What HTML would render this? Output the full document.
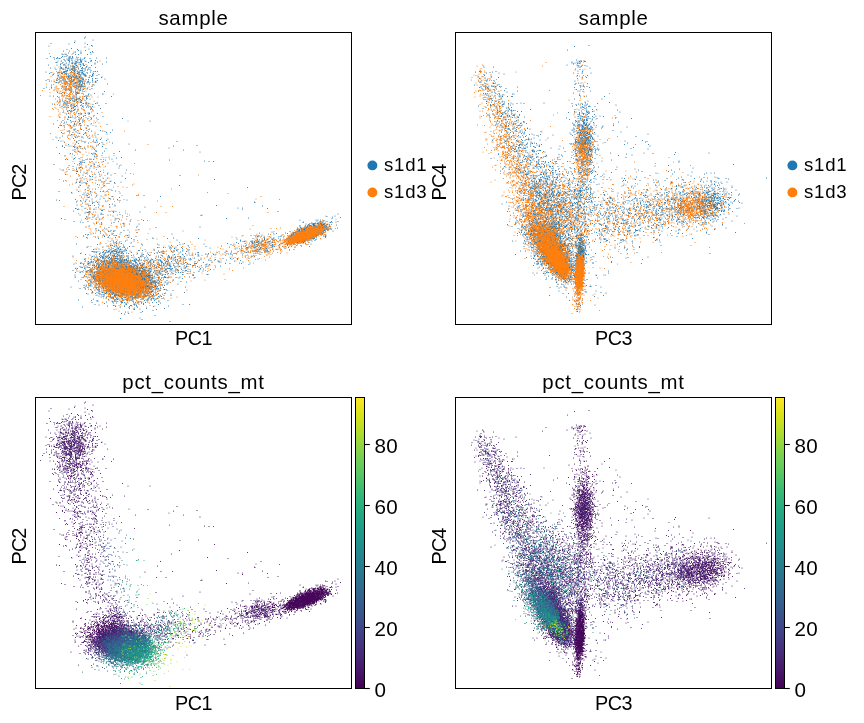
<!DOCTYPE html><html><head><meta charset="utf-8"><title>pca</title><style>
html,body{margin:0;padding:0;background:#fff}
body{width:864px;height:723px;position:relative;overflow:hidden;font-family:"Liberation Sans",sans-serif;color:#000}
svg{position:absolute;left:0;top:0}
#tx{position:absolute;left:0;top:0;width:864px;height:723px;will-change:transform}
.t{position:absolute;white-space:nowrap;line-height:1;font-size:20.4px}
.ttl{text-align:center;width:317px;letter-spacing:.75px}
.xl{text-align:center;width:317px;font-size:19.8px;letter-spacing:-.5px}
.yl{font-size:19.8px;letter-spacing:-.9px;transform-origin:0 0;transform:rotate(-90deg);text-align:center;width:293px}
.lg{font-size:18.6px;letter-spacing:.75px}
.tk{font-size:20.6px;letter-spacing:.35px}
</style></head><body>
<svg width="864" height="723" viewBox="0 0 864 723">
<defs><linearGradient id="vg" x1="0" y1="0" x2="0" y2="1"><stop offset="0.000" stop-color="#fde725"/><stop offset="0.062" stop-color="#d8e219"/><stop offset="0.125" stop-color="#addc30"/><stop offset="0.188" stop-color="#81d34d"/><stop offset="0.250" stop-color="#5ec962"/><stop offset="0.312" stop-color="#3fbc73"/><stop offset="0.375" stop-color="#28ae80"/><stop offset="0.438" stop-color="#1fa088"/><stop offset="0.500" stop-color="#21918c"/><stop offset="0.562" stop-color="#26828e"/><stop offset="0.625" stop-color="#2c728e"/><stop offset="0.688" stop-color="#33638d"/><stop offset="0.750" stop-color="#3b528b"/><stop offset="0.812" stop-color="#424086"/><stop offset="0.875" stop-color="#472d7b"/><stop offset="0.938" stop-color="#48186a"/><stop offset="1.000" stop-color="#440154"/></linearGradient></defs>
<g transform="scale(.5)" fill="none" stroke-width="2.3" stroke-linecap="round">
<path stroke="#1f77b4" d="M171 74zm-2 2zm-67 11zm47-2zm1-3zm20 4zm16-6zm-1 12zm-2-1zm0 0zm-8-2zm-5 5zm-32-6zm-40 4zm29 10zm7-3zm5 3zm4-5zm12 2zm2 2zm5 1zm9-1zm7-3zm7 5zm1 2zm-4 3zm-1-3zm-6 4zm-13-2zm0-2zm-5 4zm-6-5zm0 5zm-3-5zm-2 3zm-9-1zm-5 3zm-2-1zm-4 1zm-2-1zm-30 9zm7-4zm7 2zm1 3zm4-1zm2-2zm1 2zm3 0zm1 0zm3-2zm2-2zm3 6zm2-6zm3-1zm1 6zm4-1zm0-3zm0 5zm0-3zm1 0zm1-3zm1 1zm1 3zm2 1zm1-5zm0 2zm1 1zm6 2zm1-4zm2 4zm1-3zm2 4zm3-3zm0 3zm5-1zm3-1zm1-2zm10 2zm13-1zm20 0zm0 8zm-18 0zm-4-3zm-1 5zm-7-5zm0 1zm-2 0zm-4 3zm-5-2zm-2-1zm-4 5zm-2-7zm-1 2zm0 2zm0-2zm-1 3zm0-2zm-1-2zm0 1zm-1 4zm-2-1zm0 0zm-2-3zm-3 1zm0 3zm-1-2zm-1 3zm0-3zm-1-2zm0 4zm-4 0zm-1 1zm0-3zm-1-3zm-1 5zm-4-2zm0-1zm0-3zm-1 1zm-1 0zm-1-1zm-3 6zm-2-4zm-2-2zm-3 5zm-1 1zm-2-4zm-1 5zm-6-5zm-2 3zm-2 0zm-15 5zm17 0zm7-1zm0 3zm2 3zm4-5zm1-1zm2 2zm0-3zm1 7zm1-2zm1 2zm4-5zm1-2zm3 4zm1 0zm3 1zm1 1zm1-2zm1 3zm0-1zm0 1zm1 0zm0-2zm0-5zm2 2zm1 4zm0-6zm1 7zm0-4zm1 0zm2 3zm4-5zm1 0zm0 4zm1-3zm3 5zm1-6zm1 2zm0-3zm2 3zm4 3zm0-1zm1-1zm6 3zm3-4zm7-3zm1 7zm14-7zm-10 15zm-4 0zm-3 0zm-6-2zm-2-3zm-3-2zm-1 3zm-1 1zm-4 0zm0-4zm-1 4zm-2-3zm0 6zm-3-5zm0 3zm-1-5zm0 5zm-1 0zm0-4zm-2 4zm-2 1zm-2-5zm0 1zm-2 5zm0-1zm-3-3zm0 3zm-2-4zm0 3zm0-4zm0 1zm-1 5zm0-1zm0-4zm-1-1zm0 4zm-1 0zm0-1zm-1-3zm-1 3zm0-1zm-1-2zm-1 6zm0-4zm0 4zm-2-3zm-1-4zm-1 4zm-2-4zm-1 1zm-1 3zm0 1zm0 0zm-1 2zm0-7zm-1 6zm-1-1zm-1 2zm0-5zm-2 5zm-1-5zm0 5zm-2-4zm-2-2zm-2 0zm-2 1zm-8 1zm-2-3zm-9 0zm-9 8zm7 3zm3-2zm3 5zm2-1zm8-3zm0 0zm1 5zm0-1zm0-5zm1 6zm1-5zm0-2zm2 0zm3 3zm0-3zm0 3zm1 0zm1 0zm1-2zm2 0zm1 1zm1-2zm1 3zm2 2zm0-3zm1 1zm3 1zm3-2zm1-1zm1 5zm0-1zm3 2zm0 0zm0-6zm2 1zm2 4zm0-3zm1 3zm0-4zm0-1zm3 6zm1-4zm1 0zm0-1zm2-2zm0 4zm1 1zm0-2zm0 1zm0-3zm1 3zm0 0zm0-3zm2 5zm1-1zm0-5zm1 2zm2-2zm0 2zm1 0zm0 2zm1-1zm1 2zm0 1zm0 0zm2-1zm0 2zm0-3zm1 3zm1 0zm2-6zm1 1zm5 5zm1-7zm4 7zm0-2zm1-3zm1 4zm0-3zm7 4zm4-2zm12 9zm-6-4zm-1 1zm-9 2zm0 0zm-3 0zm-6 1zm0-1zm-1-4zm-1 0zm-4 1zm-1 1zm-1 4zm-5-6zm0 6zm-1-7zm-4 7zm0-1zm-1-2zm-1 2zm-1 1zm0-4zm-1 1zm-1-4zm-1 4zm-1-3zm-1 1zm0 1zm-1-3zm-1 4zm-1 1zm-1 0zm-1 1zm0-5zm0 4zm0-3zm-1-1zm-1 2zm0 3zm0-6zm-2 4zm0-2zm-1 0zm0 2zm0 3zm-1-4zm-1-2zm0 6zm-1-5zm-1-2zm0 0zm-2 7zm0-5zm0 1zm0 2zm-1-4zm-1 4zm-1-3zm0 2zm-2-3zm-1 2zm0-2zm-1 5zm-1-1zm-2-3zm0-2zm0 1zm-4 1zm-1-2zm-1 6zm-1-2zm-3-2zm-1-2zm-1 4zm-2 0zm-1-4zm-2 2zm-1 3zm-19 2zm-4 2zm20 4zm1-4zm1 4zm0-4zm3 5zm1-1zm1-3zm3-1zm0 3zm1 0zm2-4zm3 3zm1-3zm1 5zm1-5zm2 3zm1 2zm4-3zm1 0zm1 0zm0 4zm0-3zm1-2zm2 4zm0-2zm1-3zm0 2zm0 1zm1 0zm2-1zm0-1zm1 1zm1 4zm1 0zm0 1zm1-2zm1 1zm0-1zm1 0zm1 1zm1-2zm1-4zm1 0zm0 4zm1-1zm0-1zm0-2zm0 4zm1-4zm0 7zm0-3zm1-2zm1 4zm0-5zm0 3zm0-1zm2-1zm1-2zm1 5zm0 1zm0-3zm1-1zm3 4zm1-3zm4 3zm1-2zm2-2zm0 2zm3 1zm5-4zm0 3zm6-1zm0 1zm1 1zm0-3zm3-1zm20 7zm-27 2zm-2-1zm-2 4zm-5-5zm-9 5zm0-1zm-1-4zm-1 4zm-2 1zm-1-3zm-1 3zm0-4zm-1 2zm0-2zm-1 6zm0-2zm-2 0zm0-4zm0 4zm-1-5zm0 2zm-1 5zm0-2zm-1 2zm0-3zm0 1zm-1-4zm-1 3zm0 0zm-1 0zm-1-2zm-1 5zm0-3zm0 2zm-2 1zm-2-3zm0-3zm-1 4zm-3-4zm-3 4zm-5-5zm0 0zm-3 5zm-2-4zm-1 5zm0-6zm-6 5zm-21-3zm0 4zm-10 0zm-5 3zm15-1zm7 2zm6 0zm13 0zm2 2zm1-2zm0 3zm4-1zm1-2zm1-1zm1 4zm3-3zm0 3zm0-4zm1-1zm1 6zm7 1zm2-7zm1 2zm2-2zm2 3zm1 1zm2 1zm0-4zm4 5zm1-3zm1-1zm7 0zm1-2zm5 3zm4-2zm25 6zm-3 5zm-1 0zm-16-1zm-7 3zm-5 0zm0-1zm-3 2zm-7-3zm-3-1zm-7-1zm-1 1zm-1-3zm0 2zm0-2zm-1 3zm-1 2zm0-4zm-6-1zm-4 0zm-2 0zm-9 0zm-2 6zm-1-3zm-4-2zm-2 2zm-3 0zm-5-2zm-15 7zm7 0zm8 1zm4 5zm13-1zm5 1zm0 0zm1 0zm3-1zm2 1zm1-1zm2-1zm0-2zm0-2zm3 6zm1-6zm2 3zm0 4zm1-7zm0 6zm1 0zm0-1zm0-1zm0 3zm3-2zm1 2zm1-2zm1-2zm1 4zm4-1zm1-4zm3-1zm2-1zm2 3zm0 2zm1-5zm0 1zm6 5zm43-5zm-11 14zm-17-1zm-1 0zm-3 1zm-13 0zm-2-1zm-3 0zm0 0zm-1-2zm-2-3zm-3 6zm-1 0zm-3-2zm0-4zm-1-1zm0 3zm-1 2zm-3-1zm0-4zm-3 3zm-1 0zm-1-2zm0 0zm-3 5zm0-5zm-1 2zm-1-1zm0 0zm-1 0zm-2-2zm-4 1zm-2-1zm-1 7zm-3-1zm0-3zm-1 1zm-2 3zm-2-5zm0 3zm-2 2zm0-3zm-3-4zm-5 4zm-1-2zm-4 0zm-10 6zm15 0zm4 5zm3-3zm1 5zm2-2zm1-5zm1 0zm1 2zm1 5zm3 0zm4-5zm1 3zm1-4zm1 2zm2-3zm0 6zm1-6zm0 0zm1 6zm0 0zm1-1zm0-1zm2 1zm2-2zm2 1zm6-1zm4 2zm2 1zm6 0zm0-6zm3 3zm1 3zm3-1zm5 0zm1-4zm12 2zm3 6zm-15 5zm-3-5zm-1-1zm-1 3zm-13 2zm-5-5zm-7 3zm-1 3zm-4-4zm-2 2zm0-1zm-2-3zm0 5zm-3 1zm-1-5zm0-1zm-1 4zm-1 3zm-2-2zm-3 0zm-1 2zm-2-5zm-6 4zm-1 3zm7 3zm4-1zm13 2zm3-5zm4 3zm1 3zm0-3zm4 2zm1-2zm7-1zm1 5zm0-4zm5-1zm1 0zm1 3zm1-2zm0-1zm16 1zm50 10zm-39-4zm-10 6zm-3-3zm-6-4zm-4 5zm-1 2zm0-4zm0 4zm-6-2zm-9-4zm-4 2zm0 1zm-3 2zm-2 0zm0-3zm-3-2zm-5 3zm-5-4zm-3 3zm-2 0zm-3-2zm0 2zm-1 4zm-1-1zm-15-3zm3 9zm3-3zm2 6zm1-3zm4 0zm8-3zm1 3zm1 0zm3-1zm3 4zm2-4zm5 1zm3-3zm0 2zm0 4zm2 0zm4-7zm0 4zm2-2zm133 0zm-86 7zm-22 3zm-10-4zm-6 4zm-15-1zm0 3zm-2-6zm-6 2zm-4-1zm-1 3zm-4 3zm-3-4zm-3 0zm-9 3zm-1-3zm-5 0zm-3 0zm-3 4zm-10-7zm29 15zm2-2zm5-5zm5 2zm0 2zm1 0zm2-2zm4 3zm6-3zm2 1zm10-2zm1 4zm5-3zm4 4zm18-1zm9 2zm15-3zm-4 5zm-7 3zm-1-3zm-17 4zm-6 1zm-17 1zm-2-6zm0 1zm-4 3zm-8-2zm-3-1zm0 0zm-4-2zm-6 1zm-2 4zm-1 0zm-17-2zm-3-2zm-11 9zm13-2zm10 2zm5 4zm7-1zm3-4zm1 2zm3-1zm1 0zm3-1zm5 1zm2 0zm10 0zm3 3zm2-1zm14 2zm7 1zm2-3zm13 2zm138 5zm-129 3zm-12-5zm-9 4zm-5 2zm-4-3zm-2-3zm-1 3zm-2 1zm-3-5zm-1 3zm-9 3zm-6-2zm-2 0zm-3-1zm-8-2zm-1 6zm-4-4zm0 2zm-4-4zm-20 4zm-7-3zm-5-1zm8 12zm4 2zm8-6zm3 3zm7 1zm2 2zm0 0zm0-3zm2-4zm4 7zm4-3zm1 2zm1-1zm0 0zm23-1zm9 0zm4-3zm8 4zm1-5zm52 0zm89 4zm47-1zm-27 9zm-29-4zm-67 4zm-32 3zm-27-6zm-3 5zm-16 0zm-1 1zm-3-4zm-2-3zm-16 2zm-2-2zm-7 1zm0 0zm-4 6zm-1 0zm-3-6zm-4 2zm0 3zm-4-2zm-27 7zm22 0zm4 1zm15-3zm23 2zm2 1zm3 0zm0-2zm0 0zm3 1zm1 2zm13-3zm23 1zm172-3zm-157 11zm-10 1zm-9 2zm-6-4zm-16 5zm-7-7zm-2 0zm-3 2zm-1-2zm-2 7zm-5 0zm0-1zm-3 0zm-4 0zm-3 1zm-14-2zm-9 0zm-2 1zm-12 1zm-4 0zm-1-7zm29 15zm1-4zm1 1zm1 1zm3-5zm1 5zm2-4zm1 4zm10-1zm5-1zm8 1zm12 0zm3-1zm4-3zm5 6zm123-6zm70 2zm9 1zm9 0zm-185 7zm-3 2zm-5-4zm-35 5zm-3 1zm0-3zm-7-3zm-1 1zm0 3zm-6 1zm-10-1zm-10-3zm-1 6zm-2-5zm-13 3zm-8-2zm-2 4zm-28-6zm16 11zm3 0zm11-1zm8 2zm7-5zm0 3zm0 4zm2-1zm0 1zm4-7zm3 4zm3-4zm15 0zm8 0zm5 3zm8 4zm37-7zm15 4zm107 11zm-130-4zm-8 3zm-6-4zm-1 2zm-16 0zm-2-4zm-7 5zm-16-4zm-8 5zm-5-6zm-8 3zm-22 2zm0 0zm23 10zm4-7zm4 4zm6 2zm12 0zm0-5zm1 0zm4 0zm0 6zm15-6zm15 3zm29-4zm7 5zm178 2zm-187 5zm-12 3zm-1-2zm-7-3zm-2 1zm-2 4zm-4 0zm-2-7zm-5 6zm-6-6zm-1 0zm-8 1zm-17 2zm-1 4zm0 0zm-1-1zm-2 0zm-3-1zm-4 1zm-2-6zm-2 5zm0-2zm-1 2zm-6 0zm-26-3zm31 12zm2-4zm1 1zm15 3zm2-3zm17-2zm4 1zm5 5zm3-3zm2-1zm150 0zm136 4zm-264 7zm-7-1zm-6-2zm-3 3zm-8 0zm-1 1zm-5 0zm-10-5zm-10 5zm-5-7zm-5 3zm-14 4zm-3-3zm-36 3zm25 2zm1 1zm22 3zm2-3zm2 4zm3 0zm2 1zm3-2zm3-3zm2 4zm1-6zm0 0zm6 0zm2 3zm2 3zm16 0zm30-4zm36 5zm12 0zm33 2zm-82 2zm-4 4zm-8-1zm-2-5zm-1 0zm-3 5zm-2-1zm-11 0zm-6-5zm-2 6zm-7-6zm-9 6zm-5-4zm-2 1zm-14-1zm-12 5zm-38 1zm6 1zm34 3zm8-3zm4 5zm6-3zm1-3zm7 2zm6 5zm0-3zm3 1zm7 0zm0 0zm3-1zm13-2zm29-1zm14-1zm255 4zm1 1zm15 7zm-92-1zm-143 3zm-60-2zm0-2zm-5-2zm-5 6zm-1 0zm0-5zm-13 3zm0-1zm-9 3zm0-6zm-8 3zm-8 0zm-3 0zm-2-3zm-4 0zm0 0zm-8 5zm-10-3zm-7 12zm4-5zm1 0zm3 2zm2-1zm13-1zm8 6zm1-7zm1 7zm0-4zm0 4zm8-4zm0-1zm15 3zm2 0zm3-2zm12 4zm6 0zm2-1zm4 1zm244-7zm9 0zm50 1zm21 6zm120 5zm-272 2zm-2 1zm-122-7zm-40 5zm-13-4zm-11 5zm-10-1zm-4 0zm0-3zm-22-2zm-2 5zm-1-4zm-2 0zm-1 0zm-4 1zm-10 4zm-37 7zm7 2zm41-2zm2-4zm1 6zm2-5zm10 0zm3-2zm7 2zm3 4zm3 0zm4-3zm20-3zm6 5zm0 1zm4-1zm18-4zm199 4zm44-1zm157-3zm10 4zm0 0zm1-3zm5-2zm11 3zm-5 8zm-4 1zm-8 1zm-1-2zm-2 2zm-1 0zm-6-2zm-3 3zm-2 1zm-1-6zm-2 3zm0-2zm-2 3zm0 0zm-1 2zm-1 0zm0-4zm-1-3zm0 6zm-1-3zm0 4zm-2-2zm-1 2zm-1-7zm-1 6zm0 1zm-1-5zm-2 5zm0-7zm-1 6zm-2 1zm-2 0zm-3-1zm-1 0zm-3 1zm-13-3zm-1 1zm-6-5zm-313 1zm-26 1zm-13 5zm-2 0zm-9-4zm-7-3zm-2 5zm-5 1zm-20-1zm-7-1zm-3 3zm-17-4zm-10 2zm-5-1zm-13-1zm30 9zm25-3zm15 6zm25-1zm5-6zm0 4zm11-4zm14 6zm5-6zm34 7zm88-1zm200-3zm0 2zm1 2zm9-3zm0 3zm1-4zm1-3zm1 6zm0 1zm0 0zm1 0zm1-1zm0-2zm0 0zm1-2zm0 2zm0-2zm1-1zm0 3zm2 1zm0-2zm0 0zm0 3zm0 0zm0-6zm1 4zm0 3zm0 0zm0-4zm1 0zm2 1zm1 1zm0 2zm0-5zm1-2zm0 0zm0 7zm1-7zm0 6zm0 0zm1-2zm0-2zm0 1zm0-2zm1 6zm0-4zm0 1zm0-1zm0-3zm0 7zm0-5zm1-2zm0 6zm0 0zm0-3zm0 1zm0-1zm1-1zm1 3zm0-1zm0 3zm0 0zm1 0zm0 0zm0 0zm1-1zm0 0zm0-2zm1 1zm0 2zm1-5zm0 3zm0 0zm0 1zm0-4zm1 3zm0 0zm0 0zm1 2zm0-6zm0 3zm1 2zm0 0zm0-6zm0 2zm0-1zm0 0zm1 3zm0 3zm0 0zm0-2zm1 1zm0-2zm0 2zm1-5zm0-1zm0 5zm0 1zm0 0zm1 0zm0-4zm0-1zm0-1zm0 5zm0-4zm1 2zm0 3zm0-6zm0 0zm1 1zm0 2zm0-1zm0-2zm0 2zm1 5zm0-1zm0 1zm0-4zm0 3zm0-6zm1 2zm0 5zm0-6zm1 6zm0-7zm0 2zm0-1zm0 0zm0 1zm0-2zm0 5zm0-4zm1 4zm0 1zm0 0zm0-4zm1-1zm1 2zm0 4zm0-2zm0 2zm2-3zm0 2zm1-4zm0 3zm1-4zm1 0zm1-1zm0 7zm0-3zm0 3zm3-5zm0 3zm14-3zm2 6zm-9 6zm-3-4zm-2-2zm-1 1zm0 1zm-3 0zm-1 1zm0 2zm-1 0zm-1-5zm0 3zm-1-1zm-1 0zm0 0zm0-2zm-1 6zm-1-4zm-1 3zm0-1zm-1-3zm0 4zm0 0zm0-1zm-1 3zm0-7zm0 2zm-1 5zm0-3zm0 3zm-1-6zm0 6zm0-6zm-1 2zm0-1zm0 1zm-1 1zm0 0zm-1 1zm0-4zm0 4zm0-2zm0 4zm0-7zm0 6zm0-5zm0-1zm0 3zm0 0zm0-2zm-1 6zm0-2zm0-2zm0 2zm0 0zm0 0zm-1 0zm0 0zm0 1zm-1-4zm0 0zm0 1zm0 0zm0-3zm0 1zm-1 0zm0 4zm0-3zm0-1zm0-1zm0 1zm-1 5zm0-2zm0-3zm0 1zm0 3zm0-1zm0-1zm0 4zm0-3zm-1 1zm0-5zm0 0zm0 3zm0-3zm-1 3zm0 4zm0 0zm0-5zm0 1zm0 3zm0 1zm0-2zm0 0zm0-3zm-1 1zm0-3zm0 3zm0 3zm-1 0zm0-4zm0 1zm0-1zm0 5zm0-4zm-1 2zm0-1zm0 0zm0-3zm0 5zm0-3zm0 2zm0 0zm-1-5zm0 6zm0 1zm0 0zm0-1zm-1 1zm0-3zm0 2zm0-4zm0 5zm0 0zm0-6zm0 4zm0-4zm0 6zm0 0zm-1-6zm0 0zm0 2zm0 2zm0 0zm0-1zm0-4zm0 4zm0 0zm0-4zm0 7zm-1-5zm0 5zm0 0zm0-2zm0-3zm0-1zm0 0zm-1 1zm0-1zm0 4zm0 0zm0-1zm0-3zm0 2zm0 2zm0-5zm0 3zm0 3zm0-1zm-1-5zm0 5zm0 1zm0-2zm0 0zm0-1zm0 4zm0 0zm0-2zm-1-2zm0 0zm0-3zm0 4zm0-3zm0 3zm0-3zm0 5zm0-1zm0-2zm-1 2zm0 1zm0-2zm0 0zm0 0zm0 1zm0-2zm0 2zm0 2zm0-6zm0 1zm0 2zm0-4zm0 5zm0-2zm0 1zm0-2zm0 3zm-1 2zm0-4zm0-1zm0 3zm0-4zm0 5zm0 1zm0-5zm0 3zm0-1zm-1-3zm0 3zm0-2zm0-2zm0 6zm0 1zm0-2zm-1-1zm0 3zm0-5zm0-1zm0 3zm0 0zm0-4zm0 3zm0-3zm-1 6zm0-1zm0 1zm0 0zm0 0zm0-5zm0 4zm0-4zm0 5zm0 0zm0-4zm-1 4zm0-1zm0-4zm0 5zm0 1zm0-1zm0-2zm0 3zm0-6zm0 0zm-1 6zm0 0zm0-6zm0 1zm0-1zm0 1zm0-1zm0 1zm0 2zm0 2zm0 0zm-1-2zm0-3zm0 3zm0 1zm0-1zm0 3zm0-2zm0 1zm0 1zm-1-1zm0-3zm0 2zm0-2zm0 2zm0 1zm0-1zm0 2zm0-3zm0 2zm-1 1zm0-2zm0 1zm0-1zm0-1zm0 0zm-1-4zm0 7zm0-6zm0 4zm0-2zm0 2zm0 2zm0-2zm-1-3zm0 3zm0-3zm0 5zm0 0zm0-3zm-1-4zm0 3zm0-3zm0 7zm0-7zm0 3zm-1-3zm0 4zm0 0zm0-3zm0 6zm-1 0zm0-4zm0 0zm0-2zm0 4zm0-2zm-1 3zm0-1zm0-4zm0 4zm0 1zm0-3zm-1 2zm0 0zm0 0zm0-5zm0 0zm0 5zm-1 1zm0-1zm0 2zm0-4zm0 2zm-1-1zm0 2zm0-1zm0-5zm0 6zm0-4zm-1 3zm0 0zm0-2zm0 4zm0-2zm0-1zm-1 2zm-1 0zm0-1zm0-5zm0 6zm0-4zm0 5zm0-3zm0-2zm0 5zm-1 0zm0-1zm0-6zm0 6zm-2 1zm0-3zm0-2zm-1 1zm0 0zm0 4zm0-2zm0 0zm-1 2zm0-1zm0-1zm-1 1zm0 0zm-1-2zm0-2zm-1-2zm0 7zm-1 0zm0-4zm-14 4zm-302-4zm-6 1zm-16 0zm-8 1zm-18 0zm-2 2zm-1-1zm-5-1zm0 0zm-2 2zm-3 0zm-5-5zm-3-2zm-1 6zm0 0zm-7 1zm-3-2zm-1-1zm-5-3zm-21 12zm4 1zm2-1zm5-1zm19-2zm5 5zm8-1zm5 1zm5-3zm1 0zm3 3zm4 0zm1 0zm7-3zm2-3zm10 6zm3 0zm3-1zm86-2zm158 3zm12 0zm5-5zm5 4zm13-2zm7-4zm4 4zm5-1zm11 3zm7-4zm4 1zm5 4zm3-1zm0-2zm0 3zm1-2zm0 0zm1 2zm1-7zm0 5zm0-2zm0-1zm1 2zm0-1zm0 3zm1-1zm0-4zm0 5zm1 0zm0 1zm1-6zm0 6zm1-3zm0 1zm0 0zm0-4zm0-1zm0 5zm0 1zm0 1zm1-6zm0-1zm0 7zm0-3zm1 0zm0-1zm0 0zm0-1zm1 3zm0-2zm0 3zm0-4zm1 4zm0-1zm1 1zm0 1zm0-5zm0 0zm1 4zm0 1zm0-3zm1 2zm0-3zm0 3zm0-1zm0-2zm0-3zm1 1zm0 1zm0 1zm0-3zm0 5zm0 2zm0-6zm1-1zm0 5zm0 0zm0 0zm0-5zm0 6zm0-4zm0 4zm0-6zm0 1zm1 4zm0-2zm0-2zm0 6zm0-5zm0 3zm0 0zm0-2zm0 0zm1 3zm0-1zm0-1zm0 2zm0 1zm1-4zm0 0zm0 4zm0-3zm0 2zm0-2zm0-2zm0-2zm1 4zm0-2zm0-1zm0 3zm0-4zm0 4zm0 3zm0-7zm1 0zm0 2zm0 3zm0 1zm0 1zm0-5zm0 4zm0 1zm0-1zm0 1zm1-3zm0 0zm0 1zm0-3zm0 4zm0-2zm0-3zm0-1zm0 6zm0-3zm0-1zm0 2zm1-4zm0 4zm0 2zm0 1zm0-1zm0 0zm0-4zm1 3zm0-4zm0 1zm0 0zm0 0zm0-2zm1 3zm0 1zm0 2zm0-4zm0 5zm0-4zm0 4zm0-4zm0 4zm0 0zm1-7zm0 0zm0 6zm0 0zm0-4zm0-1zm0 2zm0-1zm0 4zm0-1zm0-3zm0 0zm0 2zm1 0zm0 2zm0-1zm0-1zm0-1zm0-1zm0 2zm0-4zm0 6zm0-5zm0 1zm0 5zm0-6zm1 0zm0-1zm0 6zm0-2zm0-2zm0 5zm0-2zm0 0zm0-4zm0 6zm0-7zm0 5zm0 2zm1-4zm0-1zm0-1zm0 2zm0 1zm0 1zm0-1zm0 2zm0-4zm0 0zm0 2zm1 1zm0-2zm0-2zm0 1zm0 3zm0 1zm0-1zm0-3zm0-1zm0 2zm1 1zm0-3zm0 2zm0 2zm0-4zm0 4zm0 0zm0-1zm0 3zm0-7zm0 5zm0-3zm0 3zm0-1zm0-2zm0 4zm1-1zm0 2zm0-5zm0 4zm0-4zm0 4zm0 0zm0 1zm0-3zm0 0zm0 1zm0-1zm0-3zm0 6zm0-2zm0 1zm0-5zm1 3zm0 1zm0-2zm0-3zm0 3zm0 1zm0-2zm0 4zm0 0zm0 0zm0 0zm1-2zm0 0zm0-4zm0 7zm0-5zm0-2zm0 5zm0-5zm0 7zm0-2zm0-4zm0 3zm0 2zm0-4zm1-2zm0 6zm0-4zm0 0zm0-1zm0-1zm1 1zm0 4zm0-5zm0 5zm0 1zm0-2zm0 2zm0-4zm0 2zm0 1zm0 1zm0 1zm0-2zm0-2zm0-2zm1 2zm0-3zm0 4zm0 0zm0-3zm0 5zm0-3zm0 3zm0-4zm0 1zm0-2zm0 2zm0 2zm1-4zm0 2zm0 3zm0-2zm0-3zm0 2zm0-2zm0 4zm0-5zm0 5zm1-2zm0 0zm0-2zm0 2zm0 1zm0-3zm0 2zm0 3zm0-5zm0 4zm0-2zm1 1zm0-3zm0-1zm0 3zm0 3zm0-6zm0 2zm0-2zm0 7zm0-6zm0-1zm0 2zm0-2zm0 2zm1-1zm0 2zm0 2zm0 2zm0-3zm0-1zm0-2zm0 3zm0-3zm0 4zm1-1zm0-1zm0-3zm0 0zm0 0zm0 1zm0 2zm1 1zm0-3zm0 6zm0-3zm0-4zm0 1zm0 0zm1 2zm0 0zm0 4zm0-6zm0-1zm0 3zm0 3zm0-2zm1-2zm1 2zm0-3zm0 3zm0-3zm0-1zm0 0zm1 7zm0-4zm0-2zm0 2zm0 2zm0-2zm0-2zm0 3zm1 3zm0-2zm0-1zm0-1zm0 3zm1 1zm0-7zm0 6zm0-6zm0 3zm1-3zm0 0zm0 4zm0-1zm0 0zm0-3zm0 2zm0 2zm1 3zm0-6zm0 4zm0 0zm1-4zm0 0zm0-1zm0 5zm0-3zm1 1zm0-2zm0 5zm0-2zm2-2zm0-2zm0 1zm1 2zm0 2zm0-5zm0 0zm1 4zm1-3zm0 2zm1-2zm0 5zm0-4zm0 0zm1 0zm0 3zm1-2zm1 0zm0-2zm0 3zm0-3zm1-1zm3 0zm1 6zm1 2zm-1 1zm0 2zm-3-3zm-1 0zm-14 1zm0 5zm-1-5zm-2-1zm0 0zm-1 5zm0-3zm-1-2zm-1 4zm0 2zm-1-5zm0 0zm0 0zm0 1zm0-2zm-1 0zm0 3zm0-2zm0 4zm0-4zm-1 2zm0 3zm0-1zm0 1zm-1-5zm0 4zm-1-5zm0 2zm0-2zm0 1zm0-1zm0 1zm0 1zm-1-2zm0 6zm0-3zm0 2zm-1-2zm0-3zm0 4zm0-2zm0 4zm0-6zm0 4zm0 1zm-1-1zm0-2zm-1 1zm0 0zm-1 1zm0-3zm0 4zm-1 2zm0-7zm0 5zm0 0zm0-2zm0 0zm-1-3zm0 2zm0 2zm0 1zm0-2zm0-2zm0 1zm-1 1zm0 2zm0-3zm0 2zm0-3zm-1 2zm0 0zm0-3zm0 5zm0-4zm-1 0zm0-1zm0 3zm0-1zm0 4zm0-4zm0 0zm0 3zm0-5zm0 7zm-1-6zm0 1zm0 0zm0-1zm0 1zm0-2zm-1 0zm0 7zm0-7zm0 1zm0 0zm0 0zm0 0zm0 5zm0-3zm-1 0zm0 3zm0-5zm0 3zm0-1zm0-1zm0 4zm0-3zm0 4zm0-7zm-1 2zm0-2zm0 4zm0 0zm0 1zm0 0zm0-4zm-1 6zm0-5zm0 5zm0-1zm0-6zm0 0zm0 2zm0 1zm0-2zm-1 3zm0-1zm0-1zm0-1zm0 2zm0 4zm0-3zm0-1zm0 3zm-1-5zm0 4zm0-5zm0 2zm0-2zm0 5zm0 0zm0 2zm-1-7zm0 1zm-1 0zm0 2zm0 1zm0-2zm0-2zm0 6zm0-4zm0-2zm0 6zm0-5zm-1 0zm0 5zm0-6zm0 4zm0 0zm0-3zm-1 2zm0 4zm0-2zm0-2zm0 0zm0-3zm0 1zm0 4zm0-2zm0 1zm0 3zm-1-1zm0-4zm0-1zm0 3zm0-3zm0-1zm0 3zm0-3zm0 2zm-1 2zm0 0zm0 0zm-1 0zm0 3zm0-5zm0 1zm0-1zm-1 0zm0 0zm0 3zm0 0zm0 2zm-1-7zm0 2zm0 2zm0-1zm0 1zm0-4zm0 4zm0-4zm0 2zm-1 3zm0-4zm0 2zm0 2zm0-3zm0 1zm0 4zm0 0zm-1 0zm0-6zm0-1zm0 6zm-1-1zm0 0zm0 1zm-1-1zm0-1zm0 3zm0-7zm0 3zm-1 1zm0-2zm0-1zm0 5zm0-1zm0 1zm-1 0zm0-4zm0 1zm0 4zm0-4zm0-3zm-1 2zm0 4zm0 1zm0-2zm0-5zm0 6zm0 0zm-1-1zm0-4zm0-1zm-1 3zm0 3zm0-2zm0 0zm-1 2zm0-3zm0-1zm-1 5zm0-2zm-1 2zm0 0zm0-5zm0 3zm-1-2zm0-1zm0-1zm-2 1zm0-1zm0 6zm-2-1zm-1-6zm-1 5zm-2 1zm-1-2zm-6 2zm-1-4zm-5-2zm0 1zm-1 5zm-3-5zm-1 3zm-9 0zm-2 1zm-1 2zm-2-1zm-7 1zm-1-1zm0 0zm-6 0zm0 1zm0-5zm0 3zm-1-2zm-11-3zm-2 1zm0 6zm-1-1zm-3-6zm-5 5zm-32 1zm-77-1zm-50-1zm-12 1zm-30-1zm-33-3zm-4 6zm-5-2zm-5-3zm-2 1zm-17-1zm-1 0zm-7 1zm-14-1zm-1 1zm-7-2zm0-1zm-12 5zm-6-3zm-16 2zm-2-1zm-6-3zm57 8zm3 2zm1 3zm5 1zm0 1zm0-4zm3 3zm3-2zm4 3zm8-5zm3-2zm8 6zm6-4zm86-2zm15 7zm86 0zm18-2zm4 2zm4-7zm0 2zm5 1zm3 0zm1-1zm9 4zm3-4zm1 1zm2-1zm0 3zm0 2zm2-1zm2-3zm0 2zm1 0zm3 0zm2 0zm0-5zm1 4zm1-2zm0 5zm1-3zm0-1zm2 3zm2-2zm2-2zm1-2zm1 3zm5-1zm0 3zm1 0zm3-1zm2 0zm2-1zm2-1zm1 4zm2-2zm1 1zm0-1zm2-4zm1 5zm1-1zm0-4zm1 5zm10-4zm5 6zm5-5zm2-2zm1 7zm0-7zm0 7zm3-4zm0 4zm1-3zm0-2zm0 3zm0-1zm0-3zm1 6zm0-7zm1 1zm0 1zm1 2zm0-4zm1 0zm0 2zm0 2zm1 3zm2-3zm0-1zm1 0zm1 0zm0-1zm2-2zm0 6zm2-4zm0-2zm2 2zm0 3zm0 0zm1-5zm1 6zm0-6zm0 6zm1-2zm0 1zm1-1zm0-1zm1 2zm0-3zm1 1zm0-2zm0 0zm1-1zm0 3zm0-1zm0 2zm1 3zm0-7zm1 0zm0 0zm1 1zm0 0zm1 2zm0-2zm0 4zm1-1zm0-2zm0 1zm0-1zm1-1zm1 0zm0 0zm0 2zm0 3zm1-4zm0 2zm0 2zm0-4zm1-1zm0 1zm1-1zm0 2zm0-2zm1 0zm1 6zm0-7zm2 0zm2 0zm1 2zm0-2zm2 5zm2-4zm4 1zm6-1zm-8 7zm-3 5zm-3-4zm-13 3zm-1-1zm-12-3zm0 1zm0 6zm-7-2zm0-5zm-6 7zm-2-4zm0 0zm0-2zm-1-1zm-9 5zm-3-5zm-3 7zm0-6zm-8-1zm-2 5zm-3-4zm0 4zm0-2zm-1 2zm0-4zm-1 6zm0-5zm-2 1zm-3-3zm0 0zm-3 4zm-5-2zm0 4zm-1 0zm-3-5zm0 3zm0-3zm-1 2zm-1-2zm-1 0zm-2 1zm-1 5zm-2-3zm-2-2zm-2 2zm-1-2zm0 3zm-1-4zm-1 4zm-1 1zm-1-4zm0 4zm-1-6zm0 7zm-1 0zm0-3zm-6 0zm0 3zm-4-3zm-3 3zm-2 0zm0-5zm-6 2zm-4 2zm-15-6zm-2 3zm-4-2zm-3 5zm-16-2zm-31 1zm-4-5zm-31 4zm-11-4zm-3 7zm-3-6zm-5 2zm-3 3zm-9-3zm-2 3zm-3-2zm-11 3zm-9-5zm0 5zm-3 0zm0-7zm-30 2zm-2-2zm-17 5zm-7 0zm-10 2zm-1-2zm-1-3zm-1 5zm-6-2zm-5 1zm-2-2zm0-1zm-1-1zm-3 2zm-1 1zm-3-2zm-3-3zm0 3zm-1 0zm-7 1zm-8 2zm-6-6zm-5 1zm-19 4zm-2 2zm-21-7zm31 15zm2 0zm1-4zm3-1zm4 5zm4-5zm9 5zm6-2zm1 2zm3-1zm1-5zm1 5zm1-2zm2-1zm1 3zm1-5zm1 6zm0-1zm2-1zm0 1zm1-1zm1 2zm0-3zm0 0zm2 2zm0-3zm1 4zm0-1zm0 1zm1-1zm0-4zm0 0zm1 5zm1-3zm2-4zm0 2zm1 5zm1-3zm1 0zm0 3zm0-4zm0 0zm1-1zm1 1zm2 3zm3 0zm2 0zm1-3zm0 3zm2-2zm1 1zm2-5zm5 6zm17-1zm2 0zm6 0zm23-1zm1 0zm8 2zm7 1zm3-1zm1 1zm11-7zm1 0zm3 7zm0-7zm5 7zm0-2zm1-5zm0 1zm4 3zm1 1zm2-2zm9 3zm0-5zm1 3zm7 3zm3-1zm2-3zm0 1zm42-4zm32 6zm2 1zm9-1zm7-4zm4-2zm9 5zm1-4zm4 6zm4-6zm4 5zm9 0zm4-6zm0 6zm1-6zm1 5zm1 2zm1-1zm2-4zm0 4zm1-3zm1 3zm1-2zm1-1zm0-1zm2-1zm1-1zm5 4zm2 2zm2-2zm2 0zm0-3zm0 3zm1-4zm1 4zm0 2zm2 1zm1-7zm9 6zm7-3zm16-2zm9 3zm9-1zm-50 7zm-4-2zm-3 0zm-7 1zm-4 4zm0-5zm-5 2zm-18-2zm-4 1zm-3-1zm-5 6zm-1-6zm-12 3zm-4 0zm-3 3zm-3-4zm0 3zm-5-1zm-7-3zm-18 3zm-2 2zm-3-1zm-10-2zm-1 2zm-4-1zm-15 2zm0-5zm-1 3zm-5 0zm-6 2zm-7-4zm-4 4zm-3-3zm-6 2zm-4-5zm-3 2zm-9 3zm-3 1zm-1-6zm-8 7zm0 0zm-9-4zm-2 0zm-2-3zm0 7zm-2-7zm-3 1zm-4 1zm-1-1zm-5 2zm-10 4zm-2-2zm-2-3zm-8 3zm-2 1zm-1-4zm-1 4zm-8-3zm-1 1zm-7 2zm-4 1zm0 0zm0-6zm-6 2zm-1 4zm-3-5zm-6 1zm-1 4zm0-3zm-1-4zm-1 1zm0 1zm-1 5zm0-7zm-1 3zm0 4zm-3-6zm0 5zm-1 0zm0 0zm0 1zm0-5zm-1 4zm0-5zm-2 4zm-1-5zm0 1zm-1 1zm0-1zm-1 3zm-2-1zm-1 3zm0 1zm-1-3zm-1 3zm0-5zm0 0zm-2 5zm-1-7zm0 2zm-2-2zm0 0zm-1 3zm0-1zm0 4zm-1-1zm-2-5zm-1 0zm0 7zm0-1zm-3-5zm0 0zm-3 0zm-1 2zm0-1zm-1 2zm-1 2zm-2-2zm-1-3zm-3 6zm-1-5zm0 0zm-2 3zm0-2zm-6-2zm-3-1zm-2 0zm-8 6zm-9-1zm-10-2zm-15 5zm23 6zm1 1zm12 0zm0-1zm1-4zm2-1zm2 6zm1-7zm2 2zm3-2zm0 0zm2 4zm0 3zm2-1zm0 1zm1 0zm1-6zm1 5zm1-3zm1-1zm2-1zm1 1zm0 2zm1 1zm0-4zm1 1zm0 1zm1 0zm2-3zm0 5zm0 0zm1-4zm0 3zm2-4zm0 3zm2-3zm1 1zm0 3zm0-1zm0-2zm0 2zm1 2zm2-3zm0 1zm1 4zm1-2zm2 1zm0-1zm0-2zm1 3zm0-6zm2 5zm0 2zm0-1zm1-5zm2 0zm0 3zm0 0zm1 1zm0 1zm1-4zm0 3zm0-4zm0 4zm0-3zm1 3zm0-3zm1-2zm0 5zm1-5zm1 0zm0 6zm0-5zm0-1zm0 0zm0 4zm1 2zm2-1zm0 0zm2-4zm0 6zm0-1zm0-3zm1 3zm0-1zm0-3zm1 0zm2 3zm0 2zm0-2zm0-2zm0 3zm0-5zm1 5zm1 1zm1-4zm2 4zm1 0zm0 0zm3-1zm0-6zm0 7zm3-3zm0-3zm0 1zm1 4zm7-3zm0 0zm4 3zm0-4zm4 3zm0 2zm1 0zm4-4zm2 4zm0-3zm2-3zm1 0zm0 1zm4-1zm3 3zm1-1zm3-3zm1 6zm3 0zm6 0zm2 1zm6-2zm1-3zm2 5zm3-7zm3 7zm1-4zm4-3zm6 6zm4 1zm1-5zm1 0zm1-2zm1 3zm0-1zm0 1zm3 3zm1-4zm0 2zm1 0zm4 0zm2-1zm1 4zm0-4zm4 4zm3-6zm3 2zm0-2zm3 3zm3 2zm0 1zm1-5zm1-1zm1 4zm2 2zm6-1zm3-1zm1 2zm7-3zm7-4zm6 4zm0 3zm13-7zm16 7zm15-2zm15 0zm3 1zm11 1zm0-2zm16-3zm7 3zm6-4zm5 0zm7 5zm-16 8zm-14-2zm-3 3zm-2-6zm-2 5zm-10-4zm-9 5zm-7-7zm-2 7zm-9-3zm0 0zm-4 0zm0-2zm-2 0zm-7-2zm-5 4zm-2-3zm-5-1zm-10 5zm-8-4zm-2-1zm-2 4zm-2 3zm-1 0zm-2-4zm0 4zm-1-1zm-9-6zm-5 7zm-4-2zm-3 2zm-1-3zm-5 3zm-1-6zm0 1zm-2 0zm-3 0zm0 5zm-2-1zm-1-2zm-3-3zm-4-1zm-3 3zm-3 3zm-3-5zm-1 5zm0-3zm-1 3zm-1-4zm-1 1zm-1 0zm-1 4zm0-2zm-2-4zm-2 6zm-2-3zm-1 1zm-1-3zm0 4zm0-2zm-2-3zm-4-1zm0 6zm-1-1zm0 1zm0-4zm0 0zm-6-1zm-3 4zm0-2zm-1-3zm-2 7zm-2-3zm0-4zm-1 1zm0 4zm-1-2zm-1-1zm-2 4zm0-1zm-1 1zm-1-4zm-2-1zm-3 1zm0 0zm-1 4zm-1 1zm-2 0zm-3-7zm-1 0zm-1 7zm-1-1zm-1 1zm-1-6zm0 0zm-2 0zm-2 6zm-1-2zm-1-4zm-1 1zm0 2zm0 2zm-1-4zm-1-2zm-1 1zm0 1zm0 1zm-2 4zm0 0zm0 0zm-1-6zm-1 0zm0 0zm-1 3zm-1 2zm0-2zm-1-4zm0 2zm-1 0zm0 4zm-1-1zm-1 2zm-1-6zm0 3zm-2 0zm0-2zm-1-2zm0 5zm-1 0zm0-1zm0 2zm0-5zm0 5zm0-2zm-1 0zm-1-4zm-1 4zm0 2zm0-6zm0 5zm0-5zm-1 0zm0 1zm-1 2zm0 0zm0 1zm-1 1zm0-1zm0 0zm-1-4zm0 2zm-1 0zm-1 5zm0-3zm0 1zm0-1zm-1-1zm0 3zm0-5zm-1 4zm0-4zm-1 1zm0 2zm0 0zm0 3zm-1-1zm0-6zm-1 5zm0 0zm0-4zm0 5zm-1 0zm0-4zm-1 2zm0 3zm-1-4zm0 4zm0-2zm-1-2zm0 0zm0 4zm0 0zm0 0zm-1 0zm0-2zm0 1zm0 0zm0-1zm0-5zm0 7zm-1-6zm0 6zm-1-6zm0 1zm-1-1zm0 4zm0-4zm0 1zm-1 0zm0 2zm0-1zm-1-2zm0 1zm0-2zm-1 3zm0 1zm-1 2zm-1-1zm0-4zm-1 5zm0-5zm0 2zm0 4zm-2-7zm0 2zm0 3zm0-2zm0-1zm0 1zm-1 3zm0-4zm-1 2zm-1 2zm0 1zm0-4zm0 1zm-1-2zm0-2zm0 1zm0 3zm-1 2zm-1 0zm0 0zm0 1zm-1-2zm0-2zm-1-2zm0 5zm-1-5zm0 6zm0-2zm0-3zm0 1zm-1-1zm0-2zm-2 7zm-1-5zm0-2zm0 4zm-1 0zm0-3zm-1 6zm0-2zm0-2zm-1 4zm0 0zm-1-4zm0 3zm0-6zm-1 3zm-1 1zm-1 1zm0-4zm0 0zm-2 1zm0 0zm0 5zm-3-6zm0 4zm-1-5zm0 1zm0 1zm-1 5zm-1-6zm-1 5zm-1-3zm-1-1zm-1 3zm0-3zm-2-2zm-2 4zm-3 1zm0 0zm-1-1zm0-2zm-2 2zm0 0zm-3 3zm-1-4zm0 3zm-1 1zm-6-4zm-2 4zm-4 0zm-2-2zm-1 2zm-9-1zm-4 2zm12 5zm2 2zm0 0zm3 0zm2-6zm1 3zm2 3zm4-1zm1 0zm1-5zm3 6zm1-5zm5 1zm0 4zm0-4zm1-3zm0 0zm0 3zm3 4zm0-4zm0-1zm1 4zm2-1zm1-5zm0 0zm0 3zm2 4zm1-7zm0 2zm0 0zm1 2zm0 3zm0 0zm0-1zm0 1zm0-2zm0-2zm1-3zm1 7zm0-4zm1-2zm0 6zm2-2zm0 0zm0 2zm1-5zm1-1zm0 5zm0-4zm0 3zm1-2zm1-2zm1 4zm0 0zm0 1zm0-2zm1 3zm0 0zm0-6zm2 3zm0 2zm0-2zm0 3zm1-6zm0-1zm0 6zm0-1zm1-2zm1-2zm0 6zm0-3zm2 3zm0-1zm1 1zm0-1zm1-2zm0-1zm0 2zm0 2zm0-3zm1 1zm0-5zm0 5zm0 2zm0-5zm1 4zm0 0zm0 1zm0 0zm0 0zm1-7zm0 4zm1-2zm1 0zm1 1zm1-1zm0 2zm0 3zm0-3zm1-4zm0 4zm0-4zm1 3zm0 1zm0 1zm0 2zm0-4zm2 2zm0-2zm0 4zm0-1zm0-2zm0 1zm0-2zm1 1zm0 0zm0 0zm0 1zm0 1zm1-5zm0 6zm0-7zm0 3zm1 3zm0-2zm0 2zm0-3zm0 2zm1-1zm0-1zm0 2zm0-5zm0 0zm1 7zm0-3zm1-1zm0-1zm1 2zm0 0zm0 1zm0-3zm0 3zm0-5zm1 5zm0 1zm1-3zm1-3zm0 4zm0 2zm0-4zm0 1zm0-3zm1 1zm0 0zm0 4zm0 2zm0-3zm1 0zm0-1zm0 3zm0-1zm0-2zm1 0zm0-1zm1 4zm0-1zm0-3zm0-1zm0 5zm1-4zm0 5zm0-2zm0-4zm0 0zm1 6zm0-5zm0 1zm0 0zm1 0zm0 1zm0 1zm0-1zm0-1zm0-2zm0 3zm0-3zm0 5zm0 1zm1 0zm0-2zm1-5zm0 3zm0 0zm0 4zm0-1zm1-4zm0 0zm0-1zm0 1zm0 3zm1-3zm0-2zm0 2zm0-1zm0 6zm1-1zm0 0zm0-6zm0 2zm1 0zm0 3zm0 1zm0-1zm0 1zm0-1zm1 2zm0-2zm0 2zm0 0zm0-1zm0-1zm0-2zm1 1zm0-2zm0 2zm1 0zm0 1zm0-1zm0 1zm0 1zm0-6zm0 4zm1 3zm0 0zm0-7zm0 5zm0 0zm0 0zm1 2zm0-7zm0 1zm1 5zm0 1zm0-5zm1-1zm0 6zm0-5zm0 3zm0-3zm1 5zm0-2zm1 0zm0 2zm0 0zm1-2zm0-2zm1 4zm0-2zm1-1zm0 0zm0 0zm0 0zm0-1zm0 4zm0 0zm1-7zm0 0zm0 0zm0 6zm2-5zm0 5zm0-2zm1 3zm0-2zm1 2zm0 0zm0-4zm1-1zm0 3zm0-3zm0 3zm2-3zm1 4zm0-4zm0 1zm1 3zm0-2zm1 2zm1-5zm0 4zm0-1zm1 3zm1-5zm2 5zm1-7zm1 3zm1 4zm0 0zm1-4zm0 4zm0-3zm1-2zm0-1zm1 2zm0 1zm1-1zm0 1zm0-3zm1-1zm0 7zm3-2zm0 2zm2 0zm1-2zm1 2zm2-7zm4 4zm0-2zm1 2zm1-3zm6 4zm1-1zm0-2zm4 2zm0 3zm2-6zm1 4zm0-4zm1 6zm0 0zm1-5zm1-2zm0 3zm0 4zm2-4zm2-1zm1 2zm0 2zm3-3zm0-3zm2 0zm0 0zm3 5zm2-4zm0 1zm1-2zm3 3zm0-3zm1 3zm0-1zm1 3zm1-3zm1 3zm5-5zm0 3zm2 1zm3 1zm4-3zm1-2zm2 5zm1-1zm6-3zm6 5zm1-2zm1 1zm0-4zm4 0zm3 0zm4 2zm2 0zm3 0zm1 3zm4-1zm16 1zm1-5zm2-1zm0 5zm4-3zm1-1zm12 5zm10-2zm57-3zm-77 10zm-14-1zm-1 4zm0 0zm-5-5zm-1 2zm-2 3zm-17 0zm-5-4zm0 5zm-3-2zm-2 0zm0-5zm-1 6zm0-6zm-2 0zm-2 5zm-3-2zm-1-3zm-5 5zm-2-2zm-2-1zm-2 4zm0-4zm-3 4zm-3-5zm-1 3zm-2 0zm0-1zm-1-3zm-1 6zm0-6zm-1 1zm-1 0zm-2 0zm-1-1zm0 7zm0-7zm-2 3zm-1-2zm0 3zm-1-1zm-1 1zm-1-4zm0 6zm-1-6zm-2 6zm-2 0zm0-3zm0-2zm0 6zm-2-7zm-1 2zm-1 3zm-1 1zm-1 1zm-2-3zm-2-4zm-1 5zm0-5zm-3 4zm0-4zm-1 5zm0-5zm-6 6zm-1-5zm0 5zm-1 0zm-1 1zm0-5zm0-2zm-1 4zm-1-3zm0 3zm-1 2zm0-1zm-1-1zm-1 2zm-3-1zm0-4zm-1 4zm0 1zm-1-2zm0-1zm-1 1zm0 2zm-1 0zm0-5zm0 5zm0-3zm-1 4zm-1-2zm0-2zm-1-3zm0 5zm0-4zm0 6zm-1-2zm0 2zm0-6zm-1 6zm0-1zm0 1zm0-7zm-1 0zm-1 5zm0-4zm0 4zm0-4zm-1 2zm0 2zm0 1zm0-6zm-1 3zm0 4zm0-3zm0 1zm-1-4zm0 0zm0 6zm0 0zm0-1zm-1-1zm0 0zm0-1zm-2 1zm0-4zm-1 3zm0-2zm0-2zm0 7zm0-4zm0 0zm0-2zm0 1zm-1 0zm0-1zm0 5zm0 0zm0-4zm-1-2zm0 6zm0-2zm-1 1zm0 2zm0-4zm-1 1zm0 1zm0-2zm0 4zm0-6zm0 5zm0-2zm-1-2zm0 0zm0 0zm0 0zm0 5zm0-3zm0 2zm-1-1zm0 1zm0-4zm0-1zm0 4zm0-2zm-1 0zm0 3zm0-4zm0 5zm-1-3zm0-4zm0 3zm-1 2zm0-1zm0 2zm0-6zm0 2zm0 2zm-1 0zm0 0zm0-1zm0 1zm0-1zm0 3zm0-2zm0 0zm0-2zm-1 2zm0-4zm0 1zm0 5zm0-1zm0 1zm-1-3zm0 1zm0-1zm0 4zm0-1zm0 0zm0-3zm0 3zm-1-2zm0-1zm0 2zm0 2zm0-3zm-1 2zm0-1zm0 2zm0-4zm-1-2zm0 4zm0-1zm0 0zm-1 2zm0-1zm0 0zm0 1zm0-3zm0-2zm0 2zm0 2zm0-1zm-1 1zm0 2zm0-6zm0 1zm-1 5zm0 0zm0-2zm0-2zm0-1zm0-2zm0 2zm0 0zm-1 5zm0 0zm0 0zm0-3zm0-4zm-1 2zm0-1zm-1-1zm0 3zm0 0zm0 3zm0-5zm-1 0zm0 5zm0 0zm0 1zm0-1zm0-2zm0-4zm0 5zm0 1zm-1-2zm0 1zm0 0zm0-2zm0-1zm-1-1zm0 0zm-1 2zm0 3zm0-1zm0-5zm0 2zm-1-2zm0 1zm0 2zm0 0zm0 3zm-1-4zm0-1zm0 0zm0 3zm-1 0zm0 3zm0-3zm0-4zm0 6zm-1-2zm0 2zm0-2zm0-3zm0 3zm0 3zm0-1zm0-2zm0 2zm-1 0zm0 0zm0 1zm0-7zm0 5zm0 0zm0-1zm-1-2zm0 3zm0-2zm0-2zm0-1zm0 6zm-1-4zm0 2zm0 0zm0-2zm0 2zm0-3zm0 5zm-1-2zm0-1zm0 2zm0-5zm-1 0zm0 6zm0-2zm0 2zm0-2zm0 0zm-1 3zm0-1zm0 1zm-1-6zm0 2zm0 2zm0-5zm0 1zm0 6zm0-7zm0 2zm-1 5zm0-6zm0 1zm-1-2zm0 7zm0 0zm-1-6zm0 5zm0 1zm0-2zm0-3zm0-1zm0 4zm0-5zm0 1zm0 3zm0-2zm-1 0zm0 3zm0 2zm0-3zm0 1zm0 0zm0-3zm0-2zm0 2zm-1 4zm0 0zm0 0zm0-5zm0 5zm-1 1zm0-3zm0-1zm-1 3zm0-1zm0-2zm0-1zm0 4zm0-1zm0-5zm0 5zm-1-5zm0 3zm-1 4zm0-5zm0 5zm0-4zm0-2zm0 4zm0-5zm-1 3zm0-3zm0 4zm0 0zm0 0zm0 3zm-1-6zm0 5zm0 1zm0-5zm0-1zm-1 3zm0 2zm0 1zm0-2zm0-4zm0 5zm0-1zm0-4zm-1-1zm0 7zm-1-7zm0 4zm0 2zm0-3zm0 3zm-1-2zm0-2zm0 2zm0 2zm0-2zm-1 3zm0-5zm0 2zm0 1zm0-2zm0 2zm0-2zm-1 3zm0-5zm0 2zm0-3zm0 5zm0-3zm-1 1zm0 2zm0 0zm0 2zm-1-5zm0 0zm0 5zm0 0zm0-5zm0-1zm0 0zm0 5zm-1-4zm-1 4zm0-2zm-1-1zm0-3zm-1 5zm0-5zm0 5zm0-3zm-1 2zm0 1zm0 2zm0-1zm0 1zm0-2zm-1-5zm0 0zm0 7zm-1-5zm0 3zm0 1zm-1-5zm0 0zm0 4zm0-3zm0-2zm-1 5zm0-5zm0 0zm0 7zm-1-5zm-1 5zm0-3zm-1 2zm0 1zm-1-5zm0-1zm0 3zm0-4zm0 6zm0-1zm-1 2zm-1 0zm0 0zm0-1zm0 0zm0 1zm-1-7zm0 0zm-1 3zm0-2zm-1 1zm0 4zm-1-3zm0 4zm-1 0zm0-1zm-1-2zm-1 2zm-2-2zm0-2zm-1-2zm0 7zm-1 0zm-1-6zm-2 6zm-1-5zm-2 1zm-3-2zm0 0zm0 6zm0-4zm0 2zm-2 1zm0-2zm-1 2zm0-4zm-1 1zm-1 1zm-2 1zm-1 0zm-2 2zm-2-1zm-1-4zm-2-1zm-5 6zm-9-6zm-1 5zm-3-5zm-5 4zm4 9zm1-5zm9 0zm1-1zm5 0zm3 7zm2-3zm1-4zm3 0zm3 6zm0-2zm2-4zm1 4zm0 2zm1 0zm0-6zm1 6zm1-4zm1-2zm1 0zm2 7zm0-1zm0 1zm0-1zm0-4zm1 0zm0-1zm1 5zm0 0zm0-5zm3 1zm1 4zm0-2zm0-4zm1 3zm1-3zm0 2zm0-2zm1 3zm0-1zm0 1zm0-1zm0-2zm0 6zm1 1zm0-4zm0-3zm1 3zm0 4zm0-7zm1 1zm0 3zm1-3zm0 2zm1 0zm0 1zm0 1zm1-5zm0 4zm1-3zm0 6zm0-6zm0-1zm1 6zm0-2zm0 2zm0 0zm1-2zm0 1zm0-2zm0-3zm0 1zm1 0zm1 5zm1 1zm0-2zm0-1zm1-2zm0 3zm0-5zm0 4zm1-1zm0 2zm0-4zm1 6zm0-2zm0 1zm0-3zm0-1zm1 5zm0-4zm1 3zm0-2zm0 0zm0-3zm0-1zm0 6zm1-6zm0 3zm0 1zm0 0zm0-3zm1 1zm0 2zm0-1zm0 2zm0 0zm0 1zm0 1zm1-4zm0-3zm0 0zm0 7zm0 0zm0-6zm0 5zm0-4zm0 4zm0-1zm0 0zm1-2zm0 1zm0 0zm0 0zm0 2zm0-5zm1 3zm0 1zm0-5zm0 1zm0 1zm1 0zm0 1zm0 1zm0 3zm0-3zm0-2zm0 0zm0 1zm0 1zm0-3zm0 6zm0-3zm0-4zm1 7zm0-2zm0-1zm0 3zm0-5zm0 2zm1 3zm0 0zm0 0zm0-6zm1-1zm0 4zm0-2zm1 2zm0 3zm0 0zm0 0zm0-2zm0 2zm1 0zm0-7zm0 2zm0-2zm0 2zm1 0zm0 1zm0 1zm0 1zm0-2zm0-1zm0 3zm0 2zm1-2zm0-4zm0 5zm0 0zm0 0zm0 0zm1-6zm0 4zm0-4zm0 1zm0-1zm0 3zm0 0zm0-2zm1-1zm0 6zm0-4zm0 0zm1 5zm0-3zm0-2zm0-1zm0 1zm0 1zm1-1zm0 3zm0-5zm0 3zm0-2zm1 1zm0 5zm0-6zm0-1zm0 4zm1-2zm0 4zm0-3zm0 1zm0 2zm0-6zm0 5zm0-1zm0 3zm0-1zm1-6zm0 6zm0-4zm0 1zm0-1zm1 4zm0-4zm0 5zm0-6zm0 1zm0 4zm0-6zm0 3zm0 4zm0-5zm0 0zm1-2zm0 6zm0 1zm0-5zm0 2zm0 3zm0-4zm1 0zm0-1zm0 1zm0 4zm0-2zm0-2zm0 4zm1-5zm0 4zm0-1zm0-4zm0 5zm0-1zm0 1zm0 0zm1-6zm0 5zm0 2zm0-6zm0 5zm0-3zm0 0zm0 1zm0-2zm0 0zm0 5zm1-3zm0 3zm0-5zm0 2zm0-3zm1 6zm0-4zm0 2zm0-2zm0-3zm0 0zm0 2zm0 0zm0 5zm1 0zm0-1zm0-4zm0 2zm0 3zm0-4zm0-2zm0-1zm0 6zm0 0zm1-4zm0 2zm0-2zm0 2zm0-2zm0 3zm0 1zm0-6zm0 0zm0 1zm0 1zm1 1zm0 2zm0 1zm0-2zm0-3zm0 5zm0-3zm0 4zm0-3zm1-1zm0-1zm0 2zm0 2zm0 0zm0 1zm0-7zm0 1zm0 1zm0 5zm0-7zm0 4zm1 3zm0-6zm1-1zm0 7zm0-7zm0 6zm0-5zm0 6zm0-1zm0-4zm0 4zm1-4zm0 0zm0-1zm0 1zm0-1zm0 3zm0-2zm0-2zm1 4zm0-3zm0 6zm1-5zm0 4zm0-2zm0-4zm0 3zm0-1zm0 2zm0-4zm1 3zm0 3zm0-3zm0 0zm0 4zm0-3zm0-4zm0 3zm0 0zm1 3zm0-4zm0 2zm0 2zm0-4zm0-2zm0 6zm1-4zm0-1zm0 5zm0-4zm0 1zm0 1zm0-2zm0 2zm0-2zm1 0zm0 0zm0 4zm0 1zm0-5zm0 3zm0-4zm0 3zm0 0zm0 1zm0-4zm0-1zm1 6zm0-3zm0 4zm0-4zm0 3zm1-5zm0 3zm0-2zm0 1zm0-3zm0 3zm0 0zm0 2zm0 0zm0-2zm1 0zm0 4zm0-7zm0 5zm1-5zm0 3zm0 4zm0-4zm0 1zm1-3zm0 0zm0 1zm0 0zm0 4zm0-6zm0 2zm0 5zm0-5zm0 3zm0-2zm1 2zm0 2zm0 0zm0-6zm0 6zm0-3zm0-3zm0 4zm0 0zm1-1zm0 2zm0-1zm0 1zm0-5zm0 0zm0 2zm0-1zm1 4zm0-1zm0-2zm0 4zm0-2zm0 0zm0-3zm0-1zm1 1zm0-2zm1 0zm0 1zm0 0zm0 0zm0 5zm1-2zm0-3zm0 5zm0 0zm0-2zm0 3zm0-3zm0-4zm1 4zm0 2zm0 1zm0-1zm0-4zm0 5zm0-5zm0 5zm0-3zm0 2zm0-4zm0 4zm1-2zm0-4zm1 4zm0 1zm1-3zm0-2zm0 3zm0 1zm0 1zm0-2zm0-3zm0 6zm1-6zm0 2zm0 1zm1 2zm0-5zm0 4zm0 3zm1-7zm0 3zm0-1zm0 3zm0-1zm0-4zm1 4zm0-2zm0 0zm0 0zm0 1zm1 0zm0 3zm0-6zm0 6zm0-3zm0-1zm0 2zm0 1zm0-3zm1 1zm0 4zm1-2zm0-3zm0-2zm0 5zm0-1zm0-2zm0 0zm0 2zm0 0zm0 2zm1-3zm0 3zm0-5zm0 1zm1 5zm0-2zm0 2zm0 0zm0-2zm1-2zm0 4zm0-2zm0 0zm1-2zm0-1zm0 2zm0-1zm0-1zm1 3zm0 1zm0-2zm1 2zm0-3zm0-1zm0 0zm0 4zm0-4zm0 2zm1 1zm0-3zm0-2zm0 5zm0-2zm1-2zm0 5zm0 1zm0-2zm0-4zm0 0zm0 4zm1-3zm0-2zm0 3zm1-3zm0 0zm0 3zm1 0zm0-3zm1 7zm0-4zm0 3zm0-6zm1 7zm0-5zm1 3zm0 2zm1 0zm0 0zm0-7zm1 1zm0 6zm0-4zm1 3zm0-5zm1 4zm0 2zm0-1zm0-2zm0 3zm1-2zm1 0zm1-1zm0 0zm0 2zm1-2zm0-3zm0 6zm0-4zm0 3zm1-4zm0-1zm1 6zm0-1zm1-6zm1 7zm0-3zm2 3zm1-1zm2-5zm3 1zm2 1zm0-3zm1 4zm1 2zm1 0zm0-6zm1 4zm0 3zm2-5zm0-1zm1 1zm1-2zm1 4zm1-2zm2 5zm0-3zm1 2zm3-1zm3-4zm0 4zm1-5zm2 0zm2 3zm1 0zm5 1zm2-4zm7 5zm1-4zm5 0zm4 0zm3-1zm1 5zm1 0zm0-4zm20 4zm1 2zm1-6zm26 4zm2 0zm-26 6zm-2 1zm-9-2zm-14 3zm-5-3zm-2 2zm-6-1zm-14 0zm0-3zm-2 4zm-2-1zm-3 0zm0-1zm-2 1zm0-2zm-1 2zm-1 3zm0 0zm-3-3zm0 0zm-1 1zm-2 3zm-2-3zm-1-2zm-1 4zm0-3zm-3 0zm-4 1zm-1-4zm-1 2zm-2 3zm-1-3zm0 3zm0-2zm-1 1zm-1 3zm0 0zm0-3zm-1-2zm0 1zm-1 0zm0 0zm-1 2zm0 2zm0-1zm0-5zm0 1zm0-2zm0 0zm-1 4zm0-1zm-1-2zm0 3zm0 2zm-1-4zm0 2zm0 0zm-1-4zm-1 1zm0 0zm0 0zm-1-1zm0 3zm0 2zm-1-2zm0-3zm0 0zm0 0zm-1 1zm-1 5zm0 1zm0-7zm0 2zm0-2zm0 2zm-1 3zm0 1zm0-4zm0 5zm-1 0zm0-3zm0 0zm0 1zm0-2zm0-3zm0 6zm0 0zm0-3zm-1 0zm0 2zm0-3zm0 4zm-1 1zm0-3zm0-2zm0 3zm-1 0zm0 2zm0-7zm-1 7zm0-3zm0 0zm0-1zm0-3zm-1 1zm0 5zm0-1zm0-5zm-1 6zm0-2zm0 2zm0-6zm0 1zm0 6zm0-4zm-1-3zm0 4zm0-4zm0 7zm0-1zm-1-2zm0-4zm0 0zm0 4zm0 0zm0-3zm0 4zm0-4zm-1 1zm0-1zm0 5zm-1-2zm0 2zm0-4zm0 0zm0 5zm0-1zm0-2zm0 3zm0-3zm-1-1zm0 0zm0-2zm0 6zm0-2zm0-1zm-1-3zm0 6zm0-2zm0 2zm-1-3zm0-2zm0 4zm0-6zm0 3zm0-3zm-1 3zm0-2zm0 1zm0 2zm0 3zm0-3zm-1-4zm0 3zm0-2zm0 5zm0-4zm0-2zm0 2zm-1 3zm0 2zm0-5zm0 5zm-1-3zm0 3zm0-3zm-1 2zm0 1zm0-4zm0 1zm0-1zm0 1zm0 3zm0-2zm-1-3zm0 3zm0-1zm0 2zm0 1zm0-1zm0 1zm0-6zm0 0zm0 5zm-1-3zm0 4zm0-4zm0-1zm0 4zm0 0zm0-4zm0 5zm0-7zm-1 2zm0 4zm0-3zm0-3zm0 0zm0 4zm-1-3zm0 5zm0 0zm0-1zm0-4zm0 5zm0-4zm0 2zm-1 3zm0-7zm0 6zm0 1zm0-4zm0 2zm0-4zm-1 2zm0 1zm0-2zm0 2zm0 0zm0-1zm-1 3zm0-3zm0 0zm0 2zm0 1zm0-2zm0-3zm0-1zm0 3zm0 0zm0 3zm0-3zm0-3zm-1 7zm0-2zm0-1zm0-1zm0-3zm0 4zm0-1zm0 4zm0-3zm0 1zm0-5zm-1 2zm0-1zm0 3zm-1 2zm0 0zm0-3zm0 1zm0 0zm0-2zm0 3zm0-5zm0 2zm-1 0zm0-1zm0-1zm0 3zm0-2zm0 2zm0 3zm0 1zm0-2zm-1 2zm0-3zm0-1zm0-3zm0 6zm-1-6zm0 6zm0-3zm0 1zm0-2zm0 0zm0 3zm0 0zm0 2zm0-5zm0 1zm0-3zm0 4zm-1 1zm0-1zm0-4zm0 5zm0 1zm0 1zm0-6zm0 2zm0-2zm0 5zm-1-4zm0 5zm0-6zm0 6zm0 0zm0-2zm0-2zm0 3zm0-6zm0 4zm0 1zm0-3zm0 0zm-1 0zm0 2zm0 2zm0-3zm0 4zm0-4zm0 3zm0-5zm0-1zm0 6zm0 0zm0-2zm0-4zm-1 0zm0 4zm0 2zm0 0zm0-1zm-1-5zm0 7zm0-3zm0-4zm0 2zm0-1zm0 4zm0-5zm0 4zm0 0zm0-3zm0 3zm-1 1zm0 2zm0-2zm0 1zm0-3zm0-1zm0-1zm-1 4zm0 2zm0-7zm0 3zm0 4zm0-6zm0 5zm0 0zm0 1zm0-6zm0-1zm0 6zm-1-5zm0 1zm0-2zm0 7zm0-5zm0 1zm0 2zm0-5zm0 1zm-1 4zm0-5zm0 2zm0 3zm0-5zm0 0zm0 3zm0 0zm-1 2zm0 0zm0-3zm0-1zm0 0zm0 3zm0 3zm-1-2zm0-5zm0 0zm0 0zm0 3zm0 3zm0-3zm0-1zm0 0zm0 3zm-1 2zm0-7zm0 4zm0-2zm0 2zm0-4zm0 0zm0 0zm0 3zm-1-1zm0 1zm0 3zm0-4zm0 5zm0-3zm0 2zm0-4zm0 4zm0-2zm0 1zm0 2zm-1-4zm0 1zm0 3zm0-7zm0 4zm0 1zm0-5zm0 3zm0 4zm0-7zm0 2zm-1 2zm0 3zm0-7zm0 7zm0-5zm0 3zm0-2zm0 2zm0-1zm-1 3zm0-4zm0 2zm0-5zm0 4zm0-3zm0 5zm0 1zm-1-7zm0 2zm0 3zm0-1zm0-2zm0 5zm0-2zm0-2zm0 4zm-1-3zm0-3zm0 5zm0-3zm0-1zm-1 1zm0 2zm0-5zm0 0zm0 3zm0-1zm-1 4zm0 0zm0-3zm0-2zm0 1zm0 3zm0 1zm0-5zm0 4zm0-4zm0 5zm-1 0zm0-3zm0 0zm0 2zm0-1zm0 3zm0-4zm0 0zm0 1zm-1-4zm0 5zm0 2zm0-7zm0 2zm0 1zm0-1zm-1 5zm0 0zm0-5zm0-1zm0 6zm0-3zm0 3zm0-2zm0 2zm0-3zm-1 1zm0-4zm0 3zm0-3zm0 6zm0-1zm0-1zm0 1zm0-2zm0-2zm0-2zm0 3zm0-1zm-1 0zm0 0zm0 2zm0-3zm0 2zm0 1zm0-3zm0 4zm0-1zm0-3zm0 2zm0-1zm0 4zm0-3zm0 1zm-1 2zm0-5zm0 5zm0 1zm0-6zm0-1zm0 1zm0 0zm0 0zm0 3zm0-4zm0 7zm-1-6zm0 5zm0 0zm0-5zm0 5zm0 1zm0-1zm0-1zm0-2zm0 2zm-1-5zm0 6zm0-2zm0 3zm0-1zm0 0zm0-2zm0-4zm0 0zm0 4zm0-3zm0 1zm-1 1zm0-2zm0 5zm0-4zm0 1zm0 3zm0 0zm0-1zm-1 0zm0-3zm0 5zm0-7zm0 2zm0-2zm-1 7zm0-4zm0 3zm-1-5zm0 1zm0-2zm0 7zm0-6zm0 2zm0 0zm-1-2zm0 4zm0-4zm0 3zm0 0zm0-3zm0 4zm0 2zm0-5zm0 5zm-1-6zm0 6zm0-6zm0 5zm0-6zm0 5zm0 1zm0-4zm0 5zm-1 0zm0-7zm0 1zm0 1zm0 3zm0-1zm0-2zm0 1zm-1 4zm0 0zm0-5zm0 5zm0-5zm0 5zm0-7zm0 7zm-1-7zm0 0zm0 0zm0 0zm0 3zm0 1zm0 3zm-1-4zm0-3zm0 7zm0-5zm0 1zm0 3zm0-3zm-1 2zm0 2zm0-2zm0-3zm0-1zm0 0zm0 2zm0-3zm0 5zm-1 2zm0-3zm0-4zm0 5zm-1 1zm0-4zm0 1zm0-2zm0 6zm0-7zm0 7zm0-2zm-1-3zm0 2zm0-4zm0 3zm-1-1zm0-1zm0 5zm0-5zm0 4zm0-3zm0-1zm-1 0zm0 5zm0 0zm0-4zm0-2zm0 7zm-1-3zm0-1zm0 0zm-1 3zm0 1zm0-7zm0 6zm-1 1zm0-5zm0 3zm0-3zm0 0zm0 2zm0 0zm0 0zm0-1zm0 2zm-1-2zm0-2zm0 4zm0 0zm0 2zm0-3zm-1-3zm0 0zm0-1zm0 6zm-1-6zm0 6zm0-2zm0 1zm-1-4zm0 1zm0-2zm-1 3zm0 3zm0-4zm0 3zm0-2zm-1 2zm0 0zm0-4zm0 4zm0-1zm0 2zm0-2zm-1-1zm0-2zm0 5zm0-1zm0-4zm-1 5zm0-1zm-1-5zm0 5zm-1-3zm-1 5zm0-2zm-1-1zm0-4zm-1 1zm0 2zm0 3zm0-4zm0-2zm-1 3zm0 1zm0 1zm-1 2zm0-3zm0-4zm0 1zm0 5zm0-2zm0-1zm-1-2zm0-1zm0 1zm-1 1zm0 0zm0 0zm-1 4zm-1 1zm0-7zm0 1zm-1 1zm0 1zm0 3zm0-2zm0-1zm-1 3zm0-4zm-1-1zm0 5zm-1-6zm0 4zm0-4zm-1 5zm0-3zm-1 0zm0 1zm0-3zm-1 0zm-11 2zm-2-1zm-8 2zm-13-1zm-1 0zm7 8zm14-1zm4 3zm3 3zm2-6zm1 1zm1 3zm0-2zm2 1zm4 1zm0-2zm1-3zm1 1zm1-1zm0 2zm1-2zm1 7zm0-5zm2-1zm0-1zm1 0zm0 3zm1 4zm0-4zm1 0zm0-2zm1-1zm0 3zm0 3zm1-5zm0 2zm0-3zm0 6zm1-3zm0-3zm0 5zm0-2zm1-2zm0 6zm1 0zm1-2zm1-5zm0 2zm1 0zm0 1zm0 2zm1-2zm0 4zm0 0zm0-1zm0-5zm2 0zm0 1zm0 1zm0 2zm0 0zm0-1zm1-1zm0 2zm0-5zm1 7zm0-3zm0-4zm0 2zm0 4zm0-3zm1 0zm0 0zm1 1zm0 2zm1-4zm0 2zm0 2zm0-6zm0 3zm0 4zm1 0zm0-3zm1 1zm0 2zm0-3zm0-4zm1 5zm0-1zm0 1zm0-5zm0 6zm0-3zm0-2zm0-1zm0 6zm0-6zm1 4zm0 1zm0-3zm0-2zm0 6zm0-2zm0-4zm0 4zm1-1zm0 0zm0 2zm0-3zm0 1zm0 4zm0-7zm1 0zm0 2zm0-1zm0 3zm0-3zm1 2zm0 4zm0-5zm0 1zm0-2zm0 1zm1-2zm0 7zm0-5zm0 2zm0 0zm0-1zm1 0zm0 2zm0 1zm1-2zm0 1zm0-2zm0 0zm0 3zm0-6zm0 2zm0 2zm0 2zm1-1zm0-4zm0 2zm0 0zm0 4zm0-7zm1 6zm0-5zm0 4zm0-2zm0 2zm0-3zm0 4zm0-5zm1 1zm0 2zm0 2zm0-2zm0-2zm0 0zm0 1zm1 3zm0-3zm0-2zm1 2zm0-1zm0 4zm0-4zm1 0zm0-1zm0 0zm0 3zm0-4zm1 2zm0-1zm0 2zm0 3zm0-5zm0 4zm0 2zm1-1zm0-1zm0-3zm0 1zm0 3zm0-6zm1 6zm1-3zm0-2zm0 5zm0-5zm0 2zm0 1zm0-1zm0 0zm1 1zm0 2zm0-5zm1 5zm0-6zm0 4zm0 1zm0 2zm0 0zm0-4zm0 1zm1-1zm0 0zm0-2zm0 6zm0-5zm1-2zm0 0zm0 5zm0-4zm0 3zm1-4zm0 0zm0 0zm0 7zm0-3zm0-3zm0 4zm0 2zm0-3zm1 3zm0-7zm0 4zm0-4zm0 3zm0-1zm0 1zm0-3zm0 5zm1-4zm0 0zm0-1zm0 4zm0-4zm0 1zm0 1zm0 2zm0-4zm0 1zm0 4zm0-3zm0 1zm0 4zm0 0zm0-5zm1 4zm0-5zm0 4zm0 1zm0 0zm0-6zm0 7zm0-6zm0-1zm1 3zm0 4zm0 0zm0-6zm0 6zm0-5zm0 3zm0-2zm0 4zm0-1zm0-3zm0 3zm1-3zm0 3zm0-2zm0-4zm0 5zm0-2zm0-1zm0 4zm0-5zm0 6zm1 0zm0-5zm0 4zm0 1zm0-7zm0 6zm1-1zm0 1zm0-4zm0 2zm0-4zm0 0zm0 2zm0 4zm0 0zm0-6zm0 7zm1-6zm0 1zm0-1zm0 3zm0-2zm0 2zm0 0zm0-2zm0 5zm0-7zm0 4zm0 3zm0-3zm1 0zm0 0zm0-4zm0 2zm0 1zm0-1zm0-1zm0-1zm0 5zm0-2zm1-2zm0 2zm0 3zm0-5zm0 2zm0 3zm0-3zm0-1zm1-1zm0 5zm0-3zm0 1zm0 2zm0-1zm0 1zm0 1zm0-6zm0 5zm0-3zm0 0zm0 2zm0-4zm0 3zm0 2zm1-4zm0 1zm0-2zm0 2zm0-3zm0 3zm0-2zm0-1zm0 3zm0-2zm1 5zm0 0zm0-3zm0 1zm0-4zm0 5zm0-4zm1 1zm0 0zm0 2zm0-4zm0 2zm1 1zm0-3zm0 3zm0-3zm0 1zm0 0zm1 5zm0 1zm0-6zm0 5zm0 1zm0-4zm0-2zm0 6zm0-1zm1-1zm0 0zm0-3zm0-1zm0 6zm0 0zm0-1zm1-6zm0 5zm0-3zm0-2zm0 6zm0 1zm0-1zm0-2zm0 2zm0 1zm1-6zm0 4zm0-2zm0-2zm0 0zm0 6zm0-2zm1-3zm0-2zm0 0zm0 7zm1-6zm0 1zm0 2zm0-2zm0-1zm0 1zm0 1zm1-2zm0 5zm0-3zm0 3zm0 0zm0 1zm0-4zm0-1zm1 0zm0-2zm0 5zm0-3zm0-2zm0 2zm0-1zm0-1zm0 6zm0-4zm0 3zm0 2zm0-1zm1 1zm0-5zm0 0zm0 2zm0 3zm0-1zm0-6zm0 6zm1-1zm0-1zm0-2zm0 3zm0-2zm0 2zm1-5zm0 2zm0 0zm0-1zm0 2zm0-1zm0 1zm0 0zm0 1zm1 1zm0-3zm0 2zm0 1zm0-5zm0 3zm0-3zm1 6zm0-6zm0 2zm0-2zm0 3zm0-2zm0 0zm0 5zm0-1zm0 0zm0-3zm0-1zm0 3zm0-4zm0 4zm0 0zm0 1zm1-1zm0 1zm0-5zm0 0zm0 4zm0 0zm0 3zm0-6zm1 0zm0 5zm1 0zm0-5zm0 6zm0-4zm0-3zm1 0zm0 1zm0 4zm0 1zm0-5zm0 5zm0-6zm0 0zm0 1zm1 2zm0-2zm0 5zm0-6zm0 5zm0 2zm1-6zm0 5zm0-4zm0 5zm0-1zm0-5zm0 0zm1 0zm0 1zm0 1zm0-3zm0 2zm0 1zm0 3zm0-6zm0 6zm1-5zm0 4zm0 2zm0-7zm0 2zm0-1zm0 6zm0-1zm0-2zm0-2zm1 4zm0-5zm0 3zm0 3zm1-1zm0-5zm0 5zm0 0zm0-4zm0 1zm1 1zm0 3zm0-3zm0 2zm0-2zm0 3zm1-6zm0 2zm0-2zm0 1zm0 0zm0-2zm0 7zm0 0zm1 0zm0-1zm0-3zm0 1zm1 0zm0 0zm0 3zm0-6zm0 3zm0 3zm0-3zm0 3zm0-6zm1 3zm0-3zm0 2zm0 0zm0-1zm0 4zm0-1zm0 1zm1-1zm0-3zm0 1zm0 4zm0 0zm0-2zm0-5zm1 1zm0 3zm0 1zm1 1zm0-1zm0-4zm0 6zm0-3zm0-3zm1 3zm0 2zm0-1zm0-5zm1 1zm0 5zm0-6zm1 1zm0 2zm0 3zm0-4zm1 2zm0 3zm0-7zm0 7zm0-3zm1-3zm0 0zm0 5zm0-5zm1 4zm0 1zm0-5zm0 2zm0 3zm0-1zm0 1zm0-3zm0-2zm1 5zm0-1zm0-1zm1 0zm0-4zm0 4zm0-1zm1-1zm0-1zm0 4zm0 1zm0-5zm1 4zm0 1zm0-1zm1-2zm0-3zm0 4zm0 2zm0-3zm1-3zm0 0zm0 3zm0 1zm2-3zm0 0zm1 5zm0-2zm0-4zm0 6zm1-5zm0 6zm1-4zm0 2zm0-2zm1 3zm0 1zm0 0zm0-7zm1 4zm0 1zm1-5zm0 4zm0-1zm1 0zm1 2zm0-2zm1-2zm1 3zm0-2zm1 2zm0 1zm0-1zm0-2zm1 5zm0-3zm1 0zm1 1zm1-3zm2 3zm0-4zm0 6zm0-1zm1 0zm1-6zm1 3zm4 2zm7-1zm1 0zm3-3zm0 5zm2 0zm2-2zm8-4zm1 0zm15 3zm11 1zm-2 10zm-15-6zm-22 1zm-5 2zm-2 4zm-2-5zm-1 0zm0-1zm-3 5zm-3-4zm0 0zm-3 3zm-1 2zm-1-5zm-1 3zm-1-3zm0 2zm0-3zm-1 4zm0-3zm-2 5zm0-4zm-1 4zm-1 0zm-1-2zm0 1zm-1-4zm0-1zm-1 4zm-1 0zm0 1zm0-5zm-1 0zm-1 5zm0 0zm0-1zm0 1zm-1-6zm-1 6zm0-6zm0 0zm0 5zm-1-1zm0-1zm-1 0zm0 2zm0-1zm0 2zm0-3zm-1 1zm0-1zm-1-1zm0 2zm0 1zm0 0zm0-5zm0 2zm-1 1zm0 2zm0 1zm0-4zm-1 4zm0-4zm0 5zm-1-1zm0 0zm0-5zm0 4zm0-2zm0-2zm-1 0zm-1 5zm0-2zm-1-4zm-1 4zm0 0zm0-4zm0 6zm0 1zm0-7zm-1 2zm0 2zm0 3zm-1 0zm0-2zm0 1zm0-1zm-1 1zm0 0zm0-4zm0 5zm-1-7zm0 1zm-1 6zm0-5zm-1 1zm0 1zm0 0zm0-3zm0 1zm0-2zm-1 1zm0 3zm0 3zm0 0zm0-1zm0-5zm0 4zm0-3zm-1 1zm0-2zm0-1zm0 3zm0-2zm-1 3zm0-3zm0 2zm-1 2zm0-1zm0-3zm0 2zm-1 0zm0 0zm0 4zm0-6zm0 2zm-1 1zm0-2zm0-2zm0 6zm0-4zm0 0zm0 3zm0-1zm-1-1zm0-3zm0 2zm0 2zm0 3zm0-4zm0 3zm-1 1zm0-1zm0-6zm0 1zm0 3zm0 1zm0-4zm-1 1zm0 5zm0-6zm0 5zm0 1zm-1-3zm0-3zm0 0zm0 4zm0-1zm0-1zm-1 4zm0-2zm0-5zm0 3zm0 0zm0 0zm0 2zm0-4zm0 1zm0 4zm0-2zm0 3zm-1-4zm0 3zm0 0zm0-1zm0 0zm-1 0zm0-2zm-1-2zm0 6zm0-6zm-1 5zm0-5zm0 2zm0-1zm0 4zm0-1zm0-5zm0 1zm0 5zm-1 1zm0-7zm0 5zm0 0zm0-4zm-1 1zm0 1zm0 0zm0 3zm0-5zm-1-1zm0 4zm0 2zm0-4zm0 1zm0-1zm-1 3zm0-4zm0 1zm0-2zm0 6zm0 0zm0-4zm0-2zm-1 4zm0-2zm0 0zm0 1zm0-2zm0 5zm0-2zm0 0zm0 1zm-1 0zm0-2zm0 1zm0-1zm-1 2zm0 0zm0 2zm0-7zm0 0zm-1 2zm0 3zm0-2zm0 4zm0-7zm0 3zm0 0zm0-2zm0 6zm0-4zm0 3zm-1-3zm0 0zm0-3zm0 1zm0-1zm0 0zm-1 4zm0 1zm0-2zm0 4zm0-7zm0 7zm0-1zm0-1zm0-2zm-1-3zm0 2zm0-2zm0 4zm0-3zm0 0zm0-1zm-1 4zm0-1zm0 0zm0-2zm0 6zm-1-2zm0-5zm0 0zm0 5zm0-2zm0 0zm0-2zm0 3zm0 0zm-1 3zm0-5zm0 1zm0-3zm0 2zm0 3zm0-5zm0 7zm0-6zm0 1zm0-1zm0 5zm-1-6zm0 4zm0 0zm0 2zm0-6zm0 6zm-1-3zm0-3zm0 7zm0-5zm0 2zm0-3zm0 2zm-1-3zm0 1zm0 4zm0-3zm-1 1zm0-2zm0 2zm0 2zm0 0zm0-5zm0 2zm0 3zm0-5zm0 3zm0-2zm0 2zm-1 2zm0-5zm0 4zm0-3zm0-1zm0 5zm0-4zm0 5zm0-4zm-1-1zm0 6zm0-1zm0-5zm0-1zm0 4zm0 2zm0-6zm-1 0zm0 1zm0 5zm0-4zm0 3zm0 2zm0 0zm0 0zm0-6zm-1 5zm0-6zm0 1zm0 6zm0 0zm0-3zm0-1zm-1 2zm0 1zm0-3zm0-3zm0 5zm0-4zm0 4zm0-3zm-1 1zm0-1zm-1 3zm0 0zm0-1zm0-3zm0 5zm0-4zm0 4zm-1-2zm0-1zm0 4zm0-2zm0-5zm0 4zm0-3zm0 1zm-1-2zm0 5zm0-2zm0 0zm0 4zm0-7zm0 7zm0-5zm0 3zm-1-5zm0 0zm0 2zm0-2zm0 2zm0 1zm-1 1zm-1 3zm0-1zm0-3zm0 0zm0-3zm-1 7zm0-6zm0 1zm0 3zm0-4zm0 1zm0 3zm0 1zm-1-4zm0 2zm0 0zm0 3zm0-1zm0-5zm0 0zm0-1zm0 0zm0 1zm-1-1zm0 2zm0 2zm0 1zm0 0zm-1-3zm0 0zm0 1zm0 0zm0-3zm0 5zm0 2zm-1-3zm0-4zm0 1zm0 4zm0-5zm0 1zm0 0zm0 0zm0 2zm-1 4zm0-2zm0 1zm-1-6zm0 6zm0-4zm0 0zm-1-2zm0 7zm-1-2zm0-3zm0 1zm0 2zm0-1zm0-4zm-1 1zm0 1zm0 1zm0 0zm0 0zm0 1zm-1 0zm0-3zm0 6zm0-5zm-1 1zm0-2zm0-1zm-1 0zm0 0zm0 4zm0-3zm0 0zm0 3zm0 0zm-1-3zm0 5zm0-1zm-1-3zm0-1zm0 1zm0 2zm0 3zm0-5zm0-2zm-1 6zm0 0zm0-1zm0-3zm0 0zm-1 3zm0-5zm0 6zm-1-1zm0-2zm0 1zm0-4zm0 5zm-1-5zm0 0zm0 4zm0-4zm0 1zm-2 0zm0 1zm-1 2zm-1-1zm0 3zm0-2zm0 1zm0-1zm-1-3zm0 5zm0-2zm0-2zm-1 2zm0 2zm0-2zm-1 0zm0-3zm0 5zm-1-3zm0-2zm0-1zm-1 5zm0-5zm0 2zm0-2zm-1 7zm0-5zm-1-1zm-1 3zm0-2zm-1 4zm-2-5zm0 0zm-2 5zm-1-3zm0-1zm0-2zm-1 0zm0 5zm0-1zm-1 2zm-3-5zm0 1zm-1 5zm-1-7zm0 6zm-2-2zm0 3zm0 0zm-6-3zm-2-3zm-1 3zm-1-2zm-2 2zm0-1zm-2 4zm-3-5zm-1 3zm-4 2zm0-4zm-26 3zm18 3zm10-1zm1 2zm10 1zm2 1zm2 3zm2-7zm6 1zm0 0zm2 2zm1 1zm2-1zm0 2zm0 2zm1-1zm0-4zm7-2zm1 2zm0-1zm0-1zm3 2zm0 3zm2-5zm0 1zm1 4zm2-3zm1 1zm0 3zm1-6zm0 4zm0-2zm1 4zm0-5zm1 2zm0 1zm0 0zm1 3zm0-3zm0-1zm0 3zm0 0zm0-3zm2-1zm0 3zm2-2zm0 3zm0-6zm1 6zm0-3zm1 1zm0 0zm0-3zm0 1zm0 3zm0 0zm0-3zm0 2zm0-2zm1 2zm0 0zm1-3zm0 0zm0-1zm1 2zm1 5zm0-4zm1-2zm0 2zm0 3zm0 0zm0 0zm0-2zm1-4zm0 0zm0 5zm1-2zm0 2zm1-2zm0-2zm0-1zm1 2zm0-1zm0 3zm0-3zm0 2zm1-3zm0 6zm0-2zm0-1zm1-2zm0 2zm0-1zm1 4zm0-1zm0 1zm1-1zm0-2zm0-3zm0 7zm0-5zm0 2zm1-1zm0-2zm0-1zm0 3zm1 0zm0-2zm0 2zm1 0zm0 1zm0 2zm0-6zm0 1zm0-1zm0 5zm1-5zm0 4zm1 0zm0 0zm0-4zm1 4zm0-4zm0 3zm1 1zm0-2zm0 2zm0-1zm1-3zm0 5zm0-3zm0 2zm1-4zm0 1zm0-1zm1 4zm0 2zm0-4zm0 5zm0-3zm1 0zm0-4zm0 4zm0 3zm0 0zm1-1zm0-1zm0-3zm1 5zm0-6zm1 6zm0-5zm0 2zm0 0zm0-1zm0 0zm1 2zm0-4zm0-1zm0 5zm1 0zm0-3zm0 0zm0-2zm0 6zm1 1zm0-6zm0-1zm0 0zm0 0zm1 6zm0-5zm0 0zm0 0zm0 1zm0 2zm1 0zm0-1zm0 2zm1-3zm0 0zm0 0zm0-2zm1 1zm0 0zm1 6zm0-7zm1 2zm0-2zm0 7zm0-5zm0 2zm0 2zm0-3zm0 1zm0 0zm1 3zm0-7zm0 0zm1 6zm0-1zm0-2zm0 0zm0 2zm0 0zm0-5zm1 5zm0-1zm1 2zm0 0zm0-5zm1 3zm0 0zm0 0zm1-3zm0 6zm1-1zm0-3zm0-1zm0-2zm0 2zm0-2zm0 4zm1 1zm0 1zm0 0zm1 0zm0-3zm0 1zm0-4zm0 2zm1-2zm0 7zm0-6zm0 2zm0 3zm1 1zm0-5zm0 3zm0 2zm1-1zm0-6zm0 3zm1-2zm0 4zm1 0zm0-2zm1-2zm0 4zm0 1zm1 0zm0-3zm0 2zm0 1zm1-4zm0-2zm1 0zm0 2zm0-2zm0 2zm0 4zm1 1zm0-7zm0 4zm1-1zm0-2zm0-1zm0 6zm0-3zm0-3zm0 4zm1-4zm0 1zm1 6zm0-7zm0 5zm0-3zm0-2zm0 1zm1 4zm0-5zm0 5zm0-5zm0 6zm0-3zm1-3zm0 2zm0 2zm0-2zm1 4zm1-6zm0 7zm0-5zm2 4zm1-2zm0 0zm0-4zm0 5zm0-3zm1-2zm0 3zm0-3zm0 3zm0 3zm1-2zm0-3zm1 3zm1-3zm1-1zm0 2zm0 0zm1-2zm0 2zm0 0zm0 5zm0-2zm2-3zm0-2zm1 0zm0 2zm1 1zm1-1zm0 5zm1 0zm0-5zm1-1zm0 6zm0-1zm0 1zm2-2zm0-1zm0 3zm2-4zm3-3zm0 6zm0-3zm2-2zm2 6zm1-4zm1-2zm4 4zm0-4zm7 2zm1 0zm1 0zm4 2zm12 0zm23 4zm-27 6zm0-3zm-11-2zm-2 1zm-1 4zm-3-3zm-8-1zm-1 1zm-4 3zm0-1zm-2-5zm-3 4zm0-1zm0 0zm-1 3zm-2 0zm-1-6zm-2 4zm0-5zm-2 1zm-1 2zm0 0zm-1-1zm-1 5zm0-4zm0 1zm-1 0zm0-3zm-1 2zm0 4zm0-7zm-1 2zm-1 4zm0-6zm-2 6zm-1-2zm-1-4zm0 1zm0 4zm-1-5zm0 0zm0 0zm0 0zm-2 1zm-2 3zm-1-3zm0 6zm0-4zm0-3zm0 0zm-1 0zm0 3zm0 2zm-1-1zm0-4zm-1 1zm-1-1zm0 6zm0-5zm0 1zm-1 4zm0-2zm-1-2zm0-1zm-1 5zm0 1zm0-2zm-1-1zm0-2zm0 0zm-1 4zm0 0zm-1-3zm0 4zm0-4zm0 2zm-2-4zm0 5zm0-2zm-1-2zm0 4zm0-1zm0 0zm-2-1zm0 2zm0-6zm-1 2zm0 0zm0 1zm0 1zm-1-3zm0 1zm0 5zm0-6zm0-1zm-1 7zm0-6zm-1 2zm0 0zm-1-2zm0 4zm-1-4zm0 0zm-1 1zm0-2zm-1 5zm0-5zm0 5zm0-3zm-1 4zm0-6zm-2 6zm0-4zm0-1zm0 2zm-1-2zm0 6zm-1-7zm0 2zm-1 3zm0 2zm-1-1zm0-1zm0 2zm0-7zm0 0zm-1 0zm-1 4zm-1-2zm0 2zm0 0zm-1 2zm0 1zm-1-5zm0 2zm0-4zm0 1zm-1 4zm0-2zm0-1zm-1-2zm0 6zm0-6zm0 4zm0-2zm-1 3zm0-5zm0 0zm-1 6zm0-4zm0 1zm-1 0zm0 0zm-1-1zm-1 0zm-1-1zm-1 3zm0 3zm0-3zm0-3zm-1 6zm0-1zm0-6zm-1 0zm-1 1zm0 5zm0 0zm-1-5zm0-1zm-1 1zm0 4zm0 2zm0-4zm-1 3zm0-2zm-1 3zm0-3zm0 0zm0 1zm-1 0zm0 0zm-1 1zm0 1zm-1-6zm0 3zm-1-1zm0-2zm0-1zm-2 3zm0 2zm0-4zm-2 3zm-1 0zm0-4zm0 1zm0 3zm-1-4zm0 6zm-2-3zm-1 1zm-1 0zm-1-4zm-2 3zm0 0zm-1-2zm0-1zm-2 3zm0 0zm-1 0zm-1 1zm-1-4zm0 7zm0-7zm-1 0zm-2 1zm-1 4zm0-4zm-4 4zm-3-3zm-3-1zm0 5zm-3-3zm-6-2zm-1 0zm-8 3zm-3-1zm14 11zm11-6zm8 1zm2-1zm4 4zm1-1zm1-2zm3 6zm3-5zm1 0zm0-2zm1 4zm1-1zm2-1zm1 1zm1 0zm0 2zm1-5zm2 7zm0-7zm1 1zm0 0zm2 4zm1-2zm0 3zm1 1zm1-1zm2-2zm1-4zm0 1zm3 5zm0-3zm1-3zm1 5zm1 0zm1 1zm2-3zm1 0zm1 0zm0 3zm1-3zm1 4zm1-7zm0 1zm1 3zm0 3zm1-1zm1 0zm0 0zm1-4zm0 4zm1-2zm2-2zm1 0zm0-1zm0 1zm1 0zm1-2zm0 2zm1 4zm1-6zm0 2zm0 3zm1 2zm1-4zm1 1zm1-2zm1 1zm1-2zm0 2zm0-2zm0 5zm1-4zm0 3zm1-3zm1-2zm0 3zm0-3zm1 0zm0 4zm1 0zm0-4zm1 0zm0 2zm1-1zm0-1zm1 0zm0 0zm1 3zm2-1zm0 5zm2-2zm1 0zm1 1zm0-6zm0 1zm0 5zm1-4zm0 0zm1 1zm0-2zm2 0zm1 0zm0-1zm2 0zm3 7zm0-2zm2-3zm0 2zm1-2zm1-1zm1 1zm1 4zm1-1zm3-2zm0 2zm0-5zm2 5zm1-5zm3 7zm2-2zm1-1zm2-3zm2 1zm4-1zm0 0zm1 4zm3-1zm9 5zm-15 5zm-3-4zm-1 0zm-4 3zm-4-4zm-4 4zm-2-5zm-1 0zm-7 2zm-1-2zm0 1zm-3 4zm0 0zm-2-4zm-2 6zm0 0zm-4-3zm0 2zm0-2zm-5 0zm0-1zm-2 1zm0 2zm-2-4zm-3 3zm-4-1zm-1-2zm0 1zm-2-3zm-2 1zm-7 0zm0 3zm-3 3zm-3-2zm-1-5zm-2 1zm-1 4zm0-5zm0 1zm-1 2zm-1 3zm0-2zm-1-1zm0 1zm-9 2zm-1-3zm0-3zm-3 2zm0-2zm-2 6zm-1-3zm-1 1zm-1-2zm-11 2zm-4 3zm-13-5zm-2 0zm0-1zm-10 4zm-1-4zm-26-1zm8 14zm25-5zm8 1zm17 2zm12-1zm3 0zm1 2zm10 1zm8-1zm3-4zm1 0zm5 6zm1-2zm2-2zm2 0zm4-3zm2 2zm0-2zm1 1zm3 3zm0-2zm2 4zm12-5zm0 0zm20 4zm10-4zm20 3zm29-3zm13 0zm-50 8zm-16 2zm-7 2zm-13-4zm-8 6zm-5-5zm-11-2zm0 3zm-2-1zm-8-1zm-16 10zm6 1zm2-4zm5 0zm1 3zm25-2zm28 6zm-26 8zm-4-3zm-39 1zm99 6z"/>
<path stroke="#ff7f0e" d="M151 104zm-7 5zm-9 2zm-3-3zm-33-1zm29 7zm72 8zm-45 3zm0-4zm-12-1zm-21 2zm-4 12zm3 1zm0 0zm13-5zm3 4zm8 0zm0-4zm1 1zm2 4zm4 0zm2 0zm1-2zm2-5zm15 1zm-8 13zm-7-6zm-2 7zm-6-5zm-2-2zm-1 1zm0 4zm-3-4zm-16 1zm0 5zm-1-7zm-6 5zm-7 2zm-9 2zm4 2zm10-2zm2 0zm0 4zm6 0zm0 0zm3 0zm2-1zm5 3zm2 0zm1 0zm1 0zm1-6zm1 0zm0 2zm1-2zm2 6zm0-6zm0 5zm2-1zm0-5zm1 7zm0-2zm0-5zm2 7zm0-2zm0-1zm4 2zm1-6zm2 4zm1-1zm0-3zm1 0zm1 7zm3-6zm7 7zm-7 5zm-1-1zm-1 2zm0 0zm-1-2zm-2 2zm-1-4zm-1-2zm-2 2zm-2 3zm-1-4zm-1 1zm-1 3zm0 1zm-1-3zm0 3zm-4 0zm-2-1zm-1-5zm-1 4zm-1 2zm0-2zm-1 3zm-1-3zm-1 2zm-1-5zm-1 2zm-1-2zm-1 0zm-2 4zm0 1zm-1 0zm0-2zm0-3zm-1 5zm-1-3zm0-1zm-2 5zm0-6zm0 2zm-2 2zm0-3zm-1-2zm-2 4zm-1 3zm-2 0zm-4-1zm-11-5zm-3 10zm0-3zm4 2zm5-2zm0 3zm1 0zm1 1zm3-4zm2 0zm3 4zm3-2zm3 5zm2 0zm1-6zm1 4zm1 2zm1-4zm0 2zm0-1zm1-2zm0 2zm0-4zm0 7zm2-2zm0 2zm1-3zm0 3zm1-1zm0-2zm2 3zm1-5zm1 0zm1-2zm0 3zm1 3zm0-2zm0 1zm0-2zm0 3zm1-2zm0-2zm0 3zm0-4zm1 0zm0 5zm0-3zm3 4zm0-1zm0-2zm2 3zm1-6zm4 3zm0 0zm1 1zm0-2zm0-2zm2 5zm0 1zm1-7zm5 3zm3 4zm2 0zm0-7zm1 4zm2-3zm5 2zm13 1zm-3 6zm-1 2zm-6 2zm-9-5zm-2 5zm-1 0zm-5-3zm0 4zm-1-7zm0 5zm-1-1zm0-1zm-1-2zm-1 1zm0 4zm-3-2zm-2-1zm0 4zm0-5zm-1 1zm-1 0zm-1 2zm-1-3zm0 3zm-3-2zm-1 2zm-1-4zm0 6zm-1-7zm-1 6zm0-5zm0 4zm0 2zm0-6zm-1 5zm0-6zm0 3zm0 3zm0 1zm-1-6zm0-1zm0 5zm-1 0zm0-2zm-3 0zm-1-2zm-1 6zm-1-1zm-1 0zm-1-2zm0 0zm0-3zm-1 4zm-1-5zm0 4zm-2 0zm0 2zm0 1zm-1-4zm-1 3zm-3-5zm-8 5zm-1-2zm-2 3zm-3-6zm-14-1zm-8 13zm14-2zm9 2zm0-1zm5 0zm1-3zm0 6zm2-1zm2-5zm2 5zm2 1zm1-6zm2 3zm2-2zm1-2zm0 6zm0-6zm3 1zm1 3zm0-4zm1 4zm0 0zm0-2zm1 1zm0 0zm0-2zm2 1zm1-2zm0 3zm1-2zm0 2zm0-2zm1 2zm1 1zm0-2zm1 0zm0 4zm0 0zm0-4zm2 1zm0 3zm0-5zm1 2zm6-3zm1 5zm0 2zm0-1zm0-3zm1-1zm0 4zm3-5zm1 3zm0-4zm0 1zm1 3zm1 0zm1 2zm2-3zm1-1zm3 0zm3 5zm1-6zm0 6zm1-7zm1 0zm1 6zm55 6zm-49-1zm-14-1zm-5 1zm-1-2zm0-1zm-2 3zm-3 3zm0-4zm-1 1zm0 3zm-1-2zm0-3zm0 0zm0 2zm-4 3zm-2-3zm0 1zm-3-3zm0 4zm0 0zm-1-3zm0-2zm-1 2zm0 3zm-1-2zm0 3zm-2-1zm-2 2zm-1 0zm0-4zm-1 4zm-3-6zm0 0zm-1 0zm0 5zm0 0zm-1-5zm-2 0zm-1 5zm-1-2zm0 3zm-5-5zm-1 0zm-18-1zm-19 6zm30 7zm6-3zm2-1zm4-2zm2 6zm1-4zm0-2zm2 0zm4 3zm0 3zm2-5zm1 4zm2-4zm1 0zm1-1zm0 4zm1 3zm0-6zm1 4zm0-3zm1 2zm0 1zm5 0zm1-5zm0 0zm1 2zm1 5zm0-1zm4-1zm3 1zm3-5zm5 0zm0 3zm1 1zm2-5zm0 6zm5 1zm2-2zm3-4zm6 1zm12 0zm-8 8zm-16 5zm0-2zm-1 2zm-6-7zm-4 2zm0 1zm-5 1zm0 1zm-1 2zm0-3zm-2 1zm-1-4zm-2 1zm-4 0zm-1 0zm-1 4zm-3-1zm-1 1zm-1-3zm0 1zm0-1zm-2 3zm-1-3zm-2 1zm0-1zm-1-1zm-1 5zm-1-6zm-1 0zm-2 6zm-2-4zm-5 0zm0-3zm-3 5zm-1 1zm-3-2zm-5 4zm0 1zm1 6zm5-6zm4 2zm1 4zm2-3zm4-2zm2-1zm2 6zm0-5zm4 2zm1-4zm1 6zm0-3zm1 0zm4 1zm2-2zm4 1zm2-2zm6-1zm7 3zm1-1zm0-1zm3 2zm5-1zm4 2zm1-3zm5 5zm1-6zm1 7zm5-1zm-2 7zm-1-2zm-3 0zm-13 2zm-1-2zm-2-1zm-2 0zm-7 2zm-1-4zm0 4zm-10-4zm-2 6zm0-6zm-1 7zm0-2zm-9-5zm-8 2zm-2-2zm-7 6zm-1-3zm-4-2zm-5 2zm-2-2zm12 13zm3-4zm0 3zm10-3zm7-2zm3 4zm1-1zm1-2zm5 1zm1 0zm1 3zm0-4zm3 2zm9-1zm1 2zm6 3zm2-7zm13 0zm6 7zm15-6zm-26 8zm-3 5zm-3-3zm-5 3zm-5-1zm-1 1zm-4 1zm0 0zm-5-4zm-1-3zm-5 3zm-5-3zm-10 2zm-2 4zm0-4zm-10 0zm-1-1zm-18 0zm15 8zm34 3zm3-4zm2 7zm2-3zm3-1zm10-2zm0 3zm9-3zm5 6zm5-5zm0 4zm3-1zm3-3zm4 4zm58-4zm-55 11zm-15-2zm-10 0zm-2 0zm-2 4zm-3-5zm-6 1zm-3-1zm-3 0zm-5-1zm-2 3zm-3-2zm-1 2zm-4 1zm-2 0zm-2-4zm-3 0zm-3-1zm-4 4zm-7-4zm0 3zm1 10zm4-1zm3-1zm5 3zm4 0zm2-6zm0 6zm2-6zm10 7zm4-2zm1 1zm4-5zm6 4zm5-4zm1-1zm4 7zm0-4zm28 3zm1 0zm43 0zm-59 2zm0 3zm-5 3zm-6 1zm-6-5zm0 4zm-4-3zm-9-1zm-7 5zm-4-3zm0 1zm-1 0zm0 1zm0 0zm-4 0zm-3 1zm-2-7zm0 0zm0 2zm-1 4zm0-1zm-2 2zm-7-5zm-3 1zm-25 0zm5 12zm8-3zm6-1zm0 1zm17 1zm7-3zm13-2zm10 4zm9-3zm8-1zm2 2zm5 0zm1 0zm27 10zm-5 2zm-26-2zm-6 1zm-19-3zm-1-2zm-8 4zm-5-3zm-3 5zm-17-2zm-3-2zm-13 13zm12-4zm7 0zm0-3zm4 4zm8 0zm5-2zm2 4zm3 0zm4-1zm4 0zm7 1zm6-2zm1 3zm1-3zm4 0zm0 1zm4 2zm1-1zm8-4zm3 0zm11-1zm88 0zm-105 12zm-1-5zm-6 2zm-18 0zm-1-1zm-9 4zm0-4zm0 6zm-1-5zm-6 5zm-19 8zm10-3zm9 3zm3-6zm0-1zm3 4zm6-4zm5 5zm6-5zm2 7zm4-5zm15 3zm11 2zm24 0zm-9 7zm-7-3zm-5 4zm-1-4zm-12 2zm-1-1zm0 0zm-5 2zm-23-4zm-3 1zm-2 3zm-9-3zm-7-1zm-11 3zm13 6zm3 4zm13 0zm1-1zm0-2zm1 0zm0-2zm17 3zm5 1zm1 0zm10-1zm29-2zm43 4zm-58 6zm-3 1zm-3-5zm-4 5zm-2-4zm-7 5zm-3-2zm-6-2zm-1 0zm-5-2zm-5 6zm-8-5zm-1 5zm-1-2zm-3 2zm-1 0zm-2-5zm-1-1zm-35 9zm13 0zm1 5zm12-6zm3 3zm3 1zm6-4zm3 3zm4-3zm9 3zm0 1zm1 1zm3-3zm0 2zm5 2zm10-4zm14 1zm190 10zm-130-2zm-6-1zm-10-1zm-41 5zm-3-6zm-4 5zm-3 0zm-11-4zm-4 3zm-1-5zm-5 7zm-4-3zm-2-1zm-2 0zm-3-3zm0 2zm-9 5zm-2-2zm-23 0zm-2-5zm-2 2zm-11 13zm22-7zm14 6zm5-1zm5-2zm6-2zm1 4zm10 2zm8-3zm2-2zm14 2zm1 1zm11-1zm-8 7zm-1 3zm0-3zm-3 0zm-2 2zm-1-2zm-6-3zm-6 6zm-6-1zm-5-4zm-6-1zm-10 2zm-3 0zm-8 0zm-2 4zm-18-4zm-2-1zm8 9zm6-2zm12 6zm16-5zm5 3zm19 3zm9-6zm4 3zm17 2zm9-1zm10 1zm8 1zm11-5zm3-2zm75 10zm-105 5zm-16-4zm-9 4zm-11-5zm-17 0zm-6 0zm-2 3zm-2 0zm-4-2zm-1 1zm-10 2zm0 9zm11-7zm3 3zm2-1zm1 2zm12-3zm21-1zm2 7zm0-2zm5 0zm0-5zm27 7zm29 0zm4-2zm138-4zm41 2zm103 12zm-37-6zm-10 5zm-264 1zm-22-6zm-9 3zm-11-2zm-15 0zm-16 0zm-1 5zm0-4zm-5-1zm-3 3zm-12 5zm1 0zm6 0zm2 0zm4-2zm3 4zm14-2zm8 1zm1-1zm21 1zm2-2zm13 2zm7-2zm3 3zm76-2zm30 11zm-23 0zm-117 0zm-6-3zm-7 5zm-14-5zm-1 2zm-3-4zm-12 1zm0 1zm-34 3zm30 6zm6 1zm8-4zm3 3zm6-3zm11 2zm6 0zm3 0zm3 1zm13 3zm7 0zm27 0zm234-3zm51 6zm-204 0zm-19 0zm-54 5zm-4-2zm-4-2zm-6 5zm-6-6zm-4 5zm-14 0zm-17-2zm-1-1zm-7 3zm-5-6zm0 6zm-2 0zm-2-6zm-1 5zm-1 0zm-1-2zm-4-2zm-1 2zm-1-1zm-1 4zm-5-6zm-15 3zm16 7zm1 2zm2 1zm3-1zm1-1zm4 4zm2-5zm5 4zm2 1zm0-3zm12 1zm2-3zm23 2zm8 1zm1 2zm6-5zm8 4zm9 1zm21 0zm368-7zm21 6zm-22 4zm-3 4zm-2-6zm-3 4zm-1 1zm-2-1zm-344-3zm-19 0zm-16 1zm-13 4zm-4-6zm-21 0zm-19 6zm-5-6zm-5 5zm0-1zm-6 2zm-24-6zm9 15zm0-2zm7-1zm10-4zm10 0zm1 6zm1-1zm1-5zm2 0zm18 3zm10 2zm2-1zm0 2zm7-6zm7 0zm1 4zm26 0zm231-1zm104 2zm1 0zm0-2zm5 1zm1-2zm0 5zm1-1zm0 0zm0 0zm1-5zm0 3zm1 2zm1-1zm1 2zm3-1zm0 1zm1-1zm1 1zm1-1zm2-6zm0 4zm0 1zm1-1zm0-1zm0 0zm1 3zm0 1zm0-1zm1-4zm0 5zm0 0zm1 0zm0-1zm0 0zm1-1zm0 1zm0-1zm0 2zm0-1zm0-2zm1 0zm0 3zm0-2zm0-5zm1 4zm0 3zm0-2zm1 1zm0-4zm1 5zm0-6zm1 2zm0 2zm1-4zm0-1zm0 2zm1 5zm0 0zm0-1zm0-6zm0 5zm0 2zm1 0zm0-2zm0-1zm1-2zm1-2zm0 5zm1-1zm0 1zm1 0zm1 1zm1 1zm1-6zm1 2zm0 1zm0 2zm0-2zm1 3zm1-4zm0-1zm1 4zm0-5zm0-1zm4 6zm1-5zm0 1zm1 2zm1 1zm2-4zm8 8zm-8 2zm-3-1zm-2-2zm-1 4zm-1-4zm0 2zm-1-1zm0 4zm0-4zm-2-1zm-2 4zm-1-2zm-1 1zm0-2zm-1 2zm0-2zm-1 0zm0-1zm0 7zm0-4zm0-3zm0 4zm-1-4zm0 1zm0-1zm-1 2zm0 3zm0 2zm0-7zm-1 6zm0-6zm-1 1zm0 2zm0-3zm0 2zm-1-1zm0 6zm0-5zm0 3zm0-2zm0 3zm0-1zm0 0zm0-2zm0 2zm-1 2zm0-1zm0-6zm0 5zm0-3zm-1 2zm0 1zm0-2zm0 4zm0-4zm0 1zm0-4zm-1 5zm0-3zm0 3zm0-2zm0 0zm-1-1zm0 3zm0 1zm0-1zm0-2zm-1 3zm0 0zm0-6zm0 2zm0 1zm0 4zm0-2zm0 0zm0-5zm0 3zm-1-3zm0 7zm0-2zm0-5zm0 2zm0 1zm-1-2zm0 6zm0-3zm0-2zm0 5zm0-2zm0-5zm0 6zm0 1zm0-4zm0 0zm-1 3zm0-3zm0-3zm0 0zm0 4zm0 3zm0-7zm-1 3zm0 3zm0-5zm0 6zm0-6zm0 3zm0-3zm0 5zm0 1zm0 0zm0-6zm-1 0zm0 2zm0 3zm0-1zm0-5zm0 3zm0 1zm0 0zm0 2zm-1-5zm0 4zm0 1zm0 1zm0 0zm0-7zm0 1zm0 6zm0-1zm-1 1zm0 0zm0-7zm0 1zm0 1zm0 1zm0 2zm0 2zm0-3zm0 0zm0 1zm-1-3zm0-2zm0 3zm0 3zm0-1zm0-3zm0 1zm0 4zm0-5zm0 1zm0 4zm-1 0zm0-7zm0 3zm0 2zm0-5zm0 1zm0 5zm0-5zm0 5zm0 1zm-1-1zm0 1zm0-7zm0 5zm0-2zm0-1zm0 4zm0-1zm0 2zm0-2zm0 0zm0 2zm-1-2zm0-1zm0 1zm0 2zm0-1zm0-3zm0-2zm0 2zm-1 1zm0-2zm0 1zm0-2zm0 3zm0 0zm0 0zm0-1zm0 4zm0-1zm0-4zm0 0zm0 4zm0-5zm-1 5zm0 1zm0-6zm0 5zm0 1zm0-7zm0 5zm0 0zm0-2zm0-3zm-1 7zm0-4zm0-3zm0 6zm0 1zm0 0zm0 0zm0-4zm0 1zm0 2zm0-5zm0 1zm0 2zm0 1zm-1-1zm0 3zm0-4zm0 3zm0 1zm0-1zm0 0zm0 0zm0-1zm0 1zm0-2zm0-1zm-1 4zm0 0zm0-2zm0 0zm0 1zm0-5zm0 5zm0-1zm0-1zm0-3zm0 6zm0-3zm0 2zm0-5zm-1 4zm0 1zm0 0zm0-2zm0-1zm0 3zm0-5zm0 6zm-1-6zm0 6zm0-1zm0-1zm0 1zm0-2zm0 3zm0-7zm0 6zm0 0zm0-6zm0 3zm0 4zm0 0zm-1 0zm0-1zm0-2zm0 0zm0 2zm0-2zm0 1zm-1-1zm0 1zm0 2zm0-5zm0 5zm0-2zm0 2zm0-1zm0-3zm0 1zm0-4zm-1 2zm0 5zm0 0zm0-1zm0-6zm0 1zm-1 5zm0-4zm0 5zm0 0zm0-2zm0 2zm0 0zm0-3zm0-2zm-1 4zm0-2zm0 1zm0-2zm0 4zm0-3zm0-1zm0 3zm0 1zm0-2zm0-3zm0 5zm-1 0zm0-3zm0-1zm0 0zm0 3zm0-1zm0-2zm0 1zm0 0zm0-3zm-1 1zm0 4zm0 0zm0 1zm0-3zm0-3zm0 3zm0 2zm0 1zm0-3zm-1 3zm0-1zm0-3zm0 4zm0-1zm0-4zm-2 5zm-1-3zm0 1zm0 1zm0 0zm0 1zm-1 0zm0-2zm0 2zm-1-2zm0-1zm0 2zm0 0zm-1-2zm0-3zm-1 3zm-1 3zm0-2zm-1 1zm0-4zm0 0zm-1 5zm0 0zm-1-7zm0 7zm-3-5zm-3 5zm0-2zm-2 1zm0 0zm-3-1zm-28-5zm-8 1zm-5 6zm-6-6zm-42 1zm-134 4zm-66-4zm-24 2zm-42-4zm-18 5zm-2-3zm-8 1zm-1 2zm-12-1zm-1 2zm-1-4zm-9 4zm-1-4zm-3-2zm-11 15zm13-6zm6 1zm1 1zm4-1zm16 3zm3-4zm2 2zm0 2zm12-3zm3 1zm32-3zm14 1zm2 0zm21 2zm190 4zm22 0zm6-3zm4 3zm23-2zm6-3zm19 3zm9 2zm4 0zm2 0zm1-1zm0-4zm0 3zm3 2zm0 0zm0 0zm1 0zm0-2zm0-4zm0 6zm1 0zm0 0zm1 0zm0-1zm0 0zm0 0zm1-4zm1 5zm0 0zm0-4zm1 0zm0 4zm0-1zm0-2zm0 1zm0-3zm0 2zm1-4zm0 6zm0 0zm0-2zm0 2zm0 1zm0-1zm1 1zm0-4zm0 2zm0 1zm0 0zm0 1zm0-1zm1-5zm0 6zm0-1zm1-2zm0 0zm0 3zm0-2zm0-3zm0 5zm0-4zm0-1zm1 2zm0 1zm0 1zm0 0zm0 1zm0-4zm0 4zm0-1zm0 0zm1-1zm0 0zm0 2zm0-2zm0-4zm0 3zm0-1zm0 3zm0-3zm1 4zm0-2zm0 2zm0-2zm0 1zm0 1zm0-3zm0 0zm0 2zm0-4zm0 4zm0 1zm0-2zm0 1zm0-1zm1 1zm0 0zm0 0zm0-6zm0 6zm0 0zm0-5zm0 2zm0 0zm0 3zm0 0zm1-4zm0 1zm0-1zm0 5zm0-4zm0 3zm0-1zm0-4zm0-1zm0 3zm1 3zm0-2zm0 2zm0-3zm0 3zm0-3zm0 4zm0-2zm0-1zm0 3zm0-1zm0-5zm1 6zm0-4zm0 0zm0 2zm0 2zm0-2zm0-5zm0 3zm0 4zm0 0zm0 0zm0-2zm0-4zm0 5zm0 1zm1-4zm0 4zm0-2zm0-1zm0 3zm0 0zm0-2zm0-1zm0 2zm0-2zm0-3zm0 4zm0-1zm0 3zm0-3zm1 2zm0-3zm0 1zm0 2zm0 0zm0 0zm0-5zm0 5zm0-3zm0 3zm0 1zm0-7zm1 7zm0 0zm0-1zm0 1zm0-7zm0 6zm0-6zm0 6zm0 0zm0 0zm0-4zm0 0zm0 2zm0 1zm0-1zm0-1zm0-3zm0 5zm1 1zm0 1zm0 0zm0-4zm0 3zm0 1zm0-2zm0-2zm0 3zm0-6zm0 4zm0 3zm0 0zm0-5zm0 1zm0 3zm0-2zm0-3zm0 4zm0 0zm0 2zm1-5zm0 5zm0-7zm0 7zm0-6zm0 5zm0-6zm0 3zm0 3zm0-2zm0 1zm0-4zm0 4zm0 1zm0-3zm0 3zm0 0zm1 1zm0-1zm0-1zm0-5zm0 6zm0 0zm0-2zm0 1zm0 2zm0-5zm0 5zm0-7zm0 3zm0-1zm0 3zm0-2zm0 3zm0 1zm0-7zm0 0zm0 1zm1 4zm0-1zm0 0zm0-1zm0 2zm0-3zm0 3zm0 1zm0-5zm0 0zm0 5zm0 1zm0-4zm0 0zm0 3zm0 1zm0-6zm1 6zm0-4zm0 0zm0 3zm0 0zm0 0zm0-6zm0 1zm0-1zm0 4zm0-4zm0 4zm0 2zm0-3zm0 3zm0 1zm0-4zm0 2zm0 0zm0 0zm0 1zm0-3zm0-2zm0 0zm1 4zm0-2zm0 4zm0 0zm0-7zm0 7zm0-4zm0 4zm0-7zm0 4zm0-4zm0 4zm0 2zm0-1zm0-1zm0-1zm0 1zm0-3zm0 5zm0-3zm0 4zm0-3zm0 2zm0-5zm0 0zm1 3zm0 3zm0 0zm0-7zm0 6zm0-2zm0-2zm0 0zm0 1zm0 2zm0-2zm0 2zm0-4zm0 4zm0-4zm0 3zm0-1zm0 2zm0-3zm0-2zm0 7zm0-1zm0-3zm0 2zm0 1zm0-2zm0-2zm0 3zm0-1zm1-1zm0-2zm0 4zm0-4zm0 4zm0 2zm0 0zm0-4zm0 0zm0-1zm0 4zm0-1zm0-5zm0 6zm0 1zm0-1zm0-5zm0 6zm0-2zm0-1zm0 0zm0-3zm0-1zm0 1zm1 4zm0-4zm0 1zm0 0zm0 0zm0 1zm0 4zm0-3zm0 1zm0-1zm0 0zm0-4zm0 6zm0 1zm0-5zm0-2zm0 4zm0 3zm0-3zm0 3zm0 0zm0-2zm0-5zm0 6zm0-2zm0 0zm1 1zm0 2zm0-3zm0 3zm0-2zm0-2zm0 3zm0-4zm0 4zm0-5zm0 1zm0-1zm0 2zm0-1zm0 1zm0 0zm0-1zm0 1zm0 2zm0 0zm0 0zm0-5zm0 7zm0-2zm0 2zm0-1zm0-1zm0-5zm1 5zm0-5zm0 2zm0 3zm0-2zm0 4zm0-2zm0 2zm0-4zm0-3zm0 7zm0 0zm0-5zm0 4zm0-6zm0 4zm0 3zm0-4zm0 1zm0-4zm1 2zm0-2zm0 0zm0 4zm0 2zm0-1zm0-2zm0 0zm0-1zm0 1zm0-3zm0 0zm0 3zm0 0zm0 4zm0 0zm0 0zm0-1zm0-6zm0 7zm0-4zm1 0zm0-1zm0 1zm0 0zm0 4zm0-1zm0-3zm0-2zm0 6zm0 0zm0-3zm0 0zm0 1zm0-4zm0 2zm0-3zm0 0zm1 2zm0-1zm0 3zm0 3zm0 0zm0-5zm0-1zm0 1zm0-1zm0 4zm0-1zm0-2zm0 3zm0-5zm0 5zm0-2zm1 2zm0-3zm0 2zm0 1zm0 1zm0-4zm0 1zm0-3zm0 4zm0 3zm0-6zm0 6zm0-5zm0-1zm0 4zm0-4zm0-1zm0 6zm0-6zm1 2zm0 4zm0 0zm0-5zm0 6zm0-3zm0 1zm0-2zm0 3zm0-3zm0 2zm0-5zm1 3zm0-2zm0 6zm0-5zm0 3zm0-2zm0-2zm0 2zm0 0zm0 3zm0-2zm0-4zm0 1zm0 6zm0-3zm0 1zm0 0zm0-5zm0 7zm0-3zm0 2zm0-6zm0 0zm0 3zm1 1zm0 0zm0 0zm0-3zm0 2zm0 1zm0 0zm0 3zm0-2zm0 0zm0 0zm0-5zm0 0zm1 6zm0 1zm0-3zm0 1zm0-2zm0 4zm0-4zm0 3zm0-6zm0 3zm0 4zm0-7zm1 6zm0-2zm0 2zm0-4zm0 1zm0-3zm0 1zm0 2zm0-2zm0 2zm1 4zm0-6zm0-1zm0 0zm0 4zm0 1zm0 0zm0-4zm0 1zm0 3zm1-4zm0 3zm0-2zm0 1zm0 2zm0-4zm0 4zm1-4zm0 4zm0-2zm0 2zm0-5zm0 5zm0-1zm0-2zm0-1zm0 2zm0 2zm0 1zm0-1zm1-5zm0 0zm0 0zm0 1zm0 3zm0 1zm0-5zm0 1zm0 5zm0-2zm0 0zm1-1zm0 0zm0 4zm0-7zm0 2zm0 5zm0-4zm0-1zm0 1zm0-1zm1 0zm0 2zm0-2zm0 4zm0-3zm0-2zm0 3zm0-4zm1 3zm0 2zm0-2zm0-1zm0-2zm0 4zm0 1zm0-3zm0 1zm0-2zm0 0zm1-1zm0 4zm0-4zm0 0zm0 5zm1 0zm0-2zm0-1zm0 5zm0-3zm0-2zm0-2zm1 1zm0 6zm0-6zm0-1zm0 0zm1 2zm0 2zm0-4zm0 4zm0-1zm0 0zm1-3zm1 3zm0-3zm0 3zm0-1zm0-2zm0 5zm1-3zm0-1zm0 1zm0-1zm2 1zm0-2zm0 5zm0-5zm0 4zm1-4zm0 6zm0-2zm1-2zm1-2zm1 4zm4-3zm0 4zm2-5zm0 5zm1 1zm-10 8zm-1-1zm-3-5zm-4 0zm0 0zm-1 0zm0 3zm-1-2zm-1 6zm-1-7zm0 3zm-1-3zm0 1zm-1 0zm0 2zm0-3zm-1 2zm0 1zm-2-1zm0-2zm0 4zm0-1zm-1-3zm0 3zm0-1zm0 0zm0-2zm0 4zm-1-2zm0-1zm0 0zm0 1zm0-2zm-1 0zm0 5zm-1-2zm0 0zm0 0zm0-2zm0 0zm0 2zm0-3zm-1 3zm0 3zm0-5zm0-1zm0 7zm0-7zm0 1zm0 4zm-1-3zm0 2zm0-1zm0-2zm0 1zm0 4zm0-6zm0 4zm-1 2zm0 0zm0-4zm0 2zm0 0zm0-4zm0 2zm0-1zm0 0zm0 3zm-1 1zm0-1zm0 0zm0-1zm0 0zm0 1zm0-2zm0 1zm0 1zm0-1zm0 2zm0-4zm-1-1zm0 3zm0-1zm0-1zm0-1zm0 0zm0 0zm0 0zm0 1zm0 3zm0 3zm0-7zm-1 1zm0 0zm0 2zm0 3zm0-5zm0 4zm0 2zm0-7zm0 0zm0 0zm0 3zm0-2zm0-1zm-1 2zm0 1zm0-2zm0-1zm0 3zm0 2zm0 1zm0-5zm0 0zm0-1zm-1 2zm0-1zm0 0zm0 2zm0 3zm0-3zm0-3zm0 2zm0-2zm-1 4zm0-2zm0 3zm0 1zm0-6zm0 7zm0-6zm0-1zm0 1zm-1-1zm0 0zm0 0zm0 3zm0-1zm0 0zm0-1zm0 0zm0 3zm0 1zm0-3zm0 5zm0-7zm0 2zm0 5zm0 0zm-1 0zm0-5zm0 0zm0 3zm0-2zm0-3zm0 0zm0 0zm0 7zm0-6zm0 1zm0 0zm0-2zm0 0zm0 2zm-1-2zm0 7zm0-5zm0 1zm0-1zm0-2zm0 6zm0-6zm0 0zm0 7zm0-3zm0 0zm0-4zm0 0zm0 1zm0 6zm0 0zm0-4zm0-3zm-1 2zm0 4zm0-2zm0-4zm0 7zm0-6zm0 4zm0-5zm0 0zm0 5zm0-4zm0 0zm0 2zm0-3zm0 2zm0 3zm0-5zm0 4zm0 2zm0-2zm0 1zm0-5zm-1 5zm0-5zm0 1zm0-1zm0 2zm0 2zm0 0zm0 1zm0 0zm0 0zm0-1zm0-1zm0 4zm0-5zm0 1zm0 0zm0-1zm0 1zm0-1zm0 1zm0-2zm0 4zm-1-1zm0-1zm0 3zm0-2zm0-1zm0-1zm0 0zm0 2zm0-2zm0 2zm0-2zm0 1zm0-1zm0-1zm0 0zm0 0zm0 0zm0 5zm0-6zm0 3zm0-2zm0 1zm0 4zm0-1zm0-1zm0 0zm-1 2zm0-2zm0 2zm0-6zm0 1zm0 1zm0-2zm0 5zm0-4zm0 5zm0 0zm0-4zm0 1zm0 0zm0 0zm0-1zm0 3zm0-1zm0 3zm0-5zm0 4zm0-5zm0 4zm0-1zm0-4zm0 2zm-1 4zm0-1zm0-4zm0 1zm0 1zm0-2zm0 2zm0-1zm0 1zm0 4zm0-1zm0-4zm0-1zm0-1zm0 1zm0 3zm0 1zm0-3zm0-2zm0 1zm0 3zm0-2zm0 4zm0-2zm-1-1zm0-2zm0 6zm0-3zm0-4zm0 2zm0 1zm0 1zm0-2zm0-2zm0 2zm0 1zm0 3zm0-6zm0 6zm0-5zm-1 6zm0 0zm0-6zm0 3zm0-3zm0-1zm0 6zm0-6zm0 0zm0 3zm0-1zm0 1zm0-3zm-1 1zm0 1zm0-1zm0 1zm0 0zm0 2zm0-1zm0 0zm0-1zm0 2zm0-1zm0-1zm0-1zm0-1zm0 4zm0 3zm0-5zm0 2zm0 3zm0-6zm0 1zm0 3zm0-3zm0 2zm0-3zm0 6zm0-7zm-1 5zm0 1zm0 1zm0-3zm0 1zm0 2zm0-6zm0 5zm0-2zm0 2zm0-3zm0 3zm0-5zm-1 6zm0-7zm0 3zm0-1zm0-2zm0 4zm0-2zm0 1zm0-3zm0 1zm0 6zm0-5zm0 0zm0 5zm0-2zm0-3zm0 0zm0-2zm-1 5zm0-2zm0-3zm0 3zm0 2zm0-3zm0 1zm0-3zm0 6zm0-3zm0 4zm0-4zm0 2zm0-2zm0 3zm0-3zm0-1zm0 0zm0 3zm-1 1zm0 0zm0 0zm0-4zm0-1zm0-1zm0 3zm0 1zm0 3zm0-2zm0 0zm-1-4zm0 5zm0-5zm0 3zm0 2zm0 0zm0-2zm0 3zm0-5zm0 4zm0-4zm0 2zm0-4zm0 1zm0 4zm-1 0zm0 0zm0-1zm0 3zm0-7zm0 4zm0 1zm0 2zm0-7zm0 2zm0 5zm0-6zm0 0zm0 4zm0-5zm0 4zm0 3zm0-7zm-1 3zm0 1zm0 0zm0 0zm0 0zm0 0zm0-3zm0 2zm0 2zm0-5zm0 1zm0-1zm0 3zm0 1zm0 2zm0-4zm0 2zm0 0zm-1-1zm0-1zm0 5zm0 0zm0-6zm0 3zm0 2zm0 0zm0 1zm0-7zm0 3zm0-1zm0 4zm0-1zm-1-1zm0-3zm0 6zm0-2zm0 2zm0-3zm0-1zm0-2zm0 5zm-1 1zm0-1zm0-2zm0 1zm0-4zm0 6zm0-2zm0-2zm0 1zm0-1zm0-3zm0 7zm0-2zm0-3zm-1 0zm0 4zm0 1zm0-6zm0 3zm0 2zm0-3zm0-1zm-1 0zm0 5zm0 0zm0 0zm0-3zm0-1zm0 2zm0-3zm0 2zm0 2zm0-6zm0 3zm-1 3zm0 1zm0-1zm0-1zm0-1zm0 2zm0-5zm0 0zm0 3zm0-1zm0-2zm-1 6zm0-5zm0 1zm0-1zm0 2zm0 2zm0-1zm0-2zm0 0zm-1 2zm0 0zm0 1zm0-3zm0 3zm0-3zm-1-1zm0 2zm0-4zm0 7zm0 0zm0 0zm0-4zm0-1zm0 1zm0-3zm0 2zm0 5zm0 0zm-1-3zm0 0zm0 2zm0 1zm0-3zm0 2zm0-2zm0 3zm0-6zm0 2zm-1 0zm0 1zm0 0zm0-1zm0 0zm0 4zm-1-4zm0 4zm0 0zm0-6zm0 3zm0 2zm0-3zm0 2zm-1-1zm0 0zm0 1zm0-2zm0 0zm0 4zm0-4zm0 2zm0 2zm0-4zm-1 3zm0 1zm-1-2zm0-1zm0 2zm0-3zm0-2zm0 1zm0 0zm-1 3zm0-5zm0 2zm0 5zm0-4zm-1-3zm-1 3zm0 4zm0-3zm0 0zm0 0zm0-2zm-2 4zm0 1zm-1-1zm0-1zm0 1zm-1 1zm-2 0zm0 0zm-1-7zm-1 0zm-17 7zm-4-3zm-5-2zm-1 1zm-1-1zm-1-1zm-1 4zm-2-4zm-3 5zm-5-6zm-4 5zm-1-4zm-2 1zm-2-2zm0 7zm-3-5zm-2 2zm-2-2zm0 0zm-2 4zm-26-6zm-12 3zm-8-1zm-136-1zm-14 5zm-7-1zm-13 2zm-45-6zm-11 0zm-6 5zm-8-1zm-4-1zm-15-2zm-8 0zm-1 0zm-8-1zm-33 2zm-3-2zm49 12zm1 2zm10 0zm4-5zm5 1zm6 3zm4-1zm1 1zm3-6zm5 7zm2-4zm21 2zm12-4zm1 4zm64-1zm19 1zm22-1zm29-4zm80 7zm2-5zm0 5zm2-3zm8-1zm1 2zm1-3zm1 1zm3-1zm1 2zm2-3zm1 2zm0 0zm1-2zm1 3zm0-1zm1 0zm3 4zm0 0zm1-7zm2 6zm1 1zm1-4zm0 2zm1 2zm0-1zm0-6zm3 1zm1 5zm1-1zm0-4zm0 4zm3 2zm0-6zm2 1zm1 4zm0-1zm0 1zm2-3zm0 0zm1 2zm0 2zm2 0zm5-5zm1-2zm0 4zm0 1zm3 0zm0-4zm0 4zm4-5zm0 1zm0 0zm2 2zm2 0zm0 1zm2-4zm1 2zm1-2zm1 5zm0 2zm2-5zm0 5zm1-7zm1 6zm0-1zm1-1zm0-4zm1 5zm0 0zm1-4zm0 2zm0 2zm1-4zm1 2zm0-1zm1 2zm0 1zm1-3zm0 3zm0 1zm1-4zm0-2zm0 2zm0 0zm0 0zm1 3zm0 2zm0-5zm0 0zm1-1zm0 2zm0 0zm0 0zm1 2zm0 0zm0-4zm0 3zm0 3zm0-4zm0 0zm1 2zm0-2zm0 4zm0-3zm0-1zm0-1zm1 1zm0 0zm0 2zm0-4zm0 6zm0-1zm0 0zm0-6zm1 5zm0-3zm0 2zm0-3zm0 0zm1 1zm0 2zm0-1zm0-1zm0-1zm0 2zm1 3zm0-1zm0-2zm0-1zm0 4zm1-2zm0-1zm0-2zm0 3zm0-3zm0 5zm1-5zm0-1zm0 0zm0 1zm0 6zm0-1zm0-2zm0-4zm0 5zm1-5zm0 0zm0 0zm0 1zm0 5zm0-3zm0 2zm0-5zm0 6zm1 0zm0-5zm0 0zm0 3zm0-3zm0 4zm0-5zm0 0zm0 0zm1 3zm0 3zm0-5zm0 1zm0-1zm0-1zm1 2zm0 1zm0 4zm0-7zm0 0zm0 4zm0-4zm0 5zm1-4zm0 3zm0 0zm0 0zm0 2zm0-4zm0-1zm0 5zm1-5zm0 4zm0-4zm0 0zm1 2zm0 2zm0-5zm0 5zm0-4zm0-1zm0 1zm0 1zm0 0zm0 0zm0-2zm0 4zm1-4zm0 0zm0 2zm0-1zm0 2zm0-2zm0 3zm0 1zm0-5zm0 0zm0 2zm1-2zm0 2zm0 4zm0-6zm0 3zm0-3zm0 1zm0 4zm0-1zm0 0zm1-2zm0-2zm0 1zm0 1zm1-2zm0 1zm0-1zm0 3zm0-3zm0 1zm0 6zm0-6zm1 0zm0 0zm0 6zm0-7zm0 3zm0 0zm0 3zm0-1zm0-4zm0-1zm0 2zm0 3zm0-4zm0 1zm0 5zm1-2zm0-4zm0 5zm0-3zm0-3zm1 1zm0 0zm0 1zm1-2zm0 2zm0-2zm0 1zm0 0zm0 1zm0-1zm0 5zm0-6zm1 2zm0-1zm0 0zm0 5zm1-5zm0 5zm0-2zm0-4zm1 0zm0 2zm1-2zm0 5zm0-4zm0-1zm0 3zm0-1zm1 2zm0 1zm0 1zm0-6zm0 1zm1 0zm0 3zm0-3zm0-1zm0 0zm1 0zm0 0zm1 2zm0 1zm0-3zm0 0zm0 0zm2 0zm1 0zm0 1zm0 4zm1-2zm1-3zm1 0zm3 4zm0-4zm1 5zm1-5zm0 0zm5 0zm-10 9zm-2-1zm-16 1zm-1 2zm-1 0zm-3 2zm-1-5zm-1 0zm-1 1zm-1-1zm-2 2zm-1-1zm0 3zm-1-4zm0 1zm-1 0zm0 1zm-1 0zm-1-1zm0 1zm-1-1zm0 4zm-1-5zm-1 0zm-1 0zm-1 0zm-1 0zm-1 6zm0-6zm0 5zm-1-4zm0-1zm0 5zm-1-4zm0 3zm-1 2zm-1-6zm-1 6zm-1-1zm0-1zm-6-2zm-1 2zm-1 0zm0 2zm-1-3zm-3-3zm-2 4zm-3-3zm-1 1zm-5 4zm-1 1zm-1-4zm-1-3zm0 6zm-2-4zm-1 0zm-2 4zm-1 0zm0-5zm-1 4zm0 0zm-1-4zm0 0zm0 3zm-2 3zm0-5zm0-2zm0 3zm-1 1zm-1-1zm0-2zm0 1zm-1-2zm0 4zm0 0zm-1 0zm0-3zm-1 3zm-1-4zm0 2zm-1 2zm0-3zm0 6zm0-5zm-3-2zm0 6zm-1-2zm0 0zm-1-2zm0 0zm-1-1zm0 6zm-1-7zm-1 1zm-1 0zm0 4zm-3-5zm0 7zm-2-4zm-1 3zm0 1zm-1-3zm-1-1zm0-2zm-1 1zm0 3zm-2 0zm0-5zm-1 3zm-2 3zm-1 0zm-1-5zm-1 5zm-6-1zm0-2zm-1 1zm0 0zm-7 1zm0-3zm-5 3zm-8-3zm-1 3zm-33 1zm-46-1zm-6-4zm-5 6zm-3-4zm-11 2zm-20 0zm-14 2zm-3-3zm-60 1zm-29 2zm-2-5zm-4 0zm-1 4zm-3-6zm-6 7zm-2-3zm-1-4zm0 0zm-2 6zm-1-2zm-1 0zm-11 2zm-23-1zm8 10zm3-4zm1-3zm4 7zm8-4zm3 2zm2-1zm16-3zm3 3zm0 2zm5-5zm5 6zm0 0zm4-4zm0 4zm7-6zm30-1zm9 3zm2 3zm16-4zm9 4zm8 0zm1 0zm6 1zm1-1zm8-3zm1 2zm6 0zm4-3zm3 4zm18-5zm2 2zm15-1zm48 5zm3-6zm5 1zm7 4zm18-6zm5 7zm1 0zm2-6zm1 3zm0 0zm1 0zm1 3zm1-5zm1-1zm1 4zm0 0zm2-1zm5-4zm0 4zm0 0zm1 0zm0-1zm1-2zm1 2zm0-2zm2-1zm4 6zm1 0zm0-5zm1 0zm1 3zm2 3zm0-7zm0 4zm0 3zm2 0zm0-2zm2-1zm2-1zm1 2zm0-5zm1 7zm0-4zm1 4zm3-7zm0 7zm0 0zm2-4zm2 1zm0-4zm1 3zm2-2zm0-1zm0 0zm0 0zm2 1zm1 0zm1 6zm0-3zm0 0zm0-1zm1-3zm1 2zm0 5zm0-7zm0 5zm2 2zm1-1zm0 1zm0-5zm4-2zm0 7zm2-3zm1 0zm0 1zm4-2zm0-1zm1-2zm0 3zm6 0zm0-1zm1 1zm3-1zm2 0zm2-2zm1 5zm0-3zm1 1zm1 0zm1 3zm8-6zm7 3zm-5 7zm-12-2zm-1 3zm-6-2zm-10 1zm-3 3zm-2-5zm-2 4zm-2-2zm-2 5zm0-2zm-5-4zm-7 3zm-2-4zm-2 3zm-4-3zm-2 3zm0 4zm-1-7zm-1 3zm-2 4zm-1-1zm0-4zm-6-2zm0 1zm-3 0zm-3 5zm0-6zm-3 7zm-2-6zm-4 2zm-4-1zm-7-2zm-2 4zm-1-2zm-2 1zm-7-3zm0 0zm-2 3zm-7 0zm-2 1zm-1 3zm-3-3zm-3 0zm-3 2zm-3-4zm-4-1zm-2-1zm-7 3zm-5-3zm-10 4zm-7 3zm-9-6zm-4 4zm-5 1zm-1-4zm-1 2zm-2 3zm-3-1zm-12 0zm-11-1zm-10-4zm-13 3zm-5-3zm-3 1zm-2 5zm-1-1zm-19-5zm-2 5zm-1-5zm-26-1zm-12 0zm-19 0zm-1 0zm-3 0zm-3 3zm-1-2zm-2 1zm-6 5zm-2-1zm-3 0zm-5 0zm-2-5zm-8 5zm0-5zm0 6zm0-1zm-5 1zm-10-2zm-29-3zm-17 8zm25 3zm6-1zm12 1zm2-2zm2 1zm2-2zm2 5zm10-3zm1 1zm1 2zm2-2zm3-4zm4 6zm3 0zm1-1zm1 1zm2-2zm1-3zm1 3zm0 1zm0-3zm2 3zm0-5zm7-1zm1 7zm3-6zm0 1zm1 4zm5 0zm2-4zm1-2zm5 0zm3 3zm24-3zm9 7zm5-4zm16 2zm2-5zm4 3zm7 1zm3 3zm1-5zm1 3zm6-3zm0 3zm3 1zm2-2zm2 0zm4-4zm1 6zm4-5zm1 5zm3-5zm3 0zm0 4zm1-1zm2-1zm1-1zm0 3zm0 2zm5 0zm1-2zm18-1zm12-4zm11 4zm5-2zm6 3zm1-1zm2-4zm7 3zm10 2zm20-3zm4 0zm3 3zm3-2zm4 2zm3-1zm8-2zm5-2zm4 6zm2-3zm1-3zm5 0zm0 3zm1-2zm1-1zm4 2zm1-2zm2 7zm8-2zm10-4zm10 1zm-8 6zm-24 6zm-9-4zm-1-1zm-25 1zm-21 4zm-9-6zm-3 4zm-15 1zm-5-5zm-21 1zm-25 4zm-2-4zm-3 0zm0 6zm-1-3zm-1-4zm-2 4zm-3-4zm-4 5zm-1 1zm-1-5zm-3 5zm-1-3zm-1-3zm-1 7zm-5-1zm-5 0zm-2-2zm-1-2zm-1 1zm-3 3zm-1 1zm-1-6zm-9 2zm-2-3zm-3 6zm-3 0zm-1-5zm-3 3zm-8 3zm-1-2zm0-1zm-1 0zm-2 0zm-3-3zm0 4zm-4-4zm-1 2zm-2-2zm-3 4zm-5-1zm-2-1zm-1-3zm-9 7zm-2 0zm0 0zm-4-6zm-3 2zm-1-1zm-1-1zm-3 6zm0 0zm-1-1zm0-1zm-1 1zm-1-1zm-2 1zm-1 0zm0-4zm-1 0zm-1 5zm-1-1zm0-6zm-1 7zm-2 0zm-3 0zm0-4zm-1 1zm-1-1zm0 4zm-2 0zm0-4zm-1 1zm0 2zm-1-3zm0 3zm-1-2zm-1-2zm0 1zm-1 3zm0-6zm-1 4zm-1 1zm-1 1zm0-6zm-1 5zm-1 2zm0-4zm0 0zm0-1zm-1 1zm-1 4zm-2-4zm-1-2zm-1 1zm0-2zm0 6zm0-2zm0-4zm-2 4zm-1 1zm0-3zm0-1zm-1 3zm0 3zm-1-5zm0 1zm-1 2zm0-4zm-4-1zm-3 5zm0-2zm-1 2zm-1-2zm-1 0zm-1-1zm-3 5zm0-7zm-1 4zm-1-3zm-1 3zm-2-3zm-6 2zm-1 0zm-6 4zm-1-2zm-4-1zm-4-3zm-18 0zm10 13zm7-2zm2-1zm3-3zm1 7zm1-5zm1 5zm3-7zm5 2zm0 1zm2 2zm0-5zm5 5zm1 1zm1-5zm3 0zm0 2zm1 3zm0-1zm0-3zm2 4zm0-2zm0 2zm2-6zm0 5zm1-1zm0-1zm1-2zm0-1zm0 4zm1-4zm0 3zm1 2zm0 2zm0-7zm1 2zm0 5zm1 0zm1-2zm0-1zm0-1zm1 3zm1-5zm0 0zm1 3zm0-1zm0 3zm0 0zm1-4zm0 2zm0 1zm1 1zm1-5zm0 2zm2 4zm1 0zm0-1zm0-1zm0-1zm1-2zm1-2zm1 5zm0-2zm0 0zm1 3zm0 1zm1 0zm0-7zm0 3zm0 3zm1 0zm0 1zm0-5zm1 1zm0 4zm1 0zm0-2zm0-1zm0-3zm0-1zm0 7zm0-1zm0-3zm0 3zm0-2zm1 3zm0-4zm0 1zm1-3zm0 1zm0 1zm0-3zm0 0zm0 3zm0-2zm0 6zm1-5zm0 3zm0-4zm1 4zm1-5zm0 1zm0 5zm0-3zm0 4zm1-4zm0 4zm0 0zm0 0zm0-4zm0 1zm0-1zm0 1zm0-3zm0 6zm1-2zm0 1zm0-4zm0 0zm1 2zm0 0zm1 2zm0 0zm0-3zm1 3zm0-3zm1 3zm0 1zm0-4zm0 1zm0-2zm0-1zm0 4zm1-3zm0 1zm0-1zm0 5zm0-3zm0-3zm0 4zm1 2zm0-6zm0 1zm0 5zm0-3zm1-1zm0-1zm1 5zm1-4zm0 2zm0-5zm1 4zm1-1zm0-1zm0-1zm0 2zm0-1zm1 5zm0-6zm0 2zm0 2zm0-2zm0-1zm1 3zm0-3zm0 1zm1 3zm0-2zm1-4zm0 7zm0-1zm2 0zm1-6zm0 0zm1 0zm0 0zm0 3zm0 0zm1 4zm1-2zm0-4zm0 1zm1 3zm0-5zm0 5zm0 1zm1-5zm0 6zm0-2zm1-2zm1 4zm0-5zm1 1zm0 2zm4 1zm0-1zm1 2zm0 0zm2-3zm0-3zm5 3zm0 3zm1 0zm0-1zm0-3zm2 0zm1 2zm4 0zm1-5zm2 5zm0-2zm2 1zm0 1zm0 0zm4-3zm1 5zm3-2zm0-5zm3 3zm1 2zm4-3zm1 4zm1 1zm1-5zm1 1zm0 2zm2-4zm2 3zm2 3zm0-5zm5-1zm1-1zm0 5zm0-4zm0-1zm0 6zm2 1zm3-4zm1-2zm5 3zm2-1zm2 2zm2-2zm2-2zm11 2zm2 4zm2-1zm5-1zm1 1zm6-6zm5 5zm1-2zm7 2zm2-5zm7 3zm0 3zm0-1zm4-5zm1 2zm8 5zm1-1zm3-2zm1-1zm1 4zm8-4zm5 1zm3-2zm10 1zm57 5zm-22 5zm-6-3zm-31 1zm-10 2zm-2-4zm-1 6zm0 0zm-4-2zm-13 2zm-18-4zm-2 4zm-21-3zm-1 3zm-1-2zm-3 0zm-9-4zm-2 2zm-7 3zm-5 0zm-1 0zm-3-6zm0 1zm-3 0zm-2 3zm-1 2zm-3-1zm-2 0zm-1-5zm-1 6zm-2 0zm-2-5zm0 6zm-2-5zm-3 1zm-3-1zm-1 5zm-1-3zm-2-3zm-2 3zm0 3zm-1-3zm-1 1zm0-1zm-2 3zm-1 0zm-1-2zm-1-1zm0 0zm-1-1zm-1 2zm-3 1zm0-5zm-2 1zm-1-2zm0 7zm-1-7zm-2 7zm0 0zm0 0zm0-2zm-1-1zm-1-1zm-1 3zm0 0zm0-3zm-1-1zm0 5zm0-6zm-1 3zm0 3zm0-4zm-1 0zm0-3zm0 4zm0-3zm-1 4zm0 2zm0 0zm-1 0zm0 0zm0-3zm0-4zm-1 5zm0 2zm0-2zm0 0zm0-1zm0-2zm0 3zm-1-3zm0 3zm0-1zm0 1zm-1 0zm0-3zm-1-2zm0 2zm-1 5zm0 0zm0 0zm0-3zm0-3zm0 5zm0-4zm0 5zm0-1zm-1-2zm0 2zm0-6zm0 4zm0 2zm0 1zm-1-1zm0-5zm0 6zm0-2zm0 1zm0-3zm0 4zm-1-6zm0-1zm0 0zm0 1zm0 4zm-1-5zm0 3zm0-3zm0 5zm-1-2zm-1 3zm0-1zm0-4zm0-1zm0 4zm-1-3zm0-1zm0 2zm0-1zm0 1zm0 3zm-1 0zm0 2zm0-2zm0 0zm-1 2zm0 0zm0-4zm0 2zm0-2zm0 0zm0-2zm0 1zm-1 1zm0 4zm0-2zm0 1zm0 1zm0-1zm0 1zm0-1zm-1-2zm0 1zm0 2zm-1 0zm0 0zm0 0zm0-7zm0 1zm-1 4zm0 2zm0-4zm0 3zm0-1zm0 2zm0-7zm0 7zm0 0zm-1 0zm0-5zm0 5zm0-3zm0 3zm-1 0zm0-7zm0 1zm0 4zm-1 0zm0 0zm0-4zm0 2zm0-1zm-1 4zm0 0zm0-4zm0-1zm0 4zm-1-2zm0 1zm0 0zm0-4zm0 7zm0-2zm0 1zm0-4zm-1 4zm0-5zm0 4zm0 1zm0-6zm-1 7zm0-1zm0-1zm0 0zm0-2zm0-1zm0 0zm0 0zm0 2zm0-4zm-1 7zm0-1zm0-5zm0 4zm0 1zm0 1zm0-3zm-1-3zm0 3zm0 1zm0-1zm0-1zm0 2zm0 2zm0-3zm0 3zm-1 0zm0-2zm0-1zm0-1zm0 2zm0-4zm0 5zm0-1zm0 1zm-1-3zm0 1zm0-2zm0 4zm-1 1zm0 0zm0-2zm0-1zm0 0zm0-2zm-1 2zm0 0zm0 2zm0-2zm0-1zm0 3zm0-3zm0 4zm-1-2zm0-1zm0 1zm0-2zm0 1zm0-2zm0 4zm0-1zm0-3zm-1 2zm0 0zm-1-1zm0 3zm0-1zm0-1zm0 3zm0 0zm-1-2zm0-1zm0 0zm0 2zm0-3zm0 1zm-1 2zm0-4zm0 5zm0 0zm-1-4zm0 2zm0-3zm0 2zm0-1zm0 4zm-1 0zm0-3zm0 0zm0-4zm0 6zm0-4zm0-1zm-1 2zm0 4zm0-3zm0-4zm0 0zm0 4zm0-2zm0 3zm-1-2zm0 2zm0-2zm0 2zm-1 1zm0-4zm0 1zm0-2zm0 2zm0 2zm0-3zm-1 0zm0-2zm0 6zm-1-5zm0 1zm0 2zm0-2zm0 3zm0 1zm-1-2zm0 2zm0-5zm-1 3zm0-3zm0 4zm0-4zm0 2zm-1 3zm0-6zm0 4zm0 1zm0 2zm0-7zm0 4zm0 0zm0 1zm0-4zm-1 2zm0-3zm0 0zm0 0zm0 2zm0 0zm0 2zm0-4zm-1 1zm0-1zm0 4zm0 3zm0-6zm0-1zm-1 7zm0-6zm0 2zm0 4zm0-2zm0-2zm0 2zm0 2zm-1-3zm0 1zm0-1zm0 0zm0 0zm0 2zm-1-2zm0-3zm0 4zm0 1zm0 0zm0-2zm0-1zm0 0zm0-3zm-1 0zm0 7zm0 0zm0-7zm0 5zm0-1zm0-1zm0 4zm-1-6zm0 0zm0 1zm0 1zm0 1zm0 0zm0 2zm-1-4zm0 3zm0-2zm0 3zm0 1zm0-5zm0 0zm-1 4zm0-2zm0 3zm0-3zm-1-4zm0 1zm0 6zm0-7zm0 6zm-1-3zm0 3zm-1-1zm0-5zm0 2zm0 5zm0-6zm0 6zm0-2zm-1-5zm0 3zm0 1zm0 1zm-1 1zm0-1zm0 0zm0 2zm-1-1zm0-1zm0 1zm0-3zm0-2zm0 1zm-1 0zm0-1zm0-1zm0 4zm-1 0zm0 2zm0-2zm0-1zm-1-3zm0 2zm0 2zm0 1zm0 1zm0-2zm0 3zm-1 0zm0-4zm-1-3zm0 1zm0 6zm0-1zm-1-6zm-1 1zm0 5zm0-3zm-1 3zm0-1zm0 2zm0-1zm0-6zm-1 2zm-1 5zm-1-6zm0 2zm0 3zm0-5zm-1 5zm-1-4zm0 0zm0 4zm0-3zm0 4zm-1-4zm0-3zm-1 7zm0 0zm-4-7zm-1 3zm-2 2zm0-5zm-2 4zm-2-1zm0 3zm0-6zm-1 7zm-1 0zm-3-1zm0-1zm-1 1zm-8-1zm-9 1zm-5-3zm-1-3zm21 9zm0 4zm3-1zm2-3zm1 4zm2-5zm2 0zm2 4zm1-3zm0 3zm0 2zm1-1zm0 1zm1 1zm1-4zm1 2zm0-3zm1 4zm1-1zm0-1zm0 0zm0 2zm1-5zm1 3zm1-2zm0 3zm0-3zm2 0zm0-2zm1 2zm0 3zm0-4zm0 4zm1 2zm0-2zm0-3zm0 4zm0-1zm1-5zm0 4zm0-4zm0 5zm1-5zm0 1zm0 3zm0 3zm0 0zm0-4zm0 1zm1 2zm1-2zm0 2zm0-1zm0-1zm0-3zm1 4zm0-1zm0-4zm0 3zm0 2zm0-1zm0 1zm0-1zm1-1zm0 2zm0-5zm0 0zm0 2zm0 3zm0-2zm0 3zm0-3zm1 1zm0 2zm0-1zm0-3zm1 2zm0-2zm0 4zm0 1zm0-2zm0-2zm0 0zm1-1zm0 1zm0 3zm1-2zm0-1zm0-2zm0 0zm0 3zm1-1zm0 0zm0-1zm0 5zm0-5zm1 5zm0-7zm0 5zm0 0zm0 1zm0 0zm1-1zm0-3zm0 1zm0 3zm0 0zm0-2zm0 1zm0-1zm0 2zm0-4zm1 2zm0 2zm0-5zm0 5zm0 1zm1 0zm0-3zm0 0zm0 1zm1 0zm0-5zm0 1zm0 5zm0-6zm0 6zm0-5zm0 1zm0 0zm1 4zm0-1zm0-1zm0 1zm0 2zm0-4zm0 3zm1-1zm0-3zm0 2zm0 3zm0-3zm0 3zm0-3zm1 1zm0-5zm0 5zm0 0zm0-5zm0 3zm0 2zm1-2zm0-3zm0 5zm0-2zm0 2zm0-4zm0 3zm0 3zm1-5zm0 3zm0-4zm0-1zm0 6zm0-5zm0-1zm0 2zm0-2zm0 2zm1-2zm0 0zm0 7zm0-6zm0 2zm0 0zm0-3zm0 5zm0 2zm0-6zm0 0zm0 6zm0-7zm1 7zm0-4zm0 2zm0 0zm0-4zm0 0zm0 4zm0-2zm0 1zm0-3zm0 6zm0-6zm1 1zm0 5zm0-3zm0 3zm0 0zm0-5zm0-1zm0 3zm0-3zm0 3zm0-4zm0 4zm0 0zm0-2zm0 2zm0-4zm0 0zm1 7zm0-1zm0-4zm0 3zm0 0zm0-5zm0 7zm0-5zm0 4zm0-4zm0 0zm0 5zm0-1zm0 1zm0-2zm0-5zm0 6zm0-6zm1 2zm0 4zm0 0zm0-1zm0 1zm0-1zm0-2zm1 3zm0 0zm0-6zm0 2zm0 5zm0 0zm0-3zm0 2zm0-1zm0-3zm0 4zm1-5zm0 2zm0 1zm0 2zm0 0zm0 1zm0-7zm0 7zm0-3zm1-4zm0 3zm0 3zm0-3zm0 2zm0-1zm0-4zm0 6zm0-5zm0 2zm0 3zm0 1zm0-1zm1-3zm0 1zm0 0zm0-2zm0 0zm0 1zm0 2zm0 0zm1-2zm0-3zm0 1zm0 0zm0-1zm0 2zm0 3zm0 2zm0 0zm0-6zm0 6zm0-5zm0 2zm0-1zm0 4zm1 0zm0-3zm0-2zm0 1zm0-2zm0 3zm0-2zm0 1zm0 2zm0-4zm0 5zm0-1zm0 1zm0-1zm0 1zm1 0zm0-6zm0 0zm0 6zm0 0zm0-5zm0 3zm0 3zm0-3zm0 1zm0-4zm1 6zm0-3zm0 0zm0-3zm0 0zm0 2zm0-1zm0-1zm0 1zm0-1zm1 4zm0-1zm0 2zm0-2zm0 2zm0-5zm0 5zm0-4zm0-2zm0 6zm0 1zm0-6zm1 2zm0 1zm0 2zm0 1zm0 0zm0-7zm0 0zm0 2zm0 1zm0 3zm0-4zm0 0zm1 4zm0-2zm0-2zm0-1zm0 5zm0 0zm0 0zm0-1zm0 1zm0-1zm1-1zm0-4zm0 2zm0 3zm0 1zm0-4zm0 0zm0 2zm0-1zm1 4zm0-7zm0 5zm0 2zm0-3zm0-1zm0-2zm0 4zm0-1zm1 3zm0-7zm0 7zm0-4zm0 4zm0-2zm0-5zm0 6zm0-1zm0-1zm0 3zm0-4zm0-2zm0 3zm0-2zm1 5zm0-3zm0 0zm0-2zm0 2zm0-1zm0 4zm0-4zm1-1zm0 2zm0-2zm0 5zm0-4zm0 0zm0 2zm0-5zm1 5zm0-1zm0 3zm0-4zm0 0zm0 1zm0 3zm0-7zm0 7zm0 0zm0-3zm0-3zm0 4zm0-5zm0 6zm0 0zm1-6zm0 4zm0-1zm0 4zm0-6zm0 4zm0-5zm0 1zm0 6zm0-4zm0-1zm0 0zm1-1zm0 2zm0 0zm0 0zm0 4zm0-6zm0 4zm0 2zm0-6zm0 5zm0-3zm0 0zm0 3zm0 0zm0-5zm0 0zm0 1zm0 5zm0-6zm0 0zm0 5zm1 0zm0-1zm0 2zm0-4zm0 0zm0-1zm0-1zm0 0zm0 1zm0-1zm0 2zm0-3zm0 2zm1 1zm0 3zm0-1zm0 1zm0-3zm0-2zm0 1zm0-2zm0 6zm0-4zm0 5zm0-5zm0 1zm1 1zm0 3zm0-5zm0-1zm0 2zm0 4zm0-6zm1 0zm0 6zm0-2zm0-3zm0 5zm0-2zm0 0zm0-2zm0 4zm0-3zm0-3zm0 2zm0 3zm1-2zm0-2zm0 4zm0-5zm0 5zm0-4zm0 0zm0 5zm1-2zm0 2zm0 0zm1-3zm0-4zm0 5zm0 2zm0-3zm0 0zm0-1zm1 3zm0-1zm0-2zm0 1zm0 0zm0 3zm0-1zm0-1zm0-1zm0 3zm1 0zm0-1zm0 1zm0-3zm0-2zm0 4zm0-5zm0 5zm0-1zm1 2zm0-4zm0-1zm0 4zm0-2zm0 2zm0-3zm0-2zm0 6zm0-4zm0 4zm1 0zm0-5zm0-1zm0 6zm0-3zm0-3zm0 4zm0 0zm0-3zm0 4zm0-1zm1-3zm0 1zm0-1zm0 0zm0 5zm0-4zm0 2zm1 0zm0-5zm0 6zm0-1zm0 0zm0-1zm0-1zm1 0zm0 0zm0 2zm0-4zm1 4zm0 1zm0-3zm0-2zm0 4zm0-5zm0 2zm0 3zm1-4zm0-1zm0 0zm0 4zm0 1zm0 1zm0-6zm0 7zm0-7zm0 2zm1 5zm0 0zm0 0zm0-4zm0 1zm0 1zm0-3zm0 3zm0-2zm0 1zm0-4zm0 4zm0-4zm0 3zm1 0zm0 4zm0-6zm1 3zm0 0zm0 1zm0 1zm0-2zm0 1zm0-1zm0-1zm0 3zm1-6zm0 6zm0-3zm0 1zm0-1zm0 4zm0-7zm1 7zm0 0zm0-2zm0-1zm0 3zm1-3zm0 3zm0-5zm0 4zm0-4zm0 5zm0-5zm1 1zm0 0zm0-2zm0 4zm0 0zm0-3zm0 4zm1 1zm0-7zm0 3zm0-2zm0 6zm0-5zm1 2zm0 3zm0 0zm0-7zm1 2zm0-2zm0 3zm0-2zm0 5zm0-2zm1-1zm0-1zm0 4zm0-1zm1 2zm0-6zm1 5zm0 1zm0 0zm1-7zm0 7zm1-5zm0-1zm0 1zm1 1zm0-3zm0 1zm0 6zm0-3zm1 0zm0 0zm0-2zm0 3zm0 2zm1-4zm0 3zm0-1zm1-3zm0 1zm0 2zm1 2zm0 0zm0 0zm0-3zm2 3zm0-1zm1-4zm1 2zm0-3zm1 0zm0 1zm0 4zm1-1zm0-5zm1 0zm0 2zm0 2zm0 3zm0 0zm1-6zm0 4zm0-2zm0-2zm1-1zm1 0zm0 6zm0-3zm0 2zm1 2zm0-6zm0 1zm1 3zm1-1zm2 0zm0-1zm0 3zm0 0zm2-5zm0 2zm0 2zm1-3zm2 0zm1 5zm4-3zm5 0zm2 0zm2-4zm4 2zm2 3zm12-4zm3 4zm8-4zm2 2zm1 1zm1-1zm19-2zm8 2zm1 0zm3 0zm3-1zm0 0zm4 5zm1-2zm18-3zm44 2zm2 11zm-81-6zm-15 2zm-11-1zm-2 0zm-4 0zm-8 1zm-11-2zm-1 4zm-3 2zm-8-5zm-2 2zm-2 3zm-1-4zm-1-2zm-1 5zm0 1zm-2-2zm-1 0zm0-1zm-1 1zm-1 0zm0 1zm0 1zm-1-1zm0 1zm0-5zm0 2zm-1-1zm0 2zm-2-4zm0 2zm0-3zm0 0zm-1 0zm0 3zm0 0zm-1 0zm0 0zm-1-3zm0 7zm0-5zm0 5zm0-5zm0 2zm0-1zm-1-2zm0 0zm-2 3zm0-1zm0 1zm0-2zm-1 3zm0-2zm0 3zm-1-3zm0 1zm-1-1zm0-3zm0 0zm0 6zm0-4zm0 4zm-1-2zm0 2zm0 0zm-1-6zm0 0zm0 1zm0 2zm0-2zm0 6zm0-5zm-1 2zm0 1zm0 1zm0 0zm0 1zm0-3zm0 1zm-1-3zm0 1zm0 4zm0-1zm0-6zm0 7zm0-3zm0-1zm0-1zm0 5zm0-4zm-1-1zm0 2zm0-3zm0 6zm0-7zm0 5zm0 1zm0-6zm-1 4zm0 0zm0 0zm0 3zm0-2zm0-3zm0 0zm0 1zm-1-3zm0 3zm0-3zm0 3zm0-1zm0-1zm-1 0zm0 2zm0-3zm0 0zm0 0zm0 3zm0 3zm-1 0zm0 0zm0-2zm0 2zm0 0zm0-2zm0 1zm0-3zm0 0zm0-2zm0 5zm-1-2zm0 2zm0-2zm0 0zm0-2zm0 6zm0-7zm0 4zm0-4zm0 4zm-1 1zm0 0zm0-2zm0 0zm0 4zm-1-7zm0 4zm0-3zm0 1zm0 0zm0 5zm0 0zm-1-3zm0 1zm0 0zm0-1zm0-4zm0 4zm0 1zm0 1zm0-4zm0-2zm-1 3zm0 4zm0-1zm0-3zm0-2zm0-1zm0 2zm0 4zm0-3zm-1-2zm0 2zm0-3zm0 1zm0 6zm0-5zm0 4zm0 0zm0-4zm0 5zm0-6zm0 4zm-1 1zm0 0zm0-2zm0-3zm0 1zm0 2zm0 2zm0-1zm0-3zm-1-1zm0 5zm0 0zm0-2zm0-3zm0-1zm0 4zm0 1zm0-4zm-1 5zm0-3zm0-3zm0 1zm0 6zm0-5zm0-2zm0 2zm0 0zm0 5zm0-4zm0 2zm-1-4zm0 1zm0-2zm0 2zm0 2zm0-2zm0 1zm0-2zm0 6zm0-6zm0 3zm0 2zm-1-2zm0 3zm0-6zm0 6zm0-2zm0-1zm0-2zm0-1zm0 3zm0-3zm0 1zm-1-1zm0 6zm0-2zm0-3zm0-1zm0 6zm0-3zm0-2zm0 2zm0-4zm0 3zm-1-2zm0 4zm0 2zm0-4zm0 4zm0-4zm0-3zm0 1zm0 5zm0-1zm-1-1zm0-4zm0 7zm0-1zm0-2zm0 1zm-1-2zm0 2zm0-1zm0 0zm0-1zm0 2zm0 0zm0-2zm0 4zm0-5zm-1 1zm0 2zm0 2zm0-6zm0 5zm0-5zm0-1zm0 3zm0-2zm0-1zm0 2zm0 2zm0-2zm0-1zm0-1zm0 7zm0-5zm-1 2zm0-3zm0 3zm0 0zm0-1zm0 3zm0 1zm0-7zm0 3zm0 3zm0 0zm0-3zm0 0zm0-2zm0 6zm0 0zm0-6zm-1 4zm0-1zm0-4zm0 3zm0 0zm0-2zm0 5zm0 1zm0-5zm0-2zm0 4zm0 2zm-1-4zm0-1zm0 3zm0 1zm0-5zm0 4zm0 1zm0 0zm0 0zm0-2zm0-1zm0 5zm0 0zm0-7zm0 4zm0 1zm0 2zm0-2zm0 0zm0-4zm-1 6zm0-2zm0-2zm0 4zm0-7zm0 6zm0-6zm0 2zm0 1zm0 0zm0 4zm0-1zm0-2zm-1-3zm0 3zm0 0zm0 1zm0-5zm0 3zm0 1zm0-3zm0 2zm0 4zm0 0zm0-1zm0-4zm-1 5zm0-4zm0-1zm0-1zm0 1zm0-2zm0 7zm0-1zm0-5zm0 2zm0-1zm0-1zm0 5zm0-5zm0 3zm-1-1zm0-2zm0 4zm0 0zm0 2zm0-4zm0 0zm0 2zm0 2zm0-4zm0 4zm0-5zm0 5zm0-1zm0-5zm0 6zm-1-5zm0 3zm0-4zm0 5zm0-3zm0 2zm0 1zm0-2zm0-4zm0 5zm0 1zm0-6zm0 4zm-1 1zm0 1zm0-6zm0 3zm0-1zm0 4zm0 0zm0-1zm0-2zm0-1zm0 5zm0-1zm0-4zm0 3zm0-5zm0 7zm0-5zm0 1zm-1 2zm0 1zm0 1zm0-3zm0 1zm0 2zm0-3zm0-3zm0 0zm0 2zm0-1zm0 0zm0-1zm0 6zm0-1zm-1-1zm0 0zm0-3zm0 2zm0 0zm0 2zm0 1zm0-2zm0-2zm0-1zm0 5zm0-2zm0 0zm0 2zm0-2zm0 0zm-1-1zm0-2zm0-2zm0 2zm0 3zm0 0zm0-5zm0 0zm0 4zm0 2zm0-3zm0 1zm0 1zm0-2zm0-1zm0-1zm0-1zm0 7zm-1-5zm0-2zm0 3zm0 3zm0 1zm0-4zm0 2zm0-5zm0 0zm0 2zm0 3zm0-2zm0 2zm0-1zm0 0zm0-1zm0 0zm-1-3zm0 7zm0-4zm0 1zm0-2zm0-1zm0 3zm0-2zm0 3zm0-2zm0-3zm0 5zm0 1zm0 1zm0-4zm0-2zm0 2zm0-3zm0 6zm0-3zm-1-2zm0 6zm0-1zm0 0zm0-6zm-1 4zm0 3zm0-5zm0 5zm0 0zm0-1zm0-5zm0-1zm0 1zm0 4zm0-1zm0-4zm0 4zm0 3zm0 0zm0 0zm0-6zm0 1zm0 1zm0 4zm0-2zm0 0zm-1 1zm0 0zm0 0zm0-6zm0 4zm0 1zm0 0zm0 1zm0-5zm0 4zm0-3zm0 0zm0 4zm-1-1zm0-5zm0 0zm0 2zm0 2zm0 0zm0 3zm0-5zm0 3zm0-1zm0-3zm0 4zm-1-1zm0 1zm0 1zm0-6zm0 7zm0-2zm0-4zm0 1zm0 3zm0-1zm0 0zm0 3zm0-1zm0-5zm0 4zm0-2zm-1-2zm0 4zm0-4zm0 5zm0-6zm0 0zm0 4zm0-1zm0 1zm0 3zm0-4zm0-3zm0 6zm0 1zm0-7zm0 6zm-1 0zm0-1zm0-2zm0 2zm0-3zm0-1zm0-1zm0 6zm0 0zm0-1zm0 1zm0-1zm0-1zm0-1zm0-1zm0 5zm-1-3zm0 0zm0 3zm0-4zm0 2zm0 0zm0-2zm0 0zm0 3zm0 1zm0-3zm0-4zm0 2zm0 5zm0-7zm0 1zm0 4zm-1 0zm0 2zm0-4zm0 4zm0-5zm0 0zm0-2zm0 5zm0 0zm0 0zm0-1zm0 2zm0-1zm0 1zm0-1zm0 1zm-1 1zm0-2zm0 2zm0-2zm0-3zm0 3zm0 0zm0-1zm0-1zm0 3zm0 1zm0-6zm-1 3zm0-3zm0 5zm0 1zm0-4zm0-2zm0 5zm0-4zm0 3zm0-2zm0-1zm0 0zm0 5zm0-3zm0-3zm0 1zm0 5zm0-6zm-1 3zm0 0zm0 1zm0-4zm0 0zm0 2zm0 0zm0 1zm0-3zm0 1zm0 4zm0-4zm-1 2zm0 0zm0-4zm0 4zm0-2zm0 4zm0-5zm0 5zm0-3zm0-2zm0-1zm0 3zm0-3zm0 0zm0 6zm0 0zm0-6zm0 4zm0 3zm-1-6zm0 0zm0-1zm0 2zm0 1zm0 0zm0-3zm0 6zm0 1zm0-3zm0-4zm0 0zm0 3zm0 0zm0-1zm0 3zm-1-4zm0 2zm0 2zm0-4zm0-1zm0 6zm0-4zm0 2zm0 0zm0-2zm0 4zm-1-1zm0 1zm0-3zm0-3zm0 6zm0-1zm0-2zm0 3zm0-3zm0 2zm0-5zm-1 0zm0 6zm0-2zm0-1zm0-1zm0 3zm0 0zm0-2zm0-3zm0 5zm0 2zm0-5zm0 4zm-1-1zm0-3zm0 3zm0 0zm0 2zm0-6zm0 5zm0-3zm0-2zm0 5zm0 0zm0 1zm-1-4zm0-3zm0 5zm0-2zm0 0zm0 4zm0-1zm0 0zm0-2zm0-1zm0 2zm0 0zm0-5zm-1 1zm0 4zm0 0zm0-3zm0 1zm0 0zm0-1zm0 1zm0-3zm0 5zm0-2zm0-1zm0 5zm0-5zm0 4zm-1 1zm0-3zm0 2zm0-6zm0 1zm0 6zm0-5zm0 0zm0 2zm0-4zm0 2zm-1 3zm0 0zm0-5zm0 5zm0 0zm0 0zm0-1zm0 2zm0 0zm0 1zm0-3zm0 0zm0-3zm0 3zm-1-2zm0 5zm0-6zm0 1zm0 2zm0-4zm0 5zm0 0zm0 2zm-1-3zm0-4zm0 7zm0-4zm0 2zm0-2zm0 0zm0 1zm0-1zm-1 0zm0-3zm0 4zm0-1zm0 4zm0-2zm0-3zm0 4zm0 1zm-1-7zm0 6zm0 0zm0-2zm0 1zm0 0zm0-4zm0 2zm-1-3zm0 1zm0 1zm0 3zm-1-2zm0-3zm0 3zm0-3zm0 0zm0 4zm0-4zm0 7zm0-7zm0 5zm0 0zm0 0zm-1-1zm0 3zm0-7zm0 3zm0-1zm0 5zm0-4zm0-1zm-1 1zm0 3zm0-2zm0 3zm0-1zm0-6zm0 4zm0 2zm0 1zm0-2zm-1 2zm0-4zm0-2zm0 6zm0-5zm0 3zm0-5zm0 1zm0 3zm0 2zm0-3zm0-1zm-1 0zm0 3zm0 0zm0-5zm0 2zm0 0zm0 5zm0-3zm0-4zm0 0zm-1 0zm0 1zm0 1zm0 4zm0 0zm0 1zm0-4zm-1-3zm0 3zm0 3zm0 1zm-1-4zm0 1zm0-2zm0 1zm0 4zm0 0zm0-4zm-1 4zm0-3zm0-2zm0 5zm0-4zm0 0zm0-2zm-1-1zm0 6zm0 1zm-1-2zm0-3zm0-1zm0 3zm0-2zm0 5zm-1-1zm0 0zm0-3zm0 1zm0-3zm0 4zm0-2zm-1 4zm0-7zm0 0zm0 1zm0 1zm0-1zm0 3zm0-4zm-1 2zm0 0zm0 1zm0-3zm-1 5zm-1-5zm0 3zm-1 4zm0-7zm0 1zm0 2zm-1-2zm0 3zm0 1zm0 1zm-1-6zm0 0zm-1 2zm0-2zm-1 6zm0-6zm0 1zm-1-1zm0 4zm0-2zm-1-1zm0 4zm0 0zm-1-3zm0 1zm0 4zm0-5zm-1 5zm-1-4zm0 0zm-1-3zm-2 2zm0 5zm-2-5zm0 2zm0 2zm-1-5zm0 2zm-1 3zm0-5zm-2 6zm-1-4zm-1 4zm-1-5zm-2 2zm0 0zm0 0zm-5-3zm-2 0zm-1 2zm-1 0zm-4 4zm11 3zm1 0zm3 5zm0-6zm1 5zm1-5zm2 5zm1-3zm0 4zm2-6zm1 5zm1 1zm1-4zm2-3zm1 2zm0 4zm0-5zm1-1zm0 2zm0 4zm1 1zm0-1zm0-2zm1-4zm1 2zm0 1zm2-1zm0-1zm1 4zm1 0zm0-3zm0 1zm1 1zm0 2zm0 1zm1-2zm0-2zm0-2zm0 1zm2 2zm0 1zm0-5zm1 7zm0-5zm0-1zm0 1zm1-2zm1 4zm0-4zm0 0zm0 7zm1-2zm0-2zm0 3zm0 0zm0 0zm1-6zm0 3zm0-1zm0-2zm0 0zm0 0zm0 3zm1 4zm0-5zm0 2zm0 2zm1-4zm0 5zm0-1zm0-5zm0 3zm0-2zm0 5zm0-5zm1 1zm0 1zm0-1zm0-3zm1 0zm0 4zm0-3zm0 3zm0-4zm0 2zm0 4zm0-3zm0-3zm1 1zm0 4zm0 1zm0-2zm0-2zm0 5zm0-1zm0 1zm0-3zm0 2zm1-1zm0-3zm0 1zm0-2zm0 5zm0-2zm0 1zm0 0zm0-5zm1 3zm0-3zm0 0zm0 6zm0-6zm1 0zm0 7zm0-4zm0-2zm0-1zm0 7zm0-2zm0-5zm1 1zm0 2zm0 2zm0-2zm0 2zm0 0zm0-5zm1 6zm0-5zm0 4zm0 1zm0-1zm0-3zm0 3zm0 1zm0-3zm0-1zm1 2zm0-3zm0 5zm0 1zm0-4zm0 1zm1-1zm0-2zm0 6zm0-7zm0 4zm0-3zm0 4zm0 2zm0-7zm0 5zm1-4zm0-1zm0 7zm0-2zm0 2zm0-2zm0 2zm0-2zm0-1zm0-3zm0 1zm0 4zm0-3zm1 4zm0 0zm0-2zm0 2zm0-3zm0 2zm0 0zm0 0zm0-5zm0 1zm0 4zm0-1zm0 0zm0-3zm0-1zm0 3zm0 1zm0-3zm0 3zm0 2zm0-5zm0-2zm0 1zm0 0zm1 2zm0 4zm0-7zm0 7zm0-2zm0-2zm1-2zm0-1zm0 5zm0-3zm0 5zm0-7zm0 7zm0-3zm0 0zm0-2zm0 0zm0 2zm1-4zm0 6zm0-5zm0 2zm0-1zm0-1zm0 0zm0 0zm0 1zm1 3zm0-4zm0 5zm0 0zm0-5zm0 3zm0 2zm0-2zm0 0zm0 2zm0-5zm0-1zm0 1zm0-1zm0 3zm0 1zm0 1zm0-1zm0-1zm0-3zm0 6zm1-3zm0 3zm0-5zm0 2zm0 0zm0 2zm0 2zm0-6zm0 1zm1 2zm0 1zm0 1zm0-2zm0-1zm0-2zm0-1zm0 5zm0-3zm0-1zm0-1zm0 4zm0 2zm0 1zm1-7zm0 0zm0 7zm0-3zm0 1zm0-3zm0 5zm0-3zm1-1zm0 3zm0-5zm0 2zm0 0zm0-3zm0 6zm0-2zm0 3zm0-6zm0 4zm0 0zm1 2zm0-7zm0 2zm0-1zm0 0zm0 6zm0-5zm0-2zm0 6zm0 0zm0 0zm1-3zm0-1zm0 5zm0-3zm0-4zm0 6zm0-5zm0-1zm0 6zm0-1zm0 2zm0-3zm0 1zm0-4zm0 2zm0 1zm0-4zm0 7zm0-5zm0-2zm0 2zm0 0zm1 1zm0 3zm0 0zm0 0zm0-1zm0-1zm0-1zm0 1zm0-4zm0 5zm0-1zm1-3zm0-1zm0 2zm0 1zm0 0zm0-2zm0 5zm0-2zm0 3zm0-7zm0 6zm0-1zm0-2zm1-1zm0 5zm0-3zm0-2zm0 4zm0-1zm0 0zm0-5zm0 2zm0-1zm0 2zm0 0zm1-2zm0 1zm0 0zm0 4zm0-4zm0 4zm0 0zm0-2zm0 1zm0-3zm0-1zm1 0zm0 6zm0-6zm0 3zm0-3zm0 1zm0-2zm0 3zm0 2zm0 0zm0-2zm0-2zm0 2zm1 0zm0 0zm0-2zm0 2zm0 2zm0-1zm0-1zm0 3zm0-6zm0 6zm0 0zm0-6zm0 1zm0 0zm0 0zm1 6zm0-3zm0 2zm0-5zm0 6zm0-2zm0 1zm0-5zm0 0zm0 1zm0 2zm0 0zm0 3zm0-2zm0-1zm0-1zm0-1zm1 2zm0 0zm0-3zm0-1zm0 7zm0-5zm0 5zm0-3zm0-2zm0 1zm0 1zm0 1zm0 0zm0 1zm0-5zm1 3zm0-2zm0 1zm0 1zm0-2zm0 2zm0 3zm0-7zm0 7zm0-4zm0-3zm0 7zm0-1zm0-3zm0 1zm0 3zm0-4zm0 1zm1 3zm0-5zm0 2zm0 3zm0-7zm0 3zm0-3zm0 2zm0 5zm1-7zm0 4zm0 3zm0-1zm0-2zm0-2zm0-2zm0 5zm0 2zm0-3zm1-1zm0 3zm0-2zm0-2zm0 2zm0-2zm0 3zm0-5zm0 3zm0 1zm0-2zm0 2zm0 0zm0 3zm0-1zm1-6zm0 7zm0-4zm0-3zm0 5zm0 1zm0-1zm0-2zm0-2zm0 0zm0 4zm0-2zm0 0zm0-3zm1 7zm0-5zm0 5zm0 0zm0-5zm0-1zm0-1zm0 2zm0-1zm0 5zm0-1zm0 1zm0 0zm0-3zm0 2zm0-3zm0 2zm0 3zm0-6zm0-1zm0 5zm1-2zm0-1zm0 1zm0 4zm0-2zm0-3zm0 2zm0 3zm0-4zm0 3zm0-6zm0 6zm0-6zm0 2zm0-1zm0 3zm1-3zm0 0zm0 2zm0 0zm0 1zm0-1zm0 3zm0-6zm0 0zm0 3zm0-1zm0 2zm0-2zm0 5zm1-3zm0 0zm0-2zm0 2zm0-3zm0 4zm0-3zm0 4zm0-3zm0 0zm0 3zm0-6zm0 3zm0 0zm0-2zm0 3zm0-3zm1 0zm0 3zm0 3zm0 0zm0-4zm0-2zm0 6zm0-2zm0-4zm0 0zm0 4zm0-3zm0 1zm1 4zm0-4zm0 4zm0-1zm0-1zm0-4zm0 0zm0 5zm0-3zm0 2zm0-4zm0 2zm0-2zm0 6zm1-6zm0 3zm0 1zm0 1zm0-1zm0-3zm0-2zm0 6zm0-5zm0 3zm0-3zm0 2zm0-2zm1 0zm0 0zm0 0zm0 1zm0-2zm0 0zm0 2zm0-1zm0 3zm0-4zm0 7zm0-3zm0-4zm0 0zm0 1zm0 5zm0-2zm0-2zm0 4zm0 0zm1-5zm0 6zm0-7zm0 5zm0-5zm0 5zm0 2zm0-2zm0 0zm0-4zm0 2zm0 1zm0-4zm0 3zm1 3zm0-3zm0-1zm0 3zm0 2zm0-5zm0 2zm0 2zm0 1zm0-7zm1 3zm0 3zm0-5zm0 2zm0 3zm0-1zm0-2zm0-1zm0-2zm0 5zm0-3zm0-1zm0 4zm0-5zm1 3zm0-3zm0 6zm0-4zm0 0zm0 5zm0-4zm0 1zm0-2zm1-1zm0 0zm0 0zm0 3zm0 3zm0-4zm0-1zm0 3zm0-5zm0 4zm0 3zm0-1zm0 1zm0-6zm0 1zm0 4zm0-5zm1 5zm0-3zm0 0zm0 2zm0-5zm0 0zm0 2zm0 2zm0-3zm0-1zm0 1zm0 1zm0 1zm0-2zm0 0zm0 2zm0-3zm1 2zm0 1zm0-3zm0 1zm0 1zm0-1zm0 2zm0-2zm0 2zm0-3zm0 7zm0-5zm1 0zm0-1zm0 5zm0 0zm0-6zm0 5zm0-4zm0 5zm0-6zm0 3zm0 4zm0-4zm0 0zm0 1zm0 0zm0-2zm0 3zm0-2zm0-1zm1 2zm0 0zm0-4zm0 4zm0-4zm0 7zm0-1zm0 0zm0-1zm0-2zm0 0zm0 3zm0-1zm0 1zm0-5zm1 1zm0 1zm0 0zm0 4zm0-2zm0-5zm0 7zm0-1zm0-2zm0 2zm1-4zm0 2zm0-2zm0 1zm0 0zm0 2zm0-4zm0 2zm0 2zm0-2zm0 1zm0 1zm0-5zm0 6zm1-5zm0 2zm0-1zm0 0zm0 1zm0-3zm0 5zm0-3zm0 5zm0-7zm0 1zm0 0zm1 0zm0-1zm0 7zm0-7zm0 5zm0-5zm0 5zm0-5zm0 3zm0 0zm0 4zm0-3zm0 1zm0-1zm0 2zm1 0zm0-6zm0 4zm0-3zm0 4zm0 1zm1-5zm0 6zm0-5zm0 0zm0 0zm0 3zm0 1zm0-6zm0 1zm1 4zm0 2zm0-5zm0 3zm0-4zm0 1zm0 1zm0 3zm0-4zm0 0zm0 1zm0-1zm0 0zm1 0zm0-2zm0 7zm0-2zm0-1zm0-2zm0 3zm0-2zm0 3zm0-1zm0-5zm1 6zm0-6zm0 6zm0 1zm0-4zm0 1zm0 2zm0 1zm1-3zm0-4zm0 4zm0 2zm0-5zm0 5zm0-2zm0 2zm0-1zm0-2zm0-3zm0 4zm1 1zm0-3zm0 4zm0-4zm0-1zm0 1zm0-2zm0 5zm0 0zm0 1zm0-3zm1 0zm0 4zm0-6zm0 5zm0-2zm0-3zm0 0zm0 5zm0-1zm1-2zm0 4zm0 0zm0-5zm0 1zm0-2zm0 0zm0 4zm0 0zm0-3zm0 5zm1-5zm0 3zm0 2zm0 0zm0-5zm0 4zm1 0zm0-3zm0 1zm0 0zm0-3zm0-1zm0 0zm1 5zm0-4zm0 5zm0-5zm0 4zm0 1zm0 1zm0-4zm0-1zm1 2zm0 2zm0-4zm0 1zm0 3zm0-1zm1-5zm0 6zm0-5zm0 0zm0 1zm0 0zm0 0zm1 5zm0-1zm0-5zm0 2zm0 3zm0-3zm0 0zm0 3zm1-4zm0 3zm0-1zm0 3zm1-1zm0-1zm0-5zm0 6zm0-3zm0 0zm0-3zm0 4zm1-2zm0 3zm0-3zm0 1zm0 3zm0-5zm0 1zm0 0zm1-1zm0 2zm0 0zm0 2zm0-3zm0 5zm0-3zm1 1zm0-2zm0-1zm0 3zm0-4zm0 3zm0-3zm1 1zm0 0zm0-1zm0 6zm0-7zm0 6zm0-2zm0 0zm0 2zm1-5zm0 3zm0 2zm0-1zm0-1zm0 1zm0-4zm1 6zm0-4zm0-1zm0 3zm0-2zm1 0zm0 4zm0-1zm0-3zm1-3zm0 5zm0-2zm0 3zm0-4zm1 4zm1-4zm0 5zm0-7zm1 3zm0 3zm0-4zm1 3zm1-3zm0 0zm0 5zm1-6zm0 2zm0 2zm0 0zm1-5zm1 1zm0 5zm0 0zm0 1zm1 0zm1-2zm4 2zm0-1zm0 1zm0-7zm2 3zm1 4zm0-3zm1-4zm0 1zm0-1zm1 7zm2-6zm3 3zm4 2zm1 1zm1-2zm2-1zm0-3zm2 0zm17 4zm4-3zm37 0zm28-2zm-82 8zm-6 2zm-1-1zm-1 1zm-2 1zm-1-1zm-3 3zm-4-2zm0 4zm-1-2zm-1 0zm0 0zm-2-4zm0 0zm-1 6zm0-6zm0 3zm-1 3zm-1-3zm-1 2zm0-3zm0 4zm-1-7zm-1 1zm0 3zm0 1zm-1-4zm0 4zm0-2zm-1-1zm0 5zm-1 0zm0-3zm0-4zm0 0zm-1 7zm0-7zm-2 3zm-1-1zm0 4zm0-5zm-1 0zm0 5zm0 0zm-1-3zm-1 4zm0-6zm0 0zm0 2zm0 4zm-1-2zm0 0zm0 2zm0-3zm0-2zm0 1zm0 2zm-1-2zm-1-3zm0 7zm0-6zm0-1zm0 2zm-1 2zm0-2zm0 2zm0 0zm-1-3zm0 4zm0-3zm0 2zm0 0zm0-2zm0 3zm0-5zm-1 0zm0 4zm0-2zm0 2zm0 3zm-1-5zm0 1zm0 4zm0-6zm0 5zm0 0zm0-1zm0-2zm0 1zm0-4zm0 1zm0-1zm0 0zm0 2zm-1 4zm0-4zm0-2zm0 5zm0 0zm0-4zm-1-1zm0 4zm0-4zm0 0zm0 1zm0 1zm0 2zm-1 1zm0-5zm0 1zm0-1zm0 2zm0 0zm0-1zm-1 6zm0-2zm0 0zm0-5zm0 1zm0 0zm-1 2zm0 1zm0 1zm0-5zm-1 4zm0 0zm0-4zm0 6zm0-6zm0 7zm-1-4zm0-2zm0 3zm0 1zm0 0zm0-4zm0 3zm0-3zm0 2zm0-3zm-1 5zm0-2zm0 4zm0-6zm0-1zm0 1zm0 6zm0-1zm-1 1zm0-5zm0 0zm0-2zm-1 2zm0 4zm0-4zm0 3zm-1-5zm0 1zm0 0zm0 4zm0-2zm0 1zm0-2zm0-1zm0 5zm0 1zm0-2zm0-3zm0 0zm-1 2zm0-1zm0-3zm0 4zm0-2zm0 3zm0-5zm-1 2zm0 1zm0 3zm0-1zm0-1zm-1-4zm0 0zm0 3zm0 3zm0 0zm0 0zm0-6zm0 0zm0 1zm0 1zm0 1zm0-3zm-1 7zm0-5zm0 1zm0-1zm0 1zm0 3zm0 1zm0-1zm0 0zm0-1zm0 0zm0-1zm0-2zm0 2zm0-1zm0-1zm0 3zm0-4zm0 0zm0 6zm-1-1zm0-6zm0 1zm0 6zm0-6zm0 1zm0 3zm0-4zm0 4zm-1-4zm0 4zm0 0zm0-3zm0 0zm0 1zm0 3zm0 0zm0 0zm0-2zm0 2zm-1 1zm0-7zm0 3zm0 3zm0-2zm0 3zm0-2zm0 0zm-1-4zm0-1zm0 4zm0 3zm0-1zm0-5zm0 1zm0-1zm-1 1zm0 3zm0 0zm0 2zm0-4zm0-3zm0 6zm0-2zm0-2zm0 2zm0-3zm0 5zm0-6zm-1 3zm0-2zm0-1zm0 5zm0-1zm0 2zm0-4zm-1 3zm0-2zm0-2zm0 5zm0 1zm0-4zm0-3zm0 2zm0-2zm-1 6zm0 0zm0 1zm0-7zm0 5zm0-4zm0 2zm0-1zm0 4zm0-3zm0 1zm0 0zm0 1zm-1 2zm0-7zm0 0zm0 1zm0-1zm0 0zm0 2zm0 0zm0 3zm0-1zm0 0zm0-3zm0-1zm-1 5zm0-2zm0-3zm0 6zm0-1zm0-4zm0 3zm0-3zm0 3zm0 1zm0-1zm0 0zm-1-2zm0 1zm0 2zm0 2zm0-2zm0-5zm0 7zm0-6zm0 4zm0 1zm0-1zm0-3zm0 5zm0-3zm0 1zm0-5zm-1 5zm0-3zm0-1zm0-1zm0 0zm0 1zm0 1zm0 4zm0-2zm0 0zm0-2zm0 4zm0 1zm-1-1zm0-5zm0 5zm0-1zm0-3zm0-1zm0 1zm0 0zm0 2zm0-1zm0 0zm0 3zm0-6zm0 3zm0 2zm0-4zm0 2zm0-2zm0 0zm0 4zm-1-5zm0 7zm0-7zm0 0zm0 6zm0-4zm0 4zm0-3zm0-3zm0 3zm0-3zm0 4zm0-2zm0 2zm0-3zm-1 5zm0 1zm0-4zm0 1zm0 3zm0-5zm0-1zm0 6zm0-6zm0-1zm0 4zm0 2zm0-2zm0-4zm0 1zm0 6zm0-7zm0 5zm0 2zm-1-6zm0 0zm0 2zm0 2zm0-4zm0 0zm0 2zm0-1zm0-1zm0 3zm0-1zm0 4zm0-7zm0 6zm0-6zm0 2zm0 2zm0-1zm-1 0zm0 0zm0 1zm0 0zm0 0zm0-4zm0 1zm0 0zm0 1zm0 5zm0-2zm0-4zm0-1zm-1 3zm0-3zm0 1zm0 2zm0 1zm0-4zm0 3zm0-3zm0 4zm-1-3zm0 4zm0-4zm0 0zm0 3zm0-2zm0 5zm0-7zm0 5zm0-1zm0 0zm0 1zm0-3zm0 1zm0 4zm0-6zm0 3zm-1 0zm0-2zm0 0zm0-1zm0 2zm0 0zm0 1zm0 0zm0-4zm0 6zm0 0zm0-2zm0 3zm0-5zm-1 4zm0-5zm0 4zm0 1zm0-3zm0-3zm0 4zm0-3zm0 3zm0 3zm-1-7zm0 4zm0-3zm0 4zm0-4zm0 3zm0-4zm0 6zm0 0zm0-2zm0-1zm0-2zm0 1zm0 2zm-1-3zm0 1zm0-2zm0 1zm0-1zm0 1zm0 3zm0-1zm0 2zm0 0zm0-3zm0-1zm0-1zm0 5zm0-2zm0 3zm0-5zm0-1zm-1 4zm0-1zm0-2zm0 0zm0 5zm0-3zm0-2zm0 3zm0-2zm-1 4zm0 0zm0-4zm0-1zm0 0zm0 1zm0 0zm0 0zm0 1zm0-2zm0 0zm0 5zm0-1zm0-2zm0 3zm0-3zm0 3zm0 1zm0-2zm0 2zm0-6zm0 2zm-1 1zm0 0zm0-2zm0 1zm0 0zm0-2zm0 6zm0 0zm0-5zm0 4zm0-4zm0 4zm0-5zm0 0zm-1 1zm0 1zm0 1zm0-2zm0-2zm0 7zm0-7zm0 1zm0 0zm0 3zm0 1zm0 1zm0-1zm-1-2zm0 4zm0-5zm0 5zm0-1zm0-3zm0 1zm-1-3zm0 3zm0-2zm0-2zm0 7zm0-2zm0-3zm0 4zm0-1zm0-5zm0 3zm0-2zm0 0zm-1 5zm0-4zm0 4zm0-1zm0-4zm0 4zm0-2zm0 4zm0-4zm0-2zm-1-1zm0 7zm0-5zm0 1zm0-1zm0 1zm-1-3zm0 6zm0-5zm0-1zm0 5zm0-2zm0 2zm0 1zm0-5zm0 4zm0-3zm0 1zm0-2zm0 4zm-1-1zm0-3zm0 6zm0-1zm0-3zm0-2zm0 6zm0-7zm0 6zm0-5zm0-1zm-1 0zm0 3zm0-1zm0 3zm0-4zm0-1zm0 0zm0 0zm0 3zm0-1zm-1 3zm0-4zm0 1zm0 1zm0 4zm-1-4zm0 2zm0-4zm0 0zm0 2zm0 3zm0-5zm-1 5zm0-4zm0 1zm0-3zm-1 2zm0 1zm0-2zm0 3zm0 0zm0 3zm0-7zm0 3zm0 0zm0 1zm0 2zm-1-6zm0 5zm0-4zm0 0zm0 0zm0 2zm0 4zm0 0zm-1-6zm0-1zm0 6zm0-3zm0 0zm0-1zm-1 3zm0-3zm0-1zm0 6zm0-4zm0-2zm-1 1zm0 1zm0 4zm0-3zm0 3zm0 0zm0-7zm0 0zm0 2zm-1 4zm0-2zm0 1zm0 0zm0-4zm0 4zm0-5zm0 2zm0 0zm-1 0zm0-2zm0 4zm0 2zm0-2zm-1 3zm0-3zm0-1zm0 3zm0-1zm0 2zm0-7zm0 2zm0 4zm0-5zm0 2zm0 1zm0 0zm-1-4zm0 2zm0 3zm0 2zm0-3zm0 1zm0 1zm-1-4zm0-2zm0 6zm0 1zm0-2zm0-1zm0 3zm0-7zm0 6zm-1-1zm0-4zm0 6zm0-7zm0 0zm0 6zm0-4zm-1 2zm0-2zm-1 2zm0 0zm0 3zm0-3zm-1 0zm0 2zm0-5zm0 1zm-1 2zm0 2zm0-3zm0 4zm0-6zm0 2zm0 2zm0-1zm0-3zm-1 0zm0 5zm-1 0zm0-4zm0 4zm0 0zm0-3zm0 3zm0-1zm0-1zm-1-4zm0 4zm-1-4zm0 2zm0-1zm-1 5zm0-4zm0 5zm0-4zm0 2zm-1-2zm0-2zm0 3zm-1 0zm0-1zm0-1zm0-1zm0 0zm0 0zm-1 4zm0-1zm-1-4zm0 1zm0 0zm-1 3zm0-3zm0 0zm0 2zm0-3zm-1 6zm0-6zm0 7zm0-7zm0 5zm0-1zm-2-1zm0 0zm0 2zm0 0zm0-2zm-1 1zm0-3zm0-1zm0 6zm-1-5zm-1 6zm-1-3zm0-2zm-1 2zm-1 3zm-1-3zm0-3zm0 3zm-1 3zm0-7zm-3 6zm0-5zm0 2zm-1 0zm-2 1zm-1-3zm-11 0zm0 1zm-1 5zm-6-5zm7 9zm0-3zm12 4zm2 0zm1-4zm2 3zm3-1zm0-1zm5 6zm1-6zm0 3zm1-4zm0 3zm1 3zm2-1zm0-5zm2 5zm0-5zm2 5zm1-1zm0 2zm0-6zm1 2zm0 1zm0 0zm0 4zm1-7zm0 1zm0 4zm1 2zm0 0zm1-1zm0 0zm0-1zm0-1zm1-4zm0 0zm0 6zm0-4zm1-1zm0 4zm0-2zm0 2zm0-3zm0-1zm2 0zm0 1zm1 1zm0-3zm0 7zm1-1zm0-6zm0 7zm0-5zm1-1zm0 0zm0 4zm0-5zm1 4zm0-1zm0-3zm1 3zm0 2zm0-3zm0-1zm0 2zm1 4zm0 0zm0-6zm0 3zm0-3zm0 5zm1-5zm0 0zm0 3zm0-1zm1-1zm0 1zm0 2zm0 2zm1-3zm0-3zm0 4zm0-2zm0-2zm0 2zm1 2zm0 1zm0-4zm0 4zm0 0zm0-3zm0-1zm1-1zm0-1zm0 6zm0-6zm0 5zm1-3zm0 2zm0-3zm0 5zm0-4zm0-2zm0 4zm0-2zm1 2zm0-4zm0 0zm0 2zm0 5zm0-5zm1-1zm0 1zm0 1zm0-3zm0 6zm1-6zm0 4zm0-1zm0 4zm0-4zm0-1zm0-2zm1 5zm0-4zm0 5zm0-4zm0 1zm0 2zm1-2zm0-2zm0 2zm1-3zm0 6zm0-4zm0-1zm0 0zm0 4zm0 2zm0-7zm1 2zm0 0zm0 1zm0-2zm0 3zm0 0zm0-2zm0 0zm0 0zm0-1zm0 5zm1-5zm0 3zm0-1zm0 2zm0-4zm0 0zm1-1zm0 2zm0 0zm0-2zm0 4zm0 0zm0 2zm0-2zm0-4zm0 2zm0 2zm0 2zm0-4zm0 3zm0-4zm1 0zm0 2zm0 4zm0-5zm1 3zm0 2zm0-6zm0 1zm0 1zm0 1zm0 1zm0 2zm1-7zm0 4zm0 0zm0-1zm0-2zm0 5zm0-3zm1 2zm0 2zm0-3zm0 0zm0 1zm0-5zm0 2zm0 1zm0-3zm1 4zm0 3zm0-1zm0 1zm0-5zm0-2zm0 7zm1-4zm0-2zm0 0zm0-1zm0 2zm0-1zm0 2zm0 3zm1-1zm0-2zm0 1zm0-1zm0 2zm0 1zm0-1zm1-1zm0 1zm0-2zm0 2zm0-5zm0 4zm0 2zm1-2zm0-3zm0-1zm0 1zm0 0zm0-1zm1 0zm0 6zm0-1zm0-2zm0 0zm0 4zm0-3zm0-1zm0 1zm0 0zm0-4zm0 6zm0-3zm1 1zm0 1zm0 0zm0 0zm0 0zm0-5zm0 0zm1 0zm0 4zm0-4zm0 3zm0-3zm0 2zm0 3zm1-5zm0 3zm0-3zm0 2zm0 5zm0-3zm0 0zm0-1zm0-2zm0 3zm0 1zm0-4zm1-1zm0 4zm0-3zm0 4zm0-5zm0 2zm1-1zm0 4zm0-2zm0-2zm0 2zm0 0zm0 3zm0-2zm0-3zm0 6zm0-1zm0-4zm0 5zm0-3zm1-2zm0 5zm0-3zm0 1zm0-2zm0 0zm0-3zm0 7zm0-5zm0 4zm0-5zm0 6zm1-5zm0-1zm0 3zm0-1zm0-3zm0 5zm0 1zm1-2zm0 0zm0 2zm0-3zm0 2zm0-3zm0-1zm0 6zm1-7zm0 2zm0 0zm0-2zm0 2zm0-2zm0 3zm0 4zm0-5zm0-2zm1 7zm0-3zm0-3zm0 2zm0 4zm0-3zm0-4zm0 4zm0-1zm0 2zm0-1zm0 2zm1-4zm0 0zm0 0zm0 1zm0 1zm0-3zm0 6zm0-7zm0 2zm1-1zm0 1zm0-1zm0 6zm0-7zm0 1zm0 2zm0 1zm0-2zm0 3zm0-5zm0 4zm0-1zm0 0zm1 4zm0-4zm0 4zm0-5zm0 0zm0 1zm0 3zm0 0zm0-5zm1-1zm0 2zm0 0zm0 4zm0 1zm0-5zm0-2zm0 4zm1-1zm0-1zm0 2zm0-4zm0 3zm0 1zm0-4zm1 1zm0-1zm0 0zm0 1zm0-1zm0 7zm0-1zm1 1zm0 0zm0-1zm0-3zm0-1zm1 0zm0 5zm0-1zm0-4zm0-1zm0 2zm0-1zm0 2zm1-2zm0 0zm0 4zm0 0zm0 0zm0-6zm0 0zm1 6zm0 1zm0-5zm0 1zm0-3zm0 4zm0 3zm0-3zm0-1zm0 4zm1-7zm0 1zm0 1zm1 5zm0-4zm0-1zm0 3zm0-3zm0-2zm0 7zm0-1zm0-2zm0-2zm0 5zm1-6zm0 4zm0-4zm0 1zm0 2zm0 0zm1 0zm0 3zm0-4zm0 3zm0 1zm0 0zm1-7zm0 6zm0-4zm0 4zm0-1zm0-2zm0 3zm0 0zm0-6zm0 5zm0-5zm0 2zm1-2zm0 1zm0-1zm0 0zm0 2zm1 2zm0-4zm0 1zm0 6zm1-3zm0 0zm0 1zm0-2zm0 3zm1-4zm0-1zm0 0zm0 4zm0 2zm0-6zm0 0zm1 1zm0 3zm0-1zm0-1zm0-2zm0 2zm1 1zm0-3zm0 0zm1 4zm0 2zm0-1zm1-5zm0 5zm0-2zm0 0zm0-3zm0 2zm0 1zm0 0zm0-1zm1 4zm0 0zm1-1zm0-4zm0-1zm0 3zm0-3zm1 1zm0 3zm1 1zm0-3zm0 4zm1-7zm0 0zm1 5zm0 1zm1-3zm0 0zm0-1zm0 0zm1 4zm0 1zm1-7zm0 2zm0-1zm1 4zm0-5zm0 2zm0 1zm0 0zm1-1zm0 4zm0 1zm0-1zm0-5zm1 5zm0-5zm1 3zm0-1zm0-2zm0 0zm1 1zm0 4zm1 1zm1 0zm0-1zm1-4zm1 4zm0-3zm1-2zm0 2zm1 1zm5-4zm0 0zm3 3zm2 1zm1-3zm1 6zm2-1zm0-1zm2 0zm0-2zm2-2zm11 2zm41 1zm-53 11zm-1-1zm-5-2zm-2 1zm-1-3zm0-1zm-1 2zm-4 4zm-1-5zm-3 3zm-1 0zm-1-3zm0 2zm0-3zm-1 3zm-1-3zm0 6zm-1-3zm-1 0zm-1 3zm0-5zm-1-1zm-2 1zm0-2zm0 1zm-1 2zm-1-1zm0 3zm0-4zm-1 5zm0-4zm0-2zm-1 2zm0 5zm0-5zm-1 4zm0-2zm0-3zm-1 1zm0-2zm0 7zm0 0zm-1-4zm0-1zm-2 4zm0-4zm-2 2zm-1-3zm0 1zm0 2zm0-4zm0 1zm0 5zm-1-3zm-1 0zm0-2zm0 5zm0-5zm0 0zm0 0zm-1 3zm0 1zm0-4zm0 3zm-1 3zm0-1zm-1 1zm0-7zm0 6zm0 0zm0-4zm-1 1zm0 1zm-1-2zm0-2zm-1 0zm0 0zm0 0zm-1 6zm0-1zm0 2zm0-7zm0 0zm-1 2zm0-1zm0 1zm0 3zm0-3zm0 1zm0-3zm-1 0zm0 1zm0-1zm0 1zm0 0zm0 6zm0-5zm-1-2zm0 5zm-1-5zm0 3zm0-1zm0-1zm0 4zm-1-4zm0 2zm0-2zm0 1zm0-2zm0 1zm-1-1zm0 2zm0 5zm0-2zm0-5zm0 2zm-1 3zm0-2zm0 3zm0-2zm-1-2zm-1 2zm0 2zm0-2zm0-1zm0-2zm0 5zm0-1zm-1-1zm0 0zm0 2zm0-4zm0-1zm-1 1zm0 1zm0-2zm0 5zm0-6zm0 1zm0 0zm0 6zm0-7zm-1 4zm0-3zm0 4zm-1-1zm0-2zm0-2zm-1 1zm0 3zm0 0zm0 3zm0-6zm0-1zm-1 0zm0 5zm0-1zm-1 2zm0 0zm0-5zm0 0zm-1 1zm0 3zm0-1zm0-3zm0 4zm0 0zm0-1zm-1 0zm0-1zm0-3zm0 6zm-1 1zm0-6zm0 2zm-1-2zm0 3zm-1-4zm0 4zm0-1zm-1-3zm0 7zm0-3zm0 3zm0-3zm0 1zm0 0zm-1 2zm0-4zm0 0zm0-2zm0 0zm-1 6zm0-6zm0 5zm0-4zm-1 3zm0 0zm0-4zm0 0zm-1 3zm0-1zm-1-2zm0 1zm0-1zm0 5zm0-4zm-1 4zm0-4zm0-1zm0-1zm-1 0zm0 7zm0-6zm0 4zm0-3zm0 0zm-1 3zm-1 2zm0-1zm0-5zm-1-1zm0 1zm0 3zm-1 2zm-1-6zm-1 4zm0-2zm-1 0zm0-1zm-1 4zm0 0zm0 2zm-1-5zm0-2zm-1 2zm0 2zm0-1zm-1-3zm0 7zm-1-3zm0 0zm0-3zm0 2zm-1 2zm0 0zm-1-2zm-1 0zm0-2zm-3 2zm-1-2zm0-1zm-1 3zm0-2zm0 2zm-1 1zm0-3zm-1 4zm-1-1zm0 2zm-2-1zm0-4zm-1 4zm0 1zm-4-2zm-2-4zm-2 0zm-2 5zm-4 1zm-3-3zm-1-1zm-1 1zm-6 4zm0 0zm-6-6zm-2 2zm18 7zm1 0zm4 2zm6 0zm4-3zm1 5zm1-5zm2-1zm2 2zm0 3zm2 0zm3 2zm0-6zm2 0zm0 0zm1 2zm0 4zm3-3zm2-3zm2 6zm0-7zm1 0zm1 0zm1 0zm0 1zm1 0zm0 1zm1 1zm1-2zm0 1zm1-1zm0-1zm3 0zm1 3zm1-2zm2 5zm0-4zm1 4zm0-5zm0 1zm1-1zm0-1zm0 1zm1-1zm0 6zm1-3zm0-3zm1 4zm0 1zm0-5zm1 0zm0 2zm1 4zm0-4zm2 4zm0-3zm1 1zm0 0zm0-4zm2 1zm0 3zm0-3zm1 2zm0-1zm0 1zm2 1zm2-4zm0 5zm1-1zm2-1zm0-3zm2 0zm1 2zm1 3zm0-1zm1-3zm0 0zm1 2zm0-1zm1-2zm1 0zm1 1zm2-1zm1 7zm0-5zm1-1zm0 3zm1-3zm1 5zm0-2zm0 0zm1-3zm0 3zm1-2zm1-1zm0 1zm1-2zm1 7zm0 0zm1-7zm0 0zm0 1zm2 6zm1-7zm6 1zm2-1zm0 1zm2 0zm2 6zm4-2zm5-1zm3-3zm9 5zm13-2zm12-2zm-36 10zm-19 2zm-2-6zm-1 0zm0 5zm-10-1zm-3 2zm-2-3zm-4 1zm0 0zm-1 2zm-2 0zm-1-5zm0 0zm-2 5zm-11-6zm-1 2zm-1-1zm-2 5zm-3-5zm-1 5zm-5-6zm-2 1zm-3 0zm-3-1zm-3 3zm-2 0zm-4-2zm-12 0zm-13 4zm33 6zm2 3zm1-5zm8 2zm15 1zm11 3zm3-6zm15 5zm7-3zm10 1zm-72 10zm-6-4zm-4 1zm36 5z"/>
<path stroke="#1f77b4" d="M1178 91zm-29 2zm-14 7zm36 23zm-2 0zm-6 0zm-1-2zm-1 3zm-1 3zm-1-1zm0-3zm-1-1zm-2 4zm-1 1zm-1-3zm-1-4zm-3 6zm-6-2zm0 2zm-176 8zm19 0zm147-4zm13-2zm7 2zm2 4zm0-3zm2 1zm2 3zm2-2zm1-1zm7-1zm4 1zm6 4zm-14 4zm-1 3zm-5-4zm-4 3zm-5-4zm-159 5zm-31-1zm-2 1zm-8 1zm17 5zm1 2zm4-5zm7-1zm5-1zm13 2zm10 2zm139-2zm8 5zm1-4zm8-1zm1 0zm10 5zm7-5zm-9 9zm-8-1zm-10 3zm-1-5zm-157 3zm-14-1zm-1-2zm-2 6zm-10-2zm-4-3zm-7 4zm-3-5zm1 10zm4 2zm8 2zm3 1zm0-7zm1 2zm1 0zm13 4zm0 1zm2-5zm2 4zm159-4zm2 5zm5-1zm5 0zm13 1zm4 8zm-5-2zm-6 0zm-1-3zm-1 2zm-4 0zm-1 2zm-1-3zm-10-2zm-1 6zm-114-1zm-34 0zm-2-1zm-1-4zm-3 1zm-3 3zm-1 1zm-1-2zm-3 1zm-1-1zm-2 0zm-1 0zm-5 0zm-2 2zm-1 1zm-3-1zm0-1zm0-1zm-1 3zm-3-2zm-2-4zm-4 4zm-3 2zm-10-5zm15 7zm4 3zm3-2zm5 5zm1-6zm3 4zm8-2zm1 1zm4-2zm16 3zm3-4zm23 5zm118-3zm3 3zm4 0zm2-3zm4 4zm1-4zm14 3zm-22 9zm0-3zm-12-2zm-119 2zm-3 0zm-11-4zm-8 5zm-6 1zm-1-2zm-1-1zm-7-1zm-1 5zm-1-7zm-5 1zm0 5zm-11 0zm-2-2zm0-1zm-3 3zm-1-3zm1 8zm2 4zm7-7zm3 5zm0 1zm1-5zm1 4zm1 1zm1-1zm14 2zm0 0zm0-7zm2 2zm0-1zm2 5zm0 0zm1-2zm1-4zm1 1zm0-1zm10 1zm8 0zm2 0zm124 5zm12-6zm8 1zm4-1zm31 6zm5-5zm10 12zm-24 2zm-19-5zm0 0zm-5 4zm-1-2zm-6 3zm-20 0zm-56-1zm-40 1zm-6-1zm-8 1zm-12-1zm-5 1zm-8-3zm-1 3zm-3-5zm-1 2zm-4 3zm0-1zm-7-4zm-3 0zm-1 4zm-4-5zm-6-1zm-5 2zm-1 1zm0 4zm-16 5zm15 3zm9-4zm0-2zm0 5zm6-5zm1 1zm1 2zm3 1zm7 1zm0-2zm5-2zm1-1zm0 1zm1 3zm0 0zm1-5zm1 1zm9-1zm0 7zm4-5zm2 5zm3-7zm119 4zm7-3zm1 2zm4-3zm5 6zm3-5zm0 5zm0-1zm2 2zm3-5zm0 2zm3-2zm2-2zm2 5zm2-1zm1 1zm10 0zm42-3zm3 10zm-42-1zm-5 3zm-3 1zm0-4zm-9 3zm0 0zm-3 1zm0-3zm-1-3zm-3-1zm-3 3zm-3 3zm-1-6zm-4 4zm-8-1zm-1 4zm-88-4zm-18 4zm-8 0zm-5-2zm-3 0zm-3 1zm-1-2zm-1 1zm-3-2zm-1-2zm-1 5zm-1-2zm-2-4zm-1 0zm-1 5zm-11 1zm-1-5zm-1 6zm-4-5zm0 3zm0 0zm-3-5zm-26 1zm10 14zm0-2zm10-1zm2 2zm6-2zm0 1zm1-4zm0 1zm7 0zm1 5zm0-4zm2 2zm1-4zm3-1zm1 2zm2 1zm3 4zm1-3zm3 3zm4-7zm0 4zm1-1zm2 4zm1-1zm1 1zm1-1zm1-2zm9 1zm98-4zm12-1zm3 0zm4 5zm3 0zm0-2zm0-2zm1 6zm5-5zm2 3zm0-2zm1 0zm4 1zm0 2zm2-5zm1 0zm0 4zm1-5zm1 3zm1-3zm1 2zm10 3zm51-5zm23 13zm-31-2zm-1 1zm-24-3zm-7-1zm-6 5zm-2-5zm-4 3zm-3 3zm0-5zm-5 4zm-3-4zm-1 0zm0 4zm-1 1zm-2 0zm0 1zm-1-7zm-2 2zm-1 5zm-1-5zm-1 0zm-1 5zm-1-1zm0-5zm-3 3zm0-3zm-1 5zm-1-2zm-3-3zm-1 0zm0 4zm-6-3zm-11 5zm-6-3zm-84-2zm-12 1zm-1-2zm-4 3zm-3-2zm-4 1zm-3-1zm-3-1zm-2 6zm-1-5zm-4 4zm-2-4zm0 5zm-2-4zm-1-1zm-1 4zm-3-5zm-1 0zm-2 4zm0-5zm-2 5zm-1-5zm-7 3zm0-1zm3 12zm2-5zm4 3zm4-3zm9 4zm0-5zm3 3zm4 1zm4 2zm1-3zm3 3zm5-3zm0 4zm1-6zm3 3zm0-4zm5 7zm1-1zm0 1zm0 0zm5-4zm2 1zm4 3zm92-1zm6-2zm0-3zm2 2zm1-1zm1 4zm2-4zm1 3zm1-3zm3-1zm3 2zm1-3zm0 1zm0 1zm1 0zm0 4zm0-2zm1 0zm1 2zm0-5zm0 4zm3-1zm1 3zm0-6zm2 0zm5 5zm2-3zm2-3zm3 5zm1 1zm49-2zm17 10zm-27-6zm0 3zm-21 1zm-1 2zm-13 0zm-4-4zm-3 5zm-2-1zm-1-2zm-1 2zm-2-5zm-1-1zm-1 3zm-1 1zm0-2zm-1 5zm-1-3zm0 2zm-1-5zm-1 2zm0-2zm-1 1zm0 5zm-1-7zm0 3zm0 4zm-2-7zm0 0zm-1 0zm0 5zm0 2zm0-7zm0 5zm-1-2zm0 2zm0 1zm-2-1zm0 2zm0-3zm0 1zm0-3zm-1 0zm-1 0zm-2-2zm0 4zm-1-2zm0-1zm0 0zm-1 1zm-1 4zm0-5zm-1 3zm0 0zm0-1zm-1-1zm-4 2zm-2-2zm-1-2zm-1 2zm-103 0zm-2 1zm0 1zm-3-2zm-2 1zm-2 3zm-1-3zm-1 4zm-2-7zm-2 6zm-2-5zm-1-1zm0 2zm-7-2zm-2 3zm0 1zm-4-4zm0 4zm-1 2zm-1-3zm0 2zm-5 1zm0 1zm0-1zm-2-2zm-2-2zm-1 0zm-9-1zm12 11zm5-2zm2 3zm0-5zm1 1zm4 0zm2 0zm1 2zm2 2zm5-2zm0-2zm4 5zm0-5zm3 2zm0 3zm1 1zm6-1zm1 0zm3-2zm6-1zm1 2zm4-4zm0-1zm5 2zm22 5zm62-3zm2 0zm1-4zm2 2zm1 4zm3-1zm1 1zm0-6zm0 1zm1-1zm3 6zm0-2zm1 0zm0-2zm2 3zm1 1zm0-1zm0 0zm0 2zm1-4zm0 0zm0 4zm1-4zm0-3zm1 1zm0 1zm1 1zm1 0zm0 4zm0-3zm1-2zm0-1zm0 0zm0 3zm0-3zm0 2zm1-2zm0 3zm1 3zm0-4zm1-2zm0 5zm0-6zm1 0zm1 7zm2-3zm0-4zm1 1zm1 2zm1-3zm1 1zm1 0zm0 2zm0 4zm1-2zm0-2zm0 3zm1 1zm1-5zm1-2zm1 4zm18-4zm23 5zm70 7zm-54-4zm-52 4zm-1-3zm-4 2zm-2 3zm-2 0zm-1-2zm-1-3zm0 2zm0 2zm-2 0zm-1-5zm0 4zm0-1zm-1 0zm0-1zm0-1zm0-1zm0 2zm-1 5zm0-4zm-1 0zm0 3zm-1 1zm0-1zm0 0zm0-5zm0 0zm-1 4zm-1-5zm0 3zm-1 0zm0 3zm0-5zm0 5zm-1 0zm-1-1zm0-2zm0 4zm-1-5zm0-2zm0 2zm-1-1zm0 5zm0-6zm-2 7zm0-4zm0 4zm0-4zm-1 3zm0 1zm0-2zm0 2zm-1-6zm0 3zm0-2zm0-2zm-1 6zm-1 1zm0 0zm-1-6zm-2 0zm0 5zm-1-3zm0-2zm-1 1zm-4 3zm-2-5zm-3 7zm-3-2zm-2-3zm-34 4zm-25-1zm-7 2zm-6-1zm-4-2zm-5 1zm-10-5zm-1 4zm0-2zm-3-2zm-2 3zm-3-2zm-3 6zm-10-4zm-1 4zm-5-6zm-2 3zm-3-4zm-1 2zm-2-2zm-30 8zm14 0zm4 2zm0-1zm11 1zm0 0zm2-2zm1 6zm3-6zm0 5zm0-1zm4-1zm1-2zm5 2zm3 2zm7-3zm3 0zm2 5zm4-5zm4-1zm2 6zm3 0zm1-3zm1 2zm5 0zm5-2zm9-4zm19 4zm54 2zm3-3zm3 1zm0-2zm2 5zm1-4zm0-2zm1 2zm0 1zm0-2zm1 4zm1-1zm1-5zm1 6zm0-1zm0-1zm0 3zm0-4zm1 1zm0-1zm0 1zm1-4zm0 0zm1 1zm0 0zm1 4zm1-4zm0 1zm1 1zm0-3zm1 5zm0-5zm0 0zm0 2zm1 5zm0-7zm0 3zm1 1zm0 1zm1-1zm0-1zm0 1zm0 2zm1-1zm0 0zm0 0zm1-1zm0-4zm0 6zm0-3zm0 1zm0 3zm1-4zm0 2zm0-2zm0 2zm1 1zm1-5zm0 0zm1 1zm0 1zm1 2zm0-3zm1-2zm1 1zm1 1zm1 3zm0-2zm1 4zm0-1zm2 0zm8-6zm76 1zm22 10zm-3 1zm-6-3zm-30 5zm-5-4zm-35-2zm-5 5zm-16-2zm-5-1zm-6 2zm0 0zm-1 3zm-1 0zm0-6zm-1 4zm0-4zm0 2zm-1 2zm0-4zm-1 6zm0-3zm0 0zm-1-3zm-1 1zm0 4zm0-2zm-1 1zm-1-4zm0 5zm0-6zm-1 2zm0 4zm0 1zm0-6zm-1 0zm0 0zm0 6zm0-1zm0 1zm-1-2zm0-1zm0-2zm0 4zm-1-5zm0 6zm0-1zm0-6zm-1 4zm0 3zm0-3zm0-4zm0 2zm-1 2zm0 1zm0-5zm-1 7zm0 0zm0-2zm-1-4zm0-1zm0 5zm0 2zm0-7zm0 3zm-1-2zm-1 6zm0-4zm0 2zm0-1zm-1-3zm0 3zm0 3zm-1 0zm0-2zm0 0zm0-5zm0 0zm0 7zm0-6zm0 0zm0 3zm-1 3zm0-5zm-2 3zm0-3zm0 0zm-1 4zm0 1zm-1-6zm0 3zm-1 1zm-1-5zm-1 5zm-1-2zm0 1zm-2-4zm0 7zm0-5zm0 2zm-1 1zm-10 2zm-60-7zm-7 7zm-4-1zm-4 1zm-1-1zm-2-2zm-4-4zm-3 6zm-5-5zm-4 4zm-1-4zm-1 5zm-2-3zm-4 1zm-2-1zm0-1zm-2 0zm-1-1zm-10 4zm-9-2zm-2-2zm-1 2zm-2 1zm0-4zm-24 1zm11 8zm4-1zm7 6zm1-2zm5-4zm4 4zm2-1zm3 3zm2-1zm4-5zm4 5zm1 0zm1-4zm3 6zm1-4zm1-2zm0 2zm0-1zm0 4zm2-6zm0 7zm1-6zm2 1zm2-2zm4 3zm0-1zm2 4zm1-5zm1-1zm1 6zm6-6zm0 4zm6 1zm2 1zm2 1zm3-5zm4 2zm1 1zm0-3zm4-1zm37 3zm22-3zm4-1zm6 2zm1 4zm2-6zm2 0zm0 5zm1-5zm1 0zm1 7zm0-3zm1 2zm2-4zm0-2zm0 2zm0 3zm1-4zm0 1zm0-2zm1 7zm0 0zm0-6zm0 5zm0-6zm1 3zm0-2zm0 4zm0-1zm0 3zm1-4zm1-2zm0-1zm0 6zm2-6zm0 1zm1 5zm1 1zm0-6zm0 4zm0 2zm1 0zm1-2zm1-2zm0-3zm1 1zm0-1zm0 7zm3-4zm0 0zm0 3zm1-6zm0 0zm1 2zm1 3zm3-4zm2 5zm2-1zm7-3zm53-1zm18 6zm30-6zm3 3zm-4 6zm-34-1zm-64 1zm-1 2zm-2-4zm-1 3zm-3 1zm0 2zm-1-5zm-6 4zm0-2zm0-2zm0 6zm-1-2zm-1-2zm-1 0zm0 4zm0-3zm0-2zm-2 0zm0 1zm0-2zm0 3zm-1 2zm0-6zm0 0zm-1 5zm0 2zm0-1zm-1 0zm0-4zm-1-1zm0 3zm-1-1zm-2-3zm0 2zm0 2zm-1-4zm0 1zm-1 3zm0 1zm-1-4zm0 4zm0-2zm-1-2zm0 1zm0-1zm-1 0zm0-1zm0 2zm0 5zm0-6zm-1 3zm0-4zm0 4zm0-1zm-1-2zm0 6zm0-5zm0 0zm0 5zm-1-5zm0 1zm0-3zm0 4zm-1 1zm0-4zm-1 3zm0-2zm0 1zm-1 4zm0-5zm-1 1zm0-2zm0 6zm0-1zm-1-5zm0 0zm-1 3zm0 2zm0-3zm0 0zm-1-3zm-1 1zm0 5zm-2-1zm-1-3zm-2 1zm0 3zm-4-1zm-17 2zm-3-7zm-9 2zm-16-2zm-15 7zm-6-2zm-2 0zm-3 0zm-7 2zm-1-1zm0-1zm-1 1zm-1-3zm-1 2zm0 2zm-1-2zm-12 0zm0 0zm-1-4zm0 0zm-2 0zm-3 0zm-3 6zm-1-2zm-3 1zm-2-5zm-1 5zm-2-2zm-1 2zm0 1zm-2-5zm0-2zm-2 7zm0-4zm-2-2zm-1 4zm-2-4zm-1 2zm-3 3zm-3-2zm-27-2zm7 11zm10-2zm4-3zm4 0zm2 3zm19-1zm0 4zm2-2zm8-4zm2 6zm1 1zm3-7zm6 4zm2 3zm5-2zm3-5zm4 4zm1 0zm4-1zm13-3zm3 7zm25-2zm5 1zm21-6zm6 0zm1 3zm1 3zm0 1zm1-4zm1 4zm2-5zm3-1zm1-1zm0 3zm0-2zm2 0zm1 5zm0-5zm0-1zm1 2zm4 3zm0-1zm0-2zm2 5zm0-6zm0-1zm1 1zm1 5zm0 1zm0-1zm1-4zm0 3zm0-2zm0 0zm1 1zm1-2zm1 1zm0-3zm0 7zm1-6zm0 3zm0-4zm0 0zm0 6zm2 0zm0-1zm2 1zm1-1zm0 0zm1-1zm0 0zm0 2zm1-6zm6 1zm4 4zm27-3zm16 5zm16-3zm11 2zm24-4zm18 1zm43 2zm2-4zm67 1zm-166 9zm-62 2zm-5-2zm-3 4zm0-6zm-1 5zm-1-5zm-2 3zm-3 3zm0-5zm0 2zm-1-4zm-1 7zm-1-7zm0 6zm-1-3zm-1-1zm0 3zm-1-4zm-2 1zm0 5zm0-4zm-3 3zm-1 1zm0-7zm-1 7zm-1-5zm-1-2zm-5 7zm0-6zm-1 0zm-1 5zm-3-5zm-25-1zm-5 7zm-2-5zm-2 5zm-1-3zm-23-3zm-2 0zm-3 1zm-3 2zm-1-1zm-1 0zm-4 4zm-2-5zm-2-1zm-1 2zm-5 2zm-2 2zm-1-6zm-1 2zm-1 1zm-1-3zm-1 2zm-2-1zm-1 5zm-1-7zm-1 0zm0 4zm-1 0zm-1 3zm-1-6zm-2 4zm-1-4zm0 6zm-3-4zm-7-2zm-2 1zm-1 4zm-3-2zm-3-3zm-3 3zm-1 1zm0-5zm-3 5zm-9-2zm-1 1zm-3 0zm0-4zm-29 5zm21 3zm31 7zm1-6zm1 0zm4-1zm1 5zm4-4zm0 3zm3-1zm5 0zm1-2zm0 0zm2 5zm4-5zm0 6zm1-6zm1 1zm0 3zm4-5zm7 3zm0 1zm3 0zm1 2zm0-6zm1 2zm6 5zm0-4zm3 0zm3 3zm1-3zm0 1zm0-1zm6 2zm4-2zm4-3zm2 7zm3-4zm1 1zm2-1zm13 4zm9-4zm5 0zm7 4zm6-7zm2 1zm2-1zm3 2zm3 3zm0-1zm0-1zm0-3zm1 5zm1-5zm0 5zm1-2zm0 3zm0-2zm1 2zm1-4zm1 2zm0-1zm1 0zm0 0zm2-1zm0-1zm0 2zm1 3zm1 0zm1-2zm0 1zm1-5zm2 2zm0-2zm1 2zm1 3zm1-1zm0-1zm0-3zm2 1zm2 3zm19-2zm19-2zm135 4zm0-2zm109 7zm-130 2zm-27 1zm-76 2zm-37 0zm-8 0zm-2-3zm-5-2zm-3 0zm-3 2zm0-1zm0 2zm-2-4zm-3 5zm-1-5zm-2 1zm0 0zm-3 3zm-1-1zm-1 1zm0-4zm-2 6zm-1 0zm-5-4zm-15 5zm-24-2zm-10-1zm-1 1zm-4 0zm-2 0zm-1-3zm-4 0zm-1 0zm-4 3zm0-2zm-1 4zm-1-6zm-5 5zm-1 1zm-1-3zm-1-3zm-1 4zm-1-5zm0 0zm-2 0zm-1 6zm0-1zm-1-2zm0-3zm-2 5zm-3 1zm-7-6zm-1 1zm-2 4zm-2 0zm-4-2zm-1 3zm-3 0zm-5-3zm-5 1zm-2 0zm-2-3zm-4-1zm0 7zm-6-5zm-15 3zm-8 9zm4-4zm28-1zm1 3zm0 0zm3-3zm2 2zm0 0zm0 2zm1-5zm4 0zm2 7zm3-2zm0-5zm2 6zm0 1zm4-7zm2 6zm3 1zm3 0zm5-6zm6-1zm3 2zm5-2zm3 4zm5 3zm2-4zm0 2zm5-2zm2 2zm5-4zm1 4zm1-1zm1-4zm0 0zm4 5zm1 0zm6-4zm1 6zm10-5zm13-1zm7 0zm1 2zm0 4zm7-4zm0 3zm1-1zm2-4zm1-1zm3 6zm0 0zm1-3zm1 3zm0-4zm2 3zm1-1zm1-4zm2 2zm0 3zm0 2zm1-1zm1-3zm2 0zm0-2zm3 0zm1 1zm0 0zm0 4zm0 1zm3 0zm1-2zm1-1zm2-4zm1 6zm3 1zm41-4zm38-1zm7 2zm7 3zm53 0zm6-3zm16-2zm27-2zm43 10zm-7 0zm-9 0zm-4 2zm-25-4zm-8 6zm-27-6zm-4 4zm-33-2zm-12 5zm-77-6zm-15 3zm-13 1zm-10-4zm-2 2zm-2-3zm-2 0zm-2 1zm-1 5zm0-2zm-1 3zm-2-3zm0 2zm-1-1zm0-5zm-1 4zm0-1zm-2-2zm-1 6zm-1-5zm0 4zm-4-5zm0 0zm-1 3zm-1-3zm0 0zm-2 1zm-1 2zm0-4zm-2 0zm-11 3zm-1 1zm-7-4zm-1 3zm-1 4zm-2-7zm-5 7zm-2-2zm-1-2zm-5 1zm-2 0zm-5 1zm-2-5zm-5 5zm0-4zm-1 1zm0-1zm-4 0zm0 2zm-3 4zm-4-6zm-1 2zm-1 2zm0 1zm0-3zm-2-2zm-3 1zm0 1zm0-1zm0 3zm-3-5zm-1 5zm0-4zm-2 4zm-9-4zm0 6zm-4 0zm-2-7zm0 6zm-4 1zm-4-5zm-1 2zm-1-4zm-1 5zm-1-1zm0-2zm-1 5zm0-2zm-2 0zm-4-5zm0 6zm-1-4zm-2-1zm-3 0zm-3 2zm-2-2zm-4 0zm-11 5zm-3-5zm17 7zm2 2zm4 5zm2-7zm2 2zm3 0zm0 0zm3 3zm4-3zm1 2zm2 2zm2-1zm4-3zm0 4zm3-1zm0-5zm1 5zm2 0zm0-1zm2-4zm3 0zm2 6zm2 1zm2-4zm0 3zm0 0zm2 1zm1-4zm0 0zm1-2zm0 0zm4-1zm0 4zm2 2zm0-1zm2-4zm1-1zm0 5zm0 1zm1-1zm1 1zm0-4zm0 5zm2-6zm1 2zm1 3zm5-4zm1 0zm1 4zm2-3zm3 4zm0-4zm1 4zm0-1zm2-3zm0 1zm0-2zm4-2zm1 7zm3-4zm0 0zm5-1zm4 2zm7 2zm10-1zm5 1zm5-5zm0 5zm1-1zm4-4zm0 2zm2 3zm4 1zm0-2zm1 1zm17-1zm1-4zm3 5zm10-5zm4 6zm2-5zm6 5zm30-3zm5 1zm21 1zm1 1zm2-5zm17 1zm44 2zm23-1zm6-2zm2 5zm17-7zm7 5zm14 1zm5-3zm7 1zm15-2zm6 2zm2 1zm14 0zm5 1zm76-2zm-79 8zm-10 3zm-2-3zm-5 2zm-5-2zm-3-1zm-6 1zm-1-1zm0-2zm-8 1zm-7 2zm-5-4zm-1 3zm-20 0zm-10 2zm-3 0zm-1-5zm-24 6zm0-2zm-13-3zm-13 1zm-1 3zm-4-5zm-4 5zm-1-5zm-27 1zm-25 3zm-4-3zm-4 0zm-59 3zm-6-4zm0 5zm-1-4zm-2 2zm-5-3zm-2 4zm-2-1zm-1 3zm-2 0zm-1-3zm-1-3zm-1 4zm0 1zm-1-3zm-2 1zm-4-1zm0 2zm-13 1zm-5-5zm-1 5zm-1-4zm0 6zm-3 0zm-4-6zm-2 2zm-6 0zm0-1zm-3 3zm-3-4zm-3 4zm-1 1zm0-1zm0 0zm-1-1zm-5-1zm0 1zm-1 1zm-1-2zm0 0zm0-2zm-4 5zm-5 1zm-1-5zm0 3zm-1-2zm-1 1zm0-1zm0-2zm-1 2zm-1 4zm-2-3zm-1 0zm-1-2zm-3-2zm-2 2zm0 0zm-1-1zm0 3zm-1-3zm0-1zm0 3zm-2 3zm-3 1zm-1-5zm0 2zm0-1zm-1 4zm-3-7zm0 6zm-1-2zm-2-1zm-1 3zm-1-4zm-1-1zm-11 0zm-1 2zm-1 0zm-1 4zm-1 0zm-4-6zm-1 4zm-3 0zm0 7zm2-4zm5 6zm2-6zm1 4zm6-2zm1 0zm1 1zm0 3zm1-5zm1-1zm2 6zm2 1zm1-5zm1 0zm0 3zm2 0zm1-1zm0-3zm1 6zm0-5zm0 0zm1 2zm1 2zm1 1zm1-3zm0-3zm2-1zm0 7zm0-3zm1-1zm1 2zm2-3zm1-2zm0 0zm1 0zm0 4zm3-2zm0 5zm1-6zm0 3zm2-4zm4 0zm0 3zm2 2zm0-3zm1-1zm1 5zm2 1zm0-6zm1 5zm3-6zm0 4zm1-4zm1 1zm0 0zm0 2zm1-3zm3 5zm0-5zm1 1zm0 5zm2-4zm0 4zm1-3zm0 1zm0-2zm7 1zm1-1zm0 5zm1-4zm5-2zm1 1zm1 3zm1-1zm1 0zm5 3zm2-4zm1-2zm2 3zm0-4zm6 7zm4-1zm1-3zm4 0zm0-2zm0-1zm2 2zm1 5zm6 0zm0-3zm1-3zm2 3zm1-3zm0 1zm0-1zm0 0zm3 0zm2 6zm0-1zm2 0zm2-4zm3 4zm14-5zm4-1zm6 7zm40-3zm4-4zm8 7zm7-1zm1-2zm6 0zm41-2zm1 1zm2 3zm39-1zm0-2zm4-1zm1 2zm5-4zm1 5zm0 2zm2-1zm4-4zm9-1zm10 3zm4 3zm3-7zm6 2zm3 5zm4-3zm0 0zm3-2zm2 5zm3-4zm3 2zm2-3zm2-2zm5 1zm0-1zm2 4zm4-1zm2 4zm2-5zm25 2zm0 3zm8 5zm-20-2zm-3 0zm-2-2zm0 4zm-1 3zm-3-6zm-3 0zm0 6zm-2-4zm-8 3zm-1 1zm-1-7zm0 3zm-2 1zm-1 0zm-1-3zm-2 5zm-2 1zm-1 0zm0 0zm-1-1zm-1 0zm0-3zm-4-3zm-4 5zm-14-4zm-3 2zm0 4zm-2-3zm0-4zm-2 6zm-2-4zm-1 5zm0-1zm-2 1zm-3-7zm0 6zm-6-6zm-6 6zm-1-3zm-1 3zm-13-5zm-2 3zm-7-4zm-1 1zm-1 1zm-4 5zm-6-5zm-2 2zm-7-1zm-11 1zm-17-1zm-7 0zm-16 4zm-5-7zm-9 5zm-32 2zm-14 0zm-30-6zm0 2zm-1-3zm0 4zm-4-3zm-4 1zm0 4zm-1-3zm-3 2zm-3 0zm-1-4zm-1 5zm-2 1zm0-2zm-1 0zm0-3zm0-2zm-1 7zm0-2zm-1 0zm-1 1zm-2-2zm0 2zm-1-2zm-3 2zm0-4zm-2 3zm0-2zm-1 4zm0-4zm0 2zm-5 1zm-2 0zm-1-2zm-2-2zm0 5zm-1-3zm-2 3zm-6-4zm0 0zm-1 4zm-2-7zm-1 0zm-5 4zm-3-4zm-1 1zm0 0zm-1 4zm0 2zm-2-5zm-5 5zm-2-6zm-1 1zm-1 0zm0-2zm0 7zm0 0zm0-1zm-2-1zm0-3zm-1 1zm-2 3zm-1-2zm0-3zm-1 5zm-2-2zm-1 0zm-3 3zm-1-2zm0-3zm0-2zm-2 0zm-2 5zm-1-3zm-3-1zm-1 5zm0-5zm-1-1zm0 1zm-3-1zm0 4zm-1 0zm-2 3zm-1-1zm-1-6zm0 6zm-2 1zm0 0zm0-6zm0 6zm-1-3zm0 2zm0-4zm-2 1zm0 4zm-1-6zm-2 0zm-1 0zm0 3zm-2 3zm0-7zm0 7zm-1-5zm0-2zm0 2zm-3 3zm-1 2zm-4-3zm0-1zm-2 3zm-3-1zm0 0zm-3-5zm-1 6zm-1-1zm-2 2zm-2 0zm-1-7zm2 9zm2 2zm7 1zm1-2zm7 3zm1-3zm3-2zm2 6zm1-3zm2-2zm1 5zm0-2zm1 3zm0 0zm3-5zm0 1zm1 4zm1-7zm1 1zm0 4zm0 2zm1-7zm0 2zm0 0zm2 5zm0-4zm1-2zm1 6zm0-1zm0-2zm1-2zm0-1zm0-1zm1 6zm0 0zm1-5zm1 2zm2 2zm0 0zm3-3zm0 2zm1 1zm1 2zm0-2zm1-1zm1 2zm0 1zm1-7zm0 4zm1-3zm0-1zm0 2zm2 2zm0-2zm1-2zm2 5zm1 1zm2-2zm1-1zm0 2zm1-5zm0 2zm1-1zm1 4zm0-1zm0 2zm1-2zm0 3zm1-2zm1-5zm1 7zm3 0zm0-2zm0 0zm1-2zm1 0zm1 3zm0-5zm1 6zm0-6zm1-1zm1 4zm0 3zm0-5zm1 4zm1-4zm1-2zm1 7zm2-1zm1 1zm1-5zm1 2zm0-1zm2-3zm0 4zm1-3zm1 1zm0-2zm0 1zm2 2zm1 1zm1 3zm1-2zm2 1zm2-2zm3 1zm3 1zm0-6zm2 3zm1 3zm3-1zm1-2zm1 3zm2-2zm0-2zm1 2zm1-2zm2-1zm0 6zm0 0zm0-2zm2-1zm0 3zm5-1zm1-2zm3-2zm1 0zm2-1zm4 6zm2-2zm0-4zm0 0zm1 2zm0 1zm3 2zm1-3zm2-3zm19 1zm1 4zm1 0zm0 2zm27-5zm14 1zm0-3zm7 2zm1 0zm4 1zm9-1zm1 5zm11-3zm0-3zm3 1zm1 5zm4-1zm0 1zm1 0zm1-7zm19 5zm3-2zm2 2zm3-4zm4 5zm0-1zm1 1zm4-4zm4-1zm1 5zm0-1zm10-5zm5 6zm1 1zm0-4zm4 3zm4-6zm1 3zm0 0zm1 2zm1-4zm5 4zm0-4zm3 4zm1-2zm3 4zm1-6zm0 2zm1 2zm2-2zm2 0zm1 3zm3-2zm2-2zm1-1zm1 5zm3-3zm2 4zm2-5zm0 1zm3 1zm0 2zm2-3zm0-1zm0 4zm0-2zm0-2zm1 3zm4-2zm1-1zm2-1zm1 0zm0 0zm1 5zm0 0zm1-2zm0 1zm2-3zm1 0zm0 0zm0-2zm2 6zm0-3zm0-3zm0 2zm1 4zm0-1zm1-4zm1 4zm4-1zm2 3zm1 0zm2-3zm0 3zm0-5zm2 3zm0-2zm1-3zm0 6zm0-3zm1 2zm1-1zm2-1zm1-1zm0 4zm2-3zm3 1zm0 0zm5 1zm3-3zm1 4zm3 0zm0-3zm2-3zm4 3zm0 1zm5-3zm0 5zm14 0zm2-2zm-8 11zm-9-4zm-1 0zm-2 2zm-1-2zm-1 0zm-1 0zm-1 4zm-3-5zm-3 5zm-2-2zm0-3zm-1 3zm-4-4zm-1 5zm0-2zm-1 2zm-1-3zm-1 3zm-1-6zm-1 4zm0-1zm-1 2zm-1-2zm-1 2zm-2-4zm-1 2zm0-1zm-1 0zm0 5zm0-2zm-1-2zm-1-2zm-1 4zm-2 0zm-1 2zm0-4zm-1 1zm0-4zm-1 2zm-1 0zm0 1zm0 0zm-2-1zm0 2zm-1-2zm0 1zm-1 3zm-1 1zm-2-6zm-1 2zm0 0zm-1 3zm0 0zm-1-5zm0 6zm-1-1zm-1 0zm-2-6zm-1 3zm0 3zm0-4zm0 4zm-1 1zm-1-1zm-4 1zm-1 0zm0-5zm-1 4zm-1 0zm0-3zm-3-1zm0-1zm-1 1zm-1 4zm-1-4zm-1 1zm-1 1zm-3 2zm-2-3zm0-2zm-4 1zm-3 1zm0-1zm-1 2zm-1 3zm-1-5zm-7 5zm-3-1zm-1 0zm-1-1zm-1-1zm-4 3zm-2-5zm-1 0zm-1 2zm-2 0zm-1 3zm-2-5zm-1 5zm-2-1zm0-2zm-1 3zm-1-1zm-6 0zm0-6zm-1 7zm-2-7zm-3 2zm-1 4zm-3 0zm-6-6zm-2 6zm-1 0zm-6-5zm-1 4zm-2 2zm0-6zm-12-1zm-1 2zm-3 1zm-3-3zm-3 6zm-4-2zm-3 1zm-5 0zm-3-2zm-1 2zm-2 1zm-9-5zm-2 2zm-6-1zm-8 1zm-8-3zm-7 6zm-3 0zm-2-2zm-2-1zm0 2zm-1-1zm0-1zm-5 2zm-9-1zm-9-1zm-6 0zm-3 0zm-6 2zm0-1zm-1-3zm-2 6zm-1-4zm-1 3zm-2-5zm0 0zm-1 6zm-1-5zm-1 4zm0-1zm0 0zm-1 2zm-3-3zm-1-3zm-2 2zm-2 0zm-1 3zm-1-2zm-1-4zm0 4zm-1-2zm0 2zm-1-4zm-2 4zm-2 3zm0-6zm0-1zm-1 4zm0 2zm-2-3zm-1 2zm-1-1zm-1-1zm-4-2zm0 3zm-1-2zm-3 5zm-1-3zm-3-1zm-1 0zm-2 1zm-1-4zm-3 6zm-1-3zm-1 1zm-1 2zm0-2zm-3-1zm-1 1zm-2 3zm-1-7zm0 7zm-3-6zm0 4zm-1 1zm0 0zm-1-1zm0-3zm-3 3zm0 1zm-3-3zm-1-1zm0 0zm-2-1zm0-1zm-2 3zm0 0zm-1 1zm0 2zm-1-5zm0 0zm-2 1zm0-1zm0 0zm-1 6zm-1 0zm-1-7zm0 4zm-1-1zm-3-3zm0 5zm0-1zm0-2zm0 4zm-2-4zm0 3zm0-5zm-1 0zm0 3zm-4 3zm-1-3zm0 3zm-1-3zm0 1zm0-4zm0 4zm-1 1zm0-5zm-1 7zm-1-6zm0 1zm-1-2zm-1 6zm0 0zm-1-2zm0 2zm-3-4zm-1-1zm-1 5zm-1 1zm-1 0zm-3-3zm-1-3zm0 5zm-2-1zm-2-2zm-3 3zm-1-5zm0 1zm-1 2zm0 3zm-6-2zm-5-1zm-7 1zm-5-2zm-8 2zm-8-2zm-5 9zm13 0zm8-1zm2-1zm2 5zm6-7zm3 1zm9 4zm1-5zm1 2zm4 3zm0-4zm2 6zm1-2zm2-3zm1 4zm0 1zm2-5zm0 0zm2-1zm1 1zm0-1zm2 6zm1-1zm1 1zm1 0zm0 0zm1-2zm0 1zm0 1zm0-3zm4-1zm0-1zm1 0zm0 2zm0 3zm1-5zm1 5zm1-6zm1 2zm0 0zm0 3zm0-2zm1 3zm0-1zm0 0zm1-5zm0 6zm0-1zm1-1zm1 1zm1-3zm1-1zm1 5zm0-7zm0 5zm1-2zm1-2zm0 2zm1 1zm0-4zm2 7zm1-6zm0 0zm2 0zm2 1zm2 0zm1-2zm0 5zm1-3zm3 3zm1-5zm1 5zm1 1zm0 0zm2-1zm0-2zm1 3zm2-2zm0-1zm0 0zm1 0zm0 0zm1-2zm0 0zm1-1zm1 5zm0 0zm0-2zm2-3zm1 4zm0-2zm1 2zm2-2zm0 3zm0 1zm1-6zm0 2zm0-1zm1 6zm0 0zm0-7zm1 2zm4 3zm2-1zm1 0zm0 1zm1-4zm2 3zm1 2zm2 1zm3-2zm1 2zm1 0zm2-2zm1 0zm1 2zm1-5zm1 1zm0-3zm1 4zm1-1zm2-3zm4 6zm3 1zm1-1zm0-4zm4 1zm2 2zm2-1zm5 1zm0 0zm1-4zm0 2zm2 1zm22-4zm2 1zm3 3zm3 1zm3-4zm1 2zm1 3zm2-1zm3-4zm1 6zm12-2zm8-1zm1 2zm3-3zm4-2zm2 5zm2-5zm6 0zm4 5zm1 1zm4-7zm2 0zm0 7zm5-5zm1 3zm0 1zm4-5zm6 3zm4-1zm1 2zm3-1zm2-4zm6 4zm7-2zm1 2zm4 3zm1-7zm3 5zm6 0zm1 1zm1-5zm0 4zm3-3zm1-1zm4 2zm1 0zm0 3zm0-4zm5 4zm2-6zm2 7zm1-6zm1-1zm0 5zm4 1zm1 0zm1-4zm4 4zm0-5zm2 2zm0 1zm1 3zm1-4zm1-2zm1 5zm0 0zm2 0zm0-4zm0 1zm2-2zm1 5zm3-6zm1 3zm4 3zm1-1zm4 1zm2-5zm1 4zm3-5zm0 0zm0 1zm1-1zm1 4zm1-4zm1 5zm0-3zm2 2zm0-1zm1-1zm2 4zm0-4zm0 3zm2-2zm1 3zm0-4zm1 3zm0-2zm0-3zm0 6zm0-6zm0 1zm1-1zm1 5zm0 2zm0-4zm1 0zm0 1zm0 1zm2-5zm1 7zm0-6zm1 2zm0 3zm2-5zm0-1zm0 3zm1-1zm1 4zm1-5zm0 6zm1-2zm1-4zm0 5zm0-5zm0 2zm1-3zm0 7zm1-4zm1 4zm0-1zm1-3zm0-1zm0-1zm1 0zm0 1zm1-2zm0 4zm1-4zm1 4zm0-3zm0 0zm1 3zm0-2zm1-1zm0 0zm0 1zm2-1zm1 4zm1 1zm0-1zm2-5zm0 7zm1-1zm1-1zm0-4zm1 6zm0 0zm0-6zm1 5zm1 1zm1-4zm0 4zm0 0zm1-5zm1 2zm1 2zm1-5zm0 0zm3 6zm0-5zm1 3zm3-2zm1 1zm0 2zm5-6zm5 4zm3 2zm3-3zm1-2zm8 1zm2 3zm5 1zm-25 5zm-1-3zm-1 6zm0-5zm-5 5zm-3 0zm-1-4zm-1-2zm-1 0zm-2 4zm-1 3zm0-5zm-1 2zm-1-1zm-1-3zm-5 1zm0 6zm-1-6zm0 1zm0 4zm-1 1zm-1-1zm-1-1zm0-4zm-1 4zm0-2zm0-1zm-1-1zm0-1zm0 7zm0-3zm-1 3zm0-7zm0 2zm0 3zm0-1zm-1-2zm0 2zm-1-4zm-2 1zm0 3zm0-1zm0-1zm-1 4zm0-4zm0 0zm0 1zm-1-1zm-2 0zm0 2zm0 2zm-1 0zm0-3zm-2 0zm-1 0zm0 4zm-1-3zm0 1zm-1 0zm0-2zm0 0zm0 0zm-1-2zm-1 0zm-1 2zm0-3zm-1 4zm0 3zm0-4zm-1 2zm-1-5zm0 4zm-1 0zm0 3zm0-4zm0 2zm0 2zm-2-5zm0 4zm-1 1zm0-7zm0 3zm-1 1zm-1 1zm-1 2zm-1-5zm0-2zm-1 1zm0 3zm0-3zm0 4zm0 2zm-1-3zm-1 0zm-2 1zm0 1zm-1-6zm-1 1zm0 0zm-3 6zm-1 0zm-1-1zm0-2zm-2 0zm-3 3zm0-3zm-1 3zm0-1zm-3-5zm-2 0zm-2 4zm-4-5zm-1 1zm-1 1zm-1 5zm-1-2zm-2 2zm-1 0zm0-7zm-1 0zm0 7zm-1-2zm0 1zm-1-3zm0-3zm0 7zm-1-4zm-1 0zm-1-3zm-1 0zm0 6zm-2-2zm-2 3zm-3-3zm-1-4zm-5 4zm0 2zm-1 0zm-1-3zm-4-1zm0-1zm-5 4zm-5-5zm-3 2zm-1 3zm-2 0zm-3-1zm-1 1zm-5-4zm0 0zm0 1zm-3 3zm-1 1zm-3-6zm-3 2zm-2-2zm0 3zm-2-2zm-1 2zm-1 3zm-1 1zm-1-3zm-1 0zm0 1zm-1-4zm0 5zm-1-5zm-3 3zm-1-3zm-5 2zm0 0zm-1 4zm0 0zm-1-7zm-4 6zm-3-1zm-1 2zm-6-5zm-5-2zm-14 0zm-4 6zm-3-1zm-5-1zm-3-2zm-2 3zm-6 1zm0-5zm-4 5zm-2 0zm-2-4zm-4-2zm-9 5zm0-5zm-3 1zm0 2zm-5-2zm-2 2zm-4 0zm0 3zm-1-5zm-3 4zm-13 0zm-1 1zm-3-1zm0 0zm-1-4zm-1-1zm-4 7zm-1-1zm0-1zm-1-2zm0 0zm0-1zm-1-1zm-1 2zm-1 2zm-1 2zm-1-5zm0-2zm-1 1zm-1 5zm-2-6zm-1 6zm-4-3zm-1 0zm-1-1zm0 2zm0-3zm-1 3zm-1 0zm-1 0zm-1-1zm-1-3zm-1 6zm-4 0zm0 0zm-2 0zm0 0zm-2-3zm-1-3zm-1 1zm0 5zm-1-3zm-1 4zm0-1zm-1-1zm0-5zm-3 2zm-1 3zm0 0zm-1-5zm0 3zm0 0zm0-3zm-2 0zm0 6zm0-5zm0 4zm-1-3zm-1 1zm0 3zm0-1zm-2-2zm-1 3zm-1-3zm0 2zm-1-4zm0-1zm-1 1zm-1 5zm0 1zm0-2zm0-5zm-1 1zm-1 2zm-2-1zm0 1zm-1-2zm-2 4zm0-2zm-1-1zm0 2zm0-1zm-1 4zm-3-7zm0 7zm-2-7zm0 2zm-1-1zm0 5zm-2 1zm-4 0zm0-5zm-2 0zm0 2zm0-4zm-2 0zm-1 6zm-1 1zm-1-4zm0 3zm-1-1zm-2-4zm0 1zm-2 2zm0-3zm0 0zm-1 4zm0-5zm0 2zm0-1zm-3 4zm0 1zm-2 0zm-2-2zm-1-2zm0 0zm0-2zm-2 2zm-1 1zm-2 1zm0-3zm-1 3zm-3-3zm-6 5zm0-2zm0 0zm-2 2zm0-3zm-11 0zm-2 2zm-2-1zm0 3zm-18-3zm-14-4zm11 15zm2-5zm15 3zm2-1zm8 1zm6-3zm2 0zm3 2zm9 1zm0-3zm1 5zm1-7zm2 1zm1 5zm0-6zm1 4zm1 1zm0 0zm1 2zm2-6zm0 4zm0-1zm1-4zm1 4zm1-4zm2 2zm1-2zm1 1zm0 1zm0-1zm0 1zm1 2zm1-4zm1 5zm1 2zm0-3zm0 2zm1 1zm0 0zm0-5zm0 2zm1 0zm2-1zm3 2zm0-2zm1 2zm0-3zm0-1zm2 0zm0 4zm1-2zm1 2zm0-5zm0 4zm1 2zm1-6zm0 4zm2 0zm0-1zm0 1zm0 1zm0-4zm2 0zm0 6zm0-4zm0 3zm1-6zm1 3zm0 1zm1 3zm0-1zm1-5zm0 4zm1-5zm0 7zm0-4zm2 4zm0-7zm2 6zm1 0zm0-3zm1-3zm3 2zm0 0zm0 5zm0-2zm1 2zm0-4zm0 2zm2 0zm2-5zm1 6zm0 1zm0-2zm1-3zm1 0zm0 2zm0-4zm0 7zm1-7zm2 0zm0 2zm0 1zm4-1zm0 4zm0-1zm0-2zm1 4zm2-3zm0 2zm1 1zm0-4zm2 3zm1 1zm0-6zm1 5zm1-3zm0 0zm5 4zm1-5zm0-1zm1 0zm3 3zm1 1zm2-5zm3 5zm0-5zm2 4zm0 1zm0-2zm0-3zm3 2zm4-2zm3 5zm0-3zm1 0zm0 2zm0 0zm0 0zm5 0zm8-1zm0 3zm1-1zm3 0zm1-4zm4 1zm0 3zm3-3zm17 5zm4-3zm0-3zm1 3zm3 0zm2-3zm2 4zm5-5zm3 5zm1 0zm0 2zm0-2zm2-5zm3 7zm4-6zm0-1zm6 6zm2-3zm1-3zm4 2zm2 4zm2-4zm2-2zm0 0zm0 2zm7 0zm1-1zm2 1zm2 5zm1-4zm6 2zm0 0zm2 1zm0-4zm1 4zm6-1zm4 0zm2-5zm0 6zm1-1zm4-2zm2 0zm4 3zm2-4zm2-1zm4 4zm0 2zm1-1zm0-4zm4 3zm2-4zm0-1zm1 1zm3 3zm1-1zm1-3zm1 5zm4-5zm2 2zm1 0zm1-2zm1 2zm2-1zm2 1zm3 0zm1-1zm0 3zm2-4zm1 2zm2-2zm2 0zm0 5zm1-5zm1 3zm1 0zm2-3zm1 5zm0 0zm1-1zm2-4zm0 1zm0 3zm2-2zm1-1zm1 5zm0-6zm1 4zm0-4zm2 2zm1 2zm1 2zm3-4zm2 3zm1 0zm1 0zm1-2zm0 3zm0-2zm0 2zm1-2zm1-4zm1 0zm0 5zm0-4zm1-1zm1 0zm3 7zm2-3zm0 1zm1-1zm1-4zm1 2zm3 4zm1-2zm0 0zm0-2zm1 0zm1-1zm1 0zm0 0zm2-1zm0 2zm2 2zm0-3zm1 5zm1 0zm0-1zm0-4zm1 3zm0 3zm1 0zm1-1zm0-5zm1 3zm0-4zm1 6zm1-6zm1 5zm0-5zm0 7zm0-1zm0-2zm1 1zm0-5zm0 5zm1 1zm0-3zm1 0zm4-1zm1 1zm1 1zm1 1zm0-1zm1 1zm1 0zm0-5zm0 0zm1 5zm1-4zm2 0zm1 6zm1-7zm1 0zm1 5zm2-4zm0 1zm0 1zm1 1zm0-3zm1-1zm1 0zm0 2zm1 4zm1-5zm0 1zm0-2zm0 2zm3-1zm0 4zm3-1zm1 2zm0-6zm0 7zm1-2zm2-3zm1 5zm1-2zm1 1zm0-2zm0 0zm8 0zm1-2zm2-1zm5 6zm9-6zm4-1zm-20 12zm-10 0zm-7 1zm-1 1zm-3-6zm-3 7zm-2 0zm-1-1zm-1-2zm0-2zm-2 4zm0-5zm-2 6zm0-5zm-1 2zm0-4zm-1 7zm-1-5zm0 2zm-1-1zm-1 0zm0 3zm-1-5zm-3 6zm-1-5zm-1 0zm-2 4zm0-3zm-2-3zm0 3zm0-1zm-1 3zm-1-3zm0-1zm-1 2zm0 1zm-4 1zm-3 2zm0-4zm-1-3zm-2 7zm-1-1zm-1-1zm-2-1zm-1-1zm-1 4zm-1-3zm-7 3zm0-1zm-2 0zm0-1zm0-2zm-1 2zm0-5zm-1 0zm-2 2zm-2-1zm0-1zm0 0zm-1 4zm-2-3zm-1-1zm0 7zm-4-2zm0-1zm-1-4zm0 6zm-1-2zm0 1zm-4-2zm-1 2zm-1-3zm0-1zm-1 1zm-2-1zm-3 0zm-2 4zm-2 0zm0-4zm-5 6zm-1-5zm-2 4zm-3-2zm-1-4zm-3 7zm-1-2zm0 2zm-4-5zm-4 3zm0-4zm-2 4zm-2 1zm0-5zm-2 5zm-3-3zm-3-1zm-1 2zm0 0zm-1-4zm0 6zm-1-4zm-2 4zm-2 0zm-3-4zm-8 0zm-1-2zm-2 7zm-1-6zm-3 3zm-3 3zm0-3zm-2-1zm-2 0zm-4 0zm-5 3zm-2-1zm0-1zm-2 2zm-6-3zm-3-2zm-1 2zm-2 4zm0-6zm-4 5zm-5-4zm-1 1zm-2 3zm0-5zm-13 5zm-3-4zm-1-1zm-4 3zm-1-1zm-3 1zm-2-2zm-5-1zm-1 1zm-1 2zm-4 0zm-2 3zm-4-4zm0 1zm-1-4zm-3 0zm-2 3zm-11 1zm-1-3zm-1 0zm-2 3zm-2-4zm0 0zm-1 6zm-1-1zm0-2zm-4 0zm0 1zm-2 0zm0-3zm-1 1zm-3 1zm-1 0zm-1-2zm-1 2zm-2-1zm-3 2zm0 3zm-1-7zm0 6zm0-6zm-1 7zm-1-6zm0-1zm-2 1zm-1 1zm0 3zm0 1zm-3-3zm-3 4zm-1-6zm-1 5zm-1-4zm-2 2zm-2 1zm0 0zm-1-2zm0-3zm0 7zm-3-6zm-1 1zm0-2zm-1 5zm-1-1zm-3 2zm0-5zm-1 0zm-2 3zm0 0zm-2-1zm0 0zm-1 3zm0-6zm-2 2zm0 4zm0 0zm-3-6zm0 5zm-1-2zm-1 2zm0-3zm0-2zm0 0zm-2 0zm-1 6zm-1-4zm0 2zm-2 0zm0 1zm0-1zm-4 0zm0-4zm0 6zm0-3zm-1 3zm-1-1zm-1 1zm-1-4zm0-1zm0 6zm0-4zm-4 3zm0-6zm-1 0zm0 3zm0 1zm-3-4zm-1 1zm-1 4zm0 2zm-1-1zm-1 0zm0-3zm-1-3zm0 0zm-1 2zm-2 5zm-1-6zm0 0zm0 6zm-1-5zm0 5zm0-5zm0 4zm0-6zm-2 6zm-1-6zm0 4zm-1 0zm-1-1zm-1-1zm0 4zm-1-5zm0 4zm-1-1zm0 1zm0-1zm0 0zm-1-3zm0 4zm0-4zm-2 5zm-1-3zm0 4zm-1-2zm-1-5zm0 5zm-1 0zm0-5zm-1 3zm-1-3zm0 5zm0-2zm-1 3zm-2-2zm0 0zm0-2zm-1 1zm-1-3zm-1 0zm-4 7zm0-6zm0 2zm-2 3zm-1 1zm0-7zm0 5zm0 2zm0-5zm0 0zm-3 5zm0-5zm-3-1zm-2 4zm-2 2zm-17-5zm4 10zm8 2zm2 1zm2 0zm3-6zm2 0zm4 4zm1 0zm1-2zm1-3zm2 7zm0-2zm2-5zm1 3zm1-2zm1 3zm0 0zm2 3zm4-2zm0-4zm0 0zm1 4zm0-1zm2-2zm0 5zm1-7zm0 4zm0 0zm0 3zm3-6zm1 5zm1-2zm0 1zm1-5zm0 4zm0 2zm0-6zm2 6zm1 0zm0-3zm0 2zm1-4zm0-1zm2 7zm0-4zm1 0zm0 3zm2-4zm0 4zm1-5zm2 2zm1 0zm2 2zm0 2zm1 0zm0 0zm1-4zm0-2zm1 6zm0-3zm0-4zm1 4zm0 0zm1 0zm1 2zm0 0zm2-5zm1 4zm0-1zm1-3zm2 2zm1-3zm1 5zm1 1zm0-1zm1-3zm2 1zm0-2zm1-1zm1 4zm0 2zm6-3zm0 3zm1-4zm0 5zm0-7zm4 6zm0-2zm0-3zm0 6zm0 0zm0-1zm1-4zm1-1zm3 6zm1-6zm0 3zm1-3zm1-1zm1 5zm0-3zm1 4zm1-1zm0-4zm1-1zm2 3zm1-3zm1 0zm0 3zm1-3zm3 3zm2-2zm4 1zm0 2zm1 0zm0 2zm1-4zm1 4zm0-6zm1 5zm0-1zm2 3zm0-3zm1 2zm3-4zm0-1zm2 5zm1-6zm0 3zm4-1zm1 4zm2-2zm0-4zm0 6zm1-4zm5 4zm2 1zm18-7zm0 0zm2 2zm1 0zm3 4zm7-6zm4 2zm1 4zm2-6zm0 4zm1 1zm1-4zm0-1zm1 6zm6-6zm6 2zm1-2zm2 2zm1 5zm7-6zm2 5zm2 0zm10 1zm1-6zm3 0zm4 4zm0-1zm13 1zm2-4zm0 1zm0 4zm1-3zm0-3zm2 0zm6 0zm0 4zm0-1zm3-2zm6 6zm1-6zm0-1zm1 0zm1 6zm5-2zm1 3zm5-4zm2 2zm1 0zm2-1zm2 2zm0 1zm0 0zm1-2zm1-2zm1 4zm1 0zm2-3zm4-4zm6 7zm2-2zm3-4zm0 1zm4 5zm1-7zm1 4zm0-3zm4 0zm6 1zm1 2zm1 2zm0 1zm2-5zm3-2zm6 6zm0-6zm10 1zm4 5zm5-6zm0 1zm2 2zm5 1zm0-1zm1 0zm3-1zm1 3zm4 1zm1-5zm1 2zm1 0zm1 2zm0-5zm1 3zm1 3zm0-6zm4 4zm1-2zm1-2zm1 1zm2 4zm1-5zm3 2zm3 4zm0 0zm1 0zm1-5zm3 4zm0-1zm4-4zm1 0zm1 7zm1-5zm9 4zm6-3zm22-3zm-10 10zm-31 0zm-5 0zm-2 2zm-5-3zm-8 5zm-1-1zm-1-3zm-1 0zm0 4zm-4-1zm-1 1zm-8 1zm-3-6zm-3 3zm-4-4zm-8 0zm-6 6zm-5-6zm0 5zm-1-2zm-1 1zm-2-2zm0 5zm-2-3zm-6 0zm-2-3zm0-1zm-1 3zm-9-2zm-6 3zm-1 3zm-2-4zm-5 1zm-9-4zm-1 1zm-2 4zm-3-4zm0 0zm-6 5zm-9-5zm-3 5zm-1-3zm-7-2zm-2 5zm-7-2zm-11-2zm0-2zm-1 6zm-6 0zm-6-3zm-2 2zm0-5zm-2 4zm0 2zm-1-6zm-2 1zm-1 5zm-1 1zm-1-6zm0-1zm-2 7zm0 0zm-1-1zm-1 1zm-5-3zm-1 1zm-2-3zm-1 0zm0 0zm-2-1zm-2 5zm-1 1zm-1-7zm-1 7zm0 0zm-6-5zm-2 1zm-3 2zm-6 1zm0-6zm-1 7zm-10 0zm-3-4zm-3 4zm-1-6zm-6 6zm-3-6zm-1 6zm-1-5zm-8 1zm0 3zm-2-3zm-2 3zm-2 0zm0-2zm-1 2zm-5-3zm0 1zm-1-2zm0 5zm-3-5zm-1-1zm-3 6zm0-6zm-2 3zm-1-3zm-2 6zm0-2zm-1-3zm-3 4zm-1-3zm0 3zm0-2zm-1-1zm-1 4zm-2-2zm0-4zm-3-1zm-3 2zm-1 3zm-1-3zm-1-1zm-1 0zm0 5zm-1 0zm-1-3zm0 0zm-2 2zm-2 2zm0-7zm-1 1zm-2-1zm-1 3zm0 2zm-1-1zm0 3zm0-2zm-1-2zm0 3zm-2 1zm0-3zm-1-3zm0 5zm-3 0zm0-2zm0 1zm-1 0zm-1-4zm-1 2zm0 1zm0-2zm0 0zm-1 4zm0 1zm0-3zm-1 0zm-1 2zm0-2zm0-4zm0 1zm-1 5zm-2-4zm0-1zm0 0zm-1 5zm-1 0zm-1-2zm-1-2zm-1 2zm0 0zm-1 1zm0 1zm-1 0zm-1 1zm0-4zm-1-2zm-1 3zm0-1zm-1 1zm0-2zm-1 5zm0-2zm0-3zm0 0zm0 1zm-1-2zm0 5zm-1-3zm-3 0zm-2 2zm-1-1zm0-1zm-1 2zm0 1zm0-3zm0 1zm-1 1zm-1 0zm-1 2zm0-1zm-1-4zm-1 4zm0 1zm0-5zm-1 2zm0-2zm0 4zm0-1zm0-3zm-1-2zm0 7zm0-2zm0-2zm-1 0zm-1 3zm-1-6zm-1 6zm0-2zm-1-4zm-1 0zm0 2zm-1-2zm0 0zm0 5zm-1-1zm-1 2zm0 0zm0 1zm-1-4zm-3 1zm0 3zm-1-1zm0-5zm-1 2zm0 4zm0-5zm-4 2zm-4-3zm0 2zm-1-3zm-1 3zm-14-2zm-2 3zm0 3zm-1-1zm-16 3zm9 4zm19 1zm1-1zm0-1zm2 2zm1 1zm2-2zm1-1zm1 2zm2-4zm1 5zm0-6zm4 4zm0-3zm2-1zm1 2zm1-2zm0 6zm1-7zm0 7zm0 0zm1 0zm1 0zm0-7zm1 2zm0 2zm1-1zm0 1zm0 0zm0-1zm0 4zm1-5zm0 1zm1 3zm0-1zm1 1zm0-1zm1-2zm1-3zm1 6zm0-6zm1 1zm0-1zm0 5zm0-5zm0 2zm2 2zm0 1zm0 1zm1-6zm0 5zm0-5zm1 4zm0 1zm0 0zm0-3zm1 4zm1-2zm0-3zm1 6zm0-2zm1 1zm0-1zm1-2zm0 2zm0-5zm1 5zm0-1zm0-3zm1 5zm0-2zm0 1zm0-3zm1 1zm0-3zm1 5zm1-1zm0-2zm1 2zm0-1zm0 0zm0 3zm0-2zm0 3zm1-2zm1-4zm0 4zm0-2zm1-1zm0 4zm1-6zm1 7zm0-5zm0-2zm0 1zm1 3zm1 0zm1-4zm0 6zm1 1zm0-5zm1 3zm0 0zm0-5zm1 5zm0 2zm0-3zm0 1zm0 1zm1 0zm1-5zm0 3zm0-2zm0 3zm1 2zm0 0zm0-7zm0 5zm0 0zm1-5zm1 7zm0-1zm1 1zm0-4zm0-2zm0 0zm0 3zm0-4zm0 6zm1 1zm1-3zm0 1zm1-5zm0 4zm1 2zm0 1zm0-6zm0 4zm0-2zm1 4zm1 0zm0-2zm0-5zm0 1zm1 3zm0 1zm1-4zm0-1zm3 0zm1 3zm0 2zm1 2zm0-5zm0-1zm1 3zm2-3zm0 4zm0-5zm1 3zm0-3zm1 5zm0-4zm3 2zm1 4zm0-5zm1 3zm0 1zm0 0zm0 0zm2 1zm0 0zm0-2zm2-3zm0 3zm0-2zm2-1zm1-2zm0 6zm0-5zm5-1zm0 7zm1 0zm1-6zm0 5zm1 1zm1-3zm0 0zm3-1zm0 3zm2-2zm0-2zm0 3zm3 1zm3-1zm0 0zm4 1zm1-1zm0 1zm2-4zm1 0zm1-1zm4 2zm1 1zm1-3zm0-1zm3 4zm1-1zm2 2zm11-1zm1-3zm0 0zm11 0zm2 0zm1 2zm8 0zm0 2zm1 1zm1-2zm1 3zm13-5zm4 2zm0 2zm2-6zm1 0zm1 1zm4 4zm9-2zm4-3zm2 0zm1 0zm3 6zm1 0zm0-3zm3 1zm1 0zm5 0zm3-1zm6 0zm3-1zm0-2zm17 4zm1 1zm5 2zm1-4zm3-1zm0-1zm6 1zm0 4zm0-1zm1-4zm2 1zm1 1zm1 0zm4-3zm2 5zm1-4zm12 6zm6-4zm21-1zm4 3zm11-1zm14 2zm9-4zm1 0zm5-2zm4 1zm12 3zm21-4zm0 2zm7 6zm-22 2zm-1 1zm-24-1zm-11 4zm-17-6zm-20 4zm-5 2zm-9-1zm-18-5zm-1 6zm-6-1zm-5-5zm-5 5zm-4-4zm-8 2zm-4-1zm-5 5zm-6-6zm-1 3zm-2 0zm-3 1zm-1 0zm-1 0zm-2 0zm0-2zm-11 2zm-1 0zm-1 1zm0-5zm-1 5zm-1-6zm0 5zm-1 2zm-8-5zm-9 0zm-1-2zm-1 5zm-5-2zm-2 0zm-1-3zm-3 7zm-7-3zm-2-2zm-1 4zm-4-5zm-1 4zm-1 0zm-1 2zm-2-6zm-2 2zm-5 1zm0 1zm0 1zm-1 0zm-15-1zm-8 0zm-2-3zm-3 4zm-1-2zm0 3zm-4-5zm-3 5zm0 0zm0-3zm0 1zm-2-5zm-3 2zm0 2zm-1-1zm-1 4zm0-7zm0 5zm-5-2zm0 1zm-1 0zm0-3zm-1 1zm-4 4zm0-3zm-1 4zm0-2zm-5-4zm0 3zm-2 0zm0 0zm0 0zm-1 0zm-2 2zm-3-1zm-2 2zm-1-6zm-4 3zm-1 0zm0 3zm-2-6zm0-1zm-2 5zm0-4zm0 1zm0 2zm-1 1zm-1-1zm0-3zm-1 6zm0-6zm-1 0zm0 4zm0 1zm-1-4zm-1-2zm0 2zm-2-1zm-1 0zm0 0zm0 1zm-1 1zm0 3zm-1-5zm0 3zm0-2zm-1-1zm0 6zm0-3zm0 3zm0-7zm0 7zm-1-2zm-1-5zm-1 1zm-1-1zm0 4zm0 1zm-1 2zm0-4zm0 2zm0-3zm-2 5zm0-5zm-1 0zm0 5zm0-6zm0 2zm-1 3zm-1-3zm0 0zm0-3zm0 0zm-1 1zm0 2zm0-3zm-1 5zm0-3zm0 5zm0-1zm-1 1zm0-3zm0 3zm0-1zm-1-5zm0 0zm-1 5zm0-3zm0 3zm-1 1zm-1-4zm0 3zm0-6zm-1 7zm0-1zm0-3zm0 3zm-1 1zm0-5zm0-1zm0 4zm0-3zm-1-2zm0 6zm0-1zm-1 0zm0 0zm0-2zm-1 1zm0-2zm0 1zm-1-1zm0 3zm0-2zm0-2zm-1 0zm0 2zm0-1zm0 4zm0-1zm0-4zm0 1zm0 0zm-1 3zm0-3zm-1-2zm0 1zm0 0zm0 4zm0-5zm0 5zm0 0zm-1-3zm-1 3zm0-2zm-1 0zm0 4zm-1-1zm-1 0zm-1 1zm0-6zm0 1zm0 4zm0-2zm-1 1zm0 1zm-1-2zm0-1zm0 4zm0-1zm-1-2zm-1 2zm0 1zm0-4zm0-3zm0 4zm0 2zm-1-1zm0-2zm-1 0zm0 2zm-1-4zm0 5zm0-4zm-1-2zm0 5zm-1 2zm0-6zm-1 3zm-1 2zm0 1zm-1-3zm0-2zm-1-2zm0 4zm-1-4zm0 7zm-2-7zm0 6zm-1-2zm0 1zm0 2zm-4-2zm-1-1zm-2-4zm0 2zm-3-2zm-3 5zm-1 1zm-1-2zm-6-3zm-1 10zm4-2zm4 0zm2 5zm2-2zm2 1zm0-4zm2 6zm0-3zm1 1zm1-3zm1 3zm2-3zm0 1zm4 2zm0-1zm1 1zm1-4zm0 0zm0 2zm0 2zm1 2zm0-5zm1 2zm1 3zm2 0zm0-2zm0-4zm0 2zm0-3zm0 2zm1-1zm0-1zm1 3zm1 3zm0-1zm2 0zm1 1zm1-1zm0 2zm0-3zm1 1zm0 2zm0-2zm0 1zm1-5zm1 0zm0-1zm0 7zm0-6zm0 4zm0 0zm0 1zm1-3zm0 1zm0-1zm0-2zm0 5zm1-3zm0 1zm1 3zm0-1zm0-6zm0 6zm0-4zm1-2zm0 0zm0 4zm0-2zm1 3zm1-5zm1 1zm0 1zm0 2zm0-4zm1 2zm0 2zm0-3zm1 6zm0-5zm0 5zm1-2zm0 1zm0 0zm1-4zm1 0zm0-2zm0 7zm0-3zm0-3zm0 1zm0-1zm1 0zm0-1zm0 7zm0-2zm0-4zm1 5zm0-5zm0 4zm0-4zm0 3zm0 1zm0 1zm1-5zm0 5zm1-4zm0 1zm0 1zm1-3zm0 1zm0 4zm0-5zm1 1zm0-1zm1 5zm0-1zm0 0zm0-3zm0 5zm0-1zm1 0zm0-2zm0 2zm0 1zm1-3zm0-4zm0 5zm1-4zm0 0zm0 5zm0 0zm0-5zm1 5zm0-2zm0-3zm1 5zm0-6zm0 3zm1 1zm0 0zm1 1zm0-1zm0-4zm0 3zm1 0zm0 0zm0-1zm0 1zm0-1zm0 1zm1 3zm0-5zm1 6zm0 0zm1-6zm0 1zm0 0zm0 1zm1 3zm1-1zm0-2zm0-3zm0 6zm0-6zm0 2zm1 0zm0 5zm0-7zm0 7zm0-5zm0 5zm1 0zm0-1zm0-2zm0-4zm1 6zm1-6zm0 5zm0-2zm1 3zm0-4zm0 5zm0-1zm1-1zm1-2zm0 2zm0 2zm2-5zm1 4zm1 0zm0 1zm1-6zm0 3zm0-3zm3-1zm1 4zm1 2zm0-6zm1 2zm1 2zm0-1zm3 4zm0-1zm2-6zm3 2zm1 3zm0-1zm0 3zm3-2zm5-2zm5-3zm0 2zm3 4zm0-6zm0 6zm2 0zm2 1zm1-6zm1 3zm1 2zm0 1zm1-3zm1-1zm0 4zm1-3zm0 1zm0 2zm1-1zm0 1zm2-1zm1-1zm6-1zm3-4zm2 3zm6 0zm5-3zm4 1zm2 6zm5-3zm2-4zm1 6zm2 0zm9-5zm9 4zm14-5zm2 1zm1 4zm8-4zm1 6zm6-3zm0 1zm4-1zm3-2zm7-1zm1 5zm4 0zm2-1zm12 2zm20-7zm11 7zm1-2zm24 2zm12-4zm1-1zm8 1zm48-3zm0 2zm5 3zm53-4zm-86 12zm-31-4zm-41 6zm-6-4zm-37-3zm-17 4zm-8 3zm-33-1zm-1 0zm-1 0zm-1 1zm-1-2zm-6 1zm-3-2zm-8 2zm-14 1zm-3-6zm-2 1zm-3-1zm-1-1zm-1 4zm-2-1zm-1 3zm0 1zm-1-3zm0 2zm-1-2zm0 1zm0-2zm-1-1zm0 4zm-1-3zm0 1zm0 0zm-1 0zm0 3zm0 0zm-1-3zm0 2zm-1-2zm0 1zm-2-1zm-1-4zm0 3zm-1-2zm0 3zm-1-4zm-1 1zm-6 4zm-1 2zm-1 0zm-1-6zm0 3zm-1 1zm0 0zm-3 0zm-1-2zm-1 3zm-1 1zm-1-2zm0-1zm0 1zm-2-4zm-1 1zm0 0zm-2 0zm-1 2zm-1 1zm-1 0zm-1-4zm-1 0zm-2 0zm0 4zm-1 0zm0-2zm0 1zm0 3zm0-7zm0 5zm-1-2zm0-3zm-2 0zm0 1zm-1 5zm0-2zm0-3zm0 6zm0-4zm-1 0zm0-3zm-1 6zm-1-1zm0 1zm0-1zm-1-4zm0-1zm0 2zm-1-1zm0-1zm0 7zm-1-2zm-1 1zm0 0zm0-1zm0-1zm0 2zm0-3zm-1 3zm0 0zm0-5zm-1 3zm0-4zm0 4zm0 3zm0-6zm-1 0zm0 6zm0-1zm0 0zm-1 0zm-1-3zm0 3zm0-6zm0 0zm0 6zm-1-1zm0 1zm0-4zm-1 0zm0 4zm0-5zm0 1zm-1 2zm0 0zm0 3zm0 0zm0-5zm0-2zm0 7zm0-7zm-1 4zm0-1zm0 1zm0 0zm0-1zm-1 0zm0 4zm0-5zm0 0zm0 1zm0 0zm0-3zm-1 1zm0 4zm0-1zm0 1zm0-2zm0-3zm0 1zm-1 1zm0 3zm0-4zm0 5zm0-1zm0 1zm0-2zm-1 1zm0 1zm-1-4zm0 2zm0 1zm0 2zm0-7zm0 4zm-1-2zm0 0zm0 0zm0 1zm0 2zm0 0zm-1-4zm0 5zm0-4zm-1 4zm0 1zm0-5zm0 2zm0 3zm0-7zm-1 2zm0 3zm0 2zm0-6zm-1 0zm0 1zm0-1zm0 1zm-1 1zm0-2zm0 3zm0 2zm-1-1zm0 1zm0-4zm0-2zm-1 3zm0 3zm0-5zm0 0zm0 4zm0-4zm0-1zm0 6zm-1-5zm0 0zm0 0zm0 5zm0-2zm0-2zm0 0zm-2-1zm0 6zm0-4zm0 4zm-1 0zm0-4zm0 2zm0-3zm0-2zm0 4zm0 3zm0-2zm-1-5zm0 7zm0-4zm0-2zm-1 0zm0 1zm0-2zm0 0zm0 7zm0 0zm0-2zm0-2zm0 1zm-1-1zm0 2zm0 1zm0-5zm-1 6zm0-7zm0 2zm0-2zm-1 5zm0-1zm-1-1zm0 2zm-1 1zm0-6zm-1 3zm0 0zm0 4zm0-7zm0 1zm0 1zm-1 4zm0-3zm-1 3zm0-2zm0 0zm-1-2zm-2-1zm0 4zm-1 2zm0-7zm-1 3zm0 4zm0 0zm0-6zm-1 6zm-1-1zm0-6zm0 0zm0 4zm-1 3zm-2-4zm-1 2zm0 1zm-1-1zm-1-5zm0 1zm-1 4zm-2 2zm0-7zm-3 2zm0 4zm-1-4zm-1 0zm-1 4zm-27 4zm22 4zm2-5zm1 2zm1 3zm3-6zm3 7zm1-2zm3 0zm1 1zm3-5zm1-1zm0 3zm2 1zm1-2zm0 5zm0-6zm1-1zm0 4zm0 2zm2-2zm0 3zm0-2zm1 1zm0-2zm1 2zm0-5zm0 0zm1-1zm0 3zm0-3zm1 5zm1-3zm0 2zm1-1zm0-2zm1 4zm0-2zm0 2zm0-1zm1-3zm0 2zm0 2zm0-3zm0-2zm1 1zm0 0zm0 1zm0-2zm0 1zm1 5zm0-2zm0 3zm1-3zm0 2zm0-2zm1-2zm0 2zm1 1zm0 0zm0 2zm0 0zm1 0zm0-4zm0-2zm1 4zm0-1zm0 1zm0-2zm0-1zm0 4zm0 0zm0-4zm1 5zm0-2zm0-4zm0-1zm0 3zm0-2zm1 2zm0 3zm0 1zm0-2zm0-1zm1-2zm0 1zm0 2zm0 2zm0-6zm0-1zm0 4zm0 2zm1 1zm0-2zm0-2zm0 0zm0-2zm1-1zm0 0zm0 4zm0-2zm0 1zm0 3zm0-3zm0-3zm1 4zm0 2zm0-6zm0 4zm0 2zm0-4zm0-2zm0 0zm0 7zm1-5zm1 5zm0 0zm0-3zm1 2zm0-1zm1-1zm0 0zm0-2zm0 2zm0 3zm1-2zm0-1zm0 2zm0-2zm1-1zm0-2zm0 2zm0 1zm0-3zm1-1zm0 2zm0 3zm0 0zm0 1zm1-2zm0-2zm0 4zm0-5zm0-1zm0 1zm1 0zm0 2zm0-2zm0 1zm0 3zm0-1zm0-3zm0 5zm1-3zm0-3zm0 3zm0-1zm0-2zm1 4zm0 0zm0 2zm1-4zm0 1zm0 3zm0 0zm0-3zm0 4zm0 0zm0-2zm0-2zm0 0zm1 3zm0-2zm0 0zm1 0zm0 2zm0-6zm0 4zm0 1zm0-2zm1 0zm0 4zm0-6zm1 5zm0-5zm0 4zm1-3zm0-2zm0 5zm0-4zm1 0zm0 1zm0-2zm0 1zm0 5zm1 0zm0-1zm0-1zm0 2zm0 0zm0-4zm0 0zm1 2zm0 1zm1-2zm0 2zm0 2zm0-5zm1-2zm0 5zm1 2zm1-1zm1 0zm1 0zm0 0zm0-5zm0 2zm1 4zm0-1zm0 1zm0-1zm0-2zm0-2zm1 4zm0-2zm1 1zm0-4zm0 3zm0-2zm0 4zm1 0zm0-1zm0 2zm1-5zm1 0zm3 5zm0-4zm1 0zm0 3zm1 1zm0-5zm1-2zm2 0zm5 7zm0-7zm2 3zm0 4zm3-1zm2-5zm5 2zm1 2zm1 0zm0-2zm2 4zm1-7zm2 5zm1 2zm0-2zm1-5zm0 1zm1 6zm0-5zm0 3zm0-5zm1 5zm0-4zm0 5zm0-1zm2-2zm0-3zm0 1zm0 4zm0 0zm1-3zm0 1zm1 0zm0 1zm0 2zm1-2zm0 1zm0-2zm0 4zm0-6zm2 6zm0-5zm4 4zm0-2zm1-4zm5 6zm1-1zm10-2zm12 2zm11-2zm1-2zm2 0zm4 3zm11-3zm11-1zm1 5zm1-5zm3 2zm2-1zm4 1zm13 4zm0-4zm46-1zm3-1zm5 0zm1 4zm2 7zm-43 4zm0-2zm-30 1zm-14-6zm-56 6zm-3-5zm-5 5zm-1-2zm-1-4zm0 4zm0 0zm-1-1zm-1 0zm0-1zm-1 1zm0 4zm0-7zm-1 2zm0 4zm-1-1zm0-4zm-1-1zm0 4zm0 0zm-1 1zm0-5zm0 7zm0-7zm0 6zm-1-2zm0-1zm0 4zm0-7zm0 2zm0 4zm0-2zm-1 2zm0-4zm0 4zm0 1zm0-2zm0-3zm0 1zm0 2zm0 2zm0-2zm0 1zm-1-1zm0-1zm0 2zm0-3zm-1-1zm0-2zm0 6zm-1-4zm0 5zm0-1zm-1-2zm-1-1zm-1-3zm0 5zm-1-3zm0 2zm0 2zm-2 0zm0-6zm0 0zm0 3zm-1-2zm-3 1zm-1 3zm-1-5zm0 0zm-2 0zm0 3zm-1 2zm-1-5zm-3 4zm0 2zm-1-3zm0-2zm-2 5zm0-4zm-1 2zm0-1zm-2 0zm0 1zm-1-4zm0 1zm-1 2zm0-3zm-1 1zm0 2zm-1-2zm0-1zm0 2zm0-1zm0 3zm-1 1zm0-5zm0 4zm0-3zm0-1zm-1 3zm0 0zm0 2zm0-5zm0 4zm-1-3zm0 4zm0-1zm0 1zm-1-2zm0 3zm0-6zm0 1zm-1 4zm0 0zm0 1zm-1 1zm0 0zm0-3zm0-3zm0 4zm-1 2zm0 0zm0-5zm-1 4zm0 0zm0 1zm0-5zm0 2zm0-1zm0 3zm-1 0zm0-3zm0-1zm0 1zm-1 1zm0 3zm0-2zm0 1zm-1-2zm0 2zm0 0zm0-1zm0-1zm-1 2zm0-5zm-1 0zm0 6zm0 0zm0-4zm0 2zm0-2zm0 4zm0-3zm0 0zm-1-1zm0-1zm-1 1zm0 3zm0-2zm0 3zm0-7zm0 7zm0 0zm-1-2zm0-4zm0 0zm0 5zm0-2zm-1-3zm0 6zm0-5zm0 4zm-1-3zm0-1zm-1 1zm0-3zm0 6zm0-6zm0 3zm0 0zm0 3zm0-3zm0-2zm0 0zm0 2zm-1 4zm0-5zm0 4zm0-3zm0-2zm0 6zm0 0zm-1-3zm0-1zm0 2zm0-1zm0 0zm-1 3zm0-3zm0 1zm0-4zm0-1zm0 3zm0 2zm0 1zm0-5zm-1 3zm0-2zm0 3zm0-2zm-1 2zm0-4zm0 1zm0 5zm-1-3zm0-1zm0-1zm0-2zm0 7zm0 0zm0-6zm-1-1zm0 1zm0 0zm0 2zm0 0zm0-1zm0 2zm0-2zm0 3zm-1-5zm0 6zm0-2zm0-3zm0 5zm-1-5zm0 5zm0 0zm0-3zm0 0zm0 0zm0 2zm0 2zm-1-1zm0-5zm0 4zm0-4zm0 1zm0-1zm0 0zm-1 1zm0 5zm0-1zm0-5zm0 5zm0 0zm0 0zm-1 1zm0-2zm0 2zm0-4zm0 2zm-1 2zm0 0zm0-5zm0 0zm0 1zm0 2zm0 1zm0 0zm0-3zm-1 3zm0-2zm0-3zm0 4zm0 1zm-1-5zm0 1zm0 4zm0 0zm0-6zm0 7zm-1-1zm0-1zm0-3zm-1 4zm0-6zm0 3zm0-3zm0 1zm0 4zm-1 2zm0-6zm-1 6zm0-3zm0-4zm0 3zm0 3zm0-3zm0 3zm0-6zm0 6zm-1-2zm0 3zm0-5zm0 2zm-1-1zm0 0zm0-2zm0 6zm0-7zm-1 7zm0-5zm0 3zm0 2zm0 0zm-1-4zm0 4zm0-1zm0-1zm-1 0zm0 2zm0-5zm0-1zm-1 2zm0 2zm0-4zm-1 0zm0 0zm0 4zm0 0zm-1-4zm0 0zm0-1zm-1 3zm0-3zm0 6zm0 1zm0-7zm0 3zm-1-2zm0-1zm0 4zm0-3zm0 3zm-1-3zm0 3zm0 3zm-1-5zm0 2zm-1-3zm0 3zm0 0zm0-4zm0 5zm0-3zm-1 5zm0-3zm0-1zm0 0zm-1 2zm-1-2zm0 0zm0-2zm-1 6zm-3-2zm-1-5zm-2 3zm0 3zm-1-6zm-1 7zm-1-7zm-1 7zm-1-7zm0 4zm0-4zm-1 4zm-3 2zm-8-6zm-2 5zm-7 9zm10 0zm12-2zm1-4zm3 2zm3 5zm3-1zm1-2zm0 1zm1-3zm1 4zm1-6zm0 2zm0 1zm1-3zm0 2zm0-1zm1 0zm0 4zm1-2zm1-1zm0 2zm1-3zm0 6zm1-2zm0-3zm1 2zm0-1zm0 1zm0-3zm0 3zm1 2zm0-3zm0 4zm0-4zm0-2zm0-1zm1 7zm0 0zm1-6zm0 5zm0-4zm0 3zm0-5zm1 0zm0 6zm0-5zm0 4zm0-5zm0 4zm1-1zm0-3zm1 5zm0-5zm0 5zm1 1zm0-2zm0 3zm0-6zm1 4zm0 0zm0 1zm0-6zm0 4zm1 0zm0-3zm0 0zm0 2zm0-1zm0-2zm0 2zm0 0zm0 0zm1 5zm0-3zm0 2zm0-1zm0-4zm0-1zm0 2zm1 3zm0-4zm0 4zm0 1zm0-5zm0 6zm0-6zm0 6zm0-4zm0-2zm0 2zm0 2zm0 0zm1-3zm0-2zm0 5zm0 2zm0 0zm0-1zm0-3zm0-1zm0 4zm0 0zm0 0zm1-3zm0 1zm0-2zm0 0zm0 2zm0 3zm0-6zm0 2zm0-2zm0 0zm0 1zm0 5zm1 0zm0-1zm0-4zm0 1zm0-2zm0 3zm1-2zm0 3zm0 2zm0-7zm0 4zm0 1zm1 1zm0-5zm0 4zm0 2zm0-6zm0-1zm0 5zm0-3zm1 4zm0-5zm0 5zm0 0zm0 1zm0-7zm0 6zm0-6zm1 6zm0-2zm0-4zm0 5zm0 0zm0-2zm0-2zm0-1zm0 3zm0-3zm0 0zm0 1zm1 4zm0 0zm0-3zm0 3zm0-4zm0 3zm0 0zm0-2zm0 1zm1-1zm0 1zm0 2zm0-3zm0 4zm0-4zm0 0zm0-2zm0 2zm0 1zm1 3zm0-1zm0-3zm0 3zm0 0zm0-4zm0 0zm0 1zm0-2zm1 6zm0-4zm0 4zm0 0zm0-3zm0 0zm0 3zm0 1zm1-7zm0 6zm0-4zm0 4zm0-6zm0 2zm0-2zm0 5zm0-3zm0 0zm0 5zm0-6zm0 5zm0-4zm0 4zm1-5zm0 6zm0 0zm0-2zm0-3zm0 3zm0-5zm1 6zm0-6zm0 7zm0-7zm0 0zm0 3zm0 3zm0-2zm0 3zm0-2zm1 0zm0 2zm0-2zm0-1zm0 1zm0-1zm0 2zm0 1zm0-7zm0 0zm0 7zm1-5zm0 1zm0 4zm0 0zm0-1zm0-3zm0 4zm0-7zm0 7zm0-5zm0-1zm1-1zm0 7zm0 0zm0-5zm0-2zm0 5zm1 0zm0-3zm0-2zm0 7zm0 0zm0-3zm0-2zm1 2zm0-3zm0 0zm0 5zm0-6zm0 5zm0-3zm1 4zm0-1zm0 0zm0-2zm0-2zm0-1zm0 2zm1-2zm0 7zm0-1zm0-1zm0 1zm0-6zm0 5zm0-3zm0 1zm0 3zm0 0zm1-4zm0 2zm0-1zm0-3zm0 2zm0 3zm1-1zm0-3zm0 5zm0-1zm0-5zm1 3zm0-3zm0 7zm0-5zm1 2zm0-2zm0 1zm0 3zm0-3zm0-1zm0-2zm0 3zm0-3zm1 1zm0 6zm0-2zm0 0zm0 0zm0-1zm1 1zm0 2zm0-6zm0 1zm0 3zm0 2zm0-1zm0-5zm1 6zm0-2zm1 0zm0-1zm0 3zm0-7zm1 4zm0-1zm0-1zm0 3zm0-3zm1 2zm1 0zm0-1zm0 0zm0-2zm1 4zm0-4zm1 4zm1-1zm0 1zm0-3zm1 2zm0 0zm0 2zm0-5zm3-1zm1 0zm0 0zm0 3zm0 0zm0 3zm1-5zm1 6zm0-5zm1 5zm1-2zm0 2zm0-4zm2 2zm0 1zm4-5zm1 6zm0-3zm8-3zm0 0zm1 5zm1 1zm0-4zm0-3zm1 0zm0 1zm0-1zm0 7zm0-4zm0-2zm0 4zm1-5zm0 5zm0-2zm0 0zm0-2zm0 4zm0-2zm1-1zm0 1zm0 2zm0-5zm0 6zm0 1zm0 0zm1-6zm0 6zm0-1zm0-2zm0 3zm0-7zm0 4zm0 3zm1-3zm0 3zm0-5zm0 0zm0 5zm0-2zm1-2zm0-1zm0 2zm0-3zm0 1zm0 4zm0 0zm0-4zm0 5zm0-1zm1-4zm0 5zm0-3zm0-1zm0-2zm0 4zm1 1zm0-3zm0-2zm0 5zm0-2zm0 1zm0-5zm0 2zm1-2zm0 2zm0-1zm0 3zm0-2zm0-2zm1 2zm0 1zm0-1zm0 3zm0 2zm0-1zm1 0zm0 1zm0-3zm0 0zm0-2zm1 0zm0-2zm0 2zm1 2zm0 2zm2-4zm0-2zm1 5zm58-5zm19 0zm4 4zm2-2zm13 1zm152 8zm-146-2zm-83 2zm-14 2zm-4 0zm-2 0zm0-2zm-2-2zm-1 5zm0-4zm0 5zm0-2zm0 2zm-1-5zm0 4zm0-2zm-1 2zm0-5zm0-1zm0 5zm-1-5zm0 6zm0-2zm0 3zm-1-2zm0-5zm0 5zm0-4zm0 1zm0 3zm-1-5zm0 5zm0-4zm0 4zm-1-2zm0 4zm0 0zm0-7zm0 7zm0-6zm0 6zm0-2zm0-2zm0 3zm0-1zm0-5zm0 6zm0-5zm0 2zm-1 0zm0 0zm0 0zm0 2zm0-1zm0 1zm0-2zm0 2zm0 0zm0 0zm0-4zm-1 5zm0-2zm0-1zm0-1zm0 1zm0-2zm0 2zm0-3zm0 5zm0 0zm0 2zm0-5zm0 2zm0-2zm0 4zm-1-6zm0 2zm0 4zm0-5zm0 3zm0-3zm0 6zm0 0zm-1-4zm0 4zm0-7zm0 7zm0-3zm0 2zm0 0zm0-2zm0-3zm0-1zm-1 1zm0 0zm0 2zm-1 3zm0-4zm0 3zm0-5zm0 7zm0-5zm0-2zm0 0zm0 5zm-1 2zm0 0zm-1-4zm0 2zm0-2zm-1 0zm0-1zm0 5zm0-2zm-1-3zm-1 5zm-1-6zm-3 3zm-3-3zm0 5zm-1-5zm0 5zm0-6zm0 0zm-1 4zm0 0zm0-3zm-2 2zm-1 0zm0 0zm-1 3zm-1-6zm-1 0zm0 4zm0 0zm-1 2zm0-4zm0 3zm0 2zm-1-1zm0 1zm-1-7zm0 3zm0-1zm-1 5zm0-2zm-1-1zm-1-3zm0 4zm0-1zm-1-2zm-1 5zm0 0zm0-3zm-1-2zm0 2zm0 2zm0-5zm0 3zm-1 0zm0 3zm0-5zm-1 0zm0-1zm0 1zm0 1zm0 2zm0-2zm0-3zm-1 6zm0 0zm0-2zm0 2zm0-3zm-1 2zm0 1zm0-2zm0-3zm0 3zm0 3zm0-7zm0 4zm-1 2zm0-2zm0 2zm0-6zm0 3zm0-3zm0 7zm0-4zm-1 4zm0 0zm0-2zm0 2zm0-4zm0-3zm0 1zm0-1zm-1 2zm0 5zm0-7zm0 5zm0 2zm-1-2zm0-4zm0 1zm0 0zm0 4zm0-6zm0 5zm-1-3zm0 3zm0 0zm0 0zm0-4zm0 0zm-1 6zm0-3zm0 2zm0-1zm0-4zm0 0zm0 2zm0 0zm0 1zm-1 0zm0-1zm0 0zm0 0zm0-3zm0 0zm0 7zm0-6zm0 1zm0-2zm0 2zm0 1zm0 2zm0 1zm-1-4zm0 4zm0 0zm0-1zm0 0zm0-4zm0-1zm0 1zm0 1zm0 2zm0-2zm0-2zm0 1zm-1 1zm0 4zm0-2zm0 3zm0-4zm0-3zm0 4zm0-2zm0 0zm0 0zm0-2zm0 3zm-1 4zm0-4zm0-2zm0-1zm-1 3zm0 2zm0-4zm0 2zm0 1zm0-2zm0 2zm0-2zm-1 2zm0-2zm0 0zm0 5zm0-7zm0 7zm0-4zm0-3zm0 2zm0-1zm-1 4zm0-2zm0 0zm0-1zm0 5zm0-5zm0 0zm-1 0zm0 5zm0-3zm0-2zm0 2zm0 2zm0-1zm0-4zm0 1zm0 0zm0 3zm0-5zm0 0zm0 6zm0-6zm-1 5zm0 1zm0 1zm0-3zm0 2zm0-6zm0 2zm0-1zm-1 5zm0 1zm0-2zm0-3zm0 4zm0-5zm0 0zm0 0zm0 2zm0 3zm0-5zm0 6zm0-3zm0-1zm-1 2zm0-1zm0-1zm0 1zm0 1zm0 0zm0 2zm0-2zm0 1zm0-5zm0 2zm0 3zm0-3zm0 3zm0-4zm-1-1zm0 5zm0-2zm0 0zm0 2zm0-1zm0-4zm0 2zm-1-3zm0 1zm0-1zm0 5zm0-4zm0 0zm-1 6zm0-5zm0 4zm0 0zm0-4zm0 3zm0-3zm-1 3zm0-4zm0 2zm0-1zm0 3zm0-5zm-1 6zm0-2zm0-2zm0-1zm0 2zm-1 1zm0 0zm0-2zm0 4zm0-5zm0 3zm-1-3zm0-1zm0 5zm0 1zm0 1zm0-4zm-1-2zm0 3zm0-3zm0 5zm-1-1zm0-3zm0-2zm0 4zm-1 2zm0-5zm0 6zm0-4zm0 4zm0-1zm0 0zm0 1zm-1-5zm0-2zm0 0zm0 5zm0-1zm0 2zm0-1zm-1 1zm0-3zm0 1zm0 2zm0-6zm0 3zm0 3zm0-5zm0 0zm0 5zm-1-4zm0 5zm0-6zm0 0zm0 3zm-1 1zm0-1zm0 0zm0-1zm0-3zm0 4zm-1-1zm0 4zm0-4zm0-3zm0 0zm0 1zm0 5zm-1-2zm0-2zm0 3zm0-2zm-1 0zm0-2zm-1 2zm0 1zm0-2zm0 2zm-1 3zm0-5zm0 2zm0 1zm0-5zm-1 0zm0 1zm0 0zm-1-1zm0 5zm0 0zm-1-5zm0 3zm0 1zm0-4zm-1 5zm0 2zm-1-6zm-3 3zm0-2zm-1 2zm-1-4zm-1 0zm0 6zm-1-3zm0 4zm-2-3zm-1-3zm0 2zm-1 3zm-2 1zm-1-7zm0 6zm-37-1zm22 6zm9-3zm5 5zm0-1zm2-3zm1 5zm5-5zm1 6zm1 0zm1-2zm0 2zm2-4zm0 2zm1-4zm1 6zm0-3zm2-3zm0 3zm0 1zm1-4zm1 3zm0-2zm0 1zm0-3zm1 5zm0-1zm0-4zm0 2zm1 5zm1-3zm0-3zm0 0zm0 2zm1 0zm0 2zm0-2zm0 3zm1 1zm2-4zm0-3zm0 6zm0-5zm0 4zm2-5zm0 3zm0 0zm0 3zm0-1zm1-1zm0-4zm0 2zm1-1zm0 6zm0 0zm0-5zm0-2zm0 1zm0 3zm0 3zm1-1zm0-4zm0-2zm0 2zm0 0zm0 3zm1-1zm0-1zm0-2zm0 1zm0 2zm0 2zm0 1zm0-3zm0 0zm1 2zm0 0zm0-5zm0 3zm0-3zm0 4zm0 0zm0-5zm0 1zm0 4zm0-4zm0 5zm1-3zm0-2zm0 3zm0 1zm1 0zm0 0zm0-1zm0-1zm0 3zm0-2zm0 3zm0-1zm0-4zm0 1zm1 0zm0-3zm0 5zm0-2zm0 0zm0 1zm0-2zm0 0zm0 2zm1 2zm0-3zm0 0zm0 2zm0 1zm1-3zm0-3zm0 5zm0 0zm0-2zm0 4zm0-5zm0 4zm0-1zm0-2zm0 2zm1-3zm0-1zm0 0zm0 1zm0-1zm0-1zm0 7zm0-6zm0 5zm0-2zm1 0zm0 0zm0 2zm0-5zm0 1zm0 4zm0-5zm0 1zm0 5zm0-4zm0 0zm0-1zm0-2zm0 1zm0 0zm1 0zm0 2zm0 4zm0-5zm0 3zm0-3zm0 3zm0 0zm0 1zm0-4zm1 0zm0 3zm0-1zm0 3zm0-2zm0 0zm0 1zm0-6zm0 4zm0 3zm0-5zm0 1zm0 3zm1-2zm0 3zm0-5zm0 1zm0 2zm0 2zm0-7zm0 3zm0-2zm0 5zm1-6zm0 3zm0 4zm0 0zm0 0zm0-7zm1 7zm0-4zm0 4zm0-2zm0 0zm0-4zm0 6zm0-2zm0-5zm1 1zm0 2zm0 2zm0 0zm0-2zm1 2zm0-1zm0 1zm0 1zm0 1zm0-3zm0 2zm0 0zm0-1zm0-3zm0 0zm0-1zm0 2zm1 0zm0 2zm0 1zm0-5zm0 0zm0 4zm1-5zm0 3zm0 2zm0 2zm0 0zm0-3zm0-2zm0 3zm0-1zm0 1zm1 2zm0-2zm0 0zm0-5zm0 5zm0 1zm0-3zm0-1zm1 3zm0-2zm0-3zm0 7zm0-3zm0 1zm0-4zm1 1zm0 3zm0-3zm0 0zm0 4zm0-1zm0-4zm0 5zm0 1zm0 0zm0-6zm0 1zm0-2zm0 7zm1-4zm0 3zm0-1zm0 2zm0-7zm0 1zm0 1zm0 2zm1 1zm0-1zm0-2zm0 0zm0 4zm0-6zm0 7zm0-4zm0 0zm0-3zm0 6zm0-1zm1 2zm0-1zm0-2zm0 0zm0 2zm0-6zm0 5zm0-3zm0-2zm0 1zm1 4zm0 0zm0-3zm0 5zm0-7zm0 7zm0-6zm1 4zm0 2zm1-4zm0 4zm0-4zm0-1zm0 4zm0-1zm0 1zm1-2zm0 1zm0 0zm0-2zm0 4zm1-1zm0 1zm1-5zm0 4zm0-4zm0-1zm0 4zm0 0zm0-2zm0-3zm1 7zm0-2zm0 1zm0-6zm1 3zm0 0zm0 1zm1 2zm0 1zm0 0zm0-6zm1 6zm1-7zm0 5zm0-5zm0 1zm0 5zm0-3zm1 3zm0-6zm0 7zm0-6zm0-1zm0 7zm1-2zm0-4zm0 2zm0 0zm1-1zm0 2zm1 3zm0-3zm1 3zm1 0zm0-2zm0 1zm0-4zm0 0zm1 2zm0 1zm4 1zm2 0zm1-3zm1 0zm1 1zm3 1zm1-3zm0-2zm0 7zm1-2zm0 2zm0-7zm0 3zm0 4zm1-1zm0-1zm0 0zm0-2zm0 3zm0-1zm0-3zm0-2zm1 6zm0 1zm0-5zm0-1zm0 0zm1 3zm0 1zm0-3zm0-2zm0 4zm0-3zm0 6zm0-7zm0 4zm0-3zm0 0zm1-1zm0 3zm0-3zm0 7zm0-7zm0 5zm0-5zm0 3zm1-2zm0 3zm0 3zm0-6zm0 5zm0 0zm0 0zm0-3zm0 3zm0 1zm1-5zm0 2zm1-3zm0 3zm0-4zm0 0zm0 4zm0 1zm0-3zm0 1zm0 2zm0 2zm0-6zm0 2zm0 0zm0 3zm1-4zm0 4zm0-6zm0 7zm0-4zm0-3zm1 3zm0 4zm0-2zm0 0zm0-1zm0-1zm0-1zm0 3zm0 0zm0-1zm0 2zm1-6zm0 3zm0 2zm0-1zm0 1zm0-2zm0 0zm0-2zm0 1zm0 1zm1 1zm0 3zm0-2zm0 0zm0-2zm0 1zm0-3zm0 0zm0 1zm1-2zm0 6zm0-1zm0 2zm0-4zm1-3zm0 1zm0 0zm0 1zm0 5zm0-4zm0-3zm1 0zm0 3zm0-2zm0 1zm1 4zm4-2zm9-1zm2 4zm2-6zm35 1zm31 2zm4-1zm29 4zm11-5zm-13 13zm-60-2zm0-2zm-37 4zm0-2zm-12-1zm-2-2zm0 1zm-4-3zm-1 2zm-1 4zm0-2zm0 1zm0-3zm0 5zm0-5zm0 1zm0 2zm0 0zm0-2zm-1-2zm0 3zm0 0zm0-2zm0 4zm0-4zm0 2zm0 1zm0 1zm-1-5zm0 5zm0 0zm0-4zm0 1zm0 0zm0 3zm0 1zm-1-5zm0 2zm0 1zm0-4zm0 2zm0-3zm0 5zm0-2zm0 0zm0 4zm0-7zm0 6zm0-2zm0-3zm0 1zm0 0zm-1 5zm0-2zm0-3zm0-2zm0 7zm0 0zm-1-1zm0-1zm0 0zm0-4zm0-1zm0 5zm0-5zm-1 2zm0 2zm0 0zm0-2zm0-2zm0 4zm0 1zm-1-2zm0 4zm0-3zm0 0zm0-4zm0 6zm0-1zm-1-1zm0-1zm0 3zm0-2zm0 3zm0-4zm0 0zm0-1zm0 2zm0 1zm0 2zm-1-2zm0 1zm0 1zm-1-4zm0-1zm0 4zm0 1zm0-2zm0-2zm0 4zm0-4zm0 3zm0-4zm-1-2zm0 2zm0-1zm0 2zm0 0zm-1 3zm0-2zm-1 3zm0-6zm0 0zm0 0zm0-1zm0 3zm-1-2zm-1 6zm0-6zm-1 0zm0 0zm0 3zm-2 0zm-1-1zm-1 4zm0 0zm-2-4zm-1 3zm0-4zm-1-2zm-1 4zm-1-2zm0-1zm0 3zm-1-4zm-1 3zm0-1zm0 1zm0-3zm-2 2zm-1 1zm0-1zm0 5zm0-3zm0 1zm-1 1zm0 1zm0-3zm-1 0zm0 3zm0-1zm0 0zm-1-3zm0-1zm0 0zm0-1zm0 0zm0 6zm0-2zm0 2zm0-4zm0 1zm0-3zm-1 2zm0 1zm0 1zm0-2zm-1-2zm0 5zm0-4zm0 4zm0-1zm0-5zm0 0zm0 1zm0 6zm0-3zm0-3zm-1 0zm0 5zm0-6zm0 4zm0 1zm0-1zm0 0zm-1-2zm0-2zm0 6zm0 1zm0-5zm0 1zm0 0zm0 3zm0-5zm-1-1zm0 0zm0 1zm0-1zm0 4zm-1 3zm0-5zm0 5zm0-1zm0 0zm0-3zm0 0zm0-1zm-1-2zm0 2zm0 0zm0-1zm0 4zm0-1zm0-1zm0 0zm0 3zm0-3zm0 1zm-1 3zm0-5zm0-2zm0 0zm0 1zm0 4zm-1-4zm0 5zm0-3zm0 0zm0 2zm0-4zm0 5zm0-5zm-1-1zm0 5zm0-4zm0 2zm0-1zm0 4zm-1-5zm0 1zm0 1zm0 2zm0-4zm0-1zm0 5zm0 1zm0-2zm0 1zm0-4zm0 6zm0-3zm0-2zm-1 0zm0 2zm0-1zm0 3zm0-5zm0 5zm0-3zm0-3zm0 1zm0 2zm0-3zm0 5zm0-1zm0 0zm0-4zm0 7zm-1-2zm0-4zm0 0zm0 3zm0 3zm0 0zm0-6zm0-1zm-1 2zm0 4zm0-3zm0 4zm0-1zm0-4zm0 3zm0 0zm0-3zm0 5zm-1-5zm0 2zm0-3zm0 3zm0 0zm0 3zm0-6zm0 1zm0-1zm0 6zm0-7zm-1 5zm0-4zm0 0zm0 6zm0-5zm0 5zm0-4zm0 3zm0-2zm0-2zm0 4zm-1-4zm0-2zm0 0zm0 7zm0-4zm0-3zm0 0zm0 5zm0-2zm-1 2zm0-4zm0 6zm0-4zm0 1zm0-1zm0 0zm0-1zm-1-2zm0 6zm0-3zm0-2zm0 5zm0 1zm0-3zm0 2zm0-2zm0 2zm0 1zm0-7zm-1 0zm0 5zm0 0zm0-5zm0 7zm0-6zm0 5zm-1-4zm0 1zm0 1zm0-4zm0 2zm0 1zm0 1zm-1 1zm0-5zm0 4zm0-1zm0 1zm0-2zm0 0zm0 3zm0-3zm0 4zm0-6zm0 0zm-1 4zm0 0zm0-1zm0 0zm0 4zm0-2zm0 2zm0-2zm0 1zm0-3zm-1 3zm0 1zm0-7zm0 3zm0 2zm0-4zm0 1zm0 0zm0 1zm-1-3zm0 7zm0-4zm0 2zm0-3zm-1 0zm0-2zm0 1zm0 6zm0-3zm0-1zm0-2zm0 4zm-1-4zm0 0zm0 1zm0-1zm0 4zm-1-5zm0 5zm0-4zm0 5zm0-5zm0 4zm-1-3zm0-2zm0 3zm0-2zm0 3zm-1-3zm0 0zm0 1zm0 4zm0-5zm0-1zm0 5zm0 1zm0-4zm-1 2zm0-4zm0 0zm0 7zm0 0zm-1-2zm0 1zm0-5zm0-1zm-1 1zm0 6zm-1 0zm0-1zm0 0zm0-4zm-1-2zm0 4zm0-2zm0-2zm0 3zm-1-2zm0 4zm0-5zm0 4zm0 3zm0-7zm-1 2zm0 0zm0 2zm-1-4zm0 7zm0-2zm0-3zm-1 0zm-1 1zm0 3zm-1-5zm-1 1zm0-1zm0 1zm0 1zm0-3zm0 1zm-1 0zm0 6zm-1-5zm0-2zm0 6zm-1-4zm-2 1zm0 3zm-1 0zm-2-4zm-1 0zm0 2zm-1-1zm-3 4zm-1-2zm-1-3zm-1 1zm0 4zm-1-4zm-4 3zm-2 5zm7-2zm2-1zm3 6zm3-6zm0 1zm2 3zm0-3zm0 1zm4-2zm5 0zm0 3zm3-3zm1 1zm0-1zm0 0zm0 6zm1-6zm3 0zm0 2zm1 5zm0-3zm1 1zm0-4zm0 3zm0 3zm0-7zm1 0zm0 5zm0-1zm0-4zm0 5zm0-3zm1-2zm0 0zm0 2zm0-1zm0-1zm1 3zm0-1zm1 1zm0-3zm0 5zm0-2zm1-3zm0 0zm0 2zm0-1zm0 0zm0 4zm0-3zm1-2zm0 2zm0-1zm0 1zm0 2zm1-3zm0 1zm0 0zm0 2zm0-3zm0 3zm0-3zm0 2zm0-1zm1 0zm0 2zm0 0zm0 0zm0-4zm0 0zm0 7zm0-3zm1-2zm0 0zm0 1zm0 4zm0-6zm1 1zm0-2zm0 3zm0 0zm0 2zm0 2zm1-1zm0-5zm0 0zm0 4zm0-5zm0 7zm0-7zm0 1zm1 4zm0-1zm0 3zm0-1zm0-4zm0-1zm0 2zm0 1zm0 0zm0-4zm1 0zm0 1zm0 6zm0-7zm0 2zm0 3zm0-4zm0 3zm1 2zm0-4zm0 3zm0 1zm0-2zm0-1zm0 4zm1 0zm0-3zm0-2zm0-2zm0 4zm0-1zm0-2zm0 5zm0-5zm0 1zm0 4zm0-4zm1 0zm0 4zm0 1zm0-5zm0 1zm0 2zm0-2zm1 3zm0-2zm0-1zm0 1zm0-4zm0 0zm0 3zm1-1zm0 2zm0 2zm0-3zm0-2zm0 3zm0 2zm0-6zm0 1zm1 1zm0-1zm0 2zm0 3zm0-4zm0 3zm0-4zm1 0zm0 3zm0-4zm0 3zm0 2zm0 1zm0-4zm0 5zm0-2zm0-2zm1 0zm0 0zm0 2zm0-2zm0 3zm0 1zm0-6zm0 0zm0 4zm0-3zm0 2zm0-4zm0 0zm1 5zm0-2zm0 3zm0-1zm0-4zm0 3zm0-3zm0 3zm0 0zm0 3zm1-4zm0 1zm0 0zm0-2zm0 0zm0-2zm0 1zm0 6zm1-2zm0 0zm0 2zm0-3zm0-1zm0 0zm0-1zm0 0zm0-2zm0 7zm0-4zm0 0zm0 4zm0 0zm1-3zm0-1zm0 1zm0-3zm0 3zm0-1zm0 3zm0-5zm0 4zm0-4zm1 2zm0 4zm0 0zm0 0zm0-1zm1-6zm0 2zm0 3zm0 1zm0-2zm1 2zm0-5zm0 6zm0-6zm0 6zm0-6zm0 0zm1-1zm0 5zm0-4zm1 3zm0 2zm0-1zm0-2zm0-1zm1-1zm0 5zm0 0zm0-2zm0 3zm1-4zm0-3zm0 7zm0-6zm1 0zm0 4zm0 2zm0 0zm0-1zm1-5zm0 5zm1 0zm0-6zm0 5zm0-1zm0 1zm1 2zm0-2zm0 2zm0-5zm0 5zm1-7zm0 6zm1-6zm1 5zm0 1zm0-2zm1-2zm0 4zm0-5zm1 0zm0 5zm0-2zm0 2zm1 1zm0-1zm2-3zm0 3zm1-3zm0-1zm1 1zm1-3zm0 7zm1-4zm0-3zm2 6zm0 0zm0-2zm1-4zm0 4zm0 0zm0 0zm0-2zm0-1zm0 4zm1-2zm0 1zm0 0zm1-3zm0 6zm0-7zm0 7zm0-1zm0-1zm1-1zm0 0zm0-1zm0 1zm1 0zm0 2zm0-5zm0 1zm0 4zm1 0zm0-6zm0 0zm0 6zm0-1zm0-5zm0 0zm0 5zm0 2zm0-1zm0-3zm0-1zm1-1zm0-1zm0 5zm0-1zm0-3zm0 3zm0 1zm0-2zm1 2zm0-2zm0 0zm0 4zm0-7zm0 2zm0 2zm1-3zm0 4zm0-5zm0 0zm0 5zm0-3zm0 0zm0 1zm0 0zm0-2zm0-1zm1 0zm0 4zm0 1zm0-1zm0-3zm0 1zm0-1zm1 3zm0 1zm0-3zm0 5zm0-4zm0 1zm0-3zm1 0zm0 5zm0-4zm0 2zm0 0zm0 1zm0-5zm0 2zm1 4zm0-1zm0 2zm0-5zm0-1zm0-1zm1 2zm0 1zm1 4zm0-4zm0 4zm1-4zm0-3zm48 14zm-49-5zm-1-1zm-1 2zm0 0zm0 2zm-1 1zm0-5zm0 2zm0 3zm-1-2zm0 3zm0-6zm-1 3zm0-2zm0 6zm0-1zm0-4zm0 1zm-1 0zm0-1zm0-1zm0-1zm0 0zm0 7zm0-6zm-1 6zm0-1zm0-1zm0 1zm0 1zm0-6zm0 1zm0-2zm0 5zm-1 1zm0-6zm0 0zm0 1zm0 0zm0-1zm0 4zm-1 1zm0-5zm0 0zm0 2zm0 5zm0-2zm0-2zm0-1zm-1 3zm0-4zm0 1zm0-1zm0 1zm0-1zm0 2zm0 2zm0-3zm0 1zm0 4zm0-2zm0-3zm0-2zm-1 7zm0-4zm0 2zm0-2zm-1 3zm0 1zm0-3zm0-2zm0-2zm-1 5zm0 2zm0-5zm0 1zm0-3zm0 2zm0-2zm-1 3zm0 2zm-1 2zm0-2zm0-3zm0 4zm0 0zm0-5zm0 1zm-1-1zm0 2zm-1 4zm-1-5zm-1 3zm-1-3zm0 3zm-1 2zm-1-4zm-1 2zm-1-2zm0 0zm0-1zm0-1zm0 0zm-1 2zm0 4zm0-2zm-2-2zm0-1zm-1 0zm-1 3zm0-5zm0 1zm0 3zm-3 1zm-1-2zm0 3zm0 0zm-1-6zm0 0zm0 5zm-1 2zm0-1zm0-3zm0 1zm0-2zm0 0zm0-1zm0 4zm-1 1zm0 0zm0-6zm-1 0zm0 0zm0 1zm0 4zm0-2zm0 1zm0-4zm0 1zm-1 4zm0-3zm0 0zm0-1zm0 4zm0 2zm0 0zm0-6zm-1 4zm0-4zm0 5zm0 1zm0-6zm-1 1zm0 5zm0-2zm0-4zm0-1zm-1 3zm0 4zm0-5zm0 0zm0 4zm0-1zm-1-3zm0 5zm0 0zm0-6zm0 5zm0-3zm0-1zm-1-2zm0 0zm0 3zm0 0zm-1 1zm0 2zm0-1zm0-2zm0 3zm0-2zm0 2zm0-2zm-1-3zm0 2zm0-2zm0 0zm0-1zm0 5zm0-5zm0 3zm-1-2zm0 2zm0-1zm0-1zm0 0zm0 1zm0-1zm0 0zm-1 1zm0 1zm0-3zm0 2zm0-2zm0 5zm0 0zm0-2zm-1-3zm0 2zm0 5zm0-6zm0 2zm-1 0zm0 0zm0 1zm-1 0zm0-2zm0 4zm0-2zm0-2zm0 1zm0-1zm0-1zm-1 6zm0-1zm0-5zm0 2zm0 4zm0-7zm-1 7zm-1-6zm0 0zm0 5zm0-3zm0-1zm0 1zm0 1zm-1 0zm0 1zm0 0zm0-2zm0 0zm0-3zm-1 7zm0-2zm0-1zm0-2zm0 1zm-1 1zm0-3zm0-1zm0 5zm0 1zm-1-2zm0-1zm0-3zm0 3zm-1 3zm0-4zm-1 5zm0-7zm0 2zm0 1zm0-2zm-1-1zm0 0zm0 1zm-2 6zm0-2zm0-2zm0 3zm-1-5zm0 0zm0 2zm-1-1zm0 1zm-1 3zm-1-2zm-1-1zm0 1zm-1-2zm0-2zm0 3zm-3-3zm-3 0zm-2 6zm-1-6zm-4 1zm-4 4zm-7-5zm-10 10zm8 0zm13 1zm1 0zm2 3zm3-5zm2-1zm2 1zm7 3zm1-1zm2-2zm1 1zm0 3zm2 1zm0 0zm1-3zm0-2zm0 1zm0-1zm1 0zm1-1zm0 5zm0-3zm1-2zm0 0zm0 1zm1 1zm0-2zm0 1zm1 2zm0-1zm0-2zm0 4zm1 1zm0 0zm1-5zm1 6zm0-6zm1 4zm0-2zm1-2zm0 0zm0 0zm0 5zm0-4zm0 2zm1 2zm0-4zm0 0zm0 3zm0-2zm1-1zm0 1zm0 1zm0 0zm1-2zm0 4zm0 1zm0-4zm0 2zm0-3zm1 6zm0-5zm0 5zm0-4zm0 1zm0-3zm1 1zm0-2zm0 1zm0 3zm1 1zm0 1zm0-4zm0 2zm1-4zm0 1zm0-1zm0 4zm0 1zm1 2zm0-4zm0 4zm0 0zm1-4zm0 3zm0-3zm1 4zm1-4zm0-2zm0 5zm0-6zm1 6zm0-1zm0-4zm0 1zm0 3zm0 2zm0-3zm1-3zm0-1zm0 2zm0 4zm0 0zm1-5zm0 6zm0-7zm0 2zm3 1zm2 2zm0-2zm3 1zm1-3zm2 6zm1 0zm0-4zm1 0zm1 3zm2-5zm1 2zm1 0zm1 2zm1-5zm0 1zm1 4zm0 2zm0-2zm1-2zm0 3zm0-6zm0 3zm0 4zm0-3zm1-1zm0-1zm0 1zm0 3zm0-3zm0 3zm0 0zm2-1zm0-4zm0 5zm1-5zm0-1zm0 6zm1-6zm0 1zm0 2zm0 0zm1 1zm0-1zm0 1zm0 3zm1-4zm0 0zm1 3zm0-6zm5 3zm8-1zm14 4zm1 1zm15-1zm9-4zm-22 10zm-21 3zm-6-3zm0-4zm-1 0zm-2 2zm-1 1zm0 3zm0 1zm0-4zm0 0zm-1-3zm0 5zm0-4zm0 1zm-1 1zm0-3zm-1 0zm0 1zm0 6zm0-7zm-1 1zm0 6zm0-7zm0 1zm0 5zm-1-1zm0-3zm0 0zm0 0zm0 2zm0 0zm-1 0zm0 0zm-1-3zm0 0zm0 1zm0 0zm0-1zm0 4zm-1-1zm-1-1zm0-3zm-1 2zm0-1zm0 5zm-1-3zm0-1zm-1 0zm0-1zm0 1zm0 2zm-1 0zm-2-4zm0 2zm0-1zm-1 6zm-4 0zm-1-1zm-1-5zm-1 2zm0 4zm-1-7zm0 2zm0 4zm-1 1zm-1 0zm-1-4zm0 2zm0-5zm0 5zm-1 0zm0-4zm-3 5zm-1-5zm0-1zm0 5zm-1 0zm0-4zm-1 3zm0-3zm-1 0zm0 6zm-1-4zm-1-2zm0 1zm0 4zm0-2zm-1-4zm-1 0zm0 5zm-2-5zm0 1zm-1 5zm0 0zm0-3zm-1-3zm0 1zm-2-1zm-1 5zm-1-3zm-1 1zm-3 3zm0-6zm-2 7zm0-4zm-7 2zm-7-5zm-4 4zm-1 3zm20 1zm1 5zm0-1zm4-4zm6 2zm4 2zm1-1zm1-3zm2 3zm0-2zm1 4zm2 0zm3-2zm1-1zm1-1zm2 3zm3-2zm3 1zm1 3zm2-2zm1 2zm0-1zm1-5zm2 7zm2-2zm2 1zm0 1zm0-1zm1 1zm0-7zm1 2zm1-1zm2 0zm1 3zm3 1zm3-4zm32 13zm-10-3zm-10 2zm-2 0zm-7-2zm-8-2zm-1 2zm-2-3zm0 1zm-3 1zm-2 2zm0-3zm0 1zm-1-1zm-1 3zm-4-4zm-1 6zm-7-6zm-7 0zm-4 7zm-3-3zm-3-3zm-3-1zm-1 6zm-6-5zm-2 4zm-14 2zm18 7zm0-6zm14 4zm23 0zm2-3zm2 0zm0 0zm5 3zm2 1zm4-2zm2 4zm20-1zm20 4zm-5 5zm-5-6zm-30 0zm-12 1zm0-1zm-1 3zm-1-4zm-1 6zm-2 0zm-1-6zm-1 3zm-2-3zm-1 3zm-13 0zm-11 0zm-27 4zm34 3zm16-2zm9 7zm2-1zm29-5zm-24 7zm-9 1zm-3 6zm0-6zm-4 1zm-10-1zm15 8zm1 5zm1-1zm4-5zm1 3zm4-3zm25 2zm-32 8zm-3 5zm0-5zm-1 5zm-1-4z"/>
<path stroke="#ff7f0e" d="M1168 121zm-1 3zm-9 2zm-11 1zm-55-2zm-138 7zm11-2zm2 2zm118 0zm80-2zm0 1zm5 7zm-20 2zm-181 2zm-6 1zm-1-6zm-1 5zm-1-2zm-12 10zm4 1zm6-3zm3-3zm0-1zm1 0zm8 1zm12 4zm50-5zm135 7zm4 2zm-6 4zm-1 1zm0-3zm-5-3zm-166 7zm-13-3zm-4 1zm-1 2zm-5-3zm-6-3zm-2 3zm-1 2zm-3-4zm-2 0zm-12 1zm-1 5zm9 6zm5-6zm2 5zm1-2zm3 1zm0-3zm3-1zm4 1zm5-1zm4 1zm4 0zm2 5zm2-5zm2 6zm162 0zm5-7zm10 6zm4-2zm-1 10zm-166-1zm-9-3zm-5 4zm-6-2zm-7-4zm-2 1zm-3 3zm0-2zm-1 2zm-2 0zm-2-1zm-1-1zm-3 5zm0-6zm-8 1zm-2 12zm5-1zm0 2zm2-3zm2 1zm3-1zm2-1zm0 1zm5-2zm0-2zm1 2zm2-1zm1 3zm0-3zm1 6zm1-7zm0 3zm1 1zm0-1zm2 2zm0 1zm0-4zm2 2zm2 3zm2-4zm2 0zm2 2zm1-5zm1 0zm4 6zm2 1zm4-2zm97 0zm51-2zm69 8zm-51-3zm-160 6zm-13-1zm-3-2zm-12 0zm-2 3zm-1 0zm-2 0zm0-3zm-1 0zm-10 3zm-3-2zm-12-3zm1 9zm10-2zm6 4zm1 3zm3-5zm2 1zm2 4zm1-3zm2 3zm0-3zm2-2zm1 3zm1-5zm1 4zm5-2zm2-2zm2 2zm0 3zm8 2zm2-1zm160-2zm7-4zm1 1zm-9 8zm-22-1zm-121 1zm-11 2zm-7 0zm-2 2zm0-2zm0 1zm-1-4zm-2 7zm-3-4zm-1-2zm-7 4zm0-3zm-5 3zm-2-1zm-12 2zm-4 3zm10 4zm5-2zm1-1zm6 3zm1-2zm2-2zm1 3zm2-3zm2-1zm3 6zm1-2zm0 3zm0-4zm1-3zm2 2zm4 3zm3 1zm13-2zm143-2zm1-2zm12 7zm21 5zm-17 3zm-7-3zm-16-2zm-143 5zm-8-2zm-2 1zm0-5zm-2 3zm-1 0zm-2 3zm-2 0zm0-5zm-2-2zm-2 5zm-2-2zm-1 1zm-2 3zm0-1zm-2-2zm-1-2zm-4 1zm-1-2zm0 1zm-1 3zm-11 1zm-5 0zm7 9zm6-4zm0-1zm6 2zm0 3zm7-4zm0 2zm3 1zm1 0zm2-4zm0-1zm5 0zm2 3zm2-3zm4 2zm1-2zm1 3zm4 0zm2 2zm2-6zm11 6zm13 1zm68-1zm8-4zm33 3zm1-3zm14 0zm67 5zm-5 5zm-33 2zm-16-4zm-3 1zm-3-1zm-1-1zm-4 3zm-2-4zm-5 0zm-123 3zm-1-3zm-13 6zm-3-6zm0 7zm-3-6zm-1 1zm-3 0zm-1-1zm-2 3zm-7 1zm-3 0zm-1-1zm-1-2zm0-1zm0 5zm0-4zm-2 3zm-2-3zm0-1zm-1 0zm-2 4zm-8-2zm-2 3zm0-4zm0-1zm-6-1zm-10 1zm-3-1zm0 4zm20 5zm1 3zm0-1zm8 0zm3 1zm0-1zm3 0zm0 0zm2 4zm1-4zm5 0zm0 4zm1-6zm0 5zm0 0zm0-5zm1 5zm0-4zm2 5zm0-7zm4 4zm1 3zm2-2zm1-2zm2 4zm4-7zm1 6zm7-3zm1 3zm7-6zm10 5zm14-4zm96 1zm6-2zm2 2zm10 3zm18 6zm-18 0zm-1 2zm-2 2zm-4-2zm0 1zm0 1zm-1-1zm-5-4zm-3 0zm0 3zm0 2zm-2-3zm-2 0zm-1 0zm-53 1zm-60 2zm-2-4zm-10-3zm-3 5zm-4-3zm-5 3zm-3 0zm-1-3zm-1 2zm-3 0zm0-3zm-1 3zm0-3zm-4 5zm-2-3zm0-3zm0 6zm-3 0zm-1-4zm-2 3zm0 0zm-1-5zm0 0zm0 4zm-1 0zm-1 3zm-2-4zm-3 0zm-4-1zm0-2zm-4 6zm-11-3zm-14-1zm27 13zm5-1zm3-2zm3-2zm3 2zm3 2zm0-1zm1 0zm0-1zm3 3zm1-5zm0 1zm4-3zm1 6zm4-1zm0 2zm3-4zm0 0zm2 0zm3 1zm3 3zm2-7zm1 0zm4 5zm1 2zm5-6zm2-1zm10 1zm99 2zm5 2zm4-4zm0 0zm3 4zm1-1zm1 3zm0-4zm1 3zm0 0zm0 0zm1-1zm1 2zm1-3zm2-1zm0 4zm0-4zm0 1zm0-2zm1 4zm0-1zm3-2zm0-2zm0 3zm1-1zm2 2zm1-1zm2 0zm1 0zm1 2zm1-1zm1 2zm0 0zm4-3zm2-2zm-1 10zm-2-4zm-5 2zm0 4zm-3-5zm-2 5zm-3 0zm-1-5zm-1 5zm-2-1zm0 1zm0-4zm-1 5zm-1-5zm0 0zm0 1zm-2 4zm0-2zm0 2zm0-7zm-1 0zm-2 4zm0 2zm0 0zm-2-3zm0 2zm0-4zm-3 1zm0 2zm-2-1zm-7-3zm-63 0zm-31 7zm-8 0zm-8-5zm-5 2zm-2 3zm-3-6zm-1-1zm-9 5zm-2-2zm-2 1zm-1 2zm-2-2zm-1 1zm-2 2zm-1 0zm-3-6zm0 0zm-4 3zm0 0zm-6-2zm-4 1zm-2-1zm-7 3zm-8-5zm-2 1zm2 13zm2 0zm12 1zm0-6zm2 4zm0-5zm5 6zm2 0zm1 1zm1-5zm1-2zm1 7zm1-5zm1 5zm0-2zm1-5zm1 5zm0-4zm0 0zm1 3zm2 2zm1-4zm0 4zm1-5zm0 1zm2-1zm1 2zm1-1zm0-1zm1 5zm2-1zm1 1zm2-6zm1 6zm0-3zm0-2zm2 3zm2 3zm0 0zm3-7zm2 7zm0-7zm4 0zm3 1zm17 6zm10 0zm86-5zm4 2zm0 3zm0-1zm2 1zm0-5zm3 4zm0-6zm0 0zm1 4zm0 0zm4 0zm1-1zm2 3zm0 0zm2-2zm0 0zm0 1zm0 1zm0-6zm1 6zm0 0zm1 1zm0-4zm1 3zm0 1zm0-2zm1-4zm1 2zm1 3zm2 0zm2-2zm0 0zm0-3zm0 0zm3 5zm4 1zm16 0zm18-2zm17-4zm-29 13zm-15-3zm-2-2zm-2 3zm-2 1zm-1-2zm-5 1zm0-4zm-1 6zm-3 0zm-1-3zm-1 4zm-3-7zm0 1zm-1 0zm0 1zm-1 1zm0-1zm0 3zm-1-1zm0-1zm-1 2zm0-3zm0-2zm-1 6zm-1-1zm0-1zm0 3zm0-3zm0 1zm-1-1zm0 2zm0-5zm-1-1zm-2 7zm0-4zm-1-1zm-1-1zm0 2zm-1-1zm0 0zm-1 1zm0 0zm0-2zm-1 3zm0-3zm-1 5zm-2 0zm-5 1zm-4 0zm-18-6zm-33-1zm-30 6zm-20-1zm-4 0zm0-4zm-3-1zm-3 4zm-6 1zm-1 1zm-3-6zm-4 6zm0-3zm-1 2zm0-2zm0-1zm-2-2zm-1 2zm-1 4zm-1 1zm-2-1zm-4-1zm-2 2zm-1-7zm-1 1zm0 6zm-1-7zm0 4zm-1 2zm-1-6zm0 0zm-5 4zm-1-3zm-1 0zm-6 3zm-2 0zm-12-4zm-3 15zm6-7zm13 7zm4-1zm1 1zm0-5zm1 0zm1-2zm0 4zm2 1zm2-2zm0 1zm2 2zm1-6zm1 7zm2 0zm0-3zm0 2zm1 1zm1 0zm1 0zm1 0zm0-3zm4 3zm1-4zm1 4zm2-6zm0 0zm4 6zm0-3zm1 1zm0 0zm1 0zm2 2zm1-4zm1-1zm1 1zm0-3zm0 5zm5-5zm4 3zm7 0zm0-2zm3 5zm1 1zm97-2zm2-3zm1 0zm0-2zm1 6zm0-5zm1 1zm2 2zm0-2zm0 4zm2 1zm0-5zm0 0zm1 5zm0-3zm2 0zm0 3zm2-5zm0-1zm0-1zm1 0zm0 2zm0 1zm0-3zm1 5zm0-4zm1 3zm0-1zm0 0zm0-1zm1 3zm0 1zm0 0zm0 0zm1 0zm0-3zm0 2zm0-3zm0-2zm0 6zm2 1zm0-2zm1-5zm1 7zm0-6zm0 1zm1-1zm0 4zm1 0zm0-2zm0 4zm0-5zm1 5zm0 0zm1-1zm0 0zm0-6zm0 0zm1 5zm1 1zm0-5zm1-1zm1 3zm0 3zm2-5zm0 6zm0-5zm2 5zm0-2zm2 1zm2-6zm0 4zm1-2zm2-2zm0 2zm84-1zm-80 11zm-4-1zm-2-1zm-3-1zm-1-1zm-5 6zm0-1zm0-2zm0-1zm-1 1zm-1 0zm-1 3zm-1-3zm0-2zm0 3zm0-3zm0 6zm0 0zm-1-2zm0-4zm0 4zm0-5zm-1 2zm0 5zm0-5zm-1 4zm-1-6zm0 7zm-1-4zm0-3zm0 0zm-1 7zm-1-4zm0 1zm0 1zm0-5zm-1 4zm0-1zm-1 1zm0-2zm0-1zm0 6zm-1 0zm0-5zm0 1zm0-3zm0 0zm-1 0zm0 3zm0 1zm-1-3zm-1-1zm0 4zm-1-4zm0 0zm0 1zm-2 5zm0-5zm0-1zm-4 5zm-1-4zm-1 0zm-1 2zm-3-1zm-73 5zm-25-2zm-2-2zm-1 2zm-2-5zm-3 5zm-2-1zm0-2zm-7 5zm-1-7zm0 2zm-2 4zm-4-6zm-1 7zm-3-6zm0-1zm0 6zm0-3zm-1 2zm-1-1zm-1-4zm0 6zm0-4zm-2-2zm-5 1zm-1 0zm-3 5zm-3-6zm-7 5zm-1-5zm-1 1zm0 1zm-1 1zm-4 1zm-6 1zm-10-1zm-7 4zm12 3zm4-2zm15 2zm8-1zm0 3zm0-5zm2 0zm0 0zm1 6zm1 1zm1-1zm0-6zm2 5zm0-4zm0-1zm0 4zm1 2zm2-5zm0 4zm1-1zm0 2zm1 1zm1-4zm1 3zm1 0zm1 1zm0-6zm2 4zm5 1zm2-6zm0 0zm6 2zm2 1zm1 4zm2-1zm1-3zm3 2zm6-5zm4 1zm1 1zm4-2zm2 6zm3-2zm20-3zm7 5zm52 1zm3-2zm5-1zm1 1zm2-4zm1 5zm0 0zm2 0zm0-3zm0-3zm1 0zm1 4zm0-2zm2 2zm0-1zm0-3zm0 2zm1 5zm0-1zm1 0zm0 1zm0-1zm0 1zm1-7zm0 0zm0 3zm0 4zm0-2zm1-5zm0 2zm1-1zm0 2zm0-2zm1 5zm1-1zm0-3zm0-2zm0 4zm1 2zm0-6zm1 6zm0-2zm0 3zm1-3zm0 0zm0 3zm2 0zm0-1zm1-3zm0-2zm1 6zm0-3zm0 0zm0 0zm0 0zm2-2zm0 0zm2 4zm2 0zm0-4zm1 1zm1-3zm1 6zm6-4zm9 5zm138 4zm-134 1zm-20-3zm-3 4zm0-3zm-1 0zm0-1zm-1-1zm-1 6zm-1-2zm-1-4zm-1 7zm-1-5zm0 4zm-1-2zm0-2zm-2 2zm0 0zm-1 1zm0-2zm0-1zm-1 4zm0-5zm-1 2zm0 1zm0 1zm-1 2zm-1-2zm0-4zm0 3zm-1 1zm0-4zm-1 6zm0-6zm0-1zm-1 6zm0 0zm-1-6zm0 7zm-1-4zm0 3zm-2-5zm0 5zm0 1zm0-4zm0 0zm-1 2zm0-1zm-1-1zm-2-2zm0 5zm-2-6zm-2 6zm-4-1zm-4-2zm-28 0zm-6 3zm-28-2zm-15-4zm-9 5zm-3-1zm-5 3zm0 0zm-2-5zm-1 4zm-6-4zm-3 2zm-1 3zm0 0zm-1-6zm-3 4zm-1-4zm-1-1zm-2 3zm0-1zm-1 2zm0-3zm0 6zm-1-3zm-1 0zm-1-3zm-4 2zm-5-2zm-1 0zm-1 1zm0 3zm-2 1zm-1 0zm-2-3zm-1-1zm-3-1zm0-1zm0 6zm-4-4zm0 0zm-12 2zm7 5zm6 6zm1-6zm2 0zm5 1zm0 4zm2 0zm2-3zm2-2zm2 0zm2 5zm0-2zm1-2zm1-2zm1 2zm0 4zm1-3zm1 3zm0-6zm3 3zm2 2zm1-4zm3 2zm1-1zm2 1zm0-3zm0 0zm1 5zm1 0zm1 2zm4-2zm2-3zm9 3zm0 1zm1-5zm1 3zm8 1zm5-3zm35 4zm1-1zm7 2zm2 0zm30 0zm5-2zm2-5zm1 4zm1 1zm2-2zm0-1zm1 2zm0-3zm0 5zm1-3zm0 0zm0 0zm1 4zm0-7zm1 1zm3 6zm0-4zm0-2zm1 2zm0 4zm0 0zm1-3zm0-2zm0 2zm1 0zm0 0zm0 3zm0-4zm1-1zm1 0zm1 0zm0 1zm2 0zm0 1zm1-3zm2 6zm0-1zm0-4zm1 3zm1-4zm1 3zm1 1zm1 2zm1-1zm3 1zm0-2zm1 0zm3-1zm8 2zm75-2zm42 3zm36-3zm34 7zm-201-1zm-4 0zm-2 5zm-1-6zm-1 1zm-1 0zm-2 2zm-1-2zm-1-2zm0 3zm0 4zm0-5zm-1 0zm-1-2zm0 2zm0 1zm0-3zm-2 0zm-1 7zm-2-6zm-1 6zm-1-2zm-1-1zm-1 0zm0 2zm0-6zm-2 0zm-1 6zm-27-1zm-3 0zm-13-5zm-10 7zm-7-2zm-9 0zm-1-5zm-10 1zm-3 2zm-4 4zm0-5zm-4 1zm-5-3zm-3 1zm-1 5zm-1-4zm0 3zm-1-4zm-1 5zm-2 0zm-2-5zm-3 5zm-1-6zm-1 1zm0 1zm-1-1zm-1 6zm0-5zm-3 3zm-1-4zm-1 0zm-1 4zm0-1zm-1 3zm-5-1zm-1-3zm-1 0zm-1-2zm-2 4zm0 2zm-2-1zm-1 0zm-1-5zm-1 1zm-3-2zm-2 7zm0-6zm-1 3zm-10 2zm-9-4zm-2 1zm-5 3zm6 6zm15-3zm1-1zm2 6zm9-6zm0 3zm1-3zm0 3zm5-1zm0 2zm1-2zm0 0zm3 5zm0 0zm2-7zm0 5zm1-2zm0-2zm1 0zm1 6zm1-1zm1-6zm0 6zm1-5zm0 2zm0 3zm0-5zm1 1zm0 2zm1 0zm2 1zm1 2zm0-5zm1 4zm0-3zm1 3zm3-1zm1-5zm2 4zm0-2zm6 0zm1 1zm2-2zm2 4zm0 1zm6-5zm7 5zm2 1zm5-1zm12 0zm10 0zm1 1zm14-4zm9 4zm6-3zm0-1zm10 4zm7-2zm5-3zm3-1zm0 3zm1 0zm2 0zm1-4zm1 6zm1-5zm0 4zm2-5zm2 6zm1-1zm0-3zm0 5zm1-1zm0-4zm0 4zm2-4zm0-1zm0 0zm0 1zm3 4zm1 1zm1-6zm0 4zm1 0zm3-2zm2-2zm30 5zm40 0zm81-1zm33 4zm-50 2zm-43-3zm-22 7zm-46 0zm-13-7zm-1 7zm-12-3zm-1 2zm-1-1zm-1-4zm0 4zm0-5zm-1 3zm-1 3zm-2 1zm-3-6zm0 6zm0-2zm-1-4zm-1 6zm-2 0zm-1-1zm-2 0zm-1-2zm0-1zm-3 1zm-4 0zm-4-3zm-3 6zm-4-7zm-10 0zm-8 5zm-9 1zm-1-2zm-8-2zm-3 5zm-3-6zm0 5zm0-4zm-12 2zm-3-4zm-5 2zm-2 4zm-2 1zm-5 0zm-3-6zm-2 5zm-2-5zm-2 6zm-2-7zm-1 2zm0 5zm-4-4zm-3 4zm-1-4zm-3-1zm0 4zm-1-1zm-6 1zm0-3zm-4-1zm-1-1zm-4 4zm0 1zm-1 0zm0-3zm-2-2zm-1-1zm-1 2zm-2-2zm0 2zm-1-2zm-2 4zm-2-3zm-1-1zm0 3zm-2 1zm-2 2zm0-2zm-2-1zm-4 2zm-2-3zm-1 0zm-6 1zm6 10zm6-5zm7 2zm0 2zm5-4zm2 0zm3 0zm3 4zm2-4zm2 2zm0-2zm1 5zm1-3zm1 5zm1-3zm3-4zm2 6zm0-5zm1 3zm0-1zm1 1zm4-1zm1-3zm1 7zm0-6zm1 6zm2-3zm1 2zm1 0zm2-4zm6 0zm1 2zm0-4zm3 6zm0-2zm2-2zm8 5zm6-4zm0 1zm5-2zm14-2zm9 1zm7 4zm3-2zm9 3zm5-1zm8 1zm0-3zm1 0zm4 2zm4-1zm1 2zm1-5zm4 3zm0-1zm1-2zm0 1zm0 4zm2-5zm1 2zm0 4zm1-3zm2 0zm5-4zm0 6zm0-6zm1 4zm1 2zm0-4zm6 5zm37-4zm3 4zm35-3zm4-4zm5 6zm30-1zm46-5zm11 7zm13 0zm33-5zm35 1zm-46 7zm-2 4zm-8-1zm-14-5zm-19 6zm0-2zm-3-1zm-1 3zm-25-3zm-3 2zm-17 2zm-25 0zm-26-4zm-23-3zm-16 6zm-23-1zm-8-3zm-7 4zm-2 0zm-2-2zm-3-3zm0 5zm0-3zm-2 1zm-3-1zm-4-1zm-2 5zm-3-5zm-2 5zm0-5zm-3 0zm-4 0zm-2 0zm-11 4zm-12 0zm-1-1zm-1-3zm-4-1zm-1 2zm0 3zm-1 1zm-3-3zm-3-4zm-6 6zm-2-3zm0 0zm-3-3zm-2 7zm-3-5zm-1 4zm-5-2zm-1 2zm-5 0zm-2-3zm0 3zm-3-4zm-3 5zm-1-4zm0 0zm-3 2zm-1 1zm0-1zm-1 0zm0-3zm-1 2zm-3 3zm0-2zm-1 1zm0-5zm0 6zm-1-3zm0 3zm-1-6zm-4 5zm-1-4zm-3-1zm-5 2zm-1 1zm-1 3zm-1-2zm-1 2zm-1-1zm-4-6zm0 3zm-1-2zm-2 3zm0-2zm-1-1zm-2 3zm-1 2zm-4-3zm0 3zm-2-1zm-1 2zm0-2zm-24-5zm-8 4zm38 11zm3-5zm2 2zm1-1zm1-1zm0 1zm0-2zm1 2zm1-2zm2 1zm2 2zm0 0zm3-4zm7 2zm1 1zm1-3zm0 3zm1 3zm0-4zm1 4zm0-3zm2-3zm1 4zm1-3zm0 1zm1 0zm0 0zm1-2zm0 6zm1-3zm3 2zm2 2zm0-7zm1 6zm3-2zm3 3zm2-4zm0-1zm1 4zm1 1zm1-5zm1 0zm0-1zm2 4zm2 1zm2 1zm1-1zm0-5zm1-1zm1 5zm1-1zm1 0zm2 3zm1-6zm1 4zm0 2zm1-7zm6 6zm3-1zm0 1zm2-2zm1-1zm1-3zm1 2zm0 4zm4-5zm5 5zm4-2zm1 0zm2 1zm0-3zm1 4zm6-3zm0-2zm1 4zm3-2zm0 2zm1-5zm0 0zm4 4zm1 2zm4 1zm1 0zm0-6zm20 1zm0 3zm2-2zm1 4zm4-7zm1 0zm0 4zm4 2zm8-5zm45 0zm2 0zm20 2zm5-1zm23-2zm18 3zm4-1zm14 0zm7 1zm1-3zm8 5zm6 2zm8-7zm4 4zm5 1zm7-5zm3 3zm1 3zm7-3zm2 1zm3-2zm10 5zm1-2zm8-1zm5-3zm5 6zm1-3zm2 3zm4 0zm9 0zm6 0zm26 7zm-15-2zm-5-4zm-12 6zm-3-6zm-1 5zm-3 1zm-6 0zm0-4zm-1 1zm-3 0zm-3 4zm-1-6zm-3 6zm-9-6zm-8 0zm-1 1zm-4-1zm-3 4zm-1-1zm-3 3zm-7 0zm-5-4zm-9 1zm-6 3zm0-6zm-4 3zm0 0zm-2-3zm-1 3zm-10-3zm-7 4zm-6 1zm-8-6zm-4 5zm-2 0zm-1-2zm-15 2zm-17 0zm-4-4zm-31 2zm-3 3zm0-5zm-5 0zm-10 4zm-12 1zm-14-5zm-1 6zm-4-4zm-2 0zm-4-2zm-3 2zm-5 3zm-4-4zm-3-1zm-1 5zm-2-5zm-5 2zm-4 2zm-4-2zm-3-2zm-3 2zm-6-3zm0 7zm-2-6zm-1 6zm0-1zm-1-5zm-6 0zm-4 1zm-4-1zm-1 4zm-2 1zm-1 1zm-6-6zm0 1zm-1 0zm-6 4zm0-1zm-7-1zm-4-4zm-1 7zm-1-6zm-1 4zm0 2zm-3-5zm-1-2zm-2 4zm0 3zm0 0zm-2 0zm0 0zm-1-2zm-1-4zm0 6zm-2-6zm-1 5zm-1 0zm-2-1zm-2-1zm0 3zm-1-5zm-1 2zm-4-1zm0 4zm-3-5zm-2 1zm0 2zm-1-5zm-1 5zm0-2zm-1 0zm-1-1zm-1 5zm0-5zm-3 3zm0-2zm0-2zm-1 6zm0-6zm-1 5zm-1-4zm0-2zm0 1zm-2 1zm-1 3zm0 1zm-1-1zm-3 0zm-1-5zm0 6zm-6 0zm-1-6zm-7 4zm-11 10zm2-6zm8 7zm3-7zm6 1zm3 5zm6-5zm1-1zm0 3zm0-1zm3 3zm1 1zm0 0zm4-4zm1-1zm0 0zm3 1zm0 1zm0 4zm1-6zm1-1zm1 1zm0 6zm2 0zm1-4zm1 4zm0-4zm0 0zm3-2zm1 4zm0-1zm0-3zm1 4zm1 2zm1-4zm0 4zm0-2zm1-5zm0 5zm1-2zm0 2zm0-4zm1 5zm0-4zm1 2zm0 3zm1 0zm0-5zm1 3zm0-3zm3 4zm1-3zm3 0zm1 1zm1 3zm0-1zm3-3zm7 1zm1 2zm1 1zm1-7zm0 7zm0-3zm3-1zm1 2zm1-3zm2 0zm2 4zm1-5zm0 3zm1 3zm2-1zm4-3zm1-2zm0 3zm2-4zm6 2zm0 0zm1 2zm1 1zm2 1zm2-3zm1 2zm0-2zm1 4zm2-2zm1 0zm1-3zm1 2zm1-4zm7 0zm0 0zm0 0zm2 5zm7-1zm5 2zm0-5zm3 2zm3 3zm4-4zm5 4zm0-5zm1 1zm7 4zm4-2zm3 2zm22-1zm7 2zm1-1zm5-2zm28 1zm3 1zm3-6zm11 6zm2-5zm2 5zm2-2zm4 2zm0-2zm7-2zm4 3zm10-5zm9 6zm2-3zm1 3zm11-6zm0 5zm1-1zm1 0zm6 2zm7-2zm6-3zm2 2zm2-3zm6 6zm0-4zm2 4zm1-3zm3-3zm1 0zm1 4zm2 0zm4-1zm2 0zm1 4zm1 0zm3 0zm5-3zm2-1zm2 2zm2-3zm3 1zm1-2zm2 1zm3 2zm1 1zm0-3zm1 2zm1 2zm1-5zm1 2zm3-2zm2 4zm0-5zm2 1zm0 6zm1-1zm0 1zm2-3zm0 3zm0-7zm1 7zm5-7zm1 3zm1 2zm1 1zm5-4zm0 2zm3-4zm6 3zm0 2zm28 0zm-1 10zm-3-6zm-3 0zm-13-1zm-4 7zm-2-2zm-1-2zm-1 0zm-1-2zm-3-1zm-2 3zm0 4zm0-1zm-1 1zm-2-4zm-2 2zm0-2zm-1 0zm0 0zm0 2zm0 2zm0-7zm-1 4zm0 1zm0 2zm-1-3zm-1-2zm0 1zm-1 3zm-1-3zm-2 1zm0 3zm0-6zm-3 5zm-1-2zm0-4zm-2 1zm0 3zm-2 3zm0-1zm0-3zm0 2zm-2 1zm-1 1zm0-4zm-2 4zm0-1zm-1 0zm-1-6zm-3 3zm0 3zm-2-1zm0 1zm-2-3zm0 0zm0 0zm-2 2zm-3-5zm0 3zm0 2zm-2-5zm-2 4zm-1 0zm0 2zm-1 0zm0 0zm0-2zm-4 1zm0-3zm0 2zm-2 1zm-1-3zm-1 0zm-1 4zm-2-3zm-1-3zm-1 7zm-1-1zm-3-2zm-3 2zm-1-3zm-3 2zm-2 0zm0 1zm-1-4zm-2 1zm-4-1zm-1 5zm-1 0zm0-7zm-1 1zm-1 5zm-6-2zm-6-4zm-1 4zm-6 3zm-1-4zm-6 0zm-4 4zm-1-2zm-6 2zm-1-1zm0 0zm-6-3zm-12 2zm-14 2zm-5-5zm-6-2zm-6 1zm0 6zm-1-3zm-11 2zm-8-2zm-3 2zm-5-5zm-2 3zm-31 2zm-2-4zm0 1zm-5-1zm-6-1zm-3 1zm-2 3zm-3-1zm-4-1zm-3-1zm-3 0zm-2 2zm-1-2zm-1 0zm-1 0zm0 3zm-1-4zm-1 6zm0 0zm-2-1zm0-6zm-3 2zm-1 1zm-1 3zm-7-3zm-2-3zm-2 5zm0-5zm-6 3zm-7-2zm-2 4zm-3 2zm0 0zm0 0zm-1-3zm-1 1zm-1-5zm-1 3zm0-1zm-2 4zm-1-6zm-3 7zm-1-5zm-2 4zm-3-4zm-2-2zm0 7zm-1-3zm-1 0zm-2 1zm-1 0zm0-1zm-1-2zm-1 4zm0-3zm-1-1zm-1 0zm0-2zm-1 5zm-2 2zm-3-7zm-5 3zm-1 0zm-1-1zm-2-1zm-6 0zm0 0zm-2-1zm0 5zm-1 2zm0-2zm0-4zm0 1zm-1-1zm-1 4zm0 1zm-1 0zm0 1zm-4 0zm-1-3zm-4 3zm-3 0zm0-4zm0 3zm0 1zm-3-1zm0 1zm-1 0zm-1 0zm0-7zm0 5zm-4-2zm0 1zm-2-2zm0 5zm-3-6zm-4 3zm-4 3zm-3-2zm0 0zm-9-4zm-2 0zm-7-1zm14 13zm3 0zm3 0zm3 2zm3-7zm2 6zm1-5zm1 0zm0 3zm3 2zm1-5zm2 3zm1-3zm2 0zm2 4zm1 1zm4-2zm2-3zm0 4zm0-1zm0-4zm1 4zm1-4zm1 3zm0-2zm0 4zm1-3zm1-1zm0 3zm0 1zm0-4zm2-1zm1 6zm0-1zm5-1zm1-4zm0 4zm0-2zm1-2zm0 1zm2 4zm1-2zm0 3zm1-3zm0-3zm1 6zm3 1zm0 0zm0-6zm1 5zm3 0zm2-4zm0 4zm0-1zm3 1zm1-4zm1 2zm1 0zm1 3zm0-2zm4-4zm0 5zm1 0zm1 0zm1-4zm1 1zm1 3zm0 1zm2-6zm4 3zm1 1zm4-1zm1-1zm0-3zm1 5zm0 0zm4 0zm0-5zm0 5zm1 2zm0-4zm0 3zm2 0zm2 1zm2-4zm2 2zm2 1zm3-1zm7 2zm0-7zm1 7zm1-2zm3 2zm0-4zm1 1zm0 3zm1-2zm13 0zm2 0zm2-2zm2 0zm0 1zm2-2zm0 2zm7 1zm9-2zm11 0zm8 0zm4 1zm2-2zm6-2zm2 5zm1 0zm2 1zm2-4zm2 3zm1-1zm8-1zm2-2zm5 4zm11 2zm0-1zm5-1zm9-2zm3-2zm5 2zm6 0zm2 3zm1 0zm5-4zm5 2zm0-1zm0 1zm6-4zm1 3zm3 0zm2 3zm2 1zm1-6zm3 1zm5 0zm2-2zm2 7zm1 0zm2-5zm1 3zm3-4zm0 1zm3-2zm1 4zm5 3zm1-1zm4 1zm0-3zm0 0zm1-1zm0 1zm1-3zm2 6zm0-4zm1 0zm8 4zm0-4zm0 2zm3-1zm1-1zm0 0zm1-3zm4 1zm2 1zm2 2zm3 3zm0-6zm1 3zm0-4zm0 4zm1 0zm1 0zm0-2zm1 2zm0-3zm1 0zm0 3zm1-4zm0 7zm0-2zm1-4zm0 6zm2-4zm0 3zm0-6zm1 3zm1 1zm2 2zm0 1zm1-3zm1-2zm0 0zm1 1zm1 0zm0-1zm0 2zm0 3zm0-5zm1-1zm1 0zm0 5zm0 1zm0-1zm1-1zm0-4zm1 3zm1 1zm0-5zm0 7zm0-3zm2-3zm0 2zm1-1zm0 0zm1-2zm0 7zm0-3zm1-2zm0 3zm1-5zm1 4zm1 3zm1-7zm1 5zm0-4zm0 3zm0 2zm0-5zm1 0zm0 5zm1 1zm1-6zm0 0zm2 4zm0-1zm1 2zm1 1zm0-5zm0 0zm1 2zm2-2zm0 3zm1-1zm0-4zm1 3zm0 4zm1 0zm0 0zm1-4zm0-1zm1 0zm1 3zm3 2zm3-2zm2 0zm1 0zm1-5zm1 1zm2 5zm0 0zm5-6zm13 1zm2 3zm4 9zm-3-5zm-1 7zm-3-6zm-8 2zm-1 1zm-1 3zm-2-6zm-4 4zm-1-5zm0 0zm-3 5zm0-2zm0 4zm0-7zm-1 2zm-6 5zm-1-6zm0 1zm-3-2zm-1 6zm0-1zm0-2zm0-3zm0 4zm-3 2zm0-3zm0 2zm0 2zm-1-6zm-1-1zm0 3zm0-2zm0-1zm-1 0zm-1 5zm-1-5zm-1 6zm-1-6zm0 7zm-3-3zm0 1zm-1-1zm-1-2zm-1-2zm0 2zm0-2zm0 3zm-1 4zm-1-2zm0 0zm-1 0zm0-1zm-1 3zm0-7zm0 4zm-1 3zm-1-7zm0 4zm0 2zm-3-6zm0 1zm-1 5zm-1-5zm0 3zm0-4zm0 5zm-1 1zm0 1zm-2-5zm0 1zm0-1zm0 0zm0-1zm0-1zm0 7zm-1-3zm-1-2zm0-1zm0 6zm-1-7zm0 6zm0-1zm0-3zm0 4zm-1-3zm0-3zm-1 4zm0-2zm0 5zm0-7zm0 6zm-1-6zm0 5zm0-1zm-1-2zm0 1zm0 3zm-1-2zm0 1zm0-4zm-1 2zm-1-3zm0 5zm0-5zm-1 7zm0 0zm-1-1zm0-4zm-2 4zm0-2zm-2 0zm0 2zm-1 1zm0-1zm0-4zm0 2zm0 3zm-1-6zm0 3zm0 1zm-4-3zm0 1zm-1 4zm0-6zm0 4zm0-2zm-1 0zm0-2zm0 3zm-1-3zm-5 6zm-1-3zm0 1zm-4 2zm-5 0zm-3-6zm-8 0zm-4 6zm-3-7zm-1 7zm-1-7zm-2 3zm-1-2zm-1 2zm-2-3zm-1 3zm-3-1zm-2 3zm-1 0zm-1 2zm0-6zm-6 5zm-3 0zm-5 1zm-5-2zm-5 0zm-6-4zm-1 3zm-1 2zm-5 1zm0-5zm-2 3zm-1 1zm-19 0zm-1-1zm-4-4zm-6 3zm-2-2zm-2 1zm0 0zm-3-2zm-1 6zm-2-6zm-2 6zm0-7zm-8 1zm0 2zm-2-3zm-2 0zm-9 5zm-9 1zm-1 1zm-4 0zm-1-1zm-1 0zm-3-6zm-4 5zm-2-3zm-2 5zm-7-1zm-2 0zm-1-6zm-10 0zm0 7zm-1-3zm-3 2zm-4-4zm-6 2zm0-1zm0 4zm0-3zm-4 0zm-1 0zm-3-4zm0 6zm-1 0zm-1-6zm-1 2zm0-2zm-2 1zm-1 2zm-1 1zm-1-2zm-1 5zm-2-7zm-1 2zm-1 3zm0-2zm0-2zm-1 3zm-1-1zm-1 2zm-2 0zm0-4zm-2 5zm-3-5zm-1 2zm-1 2zm0 0zm-1-2zm0 1zm0 1zm-1 2zm0 0zm-3 0zm0-7zm-2 6zm0-4zm0-1zm-1 5zm-2-5zm-1 2zm0 3zm0-3zm-1 0zm0 0zm-1-3zm0 7zm-1-7zm0 7zm0-7zm0 3zm-2 0zm0 2zm-1-1zm-4-3zm0 2zm-2 4zm-1 0zm-2-5zm0 2zm-1 0zm0 3zm-1 0zm0-3zm0-2zm-2 4zm0-1zm0-2zm-1 2zm-3 1zm-2 1zm-1-3zm-1-1zm-1 1zm-1-3zm-2 6zm-1-1zm0-6zm-1 7zm0-2zm0-5zm-1 6zm0-5zm-1 5zm0 0zm0 1zm0-3zm-1 1zm-2 2zm0 0zm0-3zm-1 0zm0-4zm-1 4zm-1 0zm0-1zm-1 0zm0 1zm-1 1zm0-2zm0 1zm-2-3zm0 2zm0 3zm-1-2zm-1 2zm0-5zm0 1zm-3 2zm-1-2zm-1 3zm0-1zm0 0zm-2-3zm-4 6zm-1-4zm-5 3zm-4-5zm-2 2zm-1 3zm-3 0zm-6 3zm1 6zm11-5zm1-1zm3 3zm1-4zm0 5zm1-4zm1 3zm0 1zm1 2zm1-7zm2 7zm0-4zm2 4zm0-4zm2 1zm0-1zm1-1zm1 0zm0 0zm0-2zm2 3zm0-1zm0-2zm2 0zm1 7zm0-3zm1-3zm1 3zm2 0zm0 1zm1-1zm0-3zm1 6zm1-5zm0 2zm4-1zm1 0zm0 3zm1-5zm0 4zm0-4zm1 5zm1-1zm0-5zm0 0zm3 2zm1 2zm1 1zm0-5zm0 2zm0-2zm1 1zm0 0zm1 4zm0-2zm0-3zm4 0zm0 6zm0-4zm0 3zm1 0zm0 2zm2-6zm0 4zm2-1zm1 1zm1-5zm0 0zm0 3zm1-2zm0-1zm1 2zm0-2zm1 5zm1-2zm3 3zm3-2zm0 2zm0-2zm1 0zm1 1zm2-3zm1 1zm0 4zm0-2zm1 2zm0 0zm0-3zm2-4zm0 7zm2-5zm1 0zm0 2zm1-4zm0 7zm0-4zm2 4zm3-1zm0-2zm4 1zm2 0zm3-2zm0-3zm3 0zm1 4zm1 3zm0 0zm2-5zm3 1zm1-3zm0 6zm5 0zm1 1zm2-5zm1 0zm0 2zm1 0zm1-2zm2 3zm2-2zm2-2zm7 5zm0-2zm1 2zm1 1zm0 0zm1-4zm0-1zm1-1zm0 3zm0-4zm0 1zm5 5zm4-3zm0 4zm4-5zm6-2zm1 2zm9-2zm10 5zm1-5zm2 1zm5 0zm1-1zm7 0zm1 3zm10 2zm5 1zm0-4zm4 1zm0 1zm2-3zm0 6zm6-2zm0 0zm12-1zm1-1zm3 2zm1 0zm1 0zm0-3zm1-2zm8 7zm1-2zm0-2zm1 2zm1-1zm8-3zm1 1zm5 1zm1 1zm1-4zm2 6zm7 1zm9-2zm9-3zm7 4zm1 1zm1-1zm0 0zm0-3zm1 0zm0 1zm1-3zm2 4zm4 2zm0-7zm1 6zm2-3zm0-2zm2 6zm1-4zm1 3zm0-6zm0 3zm0 1zm1-1zm2-2zm4 1zm1 1zm0-2zm2 3zm0 3zm2-1zm3 0zm1 1zm2-2zm0 2zm2-3zm0 0zm1 3zm0-6zm0 0zm1 2zm0 2zm1-3zm3 4zm0-3zm0-3zm0 7zm1-4zm1-2zm1 3zm2 2zm0-1zm1-3zm0 4zm1-5zm0 6zm0 0zm1-4zm0 2zm1-4zm1-1zm0 2zm0 0zm1 1zm0-1zm0-1zm0 3zm0-1zm1-1zm0 3zm0 2zm1-5zm0 1zm1-2zm0 0zm1-1zm1 3zm0 2zm1-4zm0 3zm0-1zm0 2zm0-2zm0 4zm1-2zm1-1zm0 3zm0-7zm0 2zm1 5zm1-7zm0 0zm0 7zm1-1zm0-1zm4-2zm0-2zm0 1zm1 0zm0 3zm1-3zm0 4zm1-3zm1-2zm2 1zm1 0zm1 5zm0-1zm1-6zm0 3zm0 2zm1-1zm2-2zm1 4zm0-6zm0 7zm0-7zm2 4zm0-2zm0 0zm0 3zm1 2zm2-4zm0 2zm0 0zm2-3zm0 3zm1 2zm1-7zm0 6zm0-3zm0 0zm1 4zm2-7zm1 2zm1 1zm2-2zm1-1zm0 2zm0 0zm2-2zm0 1zm1 3zm9-2zm3 3zm5-4zm23 6zm-8 2zm-24 0zm-1 4zm0-4zm0 0zm-6 3zm-1-3zm0 3zm-1 3zm-3-5zm-2 4zm-2-2zm-1-1zm0 4zm0-7zm-1 1zm-1 3zm-1-2zm-2 3zm0-4zm-1 2zm-2-2zm-2 1zm0 2zm0-4zm-2 5zm0-1zm-1-1zm0 2zm-1-3zm0 2zm-1 2zm0-5zm0 3zm0 3zm-3-6zm0-1zm-1 7zm-1-3zm0-3zm0 0zm-1 4zm0-1zm0-2zm-1 4zm-1-4zm0-2zm-1 7zm-2 0zm0-7zm-1 7zm0-5zm-1 4zm0 0zm0-1zm-1-2zm-1 0zm-1 3zm0-4zm0 3zm-1-5zm-2 0zm-1 1zm0 4zm0-1zm0-3zm-1-1zm-1 7zm0 0zm-1-2zm0-4zm-1 1zm0 5zm0-6zm0 0zm0 0zm-1 0zm0 0zm-1 5zm-1 0zm-1 1zm0-7zm-1 2zm-1-2zm-1 0zm-1 3zm0-1zm0 3zm-2-4zm0 5zm0-4zm-1-1zm0 0zm-3-1zm-1 1zm-1 0zm-3 3zm0-1zm-1 3zm-2-3zm-1 2zm0-5zm-2 6zm0-2zm-6-4zm-2 5zm-4-3zm-2 4zm-7-4zm-5 1zm-2 3zm0-1zm0 0zm-2 1zm-5 1zm-2-2zm-1-1zm-1 3zm-1-1zm-4 0zm-1 0zm-1-2zm-1-1zm0 3zm-1-5zm0 6zm0-7zm-2 1zm-4 1zm-2-2zm-1 2zm-2 0zm0 1zm-4-2zm-4 3zm-1 1zm-1-2zm0 3zm-3-4zm-1 1zm-2-3zm0 5zm-2-3zm-1 1zm0 4zm-13-3zm-4-1zm0 1zm-2 3zm-5-1zm-1-6zm-3 0zm-6 5zm-3-3zm-2 4zm-5 0zm0-5zm-1-1zm-4 2zm-4 5zm-1-4zm-1-1zm-1-2zm0 0zm-1 1zm-5 1zm-2 5zm0-6zm-7 5zm-6-1zm-2 2zm-2 0zm0 0zm-1-2zm-3-1zm-1-4zm-1 7zm-10-2zm-8-5zm-1 4zm-1 1zm-2 2zm-3-7zm0 4zm-5 0zm-1 3zm0-2zm-1-4zm0 1zm-1 5zm-1-7zm-6 5zm-1-1zm-2 1zm-3 0zm0-5zm-1 1zm-1 1zm-1-2zm-3 4zm-5 2zm-2-5zm-1 4zm0-4zm-1 3zm-1-3zm0 0zm-4-1zm-4 1zm-1 2zm-2 0zm-7 2zm-1-2zm0 0zm-1-3zm0 4zm-2 1zm-1 0zm-1-4zm0 3zm-2 0zm-2 0zm-1-2zm0 3zm0-2zm-2-2zm0 1zm-1 2zm0-2zm-1 4zm-2 1zm0-2zm-1-5zm-1 2zm-1-1zm-1 3zm0-1zm-1-2zm-1-1zm0 6zm-1-4zm-1-1zm-1 1zm0 5zm-1-6zm-1 3zm-1-1zm0 0zm0 3zm-1-5zm0-1zm-1 2zm0 4zm-1-3zm0-2zm-2 3zm-1 3zm0-3zm0-2zm-1 1zm-1 0zm0-1zm0-2zm-1 0zm0 7zm-2-1zm0-1zm0 0zm0-1zm-1 2zm-3-2zm-1-1zm-1-2zm0 1zm0 3zm-1 1zm0-5zm0 2zm-1-2zm0 2zm-2-3zm0 5zm-1-4zm0 4zm0-1zm0-3zm-1 4zm0-4zm0 6zm-1-6zm-2 4zm0-2zm0 2zm-1-4zm0 6zm-2-7zm-1 7zm0-4zm-1 4zm0 0zm0-1zm-3-3zm-1-3zm-2 4zm-5-4zm-1 7zm-7 0zm-7-1zm0 1zm-1 7zm8-4zm5 1zm0-1zm0 4zm7 0zm0-6zm2 7zm3-4zm0 0zm4 3zm2-5zm0 6zm0 0zm2-3zm0 1zm0-4zm1 3zm0 3zm1-6zm2 2zm0 1zm0-4zm0 6zm1-3zm0-1zm1-2zm0 1zm0 4zm1 0zm0-4zm0 0zm1 1zm1-2zm1 0zm0 1zm1 2zm0 1zm0 3zm0-1zm0-5zm1-1zm0 4zm0-4zm1 4zm0 2zm1-4zm1-2zm1 2zm1-2zm0 4zm0-3zm1-1zm1 5zm0-5zm0 3zm2 3zm1-6zm0 1zm1 6zm0-6zm1 6zm0-6zm1 5zm1 1zm1-7zm1 4zm0 2zm1-4zm1 3zm2-1zm0-4zm2 6zm1-4zm2-1zm0 3zm1-3zm0 4zm2-2zm1 3zm2-5zm0 1zm0 0zm0 0zm0-2zm1 6zm1-1zm1-3zm3 1zm1 4zm0-4zm1 0zm1 1zm0 3zm1 0zm0-7zm1 3zm0 4zm2-3zm1-4zm0 5zm2 1zm2-2zm2-1zm0 2zm2-5zm2 4zm9 3zm0-7zm2 2zm2 0zm1 2zm3 3zm0-2zm2-4zm1 1zm0-1zm0 6zm1-5zm2 2zm0 2zm1 0zm0-6zm2 3zm1-3zm1 6zm0-4zm3 2zm3 3zm2-5zm2 4zm0-5zm2-1zm1 1zm1 0zm4 5zm4-4zm10-2zm3 0zm8 6zm4 0zm0-4zm11 2zm1-1zm6 1zm1 3zm4-5zm9 2zm1 2zm3-2zm1-1zm0 4zm5-4zm1 3zm0-1zm3-1zm0 0zm1 0zm0 0zm2 0zm0-4zm3 6zm7 0zm3-6zm0 1zm1 2zm7-2zm1 2zm1-2zm0 3zm2 3zm0-1zm4-6zm2 7zm3-5zm2 5zm1-2zm6-5zm1 3zm1 2zm2-2zm2-3zm2 3zm1 1zm5-1zm0 0zm0 1zm1 2zm1-5zm9 4zm0-2zm1-3zm1 7zm0-2zm8-5zm8 3zm1 2zm5-4zm2 4zm5 1zm2-3zm0-1zm1-2zm1 7zm1-1zm3-3zm4 0zm0 3zm1 1zm2-2zm1 2zm1 0zm2-7zm2 1zm1-1zm1 4zm4 0zm1-1zm1 4zm0-1zm4-1zm0-4zm1 3zm0-2zm1 1zm0 0zm0-3zm1 7zm1-5zm0 2zm1-3zm0 2zm2 3zm1-1zm1-5zm1 4zm1-2zm0-2zm4 5zm0-5zm0 3zm6-1zm0 1zm1 0zm1-3zm10 1zm2 1zm3 1zm1 1zm0-4zm3 6zm4 1zm7-7zm2 6zm58 9zm-44-2zm-27 2zm-1-2zm-9 0zm-6-1zm0 0zm0-4zm0 1zm-4 0zm-4 2zm-2-3zm-1 2zm-3-1zm-1 4zm-3-4zm-2 3zm-1 0zm-1-1zm-1 1zm-3-2zm-1 5zm-4-4zm-5 0zm-1-1zm-2 0zm-4 1zm0 2zm-4 2zm-7-1zm-4-2zm-2 2zm0 0zm-5-4zm0-2zm0 5zm0 1zm-6 1zm0-3zm-3 0zm-1-2zm0 5zm-7-3zm0 1zm-1-5zm-6 1zm-2 6zm-2-6zm-6 4zm-1-1zm-4-1zm0-3zm-1 0zm0 4zm-6 0zm-5 1zm-1-4zm-1 5zm-9 1zm-2-5zm-1 3zm-9-3zm-2 4zm-4 1zm-2-4zm-1 2zm-4 2zm-3-3zm-10 1zm-1-1zm-11 0zm-5 2zm-4 0zm0-6zm0 5zm-1-2zm-15 4zm-1-6zm-2 1zm-1-1zm-1 1zm-1-1zm-5 3zm-4-3zm-3 5zm-1 0zm-9-4zm-3-2zm-6 3zm-6-3zm-1 4zm-2 0zm-4-4zm-1 2zm-1 2zm-2 2zm-1-2zm-3-3zm-2 0zm-4 5zm0-4zm-3-1zm-1 1zm-1-1zm-1 0zm-1 5zm-1-5zm-1 0zm-1 5zm0-6zm0 3zm-2 2zm-1-5zm-1 1zm0 1zm-2 5zm0-6zm-1 3zm0 2zm-5 0zm-1-6zm-1 7zm-1-4zm0-3zm-1 1zm-1 2zm-1 3zm-1-1zm-1 2zm0-4zm-1 4zm-1-2zm0-5zm-2 3zm-1-2zm-3 3zm-1-4zm-2 4zm0 2zm-1 1zm-1-5zm-2-2zm0 5zm-1-5zm-1 7zm0-1zm0-5zm0 4zm-1-2zm0 1zm-1 1zm0 2zm0-1zm-1-3zm0 4zm0-7zm-2 6zm0-2zm-1 3zm-1 0zm0 0zm-1-2zm0 1zm0 0zm0 1zm0-1zm-1-6zm-1 6zm0-2zm-1 0zm-1 1zm-1 0zm-1-3zm0 4zm0 0zm0-5zm-1 5zm0-4zm-1 1zm0 4zm-1-5zm-1 3zm0-3zm0 3zm0 1zm-3 0zm0-1zm0-1zm0 0zm0 1zm-2 0zm0 1zm-1-6zm0 2zm-1 5zm0-5zm0-2zm-1 7zm0 0zm0-7zm-1 0zm0 7zm-1-5zm-3 4zm0-4zm-2-2zm-2 1zm-4 1zm-1-1zm-1 4zm0-1zm-3-2zm-2 3zm0-1zm0-1zm-2-1zm-2-1zm-1 6zm-1-3zm-1-1zm-1 1zm-16-1zm-3 8zm4 1zm9-3zm2 0zm8-1zm4 6zm0-4zm1 5zm1-7zm0 2zm0-1zm0 2zm1-1zm1 5zm5-6zm1 2zm0 1zm1 0zm1 1zm1-3zm2 0zm4-1zm0 1zm0 2zm1 1zm0-2zm0 3zm1-6zm1 2zm0 3zm0 0zm1-2zm0 4zm1-1zm1-4zm1 3zm0-4zm1 4zm1 2zm1-3zm0-4zm1 6zm0-2zm0 1zm1 0zm1-3zm0 1zm1 1zm1 0zm0 1zm0 1zm0-6zm0 0zm0 4zm1 2zm0-2zm0-3zm0 3zm1-3zm1 3zm0 3zm0-6zm1 3zm0 0zm1 1zm0-4zm0 3zm1 1zm0-3zm0 4zm1-3zm0 1zm0 2zm0-1zm2 1zm1 1zm0-7zm0 5zm1-4zm0 3zm0 2zm0-1zm1 2zm0-7zm1 4zm0 2zm0 1zm1-4zm0 3zm0 1zm1-2zm0-4zm0 0zm1 5zm1-3zm1 4zm1-6zm1 5zm0 1zm1-5zm0 4zm1-2zm0-2zm1 4zm0-4zm1 4zm0-6zm1 7zm1-1zm1-3zm0 0zm1-3zm2 7zm0-4zm1 3zm1 1zm1 0zm0-4zm0 3zm2-2zm2-4zm1 1zm0 6zm0 0zm1 0zm1-5zm0 5zm0-7zm1 6zm5-5zm1 1zm0 3zm0-4zm2 5zm2-3zm3-1zm6-2zm2 3zm1 3zm0 1zm1-2zm1-1zm0-1zm4-2zm2 0zm1 6zm2-1zm3-5zm2 1zm2-1zm3 4zm1-1zm1 1zm0 1zm4 0zm3-4zm0-1zm3-1zm3 1zm5 0zm18-1zm5 1zm3 1zm8 2zm2 3zm1-7zm11 1zm2 4zm1 0zm2-5zm2 6zm9 0zm3-5zm3 4zm2-5zm11 0zm1 5zm3 2zm2-7zm0 3zm1 2zm8-2zm5 4zm7-1zm4-2zm3 2zm9-4zm3 2zm3 2zm0-5zm7 5zm3-4zm4-1zm2 0zm1 3zm0-4zm1 0zm7 0zm5 3zm1 1zm3 1zm5 1zm3-5zm0 0zm1-1zm0 0zm9 6zm2-5zm6-1zm2 2zm2 3zm7 0zm2-5zm13 0zm6 1zm2 3zm1-4zm0 0zm2 7zm11-5zm9 7zm-15 3zm-2-3zm-4 0zm-8 4zm-13-3zm-13 0zm-1 1zm-1 2zm-13-1zm-1-2zm-1 1zm-23-2zm-17 2zm0 0zm-2-3zm-5 0zm-5 1zm-16-1zm-10 7zm-9 0zm-10-3zm-1 3zm-7-3zm-2-4zm0 5zm-2-5zm-2 6zm-2-5zm-3 5zm-1 1zm-2-4zm-2 4zm-8-1zm-1 1zm-1-7zm-1 7zm-3-3zm-2-1zm-2 4zm-4-5zm-1-2zm-1 2zm-4-1zm-2 0zm-1 4zm-1 1zm-6-3zm-1-2zm-4 2zm-2-2zm-7 1zm-5 2zm-1 3zm-2-2zm-1-4zm-1 6zm-3-2zm-1-2zm0-2zm-1 3zm0-4zm0 0zm-1 5zm0-5zm0 5zm-6 2zm-1-1zm-2-4zm-5-2zm0 2zm-2-1zm-7 1zm-1-1zm0-1zm-1 2zm-1 0zm-1 0zm-2 0zm0-1zm-1 5zm0-3zm0 0zm-1-3zm-2 7zm-2-7zm0 7zm-1-6zm-4 6zm0-1zm-1-6zm0 6zm-2-4zm-2 1zm0-2zm0 4zm-3-1zm-1 0zm0-3zm-1 4zm-2-5zm0 4zm0-2zm-1 0zm-2 5zm-1 0zm0-1zm0-2zm0 2zm-1-3zm-1 2zm-1 1zm0-3zm-1-1zm0-2zm0 5zm-1 0zm-1-3zm0-2zm0 7zm-1-5zm0 5zm-1-6zm-1 5zm0 1zm-1-4zm-1 2zm0-5zm0 1zm0 1zm0 5zm0-5zm0 4zm-1 0zm0 1zm-1-4zm-1 2zm0-5zm-1 7zm0-3zm0 2zm-1 0zm0 0zm0-5zm0 4zm-2 1zm0-5zm0-1zm0 1zm-1 0zm0 3zm0-4zm0 2zm0 3zm-1-2zm0 0zm0 4zm0-7zm-1 1zm0 3zm0-4zm0 1zm0-1zm0 1zm0 5zm-1-3zm0 1zm-1-1zm0 0zm0 2zm-1 0zm-1 1zm0 0zm0-1zm-1 2zm0-2zm0-5zm-1 5zm0-3zm0 1zm0 3zm0-5zm-1 4zm0 2zm0 0zm0-3zm0-2zm-1 1zm0 4zm0-7zm0 2zm-1 5zm0-3zm0 1zm0-1zm-1 2zm0-6zm0 5zm0-3zm0-2zm0 0zm-1 3zm0-3zm0 0zm-1 7zm0-2zm0-2zm-1-1zm0 0zm0 4zm0 0zm-1-6zm-1 2zm0 2zm0-4zm-1 0zm0 6zm-1-1zm0-1zm-1 2zm-1-1zm0-4zm0 5zm0-3zm-1 3zm0-6zm0 3zm0 1zm0-3zm-1-1zm0 0zm0 6zm0 1zm-1-3zm0 3zm0-6zm0 0zm-1-1zm0 0zm-1 0zm-1 1zm0 5zm0 1zm-1-2zm0 2zm-1-4zm0 2zm0-3zm0 1zm0 1zm0 3zm0 0zm-1-5zm0 3zm-1-2zm0 0zm0-3zm-2 1zm0 2zm0 2zm0-1zm-1-2zm0 4zm-1 0zm0-1zm0 1zm0-5zm-1 3zm-1-2zm0 0zm-1 0zm-3 0zm-1 0zm0 3zm0 0zm-1-3zm-1 4zm-1-4zm-3 0zm-2 0zm-1 4zm-4-4zm-1 4zm-10 9zm2-7zm5 7zm6-3zm7 0zm5 0zm1-4zm1 5zm0-2zm1-1zm1 3zm0-1zm0-4zm1 1zm1 4zm1 2zm0-5zm1 5zm1 0zm2 0zm0-2zm2-3zm0 3zm0-2zm0-2zm0-1zm0 5zm1 0zm0 1zm0-5zm1 0zm0 5zm0-6zm1 0zm0 0zm0 5zm0-1zm1-1zm0 4zm1-4zm0 0zm0 0zm0 3zm0-4zm0 0zm0 4zm1-3zm0 3zm1 0zm0-1zm1 1zm0-1zm0-2zm0 0zm0 0zm0-3zm1 2zm0 1zm0-2zm1 5zm0-3zm0-2zm0 5zm1-4zm0-2zm0 3zm0 2zm0 2zm0-4zm0 0zm1-2zm0 0zm0 4zm0 1zm1 1zm0-1zm0 1zm1 0zm0-2zm1 2zm0-5zm0 2zm0 1zm0-1zm1 2zm0-3zm0-2zm1 4zm0 0zm1-3zm1 5zm0-4zm0-2zm0 4zm0-1zm0 3zm0 0zm0-2zm0-4zm0 1zm0 4zm1-6zm0 4zm0-3zm0-1zm0 7zm1-5zm0 2zm1 2zm0-5zm0 2zm1 4zm0 0zm1-3zm0-1zm0-3zm0 6zm0 0zm0 1zm0-1zm1 0zm0 0zm0-6zm1 5zm0 1zm0-2zm1 0zm1 3zm0-7zm0 7zm0-5zm0 3zm0 1zm2 0zm0-1zm0-4zm0 1zm0 1zm0 3zm1 0zm0 1zm0-5zm0 3zm1-5zm0 2zm1 2zm0-1zm0 4zm0-7zm0 2zm0-2zm0 6zm0 1zm0 0zm1-3zm0 1zm0 1zm0-5zm0 4zm1-1zm0-3zm0 2zm0 3zm0-1zm1 0zm0-3zm1 1zm0 4zm0 0zm0-2zm0-1zm0-4zm0 4zm1-3zm0 6zm0-2zm0 2zm0-7zm1 1zm0 4zm1-2zm1 0zm0 2zm0-3zm0 2zm0 3zm1-6zm1 3zm0 1zm1-2zm0 1zm0-4zm0 6zm0 0zm1-5zm0 4zm2-3zm0 5zm2-2zm0 0zm0-4zm3 5zm0-3zm1 3zm0-6zm1 1zm0 2zm2-2zm0 3zm1-4zm1 3zm1 0zm0-2zm1 4zm0 1zm2-2zm2-2zm0 0zm4 0zm6 4zm0 1zm0-6zm1 5zm13-4zm2 2zm4-4zm0 7zm2-3zm2-3zm1 1zm0 2zm0 0zm1-2zm1 4zm2-5zm4 4zm0-5zm5 5zm20-2zm1 3zm4-1zm0-2zm7-3zm0 6zm4-3zm3 0zm8 3zm1 1zm0-5zm10 3zm1 1zm1-3zm0-2zm0 4zm7-5zm2 4zm2 1zm3 2zm4-6zm3 1zm5 5zm3-5zm2 5zm6-1zm2 0zm15-5zm4 6zm6-6zm1 0zm4 3zm1-4zm1 0zm8 1zm18 5zm6-3zm32 4zm7-3zm3 0zm-17 4zm-51 6zm-1 0zm-5-3zm-29 1zm-10 1zm-8-3zm-1-2zm-7 5zm0-5zm-2 0zm0 6zm-5 1zm-11-2zm-8-5zm-6 0zm-4 6zm-11 0zm0-5zm-6 1zm-1 4zm-25-3zm0-3zm-4 0zm-2 7zm-7-6zm0 6zm-1-4zm-4-1zm0-2zm0 2zm-1 5zm-3-2zm0-3zm-3 3zm-2-3zm-1 3zm0-5zm-1 5zm-1-3zm-5 0zm-1 1zm-6 2zm0 2zm-1-1zm-1-4zm0 0zm-5 5zm-4-1zm-3 0zm0-3zm0 1zm-1-4zm0 3zm-1-3zm0 4zm0-4zm0 0zm0 0zm0 7zm-1 0zm0-5zm0 3zm-1-3zm-1 4zm-1 0zm0 1zm0-3zm0 0zm-1-4zm0 5zm0-1zm0 1zm-1-4zm0 1zm0 1zm-1-1zm0-2zm0 7zm0-5zm0 0zm-1 1zm0 4zm0-2zm0-1zm0-1zm0 0zm0-2zm0 5zm0-2zm-1 1zm0 0zm0 0zm0-2zm-1-2zm0-1zm0 6zm0-4zm-1 5zm0-4zm0 4zm0-6zm0 4zm-1 2zm0-5zm-1-2zm0 2zm0 2zm-1 2zm0-3zm0-2zm0 3zm0-4zm-1 6zm0-1zm-1 0zm0-1zm-1 3zm0-7zm0 5zm0-4zm-1 4zm0-3zm0 2zm0-3zm0 4zm-1-4zm0 0zm0 1zm0 5zm0-7zm0 5zm-1-2zm0 0zm0 1zm0 0zm0 1zm0-4zm0 5zm-1 0zm0-6zm0 4zm-1-2zm0 2zm0 2zm0-1zm0-3zm0 5zm0-1zm0-5zm-1 4zm0-3zm0 5zm0-2zm-1 2zm0-3zm0 1zm0-4zm-1 1zm0 3zm0-4zm0 3zm-1-2zm0 5zm0-1zm0 1zm0-6zm0 5zm0-3zm0-3zm-1 3zm0-1zm0 3zm0-3zm0 3zm0 2zm0 0zm-1-5zm0-2zm0 5zm0 2zm0-7zm0 7zm0 0zm0-1zm0 1zm-1-4zm0 2zm0 1zm0-1zm0-5zm0 4zm0 0zm0-2zm0-2zm0 5zm-1 0zm0-3zm0 4zm0-5zm0 3zm0 1zm0 2zm-1-4zm0-1zm0-1zm-1 3zm0 2zm0-3zm0 4zm-1-2zm0-1zm0 3zm0-3zm0-2zm0 4zm0 0zm0-4zm-1 5zm0-5zm0 3zm0 0zm0 2zm0-7zm0 1zm-1 2zm0 3zm0-2zm0 0zm0 0zm0-3zm-1 5zm0 0zm0 1zm0-4zm0 4zm0-7zm0 0zm0 1zm-1 2zm0 4zm0 0zm0-6zm0 4zm0 2zm-1-4zm0 4zm0-2zm0-2zm0-2zm0 5zm0-6zm-1 1zm0 6zm0 0zm-1-3zm0-3zm0 6zm0-1zm0-5zm-1 1zm0 2zm-1-4zm0 2zm0 4zm0-3zm-1 0zm0 2zm-1 1zm0 0zm-1 1zm0 0zm-1-1zm0-6zm0 3zm0-3zm0 5zm0 0zm-1-1zm-1-4zm0 7zm-1-3zm0-1zm0-3zm-1 3zm-1 0zm0 4zm-2-4zm0-2zm-2 4zm-1 1zm0-5zm-1 4zm0-2zm0-2zm-2 2zm-3 1zm-5 0zm-2-2zm-1-2zm-15 10zm22 1zm3 1zm1 3zm0-5zm5 0zm0-1zm1 3zm1-3zm1 3zm1-2zm1 2zm0-3zm0-1zm0 2zm1-1zm0 0zm0 0zm0 1zm2 4zm0-3zm1-2zm0 2zm0-2zm0-1zm2 7zm0-1zm1 0zm0-6zm0 0zm0 6zm0 0zm0-4zm0 0zm1 4zm0 0zm0-2zm1 0zm0 3zm0-1zm0-1zm0-5zm0 5zm1-5zm0 4zm0-4zm0 0zm0 4zm1 3zm0-2zm2 2zm0-2zm0-3zm1 2zm0 0zm0-1zm0-1zm0 5zm1-2zm0-3zm0 0zm0-2zm0 5zm0 0zm0 2zm0-3zm0-1zm0 4zm0-2zm0 2zm0-4zm1 4zm0-4zm0 4zm0-5zm0 2zm0 1zm1-4zm0 0zm0 6zm0-5zm0 2zm1-3zm0 3zm0-1zm0-2zm0 2zm0-2zm0 0zm0-1zm1 2zm0 3zm0 0zm0-3zm0-1zm0 5zm0-5zm0 5zm1-2zm0 1zm0 2zm0 0zm0-3zm0 3zm0-2zm0 1zm0-2zm0-4zm0 1zm0 1zm1-2zm0 0zm0 1zm0 1zm0 5zm0-4zm1-3zm0 5zm0-3zm0 3zm0 0zm1-5zm0 6zm0-5zm0 4zm0-5zm0 1zm0 5zm1 1zm0-6zm0 2zm0-3zm0 0zm0 0zm0 1zm0 0zm0 0zm0 0zm1-1zm0 1zm0 6zm0-1zm0 0zm0-1zm0-1zm0-3zm0-1zm0 1zm0 0zm0 4zm0 1zm0-5zm0-1zm0 2zm1 2zm0-1zm0 3zm0 1zm0-2zm0-3zm0 4zm0-1zm0-1zm0 2zm1 0zm0-6zm0 4zm0 0zm0 3zm0 0zm1-2zm0-1zm0-2zm0-2zm0 4zm0 3zm1-5zm0 4zm0 0zm0-4zm0 3zm1-5zm0 5zm0 0zm0 2zm0-6zm0 1zm0 1zm0-2zm1 6zm0 0zm0-1zm0-5zm0-1zm0 3zm0-3zm0 7zm0-4zm0-2zm1 6zm0-2zm0-1zm0-4zm0 2zm0 3zm1 0zm0 2zm0-5zm0 1zm0 3zm0-4zm1 1zm0 3zm0-4zm1 2zm0-1zm1 1zm0 0zm0 2zm0-4zm0-1zm0 2zm0 0zm1-2zm0 6zm0-2zm0 0zm0-3zm0 4zm0 1zm0-5zm1 5zm0-6zm0 6zm0-2zm0-1zm0-4zm0 4zm0-4zm0 2zm1 5zm0-2zm0 0zm0-3zm0 0zm0 4zm1-1zm0 1zm0 0zm0-1zm0 2zm0 0zm0-1zm0-6zm0 1zm0 0zm0 2zm1 3zm0 0zm0 0zm0-3zm0 1zm0 3zm0-2zm1 2zm0 0zm0-5zm0 2zm0 3zm0-5zm0 2zm1 0zm0 2zm0-3zm1 3zm0-5zm0 1zm0-1zm0 1zm0-1zm0 3zm0-3zm2 4zm0-2zm1-1zm0-1zm0 3zm0 2zm2-6zm0 6zm0 0zm1-1zm0-2zm0-2zm1 5zm0 1zm0-5zm1 1zm2 0zm0 0zm0-1zm1 4zm1-1zm2 2zm0-7zm1 6zm2-4zm1 3zm1 0zm5 2zm3-6zm2 1zm3 4zm2-5zm4 5zm1-3zm1-1zm0 5zm3-6zm1 1zm5 2zm1-2zm1 0zm0-1zm2-1zm1 4zm0 1zm3-4zm1 4zm1 0zm14-3zm1-2zm16 2zm6 2zm22-3zm9 5zm4-5zm11 5zm10-3zm17 1zm25 1zm84 0zm29 10zm-37-4zm-114 4zm-2-2zm-1-2zm-15 4zm-1 0zm0-3zm-10 1zm-9-3zm0 4zm-8-3zm-9-2zm-3 4zm-38-2zm-6-1zm-2 4zm-3-3zm-1-3zm-2 2zm-1 1zm0 1zm-2 0zm-2 2zm-3-1zm-2-3zm-2 0zm-1 5zm0-2zm-3 0zm-4-5zm-2 0zm-2 6zm-2-5zm0 4zm0 1zm-1-4zm0-2zm-1 6zm0-4zm-1 1zm0 2zm-1-3zm-1-1zm-1 3zm-1 1zm0-4zm-1 0zm-1-1zm-1 7zm0-5zm-1-1zm-1 2zm0 2zm0-5zm0 1zm-1 1zm0-2zm0 2zm0 1zm0 0zm0 0zm0 1zm-1 0zm0-2zm0 0zm0-2zm0 2zm0 5zm-1 0zm0-3zm0-3zm0 2zm0-1zm-1 0zm0 3zm0 2zm-1-1zm0-2zm0-3zm0 0zm0 5zm0-4zm0 0zm0 4zm0-1zm0-2zm0 4zm0-7zm-1 4zm0-2zm0 3zm0-2zm0-1zm-1-1zm0 6zm0-2zm0-4zm0 6zm0-4zm0-1zm0-1zm0 6zm-1-5zm0-2zm0 2zm0 1zm-1 4zm0-6zm0 6zm0-7zm0 5zm0 0zm0-2zm0 1zm0 1zm0 1zm-1-3zm0 4zm0-1zm0-1zm0 1zm0-6zm0 1zm0 3zm0-3zm0 5zm-1-6zm0 5zm0-5zm0 5zm-1-1zm0 2zm0-6zm0 5zm0-2zm0 2zm0-2zm0-2zm0 5zm0-5zm-1 5zm0-5zm0 3zm0 1zm-1-1zm0-4zm0 4zm0 0zm-1-4zm0 7zm0-2zm0-5zm0 6zm0-2zm0 2zm0-2zm0-4zm0 6zm0-2zm0 0zm0 0zm-1 2zm0 0zm0-4zm0 2zm0-1zm0 1zm0 1zm0 2zm0-3zm-1 2zm0 0zm0 1zm0-2zm0-2zm0 3zm0 0zm0-4zm0 3zm0 0zm0-2zm0-3zm0 1zm0 1zm0 1zm0-1zm0 2zm0 3zm0-6zm0 3zm0-2zm-1-1zm0 0zm0 2zm0-1zm0 2zm0-3zm0 3zm0 0zm0 2zm0-1zm0-4zm0 4zm0-5zm0 4zm0-4zm0 4zm0 0zm-1 2zm0-3zm0-1zm0 1zm0-2zm0 2zm0-3zm0 6zm-1-3zm0-2zm0 2zm0-1zm0 1zm0-2zm-1 4zm0-1zm0 0zm0-4zm0 7zm0-2zm0-2zm0 0zm0-3zm0 3zm0 2zm-1 2zm0-2zm0-5zm0 7zm0-6zm0-1zm0 3zm0-2zm-1-1zm0 4zm0 3zm0-3zm0 2zm0 0zm-1 1zm0-2zm0-1zm0-3zm0-1zm0 5zm0 0zm0-1zm0-1zm0 4zm0-1zm0-4zm0-1zm0 5zm-1 1zm0-5zm0 2zm0 1zm0-1zm0 3zm0-3zm-1-1zm0 3zm0-2zm0 1zm-1 2zm0-7zm0 0zm0 2zm0-1zm0 3zm0 1zm0 2zm0-3zm-1-1zm0-1zm0-2zm0 3zm0-2zm0-1zm0 6zm0-1zm0-5zm0 0zm0 7zm0-1zm0-3zm0 1zm0 2zm0-4zm0-2zm-1 2zm0 2zm0 3zm0-7zm0 7zm0-4zm0-3zm0 5zm0-1zm0-1zm0 2zm-1 1zm0 0zm0-4zm0 5zm0-3zm0 3zm0-7zm0 2zm0-1zm0 6zm0-2zm0 2zm0-2zm0 0zm0-4zm-1 0zm0 4zm0 2zm0-1zm0-2zm0 2zm0-1zm0 0zm0 1zm0-5zm0 0zm-1 3zm0-3zm0 1zm0 4zm0 0zm0-3zm-1 0zm0 0zm0-3zm0 6zm0-5zm0 5zm0-6zm-1 5zm0-5zm0 5zm0-2zm0-1zm-1-2zm0 7zm0 0zm0-7zm0 3zm0 3zm0-6zm0 4zm0-3zm-1 2zm0 0zm0-2zm0 3zm0 0zm0 1zm0-1zm0-4zm0 2zm-1 4zm0-4zm0-2zm0 2zm-1 3zm0 0zm0-2zm0-3zm0 0zm0 5zm0-3zm0 2zm0-4zm0 4zm-1 0zm0 3zm0-4zm0 3zm0-4zm-1-1zm0 2zm0-3zm-1 2zm0 4zm0-1zm0 1zm-1-5zm0 1zm0-1zm0-1zm0 1zm0 5zm-1 1zm0-3zm0-4zm0 0zm0 7zm-1-6zm0 2zm0 3zm0-6zm0 0zm-1 5zm0-4zm-1 5zm0-5zm0 6zm-1-6zm-1 3zm-1-3zm-1 6zm-1-7zm-1 0zm-1 4zm0 0zm0-2zm-1 0zm0-2zm-4 1zm-4-1zm-2 3zm-2-2zm-6 8zm4 0zm4 2zm0 1zm3 0zm6 2zm1 0zm0-1zm2 1zm2-6zm0 3zm1 0zm1 0zm1-3zm1 6zm1 1zm0-7zm0 5zm1-3zm0 1zm2 4zm0-5zm0 5zm0-7zm1 1zm0 5zm0-1zm1-5zm0 4zm0-3zm0 4zm0-3zm1 4zm0 1zm0-1zm1-2zm0-3zm1 6zm0-6zm0 5zm1-6zm0 0zm0 1zm1 1zm0 2zm0 1zm0-2zm0-2zm1 4zm0-5zm0 1zm0 6zm0 0zm0 0zm0 0zm1-4zm0-2zm0 0zm0 4zm0-2zm0-2zm1 4zm0-5zm0 7zm0 0zm0-6zm0 1zm0 1zm0-3zm0 2zm1 5zm0-5zm0 3zm0 2zm0-1zm0 1zm0-1zm0-5zm0 4zm0 0zm1-3zm0 4zm0-1zm0-2zm0 4zm0-6zm0-1zm0 7zm0-5zm0 2zm0-2zm0 0zm1 1zm0 2zm0-3zm0-1zm0-1zm0 2zm0-2zm0 6zm1-6zm0 6zm0 0zm0 1zm0-1zm0-4zm0 1zm0 0zm0 4zm0-2zm1-2zm0 1zm0 1zm0 0zm0 0zm0-5zm0 4zm0 0zm0 0zm0 1zm0-3zm0 0zm0 0zm1 1zm0-2zm0 5zm0-5zm0 6zm0-3zm0 2zm0-1zm0-3zm0 0zm0 1zm0 4zm1-6zm0 1zm0 3zm0-2zm0-2zm0 1zm0-2zm0 6zm0-6zm0 1zm0 0zm0-1zm0 1zm0 3zm0-4zm1 0zm0 5zm0 0zm0-1zm0-4zm0 6zm0-6zm0 3zm0-1zm0 3zm0-4zm0 1zm0 1zm1 1zm0-1zm0 1zm0-2zm0 4zm0 0zm0-4zm0 5zm0-3zm0-2zm0-2zm0 5zm0-4zm0 2zm1-3zm0 3zm0 2zm0-5zm0 1zm0 4zm0-3zm0 4zm0-4zm0-1zm0 2zm0 3zm0-2zm0-4zm0 4zm0-4zm0 3zm0 0zm1-1zm0 2zm0 2zm0 1zm0-7zm0 5zm0 1zm0 1zm0-7zm0 2zm0 0zm0-2zm0 6zm0 1zm0-5zm0 4zm0 1zm0-4zm0 1zm0 1zm1-5zm0 6zm0 0zm0-2zm0 1zm0-1zm0 1zm0-1zm0-1zm0-3zm1 7zm0-3zm0-4zm0 7zm0-3zm0-2zm0 5zm0-2zm0-2zm0 3zm0-3zm0 1zm0 0zm0 0zm0 1zm0-3zm0-2zm0 2zm1-2zm0 0zm0 6zm0-3zm0 4zm0 0zm0-1zm0-4zm0 5zm0-7zm0 6zm0 1zm0-5zm0-1zm0-1zm0 1zm0 6zm0-2zm0 2zm0-3zm0-4zm0 6zm1-4zm0 2zm0-4zm0 1zm0 5zm0-6zm0 2zm0 3zm0 1zm0-2zm0 2zm0-1zm0-3zm0-2zm1 6zm0 1zm0-3zm0-4zm0 2zm0 4zm0 1zm0-3zm0-2zm0-1zm0 6zm0-2zm0 0zm0 0zm0 1zm1 1zm0-1zm0-4zm0 3zm0-4zm0 4zm0-1zm0 0zm0-3zm0 2zm1 4zm0-2zm0 2zm0-5zm0 2zm0-2zm0 3zm0-5zm0 0zm0 5zm0-1zm0-1zm0 4zm0-4zm0 3zm0-4zm0 2zm0-1zm0 1zm0 1zm0 0zm0-3zm0 3zm1-3zm0 3zm0 1zm0 0zm0-2zm0-1zm0 1zm0 3zm0-2zm0-1zm0 0zm0-1zm0 0zm0 3zm0-2zm0-1zm1 1zm0-1zm0 4zm0-7zm0 1zm0 3zm0 1zm0 1zm0 0zm0-6zm0 2zm1 5zm0-7zm0 7zm0-3zm0 3zm0 0zm0-5zm0 4zm0-5zm0 6zm0-5zm0 4zm1-5zm0 5zm0-6zm0 3zm0 1zm0-2zm0 3zm0-3zm1 4zm0-3zm0 2zm0-4zm0 1zm0 5zm0-1zm0-2zm0-4zm0 6zm0-5zm0 1zm0 1zm0-3zm0 6zm0-3zm0 1zm0 2zm1-6zm0 4zm0 3zm0-4zm0 3zm0 1zm0-1zm0-1zm0 0zm0-2zm0 3zm0 1zm0-7zm0 0zm0 7zm0-2zm0-2zm0 2zm0-5zm1 1zm0 3zm0-1zm0 3zm0-3zm0 4zm0-2zm0 0zm0-2zm0 3zm0-5zm0 5zm0 1zm1-5zm0 3zm0 2zm0-1zm0-4zm0 2zm0 2zm0 0zm0-5zm0 6zm1-4zm0 1zm0 2zm0-3zm0-2zm0-1zm0 2zm0 5zm0-4zm0 1zm0 1zm0 1zm0 1zm0-4zm1 3zm0-1zm0-1zm0-3zm0 5zm0 1zm0-7zm0 7zm1-3zm0 0zm0 1zm0 2zm1-2zm0-3zm0 5zm0-5zm0-2zm0 7zm0-3zm0 2zm1 0zm0-1zm0-5zm0 0zm1 1zm0 6zm1-2zm0-2zm0 4zm1 0zm0-7zm0 5zm0 2zm0 0zm1 0zm0 0zm0-4zm0 1zm0 2zm1 0zm0-4zm0-2zm1 6zm1-5zm1 2zm0 1zm0-1zm0-3zm1 5zm0-1zm1-2zm0-2zm0 5zm1 0zm0-5zm2 6zm2 0zm1-5zm1 3zm0 0zm2 2zm1-3zm1-2zm0-1zm10 0zm4 0zm0 4zm4 3zm0-2zm0-1zm1-3zm2 1zm0 0zm1 3zm3-5zm0 3zm8 4zm10-3zm22 1zm4-2zm11 0zm17 4zm1-4zm17 0zm68 6zm-54 1zm-14 1zm-1 1zm-12-1zm-25 1zm-47-3zm0 2zm-3 2zm-1 0zm-2 0zm-1-3zm-1 0zm0 5zm-1 0zm-2-2zm0-5zm0 5zm-1-1zm0 0zm0 2zm-2 1zm0-2zm0 1zm-2-3zm0 0zm-1 2zm-1 0zm-5 2zm-2-3zm-2 2zm-1 1zm-1-1zm-1-3zm0 4zm0 0zm-2-3zm-1-3zm-1 6zm0-4zm0 3zm-1 0zm0-5zm-1 6zm0-5zm0-2zm-1 7zm-2-2zm0-4zm0 3zm-1 0zm0-3zm0 4zm-1 2zm0-4zm0 3zm-1-5zm0 6zm-1-4zm0 3zm0-2zm0 1zm0-4zm0 0zm0 1zm-1-1zm0 0zm0 0zm0 5zm0-6zm0 1zm-1 4zm0-2zm0 2zm0 2zm0-2zm0-3zm0-2zm0 7zm0-2zm-1-4zm0 5zm0-3zm0 0zm0 4zm0-3zm0 3zm0-7zm0 7zm-1-4zm0 3zm0 0zm0-2zm0-1zm0 4zm0-2zm0 1zm0-4zm0-2zm-1 2zm0 5zm0-4zm0 4zm0-2zm-1 0zm0-5zm0 3zm0 4zm0-7zm0 7zm0-1zm-1-2zm0-2zm0 5zm0 0zm0-5zm0 4zm0 0zm0-1zm-1 2zm0-1zm0-1zm0-3zm0 4zm0-6zm0 4zm0 2zm0-4zm0 5zm0-5zm0 4zm0 0zm0-6zm0 6zm0-5zm0-1zm-1 5zm0-1zm0-4zm0 5zm0-1zm0-4zm0 0zm0 3zm0 4zm0-4zm0-3zm0 2zm-1 3zm0 1zm0-5zm0 6zm0-5zm0 3zm0-5zm0 1zm0 3zm0 3zm0-1zm0-5zm0 0zm0 0zm0 2zm0 3zm0 1zm0-5zm0 1zm0 0zm-1-3zm0 0zm0 5zm0 1zm0-5zm0-1zm0 7zm0-4zm0 4zm0-7zm0 4zm0 3zm0-6zm0 3zm0-3zm0 6zm0-2zm0-4zm-1 6zm0 0zm0-5zm0 4zm0 0zm0 0zm0-3zm0 3zm0 0zm0 0zm0-1zm0 0zm0-4zm0 3zm0-3zm0 0zm0 0zm0 6zm0-2zm-1-3zm0 1zm0-3zm0 5zm0-1zm0 2zm0-2zm0 3zm0-2zm0 1zm0-4zm0 0zm0 1zm0 3zm0-2zm0-3zm0 6zm-1 0zm0-5zm0 4zm0 0zm0-3zm0-1zm0 4zm0-4zm0-1zm0 5zm0-2zm0-3zm0 5zm0 1zm0-4zm0-3zm0 4zm0 1zm0 1zm0-3zm0-1zm0 3zm0-2zm-1 3zm0-1zm0-2zm0 3zm0-4zm0 1zm0 0zm0 4zm0-7zm0 2zm0 1zm0 2zm0 0zm0 2zm0-3zm0-4zm0 2zm0 3zm0 1zm0-3zm0 3zm0-4zm0 3zm0-5zm0 6zm-1-1zm0-3zm0-1zm0 5zm0-1zm0-1zm0-3zm0 2zm0 0zm0-1zm0 3zm0-3zm0 2zm0 1zm0-2zm0 3zm0-1zm0-2zm0-2zm0 0zm-1 6zm0-7zm0 0zm0 4zm0 0zm0 0zm0-1zm0-3zm0 0zm0 3zm0-2zm0 6zm0-4zm0 4zm0-2zm0-3zm0-2zm0 3zm0 0zm0 4zm0-4zm0 4zm0-2zm0-5zm0 0zm-1 0zm0 7zm0-2zm0-3zm0-1zm0 4zm0 2zm0-2zm0-1zm0-1zm0-2zm0 6zm0-7zm0 6zm0 0zm0-1zm0-5zm0 2zm0 3zm0 2zm0-4zm0-2zm0 3zm-1-3zm0 3zm0 0zm0-2zm0-1zm0 3zm0-1zm0 4zm0-1zm0 0zm0-4zm0 0zm0 2zm0 2zm0-5zm0 6zm0-2zm0 2zm0-2zm0-5zm0 6zm0-1zm0-5zm0 5zm0-3zm0-2zm-1 5zm0 0zm0 2zm0-1zm0 0zm0-1zm0-2zm0 3zm0 0zm0-1zm0-1zm0-3zm0 1zm0 2zm0-1zm0-3zm0 2zm0-2zm0 3zm0 4zm0-1zm0 1zm0-5zm-1 4zm0-3zm0 3zm0 1zm0-2zm0 2zm0-1zm0-4zm0 2zm0 1zm0-4zm0-1zm0 3zm0 3zm0-3zm0-1zm0 2zm0 1zm0-3zm0 4zm0-2zm0-1zm0 2zm0-5zm0 4zm-1 1zm0-2zm0 4zm0-4zm0 4zm0-1zm0 0zm0-5zm0 0zm0 6zm0-3zm0 0zm0 3zm0 0zm0 0zm-1-1zm0-4zm0 4zm0 1zm0 0zm0-5zm0 0zm0 5zm0-6zm0 3zm0 2zm0-1zm0 1zm0 1zm0-5zm0-2zm0 4zm0 1zm0 2zm0-7zm0 1zm0 1zm-1 0zm0 5zm0-4zm0 1zm0-2zm0-2zm0 0zm0 0zm0 5zm0 0zm0-2zm0 1zm0-1zm0 1zm0-3zm0 1zm0-2zm0 4zm0 1zm0 2zm0-3zm0-1zm0 2zm0 1zm0 0zm0-2zm0-2zm0 5zm-1-1zm0-4zm0 3zm0-3zm0-2zm0 3zm0-1zm0 5zm0-1zm0-2zm0-1zm0 4zm0-1zm0-1zm0-4zm0 1zm0 1zm-1-2zm0-1zm0 2zm0 4zm0-1zm0 1zm0-3zm0 3zm0-5zm0 5zm0 1zm0-3zm0-2zm0 0zm0 0zm0-2zm0 7zm0-6zm0 1zm-1 4zm0-1zm0-2zm0-2zm0 4zm0-2zm0 2zm0-5zm0 4zm0-1zm0 4zm0-7zm0 7zm0-3zm0-3zm0 2zm0 2zm-1-1zm0 3zm0-3zm0 2zm0 0zm0-5zm0 3zm0-4zm0 1zm0 2zm0 1zm0 2zm0 0zm0-2zm0-4zm-1 1zm0 0zm0 6zm0-1zm0 0zm0-5zm0 3zm0 2zm0 1zm0-3zm0-1zm0 2zm0 1zm0 1zm0-7zm0 1zm0 5zm0-1zm-1 1zm0-5zm0 5zm0 1zm0-2zm0-1zm0-3zm0-1zm0 1zm0 0zm0 1zm0 2zm0 1zm-1-1zm0-1zm0-1zm0-2zm0 6zm0 1zm0-5zm0 2zm0-2zm0-2zm0 1zm0 6zm0-2zm0-4zm0 5zm-1-5zm0 4zm0-5zm0 0zm0 0zm0 4zm0 3zm0-3zm0 0zm0-1zm0 2zm0-4zm0 5zm-1-1zm0-2zm0 2zm0-2zm0 2zm0 1zm0-3zm0 2zm0-3zm0 1zm0-3zm0 7zm0-3zm0 1zm0-3zm0 5zm-1-1zm0-2zm0-2zm0-1zm0 0zm0-1zm0 2zm0 0zm0 4zm0-3zm0 0zm-1-3zm0 0zm0 4zm0-4zm0 5zm0-1zm0 2zm0 0zm0-5zm0 0zm-1 4zm0-4zm0 5zm0-1zm-1-5zm0 0zm0 0zm0 2zm0 4zm0-2zm-1 0zm0 1zm0-3zm-1-2zm0 1zm0 6zm0-2zm0 0zm0-5zm0 1zm-1-1zm0 6zm0-6zm0 2zm0 0zm0 2zm0 1zm-1 0zm0-1zm0-4zm-1 3zm0-3zm0 0zm-1 4zm-1 1zm-2-4zm-1 3zm0-1zm0 1zm0-1zm-1-2zm0 1zm-1 0zm-1-1zm0-1zm-1 0zm-2 4zm0-2zm-6 1zm-5-1zm-13 11zm13 0zm8 2zm6-6zm1 6zm1-2zm1-5zm0 6zm2-1zm2-1zm0-2zm1 4zm0-2zm0 2zm0 0zm1-3zm0 3zm1-2zm0 0zm0 2zm0-2zm1 1zm0 1zm0-3zm0 1zm1 1zm1-3zm0 4zm1-4zm0-2zm0 3zm0-2zm0 3zm0 3zm0-4zm1-1zm0 4zm0-4zm0 3zm0 2zm1-5zm0 0zm0 4zm1 0zm0-5zm0 3zm0 0zm0 1zm0 1zm0-2zm0-3zm0-1zm0 5zm1-2zm0-2zm0 6zm0-2zm0-4zm0 6zm0-4zm0 2zm0 2zm0-5zm0 2zm1 0zm0-1zm0-3zm0 0zm0 2zm0-2zm0 1zm1 6zm0-4zm0 0zm0-2zm0 1zm0-2zm0 0zm0 1zm0 2zm0-2zm0 5zm0-5zm0 4zm1-4zm0 2zm0 1zm0 3zm0-6zm0 0zm0 4zm0-3zm0 2zm0-1zm0 2zm0-3zm0 3zm0 1zm1-6zm0 3zm0-1zm0 2zm0 2zm0-5zm0 4zm0-1zm0 3zm0-6zm0 4zm0-5zm0 1zm1 0zm0 1zm0 4zm0-1zm0-1zm0-4zm0 2zm0 3zm0-1zm0-3zm0 3zm0-2zm0-2zm0 4zm1-4zm0 7zm0-7zm0 0zm0 0zm0 7zm0-3zm0-3zm0 3zm0 0zm0 2zm0 1zm0-1zm0-6zm0 4zm0-1zm0-3zm0 4zm1-3zm0 3zm0 1zm0 1zm0 1zm0 0zm0-4zm0 0zm0-2zm0 4zm0-4zm0 5zm0 0zm0-3zm0-3zm0 0zm1 3zm0 1zm0 2zm0 1zm0-2zm0-1zm0 1zm0 1zm0-4zm0-1zm0 5zm0-2zm0-4zm0 2zm0 0zm1 0zm0 4zm0 1zm0-2zm0-1zm0-4zm0 4zm0 0zm0 2zm0 0zm0 0zm0-6zm0 2zm0 4zm0-6zm0 4zm0-3zm0 5zm0-4zm0 2zm1 3zm0-3zm0 0zm0 2zm0-4zm0 3zm0-1zm0-1zm0-3zm0 5zm0 2zm0-3zm0 1zm0 0zm0-2zm0-3zm0 6zm0-1zm0-2zm1 0zm0 0zm0 0zm0 2zm0 2zm0-6zm0 5zm0 1zm0-5zm0 0zm0 1zm0 4zm0 0zm0-2zm0-1zm0 3zm0-5zm0 3zm0 1zm0-5zm0-1zm0 3zm0 1zm0 0zm0 0zm0-1zm0 3zm0-2zm0-3zm0 2zm0 2zm0-2zm1 1zm0-4zm0 2zm0 0zm0 3zm0 0zm0-2zm0 4zm0-2zm0-2zm0-3zm0 6zm0-5zm0 2zm0 1zm0-3zm0 6zm0-1zm0 0zm0-2zm0 2zm0-1zm0 1zm0 0zm0 1zm0-4zm0 3zm0-5zm0-1zm0 4zm0-4zm0 6zm0-5zm0 5zm1-2zm0 2zm0 0zm0-6zm0 7zm0-5zm0-1zm0 1zm0 3zm0-4zm0 1zm0 5zm0-2zm0 0zm0 1zm0-5zm0 0zm0 3zm0 1zm0-2zm0-1zm0 2zm0 2zm0-5zm1 4zm0-3zm0 3zm0-2zm0-3zm0 4zm0 0zm0-1zm0 2zm0 2zm0-2zm0 2zm0 0zm0-6zm0 0zm0 0zm0 1zm0-1zm0 2zm0-1zm0 5zm0-4zm0 0zm0 0zm0-1zm0-2zm0 7zm0-7zm0 7zm0-7zm1 4zm0-3zm0-1zm0 7zm0-5zm0 3zm0-1zm0-1zm0-2zm0 0zm0 0zm0 0zm0 4zm0-4zm0 1zm0 2zm0 3zm0 0zm0-6zm0 3zm0 1zm0-4zm0 3zm0-4zm0 2zm0 4zm0-3zm0 2zm0 0zm0 2zm0-2zm0-4zm0 4zm0-3zm0 1zm1-1zm0 4zm0-5zm0 5zm0-2zm0-4zm0 5zm0-1zm0-1zm0-3zm0 2zm0 2zm0-4zm0 2zm0 0zm0 3zm0-4zm0 0zm0 1zm0-1zm0-1zm0 3zm0-1zm0 4zm0-6zm0 0zm0 3zm0 2zm0 1zm0-2zm1-3zm0 6zm0-5zm0 4zm0-4zm0-2zm0 6zm0 0zm0 1zm0-5zm0 0zm0-1zm0 2zm0-3zm0 6zm0-2zm0-3zm0 2zm0-2zm0 4zm0 1zm0-6zm0 2zm0 2zm0 3zm1-1zm0-1zm0-3zm0 4zm0-5zm0 0zm0-1zm0 3zm0 3zm0 1zm0 0zm0-6zm0 3zm0-4zm0 1zm0 6zm0 0zm0 0zm0-5zm0 4zm0 1zm0-6zm0-1zm0 2zm0 3zm0-1zm0-4zm0 7zm0-6zm1 3zm0 1zm0-2zm0-3zm0 3zm0 2zm0 1zm0-4zm0 1zm0 2zm0-5zm0 6zm0-2zm0 0zm0-2zm0 0zm0 2zm0-1zm0 2zm0-2zm0-2zm0 3zm0-2zm0 3zm0-3zm0 3zm0-5zm0 4zm1-3zm0 3zm0 0zm0 0zm0-1zm0 2zm0-2zm0-3zm0 6zm0-2zm0 3zm0-2zm0-1zm0 3zm0-4zm0 1zm0 2zm0 0zm0-1zm0 2zm0-5zm0 5zm0-5zm0 3zm0 2zm0-1zm0 1zm1-4zm0-1zm0-2zm0 6zm0 0zm0-2zm0 2zm0-3zm0-3zm0 5zm0 0zm0-2zm0 0zm0 0zm0 4zm0-4zm0 4zm0-2zm0 1zm0-5zm0 6zm0 0zm0-3zm0-2zm0 4zm0-5zm0 2zm1-3zm0 6zm0 0zm0 0zm0-2zm0 1zm0 1zm0 0zm0-1zm0-3zm0 1zm0-3zm0 4zm0 1zm0 1zm0 1zm0-4zm0-1zm0-2zm0 2zm0 2zm0-2zm0 3zm1-2zm0 0zm0-3zm0 0zm0 4zm0 0zm0 3zm0-1zm0-2zm0-2zm0-1zm0 3zm0 2zm0-5zm0 0zm0 0zm0 1zm0-1zm0 4zm0 1zm0 0zm0-3zm0 1zm0-4zm0 2zm0 5zm0-3zm0-4zm0 1zm1 1zm0 2zm0 3zm0-3zm0-4zm0 2zm0 5zm0-6zm0 1zm0-2zm0 7zm0-2zm0-2zm0 1zm0-3zm0 5zm0 0zm0-5zm0 3zm0-3zm0 0zm0 6zm0-7zm0 1zm1 2zm0 0zm0-2zm0 6zm0-2zm0-3zm0-1zm0 0zm0 1zm0-1zm0 4zm0-2zm0 4zm0-3zm0 2zm0-6zm0 2zm0 4zm0-3zm0 2zm0-2zm0-1zm0 3zm0-2zm0 3zm0 1zm0-3zm1 2zm0 1zm0-1zm0-2zm0 2zm0-1zm0 2zm0-6zm0 6zm0-1zm0-6zm0 1zm0 3zm0-3zm0-1zm0 2zm0-1zm0 3zm1 0zm0 0zm0 0zm0 1zm0 2zm0 0zm0 0zm0-7zm0 7zm0-2zm0-2zm0 1zm0-1zm0 0zm0-2zm0 6zm0-6zm0-1zm1 4zm0-4zm0 2zm0 4zm0-6zm0 1zm0 2zm0-2zm0 6zm0 0zm1-7zm0 1zm0 3zm0 1zm0-3zm0 2zm0-2zm0-2zm0 3zm0 0zm0-3zm0 0zm0 0zm0 2zm1 1zm0 1zm0 3zm0-3zm0-1zm0-1zm0 0zm0 1zm0 4zm0-5zm0 1zm0 0zm0 1zm0-2zm0 1zm1-3zm0 7zm0-3zm0-1zm0 2zm0-2zm0 0zm0 0zm0 3zm0 1zm0-7zm0 7zm0-3zm0 0zm1 1zm0 2zm0-6zm0 6zm0-5zm0 5zm0-2zm0-1zm0-3zm0 5zm0-4zm0 1zm1-1zm0-2zm0 6zm0-6zm0 4zm0 2zm0-6zm0 4zm0-3zm0 2zm1 1zm0 0zm0-1zm0 4zm0 0zm0-5zm0 1zm0 1zm0-3zm1-1zm0 3zm0 0zm0 2zm0 0zm0-2zm0 1zm0-4zm1 5zm0 0zm0-4zm0 4zm0-1zm0-3zm0 3zm1-1zm0 2zm0 0zm0-5zm0 0zm0 5zm1 1zm0-6zm1 3zm0 3zm0-6zm0 4zm1 2zm0-6zm1 2zm0-1zm1 2zm0-3zm1 7zm0-1zm0-1zm1 0zm1-3zm3 1zm0 3zm0-2zm5-4zm3 1zm1 5zm2-2zm0 1zm0 1zm0 1zm1-4zm0 3zm1-2zm0-1zm1 4zm0-6zm1 4zm0-5zm0 0zm0 4zm0-1zm0 2zm0-3zm0 1zm0-2zm1 5zm0-5zm0 6zm0-4zm0 1zm1-4zm0 0zm0 7zm0-5zm0 4zm0 1zm1-2zm0-3zm0 4zm0-2zm0 1zm0-2zm0 2zm1-4zm0-1zm1 3zm0 1zm0-3zm1 4zm0-5zm0 4zm0 3zm1-1zm0-4zm0 2zm0-4zm0 1zm0 3zm1-1zm0 2zm0 2zm3-1zm1-2zm18-2zm19-1zm8 1zm2 3zm8-2zm37 10zm-70-2zm-11-3zm-9 7zm-1 0zm-1-5zm-2 3zm0 0zm0 2zm0 0zm-1 0zm0 0zm0-4zm0-1zm0 3zm0 2zm-1-1zm0-6zm-1 0zm0 5zm0 2zm0-4zm0 2zm0 2zm0-2zm-1-3zm0 0zm0-1zm0-1zm0 7zm0-4zm0 3zm0 1zm-1-6zm0 6zm0-2zm0 0zm0-2zm0 4zm0-7zm0 7zm0-5zm0 1zm0 0zm0 3zm0-3zm0 0zm-1 0zm0-3zm0 3zm0 1zm0-4zm0 0zm0 1zm0 6zm0-1zm0-2zm0-4zm0 5zm0 1zm0-5zm0 2zm0 3zm0-6zm0 0zm0 6zm0-1zm-1-1zm0 0zm0-4zm0 4zm0 3zm0-4zm0 1zm0-3zm0 1zm0 5zm0 0zm0 0zm-1-3zm0-1zm0-1zm0 3zm0-2zm0 3zm0-1zm0-3zm0 0zm0 0zm0-1zm0 2zm0 4zm0-7zm-1 4zm0 2zm0-5zm0 6zm0 0zm0-6zm0 3zm0 1zm0 2zm0 0zm0-2zm0-3zm0 3zm-1 0zm0-4zm0 0zm0-1zm0 1zm0-1zm0 1zm0 6zm0-7zm0 5zm-1 2zm0-4zm0-1zm0 4zm0-3zm0 4zm0 0zm-1-4zm0 3zm0-5zm0-1zm0 7zm0-2zm0-2zm0 0zm-1 2zm0-2zm0 1zm0 1zm0-3zm0-1zm-1 4zm0-1zm0-1zm0 1zm-1 3zm0-6zm0 4zm0-2zm-1 4zm-1-4zm-3 0zm-1 0zm-2 4zm0-5zm-5 5zm-2 0zm0-6zm-1-1zm0 3zm0 0zm-1-1zm0 4zm0-1zm0-3zm-1 2zm0 0zm0-2zm-1 4zm0-3zm0 2zm0 1zm0 0zm0-5zm-1 5zm0-6zm-1 0zm0 3zm0 3zm0-6zm0 7zm0-5zm0-1zm-1-1zm0 5zm0 0zm0 1zm-1-6zm0 5zm0 0zm0 2zm0-2zm0-4zm0 4zm-1-5zm0 4zm0-4zm0 4zm0-3zm0 0zm0 6zm0-4zm0 1zm0 3zm0-4zm0-1zm0 1zm0 1zm0 2zm0-1zm0-4zm0 5zm0 1zm-1-6zm0 1zm0 1zm0 0zm0-1zm0-2zm0 1zm0 5zm0-5zm-1 4zm0-1zm0-1zm0 1zm0-4zm0 5zm0 2zm0-2zm0-2zm0 2zm0 1zm0-1zm0-2zm0-2zm0 0zm0 5zm0-5zm0 2zm0 0zm0-3zm0 0zm-1 2zm0-2zm0 3zm0-3zm0 0zm0 5zm0-1zm0 0zm0-4zm0 7zm0-1zm0-1zm0-2zm0 0zm0-1zm0 0zm0 4zm0 0zm0-3zm0 0zm-1-1zm0 2zm0-1zm0 3zm0 1zm0-7zm0 5zm0-1zm0-1zm0 1zm0 2zm0-1zm0-5zm-1 7zm0-4zm0 4zm0-2zm0 2zm0-3zm0 3zm0-7zm0 3zm0 1zm0 3zm0-4zm0-3zm0 0zm0 4zm0-4zm0 6zm0-3zm0 0zm0-2zm0-1zm-1 4zm0 3zm0-5zm0-2zm0 7zm0-6zm0 1zm0 2zm0 1zm0 0zm0 2zm0-2zm0-1zm0-2zm0 1zm0 3zm0 1zm0-2zm0-2zm0 2zm-1-3zm0-2zm0 6zm0-6zm0 0zm0 1zm0 5zm0 0zm0 0zm0-6zm0 3zm0-2zm0 0zm0 4zm0 0zm0-1zm0 2zm0-4zm0 4zm0 1zm0-6zm0 4zm0-5zm0 1zm0 4zm-1 0zm0-3zm0 3zm0-3zm0 2zm0 0zm0-4zm0 4zm0-2zm0 3zm0 0zm0 2zm0-1zm0 0zm0 0zm0-5zm0 1zm0-1zm0 5zm0 1zm0-4zm0-2zm0-1zm0 3zm0 4zm0-5zm0-2zm0 6zm0-1zm0-2zm-1-1zm0-1zm0 3zm0-4zm0 5zm0 0zm0 0zm0-2zm0-2zm0-1zm0 2zm0 5zm0-5zm0-2zm0 0zm0 5zm0 1zm0-2zm0-3zm0 4zm0-3zm0 0zm-1 0zm0-1zm0 4zm0-1zm0 3zm0-2zm0-2zm0-1zm0 0zm0 5zm0-2zm0 2zm0-3zm0 1zm0-1zm0 0zm0-3zm0 6zm0-4zm0-3zm0 3zm0-2zm0 0zm0 2zm0-2zm0 2zm0 1zm0 2zm0-1zm0-5zm0 6zm0-3zm0 3zm0-5zm0 5zm0 1zm0-5zm-1-1zm0-1zm0 3zm0 1zm0 0zm0-4zm0 2zm0 5zm0-4zm0 3zm0-4zm0 2zm0-1zm0 2zm0 1zm0 1zm0-7zm0 0zm0 7zm-1-2zm0 0zm0 2zm0-5zm0 0zm0 4zm0-5zm0-1zm0 2zm0 5zm0-1zm0-1zm0-4zm0 1zm0 3zm0 0zm0-2zm0 1zm0-1zm0 4zm0-3zm0 3zm0-2zm0-1zm0-4zm0 2zm0 2zm0-3zm-1 4zm0-4zm0 6zm0-6zm0 6zm0-4zm0 1zm0-1zm0-3zm0 0zm0 2zm0 3zm0-5zm0 4zm0 0zm0-1zm0 4zm0 0zm0-1zm0-4zm0 5zm0-2zm0-5zm0 5zm0 0zm0 0zm0 0zm0 2zm0-5zm0-2zm0 7zm0-4zm-1 1zm0-2zm0 4zm0-4zm0 1zm0 4zm0-2zm0-2zm0-1zm0 2zm0-2zm0-1zm0 3zm0 0zm0 3zm0-2zm0-1zm0 3zm0-3zm0 3zm0-6zm0 1zm0 0zm0-2zm0 2zm0-1zm0 2zm0 2zm0-1zm0 1zm0-3zm0 0zm0 3zm0-4zm-1 1zm0-1zm0 3zm0 2zm0-6zm0 4zm0-1zm0 4zm0-3zm0 1zm0 2zm0-3zm0-2zm0 0zm0-2zm0 0zm0 2zm0 2zm0 2zm0 0zm0-6zm0 4zm0 0zm0-4zm0 7zm0-2zm0-1zm0-2zm0 4zm-1 0zm0-6zm0 5zm0-3zm0 5zm0-7zm0 0zm0 5zm0-5zm0 7zm0-6zm0 0zm0 4zm0-5zm0 3zm0-2zm0 3zm0 3zm0-4zm0-1zm0-2zm0 1zm0 2zm-1 1zm0-4zm0 2zm0 1zm0 2zm0 0zm0-1zm0-2zm0-2zm0 4zm0 1zm0-3zm0 3zm0-3zm0-1zm0-1zm0 4zm0-3zm0 2zm0-3zm0 0zm0 2zm0 1zm0 0zm0 3zm0 1zm0-3zm-1-3zm0 0zm0-1zm0 5zm0 2zm0-5zm0-1zm0 4zm0 2zm0-4zm0 2zm0-3zm0 1zm0 4zm0-5zm0 0zm0 4zm0-6zm0 0zm0 1zm0 1zm-1 2zm0 1zm0-3zm0 4zm0-2zm0-4zm0 4zm0 2zm0 1zm0-4zm0-2zm0 2zm0 2zm0-2zm0 2zm0-4zm0 6zm0 0zm0-5zm0-1zm0 5zm0 0zm0-4zm0 2zm0-2zm0 4zm0-2zm0-3zm0-1zm0 0zm-1 7zm0-6zm0 2zm0 3zm0-5zm0 5zm0-3zm0-2zm0 1zm0 5zm0 0zm0-6zm0 6zm0-7zm0 1zm0 5zm0-3zm0 2zm0 1zm0-4zm0-1zm0 3zm0-1zm0 4zm0-7zm-1 4zm0-2zm0 4zm0-2zm0 0zm0 0zm0 1zm0-1zm0 3zm0 0zm0-4zm0-3zm0 5zm0-5zm0 7zm0-6zm0 6zm0-7zm-1 3zm0-3zm0 5zm0 1zm0-1zm0-2zm0 1zm0-3zm0 3zm0-2zm0 2zm0 0zm0 3zm0-4zm0-3zm0 3zm0-3zm0 6zm0-6zm0 3zm0-1zm0-2zm0 2zm-1 4zm0-4zm0-2zm0 7zm0-4zm0 2zm0-5zm0 7zm0-4zm0-1zm0-2zm0 7zm0-5zm0 2zm0 1zm0-3zm0-2zm0 1zm-1 1zm0 3zm0-3zm0 0zm0 0zm0 1zm0 3zm0-3zm0 1zm0-1zm0-2zm0 0zm0-1zm0 3zm0-1zm0 2zm0-1zm0 0zm0 1zm0-3zm0 3zm0-4zm0 0zm-1 0zm0 0zm0 4zm0-3zm0 6zm0-5zm0 1zm0-1zm0-2zm0 1zm0 3zm0-3zm0 4zm0-2zm0-1zm0-1zm-1 6zm0-3zm0 0zm0-3zm0 0zm0 2zm0 3zm0-2zm0-4zm0 6zm0-5zm0 1zm0-1zm0 3zm-1 0zm0-4zm0 4zm0 2zm0-5zm0 5zm0-6zm0 5zm0 0zm0-1zm0-4zm0 5zm0-3zm0 3zm-1-3zm0-2zm0 0zm0 4zm0-3zm0 2zm0 1zm0-1zm0-2zm0-1zm0 3zm0 1zm-1-4zm0 4zm0 3zm0 0zm0-3zm-1-3zm0 1zm0 3zm0-1zm0-4zm0 0zm0 2zm0 4zm0-3zm-1 2zm0-3zm0-2zm0 5zm-1-3zm0 1zm0-2zm0 1zm0-2zm0 5zm-1 0zm0-2zm0-2zm0 1zm-1-1zm0 1zm0-1zm0 4zm0-3zm-1 0zm0 0zm-1 0zm0-1zm0 3zm0-2zm0 3zm-1 0zm0-5zm0 2zm0 1zm0-2zm0 3zm-1-4zm0 0zm-1 1zm-1 5zm-1-2zm-1-2zm-1 2zm0 3zm-1-7zm-1 7zm-1 0zm-6-5zm6 8zm4 5zm2-6zm1 2zm1-1zm3-2zm3 4zm0 0zm0-2zm1-2zm1 3zm0 3zm0-2zm0 0zm0-4zm1 7zm0-3zm0 2zm0-3zm0 3zm0 0zm0-5zm1 1zm0 3zm0-3zm0-2zm0 0zm0 1zm1 5zm0-5zm0 4zm0 2zm1-2zm0-3zm0 4zm0-5zm1-1zm0 0zm0 0zm0 2zm0 0zm0 0zm1-1zm0 3zm0-4zm0 2zm1-1zm0 3zm0 3zm0-6zm0 3zm1 2zm0-6zm0 6zm0 1zm0 0zm0 0zm0-4zm0 1zm0-1zm0 1zm0-1zm1 3zm0 1zm0-7zm0 0zm0 2zm0 5zm0-4zm0-1zm0 1zm0 0zm0-2zm0 2zm0-1zm0 0zm0 1zm0 3zm1-2zm0-3zm0 4zm0 2zm0-3zm0 1zm1-4zm0 5zm0-1zm0-2zm0 2zm0-5zm0 1zm0 1zm1 4zm0 0zm0-5zm0 6zm0-3zm0-3zm0 0zm0 4zm0-5zm0 7zm0-2zm0-2zm0 1zm0 3zm0-2zm0 0zm0-5zm0 7zm0-2zm0-5zm0 1zm0 6zm0-4zm0 2zm0-5zm0 0zm0 1zm1 4zm0-1zm0-3zm0 1zm0 4zm0-4zm0 0zm0-2zm0 0zm0 1zm0-1zm0 3zm0 0zm0 4zm0-2zm0-5zm0 4zm1 3zm0-4zm0 4zm0-5zm0 1zm0-3zm0 4zm0 0zm0-2zm0 1zm0-2zm0 3zm0-3zm0 3zm0-2zm0 1zm0-3zm0 3zm1 4zm0-4zm0-1zm0-2zm0 2zm0 0zm0 3zm0 1zm0-4zm0 4zm0-4zm0 3zm0-1zm0 0zm0-1zm0-2zm0 0zm0 4zm0-3zm0-1zm1 1zm0 4zm0-2zm0 1zm0 2zm0-3zm0 0zm0-2zm0 5zm0-2zm0-2zm0 1zm0 1zm0-1zm0 1zm0-3zm0 0zm0-1zm0 2zm0 4zm1-3zm0 1zm0-1zm0 0zm0-1zm0 4zm0-3zm0 1zm0-4zm0-1zm0 2zm0 0zm0 3zm0 1zm0-1zm0-1zm0-4zm0 0zm0 7zm0-3zm0-2zm0 1zm1 3zm0-4zm0-1zm0 4zm0-1zm0-1zm0 3zm0-4zm0-1zm0 0zm0 2zm0 3zm0 0zm0-5zm0 2zm0-2zm0 3zm0-3zm0-1zm0 0zm1 3zm0 3zm0-5zm0 3zm0-2zm0 5zm0-1zm0 1zm0 0zm0-3zm0-1zm0 2zm0-5zm0 4zm0-3zm0 4zm0 1zm0-6zm0 6zm0 0zm0 1zm0 0zm0-6zm0 3zm0 3zm0-1zm0 1zm0-3zm0-4zm0 3zm1-2zm0 2zm0-1zm0 0zm0 4zm0-2zm0-2zm0 2zm0 2zm0-1zm0-1zm0-3zm0 2zm0-2zm0 0zm0 3zm0-4zm0 4zm0 1zm0-2zm0 3zm0-1zm0-1zm0-3zm0-1zm0 3zm0 3zm0-1zm1-1zm0-3zm0 0zm0 4zm0-1zm0-4zm0 2zm0 4zm0-4zm0 3zm0-5zm0 6zm0 1zm0 0zm0-5zm0 0zm0 0zm0 2zm0-3zm0 0zm0 2zm0 3zm0 1zm0-5zm0-2zm1 0zm0 1zm0 4zm0 0zm0 1zm0 1zm0-1zm0-6zm0 2zm0 0zm0 4zm0-5zm0 3zm0 0zm0-3zm0 0zm0 1zm0 1zm0 3zm0-1zm0-4zm0-1zm0 2zm1-1zm0 2zm0 3zm0-5zm0 1zm0 2zm0 0zm0 2zm0-1zm0 1zm0-6zm0 1zm0 5zm0-4zm0 2zm0-4zm0 0zm1 6zm0-4zm0-2zm0 3zm0-3zm0 5zm0-1zm0-2zm0-1zm0 4zm0 2zm0 0zm0-7zm0 6zm0-5zm0-1zm0 3zm0-2zm0 3zm0-3zm0-1zm0 3zm0-3zm0 1zm0 2zm1 4zm0-1zm0-5zm0 5zm0 1zm0-4zm0 3zm0-6zm0 1zm0 1zm0 4zm0-5zm0-1zm0 4zm0-2zm0 1zm0-2zm0 1zm0-2zm0 0zm0 6zm0-1zm0-5zm0 2zm0 0zm1 3zm0-5zm0 7zm0-1zm0 1zm0-6zm0 0zm0 2zm0 4zm0-6zm0 0zm0 5zm0-6zm0 6zm0-3zm0-2zm0 5zm0 1zm0-4zm1-1zm0 2zm0-4zm0 7zm0-5zm0 4zm0 1zm0-3zm0 0zm0-1zm0 2zm0-2zm0 1zm0-2zm0 1zm0 0zm0 1zm0 3zm1-4zm0-1zm0 0zm0-1zm0 0zm0 5zm0-6zm0 5zm0-2zm0 2zm0-2zm0 2zm0 1zm0-6zm0 2zm0-1zm0-1zm0 6zm0-3zm0-1zm0 0zm0 0zm0 1zm0-3zm1 3zm0 3zm0-3zm0 2zm0 1zm0-5zm0 5zm0-1zm0 2zm0-4zm0 0zm0-2zm0-1zm0 7zm0-2zm0-3zm0 2zm0 1zm0 2zm0-3zm0-2zm0 1zm0-1zm0 0zm1-2zm0 0zm0 7zm0-4zm0-3zm0 3zm0-3zm0 1zm0 5zm0 0zm0 0zm0-3zm0-1zm1 1zm0-3zm0 6zm0-2zm0 1zm0-1zm0 0zm0-3zm0 2zm1-2zm0 0zm0 4zm0-1zm0 3zm0-1zm0-5zm0 1zm0 5zm0-7zm0 5zm0 0zm0-3zm0 5zm0-3zm0 1zm0-3zm1 0zm0 3zm0 1zm0 1zm0-1zm0-2zm0-3zm0 2zm0 0zm0-2zm0 3zm0-3zm0 5zm0-2zm0 2zm0 0zm1-3zm0 1zm0-2zm0 2zm0 3zm1-3zm0-3zm0 2zm0 3zm0-2zm0-3zm0 6zm0-6zm0 3zm0 3zm0-2zm0-5zm0 2zm1-2zm0 4zm0 0zm1 1zm0 1zm0 0zm0-6zm0 7zm0-6zm0 1zm1 1zm0 3zm0 1zm0-2zm0 1zm1-6zm0 2zm0 2zm0 0zm0 0zm1 0zm0-3zm0 4zm1-5zm1 3zm2-1zm1 5zm1-3zm0 2zm1-2zm1 2zm0-6zm0 4zm3-2zm1 1zm0-2zm0 4zm1 0zm0-4zm0 2zm0 3zm1 1zm0-1zm0-3zm0 4zm0-2zm1-1zm0-4zm0 5zm0-2zm0 0zm0 3zm1-2zm0-4zm0 5zm0 1zm0 0zm0 1zm0-3zm1 3zm0-7zm0 1zm0 4zm0 2zm0-2zm0-1zm0 2zm0-1zm0-1zm0-4zm0 6zm0-3zm0 2zm0 1zm1 0zm0 1zm0-6zm0 1zm0-1zm0 1zm0 3zm0-3zm0-1zm0 1zm0 1zm0 0zm0 1zm0-2zm0 5zm0-7zm0 1zm0 3zm1-1zm0 0zm0 4zm0-4zm0-3zm0 5zm0 2zm0 0zm0-3zm0-2zm0 5zm0-7zm0 6zm0 1zm0-6zm0 5zm1 0zm0-3zm0 0zm0 3zm0-2zm0 3zm0-1zm0-4zm0-2zm0 4zm0-3zm0 5zm0-2zm0-4zm0 7zm0-1zm0-6zm0 7zm0-4zm0 3zm0-6zm0 7zm0-4zm0-2zm0 6zm0-2zm0-3zm0-1zm1 3zm0-1zm0-3zm0 0zm0 1zm0 2zm0 1zm0-3zm0 4zm0-2zm0-2zm0-1zm0 2zm0 5zm0-1zm0 0zm0 1zm0-6zm0 3zm0-1zm0-3zm0 1zm0 5zm0 0zm0 0zm0-1zm1-3zm0 3zm0-4zm0 1zm0 1zm0 0zm0-1zm0 5zm0-4zm0 1zm0 0zm0 3zm0-7zm0 7zm0-7zm0 4zm0 2zm0-5zm0 6zm0 0zm0-1zm0-4zm0 4zm1-2zm0-1zm0 3zm0-4zm0 4zm0-1zm0-3zm0 3zm0 0zm0-4zm0 3zm0-1zm0-2zm0 1zm0 4zm0-4zm0 4zm0 0zm0-3zm0-2zm0 5zm0 1zm1-2zm0-1zm0-4zm0 2zm0 4zm0-3zm0-2zm0 1zm0 4zm0-6zm0 2zm0 5zm0-4zm0-3zm0 1zm1 3zm0-3zm0 3zm0 2zm0-1zm0-1zm0 2zm0-2zm0 1zm0 2zm0-4zm0-1zm0-1zm0 0zm1 4zm0 1zm0 0zm0-2zm0-3zm0 5zm0 1zm0-2zm0 2zm0-2zm0 2zm0-7zm0 1zm0 0zm0 3zm0-3zm1 3zm0-4zm0 5zm0-1zm0 2zm0-3zm1-3zm0 7zm0 0zm0-3zm0-2zm0-2zm0 6zm0-3zm0-1zm0 5zm0-1zm1-3zm0 2zm0 0zm0 0zm0-4zm1 2zm17 4zm49-7zm-26 9zm-9-1zm-29 5zm-2-3zm0-2zm0 1zm-1 5zm0-3zm0-3zm-1 5zm0-5zm0 0zm0 1zm0 3zm0 0zm0-2zm0 3zm-1-4zm0 5zm0-3zm0 0zm0 3zm0-5zm0 3zm0-4zm0 5zm0 2zm-1-1zm0-3zm0 3zm0-6zm0 2zm0-1zm0 0zm0 6zm0-6zm0 4zm0-2zm0-3zm0 7zm0-5zm-1 2zm0-3zm0 1zm0 2zm0 1zm0 2zm0-5zm0 3zm0-3zm0-1zm0 2zm0-2zm0 4zm0 2zm0-3zm0-4zm0 3zm-1 1zm0-4zm0 3zm0 4zm0-7zm0 2zm0 4zm0-2zm0 0zm0-4zm0 6zm-1-1zm0-3zm0 4zm0-5zm0 5zm0 1zm0-4zm0 1zm0-4zm0 7zm0-4zm0-1zm0 2zm0 1zm0 0zm0 0zm0-1zm0 2zm0-3zm0-1zm0 0zm0 2zm0 0zm0-4zm0 6zm0-1zm0-3zm-1 5zm0-1zm0-6zm0 4zm0-1zm0 1zm0 2zm0 0zm0 0zm0-5zm0 3zm0-4zm0 6zm0-6zm0 5zm0-4zm0 3zm0 0zm0-4zm0 3zm0 3zm0-4zm0-2zm0 2zm0 3zm0-1zm0-3zm0 2zm0-1zm-1-1zm0 4zm0 1zm0-1zm0-4zm0 2zm0-1zm0 5zm0-2zm0-5zm0 5zm0-5zm0 4zm0 1zm0-2zm0-3zm0 6zm0-4zm0 5zm0-4zm0-2zm0 2zm0 4zm0-7zm0 3zm0 4zm0 0zm0 0zm0-3zm0-3zm0 5zm0 0zm0-4zm-1 3zm0 0zm0-5zm0 0zm0 7zm0-1zm0-5zm0 5zm0-3zm0-2zm0 1zm0 5zm0-6zm0 3zm0 1zm0-4zm0 5zm0 0zm0-4zm0 0zm0 0zm0 5zm0-2zm0 2zm-1-7zm0 1zm0 6zm0-1zm0-1zm0-1zm0 2zm0-4zm0 5zm0-5zm0 5zm0-4zm0 3zm0-2zm0-1zm0 1zm0 2zm0-2zm0-2zm0 5zm0-5zm0 2zm0 2zm0-4zm0 4zm0-4zm0 2zm0-1zm0 1zm-1-3zm0-1zm0 1zm0 4zm0-3zm0-2zm0 1zm0 6zm0-2zm0 0zm0 2zm0-3zm0 3zm0-1zm0-4zm0 2zm0 1zm0 1zm0 0zm0-5zm0 2zm0 3zm0-4zm0 1zm0-2zm0 3zm0-4zm0 4zm0-3zm0 6zm-1-4zm0 0zm0-3zm0 1zm0 3zm0-2zm0 5zm0-2zm0 1zm0 0zm0-3zm0-2zm0 4zm0 0zm0-1zm0 0zm0 1zm0-5zm0 1zm0 6zm0-7zm0 5zm0-5zm0 4zm-1 1zm0-4zm0 0zm0 3zm0 2zm0 1zm0-7zm0 6zm0 1zm0-1zm0 1zm0-6zm0 0zm0 3zm0-3zm0 5zm0 1zm0-3zm-1-3zm0 5zm0-1zm0 0zm0-5zm0 3zm0 3zm0 1zm0 0zm0-1zm0 1zm0-6zm-1 1zm0 2zm0-1zm0-2zm0 6zm0 0zm0-2zm0 1zm-1-2zm0-1zm0-2zm0 1zm0 1zm0-2zm0 2zm0-1zm-1 5zm0-4zm0 3zm0 1zm-1-7zm-2 7zm0-7zm-1 6zm0 0zm-4 0zm-1 0zm0-3zm0-3zm0 3zm-1-1zm-1-1zm0 4zm0 0zm-1 1zm0-4zm0-1zm-1 2zm0-1zm0 4zm0-2zm0-2zm-1-1zm0 5zm0-3zm0 4zm0-1zm0-6zm-1 6zm0-2zm0 0zm0 2zm0-5zm0 4zm-1-5zm0 2zm0-1zm0 0zm0-1zm-1 0zm0 5zm0 0zm0 1zm0-2zm0 3zm0 0zm0-3zm0-3zm0 2zm0-2zm-1 2zm0-3zm0 0zm0 7zm0-2zm0-1zm0-3zm0 0zm0-1zm-1 6zm0-4zm0-1zm0 1zm0 3zm0 0zm0 0zm0 2zm0-4zm0 2zm0-3zm-1 1zm0-3zm0 3zm0-3zm0 0zm0 6zm-1-4zm0 2zm0-4zm0 7zm0-1zm0-1zm0-1zm0 2zm0-4zm0 5zm0-5zm-1-2zm0 3zm0-2zm0 3zm0 3zm0-3zm0 3zm0-6zm0 4zm0-1zm0 3zm0 0zm0 0zm0-6zm0 6zm-1-6zm0-1zm0 4zm0-3zm0 3zm0 3zm0-2zm0 0zm0 0zm0-3zm-1 2zm0-4zm0 7zm0-6zm0 3zm0 2zm0-6zm0 3zm0 4zm0-5zm0 3zm0-1zm0 1zm0-1zm-1-3zm0 0zm0 3zm0-2zm0-2zm0 7zm0-7zm0 0zm0 1zm0-1zm0 6zm0-2zm0 3zm0-6zm0 0zm0 0zm0 4zm0-5zm0 0zm0 6zm0 0zm0-2zm0-4zm-1 4zm0 2zm0-1zm0-1zm0-3zm0-1zm0 3zm0-2zm0 3zm0-4zm0 7zm-1-2zm0 2zm0-1zm0-2zm0 1zm0-5zm0 0zm0 0zm0 2zm0-2zm0 0zm0 1zm0 5zm0 0zm0-4zm0 2zm0 1zm0-3zm0-2zm0 5zm-1-4zm0 0zm0-1zm0 7zm0-5zm0 2zm0 3zm0-2zm0 2zm0-6zm0 3zm0 3zm0-4zm0 0zm-1 3zm0-6zm0 4zm0 0zm0-3zm0-1zm0 4zm0-1zm0-3zm0 7zm0-6zm-1-1zm0 4zm0-1zm0 4zm0-6zm0 5zm0-2zm0 1zm0 0zm0-1zm0-3zm0 2zm0 2zm0-4zm0 5zm0-6zm0 1zm0 5zm0-1zm0 2zm-1-2zm0-2zm0 2zm0 1zm0 1zm0-6zm0 0zm0 2zm0-1zm0-1zm0 1zm0 3zm0-1zm0-1zm-1 2zm0 0zm0-2zm0 2zm0 0zm0 1zm0-5zm0 1zm0 3zm0-5zm0 4zm0 3zm0-7zm0 3zm0-3zm0 5zm0-3zm0 3zm-1-2zm0 2zm0-2zm0 1zm0 3zm0-6zm0 3zm0-3zm0-1zm0 3zm0-3zm0 1zm-1 4zm0-4zm0 0zm0 1zm0 0zm0-2zm0 5zm0 1zm-1-4zm0 2zm0-4zm0 0zm0 7zm0-5zm0-2zm0 1zm0 3zm0-1zm0 3zm-1 0zm0-6zm0 7zm0-7zm-1 3zm0-2zm0 3zm0 2zm0-1zm0 1zm-1-5zm0-1zm0 0zm0 2zm0 5zm0 0zm0-6zm0 6zm0-4zm0 4zm0-5zm0-2zm0 7zm-1-6zm0 1zm0-1zm0-1zm0 0zm0 4zm0-4zm0 7zm0-5zm0-2zm0 6zm-1-6zm0 2zm0-1zm0 2zm0-1zm-1 4zm0-5zm0-1zm0 1zm0 0zm0 1zm0 0zm0 1zm0 0zm0-1zm-1-1zm0 1zm0 0zm0-1zm0 5zm0-2zm-1-2zm0 5zm-1-7zm0 1zm0 3zm0-3zm0 0zm-1 6zm0-7zm0 2zm0-2zm0 2zm0 4zm-1-1zm-1-2zm-1-1zm-1 2zm0-1zm0 4zm0-1zm-1-1zm0-2zm-2-1zm0-1zm-1-1zm0 4zm-1-2zm-2-1zm-1 5zm-4 1zm-5-5zm-16 12zm19-6zm3 3zm9-2zm2 0zm1 0zm1-1zm1 7zm1-1zm1-4zm0-1zm0 5zm1 0zm1-6zm1 1zm1 3zm0-4zm0 1zm1 2zm0 1zm2 1zm0-1zm1-1zm0 1zm0-1zm0 0zm0 4zm0-5zm1-2zm0 6zm0-1zm0-4zm0 4zm0-5zm1 2zm0 0zm0 0zm0 1zm1-2zm0 0zm0 3zm1 1zm0-2zm0-3zm0 3zm0-1zm1-2zm0 3zm0 0zm0 0zm0 2zm0-1zm1 0zm0-1zm0-2zm0 6zm1-6zm0-1zm0 2zm0-1zm1 2zm0-1zm0 0zm0 3zm0 0zm0-5zm0 1zm0 2zm0-1zm0 0zm0-1zm1 0zm0-1zm0 2zm1 4zm0-2zm0 3zm0-3zm0-1zm1 0zm0 4zm0-1zm0-5zm0-1zm0 2zm0 3zm0-5zm0 6zm0-6zm1 2zm0 3zm0-3zm0 0zm0-2zm0 6zm0-5zm0 1zm0 3zm0-1zm0-2zm0 1zm1-3zm0 0zm0 0zm0 4zm0-4zm0 0zm0 5zm0-4zm1 5zm0 0zm0-1zm0 2zm0-6zm1 6zm0-5zm0 5zm1-3zm0 1zm0-5zm0 6zm0-1zm0 1zm0-5zm0-1zm0 1zm0 4zm0-1zm1 2zm0-3zm0-2zm0 4zm0 0zm0-4zm0 6zm0-5zm1-2zm0 1zm0 6zm0-4zm0-2zm0 2zm0 2zm1 1zm0-6zm0 3zm0-2zm1 2zm0 1zm0 3zm0-7zm1 1zm0 5zm0-3zm0 3zm0-6zm0 1zm1 6zm0-1zm0-6zm1 7zm0-5zm0 0zm0 0zm1 0zm1 5zm0-6zm0 0zm1 6zm0-7zm0 2zm1 3zm0-3zm0 1zm0 3zm1-3zm0-1zm1-2zm1 1zm1 1zm1 0zm1 3zm0-4zm0 3zm1 3zm0-3zm0 3zm0-2zm1-2zm0 2zm0 1zm0 0zm1-6zm0 7zm0-3zm0-4zm1 7zm0-1zm0 0zm0 0zm0-4zm0-2zm0 3zm0 1zm0 1zm0 1zm0 0zm0 1zm1 0zm0-3zm0 2zm0-5zm0 2zm0 2zm0 1zm0-2zm1-4zm0 7zm0-7zm0 2zm0 5zm0 0zm0-1zm0 0zm0-6zm0 4zm0-2zm0 5zm1-2zm0 1zm0 1zm0-1zm0-5zm0 5zm0-4zm0 0zm0 4zm0-6zm0 5zm0 1zm0-2zm0-4zm0 6zm0-1zm1-2zm0-3zm0 3zm0 1zm0 1zm0-1zm0-2zm0 1zm0-1zm0 4zm0-4zm0 2zm0-4zm0 1zm0 1zm0-2zm0 4zm0-2zm0 0zm0 3zm0-1zm0-1zm1 4zm0-6zm0 5zm0 1zm0-6zm0 4zm0-3zm0-1zm0 6zm0-7zm0 5zm0 0zm0-1zm0 1zm0 0zm0 1zm0-2zm0-3zm0 1zm0 3zm0 0zm0-2zm0 4zm0-1zm0-1zm0 0zm0-1zm0-1zm0-3zm0 7zm0-1zm0 1zm0 0zm0-7zm1 6zm0-1zm0 0zm0-5zm0 7zm0 0zm0-1zm0-5zm0 0zm0 3zm0 1zm0 2zm0-6zm0 1zm0 4zm0-2zm0-2zm0 4zm0-5zm0 6zm0-4zm0-3zm0 0zm0 0zm0 4zm1-1zm0-2zm0 5zm0-6zm0 0zm0 7zm0-1zm0-1zm0-2zm0 3zm0 1zm0-7zm0 2zm0-1zm0 3zm0-2zm0-2zm0 1zm0 0zm0 5zm0 1zm0-3zm0-4zm0 4zm0-4zm0 1zm0 1zm0-1zm0 0zm0 1zm1 2zm0-2zm0 2zm0 0zm0-3zm0 5zm0-2zm0-3zm0 2zm0-1zm0 2zm0-2zm0 5zm0-6zm0 2zm0-3zm0 0zm0 2zm0 4zm0-1zm0-3zm0 3zm0-1zm0-4zm0 3zm0 1zm0-1zm0 4zm0-2zm0-2zm0-2zm0 2zm0-3zm1 0zm0 0zm0 2zm0 2zm0-4zm0 4zm0-1zm0-3zm0 2zm0 1zm0-1zm0 0zm0-2zm0 1zm0 4zm0-5zm0 1zm0-1zm0 4zm0-3zm0 4zm1-1zm0 2zm0-2zm0 0zm0-1zm0-1zm0 5zm0-5zm0 1zm0-1zm0 3zm0-1zm0-1zm0 3zm0-1zm0 1zm0-6zm0 3zm0-2zm0 6zm0-7zm0 2zm1-2zm0 0zm0 0zm0 7zm0-6zm0 2zm0-2zm0 5zm0-4zm0-1zm0 1zm0-2zm0 7zm0-3zm0 3zm0-6zm0-1zm0 7zm0-1zm0-6zm0 5zm0-2zm0-1zm0-2zm0 6zm0-6zm0 4zm0 3zm0-7zm0 7zm0-2zm0-1zm0 2zm0 0zm1-6zm0 0zm0 0zm0 7zm0-4zm0 3zm0-2zm0-3zm0 0zm0 5zm0-2zm0 3zm0-2zm0-1zm0 0zm0 1zm0-4zm0 6zm0-2zm0 1zm0-3zm1-1zm0 4zm0-2zm0 0zm0-3zm0 0zm0-1zm0 5zm0-3zm0-2zm0 1zm0 4zm0 1zm0-1zm1 2zm0-1zm0-3zm0 4zm0-1zm0-6zm0 3zm0 0zm0-1zm0 5zm0-6zm0 0zm1-1zm0 5zm0-3zm0 4zm0-4zm1-2zm0 5zm0-2zm0 4zm1-5zm1 1zm0-3zm0 1zm41 5zm-37 9zm-5-7zm0 6zm-1-6zm0 1zm-1-1zm0 6zm-1-5zm0 5zm0-2zm0 3zm0-6zm0 3zm-1 1zm0-2zm0-3zm0 1zm0 5zm0-3zm0-1zm-1-2zm0 2zm0-1zm0 5zm0-4zm0 3zm0-5zm0 6zm0-4zm0 4zm0-5zm0 0zm0 1zm-1-1zm0 4zm0-1zm0 1zm0-1zm0-4zm0 5zm0-1zm0 3zm0-2zm0-3zm0-2zm0 5zm0-1zm0-1zm0-2zm0 5zm0-5zm0 5zm0-6zm0 3zm0 0zm-1 4zm0-3zm0 2zm0 1zm0 0zm0-5zm0-1zm0 0zm0 0zm0 5zm0-2zm0 3zm0-5zm0 4zm0-4zm0 5zm0 0zm0-7zm0 3zm-1-3zm0 6zm0 1zm0 0zm0-2zm0 0zm0-4zm0-1zm0 5zm0-3zm0-1zm0 3zm0 0zm0-3zm0 2zm0-2zm0 6zm0-3zm0-2zm0 5zm0-5zm0 1zm0-2zm0 1zm-1 0zm0-2zm0 6zm0-3zm0 2zm0-2zm0 1zm0 1zm0-5zm0 3zm0 1zm0 1zm0 0zm0 2zm0-7zm0 7zm0-5zm0 3zm0 1zm0-4zm0-1zm0 3zm0-3zm0 3zm0 1zm0-5zm0 3zm0 2zm0-4zm0-1zm-1 6zm0-5zm0 0zm0 1zm0 5zm0-1zm0-6zm0 1zm0 3zm0 0zm0 2zm0-1zm0-2zm0 0zm0 1zm0-2zm0 4zm0-5zm0-1zm0 4zm-1 0zm0-4zm0 0zm0 1zm0 1zm0 4zm0-6zm0 5zm0 0zm0 0zm0-4zm0 3zm0-1zm0 0zm0-3zm0 6zm0-3zm0-2zm0 4zm0-5zm0 0zm0 7zm0-6zm0 6zm0-4zm-1-1zm0 4zm0 0zm0-3zm0 0zm0-3zm0 5zm0 0zm0-3zm0 1zm0-1zm0 0zm0-2zm0 2zm0 2zm0-4zm0 6zm0-2zm0 3zm0-2zm0-1zm0 3zm0 0zm-1-3zm0 0zm0-4zm0 6zm0-4zm0-2zm0 3zm0 0zm0 0zm0-2zm0 6zm0-2zm0-1zm0 0zm0 2zm0-1zm0-1zm0-4zm0 5zm0 1zm0-5zm0 2zm0 2zm0 2zm0-5zm-1-2zm0 0zm0 7zm0-5zm0 4zm0-5zm0 2zm0 0zm0-3zm0 5zm0-4zm0 3zm0-4zm0 2zm0 4zm0-6zm0 0zm0 2zm0-1zm0 1zm0 0zm0 4zm0 1zm-1 0zm0 0zm0 0zm0 0zm0-4zm0 4zm0-3zm0 1zm0-1zm0-2zm0 4zm0-4zm0-2zm0 1zm0 4zm0-4zm0 2zm0 1zm-1 0zm0 1zm0-5zm0 2zm0 3zm0-4zm0-1zm0 4zm-1-3zm0-1zm0 3zm0 3zm0-5zm-1 0zm0 5zm0-4zm0-1zm0 5zm0-3zm0 3zm-1-2zm0-1zm0 1zm0 1zm0-1zm0-4zm-1 3zm0 3zm-1-2zm0 0zm-1 2zm-1 0zm-1-2zm0-2zm0 0zm-2 1zm0-1zm0-2zm-3 4zm-1 2zm0-1zm-1-3zm-1-1zm-1 4zm-1 1zm-1 1zm0-6zm0 1zm0 1zm0 2zm-1-5zm0 6zm-1-4zm-1-2zm0 0zm0 1zm0-1zm-1 1zm0 1zm0 1zm0 4zm0-1zm0-1zm-1 0zm0-1zm0-4zm0 0zm0 1zm-1-1zm0 6zm-1-4zm0 5zm-1-3zm0 3zm0-3zm-1-4zm0 0zm0 0zm0 2zm0-2zm-1 4zm-1 0zm0-2zm0 5zm-1-2zm0-5zm0 7zm0-1zm0-5zm0-1zm-2 4zm0-3zm-1 0zm0 3zm-1 1zm0-3zm-1-1zm0 2zm0-1zm0-1zm-1-1zm-1 0zm-3 1zm0 1zm-1 1zm-6 0zm-1 4zm10 5zm4-3zm4 0zm6 4zm4-3zm1 0zm1 4zm1-5zm2 3zm3-4zm0 3zm3-1zm5 2zm0-1zm2-3zm1 5zm0-5zm0 2zm0 1zm1 1zm0 1zm0-1zm0 2zm1 0zm0-1zm0-4zm0 5zm0-1zm0-5zm0 4zm0 3zm0-6zm1-1zm0 0zm0 0zm0 2zm0 5zm0-7zm0 0zm0 6zm0-5zm0 6zm0-3zm0 0zm1-4zm0 2zm0 4zm0-5zm0 1zm0 2zm0 1zm1-5zm0 4zm0-1zm0-3zm0 0zm0 4zm0 1zm0-2zm0 3zm0-4zm0 0zm0-2zm1 1zm0 3zm0 1zm0-5zm0 0zm0 4zm0-4zm0 0zm0 2zm0 2zm0-2zm0-1zm0 5zm0-1zm0 0zm0 0zm0 0zm0-3zm0 3zm1 2zm0-6zm0 4zm0-2zm0-2zm0 3zm0-1zm0-1zm0 3zm0 2zm0-6zm0 4zm0-4zm0 1zm0 1zm0 0zm0 0zm1 0zm0-3zm0 2zm0-2zm0 5zm0-4zm0 1zm0-1zm0 0zm0-1zm0 2zm0-1zm0 6zm0-1zm0-5zm0 6zm0 0zm0 0zm0 0zm0-6zm0 1zm0 3zm0-5zm0 7zm1-7zm0 7zm0-6zm0 6zm0-3zm0-2zm0-2zm0 7zm0-1zm0-3zm0 3zm0-5zm0 0zm0 5zm0-5zm0 0zm0-1zm0 5zm0 0zm1-2zm0-3zm0 0zm0 4zm0 3zm0-6zm0-1zm0 5zm0-2zm0 1zm0-1zm0-1zm1 3zm0 0zm0-1zm0 3zm0-5zm0 3zm0-1zm0 1zm0-4zm0 1zm0 4zm0-4zm0 5zm1-5zm0 4zm0-4zm0 1zm0 1zm0-2zm0-2zm0 7zm0-6zm0 1zm0 2zm1-1zm0 2zm0 1zm0-6zm0 4zm0 0zm1-3zm0 6zm0-3zm0 3zm0-3zm0-4zm0 4zm0-4zm1 5zm1 2zm0-7zm2 7zm12 3zm-11 3zm0-3zm-3 3zm0-1zm-1-2zm0 2zm-1-1zm0-2zm0 3zm0 1zm-1 1zm0-1zm0-1zm0 3zm0-7zm-1 0zm0 3zm0 3zm0 0zm0-6zm0 1zm0 4zm0-2zm-1-2zm0 3zm0 1zm0-2zm0-3zm0 1zm-1 0zm0 2zm0 1zm0 3zm0-5zm0 0zm0-1zm0 2zm0 1zm0-2zm-1 2zm0 1zm0 2zm0-5zm0-1zm0-1zm0 0zm-1 6zm0-5zm0 1zm0 0zm0-2zm0 4zm0 0zm-1 0zm0-3zm0 1zm0 1zm0 2zm0-3zm0-2zm0 6zm0-2zm0-3zm0 1zm0 4zm0-2zm0-4zm0 0zm0 1zm0 4zm0-1zm0 3zm0-3zm0-3zm0 3zm0-2zm-1 0zm0-2zm0 1zm0 3zm0-4zm0 6zm0 1zm0-2zm0 1zm0-6zm0 6zm0-5zm0 0zm0-1zm0 3zm0 0zm-1 3zm0 1zm0-1zm0-4zm0-2zm0 6zm0 1zm0-7zm0 2zm0-1zm0-1zm0 4zm0 2zm0-5zm-1 4zm0-3zm0-2zm0 4zm0 1zm0 2zm0-3zm0-4zm0 6zm0-2zm0-4zm-1 4zm0-2zm0-2zm0 6zm0-2zm0 2zm0-6zm0 5zm-1-1zm0 2zm0-2zm0-2zm0 2zm-1-1zm0 2zm0-1zm0 1zm0-5zm-1 4zm0 2zm0-5zm-1 4zm0 1zm-3-6zm-16 0zm-2 7zm-2-3zm-11-4zm16 8zm2 0zm12 0zm0 2zm1 4zm2-6zm2 1zm2-1zm0 5zm0 1zm0-3zm0 1zm1 2zm0-4zm0-2zm0 5zm0 2zm1-5zm0-1zm0 3zm0-1zm0 2zm0 2zm0-5zm1-2zm0 5zm0 0zm0-1zm1-1zm0-2zm1 2zm0 2zm0 2zm0-4zm0-1zm0 0zm1 2zm0-3zm0 3zm0-4zm0 7zm1-6zm1 1zm0 4zm0-1zm0 1zm1-3zm0-2zm1 0zm1 2zm0 2zm1-5zm1 2zm4 5zm20 5zm-4 2zm-18 0zm-2-3zm-2 2zm0-2zm-2-2zm0 5zm-1-4zm0 4zm-1-5zm0 2zm0 2zm-2-3zm0 5zm-1-7zm0 2zm0-1zm0 4zm0-2zm0-3zm-1 3zm-1-3zm0 4zm0 1zm0-3zm0 4zm0-6zm-1 1zm0 0zm-1 2zm0 1zm-1 0zm-1-4zm-1 6zm0-6zm0 5zm-5 5zm1 4zm6 0zm1-4zm2 0zm1 3zm1-2zm1 2zm1 0zm0-1zm1-2zm0 3zm1-2zm0 1zm0-3zm4 4zm31-1zm-15 5zm-16 4zm-1-4zm-1 3zm-4 1zm-1 1zm0-3zm0-2zm0 5zm-1 0zm-1-6zm-1 0zm0 1zm0-1zm-1 1zm0 1zm0 1zm0 0zm-2 1zm0-4zm-1 3zm-2-2zm-3-1zm-1 9zm1 1zm4 3zm2-5zm1 4zm2-4zm2 4zm0-3zm0-1zm2 5zm0-4zm0-1zm1 5zm1 2zm38 6zm-39 1zm0-3zm-4-3zm-1 0zm-1 4zm-5-3zm-5 10zm15-3z"/>
<path stroke="#46075a" d="M186 810zm-11 9zm8 2zm0 0zm2 1zm-14 9zm-1-7zm-13 7zm-2-2zm-12-2zm-9 2zm10 10zm4-5zm3 5zm0-5zm42 12zm-23-1zm-17-1zm-8-1zm-6 3zm-11-2zm-5 1zm-3 2zm-4 0zm-1-2zm-2 2zm-5-2zm-14 2zm20 8zm12 0zm8-7zm4 1zm1 5zm0-1zm0-3zm4 0zm1 1zm7 3zm1 0zm1-1zm2-5zm1 4zm5-1zm0 1zm0-3zm2 3zm0 2zm1-4zm6 2zm2 1zm5 2zm6-4zm12 3zm18 0zm-23 2zm-7 5zm-10 2zm-6-2zm-6 2zm-1-7zm0 3zm-6 2zm-1-5zm0 5zm-1-3zm-1 2zm-1-4zm-1 7zm-2-1zm-1-1zm-1 2zm-2-7zm-2 6zm-3-4zm-1 2zm-3 0zm-1-4zm-6 4zm-2-4zm-4 6zm-20 4zm9 0zm10 5zm1-6zm1 2zm5 1zm4-3zm1 6zm1-6zm1 1zm1 5zm2-5zm0-2zm3 2zm1 4zm2-1zm0-2zm2 2zm1-2zm0-3zm0 3zm1 4zm1 0zm1-3zm1-1zm2 2zm0-5zm4 0zm1 2zm6 5zm7-1zm3-6zm2 6zm2-4zm3 2zm0-3zm2 6zm16 8zm-3-6zm-7 0zm-1 4zm-2 2zm-4-5zm-6 2zm-7-3zm-1 4zm-1-1zm-1-2zm0 2zm-2 0zm0-1zm-1 4zm-3-1zm0-3zm0-1zm-1 3zm0-3zm-1 4zm0 0zm-2-4zm-1 3zm-4-2zm0 3zm-2 1zm-1-5zm-2 1zm0 0zm-2-2zm0 0zm-1 2zm-5 3zm-4 1zm-2-2zm0-4zm-2 0zm0 3zm-1-1zm-2 0zm0 4zm-1-2zm-2 0zm-5-1zm-2-1zm-3-2zm-6 6zm-5-4zm3 5zm10 7zm1-6zm2 1zm1 4zm1 0zm3-2zm0 3zm0-3zm2 1zm2 0zm0-1zm1-2zm1 2zm0 2zm0-3zm1 4zm2-4zm1-1zm0 1zm1 2zm3 0zm0-2zm0 3zm1-3zm0-2zm1 0zm0 5zm1-2zm0 2zm0 0zm1-4zm1 5zm3-5zm0-2zm1 4zm1-1zm1-2zm0 4zm1-5zm0 7zm1-3zm2 1zm2-2zm0 4zm0-7zm2 2zm1 4zm0-2zm4-4zm1 2zm0 4zm2-1zm6-4zm0 1zm1 0zm1-1zm13 0zm2-1zm4 7zm3-6zm1 10zm-3 1zm-1 2zm-3 0zm-3-6zm0 3zm0 3zm-8-5zm-2 5zm0-1zm-3-4zm-2 4zm-3-5zm-1 4zm-1-4zm0 7zm0-2zm-1-4zm-3 5zm0-1zm0-5zm0 0zm-1 4zm-2 2zm-1-4zm-1 0zm-1 4zm-1 1zm0-4zm-1 3zm-4-5zm0 2zm-2 1zm0-3zm-2 4zm-1-3zm-1-1zm-1 6zm-1-4zm0 2zm-1 0zm0 0zm-2-1zm0-3zm-2-1zm-3 5zm0 2zm-2-3zm-1 3zm0-1zm-1-4zm0-2zm-1 5zm0 2zm-1-4zm-5 0zm0 3zm-3-2zm0-3zm-1 5zm-3-4zm-1 5zm-2 0zm-2-1zm-1-1zm-1 0zm-5-1zm-4 1zm0-3zm-3-1zm7 11zm14-4zm4 3zm3 4zm1-2zm1 1zm2 0zm1 1zm0-6zm1 2zm1-2zm2 0zm1 2zm4 4zm0-2zm1-2zm0-1zm0 5zm1-7zm1 3zm1-1zm1-2zm1 7zm2-6zm0-1zm2 6zm1-6zm1 0zm0 5zm1 0zm1-5zm0 6zm1-2zm1-4zm1 6zm1-6zm1 6zm1 1zm0-4zm1-2zm0 5zm0-1zm1-3zm1-2zm0 5zm1 2zm1-2zm1 2zm0-4zm1-3zm3 6zm2 1zm4-7zm10 7zm1-3zm3 0zm-4 7zm-6-3zm-7 2zm-1 0zm-3-2zm-1 5zm0-5zm-1 4zm-3-3zm0 3zm-1 1zm-2 1zm-2-6zm-1 2zm0 1zm-1 0zm-1 1zm-2 0zm-1 3zm0-2zm-1-4zm0 1zm-7 0zm0-1zm0 2zm-1 0zm-1 1zm0-4zm0 1zm0 3zm-1-4zm0 6zm-1 1zm-1-4zm-1-1zm0 3zm-3 0zm-1 1zm0-2zm-2 2zm-2-2zm-1-2zm0 0zm-2-1zm-2-1zm-10 3zm-1 3zm0-6zm-3 1zm-2 5zm-5-4zm-4 3zm-11-2zm26 6zm1 2zm1-3zm4 5zm3 0zm1 1zm2-3zm2 0zm1 2zm3-3zm7 3zm1-1zm1-2zm0 0zm0-2zm2 0zm2 5zm6-4zm0 5zm0-3zm0 2zm0-5zm1 0zm1 7zm1-2zm1-3zm0 0zm1 3zm1-1zm1-1zm1 2zm0-5zm5 5zm14 0zm28 1zm21 0zm-52 9zm-1-6zm-1 4zm-7-1zm0 3zm-1-4zm-5 0zm0 2zm-3 2zm-3 0zm0-1zm-1-6zm-1 5zm0-5zm-3 4zm-1-2zm0 0zm-1-2zm-6 4zm-1-1zm-1-1zm0-2zm-4 7zm0-6zm-1 0zm-4-1zm-1 0zm-1 2zm-2 2zm-1-4zm-8 5zm-2-2zm-8-1zm4 6zm7 7zm1-3zm2 1zm5 0zm2 1zm3-3zm2 1zm3 1zm1-5zm1 0zm1 2zm0 3zm2 2zm2-7zm5 4zm0 0zm1 1zm1-1zm0-3zm0-1zm0 3zm3 0zm1 2zm2 1zm1-6zm1 1zm3 0zm1 4zm3-3zm3-2zm2 3zm2 4zm8-7zm2 10zm-4-1zm-2-1zm0 3zm-3-3zm-6 1zm-1 0zm-3 3zm-2 1zm-6-4zm0 1zm-6 1zm0 3zm-2-1zm0-3zm-1 0zm-2-2zm-1 3zm-2 1zm-1-4zm-3 0zm-2 0zm0 2zm-2 2zm-1-3zm-2 6zm-2-4zm0-2zm-1 3zm-7-2zm-1 3zm-2-5zm-8 3zm-4-1zm5 7zm20 0zm6 6zm1-6zm2 6zm3-1zm1 1zm0-5zm3-2zm1 7zm1-7zm0 0zm8 6zm1 0zm6-4zm3 2zm7-4zm4 0zm4 5zm1 0zm1-2zm2 2zm16-2zm-22 10zm0-1zm-1 3zm-1-3zm-1 0zm-5 1zm-9 2zm-1-3zm-3 1zm-3-5zm-8 4zm-3-4zm-3 1zm-1 5zm-3-4zm0 3zm-2-4zm-2 5zm-16-6zm0 8zm2 4zm1 1zm11-1zm9 1zm11-3zm4 1zm3 2zm4 2zm1-1zm4-3zm11 0zm5 4zm6-6zm17 2zm-12 9zm-3 3zm-9-6zm0 0zm-21-1zm-1 0zm-1 5zm-1-5zm-2 6zm0 0zm-5-1zm-2 1zm-6 0zm-2-3zm-26 0zm-8 7zm13 3zm1 0zm7-4zm0 5zm7-3zm7 4zm6-1zm5-2zm1-3zm3 3zm2-2zm2 3zm0-4zm2 4zm19-3zm1-1zm9 5zm6-6zm16 3zm-13 12zm-28-4zm0-1zm-18 5zm-7-3zm-6-2zm-13-2zm-6 11zm3 2zm12-5zm1 2zm0 0zm0 2zm5 3zm4 0zm1-1zm7-2zm3 1zm1-1zm7 3zm2-2zm2-2zm19-1zm0 3zm15-5zm5 1zm3 2zm1 3zm7-3zm-29 9zm-6 0zm-6 2zm-1-5zm-4 3zm-8 2zm-9-3zm-1-1zm-2 2zm-5-1zm-2-3zm0 0zm-1 7zm-3-3zm0-4zm-6 0zm-1 7zm-1-6zm-11 1zm-11 4zm-2-2zm-6 5zm16 3zm7 3zm11-7zm18 3zm11 3zm18-4zm1 4zm2 1zm2-1zm24-6zm138 5zm40 8zm-47 1zm-51-3zm-71-3zm-20 7zm-21-1zm-3 1zm-4-1zm-16 1zm-10-5zm-2 2zm0 2zm-5 0zm-8 0zm-11-1zm-12 4zm16 0zm20 0zm2-1zm3 0zm2 7zm0-4zm15 1zm18 1zm2 2zm209 3zm-209 3zm-6 1zm-7-2zm-12 3zm-9-6zm-5 1zm-22 7zm19 6zm269 6zm-9-1zm-221-4zm-1 1zm-3 4zm-2-5zm-3 0zm-13 7zm-2-1zm0-2zm-2 3zm-16-2zm-38 6zm47 0zm4-2zm3 6zm0-6zm2 3zm18 1zm7-3zm-11 13zm-4-1zm-9-3zm-2-2zm-1 5zm-1-5zm-2 0zm-1 0zm0 2zm-5 2zm-17-4zm-3 3zm-6 2zm-3 0zm7 9zm0 0zm1-5zm2-1zm19 4zm0-4zm2-1zm18 5zm1-2zm1 3zm10 1zm5 0zm-9 4zm-9 4zm-1-4zm-5-3zm-1 5zm-3 1zm-2 1zm-2-5zm-39 7zm8 3zm4-1zm29 2zm1-1zm7-4zm0 7zm6-5zm1 3zm5-5zm5 1zm244 0zm-70 12zm-181 0zm-4-4zm0 0zm-1-1zm-12 5zm-10-5zm-6 2zm-6 2zm19 4zm13 5zm4 2zm1-7zm319 1zm-80 10zm-231-1zm-3-1zm-7 4zm-8 2zm-9-6zm13 7zm3 0zm2 1zm4 3zm23-2zm119 1zm201 0zm-13 11zm-194-2zm-123 1zm-7 1zm-1-2zm-5 0zm-8 1zm-1 1zm-9-3zm-10-2zm-32 2zm-6-1zm41 10zm10 3zm8-5zm5 4zm1-2zm3 1zm16-3zm125 5zm111-2zm92 1zm-40 7zm-9-3zm-186-2zm-93 0zm-5 1zm-4 4zm0-1zm-16-2zm-2 1zm-18 0zm-5 5zm23 4zm7-1zm1 1zm1 1zm1-4zm0 0zm5 6zm2-5zm4 0zm11 5zm334-4zm140 3zm5 7zm-11-3zm-5 2zm-1 3zm0 0zm-10-4zm-3-1zm-198 5zm-49-7zm-2 1zm-211-1zm-2 0zm0 2zm-10 4zm-3 1zm-46 2zm18 4zm15-3zm3 5zm10-2zm15-5zm2 6zm5-4zm402 0zm6 5zm1-1zm25-4zm2 2zm2-2zm2 5zm1-1zm1-1zm1-3zm0 5zm1-2zm0 1zm2 1zm0 0zm1-5zm1 4zm0-2zm2-1zm2 1zm4 1zm6 2zm1 0zm2-2zm1 2zm8-1zm0-6zm4 5zm-3 7zm-10-1zm-2 4zm-1-1zm-1-2zm0 3zm0-4zm0 1zm-3-2zm0 4zm-1-3zm-1 0zm0 0zm0-1zm-1 2zm0 3zm0-2zm0-1zm-1 2zm-1-6zm0 5zm0 1zm0 0zm-1-1zm0 2zm0-4zm-1 0zm0-2zm-1 6zm0-3zm-1-2zm0 2zm0-1zm0 0zm0 1zm0-2zm0 5zm0-4zm0-3zm0 7zm-1-3zm0-1zm0 3zm0 1zm-1-2zm0-3zm0 0zm0 5zm-1-4zm0 2zm0-1zm0-2zm0 2zm0 0zm-1 1zm0-4zm0 1zm0 0zm0 5zm0-1zm-1-5zm0 3zm0-1zm0-1zm0 5zm0-4zm0-1zm0 5zm-1-4zm0-1zm0 5zm0-7zm0 3zm0-1zm0 2zm-1-3zm0 5zm0-1zm0 2zm-1-1zm0 1zm0-4zm-1-1zm0 2zm0-1zm0 0zm0 1zm-1-1zm0 3zm0-5zm0 5zm0 1zm-1 0zm0 0zm0 0zm0-1zm0 1zm0-5zm-1 2zm0 3zm0-7zm0 7zm0-6zm0 3zm0 3zm0 0zm0-1zm-1 1zm-1-1zm0-2zm-1-3zm-1 6zm0-7zm0 6zm0 0zm0-1zm0 0zm-1-1zm0-2zm0 4zm0 1zm-1-5zm0-1zm0 4zm0 1zm0-1zm-1 0zm0 1zm0-1zm0-3zm0 2zm-1 2zm0-5zm0 3zm0 1zm0-2zm-1-1zm-1 0zm0 0zm-1 5zm0-7zm0 4zm-1-4zm0 6zm-2-1zm0 2zm-1-1zm0-5zm0 4zm-1 2zm0-2zm0 0zm0-3zm0 1zm0 3zm-2-3zm0 3zm0-2zm-1 0zm0 2zm0-2zm0 2zm-1 0zm0 0zm-3-4zm-1 3zm0 2zm0-2zm-1 1zm0 1zm-10-2zm0 2zm-396-5zm-1 1zm-4-1zm-6-1zm-4 1zm-2-2zm-15 7zm0 2zm6 1zm13 2zm2 2zm4 0zm8 1zm4-5zm3 2zm100-3zm88-1zm100 4zm42-1zm47 4zm5-2zm0 2zm1-5zm1 4zm0-2zm1 0zm1 3zm1-2zm0 0zm0 2zm0 0zm1-1zm0-2zm0-2zm1-1zm1 1zm0 2zm0 0zm1 3zm0-5zm0 2zm0 2zm0-2zm0 3zm1-1zm1 1zm0 0zm0-2zm0 2zm0-1zm0 0zm0-3zm1 3zm0 1zm0-5zm0 2zm0 3zm0-1zm1 1zm0-2zm0 2zm0 0zm1 0zm0 0zm0 0zm0-5zm0 0zm0 5zm0-1zm0 1zm1 0zm0-4zm0 4zm0-2zm1-4zm0 4zm0 0zm0-2zm0 4zm0-2zm1-3zm0 4zm0 0zm0-3zm0 2zm0-1zm1-2zm0 3zm0-3zm0 0zm0 3zm0-1zm0 2zm0-3zm0 3zm0 0zm1-2zm0 3zm0-7zm0 1zm0 3zm0-3zm0 5zm0 0zm0-1zm0 0zm0 2zm0-2zm0 1zm0 0zm0-3zm1-1zm0 1zm0 4zm0-2zm0 2zm0-6zm0 6zm0-1zm0 1zm0-2zm0 1zm0-1zm0 2zm0-3zm1 3zm0 0zm0-7zm0 6zm0 0zm0-2zm0 3zm0-1zm0-2zm1 1zm0 2zm0-2zm0 2zm0 0zm0-1zm0-2zm0-2zm0 1zm1 3zm0-3zm0 3zm0 1zm0-1zm0 1zm0-1zm0 1zm0-3zm0 3zm0-2zm0 1zm0-4zm0-1zm1 2zm0 1zm0-1zm0 1zm0-1zm0 1zm0 2zm0-6zm0 6zm0 0zm0-6zm0 0zm0 6zm0 1zm1 0zm0-4zm0-3zm0 6zm0-6zm0 3zm0 0zm0 0zm0 4zm0-1zm0-4zm0 0zm0 3zm1-4zm0 6zm0-6zm0 2zm0 4zm0-4zm0 1zm0 3zm0-7zm0 6zm0-1zm0-2zm1 3zm0-2zm0-1zm0 3zm0 0zm0-4zm0 3zm0-3zm0 5zm0 0zm0-4zm0 4zm0-1zm0-3zm0 3zm0-3zm1 0zm0 3zm0-2zm0-2zm0 5zm0-1zm0-1zm0 2zm0-1zm0-5zm0 4zm1 0zm0-1zm0 3zm0-4zm0 1zm0 3zm0-1zm0-1zm0-3zm0 3zm0 1zm0-3zm0 1zm0 2zm0 1zm1 0zm0-1zm0 0zm0 0zm0 1zm0-2zm0 2zm0-4zm0 1zm0 2zm0-4zm0-1zm0 6zm0-2zm0 1zm0-2zm0 3zm0-4zm0-1zm0 5zm0 0zm0-2zm0-3zm1 3zm0 0zm0-3zm0 4zm0-3zm0 3zm0-3zm0 4zm0-2zm0-4zm0-1zm0 6zm0-5zm0 3zm0 1zm0-2zm0 3zm0 0zm0 0zm0-1zm0-1zm0 0zm0-1zm1-1zm0 5zm0-1zm0 0zm0-6zm0 5zm0 2zm0-7zm0 7zm0-1zm0 1zm0-2zm0-2zm0-3zm0 5zm1-1zm0-1zm0 4zm0 0zm0-1zm0-3zm0 2zm0 2zm0-5zm0 3zm0 2zm0-5zm0 5zm0-6zm0 4zm0-1zm0 3zm0 0zm0 0zm1-3zm0-3zm0 6zm0-6zm0 3zm0-1zm0 0zm0-1zm0 3zm0 2zm0-5zm0-2zm0 3zm0 0zm1 0zm0 0zm0 2zm0-5zm0 0zm0 7zm0 0zm0-1zm0-4zm0 4zm0 0zm0-4zm0 2zm0-2zm0 3zm0 2zm0-3zm0 1zm0-1zm0 1zm1 1zm0-2zm0-1zm0 4zm0-4zm0-1zm0 1zm0 1zm0 1zm0 2zm0-1zm0 0zm0 1zm1-5zm0-1zm0 0zm0 2zm0 4zm0-5zm0 1zm1 4zm0-1zm0-5zm0 5zm0-5zm0 2zm0 2zm0-4zm0 6zm0 0zm0-4zm0 2zm0 2zm0-5zm0 3zm0-5zm0 6zm0-5zm0-1zm0 6zm1-2zm0-4zm0 0zm0 5zm0-1zm0 1zm0 0zm0-2zm0 0zm0 3zm0-3zm0 0zm0-2zm0 0zm1 4zm0-3zm0 3zm0-4zm0 4zm0-4zm0 1zm0 0zm0 4zm0-6zm0 2zm0-2zm1 5zm0-1zm0 1zm0-5zm0 7zm0 0zm0-3zm0-1zm0 3zm0-6zm0 4zm0 3zm0-6zm0 1zm0 3zm0 0zm0-5zm1 7zm0-5zm0 0zm0 3zm0-3zm0 0zm0 5zm0-6zm0 1zm0 2zm0 1zm1 1zm0-3zm0 1zm0 3zm0-6zm0 5zm0-1zm0 1zm0-5zm0 1zm0 2zm0 1zm0 2zm0 0zm0-5zm0 3zm1-2zm0-3zm0 0zm0 7zm0-3zm0-1zm0-1zm0 1zm0-3zm0 4zm0 3zm0 0zm0-2zm1-1zm0 0zm0 1zm0 0zm0-4zm0 1zm0 1zm0-2zm0 0zm0 6zm0-3zm0 3zm0-2zm0 0zm1-5zm0 7zm0 0zm0-7zm0 6zm0 1zm0-2zm0 0zm0 1zm0-4zm1 5zm0-2zm0 2zm0 0zm0-7zm0 0zm0 7zm0-5zm0 5zm0-3zm1-4zm0 7zm0-4zm0 4zm0-2zm0-3zm0 1zm0-1zm0 3zm0 0zm0-2zm0-2zm0 0zm0 2zm0 1zm0 3zm0-7zm0 5zm0-4zm0 6zm0 0zm0-2zm0 2zm1-1zm0 0zm0-6zm0 3zm0-2zm0 4zm0-3zm0 2zm1 1zm0-1zm0 1zm0-3zm1-1zm0-1zm0 1zm0-1zm0 3zm0 0zm0 1zm0 3zm0-5zm1-1zm0 5zm0-4zm0 1zm0-1zm1-1zm0 1zm0 2zm0-1zm0-1zm0 3zm0-3zm0 4zm1-3zm0 4zm0 0zm0-1zm0-6zm0 0zm0 5zm0-5zm0 3zm1 4zm0-1zm0-5zm0 4zm0-2zm1-2zm0 3zm0-3zm0 3zm1 2zm0-6zm1 4zm0 0zm0-2zm0-2zm0 1zm1 3zm0-2zm1 0zm0 3zm0-5zm1 7zm0-4zm0 4zm0-4zm1 2zm0-4zm0 6zm0-6zm0 1zm0 2zm1 0zm0 2zm1-6zm0 2zm2 1zm0 1zm0 0zm1-2zm2 2zm0 1zm8-2zm4-1zm-9 6zm-15 0zm0 2zm0 5zm-1-5zm-1 1zm0 4zm-2-6zm0 1zm0-1zm-1 4zm0-2zm0-2zm0 0zm0 5zm0-3zm-1 2zm0-4zm0 5zm0-5zm-1 3zm0 3zm0-7zm0 2zm-1 1zm0 1zm0 0zm0 0zm-1-3zm0 2zm0-3zm0 5zm0-3zm0-1zm0 5zm0-6zm-1 1zm0 5zm0-5zm0 3zm0-4zm0 2zm0 5zm0-5zm0 4zm-1-1zm0 2zm0-5zm0-2zm0 2zm0-1zm-1 3zm0-2zm0 1zm0 1zm0-1zm0 1zm0-1zm-1 2zm0-3zm0 3zm0-1zm0-2zm0-2zm0 7zm-1-7zm0 5zm0-2zm0 3zm0-5zm0-1zm0 0zm0 2zm0-1zm-1 2zm0 0zm0-1zm0 5zm0-3zm0-3zm0 3zm0 2zm0-4zm0 4zm0-1zm0 0zm-1-4zm0 2zm0-2zm0 6zm0-7zm0 1zm0 6zm0-6zm0 0zm0 2zm0 0zm0-1zm0 0zm0-2zm0 1zm-1 1zm0 0zm0 4zm0-1zm0 0zm0-3zm0 2zm0 2zm0-6zm0 7zm0-7zm0 5zm0-1zm0 2zm0-2zm0-2zm0-1zm-1-1zm0 1zm0 1zm0 0zm0 3zm0-5zm0 1zm0-1zm0 1zm0 1zm0 4zm0-4zm0-1zm0 1zm0 5zm-1 0zm0-1zm0-1zm0-5zm0 5zm0 2zm0-2zm0-1zm0-2zm0 4zm0-6zm0 7zm0-3zm0 1zm0-2zm0 0zm0-3zm-1 5zm0-5zm0 3zm0 2zm0-4zm0 6zm0-2zm0-4zm0 2zm0-3zm0 6zm0-2zm0-4zm0 1zm0 5zm0-5zm0 3zm0 1zm0-2zm0 3zm0-5zm0 1zm0-2zm-1 1zm0 5zm0-3zm0-3zm0 1zm0 0zm0 5zm0-5zm0 2zm0-1zm0-1zm0 1zm0-1zm0 0zm0 4zm0 0zm0-3zm0 2zm0-3zm0 4zm0-1zm0 1zm0-1zm-1 0zm0-3zm0 1zm0 0zm0-2zm0 1zm0 1zm0 1zm0 3zm0 1zm0-6zm0 1zm0 1zm0 3zm0 0zm-1-5zm0 4zm0 0zm0-4zm0 2zm0-1zm0 3zm0 1zm0-3zm0-2zm0 6zm0-2zm0 2zm0-5zm0 5zm0-1zm0-2zm0-1zm0 2zm0 2zm0-7zm0 7zm0-7zm0 1zm-1 5zm0-3zm0 3zm0-4zm0 1zm0 0zm0-3zm0 3zm0-3zm0 1zm0 5zm0-2zm0-4zm0 5zm0 2zm0-6zm0 2zm0 4zm0-6zm-1 5zm0-1zm0-5zm0 2zm0 0zm0-1zm0 1zm0 1zm0-2zm0 4zm0-2zm0-1zm0-1zm0 1zm0-2zm0 6zm0 1zm0 0zm0-4zm0 1zm0 3zm-1-4zm0 2zm0 2zm0-1zm0-1zm0-5zm0 3zm0 3zm0-3zm0 4zm0-1zm0-2zm0 1zm0-3zm0 1zm0 2zm0-4zm0 2zm0-3zm0 5zm0-5zm-1 6zm0-6zm0 3zm0-1zm0 3zm0-3zm0 2zm0-2zm0-1zm0 2zm0-1zm0 2zm0-2zm0 2zm0-4zm0 6zm0 1zm0-6zm0 4zm0-5zm0 1zm0 4zm0-3zm0 3zm0-3zm-1-1zm0 4zm0 0zm0-2zm0 2zm0 1zm0-3zm0 2zm0-5zm0 3zm0-2zm0 6zm0-2zm0 1zm0-5zm0 5zm0 0zm0-6zm0 3zm0-2zm0 4zm0 1zm0 0zm0-5zm0 0zm0 6zm0 0zm0-7zm0 7zm0-5zm0 0zm-1 1zm0 2zm0-5zm0 6zm0-5zm0 2zm0 2zm0-2zm0 4zm0-5zm0 5zm0-2zm0-2zm0 1zm0 3zm0-6zm0 4zm0-2zm0 2zm0-5zm0 1zm0 4zm0 1zm0-6zm0 2zm0-2zm0 3zm0-3zm0 0zm0 6zm0 1zm0 0zm0-5zm0 4zm0-4zm0 0zm0 3zm-1 0zm0-4zm0 1zm0 4zm0 0zm0-3zm0 2zm0-1zm0 1zm0-2zm0 2zm0 2zm0-3zm0-3zm0 0zm0-1zm0 0zm0 3zm0 3zm0-5zm0 6zm0-2zm0-5zm0 5zm0 2zm0-5zm-1-2zm0 3zm0 4zm0-5zm0 5zm0-7zm0 0zm0 0zm0 6zm0-2zm0 2zm0 1zm0 0zm0-2zm0-2zm0-3zm0 0zm0 7zm0-3zm0-4zm0 6zm0 1zm0-7zm0 4zm0 1zm0-3zm0 4zm0-3zm0 1zm0-1zm0 4zm0-4zm0-1zm0-2zm0 1zm0 1zm-1-2zm0 2zm0-2zm0 4zm0-3zm0-1zm0 1zm0 3zm0-1zm0-1zm0 2zm0-1zm0 3zm0-5zm0-1zm0 0zm0 4zm0-1zm0-2zm0 3zm0-1zm0 4zm0-7zm0 6zm0-2zm0-4zm0 7zm0-5zm0 5zm0-6zm0 4zm0-4zm-1 0zm0 5zm0 0zm0-4zm0-1zm0 3zm0-2zm0 5zm0-5zm0 5zm0-4zm0 3zm0-6zm0 0zm0 4zm0-3zm0-1zm0 5zm0-1zm0 1zm0 0zm0 0zm0-2zm0 3zm0-6zm0 6zm0 1zm0-4zm0 2zm0-3zm0 0zm-1 4zm0 1zm0-2zm0-3zm0 3zm0 1zm0-2zm0-3zm0-1zm0 1zm0 3zm0-2zm0 0zm0 4zm0 1zm0-6zm0 4zm0-4zm0 4zm0-1zm0 1zm0-3zm0-1zm0 1zm0 3zm0 0zm0-5zm0 2zm0 3zm-1 2zm0-3zm0-4zm0 4zm0 2zm0 0zm0 1zm0-7zm0 6zm0-5zm0-1zm0 3zm0 4zm0-4zm0 4zm0-5zm0 2zm0 3zm0-2zm0 2zm0-2zm0-3zm0-1zm0 3zm0-3zm0 1zm0 4zm0-1zm0-5zm0 6zm0-4zm-1 4zm0-3zm0 2zm0-4zm0 6zm0-7zm0 3zm0 4zm0 0zm0-1zm0-4zm0 5zm0-3zm0 3zm0-1zm0-2zm0 3zm0-1zm0 1zm0-2zm0-1zm0-4zm0 3zm0 1zm0-1zm0 2zm0-1zm0 1zm0-4zm0 4zm0-4zm0 3zm0 1zm0-4zm0 0zm0 6zm0 0zm0 0zm0-5zm0 5zm0 0zm0-5zm-1 5zm0-2zm0-2zm0 1zm0-3zm0 6zm0 0zm0-3zm0-1zm0-2zm0 4zm0-5zm0 7zm0-4zm0 1zm0 0zm0 0zm0 1zm0 1zm0-5zm0 6zm0-1zm0 0zm0-4zm0 2zm0-2zm0-2zm0 6zm0-5zm0 5zm0 1zm0-5zm0-1zm0 5zm0 0zm-1-1zm0-1zm0-1zm0 2zm0 1zm0-5zm0 6zm0-1zm0-5zm0 3zm0 0zm0 2zm0-1zm0-2zm0-2zm0 6zm0-4zm0 4zm0-2zm0 0zm0-1zm0 3zm0-7zm0 2zm0 1zm0 4zm0-1zm0 0zm0-3zm0-1zm0 1zm-1 0zm0-1zm0 4zm0-2zm0-3zm0 6zm0 0zm0-4zm0-1zm0 5zm0-1zm0-6zm0 0zm0 2zm0 4zm0-2zm0 0zm0-3zm0 4zm0 2zm0-2zm0 2zm0-4zm0 4zm0-4zm0 3zm0-1zm0 2zm0-3zm0-4zm0 1zm0 1zm0 3zm0 2zm0-1zm0-2zm0 3zm0-1zm-1 0zm0 1zm0-1zm0-1zm0-1zm0 2zm0-4zm0 1zm0 1zm0-3zm0 2zm0 4zm0-2zm0-3zm0-1zm0 4zm0-3zm0-2zm0 6zm0-4zm0 4zm0 1zm0-6zm0 5zm0-6zm0 5zm0 1zm0-3zm0 2zm0 1zm0-3zm0 0zm-1-1zm0 0zm0 2zm0-3zm0 2zm0 2zm0-1zm0 3zm0-3zm0 0zm0 2zm0-1zm0 0zm0-3zm0 1zm0-1zm0 4zm0-4zm0 4zm0-1zm0 0zm0 2zm0 0zm0 0zm0-2zm0-2zm0 0zm-1 2zm0 1zm0-2zm0-4zm0 5zm0-5zm0 5zm0 2zm0-1zm0 0zm0-1zm0 2zm0-3zm0 3zm0-4zm0 0zm0-2zm0 4zm0 0zm0-2zm-1 4zm0-4zm0 1zm0 0zm0 0zm0-2zm0 5zm0-5zm0 4zm0 1zm0-7zm0 0zm0 1zm0 3zm0-2zm0 3zm0-1zm0 3zm0-2zm0-3zm0 0zm0 1zm-1-1zm0 4zm0-6zm0 1zm0 3zm0 0zm0-3zm0 1zm0 1zm0-1zm0 3zm0 1zm0 1zm0-4zm0 4zm0-2zm0-4zm-1 5zm0 0zm0 1zm0-3zm0-4zm0 6zm0-3zm0-1zm0 3zm0-5zm0 4zm0 2zm0-1zm0 2zm0-2zm0-3zm0 4zm0-2zm0 1zm0-5zm0 0zm0 6zm0-3zm0 4zm0 0zm-1-5zm0 2zm0 3zm0-3zm0-3zm0 1zm0 0zm0 2zm0 0zm0 2zm0 1zm0-1zm0-1zm0-3zm0 5zm-1-1zm0-2zm0-1zm0 3zm0-4zm0 4zm0-4zm0-2zm0 5zm0 1zm0-3zm0 2zm0-3zm-1-2zm0 0zm0 5zm0 0zm0 1zm0-5zm0 5zm0-2zm0-3zm0 1zm0 3zm0 2zm0-6zm0 5zm0 1zm0-1zm0 0zm0-3zm0 4zm0-1zm0 0zm-1-5zm0 6zm0-1zm0-6zm0 0zm0 5zm0 0zm0 2zm0 0zm0-5zm0 3zm0-5zm0 7zm0-4zm-1 4zm0-2zm0-2zm0 1zm0 3zm0 0zm0-2zm0 0zm0 1zm0-1zm0-4zm0 4zm0 2zm0-1zm0-3zm0-2zm-1 1zm0 5zm0 0zm0-6zm0 6zm0-5zm0 2zm0-2zm0 1zm0 1zm0 1zm0-1zm0 1zm0 2zm0-6zm0 2zm0-1zm0 3zm-1-2zm0-2zm0 3zm0 1zm0-3zm0 5zm0-4zm0-1zm0 1zm0 2zm0 0zm-1-4zm0 4zm0-5zm0 7zm0-2zm0-3zm0 5zm0 0zm0-1zm0 0zm0-2zm0 3zm0 0zm-1-1zm0-6zm0 0zm0 7zm0 0zm0 0zm0-4zm0 3zm0-1zm0 0zm-1-1zm0 0zm0 2zm0 1zm0-2zm-1-4zm0 6zm0-1zm0 0zm0 1zm0-3zm0 1zm0-1zm-1 3zm0-2zm0-1zm0-3zm0 2zm0-2zm-1 5zm0-1zm0 0zm0-1zm0 1zm0 2zm-1-4zm0-1zm0 4zm0-4zm0-2zm0 0zm0 6zm-1 0zm0 1zm0 0zm0-4zm0-1zm0 5zm0-2zm0 1zm0 1zm0-3zm0 2zm-1-3zm0 2zm-1-1zm-1 3zm0-4zm-1 3zm0-1zm-1-3zm0 5zm0-2zm0-1zm0 3zm0-4zm-2 4zm0 0zm-1-1zm-1-2zm0 3zm-2-6zm-5 4zm-4-1zm-5 3zm-18-1zm0-5zm-1 3zm-3-2zm-7 4zm-18-2zm-153-4zm-149 1zm-5 4zm0 2zm-4-7zm0 0zm-7 4zm-9-4zm-1 4zm-9-4zm-2 3zm-9 4zm-16 6zm12-3zm0-1zm6 4zm18-1zm5 0zm1 3zm8-3zm4-2zm5-2zm14 1zm119 5zm159 1zm5-5zm1 2zm2-3zm0 5zm1-3zm1 1zm1-2zm4 2zm3-4zm4 5zm1-1zm0 3zm11-3zm1 1zm1-1zm4 3zm1-1zm1 0zm9 0zm5-4zm0 1zm2-3zm3 4zm1-2zm1 0zm4 5zm1-1zm1-5zm1 4zm0 1zm0 0zm0 0zm0-2zm1 3zm0-5zm1 0zm0 5zm0-5zm0 2zm0 1zm1-4zm0 6zm0-1zm0-1zm0-2zm0 1zm0 0zm1-3zm1 3zm0-1zm0 3zm0-5zm0 5zm0 1zm0-2zm0 0zm0 0zm0 2zm0-2zm1-5zm0 5zm0-2zm0 3zm0-1zm0 2zm1-7zm0 5zm0-1zm0-3zm0 2zm0 2zm0 1zm0 0zm0-1zm0 0zm1-1zm0 3zm0-1zm0 0zm0 0zm0 0zm0-3zm0 2zm1 2zm0-6zm0 3zm0 2zm0-4zm0-1zm0 0zm0 4zm0-4zm0 3zm0 1zm0-3zm0 2zm1 1zm0-1zm0-3zm0 6zm0 0zm0-2zm0 0zm0-4zm1 4zm0-5zm0 6zm0 0zm0-5zm0 3zm0 1zm0-1zm0-3zm0 5zm0 1zm0-2zm0 0zm1-5zm0 7zm0-4zm0-1zm0 5zm0-1zm0-3zm0-2zm0-1zm0 3zm0 3zm0-1zm0-2zm0-3zm0 0zm1 4zm0-4zm0 7zm0-5zm0-1zm0 3zm0 2zm0-1zm0 2zm0-3zm0 2zm0-4zm0 3zm1-4zm0 3zm0 1zm0 0zm0-3zm0 2zm0-3zm0 2zm0 3zm0-5zm0 4zm0-1zm1 2zm0-2zm0-1zm0 4zm0-7zm0 1zm0 5zm0 1zm0-4zm0-2zm0-1zm0 7zm0-2zm0 1zm0-1zm0-3zm0 5zm0-3zm1 3zm0-1zm0-4zm0-1zm0 4zm0 1zm0-3zm0-3zm0 0zm0 7zm0-1zm0-1zm0-2zm0-3zm0 1zm0-1zm1 7zm0 0zm0-2zm0-1zm0-3zm0 2zm0 3zm0-6zm0 2zm0 3zm0-5zm0 4zm0-3zm0 6zm0-7zm1 3zm0-1zm0-2zm0 6zm0 0zm0 0zm0 0zm0 0zm0-3zm0 2zm0 2zm0-5zm0-1zm0 2zm0-1zm0 3zm0 1zm0-6zm0 4zm0 2zm0 0zm1 1zm0-4zm0 2zm0 2zm0-3zm0-4zm0 5zm0 2zm0 0zm0-1zm0-5zm0 1zm0 4zm0 1zm0-6zm0 1zm0 2zm0-1zm0 0zm0 4zm0-5zm0 4zm0-4zm1 0zm0 2zm0-4zm0 6zm0-5zm0 4zm0 1zm0-4zm0 4zm0-4zm0 2zm0-1zm0 0zm0 3zm0 0zm0-6zm0 4zm0-4zm0 4zm0 2zm0-5zm0 0zm0 1zm0-2zm0 3zm0-3zm0 7zm1-7zm0 4zm0 0zm0 3zm0-6zm0 6zm0-3zm0-1zm0-1zm0 3zm0 1zm0-5zm0 6zm0-7zm0 7zm1-7zm0 6zm0-6zm0 4zm0 1zm0-1zm0-3zm0 6zm0-2zm0-3zm0 3zm0-4zm0 6zm0-3zm0 1zm0-5zm0 1zm0-1zm0 2zm0-2zm0 5zm0-4zm0-1zm0 5zm0 2zm0-2zm0 0zm0-1zm0 0zm0 3zm1-1zm0-5zm0 5zm0 0zm0-6zm0 2zm0-2zm0 5zm0-1zm0-4zm0 2zm0 4zm0-6zm0 0zm0 4zm0 1zm0-3zm0 1zm0 1zm0 0zm0 3zm0-3zm0-4zm0 4zm0-2zm0-2zm1 4zm0-1zm0 3zm0-3zm0-1zm0 3zm0-3zm0-2zm0 4zm0-4zm0 7zm0-6zm0 5zm0 1zm0-7zm0 3zm0 3zm0-1zm0-2zm1 2zm0-4zm0 6zm0-2zm0 0zm0-3zm0 1zm0 4zm0-2zm0 1zm0-3zm0 1zm0-1zm0-3zm0 4zm0 0zm0 2zm0-6zm0 5zm0 0zm0-1zm0 2zm0-1zm0-5zm0 4zm0-1zm0-1zm0 4zm0-2zm0 2zm0-5zm0 2zm0 1zm0 3zm0-6zm0 3zm0 2zm0-3zm0-1zm1-2zm0 3zm0-1zm0-2zm0 6zm0 0zm0-5zm0 2zm0-2zm0 2zm0 3zm0-3zm0-1zm0-1zm0 0zm0 0zm0 1zm0-1zm0 1zm0 3zm0-1zm0 1zm0-5zm0 1zm0 1zm1 1zm0 2zm0 1zm0-2zm0-2zm0-1zm0 3zm0-4zm0 2zm0 1zm0 2zm0-2zm0 3zm0-5zm0 1zm0 2zm0-3zm0 0zm0 4zm0 1zm0-6zm0 4zm0-2zm0 2zm0 1zm0-3zm0-1zm0 2zm1-1zm0 1zm0-2zm0 6zm0-7zm0 3zm0 1zm0 1zm0-2zm0 2zm0-1zm0 1zm0-5zm0 0zm0 0zm0 4zm0-1zm0-1zm0 1zm0-3zm0 6zm0 1zm0-3zm0-2zm0 1zm0 3zm0-2zm0-4zm0 1zm0 5zm1-3zm0 4zm0-7zm0 2zm0-1zm0 3zm0-4zm0 1zm0-1zm0 2zm0 5zm0-6zm0 6zm0-1zm0-5zm0 1zm0 1zm0-2zm0-1zm0 1zm0 3zm0-2zm0 5zm0-4zm0-3zm0 0zm0 4zm0 1zm0 0zm0 0zm0-1zm0 3zm0-1zm0-6zm0 0zm0 4zm0-1zm0 4zm0-1zm0-4zm0 2zm1 2zm0-6zm0 5zm0-1zm0-1zm0 2zm0-5zm0 6zm0-1zm0 1zm0-6zm0 5zm0-4zm0 0zm0 5zm0-6zm0 5zm0-4zm0 3zm0 0zm0 2zm0-6zm0 4zm0 2zm0-2zm0 1zm0-4zm0 0zm0 3zm0-1zm0 0zm0 0zm0 0zm0-1zm0 3zm0-5zm0 3zm0 1zm0 3zm0-1zm0 0zm0-5zm1-1zm0 1zm0 3zm0-4zm0 2zm0 0zm0 2zm0-4zm0 5zm0-2zm0 4zm0-5zm0 1zm0-1zm0 2zm0 2zm0 0zm0-5zm0 6zm0 0zm0 0zm0-1zm0-5zm0-1zm0 5zm0-5zm0 4zm0 1zm0 0zm0-1zm0 1zm0-5zm0 4zm0-4zm0 5zm0-2zm0-3zm0 7zm1-3zm0-2zm0 4zm0 0zm0 1zm0 0zm0-4zm0-2zm0 3zm0-4zm0 6zm0-4zm0 1zm0-3zm0 7zm0-7zm0 2zm0 0zm0 5zm0-4zm0-2zm0 2zm0 2zm0-3zm0-1zm0 3zm0 3zm0-7zm0 2zm0-1zm0 5zm0 0zm0 1zm0-5zm1-2zm0 5zm0-2zm0 3zm0-1zm0-1zm0-3zm0 4zm0-4zm0 0zm0 0zm0 1zm0 0zm0 2zm0 1zm0-5zm0 4zm0-2zm0-2zm0 1zm0-1zm0 2zm0 0zm0-1zm0 5zm0 0zm0-4zm0 0zm0 1zm0 2zm0-3zm1 0zm0-2zm0 0zm0 2zm0 1zm0-3zm0 3zm0 0zm0 0zm0 2zm0-4zm0 3zm0-4zm0 4zm0-4zm0 0zm0 7zm0-2zm0-3zm0 0zm0-2zm0 2zm0-2zm0 1zm0 2zm0 1zm0-4zm0 4zm0-2zm0 0zm0 2zm1-4zm0 3zm0 1zm0 0zm0-1zm0 1zm0-4zm0 2zm0-1zm0 1zm0 0zm0 0zm0 3zm0-4zm0 0zm0 3zm0-3zm0 0zm0 3zm0-1zm0 0zm0 3zm0 1zm0-7zm0 4zm0-2zm0 2zm0-4zm0 1zm0-1zm1 0zm0 3zm0-1zm0-1zm0 4zm0-1zm0-3zm0 3zm0 0zm0-3zm0 6zm0-5zm0 4zm0-5zm0 0zm0-1zm0 4zm0 3zm0-5zm0-1zm0-1zm0 0zm0 3zm0-1zm0 1zm1 2zm0-5zm0 5zm0-3zm0 5zm0-4zm0 1zm0-1zm0 0zm0-2zm0 4zm0-4zm0-1zm0 0zm0 5zm0-4zm0-1zm0 1zm0 1zm0 2zm0-2zm1 3zm0 2zm0-3zm0 2zm0-3zm0-3zm0 4zm0 1zm0-2zm0-2zm0 1zm0 3zm0-5zm0 1zm0 6zm0-4zm0-2zm0 0zm0 0zm0 2zm0-3zm0 2zm1 0zm0 2zm0 2zm0 1zm0-6zm0 4zm0-2zm0 1zm0-4zm0 1zm0 2zm0-2zm0 2zm0 2zm0-5zm0 0zm0 3zm0 4zm0-5zm0 0zm0 0zm0 3zm0-4zm0 0zm0-1zm0 3zm0-1zm1 0zm0-1zm0 6zm0 0zm0-2zm0-5zm0 0zm0 0zm0 1zm0 4zm0-4zm0-1zm0 2zm0 3zm0-1zm0-3zm0 0zm0 2zm0-1zm0 0zm0-1zm0 1zm0 0zm0-1zm0-1zm0 1zm0 2zm0 3zm0-4zm1-2zm0 6zm0-6zm0 3zm0 4zm0-7zm0 0zm0 7zm0-1zm0 0zm0-6zm0 5zm0 0zm0 1zm0-2zm0-3zm0 4zm0 1zm0-5zm0 0zm0-1zm0 1zm0 4zm0 2zm0-4zm1 2zm0-4zm0 4zm0-4zm0-1zm0 1zm0-1zm0 4zm0-3zm0 5zm0-5zm0 5zm0-4zm0 2zm0-1zm0 0zm0 3zm1 0zm0-2zm0-4zm0 4zm0 2zm0-5zm0 0zm0 4zm0-2zm0 1zm0-2zm0 4zm1-1zm0-3zm0 4zm0-6zm0 4zm0-4zm0 0zm0 1zm0 1zm0 4zm0 1zm0-7zm0 5zm0-4zm0 2zm0-2zm0 1zm0-2zm0 2zm0 1zm0 4zm1-5zm0 3zm0 2zm0-7zm0 0zm0 5zm0 0zm0-5zm0 0zm0 5zm0-2zm0 0zm0-2zm0-1zm0 5zm0-3zm1 0zm0 2zm0-2zm0-2zm0 3zm0-1zm0 1zm0 1zm0-3zm0 1zm0 5zm0-7zm0 1zm0 0zm0-1zm1 3zm0-3zm0 7zm0-3zm0-3zm0 2zm0 0zm0 1zm0-2zm1-2zm0 5zm0-4zm0 6zm0-5zm0-2zm0 1zm0 4zm0-4zm0 3zm0-4zm0 4zm0-2zm0-1zm0 5zm1-4zm0 3zm0-2zm0 4zm0-6zm0 2zm0-3zm0 4zm0-2zm0 4zm0-6zm0 5zm1-2zm0 0zm0 0zm0 1zm0-2zm0-1zm1 5zm0-5zm0 3zm0 1zm1-4zm0-1zm0 2zm0 1zm0 2zm0-5zm0 2zm1 5zm0-3zm0-2zm0-2zm0 3zm1-1zm0 0zm0 0zm0-1zm0 0zm0 4zm1-4zm0-1zm1 1zm0 2zm0-3zm0 3zm1 0zm0-2zm0-1zm0 2zm0 3zm1-3zm0 0zm0-1zm1 0zm0 0zm2-1zm1 2zm3 5zm1-7zm1 0zm4 2zm1 0zm3 1zm0 2zm0-5zm1 2zm0-2zm-10 8zm-9 0zm-2 1zm-1 2zm-3-3zm-3 4zm0-4zm0 0zm-1 2zm-2-2zm-1 3zm0-3zm0 0zm0 1zm-1-1zm-1 7zm0-7zm0 0zm0 2zm0 0zm-1 5zm-1-6zm0 3zm0-2zm0 4zm0-4zm0-1zm-1 1zm0-2zm0 1zm-1-1zm-1 2zm0-2zm0 2zm-1-2zm0 1zm0 1zm0-2zm0 1zm-1 1zm0-1zm0 4zm0-4zm0 0zm-1 0zm0 2zm0-3zm0 1zm0 1zm0 1zm0 4zm0-6zm-1-1zm0 3zm0-3zm0 5zm0-4zm0 2zm0-2zm0 1zm0-2zm0 1zm0 0zm0 0zm-1 2zm0 1zm0-4zm0 1zm0-1zm-1 1zm0 0zm0-1zm0 4zm0 2zm0-2zm0 0zm0 1zm0-3zm0 0zm0-1zm0 1zm-1 1zm0 0zm0-2zm0 4zm0-5zm0 0zm0 0zm0 0zm0 2zm0 0zm-1 1zm0-2zm0-1zm0 0zm0 3zm0 3zm0-3zm0-3zm0 0zm0 1zm0-1zm0 2zm0 0zm-1 4zm0-2zm0 1zm0-1zm0-4zm0 1zm0-1zm0 6zm0 1zm0-5zm0 1zm0-3zm-1 5zm0-5zm0 3zm0-3zm0 7zm0-5zm0-1zm0 6zm0-4zm0-1zm0 3zm0-1zm0-4zm0 0zm-1 0zm0 3zm0 0zm0-2zm0 0zm0 1zm0 2zm0-4zm-1 1zm0 1zm0 0zm0-1zm0 2zm0 3zm0-5zm0 0zm0 1zm0-1zm-1 1zm0 2zm0-4zm0 3zm0-2zm0-1zm0 0zm0 3zm0-3zm-1 2zm0 3zm0-1zm0 2zm0-5zm0 1zm0 2zm0-2zm0 1zm0 0zm0 1zm0-3zm0 2zm0-2zm0 1zm-1-1zm0 4zm0-2zm0 0zm0 0zm0 0zm0-3zm0 1zm0 3zm0-4zm-1 7zm0-3zm0-3zm0-1zm0 7zm0-7zm0 0zm0 3zm0 2zm0-4zm0 1zm-1 4zm0-1zm0-2zm0-3zm0 3zm0-3zm0 0zm0 2zm0 3zm0 0zm0 2zm0-6zm0 2zm0-1zm0 2zm0 3zm0-7zm0 3zm0 1zm-1 2zm0-5zm0 0zm0 6zm0-6zm0 1zm0 1zm0-1zm0 3zm0-3zm0-1zm0 2zm0-2zm0 0zm0 2zm-1-2zm0-1zm0 2zm0-2zm0 4zm0-2zm0 1zm0 1zm-1-2zm0-2zm0 1zm0 0zm0 1zm0 2zm0-4zm0 0zm0 1zm0 1zm0 3zm0-5zm0 2zm0 1zm0 4zm0-1zm0 0zm-1-2zm0 3zm0-6zm0 6zm0-5zm0 0zm0 2zm0-1zm0 2zm0-2zm0-2zm0 0zm0 5zm0 1zm0-5zm0 0zm0-2zm0 4zm-1-4zm0 0zm0 1zm0-1zm0 5zm0 2zm0-5zm0 5zm0-4zm0-1zm0-1zm0 2zm0 1zm0 0zm0 0zm0-2zm0 4zm0-5zm-1 3zm0-4zm0 2zm0-1zm0-1zm0 1zm0 2zm0-3zm0 7zm0-4zm0 0zm-1-3zm0 1zm0-1zm0 0zm0 3zm0 3zm0 0zm0-5zm0 0zm0 0zm0 5zm0-2zm0-1zm0-3zm-1 2zm0-2zm0 4zm0-3zm0-1zm0 5zm0-5zm0 2zm0 0zm0 4zm0-4zm0 5zm-1-7zm0 1zm0 4zm0-5zm0 3zm0 1zm0-1zm0-1zm-1 3zm0-5zm0 4zm0-1zm0-3zm0 3zm0-3zm0 6zm0-3zm0 4zm0-5zm0 0zm0 0zm-1-1zm0 4zm0-3zm0 0zm0 0zm0 1zm0-2zm0 0zm0 4zm0-4zm0 6zm0-5zm0-1zm0 0zm-1 0zm0 0zm0 5zm0-1zm0-2zm0-3zm0 2zm0 0zm0-1zm0 2zm0-3zm0 1zm0 5zm0-4zm0 5zm-1-1zm0-1zm0-2zm0 3zm0-3zm0-2zm-1 0zm0 0zm0-1zm0 7zm0-2zm0-1zm-1-2zm0 2zm0 2zm0-5zm0 3zm0 2zm0-1zm0-1zm0-3zm0 2zm0-2zm0 4zm-1 1zm0-4zm0 5zm0-7zm0 4zm0 2zm0-5zm0 2zm0 0zm-1 0zm0 1zm0-4zm0 5zm0 0zm0 2zm0-4zm0-3zm0 2zm-1 0zm0 5zm0-2zm0-4zm0 5zm0-1zm0-1zm-1 2zm0-2zm0 3zm0-1zm0-3zm0 4zm0 0zm0-4zm0 3zm0-1zm0 0zm-1-2zm0-2zm0 4zm0 0zm0 0zm-1-5zm0 7zm0-3zm0 0zm-1 0zm0-2zm0-2zm0 1zm0 3zm0 0zm0 0zm-1-2zm0-2zm0 4zm0-4zm0 7zm-1-5zm0-1zm0 5zm0 1zm-1-2zm0-1zm-1 0zm0-3zm0 0zm0 2zm-1 0zm0 2zm0 2zm-1-7zm0 7zm0 0zm-1-1zm0-4zm-1 5zm-1-5zm-1 2zm-2 3zm-1-5zm-1 2zm0-1zm-1-1zm-6 0zm0 1zm0 0zm-2-2zm-2 6zm0-4zm0-1zm-1 5zm-2-1zm0 1zm-1 0zm0-3zm0 2zm0-5zm-1 5zm-3-2zm-2 1zm-1 2zm-1-2zm0 1zm-1-5zm-1 6zm0-1zm-3-3zm-1 1zm-2-4zm0 7zm0-4zm0 4zm-3-2zm-2-1zm0-2zm-1 3zm-1 1zm-3-4zm0-1zm-2 3zm-2 1zm0-3zm-1 4zm0-6zm0 5zm-1-2zm-1 2zm0 0zm-2-5zm-1 7zm0-1zm-4-2zm0 1zm-1-1zm-1 3zm-1-2zm-8 1zm-2-2zm-2 0zm-1 1zm-8-3zm-7-2zm-241 5zm-5 2zm-1-3zm-3-2zm-48 13zm6 0zm13-4zm5-1zm12-1zm4 5zm4-4zm1 3zm0 1zm1-4zm6 5zm1-5zm3 2zm1-4zm15 7zm18 0zm19-3zm70 1zm29-2zm24-1zm35 4zm12-5zm11 4zm2-3zm9-1zm1 6zm5 0zm4-1zm3 0zm1 1zm2-3zm5 2zm4-1zm1 2zm0-5zm2 2zm0-3zm1 2zm1-3zm0 6zm2-1zm1-1zm1-2zm2 1zm1 1zm0 3zm0-4zm0 4zm1-4zm3 1zm0 0zm0-3zm1 5zm1-4zm2 2zm1 2zm0-3zm0 1zm1-3zm0 1zm0 2zm1-1zm0 3zm1 0zm1-4zm0 1zm1 2zm0-5zm0 3zm0 1zm1 2zm1-4zm3 5zm3-1zm2-2zm1-2zm1-1zm0 1zm1 3zm1 0zm0-5zm2 4zm1-1zm1 0zm0 4zm0-2zm2-1zm1 3zm0-4zm2-1zm1 4zm2-4zm3 3zm1 1zm1-3zm1 1zm2-2zm0-1zm2 0zm1 0zm0 6zm1-7zm0 7zm0-1zm2-4zm2 1zm0 3zm1-3zm0-1zm0 5zm1-5zm0 5zm1-6zm0 0zm0 1zm0-2zm1 2zm0 0zm1 3zm0 0zm0-2zm0-1zm0-1zm1 0zm0 1zm1 0zm0-1zm1 0zm0 0zm0 2zm0 4zm1-6zm0 2zm0-3zm0 0zm0 4zm1 0zm1-1zm0 1zm1-3zm0-1zm0 2zm0 1zm0-3zm1 7zm0-5zm0 1zm0 3zm0-6zm1 1zm0-1zm0 4zm1-4zm0 0zm1 0zm0 2zm1-2zm0 3zm1-3zm0 2zm0-1zm1-1zm0 0zm0 2zm1 0zm0 1zm0 4zm3-2zm0-5zm1 0zm0 0zm0 5zm1-2zm0-2zm1 0zm0-1zm0 1zm1-1zm2 0zm1 1zm0-1zm1 0zm1 5zm1 1zm1-6zm2 0zm1 0zm4 1zm0 1zm2 1zm3 0zm3 4zm3-5zm-32 7zm-2 4zm-9 1zm-2-5zm-5-1zm0 2zm-2 1zm-1-3zm-2 0zm-4 5zm-2 2zm0-3zm-1-2zm-1-1zm-1 3zm0-4zm-4 5zm-1 0zm-1 0zm0-1zm-6 1zm-1-1zm-1-3zm-1-1zm-3 0zm-2 2zm0 0zm-3 4zm0-6zm-1 4zm-1 2zm0 0zm-2-2zm0-4zm0 7zm-1-6zm-1 5zm-2 0zm0-3zm-2 0zm0-1zm0 0zm0 0zm-3 4zm-1-5zm0 2zm-1-3zm0 5zm-1 0zm-1 1zm-5-4zm-1 3zm-1-5zm-1 0zm-1 2zm0-1zm-1 0zm0 6zm-2-5zm0 4zm-3-3zm-4-3zm-2 2zm-2-1zm0 4zm0-2zm-1 0zm-1-2zm-1 1zm0 4zm0 0zm0-3zm-5 3zm-2 1zm-1-4zm0 0zm-1 4zm0-7zm0 4zm-2 2zm-1 0zm-6-4zm-3 0zm-1 2zm-24 0zm-5-1zm-5-3zm-16 2zm-42 4zm-35-4zm-25-1zm-3 0zm-6 5zm-1-2zm-18 1zm-5 2zm-6 0zm-2 0zm-31-6zm-4 4zm-1-1zm-1 2zm0-1zm-1 1zm0-5zm-2 3zm-6 1zm-2 1zm-9 0zm-9 0zm-2 1zm-4-7zm-7 4zm-4-2zm-4 2zm-3 1zm-13-4zm-13 12zm2-1zm8 3zm13-6zm4 1zm2 0zm0-1zm3 2zm1-2zm4 0zm1 6zm0-2zm2-1zm0 0zm4-1zm1 3zm1-5zm2 5zm1-1zm0-1zm1-1zm3-2zm0 2zm0 0zm1 0zm4-3zm2 5zm0-1zm3-2zm0 2zm1-3zm0-1zm2 0zm0 4zm0 0zm1 2zm4-5zm0 5zm0-6zm1 0zm1 2zm0-1zm0 2zm1 0zm2 0zm1-2zm1 2zm0-1zm1-1zm2 4zm0-3zm1 0zm1-1zm0-1zm1 2zm2-2zm3 0zm3 4zm4 1zm3-5zm14 2zm0 4zm1-1zm17-5zm33 0zm1 0zm2 5zm21 2zm24-6zm5 3zm13 3zm5-1zm16 0zm4 1zm1-2zm16-3zm17 1zm2-3zm0 6zm1-6zm1 1zm0 4zm8 2zm8-2zm2-1zm1 2zm4-5zm9 4zm2-4zm2 1zm5 0zm1-2zm5 0zm0 3zm1-3zm3 0zm1 1zm0 0zm3-1zm1 5zm3-5zm1 1zm0 1zm1 2zm0-4zm2 0zm1 5zm0-4zm2 1zm2 4zm2-3zm5-3zm2 1zm0 1zm2-1zm1 1zm0-1zm0 6zm1-7zm1 4zm1-3zm1 3zm2-2zm2 5zm3-3zm2-4zm8 3zm7-1zm2-2zm-25 12zm-5-3zm-5 2zm-10 4zm-7-6zm-8 1zm-1 1zm-1 2zm-4 2zm-2-2zm-1-5zm-3 1zm-1 3zm-1-2zm-5-2zm0 4zm-10 3zm-1 0zm-4-2zm-5-5zm-1 4zm-3 3zm-31-2zm0-5zm-16 4zm-5 2zm-7 0zm-4-4zm-17 5zm-2-7zm-5 0zm-6 7zm-18-2zm-6 1zm-4 0zm-1-2zm-1-2zm-1-1zm-1 3zm-23-2zm-1 2zm-1 3zm-12-6zm-9 4zm-1 1zm-8-3zm-2 3zm-2-1zm-14-4zm0 0zm-7 5zm0-5zm0 3zm-2-2zm-1 0zm-4 0zm-1 2zm-1 1zm-1-4zm-2 6zm0 0zm0-2zm-1-4zm-1 3zm-2-1zm0 2zm0-2zm-1-3zm-1 0zm0 1zm-3 1zm0 1zm0-1zm0 0zm-3 5zm-1-3zm0 3zm0-4zm0 4zm-1 0zm-1-4zm0 3zm0-6zm0 6zm0-3zm-2 0zm0 4zm0-2zm-1 2zm0-3zm-1 3zm-1-5zm-1 5zm0-2zm-1-5zm-1 7zm0-7zm-2 4zm-2-4zm0 7zm0-6zm-1 5zm0-1zm0-2zm0 2zm-1-3zm-2 0zm-2 1zm0 3zm0 1zm-1-5zm0 5zm0 0zm-2-7zm0 5zm0 2zm-1-3zm0 1zm0-4zm0-1zm-1 7zm0-4zm-1 3zm-3-5zm0 3zm0-3zm-1 4zm-2-2zm-4 3zm0-2zm-2-2zm0 0zm0 4zm-3-2zm-1 3zm-1-5zm-3 1zm-5-3zm-9 7zm-25-5zm0 2zm7 7zm9 4zm7-7zm1 1zm0 4zm1-2zm4 3zm2-1zm2 2zm2-1zm0 0zm1-5zm0-1zm1 6zm0-2zm1 3zm0 0zm2-2zm1 1zm0-5zm0 4zm2-3zm2 2zm1 0zm1 1zm0-2zm2-2zm0 2zm0 3zm1-3zm1-2zm0 1zm0-2zm0 3zm0 1zm0-3zm0 5zm1-5zm0 2zm2-3zm1 4zm0 0zm0 0zm2 3zm0-4zm0 0zm0 2zm1 1zm0 1zm1-2zm0 2zm0-2zm1 0zm0-3zm2 5zm0-2zm0-3zm1 4zm0-3zm0-2zm1 3zm0-2zm0 4zm2 1zm0-4zm1 1zm0-2zm0 2zm0 1zm1-2zm0 1zm1-1zm0 4zm0-3zm0-1zm1 2zm0 1zm2-5zm0 3zm0-2zm0 4zm1-2zm0-2zm0 1zm0 3zm0-3zm1 3zm0-1zm1-4zm1 3zm0-4zm1 2zm0-2zm0 4zm0 3zm0-2zm0-1zm0 1zm0 0zm0-4zm1-1zm0 5zm0-1zm1-1zm0 2zm0 2zm1 0zm0-6zm0 2zm1 4zm0-7zm1 5zm0 1zm0 0zm1-3zm0-1zm0 0zm1 2zm0 2zm0-1zm0-1zm0 1zm0-5zm1 4zm1 1zm1-2zm0 3zm1 1zm0 0zm0-5zm0 3zm1 0zm0 0zm0-5zm1 5zm0 2zm0-2zm1 1zm0 0zm1-2zm1 3zm0 0zm0-4zm1-2zm1 3zm0-4zm0 0zm1 3zm1 2zm0-2zm1 3zm0 1zm0-7zm0 6zm1-6zm0 4zm1-2zm0 2zm0 0zm1 3zm1-2zm1-3zm0 1zm0-2zm1 0zm0 1zm0-1zm0 6zm3-7zm0 7zm0-1zm0 0zm1-4zm1 2zm1-1zm1 0zm0 1zm4-1zm2 3zm1-3zm0 0zm4 0zm0-3zm2 4zm2-1zm0-2zm1 6zm17-3zm0-1zm3 0zm9-1zm1-2zm6 6zm10-4zm2 1zm2 1zm2 2zm7-1zm18-3zm11 0zm12 5zm5-7zm2 2zm19 1zm25 3zm5-4zm2-1zm5 3zm6 2zm0 0zm0-4zm22-2zm8 4zm3-3zm6 2zm5 3zm8-6zm4 4zm18-4zm15 2zm-24 6zm-7 0zm-2 3zm-47-3zm0 1zm-10 5zm-11-1zm-10-1zm-2 0zm-4-2zm0 5zm-2-2zm0-2zm-10 3zm-10-5zm-5 4zm-2 0zm-4-2zm-3-1zm-10-1zm-5 1zm-3 4zm-1 1zm-3-3zm-9-2zm-8 3zm-1-3zm-3 0zm-3-2zm-5 2zm-4 1zm-7-3zm-1 3zm-2-3zm-12 1zm-5 4zm-7-1zm0-4zm-3 3zm-3 2zm0 0zm-3-5zm0 7zm-1-6zm-4 5zm-3 0zm-3-2zm0 0zm0 3zm-2-1zm-1-3zm0 3zm0-5zm-2 1zm0 5zm-1-1zm0 0zm0 0zm0-1zm-1-5zm0 7zm-1 0zm-1 0zm-2-6zm0 6zm-1-3zm0-1zm-1 4zm0-5zm-3-2zm0 1zm0 1zm0 3zm-1 2zm0 0zm0-2zm0-3zm0-2zm-1 4zm0 3zm0 0zm0-7zm-1 2zm0-2zm-1 2zm0 1zm-1 1zm0 0zm0 3zm0-1zm-1-4zm0 3zm0-5zm0 7zm0-3zm0 1zm-1-2zm0 4zm0-2zm-1 1zm0-1zm0-4zm-1 0zm0 3zm0 1zm0 0zm0-5zm-1 4zm0 3zm0-4zm0-3zm0 3zm0 4zm-1 0zm0-4zm-1 2zm0-1zm0-3zm-1-1zm0 5zm0 2zm0-2zm0-2zm0 3zm-1-3zm0 0zm0 4zm0-7zm0 4zm0 1zm0-1zm0-1zm0 4zm-1-5zm0 3zm0-3zm0 3zm0-4zm0 2zm-1 2zm0 0zm-1 2zm0-6zm0 4zm-1 1zm0-5zm0 0zm0 1zm0 4zm0 0zm0-5zm-1 3zm0-4zm0 0zm0 1zm0 0zm0 6zm0-3zm0 0zm-1 2zm0-5zm0 4zm0 1zm0 0zm-1 0zm0 1zm0-5zm0 0zm0 1zm0-3zm0 5zm0-3zm-1 5zm0 0zm-1-4zm0-1zm0 3zm0-1zm0 3zm-1-1zm0 0zm0 1zm0-4zm0-3zm0 5zm0-3zm0 0zm-1 3zm0 1zm0 1zm0-2zm0 0zm-1 2zm0-1zm0-3zm0-1zm0 3zm0 1zm-1-1zm0 1zm0 1zm0-7zm0 5zm0 0zm-1-3zm0-1zm0 5zm0-2zm-1 2zm0-5zm0 1zm0 3zm-1 0zm-1-5zm0 4zm0-3zm0 4zm0 0zm-1-1zm0-2zm-1-2zm0 1zm0 3zm-1 2zm-1 1zm0-7zm0 4zm0-4zm-1 6zm0-1zm0 2zm0-1zm0-5zm-1 2zm0 2zm-2-4zm0 3zm0 2zm0-5zm-1 2zm0 3zm0 0zm0-1zm-1 0zm0-2zm0 0zm-1 0zm0-1zm0-1zm0 6zm-1-1zm0 1zm0-1zm0-1zm-2-4zm0 2zm0 1zm-1-3zm0 0zm0 6zm0 0zm0-1zm0 1zm0-5zm-1-2zm0 3zm0-1zm0 3zm-1 0zm0-2zm0-1zm0 4zm-1-3zm0 1zm0 3zm0-1zm0-1zm-1-1zm0-2zm0 5zm-1 0zm0 0zm-1-6zm0 5zm-2-1zm0 2zm0-3zm-1-2zm0-1zm0 2zm0 2zm-1 1zm0 1zm0-2zm-1-3zm0 2zm0 0zm0-3zm-1 2zm-1-3zm-1 2zm0 0zm0 3zm0 2zm-1 0zm-3-2zm0-1zm-1 3zm0-5zm-2 0zm0 0zm0 3zm0-1zm0 1zm-1 0zm0 0zm-4-3zm-1 2zm0-3zm-2 0zm-1 3zm0-4zm-1 1zm0 2zm-1-1zm-3 3zm-2 1zm-2 0zm0-5zm-1 2zm-3-2zm-3 0zm-1 6zm-8-7zm-4 2zm-2 13zm5-4zm1-1zm3 1zm7-2zm0 0zm1-1zm2 1zm2 6zm2-4zm1-2zm1 3zm3-4zm1 0zm1 7zm0-6zm0 6zm1 0zm1-6zm1 0zm0 5zm1-1zm1-1zm0 1zm0-3zm1 4zm1 0zm1-3zm0 0zm0 2zm0 2zm1-6zm0 1zm2 3zm0 0zm1-3zm1-1zm0 3zm1-4zm2 3zm1 2zm1-1zm0 0zm0 1zm0-5zm1 1zm0 3zm1-1zm0 2zm0-2zm1-2zm0 0zm0-1zm0 1zm1 5zm0-2zm1-4zm0 7zm0-5zm1-1zm0 2zm0 2zm1-3zm0-2zm1 5zm0-2zm0 0zm1-1zm0 3zm1-5zm0 2zm0 2zm0 3zm1-1zm0-1zm1-2zm0 3zm0-4zm0 5zm0-3zm0-1zm0-1zm0 4zm1-6zm0 1zm0 6zm0-4zm0 1zm1-3zm0 0zm0 5zm0 1zm1-5zm0 4zm1 1zm0-5zm0-2zm0 1zm0 6zm0-5zm0 2zm0-1zm0 4zm1-4zm0 4zm0-3zm0-4zm0 5zm1-1zm0-2zm0 1zm0-1zm1 4zm0-6zm0 0zm0 6zm1 0zm0 1zm0 0zm0-3zm0 1zm0-1zm1 3zm0-5zm0 5zm0-4zm0 3zm1-1zm0-3zm0-2zm0 7zm1-6zm0 5zm0 0zm0-3zm0 4zm0-2zm0-3zm1-1zm0 5zm0 1zm0-1zm0-5zm0 5zm1-6zm0 0zm0 1zm0 3zm0-3zm0 0zm0-1zm0 5zm0 2zm1 0zm0-5zm0 4zm0-3zm0-1zm1 1zm0-1zm0 5zm0-3zm0 1zm0-3zm0 2zm0 0zm0-2zm1 2zm0 3zm0-5zm0 4zm0-4zm0 4zm0 1zm0-4zm1 3zm0-2zm0 2zm0 0zm0-3zm0-3zm0 7zm0-4zm0-2zm0 4zm1 0zm0 1zm0-6zm0 3zm1 1zm0 2zm0-6zm1 6zm0-3zm0 4zm0-6zm0 2zm0 1zm0-3zm1 2zm0 1zm0-3zm0 4zm0-4zm0-1zm0 0zm0 4zm1 1zm0-3zm0-1zm0-1zm0 6zm0-1zm0 2zm0-2zm0 2zm1-3zm0-2zm0 3zm0-3zm0-1zm0 3zm0-4zm1 1zm0 1zm0 4zm0-4zm1-2zm0 0zm0 7zm0-3zm0 3zm0-5zm0 3zm0-1zm0 2zm2-5zm0 2zm0 3zm0-5zm0 0zm0 4zm1 2zm0-1zm0-2zm0-2zm0 2zm0 1zm0 2zm1-5zm0 1zm1-3zm0 0zm0 7zm0-2zm0-1zm1-1zm0-3zm0 6zm0 0zm0 0zm1 1zm0-7zm0 2zm0 0zm0-1zm0 5zm1-5zm0 5zm1-4zm0-2zm0 6zm0 1zm0-6zm0 5zm0-1zm0 2zm0-4zm0 4zm1-1zm0 1zm0-1zm0-1zm1 1zm0-5zm1 4zm0-1zm1-2zm0 5zm0-4zm0-1zm1-1zm0 1zm1-1zm0 3zm1 0zm0-1zm0 4zm0-3zm1-1zm1 2zm0 2zm0-6zm1-1zm0 3zm0 4zm1 0zm1-6zm1 4zm0-2zm2-2zm0 6zm1 0zm0-3zm0 0zm0-1zm1-3zm0 1zm0 2zm1-2zm1 2zm0 2zm1-4zm0 2zm0-1zm2 3zm0-4zm0 5zm1-3zm0-2zm1 4zm0-3zm0 2zm2-2zm0 5zm1-2zm0-1zm1-3zm0 3zm0 2zm1-2zm0 2zm1-3zm2-2zm2 4zm2-4zm3 1zm1 2zm1-1zm1-1zm0-1zm2 2zm1 4zm0-4zm3 0zm14-3zm11 1zm3 5zm8-3zm5-1zm1 4zm1-1zm4-3zm3 1zm1 0zm16 4zm7-5zm10-2zm4 4zm9-4zm14 0zm1 5zm1-2zm6 1zm9-1zm12 2zm3-5zm34 7zm22-5zm-39 12zm-33-5zm-1 6zm-16-7zm-17 0zm0 4zm-3-3zm-4 4zm-8 2zm0-4zm-19 2zm-15-2zm-4-3zm0 7zm-2-7zm-5 6zm-6-4zm-26-2zm-5 3zm-6 2zm-5 1zm-1-5zm-1 0zm-1 0zm0 3zm-3 3zm-1-3zm-2-1zm-1-3zm-2 1zm0-1zm0 1zm-1 2zm0 3zm-1 1zm-2-6zm0 6zm0 0zm-1-2zm-1 0zm0-4zm-2-1zm0 1zm0 3zm0-1zm0 4zm-1-7zm0 1zm-1 1zm0-1zm-1 3zm0 3zm0-6zm0-1zm-1 0zm0 3zm0 1zm-1-1zm0 3zm-1-2zm-1-4zm-1 0zm0 4zm0 2zm0-1zm0-4zm0 1zm-1-2zm0 5zm0 1zm0-1zm0-2zm0 2zm-1-1zm0 0zm0-2zm0 0zm0 4zm-1-1zm0 2zm0-2zm0-3zm-1 5zm0-3zm-1 0zm0 2zm0-2zm0 2zm0-1zm0-5zm0 5zm-1-4zm0 1zm0 5zm0-7zm0 3zm0 1zm0-3zm0 6zm0-1zm0-6zm-1 7zm0-6zm0 1zm-1 3zm0-4zm0 3zm0 1zm0-3zm0 2zm0-4zm0 0zm-1 1zm0 3zm-1-1zm0 1zm0-2zm0 3zm0-3zm0 2zm0 0zm-1 1zm0-5zm0 6zm0-3zm0 0zm-1 2zm0-5zm0 2zm0 4zm0-6zm0 3zm0 2zm-1-1zm0-1zm0-1zm0 0zm0 5zm0-6zm-1-1zm0 5zm0-4zm-1 3zm0 1zm0 0zm0-4zm0 1zm0 2zm0-1zm0 3zm-1-5zm0 3zm0-3zm0 4zm-1-3zm0 4zm0-4zm0 1zm0 0zm0 2zm0 0zm0 1zm0-4zm-1 5zm0-4zm0 3zm-1-2zm0 1zm0-5zm0 4zm0 3zm0-3zm0-4zm-1 1zm0 3zm0 0zm0 3zm0-7zm-1 7zm0-3zm0 3zm0 0zm0-5zm-1 0zm0-2zm0 4zm0 0zm0 0zm0-1zm0 3zm0-3zm0-1zm0 0zm-1-2zm0 1zm0 6zm0-4zm0 0zm0 0zm-1 4zm0-5zm0 1zm0 2zm0 0zm-1 0zm0 1zm0-2zm0 2zm0 0zm0-3zm0 0zm0 1zm0 0zm0-3zm-1 5zm0-4zm0-1zm0 2zm0 1zm0-3zm0 4zm0-3zm0 3zm0-4zm-1 5zm0-3zm0-1zm0 5zm0 0zm0-5zm0 3zm-1 0zm0-3zm0-2zm0 7zm0 0zm0-3zm0-4zm0 6zm-1-1zm0-4zm0 6zm0-2zm0-4zm-1 1zm0 4zm0-4zm0 1zm0-1zm0 1zm0 1zm-1 2zm0 0zm0-6zm0 3zm0-2zm0 1zm0-2zm0 1zm0 5zm-1-5zm0-1zm-1 5zm0-5zm0 7zm0-3zm0 1zm0 2zm0-1zm-1-3zm0 4zm0-7zm-1 7zm0-5zm0-1zm0 0zm0 0zm-1 6zm0-1zm0 0zm0-3zm0 3zm-1-5zm0 3zm0-4zm0 1zm-1-1zm0 1zm0 2zm0 3zm0-6zm0 7zm0-7zm0 5zm0 0zm-1 1zm0-1zm0-5zm0 3zm0 3zm-1 0zm0-5zm0-1zm0 2zm0 2zm0 1zm-1-2zm0-3zm0 0zm0 1zm0 2zm0-1zm0 5zm0-5zm0 5zm0-7zm0 1zm0 5zm-1 0zm0-5zm0 6zm0-1zm0-3zm-1 2zm0 1zm0-5zm0-1zm-1 3zm0 2zm0-5zm0 3zm0 2zm0 1zm-1-3zm0 3zm0-6zm0 2zm0 5zm-1-2zm0-3zm0-2zm0 4zm0-4zm-1 2zm0 2zm0 3zm0-4zm0 4zm-1-7zm0 4zm0-2zm0-1zm-1 3zm0-4zm-1 5zm0-1zm0 3zm0-3zm0-4zm-1 1zm0 5zm0-4zm0-2zm0 1zm-1 3zm0-3zm-1 0zm0 0zm-2 0zm0 6zm0-3zm-1-1zm0 2zm-1-1zm-1 3zm-1-5zm0 1zm-1-1zm0 4zm-1-5zm0 3zm-1-2zm-2 4zm0-6zm0 0zm0 2zm-1 0zm0-1zm-1 0zm-1 5zm0-3zm-2 3zm0-6zm-1 2zm0-2zm-1 1zm-1 2zm-1-3zm0 2zm-1 4zm-5-4zm-2-1zm-3 1zm-1 1zm-2-3zm-4 0zm-3 3zm-1 9zm0-4zm1 4zm13 1zm2 0zm1 0zm1-2zm1-2zm1 2zm2 0zm3 3zm0 0zm0 0zm2-2zm2 1zm2-5zm1 0zm0 3zm1-3zm0 3zm0 2zm1-1zm1-2zm1 2zm0 1zm0-3zm0 2zm0-4zm1 7zm1-6zm0-1zm0 2zm0 0zm1 1zm0 2zm1-5zm0 0zm1 5zm0 0zm0-1zm0 1zm0-5zm1 3zm0-3zm0 7zm1-1zm0-2zm1-4zm0 4zm0-2zm0 1zm1 0zm0 0zm0 1zm0-2zm1 4zm0-4zm0 1zm0 3zm0-4zm0 0zm1 3zm0 1zm0 1zm0-4zm0 3zm0 1zm1-6zm0 2zm1-2zm0 5zm0-4zm0-1zm0 4zm1 2zm1-3zm0-3zm0 4zm1-3zm0 0zm0 4zm0-4zm1-2zm0 5zm0 0zm1-4zm0 2zm0 3zm0-2zm1-4zm0 0zm0 7zm0-1zm0-6zm1 5zm0 0zm0 1zm0-1zm0 0zm1 0zm0 1zm0-6zm0 4zm0 1zm1-5zm0 7zm0-5zm1-1zm0 2zm0 0zm1 2zm0 2zm0-1zm0-2zm0-2zm0 2zm0 0zm1 2zm0 0zm0-5zm0 4zm0 1zm0-1zm1-4zm0-1zm0 0zm0 6zm0-6zm0 2zm1 2zm0 1zm1-2zm0 1zm0 1zm0-3zm0 3zm0-3zm0 0zm0 0zm0 0zm0 5zm1-4zm0 0zm1-2zm0 1zm0 5zm0-7zm0 5zm1-4zm0 4zm0-2zm0-1zm0-2zm0 2zm0 4zm0-1zm1-3zm0 5zm0-2zm1 2zm0-4zm0 0zm1-1zm0-1zm0 5zm0 0zm0-3zm0 3zm1-4zm0 0zm0 0zm0-1zm0 3zm0-3zm1 0zm0 0zm0 2zm0 1zm0 1zm0-3zm0-1zm1 3zm0 2zm0-2zm0-2zm0 3zm0 0zm0 1zm0-1zm0 2zm1-6zm0 0zm0 3zm0-4zm0 3zm0-2zm0-1zm0 1zm0 4zm1-4zm0 2zm0 0zm0 4zm0-3zm0-2zm0-2zm0 5zm0-5zm1 3zm0 1zm0 1zm0-4zm0 1zm0-2zm1 0zm0 0zm0 3zm0-1zm0-1zm0 0zm1 1zm0 1zm0-3zm0 3zm0-1zm0-2zm0 1zm0 4zm0-5zm1 5zm0-3zm0 3zm0-3zm1-1zm0 1zm0 5zm0-6zm0 2zm0 2zm0-4zm1 2zm0 0zm0 2zm0-2zm0 1zm0 0zm0 2zm1-3zm0-1zm0-2zm0 5zm0-4zm1-1zm0 1zm0 4zm1-5zm0 6zm0-6zm0 6zm0-4zm1-2zm0 1zm0 6zm0-5zm0 3zm1-5zm0 1zm0 0zm0 2zm0 2zm0-3zm0-2zm1 1zm0 5zm0-4zm0 4zm0-1zm1-5zm0 6zm0 1zm0-1zm0-3zm0 4zm1-5zm0-1zm0 0zm1 3zm0-3zm1 0zm1-1zm0 0zm0 3zm1 3zm0 0zm1-6zm0 2zm0 2zm0 2zm0 1zm0-1zm0-2zm0-3zm1 0zm0-1zm0 6zm0 1zm1-3zm0 2zm0-4zm0 0zm0-2zm1 1zm0 3zm1 3zm0-2zm0 1zm0 1zm1 0zm0-7zm1 5zm0-2zm2 2zm1-1zm0-2zm0 4zm0-5zm0 0zm0 6zm1-5zm0 0zm0-1zm1 3zm0-3zm0 1zm1 0zm2-1zm0 1zm2-1zm2 5zm1-4zm0 0zm3 1zm2 1zm0-3zm5 3zm2 0zm0 0zm4 0zm3 2zm8-5zm0-1zm5 3zm19-3zm3 5zm7 0zm0 0zm63-4zm1 5zm62 3zm-103 1zm-20-2zm-15 6zm-30 1zm-8-2zm-4-4zm-7 4zm-1-3zm-4 2zm-1-1zm0 0zm0-1zm-1-1zm-1 1zm-1-2zm-1 3zm-1 0zm-1 0zm-1 4zm0 0zm-2-5zm-1 2zm0-4zm0 5zm-1-4zm0 6zm0-2zm-1-2zm-1 2zm0-1zm-1 1zm-1-2zm0 4zm-1-4zm0-3zm0 2zm0-1zm-1 1zm0-1zm-1 1zm0 1zm0-3zm0 3zm0 1zm-1-2zm0 4zm0-2zm-1-3zm0 4zm-1-2zm0 4zm0-7zm-1 1zm0 3zm-1-4zm0 4zm-1-4zm0 2zm0 3zm-1 2zm0-2zm0 0zm0 0zm-1-5zm0 5zm0 1zm0-5zm-1 3zm0-4zm0 2zm-1 2zm0-4zm-2 6zm-1-6zm-1 5zm0-5zm0 3zm0 0zm0 0zm0-1zm0 0zm-1-2zm0 5zm0 1zm0-4zm0 1zm0 0zm0-3zm0 0zm-1 1zm0 3zm0-2zm-1-1zm0 0zm0 4zm0 0zm0-3zm0-2zm-1 4zm0 3zm0-7zm-1 3zm0 4zm0-4zm-1-1zm-1 4zm0-5zm-1 6zm0-1zm0-4zm0 5zm0-2zm0-1zm-1-4zm-1 2zm0 0zm-1-1zm-1 5zm0-1zm0-2zm-1 2zm0-2zm0 4zm0-6zm-1 5zm0-2zm0-3zm0 5zm0-6zm-1 1zm-1 3zm0 1zm0 2zm0-6zm-1-1zm0 4zm0 2zm-1-4zm0 0zm-1 3zm0 2zm0-2zm-1-1zm0-4zm0 2zm0 0zm-1-1zm-1-1zm0 3zm-1-2zm0 5zm0-4zm-1 3zm0-3zm0 3zm-1-3zm0 5zm0-4zm0 1zm-1 2zm-1-6zm0 5zm0-2zm0 1zm0 1zm-1 0zm-1-4zm0-1zm0 5zm0-1zm-1-1zm0-1zm-1-2zm0 5zm-2-4zm0 5zm-1-4zm0 2zm0 0zm-1-4zm0 3zm0 0zm-1-3zm-1 7zm0-2zm-1 0zm-1-4zm-2 2zm0-3zm-2 0zm0 5zm-2-2zm-2-2zm-7 2zm-9-2zm-5 3zm15 11zm1-3zm4-1zm1 3zm0-5zm0 4zm0-5zm3 6zm0-6zm1 3zm0-2zm8 5zm1-1zm0-5zm1 0zm0 3zm1-2zm3 2zm2-1zm1 3zm0-5zm0 1zm3 0zm0 2zm0 3zm0-3zm1-2zm2 1zm0 5zm1-4zm0 0zm0-3zm2 4zm0-4zm1 2zm0-1zm0 5zm0-6zm0 3zm2 1zm0 3zm1-4zm0-2zm0 0zm1 1zm1 5zm1-6zm0 2zm0-2zm1 2zm1-3zm0 0zm1 7zm0-5zm0-2zm1 1zm1 0zm0 0zm1 0zm0 6zm0-7zm1 7zm1-6zm1-1zm0 4zm1-4zm1 5zm0 0zm1 0zm2-2zm2 3zm0-3zm2 3zm1-5zm5 1zm2-1zm2 3zm5 1zm5 1zm2-5zm3 2zm4-2zm1 5zm6-6zm32 1zm1 8zm-5 2zm-51 1zm-5-2zm-4-1zm-2-1zm-4 3zm-4 2zm-1-4zm-3 0zm-7 4zm0-5zm-2 0zm-1 5zm-3-1zm-3 0zm0-1zm-3-3zm-4 0zm-3 3zm-4-2zm-3 0zm-3 1zm-4 4zm-6-4zm-1-1zm-5 3zm-3-3zm-8 2zm-18-3zm34 14zm81 0z"/>
<path stroke="#482677" d="M169 806zm2-2zm-21 8zm-1 3zm-51 7zm4-5zm36 1zm32-2zm8 12zm-79 9zm25 1zm2 1zm1-7zm3 6zm2 0zm5-2zm2-4zm7 5zm5-3zm6 5zm5-2zm0-5zm0 3zm13 4zm6-4zm1 3zm3-5zm1 2zm27 11zm-33 1zm-11 0zm-8-1zm-5-1zm-10 1zm-1-1zm-3 2zm-1-3zm-1-1zm-2 4zm0-3zm0 2zm-3-5zm-2 1zm-8 1zm-6 4zm-18-4zm8 5zm3 7zm10-3zm1 0zm5-3zm1 1zm2 2zm5-2zm1 1zm1 0zm6-3zm1 6zm5-2zm2-4zm3 7zm0-4zm3 4zm0 0zm4 0zm0-2zm4-5zm15 4zm2 0zm8-1zm9 1zm5 6zm-15 0zm-16 4zm-2-3zm-3 2zm-2-3zm-1 1zm0-2zm-4 3zm-1-1zm-4-1zm-2 5zm-4-6zm-2 1zm-3-2zm-1 1zm0 3zm-3 2zm-12-1zm0-3zm-2 1zm-6-2zm-1 2zm-7 1zm-17 0zm15 9zm6-5zm2 4zm1-3zm2 0zm1 2zm2 2zm0-3zm2 2zm3 0zm4 2zm0 1zm1-4zm3 3zm5-3zm1 3zm0-6zm1 7zm1-1zm0-4zm1 1zm0-2zm0-1zm0 1zm0 0zm1 0zm0 3zm1 0zm0 3zm0-3zm2-3zm1 0zm1 0zm3 2zm0 1zm4 3zm2-4zm1-1zm0 5zm1-6zm0 3zm0 3zm3-4zm3 3zm0-4zm5 3zm15-4zm0 8zm-5 3zm-12-1zm-4 4zm0-1zm-2 1zm-2-1zm-2-6zm-2 2zm-3-2zm-1 7zm0-1zm0-3zm0 2zm-1-3zm-2 3zm0-4zm0 3zm0-4zm0 1zm-3-1zm-2 4zm0 3zm-1-6zm0-1zm0 5zm-1-3zm-1 2zm0 3zm-4-4zm-1 4zm-1-4zm0 0zm-1 1zm-6-3zm0 4zm-1-5zm0 4zm-2 2zm-1-4zm-1 5zm-1-6zm-1 0zm-1 6zm-2-2zm-1 0zm-3-3zm0 1zm0 4zm-2-5zm0 1zm-3 1zm0 0zm-7 1zm-4-2zm-5 2zm-7-3zm10 9zm14-3zm0 4zm1-3zm4 5zm1-4zm0 0zm4 4zm7-2zm0-1zm2 4zm0-4zm1-2zm4 0zm1 6zm1-7zm0 3zm1 1zm0 1zm0 2zm2-6zm0 0zm0 1zm0-1zm3 4zm1-1zm0 2zm1-6zm0 6zm0-5zm0 3zm1-1zm1-1zm0 5zm1-6zm0 2zm1 1zm0 0zm1 3zm1 0zm2-5zm1 2zm0 1zm1-2zm0 3zm0-5zm1 5zm2 0zm0 1zm3-1zm2-6zm0 0zm3 1zm7 4zm1-1zm1-3zm3 2zm1 0zm1 4zm9 0zm0 0zm9-2zm1-1zm-12 11zm-1-2zm-11 2zm-3-3zm0 2zm-7-3zm-2 3zm-1-5zm-3 1zm-2 3zm-1-2zm-2-1zm0 4zm-1-1zm0-1zm0-2zm0-2zm-1 6zm0-4zm-3-2zm0 5zm-1 2zm0-1zm-1 1zm0-7zm-1 7zm-2-7zm-1 4zm0-4zm-1 3zm-1 3zm-2-2zm0-4zm-1 7zm0-2zm0-2zm0 2zm-1 1zm0-2zm0-1zm-1 3zm0 1zm-1-3zm0-2zm-1 2zm0 0zm0-4zm-1 4zm-2-4zm-1 6zm-1 1zm0-1zm-3-4zm0 4zm-1 1zm0-2zm0-5zm-2 0zm-1 0zm-2 2zm0-1zm-2 5zm-2-2zm-3 3zm-1-6zm-3 2zm-1 0zm0-3zm0 2zm-5 0zm-16 1zm1 7zm14 1zm5 3zm12-5zm2 0zm2 1zm2 0zm0 4zm0 0zm1-3zm3-2zm1 4zm0-5zm1 2zm0 0zm1-1zm3 1zm1 5zm0-7zm0 3zm0 4zm0-7zm2 3zm1 0zm1 2zm2 2zm1-4zm0 1zm0-3zm0 6zm1 0zm1-6zm2 4zm0-1zm2 2zm0 0zm1 0zm1-3zm0-2zm1 6zm0-3zm2-2zm0 2zm1 3zm0-4zm0 4zm0 0zm3-4zm2 1zm0-3zm1 6zm1-6zm2-1zm0 2zm0 1zm1 3zm9-4zm5 4zm2-3zm29-1zm-35 11zm-5-3zm-1 2zm-5-1zm-2 1zm-6 3zm0-4zm0-2zm-3 0zm0 5zm-1-5zm0 5zm-1-4zm0 4zm-3-4zm-1-1zm0-1zm0 1zm-8 4zm-1 0zm-1-1zm0 3zm-2-7zm0 4zm0-3zm-1 4zm-1-2zm0 2zm0-2zm-1 1zm-1 2zm0-2zm-2 1zm0-2zm-1 3zm0-5zm-1 3zm0 3zm0-1zm0-4zm0-2zm-1 3zm0-3zm-1 0zm-3 4zm-1-4zm-1 6zm-2-3zm-5 0zm-2 1zm-6 0zm-2 3zm-5-7zm-10 0zm-8 7zm15 4zm18 1zm1 0zm1-4zm2 1zm3 2zm3-3zm1 3zm1 0zm0 0zm4 2zm3 2zm3 0zm1-3zm0-4zm1 3zm0 4zm0 0zm1-5zm1-2zm1 6zm2-4zm4 1zm0-2zm1 4zm1-2zm0 1zm2 0zm1 1zm2-3zm6 2zm1-4zm2 6zm1-5zm1 0zm3-1zm5 7zm12-2zm16 1zm4-5zm14 10zm-27 1zm-12 0zm-2-4zm-4 3zm-1-3zm-3 2zm0 1zm-1 4zm-2-5zm-2 1zm-1-1zm-3 4zm-6 1zm-5 0zm-1-5zm-3 0zm-3 5zm-1-1zm0-2zm0-2zm-2 5zm-2-1zm0 1zm-1 0zm0 0zm-2-1zm-1-3zm-1 0zm-3 0zm-1-2zm-1 6zm0-2zm-3-5zm-3 2zm-2-1zm-1 1zm-4 2zm-19-2zm-19-1zm33 13zm1-2zm4-4zm1 6zm1-4zm4-2zm0 2zm5 2zm0-1zm0 4zm2-7zm2 6zm0 0zm1-1zm2-5zm2 6zm0-1zm1-4zm5 3zm0-2zm1 2zm1 0zm2-4zm3 3zm0-2zm1-1zm0 7zm0-4zm1-3zm0 1zm1 4zm0 1zm1 1zm2-1zm3-2zm0 1zm0 2zm1-5zm1 5zm0-4zm2-3zm7 6zm1-5zm15 3zm24 5zm-14 4zm-3-5zm-1 0zm-3 1zm-5 2zm-1 4zm-5 0zm-5-1zm-2-4zm0-2zm-1 1zm-1 0zm0 3zm-5 1zm-1 2zm-2-4zm-1 2zm-7 1zm-2-1zm-2 2zm-1-7zm-1 7zm-2-5zm-4 2zm-1 3zm-1-1zm-3-5zm-1 4zm-1 0zm-2 1zm-2-5zm0 1zm-1 0zm-1 2zm-2-3zm-2 3zm-2 3zm-2-1zm-7-3zm-6-1zm-4 9zm2 2zm5-2zm4 2zm4-4zm6 3zm2-3zm6 1zm0-1zm2-1zm7 3zm1-1zm2 0zm1 0zm2 4zm0-1zm2-1zm5-2zm0 3zm8-1zm3-4zm1 5zm0 2zm1 0zm12-7zm1 2zm1-1zm3 6zm18 4zm-9 2zm-9-5zm-3 2zm-13 0zm-7 3zm-1 1zm-5-1zm-4-3zm-1 3zm-2 2zm-1 0zm0-4zm-1 1zm-4-4zm-1 1zm-1 2zm-1 2zm-11-1zm-3-4zm-1 3zm-6 1zm0 3zm-20 4zm18 0zm11 1zm8-1zm0 2zm4-3zm1 3zm3-3zm1 3zm4 1zm2-1zm6-5zm5 5zm5-4zm3 0zm1 4zm4 2zm6-2zm5-3zm6 4zm52 1zm55 5zm-44 0zm-60-3zm-8 3zm-10-1zm-3-3zm-6 3zm0 3zm-2-6zm0 4zm-2-2zm0 4zm-6-3zm0 2zm-2-4zm-5 1zm-6 3zm-4 1zm-6-5zm-1-1zm-2 6zm-4-6zm0 6zm-6 0zm0 7zm9-3zm6 3zm0-2zm3 2zm5 1zm1-2zm2-1zm0-2zm1 5zm2-3zm7-2zm1 3zm9 0zm5 1zm2 0zm0 1zm10-1zm2-5zm13 7zm24 7zm-46-2zm-2 1zm-3 2zm-2-4zm0-2zm-5 6zm-4-2zm-2-2zm0 1zm0-4zm-5 7zm-5-3zm-2 2zm-1 0zm-4-5zm-1 1zm-3 0zm-2 5zm-9-2zm-3 1zm-4 1zm-5-6zm-16 12zm25 0zm3-1zm5-4zm2 1zm2 6zm2-7zm3 7zm3-4zm3 4zm3-6zm4 3zm1-4zm14 4zm2 0zm10-4zm13 7zm10-7zm43 0zm-46 14zm-12-2zm-1-4zm-5 0zm-1 2zm-6 5zm-2-4zm-3-3zm0 1zm-8 3zm-2 0zm-9 0zm-1-3zm-2 4zm-10-4zm-6 3zm-15 2zm-3 5zm9 1zm3 2zm20-3zm0 0zm4 2zm0 2zm1-1zm8-4zm1 2zm3 1zm20 0zm7-2zm1-3zm1 6zm6-5zm3 6zm9-4zm45 7zm-59-1zm-2 3zm0-1zm-4 3zm-12 0zm-4-6zm-15 7zm-1 0zm-2-1zm-1 1zm-1-6zm-10 6zm-1-7zm-6 6zm-3-3zm-5 2zm-7 2zm21 7zm3-5zm1 4zm4-2zm1 1zm0-3zm5-1zm2 3zm0 0zm3 0zm1 1zm3-4zm7 1zm9 0zm1-1zm1 2zm3 0zm22 1zm59 3zm96 0zm-174 2zm-1 7zm-4-1zm0-2zm-5 1zm-11-3zm-11 0zm-1 1zm-2-2zm-2 0zm-1 5zm-3-3zm-2-3zm-1 1zm-4 5zm-4-1zm-1 1zm-10 4zm3 5zm11-3zm5-3zm2 4zm7 2zm4-2zm3-1zm9-3zm15 1zm4 0zm0 4zm0 0zm1 1zm1-5zm23 2zm15 2zm194 7zm-88-3zm-128 0zm-4 3zm-5-4zm-5 6zm-16 0zm-2-1zm-7-5zm-3 6zm-1-4zm-3-1zm-2 4zm-2 0zm-1-1zm-13-5zm-12 1zm-4 0zm7 12zm8 2zm3-6zm7 3zm3 0zm3-1zm1-3zm9 6zm5-3zm5 4zm1-2zm3-5zm2 3zm0 3zm1 1zm10 0zm70-6zm-76 12zm-13-3zm-2 3zm-4 2zm-2-6zm-7 1zm-4 4zm-2-4zm-6 0zm-1 5zm-3-1zm-3 1zm0-4zm-8 2zm-18-1zm10 8zm4 3zm21-6zm2 6zm4-5zm7 2zm3 1zm4-5zm8 1zm1 1zm5 2zm8-2zm2 4zm68 0zm130 2zm-179 6zm-26-2zm-7-1zm-5 0zm-1-2zm-20 0zm-18 1zm-8 10zm20 3zm1-6zm1-1zm4 7zm1 0zm2-5zm2 2zm16-1zm2-2zm15 1zm4 0zm3 5zm3 7zm0-6zm-16 0zm-13 6zm-5-3zm-2-3zm-11 4zm-6 10zm3-6zm13 6zm1-1zm5-3zm1 5zm2-3zm6 0zm6 0zm27 1zm125-1zm113 9zm-239-3zm-16-1zm-9 4zm-2-3zm-1 1zm-5-1zm-3 2zm-3 3zm-1-1zm-1-2zm-5-2zm-3 2zm-8-4zm-16 4zm-1-1zm-25-2zm42 8zm3 3zm3 3zm8-2zm1-1zm2 1zm6-5zm10 2zm1-2zm316 15zm-312-1zm-3 1zm0 0zm-2-3zm-5 3zm-4-7zm-10 1zm-2 1zm-5 0zm-4 2zm-2 0zm-6 0zm-1 0zm-1 2zm-25 9zm34-4zm0 1zm3-4zm7 2zm2 0zm2 0zm2 3zm7-4zm4 4zm16 2zm140 0zm190 4zm-50-1zm-265-2zm-12 5zm-3 2zm-1-2zm-1 2zm-2-3zm-3 0zm-6 0zm-11-2zm-1 3zm-1-3zm-4 3zm-11 1zm-6-1zm-3 0zm-4-2zm6 10zm15-3zm2 1zm1 0zm3 4zm0-6zm2 2zm0-1zm4 3zm2 2zm16-3zm1 1zm1 1zm2 1zm107-4zm19 0zm224-2zm-59 13zm-291-1zm-1 2zm-9-7zm0 4zm-3 2zm-7-2zm0 0zm-6 1zm-4-1zm-2 2zm-1-3zm0 1zm-13-4zm-37 7zm38 7zm13-5zm10 0zm9 6zm0-6zm3 5zm3-6zm3 0zm304 13zm-304-3zm-1 5zm-22-1zm-1 0zm3 6zm11-1zm6 4zm2-7zm14 4zm2 3zm337-4zm8-1zm-8 11zm-12 2zm-27-1zm-170 0zm-119 0zm-5-5zm-10 2zm-3 4zm-6-6zm-14 4zm-1-1zm-4 2zm-5 1zm-25 4zm23 3zm0-6zm13 3zm9 1zm9-3zm3 2zm7 2zm1-1zm2-3zm1 5zm4 1zm111 0zm129-3zm8 1zm12-3zm2-1zm16 0zm6 0zm4 3zm6-3zm1 1zm4 1zm1 4zm4-5zm8 1zm2 4zm1-4zm19 0zm36 2zm7-5zm-1 8zm0 1zm-24 4zm-15-5zm-4 5zm0 1zm-2-1zm-5 2zm-1-1zm0 1zm-2-5zm-1 0zm-3-2zm-6 5zm-2-5zm0 0zm-1 4zm-1-4zm-1 7zm-1 0zm-2-6zm-2 2zm-2-1zm-2 5zm-5-1zm0-1zm-2 1zm-1-5zm0 6zm-2 0zm-2-4zm-1 4zm-1-2zm-1-1zm-3 3zm-2-2zm-1-1zm-16 1zm-5-1zm-8 3zm-92-1zm-22 1zm-128 0zm-10-2zm-5-1zm-15 3zm-48 3zm61 4zm3 0zm3-4zm5 3zm4 1zm3-6zm1 1zm0 3zm10-3zm95 5zm74 1zm50-4zm7 4zm1-3zm13 0zm7 2zm0-5zm1 4zm1-4zm6 2zm1-3zm3 6zm3 1zm1-2zm2 1zm1-4zm6 4zm1-4zm1 1zm0-2zm0 3zm1-3zm1 5zm0 0zm1-6zm1 0zm1 1zm2-1zm0 3zm2 2zm0-2zm1 0zm0 3zm0 0zm0 0zm3-2zm0 1zm1-1zm1-3zm0 2zm0 0zm0 3zm1 1zm1-4zm1-3zm0 0zm2 4zm1-3zm1 1zm6 5zm14-1zm20 7zm-17 0zm-6-1zm-10-2zm-1 3zm-3-4zm-1 5zm0 1zm-1-1zm-6-4zm0-2zm-1 3zm-2 3zm0-4zm-1 0zm0-2zm-1 5zm-1-2zm-5-2zm0 4zm-1-3zm0 0zm-3 2zm-1-2zm-1-1zm-1 4zm-1-1zm-1 1zm-1 2zm-2-6zm0 6zm-1-5zm0 4zm-2-6zm0 1zm-4 5zm-2-5zm0 2zm-2-3zm-3 0zm-4 6zm0-1zm-8 2zm-5-1zm-1-3zm-20-3zm-93 6zm-18 1zm-9-5zm-12-1zm-46 1zm-41 3zm-5-5zm0 3zm0 3zm-2-2zm0 0zm-1-4zm-2 6zm-1 0zm-1 1zm-1 0zm0-4zm-3 0zm-1-2zm-1 4zm-4-5zm0 3zm-5 4zm-7-2zm0-5zm-13 5zm-1 10zm15-4zm10-1zm0-2zm1 2zm2 5zm2-5zm0 0zm1-2zm6 1zm1-1zm0 5zm1-5zm1 1zm1 3zm0-1zm0 1zm2 3zm1-2zm2-1zm2-3zm4 3zm3 1zm2-5zm13 2zm1 1zm21 1zm13 3zm17-4zm11 1zm2-4zm1 3zm28 4zm9-7zm30 3zm2 0zm14 3zm10-4zm5 3zm1 2zm5-1zm3-3zm10 3zm3 0zm9 0zm4-1zm1-1zm1-4zm0 2zm5 3zm7-3zm1-1zm6 0zm0 3zm8-1zm3 0zm4-1zm1 1zm3-1zm6 2zm1-3zm3 1zm1-1zm0 4zm3-4zm3 0zm2 6zm0-5zm9-1zm0 2zm5-3zm4 6zm0-5zm23 4zm13-1zm-65 6zm0 1zm-1 1zm0-3zm-1-1zm-3 3zm-2-1zm-25 4zm-10 1zm-7-3zm-9-3zm-9-1zm-19 2zm-2 4zm-1 1zm-5-5zm-33-1zm-20 6zm-4 0zm-12-7zm-18 4zm-5-3zm-22-1zm-16 0zm-3 3zm-1-1zm-9 5zm-8-2zm-20-2zm-2-2zm-1 6zm0-3zm-1 0zm-2-4zm0 7zm0 0zm-1-7zm-1 2zm-1 4zm-1-4zm-1 0zm0 5zm-1-3zm-1 0zm-2-3zm-2 0zm-2 0zm0-1zm-6 5zm-2-5zm-1 3zm-2 0zm-1 2zm-6-5zm0 6zm-2-2zm-1-1zm-13 2zm-8-1zm-6 2zm14 9zm7 0zm0-5zm4 3zm12 2zm0-2zm0 1zm2 1zm2-5zm2 3zm0-4zm1 5zm5-6zm0 2zm3 2zm0-4zm2 3zm0 0zm1 1zm4-4zm1 1zm1 4zm2-5zm0 2zm2 5zm2-6zm0 1zm2-1zm0-1zm1 6zm0 0zm1 0zm4 1zm1-4zm2 3zm2-6zm0 6zm1-1zm2-1zm1-2zm4 1zm4-1zm2 2zm2-3zm3 2zm3 3zm5 1zm3-4zm2 2zm1-4zm0 3zm4-1zm0-3zm1 4zm2-4zm10 5zm7-4zm2 3zm1-2zm10-1zm11-1zm29 6zm1-3zm22 2zm5 1zm3-3zm4-2zm17 1zm5 5zm14-1zm0-2zm1 2zm14-4zm16 2zm28-1zm14-2zm-32 7zm-19 1zm-41 2zm-34 4zm-16-2zm-1 2zm-2-4zm-4-2zm-5 1zm-1-2zm-22 3zm0 2zm-10 1zm-2-1zm-3-3zm-2 0zm-1 1zm-3 3zm-4 0zm-4 1zm-1-3zm-2-1zm-9 4zm-6-5zm-1 3zm-1 0zm0 1zm0 1zm-8-3zm-2 3zm0-2zm-1-4zm-3 3zm0-4zm-4 1zm-1 0zm-1 0zm0 0zm-1 1zm-1 4zm-2-1zm-1 2zm0-7zm-1 7zm-1-4zm0 1zm-2 3zm-1 0zm0 0zm0-3zm-1 2zm0 1zm0-1zm-1 0zm0-5zm-4 3zm-1 0zm-2 3zm-1-2zm0 1zm0-3zm0 2zm0-1zm0-1zm0 1zm-2-3zm-3 3zm-1 2zm0 0zm-1-6zm0 4zm0 3zm-3-1zm0 1zm0-3zm-1 1zm0-4zm-1 4zm0 0zm0-5zm-2 5zm-1-2zm-1 3zm0-1zm0-2zm-1 4zm-1-7zm-2 0zm-1 6zm-2 1zm-2-5zm0 4zm-2-4zm0 5zm-1-7zm-2 0zm-1 7zm-4-1zm-25 9zm8-5zm1 0zm1 4zm4-5zm1 4zm1-5zm3 6zm1 0zm1-2zm1 1zm1-4zm1 3zm0 1zm0-4zm0 6zm1-5zm1 1zm0-3zm0 2zm1 5zm1-6zm2 2zm0 1zm0 1zm0 1zm1-4zm0 0zm0 3zm1 1zm0-1zm1-1zm1-1zm0-2zm0 2zm0 4zm1 0zm1-5zm1 4zm0-1zm0 2zm0 0zm0-1zm2-4zm0 4zm0-5zm1 2zm0 1zm1 3zm0-5zm1 2zm0-1zm0 4zm1-1zm0-5zm1 2zm0 3zm0-4zm0 5zm1-1zm2-1zm0-1zm0-3zm1 0zm0 0zm1 6zm0 0zm0-1zm1-3zm0 4zm0-1zm1-4zm0 4zm1-1zm1-2zm0 4zm0-3zm1 1zm1-4zm1 4zm0 1zm1-2zm0-4zm0 0zm0 4zm0-1zm0 0zm0 3zm1-5zm0 6zm0-2zm0-3zm1-1zm0 6zm0-1zm1 0zm0 0zm0-3zm0 3zm0-1zm0 1zm0 0zm0 1zm0-3zm1 2zm0-5zm0 6zm1-1zm0-6zm0 7zm1-2zm0-3zm1 0zm0-2zm1 0zm1 0zm0 0zm0 0zm0 3zm1-1zm0 4zm1-1zm0 2zm1-7zm0 7zm1-1zm1-5zm0 1zm0 2zm2 3zm0-2zm0 2zm1-5zm0 5zm0-6zm1 0zm0 4zm1 1zm0-1zm1 0zm0 1zm0-4zm1 0zm0-1zm0 3zm1-4zm0 0zm1 4zm0-3zm0 5zm2 1zm0-1zm0 1zm1-5zm2 4zm0 0zm2-6zm0 4zm0-1zm1-3zm0 1zm1 4zm6-3zm1 5zm1-6zm1 0zm3 6zm1-1zm3 0zm2 0zm2-5zm4 5zm1 0zm7-2zm5-3zm5 6zm3-6zm1 5zm1-2zm3-4zm1 2zm8 3zm8-3zm2 1zm2 0zm7 4zm1-3zm4 3zm16 0zm7-2zm11-5zm7 1zm6 0zm7-1zm7 7zm3-2zm38-1zm-43 11zm-10-7zm-8 1zm-10 2zm-2 4zm-5-3zm-6 1zm-18-2zm-9-3zm-2 6zm-1-1zm-10 2zm-4 0zm-2-7zm0 0zm-5 6zm-6-2zm0-3zm-2 5zm-4-4zm-4-1zm-17-1zm-3 2zm-2 5zm-1-6zm-5 5zm0-1zm0 1zm-2-5zm-1 3zm0 2zm-1-4zm0 4zm-2-1zm0-1zm0 3zm-1-3zm0-4zm-1 4zm0-4zm-2 0zm-1 2zm0 0zm-1-2zm-1 0zm0 5zm0-4zm0 2zm0 1zm-1 2zm0-2zm-1-4zm-1 3zm-1-2zm0 6zm0-7zm-1 0zm0 7zm0-3zm-1 2zm0-3zm0 4zm0-1zm-2-3zm0 1zm0 0zm0 0zm0 1zm-1-5zm0 6zm-1-1zm-1-4zm0 5zm0-4zm0 3zm0 0zm0 0zm0-1zm-1-3zm0 0zm-1 6zm0-3zm0-1zm0 2zm-1-1zm0 2zm0-2zm0 0zm0-4zm0 1zm-1-1zm0 4zm0-4zm0 7zm0-2zm0 1zm0-5zm-1 4zm0 0zm0-4zm0 1zm0 5zm-1-3zm0 2zm-1 0zm0-3zm0 1zm0 0zm0-3zm-1 3zm0 3zm0-4zm0 2zm-2-4zm0-1zm0 3zm0 1zm0 0zm-1-2zm0 1zm0-3zm0 6zm0-2zm0 0zm-1 3zm0-7zm0 3zm0 2zm0-5zm0 3zm0 0zm0 0zm-1-1zm0-2zm0 3zm0-3zm0 3zm0-1zm0 1zm-1 1zm0 2zm0-4zm0-1zm0-1zm0 6zm0-5zm0 6zm-1-2zm0-3zm0 2zm0 1zm-1-5zm0 0zm-1 5zm0-3zm0 1zm-1-2zm0 2zm-1 4zm0-3zm0 1zm-1-3zm0 3zm0 1zm0-6zm0 7zm0 0zm-1-3zm0 0zm0-2zm-1-1zm0 3zm0 0zm0-3zm0 1zm0-1zm-1 3zm0-4zm0 7zm0-4zm0 1zm0-1zm-1 3zm0-4zm0-2zm0 3zm0 0zm0-2zm-1 6zm0-2zm0-1zm0 1zm0 1zm0-2zm0-1zm-1 1zm0-2zm0 5zm-1-6zm0 3zm0 1zm-1 0zm0-3zm0 3zm-1-5zm0 1zm0 4zm0-3zm0 4zm-1-5zm0 5zm0-4zm0 5zm-1-2zm-1 2zm0-3zm0 0zm0 0zm0-4zm-1 6zm0-4zm0 4zm0-2zm-1-1zm0 0zm-1-3zm0 6zm0 0zm0-4zm-1 2zm0 2zm0-1zm0-4zm0 6zm0-5zm0 0zm-1 5zm0-6zm0-1zm0 1zm-2 3zm0 2zm0-6zm-1 6zm0 1zm-1-1zm0 1zm0-7zm-1 6zm0 1zm-2 0zm0-7zm-1 5zm0 2zm0-5zm0 5zm-1-1zm0-2zm-1-1zm-2 1zm-1 3zm0 0zm0-3zm-1-2zm0 5zm-1-6zm0 5zm-1 0zm-1 1zm-1-5zm0 4zm-1-5zm0 1zm0 4zm-1-5zm0 0zm0 6zm-2-2zm0-1zm0 1zm0-3zm-1 0zm-4 4zm0 0zm-3-2zm-3 2zm-4-6zm0 2zm-3 5zm-6 0zm1 5zm4-4zm6 6zm3-6zm1 0zm0 1zm0 5zm0-4zm0-1zm1 4zm2-1zm0 2zm1-4zm1 0zm1 2zm3-4zm1 4zm0-2zm0 0zm0 3zm1-5zm1 7zm2-5zm1 5zm0-1zm0-3zm1 4zm0-4zm0 4zm0-4zm1 4zm0-4zm0-3zm0 2zm1 5zm0-4zm1 1zm0-2zm0-1zm0 4zm1-3zm1 1zm0 1zm1-1zm0 4zm0 0zm0 0zm0-5zm0 0zm1 5zm0-1zm0-1zm0 2zm0-4zm0 4zm0-7zm0 4zm0-4zm1 2zm0 4zm1 0zm0-4zm0 3zm0-1zm1-4zm0 0zm0 6zm1-2zm0 0zm0-1zm0-1zm1 2zm0-4zm0 0zm0 3zm0-2zm1 0zm0-1zm1 6zm0-1zm0 0zm1 0zm0-1zm1 1zm0-1zm0-4zm0 7zm0-1zm1-4zm0 1zm0 1zm0 2zm0-4zm1 2zm0-2zm0-1zm0 6zm0-6zm0 6zm0-2zm0-1zm1 1zm0-3zm1-1zm0 3zm0-4zm1 3zm0 4zm0-1zm0-2zm0 3zm0 0zm1-5zm0 3zm0-4zm0 6zm0-6zm0 4zm1 0zm0-5zm0 4zm0-4zm1 4zm0 1zm0-3zm0 4zm0-4zm0-2zm0 4zm0 3zm1-3zm0 1zm0 1zm1 0zm0-4zm0 4zm0 0zm0-5zm0 4zm0-2zm0 1zm1 1zm0-1zm0-4zm0 3zm0 1zm1-1zm0-2zm0 2zm0 0zm0-1zm0-2zm0 7zm0-1zm0-6zm1 6zm0-3zm0 4zm0-7zm0 5zm0 2zm0 0zm1-4zm0 1zm0 3zm0-3zm0-4zm0 7zm1-6zm0 2zm0 4zm0-1zm0-6zm0 4zm0 2zm1-1zm0-5zm0 3zm0 3zm1-1zm0-4zm0 6zm0-3zm1-4zm0 3zm0-1zm0 0zm0 2zm1 3zm0-2zm0 1zm0-5zm0 2zm1 0zm0 1zm0-3zm1 0zm0 0zm1 1zm0-1zm0 2zm0 1zm0 1zm0 0zm0 0zm0-5zm0 0zm1 0zm0 1zm0 0zm0 4zm0 0zm1-5zm0 2zm0-1zm0 0zm0 0zm0 1zm0 2zm0-2zm0 1zm0-3zm1 0zm0 6zm0-2zm0 3zm0-6zm0 6zm0-3zm0 3zm1-5zm0 0zm0-2zm0 7zm0-4zm1-2zm0 3zm0-2zm0 2zm1 0zm0-1zm0 3zm0-5zm1 4zm0 0zm0-5zm1 3zm1-3zm0 1zm0 1zm0-1zm0 4zm1 2zm0-3zm0-4zm1 3zm0 4zm0-3zm0-4zm1 1zm0 6zm0-6zm0 3zm0 2zm0-5zm1 4zm0-5zm0 6zm0 0zm0-1zm1-2zm0-1zm0 1zm0 1zm1-1zm0 2zm3-2zm0-2zm1 6zm0-3zm0-1zm0-2zm0 2zm1-3zm0 4zm0 0zm0-1zm1 2zm0-5zm0 4zm0 3zm0-7zm1 6zm1 0zm1-5zm0 4zm0 2zm1 0zm0-3zm1-2zm2 3zm1-4zm0 4zm0-3zm1 5zm2-7zm1 6zm0 0zm1-4zm0 5zm0-5zm5 1zm2 2zm1-1zm1-2zm4 5zm11-3zm8 0zm23 1zm6-1zm1-2zm3 2zm17 2zm21-2zm6-3zm5 4zm20 5zm-72 4zm-19-1zm-5 1zm-30-2zm-4-4zm-11 1zm0 6zm-1-3zm-1-4zm0 0zm0 4zm-2-2zm0 3zm0 1zm-1-6zm-1 5zm-1-5zm-2 3zm0-1zm0 3zm-2 0zm0-2zm0 0zm-1 3zm-1-5zm0-1zm0 1zm-1 0zm0 3zm-2-2zm-1 1zm0 1zm0-4zm-1 4zm0 1zm0-5zm0 2zm0 1zm0-2zm0-1zm-1 3zm0-2zm0 2zm0 0zm-1 0zm0-2zm0 2zm0 4zm0-6zm-1 3zm0-1zm0 4zm0-4zm0-3zm0 5zm0-2zm0 3zm-1-3zm0 2zm-1 1zm0-4zm0 3zm-1-5zm0 1zm0 4zm0-2zm0-2zm-2 3zm0 2zm0-2zm0 2zm-1 0zm-1-3zm0 3zm0-2zm0 0zm-1 1zm0 0zm0 1zm0-5zm0 4zm0-1zm0 1zm0-4zm-1 1zm0 0zm0-2zm0 0zm0 3zm-1-3zm0 3zm0-2zm0 5zm0-1zm-1 0zm0-2zm0 1zm0 1zm0-4zm-1 1zm0 4zm0-3zm0 3zm0-6zm-1 1zm0 2zm0-3zm0 4zm0-4zm0 1zm-1 0zm-1 3zm0-4zm0 7zm-1-7zm0 1zm0 5zm0 0zm-1-3zm0-1zm0 3zm0-1zm-1-4zm0 4zm0-1zm0-3zm-1 0zm0 0zm0 2zm0-2zm0 3zm-1-2zm0 1zm0-2zm0 1zm-1-1zm0 4zm-1 3zm0 0zm-1 0zm0-2zm0-4zm0 0zm0 0zm0-1zm-1 6zm0-2zm0-3zm0 3zm-1 3zm0-6zm0-1zm0 6zm0-2zm-2 1zm0-4zm0 5zm0-5zm0 2zm0 0zm0 1zm0 3zm-1-6zm0-1zm0 5zm0-5zm-1 7zm0-3zm0 1zm0 1zm0 1zm0-6zm-1 3zm0-2zm0 4zm0 0zm0 0zm-1-4zm0 3zm0-4zm0 1zm0-1zm0 6zm0-6zm0-1zm0 7zm-1 0zm0-4zm0 4zm-1-7zm0 3zm-1 1zm0-4zm0 6zm0-4zm0 3zm0-3zm0 0zm-1 2zm0 3zm-1-7zm-1 1zm0 2zm0-1zm-1 5zm0-2zm0 1zm0-1zm0-3zm-1-2zm-2 3zm0 2zm-1-4zm-3-1zm-1 7zm-2-4zm0-2zm-1 4zm-1-4zm0 6zm-1-7zm-3 4zm-1-4zm-3 4zm-1-2zm-8 2zm-1-3zm-1 2zm-2 0zm-3 1zm-1 0zm-5 9zm2-1zm7-3zm3 3zm6-3zm2 2zm1 3zm5-2zm1-2zm1 4zm0 0zm3-2zm0-2zm0 2zm1-4zm3 1zm0 4zm2-4zm1 5zm0-6zm1 1zm0-1zm1 2zm0 4zm1-1zm0-1zm0-1zm0-2zm1 4zm0-2zm1-2zm0 4zm1 1zm0-6zm1 5zm1 1zm0-6zm0 1zm0 5zm1-2zm0-3zm2 1zm0 4zm0-6zm0 4zm1-3zm1 6zm0-5zm0-1zm0 5zm1 1zm0-7zm1 3zm0 3zm0-5zm1 0zm1 3zm0 2zm1-1zm1-2zm0-2zm0 3zm0-4zm1 5zm0 1zm1-2zm0 1zm1-3zm0 1zm1-1zm0-2zm0 2zm0 5zm1-1zm0-1zm1-5zm0 1zm0-1zm0 2zm2 3zm1-5zm0 2zm1 5zm0-3zm0-1zm0 0zm0-1zm1-1zm0 4zm0-1zm0 1zm2-3zm0 0zm0 3zm0 0zm1-4zm0 3zm0-4zm1 1zm0 4zm1-4zm0 0zm0 3zm0-1zm2 0zm0 1zm1-1zm2-3zm2 7zm0-7zm0 0zm0 2zm1-2zm0 3zm1-2zm0-1zm0 1zm1 1zm0 4zm0-6zm1 0zm1 1zm1 4zm0-5zm0 2zm1-2zm1 2zm0-1zm4 1zm2-2zm3 7zm5-6zm1 5zm1-3zm5-1zm2 1zm1 0zm6 3zm3 0zm28-2zm17-4zm40 14zm-44-1zm-34-1zm-24-1zm-10 1zm-2-3zm-1 5zm-10-1zm-2-5zm-6 3zm-1-1zm0 4zm-1-2zm0 0zm0-1zm-4-1zm-1-1zm0-1zm0 3zm0 2zm-1 1zm-1 1zm0-6zm-2-1zm-2 7zm-2-6zm-1 4zm-1-5zm-2 4zm-1-3zm0 1zm0-1zm0-1zm-1 0zm-1 6zm-3 0zm-1-6zm-1 0zm-1 5zm-2-5zm-4 7zm-2-6zm-2 5zm-1-6zm-7 1zm-2 2zm0 0zm-1-3zm0 0zm0 2zm-3 4zm-8-1zm-5-4zm-6 1zm14 9zm7 2zm7-4zm0 4zm2 2zm26-6zm4 0zm8 2zm4-2zm1 3zm1-2zm6 0zm-31 9zm-16-3zm-46 10zm48 5zm13-7z"/>
<path stroke="#433d84" d="M132 839zm-2 4zm-14 9zm42-3zm5 3zm-31 11zm27 15zm-17-1zm-19-3zm2 9zm47 0zm38 5zm-43 2zm-4 2zm-19 1zm-13-3zm2 13zm7-2zm18 8zm-24 24zm7-2zm17-1zm18 11zm-32 0zm-20 5zm9 2zm55-4zm-18 12zm-13 13zm-31 2zm-5 7zm7 3zm12 2zm12 11zm25-1zm-57 12zm51 9zm11 1zm37-1zm-5 2zm-6 3zm-2-1zm-12 2zm-19 2zm-43-4zm37 8zm15 2zm154-2zm-99 7zm-11 4zm-19-5zm-4 4zm-12 3zm-1-6zm-4 3zm-69 1zm71 7zm14-3zm2 4zm6 0zm16-4zm-2 12zm-2-5zm-5 0zm-12 1zm-3 5zm-12 0zm-10-5zm-7-1zm-15 0zm27 8zm9 5zm15 2zm23-5zm4 8zm-30-2zm-7 0zm-5 0zm-3 5zm-1-4zm-4 1zm-20 8zm33-1zm6 2zm8 3zm0 8zm-5-5zm-3 6zm-4-7zm-3 3zm0-3zm-10 6zm-37 6zm32 3zm7-4zm8-1zm3 3zm3 0zm4 0zm2-3zm2 7zm-4 5zm-1-1zm-10-1zm-35-4zm33 9zm5 3zm2-3zm8 14zm-2-5zm-3-2zm-1 1zm-37 11zm22 0zm15 0zm4-4zm349 9zm-47-1zm-291 0zm-10 4zm-11-4zm-1 12zm7 2zm0-1zm-49 7zm60 4zm9 1zm-10 7zm-9 4zm-30-4zm-6 7zm32 8zm19-5zm1 6zm-1 5zm-19-5zm3 13zm12-4zm4 6zm0 0zm5 6zm-3 1zm0-2zm8 5zm1 0zm6 13zm-7-6zm-30 9zm20 4zm5-5zm6 5zm3-5zm1 4zm3 3zm0-6zm75 1zm197 5zm17 7zm-150-5zm-142 1zm-51 7zm54 0zm3 1zm1 1zm2 3zm41 1zm8-3zm8-1zm6 2zm24-5zm38 5zm113-3zm13 8zm-146 3zm-14-4zm-15-1zm-1 5zm-38-5zm-1 4zm-15-4zm-3 5zm-8-2zm-25 12zm0-1zm1-3zm9 3zm0 0zm6-2zm3 2zm1-4zm11 4zm14-4zm2 1zm16 4zm5-1zm0-2zm1 3zm36-2zm147 4zm-148-1zm-18 0zm-8 6zm-4-1zm-4 1zm-5-4zm-3 5zm0-5zm-5-1zm-2 5zm0-5zm-1 6zm0-1zm-1-2zm-3-2zm-1 0zm-4 5zm-3-1zm-9-4zm-4 3zm-1-1zm-1 0zm0 1zm-3-3zm0 5zm-1-5zm-1-2zm0 6zm-2 1zm-2-3zm0-2zm-2 3zm-1-1zm-1-1zm-1 3zm-1-1zm-2-4zm-1 5zm-2 0zm0 0zm0-2zm-1-3zm-4 2zm-1 2zm-1 1zm-2-2zm-4-2zm-1 2zm-5 3zm-19-4zm-47 10zm49-4zm0 1zm1 0zm1 4zm4 1zm5-5zm0 0zm1 5zm0-3zm1-3zm0-1zm0 4zm0-4zm1 6zm2 0zm1-2zm0 0zm0-1zm0 2zm1 0zm0-2zm1 2zm0-3zm1 3zm1 1zm2-4zm0-1zm0 6zm2-4zm1 3zm1-1zm0 1zm1-1zm0-1zm1 1zm0 2zm0 0zm0-2zm1 1zm0-6zm1 7zm0-1zm0 0zm1-2zm1 3zm0-3zm0-1zm0 3zm0-2zm0 2zm1 1zm0-7zm1 4zm0 1zm1 0zm0-2zm0 1zm0-4zm1 1zm0 3zm1 2zm0 0zm1 1zm0-5zm0 5zm0-1zm1 0zm0 0zm1-2zm0-2zm0 5zm2-1zm1 0zm0-3zm1 0zm0 2zm1-3zm0 1zm0 2zm0 2zm1-6zm0 5zm1-3zm0 2zm0-3zm1 3zm0-1zm1-1zm0-2zm0-1zm0 7zm1-5zm0 3zm1-1zm0 1zm0 0zm0-4zm0 3zm1-2zm0 5zm0 0zm1-2zm0-1zm0 0zm0-1zm0-3zm2 7zm0-2zm0 0zm1 2zm1 0zm0-4zm0 4zm1-2zm2 2zm0-4zm1 3zm1 1zm0-6zm1-1zm0 5zm0-1zm1-3zm0 6zm0 0zm0-3zm1 3zm0-6zm0 2zm0 4zm1-3zm0 0zm2 1zm0 0zm1-3zm1 1zm0-3zm0 4zm1-4zm1 7zm0-4zm1 4zm1 0zm0-1zm1-3zm1 3zm0 1zm1 0zm6-2zm1-4zm1 6zm2-6zm2 6zm1-1zm16-4zm3 6zm-11 2zm-2 2zm-4 2zm-5-5zm-1 0zm-2 3zm0 2zm-1-4zm-1 1zm-1 0zm-1-2zm0-1zm0 7zm0-2zm-2 2zm-2-6zm0 3zm0 1zm0 2zm-1 0zm-1-4zm0 3zm-1-2zm0 3zm0-1zm0-4zm0-1zm-1 3zm0-1zm-1-2zm0 3zm-1 0zm0-4zm0 0zm0 5zm-1 0zm0-2zm-1 4zm0-3zm0 3zm-1-5zm0 0zm0 3zm-1 0zm0 1zm0-5zm0 5zm0-5zm-1 4zm-1 0zm0 2zm-1-3zm-1 2zm0-3zm0 3zm0 0zm-1-3zm0 3zm0-1zm-1-5zm0 6zm0 0zm0-5zm0 5zm0-1zm-1-5zm0 0zm0 0zm0 1zm-1 4zm0-1zm0-4zm0 5zm0-1zm0-2zm0 4zm0-4zm-1 1zm0-1zm-1 5zm0 0zm-1-7zm0 5zm-1 1zm-1-1zm0 2zm0-3zm0 1zm-1 0zm0-2zm0 4zm-1-3zm0 0zm0 3zm0-4zm0 0zm0-1zm0-1zm0 4zm0 1zm0-1zm-1-2zm0 3zm0-6zm0 0zm-1 6zm0-2zm0 2zm0 0zm-1-1zm0 0zm0-4zm0 5zm0-1zm-1-3zm0 3zm0-4zm0 0zm-1 5zm0-5zm0 0zm-1 1zm0 5zm0-1zm-1-4zm0 0zm0 1zm0 3zm0-2zm0-1zm0 2zm-1-1zm0 1zm-1-1zm0 1zm0-2zm0 0zm0 0zm0 2zm0-5zm-1 5zm0-2zm0-2zm0 4zm0 2zm0-4zm0 1zm-1 2zm0-2zm0-3zm0 4zm0-1zm0 0zm-1-1zm0-3zm0 6zm0-1zm0 1zm0-3zm0-3zm0 2zm-1 2zm0 1zm-1 1zm0 0zm0-5zm0 5zm-1-4zm0 5zm0-2zm0-1zm-1-1zm0-2zm0 4zm0 2zm-1-2zm0-1zm0 2zm0-5zm-2 3zm0-4zm0 5zm0 1zm0-2zm-1 3zm0-1zm0-2zm-1-4zm0 6zm-1-5zm0 5zm0 0zm-1-2zm0-4zm0 3zm0 3zm0-3zm0 4zm0 0zm0 0zm-1-1zm0-3zm0 1zm-1 2zm0-2zm0 3zm-1-2zm0-4zm0 2zm-2 2zm0 1zm-1-4zm0 0zm0 2zm-1 2zm0-6zm0 2zm0 0zm-1 4zm0 0zm-1-1zm0 2zm0 0zm0-2zm0 1zm-1-4zm0 5zm0-4zm-1 1zm0-1zm0-1zm-1 5zm0-1zm-1-1zm0 1zm0 1zm0-7zm-1 2zm0 5zm-1-1zm0 1zm-1-4zm-1-2zm-1 4zm0 1zm-1-2zm0 2zm-2-2zm0 0zm-1 1zm-1 0zm-2-3zm-1 5zm0-2zm-1 1zm0-1zm0 2zm-1-5zm-4 5zm0-7zm-1 5zm-2-3zm-3 1zm-1 4zm-2-4zm-3 9zm3 0zm2-1zm0 4zm3-5zm1 3zm2 0zm1-3zm2 2zm0 0zm0-3zm0 1zm1-2zm0 3zm0 1zm0-1zm1 4zm1-2zm2-1zm0 0zm3 1zm1 1zm1-2zm0 0zm0-2zm2-1zm0 5zm0-6zm0 1zm1 6zm1-4zm0 1zm0-4zm0 0zm1 2zm0 4zm0 1zm1-3zm0 1zm0 2zm0-6zm1-1zm0 7zm0-5zm1 5zm0-3zm0-2zm0 2zm0-1zm0 3zm0-4zm0 5zm0-6zm1 0zm0 4zm0 0zm0 2zm0 0zm0-5zm0 5zm0 0zm1-6zm0 0zm0 1zm1 5zm0-2zm0-1zm0 0zm1-2zm0 1zm0 4zm0-2zm0-4zm0 6zm0-6zm1 2zm0-1zm0-1zm0-1zm0 7zm0-6zm0 6zm0-4zm1 3zm0-1zm0-5zm0 7zm0-3zm1-1zm0-3zm0 5zm0 2zm1-7zm0 5zm0 1zm1-1zm1-2zm0 1zm0 1zm0-2zm0-1zm0 0zm0 0zm1 1zm0 3zm0-3zm0 1zm0-3zm1 6zm0-6zm0 6zm0-2zm0-5zm1 3zm0 4zm0 0zm0-3zm0 3zm1-2zm0 1zm0-3zm0-3zm0 1zm0 4zm0-1zm0 0zm0 2zm0 1zm1-4zm0 3zm0 0zm0-1zm0-5zm0 7zm0-2zm0 0zm0-2zm1 1zm0-4zm0 7zm0-2zm0-4zm0 2zm0 4zm0-7zm1 7zm0-3zm0 1zm0 1zm0-6zm1 5zm0 2zm0-7zm0 3zm0 4zm1-4zm0 1zm0 3zm0-7zm0 7zm0-6zm0 6zm1-6zm0-1zm0 1zm0 0zm0 1zm0 5zm0 0zm0 0zm1-1zm0 0zm0-4zm0 5zm0-5zm0 1zm0 4zm1-3zm0-1zm0-1zm1 1zm0-3zm0 6zm0 1zm0-5zm0-1zm0 4zm0-4zm1 6zm0-2zm0-1zm0 3zm0-1zm0-1zm1 0zm0 1zm0-4zm0-2zm0 0zm0 2zm0 4zm1-2zm0-3zm0 5zm0-2zm0 3zm1-1zm0-5zm0 6zm0-7zm0 1zm0 3zm0-1zm1-2zm0 4zm0-1zm0 3zm0-2zm0-1zm0 1zm1-2zm0 1zm0 3zm0-7zm1 4zm0-2zm0-1zm0 2zm0 4zm0 0zm0-2zm0-4zm1 4zm0 2zm0-5zm0 1zm0-2zm0 3zm0 2zm1-3zm0 0zm0 1zm1-4zm0 0zm0 7zm0-6zm0 3zm0 1zm1-3zm0 0zm0 1zm0 4zm0-4zm0 3zm0-4zm0 0zm0 5zm0-7zm0 7zm1-1zm0-6zm1 1zm0 5zm0-6zm0 2zm1 5zm0 0zm0-4zm0-2zm0 3zm0-2zm0 2zm1 3zm0-7zm0 7zm0-1zm0-1zm0 2zm1 0zm0-3zm0 2zm1-6zm0 6zm0 1zm1-6zm0 0zm0 4zm0-1zm0 1zm1-5zm0 1zm0 5zm1-5zm0 3zm1 3zm0-5zm0 1zm0 1zm1-1zm0 0zm0 0zm1 3zm0-6zm0 4zm1-4zm0 5zm0-4zm0 2zm0-3zm0 1zm0 1zm0-1zm1 2zm0 0zm0 3zm1-4zm0 0zm0 4zm0-5zm0 6zm1-3zm0-2zm0 1zm1 4zm0-2zm0-5zm1 7zm1-1zm1-6zm0 1zm1 3zm0-2zm1 1zm0-2zm0 5zm1 0zm0-2zm0 1zm0-3zm0-1zm1 4zm0 0zm1 0zm0-5zm1 6zm0-4zm0 1zm1 1zm0-3zm1 5zm0 0zm0-3zm1 3zm0-1zm1 1zm1-3zm0-1zm1 4zm2 1zm1-7zm1 1zm2 1zm0-1zm3 1zm0 5zm4-7zm54 5zm-7 7zm-50 0zm-6-3zm0-1zm-2 1zm-2 2zm-1 0zm-4 0zm-1 2zm0-1zm0 0zm0-2zm-1-1zm-1 0zm0 0zm-2 3zm-1-4zm0 2zm-1 1zm-2 0zm0 3zm-1-5zm0-1zm0 5zm0 1zm-1 1zm0-6zm0 6zm0-5zm-1 0zm0 4zm0 1zm0-4zm0-3zm-1 3zm0 4zm0-4zm0 1zm-1-3zm0-1zm-1 4zm0 0zm0 1zm0-2zm0-1zm0 3zm-1-5zm0 4zm0-4zm0 7zm0-3zm0 0zm-1-3zm0 3zm0-3zm0 3zm0-1zm-1 1zm0 0zm-1-4zm0 5zm0 1zm0-1zm-1-1zm0 2zm0-4zm0-1zm0 5zm-1-3zm0 0zm0 1zm-1 3zm0-6zm0 0zm0 1zm0 3zm-1-5zm0 5zm0-2zm-1-2zm0 1zm-1 1zm0 0zm0 2zm0-3zm-1 3zm0-1zm0 3zm0-7zm-1 1zm0 6zm0-5zm-1-2zm0 1zm0 2zm0-1zm0-1zm-1 0zm0 4zm0-4zm0 1zm0 1zm0 3zm0 1zm0-3zm0 1zm0-5zm-1 3zm0 2zm0 0zm0 0zm0-5zm-1 4zm0 2zm0 1zm0-6zm-1 4zm0-1zm0 2zm0 1zm0-4zm-1 0zm0-1zm0 4zm0-3zm0-1zm0 0zm0 2zm0 2zm0-2zm-1-2zm0 2zm0-4zm0 6zm0-4zm0 2zm0-3zm-1 1zm-1 3zm0 1zm0-4zm0 3zm0 0zm0 0zm-1 2zm0-7zm0 1zm0 5zm0 0zm-1-3zm0-3zm0 1zm0 1zm0 0zm0-2zm0 1zm-1 2zm0-1zm0 1zm0 1zm0 3zm0-2zm0-4zm0-1zm0 6zm0-1zm-1-5zm0 1zm0 0zm0 4zm0 1zm0-5zm-1 1zm0-2zm0 6zm-1-6zm0 6zm0-3zm0 4zm-1-2zm0-2zm0-2zm0 4zm0 1zm0-4zm0 1zm0 0zm-1 4zm0-6zm0 2zm0-1zm0 5zm0-2zm-1-2zm-1 0zm0 2zm0-4zm0-1zm0 2zm-1-1zm0 4zm0 1zm0-6zm-1 1zm0 0zm0-1zm0 1zm0 1zm-1 2zm0-4zm0 0zm0 1zm0 6zm0-7zm0 1zm0 2zm0-1zm0-2zm0 7zm0-1zm0-3zm0 1zm-1 2zm0-4zm0 1zm0 1zm-1-4zm0 5zm0 0zm0-5zm0 6zm0 1zm-2-6zm0 3zm0 2zm0-2zm0-1zm0-1zm0-2zm0 3zm0 3zm0-6zm-1 5zm0-1zm0-1zm0-3zm0 0zm0 5zm0-1zm-1-2zm0 5zm0-4zm0-1zm0 4zm0 1zm0-1zm0-1zm-1-5zm0 5zm0-4zm0 2zm-1 2zm0-2zm0-1zm0 5zm0-7zm0 4zm0 2zm-1-2zm0 2zm0-5zm0 5zm0 1zm0-6zm-1 4zm0 1zm0 1zm0-5zm-1 0zm0 2zm0-1zm0-1zm0 5zm0-7zm-1 3zm0 0zm0-1zm-1-1zm-1-1zm0 7zm-1-1zm0-6zm0 5zm0-3zm-1 4zm-1-5zm0 1zm-1 5zm-1-6zm0 4zm0-1zm0-4zm0 0zm0 1zm0 5zm-1-4zm0 3zm0-3zm0 4zm0-5zm0 4zm-1 0zm-1-2zm0 4zm0-3zm0-4zm0 0zm0 3zm0 1zm-1-4zm0 1zm-1 4zm0-3zm0-1zm0 0zm0 1zm-1 2zm0 3zm-1-7zm0 2zm0 4zm0-5zm-1 6zm-1-3zm-2 3zm-1-2zm0 0zm-3 2zm-1-5zm0 1zm-4-1zm-1-1zm-1 0zm-1 1zm-5 4zm-2 1zm0-2zm-7 1zm2 6zm7 2zm1-6zm7 5zm2-2zm4 4zm0-1zm1 0zm0-6zm3 3zm0-1zm3 4zm0-2zm1-1zm0-3zm0 5zm1-1zm0-1zm1 4zm0-5zm0-1zm1 4zm0-2zm2 3zm0 0zm0-6zm0 0zm1 4zm0 0zm1 2zm2-3zm1-2zm0 4zm0 0zm0 2zm1-7zm0 3zm1-3zm0 6zm2-2zm0-3zm1 3zm0 0zm0-2zm0-1zm0 0zm0 5zm1-3zm0-2zm0 5zm1-4zm0-2zm0 6zm0-1zm0 2zm0-1zm1-3zm0-3zm0 2zm0 0zm0 4zm0-6zm1 6zm0-6zm0 0zm0 7zm0 0zm0-5zm1 1zm0 1zm0 1zm0-5zm0 1zm0 1zm1 5zm0-5zm0 5zm1-7zm0 1zm0 1zm0 2zm0-3zm1 3zm0 1zm1-4zm0-1zm0 6zm1-4zm0 0zm0 1zm0-3zm1 4zm0 1zm0-5zm0 7zm0-7zm0 5zm1-1zm0-4zm1 6zm0-3zm0 1zm1 3zm0-1zm0-6zm0 0zm1 0zm0 1zm0 0zm0 4zm0 2zm0-4zm1-3zm1 4zm0-4zm0 7zm0-6zm1 6zm0-6zm0 6zm1-6zm0 5zm1-3zm0 4zm1-7zm0 5zm0 0zm0-4zm1 0zm0-1zm0 0zm0 3zm0 0zm1-3zm0 1zm0 5zm0-3zm0 1zm1 0zm0-4zm0 3zm1-1zm0 0zm0 4zm0 0zm0-3zm0 3zm1-3zm0-1zm0-1zm1 4zm0-1zm1-3zm0 2zm0-2zm0 4zm1-5zm0 5zm0-5zm0 3zm1-3zm0 3zm1 1zm1 3zm0-5zm0 3zm0-2zm0 0zm0 3zm1-1zm0 1zm1 1zm2-5zm0-2zm0 4zm0 3zm0-5zm0 5zm1-5zm0 4zm1-4zm0 2zm1 2zm1-1zm0-5zm0 0zm0 5zm0-3zm0-2zm1 0zm1 4zm0 0zm3-1zm1 0zm2-1zm1 0zm1-2zm1 0zm0 3zm3-3zm1 2zm2 5zm2-7zm0 7zm2-4zm9-3zm0 7zm6-5zm-11 10zm-2 1zm-1-2zm-4-1zm-6 4zm-2-4zm-2 2zm-3-2zm-2 3zm-1 1zm0-6zm-1 5zm0-1zm-2-4zm0 4zm-1 2zm-1-3zm-1-2zm-1 2zm0 0zm0-2zm-1-1zm-1 0zm-1 1zm0 6zm-2-1zm0-5zm-1 5zm0-3zm-1 3zm-2 1zm-1-1zm0-6zm-1 1zm0 1zm-1-1zm0-1zm0 5zm-1-5zm0 3zm0 2zm-1-2zm0-2zm0 0zm-1-1zm0 4zm0-2zm-1-1zm-1 4zm-1-5zm0 3zm0 0zm-2-3zm0 5zm0-5zm-1 1zm0 0zm-1 2zm0-1zm-1 3zm0-4zm-1 3zm-1-4zm0 2zm-1 5zm-1-1zm0-1zm-1-2zm0 2zm0-5zm-1 6zm-1 0zm0-2zm-1 1zm0-1zm-1 1zm-1-2zm0-2zm-1 1zm-1-1zm-1 5zm0-3zm0 1zm-1 1zm0 1zm0-6zm-1 3zm-1 3zm0-6zm-1 1zm-2 6zm0-7zm-2 2zm0 1zm0-3zm0 6zm-1-6zm0 1zm-1 6zm-1-5zm-2-1zm-1 1zm-1-2zm-1 5zm-8 1zm-2-1zm-9 6zm1 0zm13-3zm0 4zm12 1zm2-3zm0 4zm2-5zm1-1zm0 0zm2 6zm3 1zm1-1zm0-5zm0 2zm5 0zm0-1zm4-2zm0 6zm0-1zm1-3zm1 1zm8 1zm0-4zm2 1zm2 1zm0 2zm1 1zm3-5zm1 1zm0 5zm4-4zm1-2zm2 1zm2 1zm9-2zm10 6zm-30 3zm-3-1zm-4 1zm0 2zm-9-3zm-10 6zm-8-3zm-6-1zm-16-1zm-9 10zm4-3zm55 5zm33 12z"/>
<path stroke="#3b528b" d="M243 1045zm-44 15zm6-1zm11-3zm23 6zm3-2zm-35 10zm9 6zm14 1zm130 4zm-138-1zm-16 6zm3 7zm11 0zm2-1zm7 3zm13-1zm-12 3zm-35 2zm32 5zm13 12zm-9-4zm-14 7zm-2-7zm-2 1zm-5 14zm9-1zm2 1zm5-4zm1 0zm1 0zm13 11zm-10-1zm-2-5zm-11 3zm-2 2zm5 6zm6-1zm-6 6zm1 9zm8-1zm4 1zm3 7zm-9 2zm-5-2zm7 15zm2-5zm2-2zm2 14zm-2 1zm-2 8zm-2 2zm-1-1zm4 13zm7-1zm0-1zm1 1zm101 10zm-26-6zm-72 5zm-7-3zm-2 12zm85-2zm22 6zm-9-1zm-23 5zm-56 0zm-2-1zm-1-4zm68 7zm2 3zm3-1zm6-1zm4 0zm29 1zm-18 10zm0 2zm-19-5zm-7 1zm-6 5zm-25-4zm-18 1zm-11 1zm-30-4zm-3 12zm24 0zm2 2zm0-5zm3-1zm8 3zm16 1zm1-2zm1-2zm4 1zm14 4zm3-1zm0 1zm1-3zm0 4zm5-5zm14-1zm12 14zm-15-5zm-1 1zm-12-2zm-7-1zm-1 0zm-6 7zm-6-4zm-12 1zm0 1zm-4 0zm-1 2zm0-4zm-10 4zm-2 0zm-1 0zm-1-3zm0-2zm-1 0zm-4-2zm-2 5zm-1 1zm0-1zm-2-3zm-1 2zm-1 0zm0 1zm-13 1zm-11-6zm-16 12zm15-3zm5 5zm6-1zm2 2zm1-4zm4-3zm2 6zm0 1zm0-3zm5-1zm1 4zm1-4zm0 4zm0-3zm0 0zm2-4zm1 2zm1 1zm1-3zm1 4zm2 2zm0 1zm0-5zm1-1zm2 2zm2-1zm0 5zm1-3zm0 3zm0-6zm0 1zm0 4zm1-3zm0 3zm1 0zm1-4zm1 5zm0-1zm0 1zm1-2zm1 1zm0 0zm1 0zm0 0zm0-1zm0 1zm0 0zm0-2zm1 2zm0-2zm1 2zm0 1zm3 0zm1-2zm0-3zm0 1zm1 4zm0-1zm2-1zm1 1zm0-2zm0-2zm0 2zm3 3zm1-4zm0-1zm1 3zm1 0zm1 2zm1-4zm2 4zm1-5zm0 5zm2-1zm1-1zm1 1zm2 1zm1-4zm0 4zm25-7zm-5 14zm-2 0zm-10-5zm-1 2zm0-2zm-2-1zm0 6zm-2-6zm-3 5zm0 2zm-1-5zm0 1zm0 1zm-1 3zm0-2zm-2 0zm0-2zm-1-1zm-1 0zm-1 2zm-1-3zm0 2zm-1 4zm0-3zm-1 0zm-2-4zm0 4zm-1 3zm0 0zm0-6zm-1 0zm0 6zm0 0zm-2 0zm0-1zm0-5zm0 2zm0-2zm-1 4zm-1-3zm0 3zm0 1zm0-4zm-2 5zm0-1zm0-4zm-1-1zm-1 4zm-1 0zm0-3zm-1 5zm0-6zm0 2zm0-2zm0 3zm-1 2zm0-5zm0 1zm-1 2zm0 0zm-1-2zm-1-2zm0 5zm-1-1zm0-4zm-1 7zm0-2zm0-4zm0 2zm0 2zm0-5zm0 3zm-1-2zm0 2zm0 2zm0 0zm-1-5zm0 7zm0-4zm0 4zm0 0zm0-3zm-1 0zm0 1zm0-3zm0 5zm-1-2zm0 0zm0 2zm-2-3zm0-3zm0 6zm0 0zm-1-3zm0 2zm0-3zm0 4zm0-3zm-1-3zm-1 3zm0 1zm-1-5zm0 7zm-1-2zm0 1zm-1-4zm-2 2zm0-1zm0 1zm0 1zm-2-5zm0 5zm0-3zm-1-1zm0 1zm0 5zm-1-1zm0-1zm-1-1zm0 2zm0-1zm-2 0zm0 1zm0-2zm0-3zm0 6zm0-6zm0 1zm-1-2zm-1 5zm-1-1zm0 3zm0 0zm0-1zm0 0zm-1 1zm0-1zm-1-2zm0 2zm0-5zm0 2zm-1-2zm-2 5zm0-6zm0 6zm0-2zm0-1zm-2-1zm-1 1zm0-3zm0 5zm-1 1zm0 1zm-2-4zm0-3zm-1 0zm0 7zm0-3zm-1 3zm-1-7zm-1 6zm0 0zm-1-5zm-1 3zm0-2zm0 1zm-1-1zm0 2zm-1-1zm-2 0zm-1 1zm0-3zm-1 3zm-2-1zm-1 1zm-2 1zm0 0zm-5 0zm-1-4zm-7 3zm-3 2zm-3 6zm3 0zm4-1zm4 4zm2-3zm1 3zm0-1zm1-6zm2 0zm1 2zm1-1zm1 3zm0-1zm1 2zm1 0zm0 0zm0-5zm1 2zm0-1zm0 6zm1 0zm1-1zm0-1zm1-1zm0-3zm1 5zm0-1zm1 2zm2-2zm0 1zm0-5zm1 3zm0 1zm1-4zm0 6zm1-4zm0-2zm0 6zm2-2zm0-3zm1 1zm0 4zm0-7zm0 4zm1 3zm0-3zm0-2zm0 3zm1-5zm0 7zm0-1zm0 0zm1-4zm0 4zm0-2zm0 2zm1 1zm0-1zm0-6zm0 3zm1 0zm1 1zm0 0zm0 2zm0 0zm0-4zm0 5zm0 0zm1 0zm0-3zm0-2zm0 4zm0-1zm0-4zm1 6zm1-5zm0 2zm0 3zm0-5zm0-2zm0 0zm1 6zm0 1zm0-1zm1-6zm0 3zm0 1zm1 1zm0-1zm0-4zm1 1zm0 2zm0 3zm0 0zm0-2zm0 3zm1-3zm0 3zm0-1zm0-1zm1-4zm0 1zm0 4zm0 0zm0-4zm1 0zm0 2zm0 0zm0-2zm0 5zm0-5zm1 3zm0-1zm0 1zm0-3zm1 3zm0-1zm0-4zm0 7zm0-1zm0 1zm0-2zm0 2zm1-2zm0-2zm1 4zm0-5zm0 0zm0 0zm0 3zm0-5zm0 7zm0-3zm0 3zm1-6zm0 1zm0-1zm1 6zm0-5zm0 0zm0 3zm0-1zm0-1zm1 0zm0-3zm0 2zm0 3zm0-1zm0 0zm0-2zm0 1zm0-2zm1 2zm0-1zm0 3zm1-5zm0 7zm0-7zm0 1zm1-1zm0 7zm0-2zm1-3zm0-2zm0 3zm1 3zm0-3zm0-2zm0-1zm0 3zm0 2zm0 0zm0 0zm0-2zm1 1zm0 2zm0 1zm0-3zm0-2zm0 4zm0-3zm1 3zm0-3zm0-2zm0 4zm0 2zm0-3zm1-2zm0 3zm0 1zm0-2zm0 0zm0 1zm1 0zm0 0zm0-3zm0 5zm1-4zm0 1zm0-4zm0 2zm1-2zm0 5zm0 1zm0-2zm0 2zm0 0zm1-5zm0 2zm0 2zm0-2zm0 3zm1-4zm0 3zm0-1zm1 3zm0-5zm0 4zm0 1zm0-4zm1 2zm0-5zm0 1zm0 5zm0-5zm0 5zm0 1zm0-6zm0 4zm1 2zm0-7zm0 3zm0 0zm1 2zm0-2zm0-1zm0-2zm1 6zm0 1zm0-1zm1-1zm0 0zm0 1zm0-2zm0 0zm0-3zm1 5zm0-3zm1 2zm0 1zm0-1zm0 0zm1 1zm0-5zm0 1zm1 5zm0-5zm1 0zm0-2zm0 2zm0-1zm0 4zm1 0zm0 0zm1-3zm0-2zm1 3zm0 1zm0-2zm1 1zm0-2zm0 0zm0 6zm0-1zm0 1zm1-2zm2 1zm0-4zm0 5zm0-2zm1-4zm1 6zm2-7zm1 7zm1-3zm0-3zm0 0zm3 4zm2-4zm1-1zm4 0zm0 6zm3-4zm2-1zm2 5zm6 8zm-4-1zm-14-3zm-1 1zm0-2zm-1 2zm0-1zm-1-2zm-1 0zm-1 3zm-1-1zm0 0zm0 4zm-1 1zm-1-7zm0 5zm-1 2zm0-7zm0 0zm0 3zm-1-1zm-1 4zm-1-6zm0 5zm-1-5zm0 4zm-1 2zm0-6zm0 1zm0 4zm-1-2zm0 1zm0 0zm-1-1zm0 3zm0-4zm0-2zm-1 1zm0 3zm-1 1zm0-2zm-1 1zm0-1zm0 4zm-1-2zm0-4zm0-1zm0 0zm-1 1zm0 1zm0 1zm0 3zm-1-6zm0 0zm0 2zm-1 4zm0-5zm0 3zm-1 3zm0-7zm0 6zm0-2zm-1-2zm0 2zm0 2zm0-2zm0-4zm0 2zm0 1zm-1 1zm0-4zm0 1zm0 1zm0 3zm0-3zm0-2zm0 7zm-1-4zm0 2zm0-5zm-1 7zm0-1zm0-6zm0 2zm0 0zm0 1zm-1-3zm0 4zm0 1zm0-4zm0 6zm-1-3zm0-2zm0 1zm-1-3zm0 6zm0-4zm0 4zm0-5zm0 4zm0-2zm-1 0zm0 1zm0-1zm0 2zm0 0zm0-1zm0 0zm-1 0zm0-2zm0 2zm0-2zm0-1zm0 4zm0-3zm-1 1zm0-3zm0 6zm0-3zm0-1zm-1 2zm0-1zm0-2zm-1 6zm0-3zm0-1zm0 1zm0 1zm-1-5zm0 5zm0-5zm0 7zm0-7zm0 7zm-1-2zm0-3zm0 0zm0 1zm0 0zm0-3zm0 0zm0 5zm0-1zm0-3zm-1 3zm0-2zm0 1zm0-1zm0 4zm-1-1zm0-4zm0 2zm0-2zm0 5zm0 0zm0-4zm0 0zm0 1zm0 3zm-1-3zm0 2zm0-2zm0 3zm0-3zm0-2zm0 2zm-1-2zm0 6zm0-4zm0 3zm0-5zm0-1zm0 5zm-1-2zm0 2zm0-2zm0 2zm0-4zm0 2zm0-2zm-1 5zm0 0zm0-4zm0 2zm0 2zm0-6zm0 5zm0-3zm0 3zm0-5zm-1 4zm0 2zm0 0zm0-6zm0 5zm0 1zm0-1zm0-5zm0 1zm0-1zm0 1zm-1 0zm0 3zm0-2zm0 3zm0-2zm0-3zm-1 0zm0 0zm0 4zm0 3zm0-7zm0 6zm0 1zm0-6zm-1 0zm0 1zm0 1zm0-1zm0 5zm0-4zm0-3zm0 7zm0-5zm-1 3zm0-4zm0 3zm0 1zm0 1zm-1-5zm0 0zm0-1zm0 6zm-1 0zm0-4zm0-1zm-1 1zm0 4zm0-2zm0-2zm0 2zm0 2zm0-6zm0 1zm0 1zm0 3zm-1 1zm0 0zm0 0zm0 0zm0-2zm0 3zm0-7zm-1 2zm0 5zm0-7zm0 3zm-1-3zm0 0zm0 5zm0-3zm-1-2zm0 4zm0 1zm0-2zm-1-2zm0 0zm0 3zm0-4zm0 7zm-1-4zm0 3zm0-2zm0 2zm0 1zm0-6zm0 4zm-1-2zm0-2zm0 1zm0-2zm-1 0zm0 4zm0-3zm0 6zm0-1zm-1-2zm0 2zm0-4zm-1-1zm0 2zm0-1zm-1 3zm0-1zm0 1zm0-2zm0-3zm0 7zm0-6zm-1 6zm-1-1zm0-2zm0 1zm0 1zm0-1zm0-3zm-1 1zm0 2zm0-2zm0 0zm-1 0zm0 3zm-1-4zm0 3zm0-1zm0-3zm-1 5zm-1-4zm0-1zm0 0zm0 4zm-1-2zm0 1zm0 3zm0-3zm0 0zm-1 2zm0-2zm-1 1zm0 0zm0-3zm-1 4zm0 1zm0-5zm0 1zm-1 0zm0 1zm-1 3zm0 0zm-1-5zm-1 3zm-1-4zm0 6zm0-6zm0 5zm-1-6zm0 6zm-1-2zm0-2zm-1-1zm-1 5zm0 0zm0-2zm-2 1zm0-1zm-1-4zm0 1zm-2-1zm0 2zm-1-2zm0 4zm-1-1zm-9 1zm-2-4zm0 2zm-1 6zm2 2zm5-1zm1 5zm5-1zm0 2zm0-2zm2-3zm0 4zm1-4zm1 0zm1 5zm2-1zm0-3zm0 3zm2-4zm0-2zm1 6zm0-6zm0 6zm0-6zm1 4zm0-4zm0 5zm2-2zm1 0zm1 2zm0 1zm2-4zm1 2zm0-2zm0-1zm1 6zm0-5zm0 5zm1-5zm0 4zm0 0zm0-4zm0-1zm0 2zm0 2zm1 1zm1 1zm0-7zm0 4zm1-4zm0 4zm0-4zm1 6zm0-3zm0-3zm0 1zm2 3zm0-4zm0 3zm1 1zm0-2zm0-2zm1 3zm0 2zm0-1zm0-3zm1-1zm0 7zm0-4zm0 0zm1 4zm0 0zm0-4zm0-2zm0-1zm1 4zm0-2zm0 3zm0 2zm0-5zm0 2zm1-1zm0-3zm0 2zm1 3zm0-3zm0 1zm0 4zm0-4zm0 4zm0 0zm1-6zm0 3zm0-4zm0 5zm0-5zm1 2zm0 1zm1 2zm0-4zm0 1zm0 2zm0-1zm1 3zm0 1zm0-1zm0-3zm0 1zm0 1zm0-4zm1 6zm0-1zm0-2zm0 0zm0 2zm0-4zm0-1zm0 0zm1-1zm0 0zm0 1zm0 4zm0-1zm0-1zm1-2zm0 1zm0 5zm0-4zm0 4zm0-7zm0 4zm0 0zm0 1zm0 0zm0 2zm0-2zm0-5zm1 2zm0-1zm0 4zm0 0zm0-5zm0 6zm1-5zm0-1zm0 1zm0-1zm0 3zm0 4zm0 0zm0-3zm0-1zm0-1zm1-2zm0 1zm0 1zm0-1zm0 4zm0-5zm1 2zm0 0zm0 1zm0 1zm0-3zm0 6zm0-2zm1-3zm0 2zm0 3zm0-5zm0 1zm0 3zm0-3zm0 2zm0 0zm0-1zm1-1zm0 0zm0 1zm0 3zm1-3zm0-4zm0 6zm0-6zm0 2zm1 3zm0-2zm0 4zm1-7zm0 4zm0 1zm0-3zm0 0zm0 1zm0 0zm0 2zm0 1zm0-1zm0-3zm0-2zm0 2zm0 3zm1 0zm0 1zm0 0zm0-1zm0 2zm1-2zm0-4zm0 3zm0-4zm1 2zm0-2zm0 6zm0-4zm0 3zm1 2zm0-5zm0-2zm0 4zm0 0zm1-4zm0 5zm0-2zm0-2zm1 4zm0-3zm0 3zm0 0zm0 0zm0 2zm0-2zm0-5zm1 7zm0-5zm0 0zm0 0zm0 0zm1 5zm0-7zm0 1zm0 4zm1 1zm0-6zm1 4zm0-3zm1 0zm0 5zm0-6zm0 4zm0 3zm1-2zm0 1zm0-3zm0 0zm1-1zm0 3zm0-4zm1 4zm0 2zm1-7zm0 3zm0-3zm2 2zm1 3zm0 2zm0-3zm0-4zm0 6zm1-3zm0-1zm1 4zm1-5zm0 1zm0-2zm0 3zm1 3zm0-6zm1 7zm0-2zm1 0zm0 1zm1-6zm0 0zm0 0zm0 2zm0-2zm1 5zm1 0zm1-1zm0-1zm1 3zm1-6zm1 2zm0 5zm0-5zm1 2zm0-3zm1 0zm0 2zm0 4zm1-7zm4 0zm1 0zm0 3zm3 1zm-1 6zm-1 0zm-3-1zm-3 3zm-1-2zm0-2zm0 5zm-3-4zm0-1zm0 6zm-2-5zm0 3zm0-1zm-1 1zm-3-2zm0 5zm0-3zm-4 1zm0-3zm0 2zm-1 2zm0-1zm-1-5zm-1 0zm0 0zm0 0zm-1 0zm0 4zm-1 2zm0-5zm0 2zm0-1zm0 0zm-1 2zm-1-3zm0 0zm-1 4zm-1 0zm-1-5zm-1 3zm0-2zm0 5zm0 0zm-1-6zm0 4zm-1-3zm-1 0zm0 4zm0 0zm0 2zm-1-4zm0 0zm-1-1zm0-2zm0 2zm0 3zm0-1zm0-4zm-1 4zm0 0zm0-2zm0 2zm-1-3zm0 3zm0-4zm0 3zm-1-3zm0 2zm0 4zm0-4zm0-1zm0 1zm0-1zm-1 0zm0 0zm0 0zm0-1zm0 2zm-1 3zm0 1zm-1-5zm0 5zm0-3zm-1 3zm-1-4zm0 5zm0-6zm-1 3zm0-4zm0 3zm-1-3zm0 6zm0-6zm-1 0zm0 6zm0 1zm0-5zm-1 4zm0 0zm-1-2zm0-4zm0 1zm-1 1zm0 5zm0-2zm-1-2zm0 1zm0 2zm0 0zm0 0zm0-2zm0-4zm-1 3zm0-2zm0 2zm0 4zm0-6zm0 2zm-1 2zm0-3zm0 4zm0 0zm0 0zm0-5zm0 3zm-1 0zm0-2zm0-1zm-1 4zm0 0zm-1-3zm0-1zm0 5zm0-2zm-1 0zm0-1zm0 0zm0 2zm0 1zm0-1zm0-5zm0 5zm0-1zm0-3zm0-1zm-1 4zm-1 3zm0-3zm-1 0zm0-2zm0 4zm-1-3zm0 3zm0-4zm-1-1zm0-1zm0 5zm0-1zm-1 0zm-1-3zm0 3zm-1 2zm0-3zm0-2zm-1 3zm0 3zm0-6zm0 5zm0-3zm-1-2zm0-1zm0 7zm-1-5zm0 4zm-1-3zm0 4zm0-5zm-1-2zm0 7zm0-6zm-1-1zm-1 0zm0 5zm0 0zm-2 0zm0 2zm-1-3zm0-2zm-2 2zm-2-4zm0 7zm0-3zm-2 3zm-2 0zm-2-5zm-3 0zm-1 1zm-4 1zm-1 1zm-1-1zm-2 1zm-5-4zm-13 4zm7 8zm1-4zm12 3zm3 1zm2-4zm2 2zm1-3zm2 7zm2-1zm2-1zm0-3zm1-2zm1 3zm2-2zm1-1zm1 6zm0 1zm1 0zm0-4zm1 2zm1-5zm0 6zm1-5zm1 2zm0-3zm1 3zm0 2zm1-5zm0 3zm5 2zm1 2zm0-7zm1 7zm0-1zm2 0zm3-6zm0 2zm0 2zm1 2zm1-6zm1 3zm2-3zm0 3zm2-2zm0 2zm2 0zm1-2zm2 2zm1 3zm0-5zm0 2zm2-3zm0 0zm1 3zm1 2zm1-4zm1 2zm0 4zm1-4zm0 2zm0-2zm1-1zm0 5zm3-1zm1-5zm1 2zm2 0zm0-3zm0 0zm5 7zm4-5zm2 3zm1-5zm2 3zm0-2zm2 1zm1-1zm0 1zm4 1zm1-3zm1 2zm-9 11zm-20-4zm-2 4zm-4-1zm-7-1zm-1 1zm-1-2zm-3 0zm-1 0zm-4-2zm-5 3zm-3 4zm-4-2zm-2-1zm-14 2zm-9-4zm-4-2zm-2 1zm-8 14zm34-4zm17-2zm7 2zm3-1zm19 0zm0-2zm25 3zm-25 11zm-1-1zm-14 2zm-34-1zm-6-5z"/>
<path stroke="#32658e" d="M244 1082zm-8 21zm-27-7zm-3 3zm16 10zm2 2zm22-7zm-34 17zm28 10zm-5-2zm-5 13zm0-2zm-6 12zm3 3zm12 0zm1 4zm-2 8zm-2 0zm-4 0zm5 6zm11 9zm-2-5zm-5 1zm-7 8zm0-2zm9 0zm5 7zm-8 7zm9 5zm3-2zm-1 11zm-4 8zm96 1zm9 7zm-97-2zm-2 5zm-2-4zm-7 2zm56 6zm15 1zm30-2zm-20 8zm-1 4zm-56 6zm3 2zm26 1zm13-4zm2 0zm9 2zm8-2zm4 2zm9-5zm-11 9zm-12 4zm-8-1zm-2 0zm-1 3zm-25 0zm0-1zm-2-1zm-8 0zm-4 2zm-13-5zm0 1zm-1 0zm-1 3zm-1-1zm-8 2zm-9-6zm-1 6zm-11 2zm14 5zm5 0zm1 1zm5-3zm1 3zm4-4zm0 2zm1-4zm2 6zm2-1zm0-5zm0 1zm2 1zm1 3zm3-4zm0 5zm3-2zm1-1zm1 3zm0-1zm3-2zm1 1zm1 1zm4-5zm2 2zm9-2zm0 4zm2-4zm2 5zm2-3zm0 3zm2-3zm2 1zm2-1zm1 2zm7-3zm3 0zm1 5zm-4 5zm-7-4zm-5 4zm-4 3zm-1-1zm-3-4zm-1 0zm-1-2zm0 3zm0 2zm-1 0zm-2-1zm-1-1zm-1 1zm-1 1zm0-1zm-2 0zm-3 3zm-1-3zm0 0zm0 2zm-3-6zm-2 6zm-1-2zm0-1zm0 3zm-1-2zm0-4zm0 7zm-1-5zm-2 4zm0 0zm0-2zm-1 3zm0-1zm-1-4zm-1 0zm0 5zm-2 0zm-1-1zm0-4zm0 0zm-1 2zm-1 1zm-1 2zm0 0zm0-7zm0 5zm-1-2zm0 1zm-1-3zm0 6zm-1-3zm0 2zm-1-5zm0 5zm-1-4zm-2 4zm0-5zm-2 3zm0-1zm0-2zm-1 2zm-1 0zm0 2zm0 2zm-1-2zm-1-2zm-1 4zm-3-4zm-1 2zm0 1zm0 0zm-4-1zm-1-3zm-4 1zm-1-1zm0 2zm-1-2zm0 5zm-9 0zm-1-1zm0 1zm-1-1zm-2-1zm-2-4zm-1 0zm-5 10zm1 3zm3-2zm1-4zm0 7zm3 0zm2 0zm1-1zm1 1zm2-1zm3 1zm1-1zm1 1zm0-7zm1 6zm1-4zm1 4zm0-3zm2 0zm1 3zm1-3zm0 1zm0 3zm1 0zm0-7zm1 6zm0-5zm0 3zm1-2zm0 0zm0 0zm1 3zm0 0zm0 2zm0-4zm1 2zm0 1zm0-5zm1 1zm0 2zm0 0zm1 1zm0 0zm1 2zm1-6zm0 4zm0 2zm0-2zm0-1zm0-3zm0 6zm1-2zm0 1zm0-1zm0-3zm0 5zm1-1zm0 1zm0 0zm0-2zm2 1zm0 0zm0-1zm0-1zm1-4zm0 7zm0-5zm0-1zm1 6zm0-4zm0-1zm0 4zm1-1zm0 2zm0-2zm1-1zm0 0zm0-1zm1 4zm0-5zm0 1zm0 3zm0 0zm0 1zm1-5zm0 0zm0 4zm1-6zm0 6zm0 0zm0-2zm0 2zm0 1zm0-1zm0-3zm1-3zm0 6zm0 1zm1-1zm0-3zm1 2zm0 0zm1 2zm0-5zm0 4zm0-1zm1 2zm0-5zm0 4zm0 0zm0 1zm1-6zm0 4zm1-1zm0 1zm0-2zm0 4zm0 0zm0-4zm0 3zm1-4zm0-1zm0 6zm0-3zm0-1zm1 0zm1 3zm0-1zm0 1zm0 1zm1-2zm0 0zm0 1zm0-1zm0 0zm0-5zm0 0zm0 2zm1 2zm0 0zm1-4zm0 4zm1 0zm0 1zm1-1zm0 1zm0-3zm0 4zm2-2zm0 3zm0-4zm1 3zm0-1zm0 2zm0-4zm0 3zm1 0zm0 0zm0-2zm0 3zm1-4zm0-2zm1 4zm0-1zm0-2zm0 2zm0-1zm1 3zm0 1zm1-3zm0 2zm0-3zm1-3zm0 7zm0-1zm1-1zm0-4zm1 5zm0 0zm0-4zm0 1zm1 0zm0 3zm1-4zm0-2zm0 2zm1-2zm1 2zm0 1zm1 4zm0-7zm0 1zm0 5zm0 0zm3 0zm0 0zm0-1zm1 0zm0 2zm1-1zm0-4zm0 3zm1-2zm1 1zm0-3zm1 2zm1 2zm0-3zm0 0zm1-2zm0 1zm1 2zm1 4zm1-1zm0 1zm1-4zm1 3zm0-1zm1-2zm10 12zm-3-2zm-8-2zm-2-1zm0 4zm-2 1zm0-3zm-1 0zm0-1zm-1 3zm0-6zm-1 6zm0-2zm-1 1zm-1-5zm0 1zm0 3zm-1 2zm-1-3zm0 2zm0-1zm-1-3zm0 6zm0-4zm-1 3zm0-2zm0 2zm-1-5zm0 5zm0-1zm0-1zm-1 3zm-1-2zm0-4zm0 3zm0 3zm0-7zm-1 6zm0-3zm0 2zm0-4zm0-1zm0 5zm0 1zm-1 0zm0-3zm0 1zm-1 2zm0-1zm0 0zm-1-3zm0-1zm0 3zm0-3zm-1 5zm-1 1zm0 0zm0-6zm0 4zm-1 1zm0-1zm0-4zm0 1zm-1 1zm0-1zm0 4zm0-2zm0-3zm0 3zm-1 0zm0 3zm0 0zm0-3zm-1-1zm0-2zm0 4zm0-2zm0-3zm-1 3zm0-1zm0 5zm0-3zm0-4zm0 0zm0 5zm-1-4zm0 5zm0-4zm0 4zm0-5zm0 6zm-1-4zm0-1zm0-1zm-1 0zm0-1zm-1 2zm0 1zm0 2zm0-1zm-1 3zm0-7zm0 6zm0 0zm0 1zm0-3zm0-4zm-1 1zm0 2zm0-2zm-1 1zm0 3zm0-5zm0 6zm0 1zm0-7zm-1 5zm0 0zm0-1zm0 1zm0 2zm-1-1zm0-1zm0 2zm-1 0zm0-5zm0 3zm-1-2zm0 2zm0-1zm0-3zm0 6zm0 0zm-1-7zm0 3zm0 4zm0 0zm-1-6zm0 1zm0 3zm0-2zm0 2zm0-5zm-1 0zm0 3zm0 2zm0 2zm0-5zm0 0zm0 3zm0-2zm0 0zm-1-1zm0 0zm0-1zm0 5zm0-6zm0 7zm-1-6zm0 3zm-1-4zm0 0zm0 0zm0 5zm0 2zm0-2zm0-1zm0-4zm0 3zm0-2zm-1 5zm-1-2zm0 3zm0-6zm0 0zm-1 5zm0-2zm0-2zm0-2zm0 4zm-1-3zm-1 2zm0 2zm0 2zm-1-4zm0 2zm0 0zm-1 0zm0-1zm-1 2zm0 0zm0-6zm-1 7zm0-6zm0 3zm0 2zm-1-2zm0 0zm0-2zm0 2zm0-3zm0 1zm-1-1zm0 6zm0-6zm-1 2zm0-2zm0 4zm0 0zm0 2zm0-5zm-1 2zm0-2zm-1 2zm0 0zm0-2zm-1 5zm0-1zm0-4zm0 4zm-1 0zm0 1zm-1-7zm0 3zm0 3zm0-2zm-1 3zm0-4zm0-3zm-1 6zm0-1zm0-4zm0 0zm0 4zm-1-4zm0 3zm0-4zm0 6zm0-3zm-1-3zm0 5zm0 2zm0-6zm0 2zm-1 0zm0 2zm-1 2zm-1-2zm0-2zm0-1zm0 2zm-1-4zm0 3zm-2 2zm0-2zm0 3zm-2-5zm0 6zm0-2zm-1 1zm0 0zm-1 1zm0-6zm0-1zm0 3zm-3-2zm0 6zm0-4zm0 0zm-1 0zm0 3zm0 1zm0-6zm-1 4zm0 2zm-1-2zm-1-2zm0-2zm-4 1zm-1-2zm-13 2zm-6 0zm-1 7zm9 2zm2 4zm4-4zm5-3zm1 7zm3-1zm0 0zm1-4zm0 0zm0 4zm0-6zm1 7zm0-1zm1-5zm1 1zm0 2zm1-2zm0-2zm0 0zm1 4zm1-1zm0 0zm2 1zm0 2zm0-3zm1-1zm0 2zm1 0zm0-4zm0 0zm0 3zm2-3zm0 3zm1 2zm0-2zm0 2zm0-5zm1 7zm0-6zm0 4zm0-4zm1 3zm0-2zm0 3zm0-5zm0 3zm0-3zm1 2zm0-2zm0 7zm0-3zm1 2zm0-3zm0-1zm1-2zm0 5zm2 1zm0-4zm1 2zm0 1zm0-4zm0 3zm0-4zm1 3zm0 3zm0-4zm0 3zm0-2zm1 1zm0-3zm0 0zm0-1zm1 7zm0-2zm0-2zm0 3zm0 1zm1-3zm0 2zm0-6zm0 4zm0-1zm0 1zm0-1zm1 4zm0-6zm0 2zm0 2zm1-2zm0 3zm0-3zm0 2zm1 2zm0-6zm0 0zm0 0zm0-1zm0 0zm0 2zm0 3zm0-2zm0-1zm0 5zm1-4zm0 3zm0-6zm0 3zm0-2zm0 5zm1 1zm0-4zm0-2zm0 5zm1 0zm0 0zm1-6zm0 4zm0 3zm0-1zm0 0zm0-2zm0 2zm1-4zm0 3zm0-4zm0 5zm0-1zm0 1zm1 0zm0 0zm0 0zm0-4zm0 2zm0-1zm1 1zm1-2zm0 4zm0-2zm0-2zm0 1zm1 3zm0-3zm0-1zm0 2zm0 1zm0 1zm0-3zm1-3zm0 1zm0 1zm0 1zm0-2zm0-1zm0 3zm0 1zm0 1zm1 0zm0-4zm0 0zm0-1zm0 4zm1 1zm0-2zm0-2zm0 1zm0 5zm0-1zm0 1zm0-6zm0-1zm0 0zm1 4zm0-1zm0 3zm0 0zm0 0zm1 1zm0-5zm0 1zm0-2zm1 5zm0-6zm0 3zm1-3zm0 6zm0 0zm0-1zm0-2zm0-3zm0 2zm1 5zm0-4zm0-1zm0-2zm0 2zm0 1zm1-1zm1 3zm0-4zm1 1zm0 5zm0-4zm0 3zm0 1zm0 0zm1-4zm0 1zm0-1zm0 1zm0 1zm1-2zm0-1zm0 1zm1 4zm0-2zm0 0zm0 0zm0 2zm0-7zm0 4zm0 2zm0-2zm0-1zm0 0zm1 2zm0 2zm0-5zm0 3zm0-2zm0 2zm1 0zm0-2zm0 1zm0-3zm0 0zm0 6zm1-2zm0 1zm0-1zm0-5zm1 1zm0 1zm0-2zm0 4zm1-4zm0 0zm0 6zm0 1zm0-3zm0-3zm0 3zm1-2zm0-2zm0 4zm1-3zm0 1zm0 2zm0-3zm0 5zm0-3zm1-3zm0 6zm0 1zm0-4zm2-2zm0-1zm0 6zm1-5zm0 4zm0-2zm1 0zm0-2zm0 2zm0 1zm0-4zm0 0zm1 5zm0-4zm0 0zm0 2zm0-1zm0 4zm1-2zm0 3zm1-2zm0-2zm0 3zm1-4zm1 5zm0-3zm1-4zm1 6zm0-4zm0 0zm1-2zm1 0zm0 5zm0 2zm1-7zm1 3zm0 2zm1-1zm1 0zm1 3zm2-7zm0 5zm1 1zm0-1zm1-5zm2 7zm5-4zm1 0zm-8 9zm-1-2zm-2 1zm-1 3zm0-1zm-2 0zm-1-5zm0 2zm0 3zm0-1zm-1-3zm-3 3zm0 3zm-1-5zm0 1zm-2-2zm0 5zm0-3zm-1-1zm0 5zm-1-4zm-1 3zm0-3zm-1-1zm0 0zm0-2zm0 3zm-3 0zm0-1zm-1-1zm0 1zm0 0zm-1 3zm0-4zm-1 1zm0 1zm0 0zm0 3zm-1 1zm-1-6zm0-1zm0 1zm-1 5zm-1-5zm-1 3zm0-4zm0 6zm0-1zm0-1zm-3-4zm0 0zm0 5zm0 1zm0-6zm0 6zm-1-4zm-1 3zm0-5zm0 4zm0-4zm0 5zm-1-3zm0 0zm0 1zm0-3zm0 2zm-1 2zm0-2zm0-2zm0 6zm0 0zm0-3zm-1 3zm0-4zm-1 0zm0 0zm-1 2zm0 3zm0-3zm-1 0zm-1-1zm0 0zm0 1zm0 1zm0-1zm0-3zm-1 1zm0 5zm-1 0zm0-7zm0 6zm0-4zm-1 5zm0-4zm0 2zm-1-1zm0 1zm0-1zm0-3zm-1-1zm0 7zm0-5zm-1-2zm0 5zm0 1zm0-1zm-1-3zm0 1zm-1 3zm0-2zm0 2zm0-5zm-1 6zm0-2zm0 1zm0-1zm0 2zm0-7zm0 0zm-1 6zm0-1zm0-2zm0-2zm0 4zm-1-4zm0-1zm0 4zm-1 1zm0 2zm0-3zm0 1zm-1-5zm-1 0zm0 6zm-1-4zm0-2zm0 4zm0-4zm-1 5zm0-4zm0 5zm0-2zm0 3zm-1-2zm0-5zm-1 4zm-1-4zm0 7zm-1-4zm0 1zm-1 1zm-1-3zm-1 0zm-1 0zm0 0zm0 2zm-1-2zm0 0zm0 1zm-1 2zm0 2zm-1-3zm0 1zm-1-5zm0 7zm0-6zm0 0zm-1 2zm0-1zm-1 4zm0-3zm-1 0zm0 3zm0-3zm-1 0zm0 2zm-2-5zm-1 4zm0-4zm-2 0zm0 1zm-2 2zm0-2zm0 3zm-1-2zm0 0zm0 2zm-3-1zm0-3zm-2 2zm-2-2zm-3 2zm-7-1zm-2 6zm-1-7zm0 1zm-24 12zm21-2zm13-1zm1 0zm1 0zm5 3zm3-5zm3 0zm2 2zm0 4zm3-1zm0-2zm0 2zm1-5zm1 5zm3-5zm0 7zm0-7zm1 6zm0-6zm0 0zm0 3zm1-3zm1 5zm0 0zm1-3zm0-2zm1 7zm0-6zm1 2zm2-3zm0 6zm2-4zm2 3zm1-1zm0 1zm0 2zm1 0zm0-7zm1 6zm0-5zm0 2zm0 1zm1 0zm0-3zm1 2zm0-3zm2 5zm0 0zm0-2zm1 3zm0 1zm1-7zm0 2zm1 4zm3 0zm1-5zm0 0zm1-1zm0 0zm2 0zm0 4zm0-3zm1 1zm0 1zm0 4zm1-6zm0 3zm0 1zm0-3zm2-1zm0 0zm0 2zm1-2zm1 2zm0 3zm1-4zm0 5zm1-5zm0 3zm0-4zm0-1zm1 7zm1-7zm1 2zm1 0zm1-1zm0 6zm1-6zm1-1zm0 4zm3 2zm2-3zm2 0zm1-3zm1 1zm1 3zm4-3zm0-1zm0 14zm-8-4zm-1 0zm0 0zm-4-2zm-1 2zm0 3zm-1-5zm-1 1zm-1 2zm-1-3zm0 1zm-4 0zm-5-1zm-1 4zm-2-4zm0 2zm-4 1zm-2-3zm-2 3zm-6 4zm0-7zm0 3zm-5-3zm-1 1zm-1 0zm-3 4zm0 1zm-2-5zm-1 0zm-1 1zm-2 1zm-5 4zm-2-7zm-18 4zm-1 0zm-8 8zm30 0zm5-2zm1-1zm1 0zm1 4zm0-3zm2-2zm8 0zm5 2zm6-2zm3 0zm13 10zm-42-2zm-29 4zm40 12z"/>
<path stroke="#2a768e" d="M253 1070zm-2 6zm0 11zm-33 10zm36 8zm-16 8zm1 12zm5-4zm4 8zm-12 2zm15 25zm0-4zm3 11zm-9 1zm0-3zm-15 5zm9 3zm4 1zm6 12zm-1-4zm0-1zm0 1zm-1-2zm-5 19zm13 6zm1 4zm2-5zm0 4zm5 3zm65-4zm26 7zm-100 0zm5 13zm3-7zm66 6zm17 1zm4 4zm-16 11zm15-5zm-6 13zm-3-1zm-4 2zm-40-2zm7 9zm5 1zm9 0zm0-3zm8 3zm6-4zm1-3zm30 3zm56 11zm-65-6zm-12 0zm-2 5zm-8 0zm-14 2zm-9-4zm-6 1zm-1 2zm0-2zm-19-3zm-15 0zm-19 8zm10 2zm9 3zm17-4zm3 3zm11 2zm1-1zm2-4zm3-1zm10 6zm0-5zm1 0zm5-1zm3 2zm14 0zm79 6zm-95 6zm-1-7zm-1 4zm-11-1zm-5-3zm-2 4zm-2-1zm-1 3zm0-3zm0 2zm0 2zm-1 0zm-1 0zm0-2zm-1 1zm-1-3zm-1 0zm-3 1zm-1-4zm0 7zm-1-5zm0-1zm-1 4zm-1-3zm0 3zm-1 2zm0-1zm0 1zm-1-5zm0-1zm-1 3zm0 2zm0-6zm-1 6zm-1-1zm-1 0zm-2 0zm-1 0zm-1-1zm-2 0zm-1-2zm-1 3zm-2-4zm-1 5zm-4-4zm0 0zm-1-1zm0 0zm0 5zm-2 1zm0-1zm-1-5zm-1 1zm0 1zm-1 0zm-1-1zm-3 4zm-6-2zm0 3zm-3-3zm-4-2zm-2 2zm-23 3zm-8 6zm1-3zm12 2zm5-4zm2 4zm6-2zm3 4zm3-3zm1-1zm2 5zm1 0zm0-7zm3 0zm0 5zm4 1zm1-1zm1 1zm0 1zm1-2zm0 0zm1 0zm0-3zm1 2zm3-4zm0 3zm0 0zm1-1zm0 4zm1 0zm0-2zm1 2zm0-4zm0 2zm2 1zm0-3zm0-1zm1 0zm0 2zm1-1zm0-1zm0 3zm2 3zm1-7zm0 2zm0-1zm2 5zm0-6zm2 5zm1-2zm0 2zm1 1zm2-1zm0-1zm0-3zm1 5zm0 0zm1-5zm0 3zm3-2zm0-2zm4 2zm0 1zm2 1zm0 1zm0 0zm1 1zm0-1zm0 0zm0-3zm0 3zm1 2zm0-5zm0 0zm1-1zm0 1zm1 3zm0 2zm1-5zm1 3zm0-4zm0 6zm1 0zm1-5zm2-1zm2 6zm0-7zm0 2zm1 3zm0 0zm0-4zm4-1zm1 4zm23 1zm-19 9zm0-2zm-2-2zm-1 4zm-3 1zm-2-2zm-2-4zm0 1zm-1-2zm-2 2zm0 0zm-1 3zm0-2zm0 4zm0-2zm-2-2zm0 4zm0 0zm0-7zm-1 5zm0-1zm-1 3zm-1 0zm-1-4zm0 2zm-1-3zm0 4zm0-1zm0 0zm-1-1zm-1-2zm0 4zm-1-5zm-1 6zm0-4zm0 0zm0 3zm-1 0zm0 1zm0-1zm-1-2zm0 1zm0-1zm-1 3zm0-5zm0 3zm-1-2zm0 4zm0-7zm-2 0zm0 1zm0 2zm0 0zm0 1zm-1 2zm0 0zm0-6zm0 4zm0 3zm-1-6zm0-1zm0 3zm0 0zm0 2zm-1-5zm0 6zm0-3zm-1 0zm0 4zm-1-3zm0 0zm0 1zm0-2zm-1 0zm0 0zm-1 0zm0-1zm0 5zm-1-5zm0 0zm0 1zm0 2zm0-3zm-1 3zm-1-2zm0-3zm0 2zm-1 4zm0-2zm0 3zm0-3zm0 0zm-1-2zm0 1zm0-1zm0-1zm-1 6zm0-1zm0 1zm0-1zm0-4zm-1 2zm0 2zm0-4zm0 5zm0-5zm-1-2zm0 3zm-1 1zm0-2zm0 4zm0-5zm0 5zm-1-4zm0 5zm0-2zm0-4zm0 6zm0-1zm-1-4zm-1 3zm0-4zm0 0zm0 5zm0-1zm-1-5zm0 1zm0 3zm-1 0zm-1 0zm0 2zm0-2zm-1 3zm0-7zm0 5zm0-1zm-1-3zm0 0zm-2 3zm0 2zm0 1zm0-2zm0 0zm-1-3zm0 5zm0-5zm-1-2zm0 2zm0 3zm0 2zm-2-2zm0-5zm-1 6zm0-1zm-1-1zm0-1zm-1 1zm-1-3zm0 3zm0-1zm-1 4zm0-4zm0 2zm-1-1zm-1 3zm0-5zm0 4zm-1-4zm-2 3zm-1 2zm-3-1zm-1-1zm0 0zm0-1zm0 1zm-2-3zm-1 5zm0-6zm-3 1zm0 2zm-1 3zm0 0zm-2-2zm-6-4zm-3 1zm0 3zm-1 0zm0 2zm-1-7zm-7 9zm2 2zm3 0zm7 1zm1 0zm0 3zm0-4zm1 1zm0-4zm1 1zm1 5zm3 0zm2-1zm0 0zm1-4zm1 0zm0 5zm1-3zm3 0zm0-1zm0 1zm0-1zm1 2zm0-1zm0 0zm1-1zm0 0zm1 2zm1 3zm0-4zm1-1zm0 5zm0-2zm0-1zm0-3zm0 6zm1-5zm1 0zm1 4zm1-1zm0-4zm0 6zm0-6zm1-1zm1 2zm0 1zm0 0zm0 1zm0-2zm0 1zm1-1zm0 1zm0 1zm1 2zm1-3zm0 4zm0-2zm0 1zm1-4zm0 1zm0 3zm1-1zm0-5zm0 0zm0 2zm0 0zm1 4zm0-4zm0 3zm0-3zm1 5zm0-4zm0 0zm0 1zm0-3zm0-1zm0 4zm0 2zm0-6zm1 7zm0-4zm0-1zm1 0zm0 0zm1 2zm0-1zm0 1zm0 0zm0 2zm0-1zm0-2zm0 0zm0 0zm0 4zm1-1zm0 1zm0-2zm0 2zm0-4zm0 0zm0 3zm1-1zm0-5zm0 2zm0-1zm0 6zm0-6zm0 1zm1 5zm0 0zm1-5zm0 2zm0 2zm1-1zm0 0zm0-5zm0 4zm0 2zm0 1zm1-3zm0 0zm0-1zm0-3zm0 7zm0-6zm0 3zm1 0zm0-2zm0 5zm0-6zm0 5zm0-6zm1 1zm0-1zm0 5zm0-3zm0 0zm0-2zm1 3zm0 0zm0-1zm0 2zm1-4zm1 2zm0-2zm0 7zm0-3zm0-4zm0 6zm1-6zm0 1zm0 6zm1-3zm0 1zm1 2zm0-7zm1 0zm1 0zm0 3zm0 4zm0-1zm0-6zm0 2zm0 2zm1 0zm0-1zm0 0zm0-3zm0 7zm0-2zm0-1zm0 3zm1-4zm0-3zm1 5zm0-4zm0 0zm0 1zm1 2zm0 3zm0-6zm0 1zm1-2zm0 3zm1 3zm0-1zm0-5zm0 6zm0-5zm1 2zm1-2zm0 6zm0 0zm1-1zm0-5zm0-1zm0 2zm1 4zm0-5zm0 1zm0-1zm0 5zm1-6zm0 2zm0-2zm1 4zm1 2zm1-6zm0 6zm0 0zm0-2zm0 3zm1-3zm0 2zm0 0zm0 0zm1 0zm0-6zm0 3zm2 4zm0-1zm0-5zm1 2zm0 0zm0 2zm1 0zm1-5zm0 1zm2 5zm0 1zm0-2zm1-5zm0 1zm1 5zm2-4zm1 5zm3-4zm1 3zm1-5zm5 9zm-6 2zm-5-3zm-1 0zm-4-1zm-1 2zm0 3zm0-5zm0 0zm-1 6zm-1-5zm-1 1zm-2-2zm-1 1zm0 5zm-1-4zm-1-2zm0 7zm0-7zm0 4zm0-2zm0 4zm0 0zm0-3zm0 2zm-1-4zm0-1zm-1 6zm0-3zm-1 2zm-1-2zm0 4zm-1-1zm0-5zm-1 4zm0 2zm0-1zm-1-4zm0-2zm0 1zm-1 6zm0-2zm0-1zm-1-4zm0 3zm0 4zm0-6zm0 5zm0-6zm-1 7zm-1-3zm0-2zm0-2zm-1 3zm-1 1zm0 0zm0 1zm-1 2zm0-6zm0 3zm0 0zm0-2zm-1 0zm0 0zm0 4zm-1-5zm0-1zm0 1zm0-1zm-1 1zm0 5zm0-6zm-1 0zm0 0zm0 0zm0 5zm0-3zm-1 5zm0-1zm0-2zm0 0zm0-3zm0 1zm-1 5zm0-5zm0-1zm0 2zm-1 0zm0-2zm0 1zm0 3zm-1 1zm0-2zm0 0zm-1-4zm0 0zm0 2zm-1 1zm0-3zm-1 4zm0 1zm0-2zm-1-2zm0 5zm0-6zm0 0zm0 2zm-1 4zm0-2zm0-3zm-1 0zm0 4zm0-2zm0 2zm0-5zm-1 0zm0 2zm-1 0zm0 0zm0 4zm-1 0zm0 0zm0-1zm0-4zm0 4zm0-5zm-1 3zm0 3zm0 1zm-1 0zm0-3zm0-4zm0 2zm0 0zm-1 0zm-1 5zm0-5zm0-1zm-2-1zm0 3zm-1 3zm-1 0zm0-5zm0 0zm0 5zm-1 0zm0-5zm0 1zm0 1zm-1-3zm0 0zm-1 5zm0 1zm0-3zm-1-3zm0 2zm-1 3zm-1 2zm0-6zm0 0zm0 2zm-1 4zm0-5zm-1 1zm-1 0zm0 4zm-1-1zm-3 0zm0-6zm0 4zm-2-3zm-1 2zm0 0zm-3 4zm0-3zm-2 1zm0-3zm-1-2zm-2 5zm-3-2zm-2 4zm-2-5zm-10 13zm9-6zm1 4zm2-3zm2-2zm3 2zm1 4zm1 0zm0-1zm1-3zm1-2zm0 7zm1-6zm2 5zm0-3zm2 4zm1-1zm0-6zm1 6zm1 1zm0-3zm0-3zm1 1zm1 1zm0 4zm2-5zm0 2zm1-4zm0 2zm1-1zm1 3zm0-1zm2 2zm2-3zm0 0zm0 2zm0-1zm2 4zm0-2zm0-4zm0-1zm1 4zm0 3zm2-3zm0-4zm1 1zm0 6zm1-6zm0 5zm0-1zm1 2zm0-5zm0-1zm0 1zm1 1zm1 1zm1 0zm0 2zm1-6zm0 0zm1 1zm0 0zm1 1zm0 0zm1 5zm0-5zm0 5zm0-1zm1-2zm0-3zm1 2zm0 0zm0-1zm0 1zm0 0zm0-3zm1 0zm0 6zm0-2zm1 1zm0 0zm0 1zm1-2zm1 3zm0-7zm0 1zm1 5zm0-6zm1 3zm0 0zm0 1zm1-2zm0-1zm1 3zm0-3zm0-1zm1 2zm0-2zm0 0zm0 0zm0 3zm0 0zm1-3zm0 1zm0 0zm1 1zm1-1zm0 0zm0 0zm2 6zm0-6zm0 0zm2-1zm1 0zm0 4zm0-4zm0 6zm1-3zm1-2zm1 2zm1 3zm1-6zm2 1zm3 0zm1 3zm1-4zm1 3zm10 4zm0-4zm2 4zm-12 3zm-4-1zm-2 5zm-3-2zm-4-4zm-1 3zm-1 4zm-1-6zm0 5zm-1-4zm0 0zm-1-2zm-1 7zm0-7zm-3 4zm0-2zm-2 4zm-2-2zm0-3zm0 4zm-1 1zm-1-6zm-1 0zm0 6zm-1-3zm0 2zm-4-3zm-1-2zm0 0zm-2 6zm0-4zm-1 0zm-1-1zm-1 4zm-1 0zm0-4zm-1 4zm0-4zm0 4zm-1 0zm-3-5zm0 2zm-2 3zm-2-3zm-2 1zm-1 3zm0-4zm-3-2zm0 1zm-7 1zm-1 3zm-1 0zm-1-1zm0 3zm-4-5zm-1 2zm0-4zm-14 3zm7 11zm4-5zm8 5zm3-5zm1 3zm7 1zm3-3zm3 4zm3-3zm1 0zm0-3zm3 7zm6-1zm0-6zm5 2zm1-2zm5 5zm12 1zm8-6zm6 1zm-14 10zm-26-3zm-11 3zm-51 0zm-25 5zm104 2zm-28 21z"/>
<path stroke="#24878e" d="M261 1077zm7 21zm-3 2zm-11 30zm1 28zm5 14zm1 0zm-5 18zm3 4zm9 15zm0 3zm-5 3zm5 8zm97 4zm-2-2zm-9 6zm-13-7zm-24 8zm7 1zm0 1zm2 3zm17-4zm15 10zm-3 0zm-18 1zm-2 0zm-18 1zm-24-3zm-25 11zm37-4zm18 5zm8 1zm4-6zm1 3zm1 2zm70 1zm-4 6zm-13-1zm-1-4zm-49 7zm-1-7zm-8 1zm-2 1zm-2-1zm-4 3zm0-4zm-2 5zm-3-1zm-1-1zm-1-3zm-46 13zm4-2zm26 1zm8-1zm2 3zm10 1zm12-4zm9 2zm65 3zm-82 0zm0 1zm-2 3zm-3-4zm-5 2zm-12 4zm-4-1zm-20-5zm-18 2zm-2 0zm-7 4zm-6-6zm-2 7zm-18 3zm26 3zm1 0zm0-2zm4 2zm3-3zm4 3zm2 1zm1-6zm1 5zm2-1zm1 3zm1-5zm2 3zm5 2zm2-6zm1 1zm0 2zm1-2zm3 4zm0-1zm1-2zm1 1zm0-2zm0 2zm1-3zm3 3zm2 0zm2-4zm0 0zm2 4zm1 2zm3-1zm1-1zm1 2zm1-5zm1 3zm4-2zm6-2zm1 1zm9-1zm-16 12zm-1-1zm0-1zm-2 3zm-1-3zm-1 0zm-1-1zm-1 0zm0 4zm-2 1zm0 1zm-1-4zm-3-1zm0 5zm-3-5zm0 4zm0-5zm-2 6zm0-2zm-1 2zm-2-2zm-1-4zm0 5zm0 1zm-1 0zm0-4zm-1 4zm-1-2zm-1 2zm0-5zm0 2zm-1 0zm-1 2zm0 0zm0 0zm-1-1zm0-5zm-1 3zm-2-2zm-3 2zm0 2zm0-3zm-1-1zm0 5zm-1 1zm0-3zm0 0zm-1-4zm0 3zm0 4zm-3-2zm-1-2zm0 4zm-3 0zm0-4zm-1 4zm0-5zm-1 2zm0 0zm-4 3zm0-2zm-1 2zm-1-1zm-1-3zm-1-1zm-1 5zm-1-4zm-2 3zm0-3zm-5 4zm-6 0zm-1-1zm-10 0zm-7-2zm-2-3zm-9 1zm8 12zm9 1zm3 0zm2-2zm2-5zm0 5zm3 0zm1-4zm4 0zm1 2zm2-2zm0 4zm1-2zm0-3zm1 6zm0-6zm0 3zm1 1zm1 3zm0-6zm0 1zm0 5zm1-6zm2 6zm0-4zm0 2zm0-2zm1-2zm0 1zm1-1zm1 2zm0-1zm0-2zm0 7zm1-5zm0 4zm1-2zm1-1zm1-2zm0 2zm1 2zm2 0zm0-1zm1 3zm0-2zm0-2zm1 1zm1-3zm1 6zm1-4zm0 4zm1-6zm0 0zm0 6zm0-1zm0 1zm1-6zm0 1zm0 2zm1 1zm0 1zm0-1zm1 1zm0-6zm0 7zm1-3zm1 3zm1-3zm0-3zm1 3zm0-4zm0 3zm0-2zm1 4zm0-4zm0 2zm0 2zm0 0zm1 2zm1-2zm0 1zm1-6zm0 3zm1 4zm0-3zm0-2zm1 2zm0-2zm0 1zm1-3zm1 1zm0 0zm0 2zm0 1zm0 1zm1 1zm0-2zm1 3zm1-6zm0 3zm1-2zm0-2zm0 4zm1 1zm1 2zm1-4zm1-3zm0 0zm2 5zm0-1zm0-1zm2 3zm1-1zm0 2zm1-1zm0-4zm1 0zm0-2zm0 4zm2 3zm0-1zm2-1zm1-4zm1 3zm1 2zm11-5zm1-1zm1 5zm4-1zm-14 5zm-2 0zm-4-1zm-2 2zm0-2zm0 0zm-3 4zm0 2zm0-3zm-1-1zm0-1zm-1 2zm-1 4zm0-5zm0 3zm-1 1zm0-3zm-2-3zm0 7zm-2-7zm-1 4zm-2 0zm-1-3zm0 6zm-1-5zm0 1zm-1-3zm-1 2zm-1 2zm0 3zm-1-3zm0 0zm0-1zm-1 3zm0-1zm-1-3zm-1 5zm0-5zm-1 5zm-2-2zm0-4zm0 3zm-1-3zm0-1zm0 4zm0 3zm0-3zm-1-2zm0-1zm-1 4zm0-3zm0 4zm-1-6zm0 2zm-1 3zm0-5zm0 4zm0-1zm-1-2zm-1 5zm-1-6zm-1 4zm0 2zm-1 1zm0-3zm-1-4zm0 3zm0 1zm0 3zm0-2zm-1-1zm0 1zm0-5zm-1 6zm0-1zm0 2zm-1-4zm0 2zm-1-1zm0-2zm0-1zm-1 5zm-1 1zm0-7zm-1 1zm0 2zm0 3zm0 0zm-2-4zm0 5zm0-6zm0 5zm0-1zm0 1zm0 1zm0-4zm-2 4zm0 0zm-4-4zm0-1zm-1 0zm0 0zm-2 0zm0-2zm-1 6zm0-1zm-1-3zm0 4zm0-6zm-2 5zm-1 0zm-1-1zm0 0zm0-4zm-2 5zm-1-5zm-2 5zm-5 0zm-11 2zm-27-1zm17 4zm2 3zm10-4zm8 2zm0 2zm6-2zm0 1zm2-4zm2 1zm1-1zm3 7zm1-5zm0 2zm3 2zm1 0zm0 1zm0-4zm1-3zm0 4zm1 2zm1 0zm1-4zm3 0zm0 3zm1-2zm0 4zm1-3zm0-1zm2 0zm0 3zm0 0zm0-3zm1 1zm2-1zm1-2zm0 6zm0-1zm1 1zm1-7zm1 4zm0-2zm0 3zm1-1zm0 0zm0 1zm0-1zm0-2zm0 2zm1 2zm0-4zm0 1zm1 2zm1 2zm1-4zm1-3zm0 4zm1 1zm0-5zm0 2zm1 0zm1 2zm1 2zm0-6zm1 3zm0-1zm2 1zm1 0zm0-3zm1 6zm1-1zm0-1zm1 1zm0-3zm0 0zm2-1zm0-1zm3 0zm1 3zm0 4zm0-1zm1 0zm1-6zm0 4zm2-4zm0 1zm1 3zm0-2zm0 1zm2 0zm0-3zm1 0zm3 3zm0 0zm1-2zm1 3zm1-4zm4 9zm0 1zm-6 1zm-4-1zm0-1zm-2 0zm-1 1zm-3 1zm-1 1zm0-3zm-1 4zm0-2zm-1 1zm-3-4zm0 4zm-1-2zm-2 1zm-2-1zm-1 2zm-1-2zm0 2zm-1 2zm0-6zm-1 2zm0 2zm-3 0zm0-3zm0 1zm-1 3zm0-2zm-1 2zm0 1zm-1 1zm-2-7zm-3 1zm-1-1zm-2 4zm-2 0zm-1 2zm-1-2zm0 3zm-1-5zm-2 1zm-1 0zm0-2zm-3 0zm-2 0zm0-1zm0 2zm-5-2zm-1 4zm-1-4zm-2 2zm-2-2zm-1 3zm-3 4zm0-6zm-2 2zm0 0zm0 2zm-1-2zm-1-3zm0 1zm-6 3zm-2-2zm-4-2zm-4 5zm0 1zm-19 5zm2 1zm30 1zm4-2zm15 4zm0-4zm5-3zm2 1zm1 2zm1-2zm12 3zm0-3zm1 5zm4 1zm0-7zm2 3zm0 0zm3 3zm15 1zm1-6zm3 0zm1 0zm6 1zm7 1zm-26 5zm0 0zm-7 0zm-3 4zm-3-1zm-14-3zm-23 0zm-3 5zm-2 8zm13-5zm2 13z"/>
<path stroke="#1f998a" d="M273 1121zm-14 39zm-6 8zm6 10zm13 12zm1-6zm-1 19zm84 26zm-7-3zm-1 5zm7 1zm85 15zm-71-4zm-1 1zm-1-4zm-21 2zm-7 3zm-10 2zm14 6zm4-5zm5 0zm14 2zm-10 7zm-7 5zm-8-2zm-5-1zm-7-1zm-12 5zm-20 0zm-22-4zm34 12zm13-5zm13 0zm76 5zm-79 3zm-14 1zm-13 3zm-4-6zm-7 1zm-4 6zm-4-5zm-23 12zm9-2zm1-2zm2 2zm5-3zm3 4zm1 0zm6-1zm3 2zm2-3zm1 3zm9 1zm1 0zm23-4zm-5 8zm-1 4zm-6-7zm-4 7zm-2-1zm-3-3zm-3 3zm-2-5zm-2 2zm-3-3zm0 3zm-4-2zm-1 4zm-2-5zm0 3zm-1 0zm-3 0zm-3 0zm-3-3zm-6 7zm-3 0zm-5-2zm-2 2zm-8-4zm-4-2zm-3 4zm-19-5zm9 13zm6 2zm1 0zm3-4zm0 2zm4-3zm4 5zm1 0zm1 0zm1 0zm2-3zm4 0zm1 0zm2-4zm4 5zm0-1zm1 2zm1-1zm2-5zm0 2zm1 0zm0 1zm2-1zm0 2zm1 0zm0 3zm1-5zm0 1zm0-1zm2 0zm1-2zm2 1zm1 0zm0 3zm3-1zm1 4zm0-7zm1 4zm0-4zm1 5zm1-3zm2-1zm1 2zm1 0zm1 0zm1 4zm1-7zm0 1zm1-1zm1 7zm1-4zm4 2zm1-1zm0-3zm0 2zm8-2zm9 1zm-11 9zm-6-1zm-2 0zm-1 3zm-4-4zm-1 2zm-4-1zm-1-2zm-1 4zm0 3zm0-2zm-1-1zm-1 0zm-1 0zm-1 0zm-1-3zm0-1zm-1 6zm0-1zm-2-3zm-1 0zm-1-1zm0 0zm-3 5zm-2-3zm0 2zm-1-3zm0 3zm-2 2zm-1-4zm-1 0zm-3-3zm0 1zm0 5zm-1-1zm0-1zm-4 0zm-1-1zm0 2zm-4 2zm-1-3zm0 2zm-1 0zm0-4zm-1 3zm-1-1zm0-2zm0 2zm0-2zm-2 5zm-1-2zm0-3zm-6 5zm-1-1zm0-4zm-1 5zm-2-3zm-4 3zm0 0zm0-6zm-3 2zm-4 4zm-10-1zm-21 5zm23-2zm2 6zm8-1zm2 0zm2-6zm5 2zm0 1zm6-2zm1 5zm2-5zm5 0zm1 0zm0 2zm1 3zm0-1zm1-4zm2-1zm2 1zm0 3zm0-3zm0 2zm1 4zm1-7zm0 6zm0-6zm0 3zm1-2zm0 6zm0-3zm0 1zm1 0zm0 2zm1-7zm0 1zm1 5zm0-2zm0-2zm1-1zm1 3zm0-4zm0 0zm0 4zm2-2zm0 5zm1-4zm0 0zm1-3zm1 2zm0 4zm1-3zm1 3zm2-6zm0 1zm1 4zm0-1zm2-2zm0 1zm1 1zm2 0zm0 3zm1-5zm1 2zm1-2zm1 4zm0-5zm0 2zm1 3zm0-2zm1 0zm1 1zm0 0zm1-4zm1 5zm2-5zm2-1zm7 5zm1-2zm5 2zm-13 4zm-2 2zm-3-2zm-6 2zm-2 0zm0-1zm-3 1zm-1 1zm0 2zm-1-4zm0 1zm-7-3zm-1 3zm0-1zm-1-2zm0 3zm-1-3zm-7 0zm-1 6zm-1-1zm-2 0zm0-1zm0-4zm-1 3zm0 0zm-2 1zm0-2zm-4 2zm-2-4zm-1 2zm-1-2zm-1 3zm0 1zm-5-4zm-31 3zm-5 3zm-4-5zm26 12zm9 1zm1-1zm4-3zm4-2zm3 3zm1-3zm2 3zm4 0zm16 2zm5 1zm3 0zm8-4zm1 2zm-8 7zm0-2zm-11-1zm-2 0zm-1 6zm-4-2zm-2-2zm-15 1zm0-2zm-14 4zm-7 2z"/>
<path stroke="#24aa83" d="M277 1119zm-1 2zm-14 48zm21 0zm-5 20zm-3 6zm-2 0zm3 20zm-1-4zm94 6zm21 6zm-15 6zm-22 1zm-1-6zm-11 5zm5 6zm100 12zm-76 0zm-22-1zm-66 4zm52 2zm1 1zm2-2zm13 0zm5-2zm12 0zm-18 8zm-13-1zm-2 4zm-6 2zm-11 3zm0 0zm7 4zm4-3zm4 4zm29 5zm-10-3zm-14 5zm-1 0zm-2-5zm0 2zm-14 0zm-7 4zm-3-6zm-12 6zm-27-4zm-12 1zm-3 8zm23 1zm21-3zm0 2zm2 2zm2 1zm6 0zm7 1zm1-3zm0-1zm5 3zm5-1zm3-1zm3 1zm2 1zm-9 2zm-7 7zm-4 0zm-5-4zm-4 4zm-2-2zm-1 1zm-1-4zm-1 5zm-2-7zm-1 1zm-2 4zm-1 1zm0-1zm-8 2zm0-2zm-2-1zm-3 0zm-1 1zm-39 7zm5 1zm21-3zm1 5zm6 0zm2-6zm1 1zm4-2zm5 2zm1-1zm5 1zm5 0zm0 3zm0-4zm1-1zm1 2zm2 5zm4-6zm1 4zm1 2zm1-3zm5 3zm1-7zm5 3zm8 2zm-9 8zm-5-2zm-1-2zm-1 2zm-2 2zm-5 2zm0-1zm-1-5zm-1 2zm0 3zm-1-1zm-1-1zm0-4zm0 5zm-1 0zm0-1zm-1-4zm0 4zm-4-4zm-3 0zm-3 7zm-2-2zm-2 1zm-2-5zm-2 4zm0-3zm-1 4zm-4-2zm-1 1zm-9-3zm-2-2zm-8 6zm-2 1zm-4-2zm-5-3zm-1 10zm10 3zm10-4zm6 1zm0-1zm5-3zm3 5zm1 0zm7-3zm0 0zm3 0zm2-2zm2 5zm1-5zm2 1zm1-1zm0 6zm2-6zm1 2zm0 4zm2-5zm1 0zm0 0zm2 0zm0 3zm1 3zm3-4zm1-3zm1 4zm0 5zm0 6zm-4 0zm-5 0zm-13-7zm0 0zm-3 1zm-1 2zm-2 4zm-2-6zm-1-1zm-1 5zm-3-4zm0-1zm-1 6zm0-5zm-3 3zm-8 3zm-2-5zm0 2zm-1 2zm-1-2zm0-3zm-6 0zm-2 0zm-10 0zm-1 4zm0-2zm-6 5zm2 1zm19-1zm2 0zm0 4zm15 0zm3 2zm0 0zm4-1zm1-4zm1 5zm1-5zm2-1zm8 3zm2-1zm1 0zm5-2zm1 2zm10 5zm-26 2zm0 2zm-26 2zm-2 2zm-6-4zm-4 2zm-17 7zm27-1zm8 1zm8-4zm18 3zm0-3zm-8 9zm-3 2zm-26-1z"/>
<path stroke="#3aba76" d="M288 1121zm-8 33zm-4 17zm11 0zm-9 7zm-3 4zm1 8zm121 17zm-114 11zm77 1zm5 4zm1-5zm-8 18zm18-4zm-15 13zm-10-2zm0 6zm0 4zm2 1zm3-2zm1 3zm7-1zm3 0zm5-5zm18 8zm-34 6zm-4 0zm-5-2zm-15 2zm-5-2zm-79-2zm77 8zm15-1zm2 4zm2 0zm7-2zm-16 5zm-16 3zm-7 1zm-64 10zm57-2zm14 1zm5-5zm5 4zm14-1zm-2 11zm-10-1zm-1 0zm-8 0zm-1-5zm-3 1zm-2 1zm-2 1zm-5 2zm-14 1zm-35-3zm-11 0zm6 9zm4 1zm11-6zm6 3zm1 0zm1-3zm20 7zm6-4zm4 4zm3-1zm1 1zm1-3zm5-4zm2 4zm5 0zm-4 4zm0 3zm-3 4zm-8-6zm-3 0zm-2-1zm-6 4zm-3-1zm-3 0zm-2 1zm-5-1zm-1 4zm-5-6zm-8-1zm-6 3zm-13 12zm17-3zm11 3zm6-5zm0 2zm5 1zm4 0zm1 1zm5 1zm1-4zm4 3zm0 0zm6 1zm2-6zm1 5zm0-5zm2-1zm6 15zm-4-7zm-13 1zm-1 2zm-2-1zm0 1zm-3 1zm-2 0zm-1 0zm-5-2zm-1-2zm-2 3zm0 1zm-2-4zm-1 6zm-2 1zm0-4zm-9-1zm-4 3zm-7-3zm-8 4zm-2 2zm32 0zm4 7zm17-6zm9 3zm-74 4zm-16 5zm13 3zm29 5zm-5 5zm-13 0zm-2 4zm31 8zm4 3z"/>
<path stroke="#5ec962" d="M295 1171zm10 35zm71 15zm2 8zm-36 2zm96 2zm34 4zm-87 3zm-21 6zm-5 0zm-107 8zm94-4zm9 1zm7-2zm20 0zm11 8zm-4 1zm-35-2zm-10 0zm-5 4zm3 9zm15-5zm0 6zm6-1zm5-3zm3 0zm-5 9zm-10-2zm-14 5zm-11-3zm-54 1zm-20-2zm-13-2zm70 13zm20 6zm-55 0zm-10 1zm0 1zm-21-4zm-2 1zm6 9zm25 3zm23-6zm4 1zm5 0zm1 6zm4 0zm4-3zm0 0zm6 0zm0-1zm22 12zm-12 0zm-6-2zm-1-4zm-5 2zm-1 4zm-1 0zm-4-2zm-4 0zm-21-1zm-24-1zm-9 5zm29 2zm28 4zm27 8zm-15 0zm-6-5zm-1 2zm-1 1zm-2-1zm-8-1zm-3 3zm-10 2zm-3-5zm3 13zm9 0zm7-6zm6 5zm3 2zm-21 5zm-1-5zm-28 0zm9 12zm26 3zm7-2z"/>
<path stroke="#89d548" d="M296 1197zm-2 12zm79 18zm-8 12zm19-1zm7 0zm72-4zm-67 8zm-35 1zm-102 12zm102-3zm36-2zm-21 13zm-1-6zm-7 0zm-26 6zm-90 8zm97-6zm2-1zm4 5zm15-3zm0 6zm-18 3zm-1 4zm-7-5zm-1 1zm-3-3zm-78 7zm-2 0zm-9-1zm-3-6zm90 13zm-24 4zm-54 3zm3 10zm70 7zm-78-2zm-11-1zm1 8zm28 0zm56 3zm2-1zm-8 7zm0 0zm-6 3zm-5-6zm-16 1zm22 11zm11-4zm-12 11zm-59 6zm-1 12z"/>
<path stroke="#b8de29" d="M390 1228zm-5 8zm54 0zm-42 4zm-11 6zm0-6zm-24 4zm-1 1zm-3-2zm1 9zm8-4zm0 1zm4 2zm19 10zm-12-2zm-5 3zm-26-1zm-97-1zm2 10zm20 0zm93 9zm-92 3zm9-2zm72 5zm11 2zm4-4zm-23 7zm-24 1zm-37 0zm-40 11zm13-5zm3 0zm26 1zm21 5zm6 7zm-68-1zm23 5zm73 7zm-14 0zm-13 5zm-9 1zm-8-1zm-53 1zm92 15zm-27 0zm0 19z"/>
<path stroke="#e7e419" d="M300 1188zm7 19zm103 3zm-33 12zm27 19zm-15 5zm-135 9zm117 0zm46-5zm5 1zm-27 12zm-10-2zm-11 2zm0-4zm-8 12zm5 0zm33 5zm-18 3zm-8-2zm-2-4zm-12 1zm-4 10zm22 8zm-9 2zm-11-1zm-28 6zm2-3zm20 2zm15 6zm-42 5zm-4 9zm17 0zm27-3zm-15 9zm-40 3zm22 4zm43 8zm-13 0zm-59 4zm22 4zm11 26z"/>
<path stroke="#46075a" d="M1178 821zm-34 33zm9-4zm1 4zm5-1zm2 1zm1-3zm5 3zm1-3zm6 11zm-4-1zm-5-1zm0 1zm-2 1zm-1 1zm-3-7zm-1 6zm-2-6zm-6 0zm-6 0zm-10 4zm-167 2zm-2-2zm185 10zm10-5zm0 4zm6 1zm-1 6zm-9 1zm-9-1zm-165 3zm-2-4zm-10 0zm-2 4zm-5-6zm-1 1zm-3 13zm10-6zm11 5zm185-2zm2-3zm6 4zm2-4zm-19 9zm-167 2zm-9-4zm-5 1zm-12 5zm-2 0zm-1-1zm8 10zm2-1zm2 1zm0-1zm11 0zm3 0zm4 0zm160-3zm2-2zm8 4zm2 1zm0-6zm4 0zm1 4zm7 3zm-5 1zm-7 5zm-1-5zm-8 5zm-118-5zm-43 2zm-2 5zm-2-2zm-11-2zm-6-1zm-7 4zm-5-5zm-2 8zm4 5zm6-1zm4 1zm18-4zm3 3zm6 0zm27 1zm122-2zm9-4zm25 0zm-8 10zm-4 1zm-1-1zm-7 4zm0-4zm-138 1zm-8 0zm-10-1zm-5 2zm-2-2zm-9 0zm-2 2zm-5 3zm0-1zm-2 1zm-10-3zm-2-4zm-4 0zm3 9zm6 4zm1-4zm9 6zm7-3zm3 0zm4 1zm1-4zm1 0zm2-1zm4 4zm133-2zm11-2zm21 6zm6-2zm19 5zm-5 6zm-15-5zm-2 2zm-2-4zm-1 6zm-5-3zm-1-2zm-3 1zm-8 3zm-8 1zm-103-6zm-25 2zm-9-1zm0 2zm-1-1zm-1 5zm-5 0zm-6-5zm-5 0zm-2 1zm0 1zm-3-1zm-15 4zm-4 4zm24 4zm2-5zm1-2zm1 1zm4 5zm3-3zm2 4zm14-6zm6 0zm131 3zm4 2zm8-1zm3-3zm1 4zm3 0zm12-1zm8 0zm-4 10zm-1-7zm-3 1zm-6 3zm-2-3zm0 4zm-1-5zm0 0zm0 2zm-1 1zm-2-2zm-1 5zm-5 1zm-2-3zm-6 1zm-3 2zm-7-5zm0-1zm-1 6zm-11-4zm-102-2zm-5 5zm-7 0zm-8-4zm-3 3zm-1-4zm0 5zm-1-2zm-1-2zm-15 5zm-8-2zm0 1zm0 1zm-1-7zm-12 5zm0-1zm-8-4zm-2 11zm16-2zm2 4zm7-5zm1 7zm1-2zm1-2zm1 1zm0-1zm6 4zm10-2zm2-2zm4 1zm5-3zm15 1zm116 2zm6-1zm0 4zm1-4zm1-1zm2-1zm0 5zm2 0zm1-4zm2 1zm0 3zm4-3zm3-1zm0-2zm4 7zm1-4zm3 4zm5-4zm9 4zm-7 8zm-3-5zm-2 3zm-7 2zm-2-7zm0 1zm-1 5zm-3 1zm-1-1zm-1-2zm0 2zm-1-3zm0 1zm-1-4zm0 4zm-3-1zm-1-3zm-2 4zm-1 3zm-1-3zm0 0zm-6 2zm-12-5zm-103 1zm-7 3zm-5 0zm-6-4zm-3 4zm-3-5zm-2 1zm-6 2zm0 0zm-1 0zm-8 2zm-6 0zm-8 1zm0-1zm-26 7zm37-1zm3-1zm1 5zm2-3zm11-1zm8 3zm5-2zm4 0zm0 3zm3-5zm3-1zm2 4zm8-5zm0 1zm2 3zm101-4zm2 4zm1-2zm1 2zm2 2zm3 0zm1-2zm0-4zm0 6zm1 0zm0 0zm2-2zm1 0zm0 3zm1-5zm0 4zm2-2zm1 0zm1 3zm0-1zm0-2zm2 1zm1-3zm0 5zm0-7zm1 2zm0 0zm1-2zm1 2zm1 2zm1 1zm1-4zm1 5zm0 1zm1-2zm1 1zm1-1zm1-3zm1 1zm1-3zm2 6zm6-2zm5 1zm13 1zm21-1zm-35 3zm-4 4zm-2 2zm-1-5zm-1 1zm-1 2zm0-4zm-2 7zm0-2zm0-5zm0 7zm-2-4zm0 3zm-1-4zm-1 3zm-1-2zm0 3zm-1-5zm0 1zm-1-2zm-1 5zm-1-3zm0 1zm-1 0zm0-1zm-2 4zm-1-2zm0-1zm0 0zm0 3zm0-1zm0 0zm0 1zm0-2zm0-4zm0 1zm-1 0zm0 5zm0-6zm-1 5zm0-5zm0 6zm-1-3zm0 1zm-1-3zm0 4zm0-3zm0 5zm-1-2zm0 0zm-1 2zm0 0zm0-2zm-1 2zm-2-1zm0-2zm-1 2zm-1-6zm0 3zm0 0zm-2-1zm-1 0zm0 1zm-1 4zm0 0zm-4-3zm-2-2zm-1 4zm-102 0zm-5-4zm-12 0zm-1 3zm-8 0zm-2-2zm-3 4zm-1-7zm-6 1zm-6 6zm-18 2zm27-1zm4 1zm2 4zm1-3zm10 0zm1 3zm5-4zm2 0zm6 2zm1-3zm40 7zm59-3zm2 3zm5-5zm1 0zm2 5zm0-7zm4 0zm0 5zm1 0zm1-2zm0 1zm0 2zm2-6zm1 7zm2-4zm0 3zm0-4zm0 4zm1-6zm0 7zm1-2zm0-4zm0-1zm0 0zm0 0zm0 2zm2 1zm0-1zm1 2zm0-2zm0 2zm0 1zm1 0zm0-4zm1 6zm0-6zm0 3zm1-1zm0-3zm1 1zm0 1zm0 3zm1-5zm0 3zm1 0zm0 0zm3 2zm0-2zm0-1zm1 3zm1 2zm0-4zm2 0zm0 2zm0 2zm1-6zm0-1zm0 4zm2-3zm0 0zm0 0zm3 4zm0-3zm2 4zm2-3zm1 3zm6 4zm-11 3zm-2-5zm0 3zm-2-3zm-1 4zm0 1zm0-5zm-1 3zm0 0zm-2 2zm0 2zm0-1zm0 0zm0-3zm-1 3zm0-4zm0 3zm-1 2zm0 0zm0 0zm-1-1zm0-1zm0-4zm-1 5zm0-6zm-1 1zm0 1zm0-2zm0 0zm0 5zm-1 2zm0-5zm0 1zm-1 2zm0-5zm0 7zm-1-7zm0 3zm0-3zm-1 0zm0 0zm-1 3zm0-2zm0 5zm0 1zm0-6zm0 1zm-1 0zm0 0zm-1 4zm0-1zm0 1zm-1 1zm0-1zm0-5zm0 0zm-1 0zm0 0zm0 1zm0 3zm-1-5zm0 1zm0 5zm-2-6zm0 5zm0 1zm0-2zm-1 1zm0-4zm0 0zm0 2zm-1 3zm0 0zm-1-4zm0 0zm-1 4zm0-6zm0 4zm-2 0zm-1 1zm-1 1zm-7-5zm-77 5zm-17-3zm-10 1zm-4-3zm-5 1zm-1 5zm-5-5zm-3 1zm-1 2zm-10-1zm0 0zm0-1zm-4 0zm-1-2zm-1 0zm-2 5zm-3-3zm-4-1zm-11 1zm-14 7zm2-2zm11 3zm8-3zm0 3zm6-1zm0 0zm0-1zm2 0zm5 6zm8-2zm0-1zm1-2zm3 3zm4-3zm1-1zm13 4zm6 0zm1-4zm15 1zm4 4zm30-4zm58-2zm1 4zm0 2zm1-6zm1 6zm2-4zm0 4zm0-3zm1 2zm0 0zm0-2zm1 3zm0-6zm0 4zm0 0zm1-3zm0 2zm1 4zm0-3zm0 0zm0 0zm2-4zm0 4zm1 3zm0-5zm0 0zm0 1zm0 0zm0 3zm1-3zm0 3zm0 0zm0-3zm1 2zm0-4zm0 5zm0 1zm0-1zm0 0zm0 1zm1-4zm0-3zm0 0zm1 3zm0-1zm0 5zm0-3zm0-2zm1 5zm0-1zm0-1zm0-5zm1 7zm0-2zm0-5zm0 4zm0-4zm0 7zm1-1zm0-4zm0 2zm0-1zm0-2zm0 3zm1-1zm0-1zm0 0zm0-2zm0 1zm0 2zm1 3zm0-2zm1-1zm1 0zm0-3zm1 3zm0-1zm0 3zm1-5zm1 0zm0 6zm0-5zm2 5zm0 0zm1 1zm0-4zm1 4zm0-2zm3 1zm1-5zm2-1zm3 4zm0-1zm2 2zm3 0zm56-1zm35-1zm9 2zm6 9zm-45-6zm-49 0zm-17 7zm-2-3zm-2-1zm-1-1zm0 4zm-2 1zm-1-6zm0 3zm-1-2zm0 0zm0 5zm-1-2zm-1-5zm0 3zm0 1zm-2-1zm0-1zm0-2zm0 5zm-1 0zm-1-5zm0 7zm0-4zm-1-3zm0 1zm0 0zm0 6zm-1-6zm0 2zm0-3zm0 7zm0-6zm0 1zm0 0zm-1-2zm-1 1zm0-1zm0 3zm0 4zm0-3zm-1-1zm0 4zm-1-4zm0-1zm0 1zm-1 2zm0-4zm0 0zm-1 4zm0 2zm0-6zm0 6zm-1-4zm0-1zm0-2zm-1 7zm0-6zm0 1zm-1 2zm0-2zm0 2zm0 3zm0-6zm0-1zm-1 1zm0 5zm0-1zm0-1zm-1 3zm-1-1zm0-4zm0-1zm0 3zm0 1zm0-3zm-1 0zm-1 0zm0-2zm-1 7zm0-1zm-2-4zm0 4zm-1-6zm0 4zm-2 0zm0-4zm-2 4zm-1-1zm-1 1zm0-2zm-1 2zm0-3zm-4 0zm-1 2zm-80-3zm-8 2zm-1 1zm-15 2zm-4-2zm-6 4zm-3-7zm-3 7zm-3-2zm-2-2zm-9 3zm-9-1zm0 1zm-2 1zm6 2zm4 0zm3 2zm3-2zm4 3zm3-1zm9 2zm13 2zm1-5zm4-2zm5 0zm16 7zm79 0zm2-7zm0 5zm1-2zm1 2zm1-5zm1 4zm1-3zm1 0zm1 2zm0-1zm1 0zm1 4zm0-1zm0-3zm0 1zm1 0zm0 0zm0-1zm1 3zm0-2zm0 0zm1 1zm0-4zm0 5zm0 1zm1 0zm0-2zm0 1zm0-1zm0 1zm1 2zm0-4zm0 3zm0-2zm0-4zm0 3zm0-3zm0 0zm1 4zm0 1zm0-3zm0-2zm0 0zm1 1zm0 2zm0 1zm0 1zm0 2zm0-5zm1 4zm0-1zm0-4zm1 3zm0-1zm0 2zm0-3zm0 0zm1 1zm0 0zm0-3zm0 2zm1 1zm0 4zm1 0zm0-3zm0-3zm0 3zm1-2zm0 1zm0-3zm0 7zm0-4zm0-2zm0 1zm1 4zm0-5zm0 2zm0-3zm0 3zm0-3zm1 1zm1 4zm0-5zm0 5zm1-2zm0 2zm1-1zm0-4zm0 4zm1 3zm1-5zm1 2zm0 1zm0-5zm2 5zm0 1zm0-2zm0-2zm1 3zm0-2zm0-3zm2 7zm0-2zm1-1zm2-4zm0 5zm3-2zm1 3zm3-1zm1-3zm67 1zm5-2zm151 11zm-67-1zm-2 4zm-43-2zm-112 2zm-3-7zm0 4zm-7-3zm0 1zm-1 4zm0 0zm0-1zm-1 2zm-1-6zm-3-1zm0 4zm-1-1zm0-1zm0 0zm0-1zm-1 1zm0-2zm0 0zm0 6zm0 0zm0 0zm-1-2zm0 1zm0-2zm-1 3zm-1-2zm0 3zm0-2zm0-5zm-1 6zm0-5zm0 0zm-1 2zm-1 0zm0-1zm0 0zm-1 0zm0-2zm0 6zm-1 1zm0-1zm0-2zm0-3zm-1 0zm0 2zm-1-1zm0-1zm-1 0zm0 0zm0 1zm0 3zm0 2zm-1-3zm-1-1zm0-1zm-1 1zm0-2zm0 4zm0-3zm0 2zm-2-2zm0 1zm0-3zm0 6zm0-2zm-1-1zm-1-3zm0 5zm-2-5zm0 0zm-1 3zm-2 4zm-1-1zm-1-1zm0-5zm-1 2zm-3 5zm-3-5zm-79 4zm0-5zm-10 2zm-3-1zm-7 5zm-17-7zm-8 0zm-3 5zm-2-3zm0 1zm-3 3zm-1-4zm-1 0zm-28 1zm0 12zm6-1zm16-3zm3 1zm2-3zm5 2zm3-2zm4 0zm6 1zm1-2zm6 6zm3 0zm2-5zm2-1zm6 5zm8 1zm2-4zm2 2zm2 1zm5-3zm2 5zm6-4zm8 2zm2 1zm3-2zm3-1zm28 1zm25 1zm4 2zm5-7zm0 1zm2 2zm1 0zm0 0zm1-3zm0 0zm1 5zm1 2zm0-7zm0 6zm1-3zm0 2zm1-3zm1 2zm0 1zm1-3zm1-2zm0 2zm0-1zm0-1zm1 0zm0 3zm0-2zm0 1zm1-1zm1 6zm0-4zm0 3zm1-1zm1 0zm0 1zm0-6zm0 7zm1-4zm1-2zm0 3zm0 3zm0 0zm0-7zm0 4zm1 1zm0-5zm0 1zm0 5zm0 0zm1-6zm0 1zm0 1zm1 4zm0-2zm1-3zm0-1zm1 4zm0 2zm1-5zm0 0zm0 1zm1-2zm0 6zm2-6zm0 2zm1 1zm0 1zm1-4zm0 4zm1-1zm0-3zm1 0zm2 5zm15-4zm4 5zm60-6zm94 12zm-135-2zm-37 4zm-1 0zm-2-3zm0 4zm-1-6zm0 6zm-1-7zm0 6zm0-4zm-1 5zm-2-5zm0-2zm-2 2zm0 4zm-1 1zm0-6zm-1-1zm-1 1zm0 3zm-1 0zm0-1zm0-3zm-1 3zm-1 2zm0 0zm-1 1zm0-1zm0-5zm-1 4zm0 0zm0 1zm-1-4zm0 3zm-1 2zm0-2zm-1-2zm0 5zm0-1zm0 0zm-1-6zm0 6zm0 0zm-1-5zm0 5zm0-4zm0 3zm0-5zm0 0zm-1 5zm0-4zm0 2zm-1-3zm-1 4zm-1-1zm-1-1zm-1 0zm0 3zm0 0zm0 0zm-1 1zm0-3zm-1-2zm0 2zm0 2zm0-1zm0-4zm-2 2zm0 5zm-2-7zm0 2zm-11 3zm-5 0zm-44 1zm-4-1zm-9-1zm-5 1zm-7-4zm0 1zm-10 4zm-2-3zm-4-2zm-2 4zm-3 1zm0-2zm-4 3zm-1-5zm-4-1zm-2 3zm-15 2zm-9-6zm-7 2zm-2 7zm8 6zm15-3zm6-2zm3 4zm1-5zm0 2zm7 1zm11 0zm2-4zm3 2zm1 5zm16 0zm10-6zm5 6zm21-5zm16-1zm0 6zm28-5zm1 2zm1 2zm0-4zm2 5zm2-4zm3 3zm0-4zm0-1zm0 0zm0 1zm2 2zm0 1zm0-4zm1-1zm0 4zm1 1zm0-1zm1 0zm1 2zm1-4zm1 2zm1 0zm1-4zm0 0zm0 3zm1-1zm2 3zm0-1zm0 2zm0-2zm6-1zm5 2zm194 0zm86-2zm-134 12zm-99-7zm-37 0zm-8 0zm-2 2zm-5 1zm-2 2zm-4 0zm0-2zm0 4zm-2-2zm0-4zm-2 3zm-1-1zm0 1zm-1-2zm-1 4zm-1 1zm0-3zm-3-2zm-3-1zm-1-1zm0 2zm0 0zm-1-2zm0 6zm-1-5zm-1 5zm-1-1zm0-2zm-1-3zm-2 4zm-5-1zm0 4zm-7-4zm-25 2zm-18 2zm-7 0zm-24-7zm-12 5zm-1-3zm-9 5zm-7-2zm-4-3zm-8-2zm-2 4zm-5-4zm-1 5zm-14-1zm-4-4zm-10 6zm16 6zm11-1zm8-1zm2-1zm7-1zm2 3zm4-2zm1-1zm0 5zm4-1zm8 2zm6-6zm32 5zm2-2zm7 0zm2-2zm17 5zm16-1zm14-2zm7-3zm1 6zm3-3zm0 3zm1-6zm0 6zm1-3zm1-3zm0 0zm2 0zm1 4zm1-1zm0-2zm1-1zm0 7zm2-1zm1 1zm0-6zm1-1zm1 0zm1 5zm1-2zm3 3zm0-4zm4 3zm0-4zm2 2zm10 4zm17-7zm11 3zm29-3zm60 4zm54-1zm43 3zm20-2zm104 10zm-95 1zm-2-1zm-2-1zm-4-1zm-15 2zm-7-1zm-19 2zm-89-6zm-109 0zm-2 2zm-1 4zm-10-7zm-3 6zm-2-6zm-1 1zm-2 6zm-1-6zm-4 0zm-1-1zm-1 3zm-3 4zm-2-4zm-2 3zm-4 1zm-5-2zm-19-4zm-13 4zm0-1zm-9-2zm-12 0zm-2 2zm-3 2zm-5-1zm-5-5zm-11 6zm-1-2zm-12 0zm-2-2zm-5 2zm-6-4zm-1 6zm-3 1zm-3-5zm-10 0zm-4-2zm-39 14zm45-3zm19-3zm11 4zm1-4zm1 0zm3 5zm1-2zm5 3zm3-6zm6 0zm6 4zm5 2zm3-1zm1 0zm14 0zm1-5zm0 3zm5-2zm0 6zm8-6zm18 6zm9-7zm7 0zm3 6zm2 0zm0-6zm2 3zm3 3zm0 1zm2-7zm0 5zm8-3zm0-2zm1 4zm4 1zm2-2zm1-1zm0 5zm10-7zm30 1zm44-1zm46 2zm31 4zm2 0zm20-5zm2 1zm1 5zm33-2zm2-5zm19 5zm0-2zm1 3zm9 0zm10 0zm12 0zm10 8zm-25-2zm-10-1zm-7 1zm-2 3zm-8-3zm-3 2zm-7-2zm-13 2zm-3-6zm-7 3zm-6 1zm-15 2zm-1-4zm-14-2zm-2 0zm-14 7zm-16-3zm0 0zm-15-3zm-26 5zm-6 0zm-12-2zm-4-2zm-21 1zm-2 0zm-56-3zm-1 6zm0-6zm0 3zm-1 3zm-5-1zm-2 2zm-3-3zm-12-3zm-5 5zm-2-3zm-9 3zm-4-6zm0 5zm0-2zm-7 4zm-9-4zm-5 0zm-4-3zm0 5zm-1 1zm-2 1zm-10 0zm-1-6zm0 5zm-5-4zm0 5zm0-5zm-4-2zm-1 0zm-7 6zm0-6zm-1 5zm-2-1zm-1 0zm-2-3zm-10 1zm0-1zm-4 1zm-3-2zm-1 2zm-18 2zm5 11zm5-3zm5 3zm1 0zm3-7zm2 5zm4-1zm1 2zm5-6zm8 1zm1 2zm0 0zm3-2zm6-1zm4 3zm9-1zm4 5zm9-2zm7-5zm0 7zm8-4zm20 0zm3 2zm10 0zm0-5zm9 7zm0-3zm1 3zm4-6zm1 2zm3 2zm4-5zm1 4zm0-3zm2 4zm2-2zm0 2zm4 1zm1-3zm0 2zm36-2zm5 0zm34 0zm6-3zm25 5zm7 0zm5-3zm14-2zm0 7zm7-4zm2 2zm9-1zm2 2zm4-3zm5 0zm1 3zm9-3zm15 3zm1 1zm5-5zm9-1zm3 3zm4 2zm0-4zm2 3zm3-2zm2 0zm4 2zm1-4zm3 0zm0 3zm0-3zm8 1zm1 5zm1-5zm2 3zm7-4zm1 5zm1 0zm2-4zm2 0zm7-1zm1 4zm2-2zm3 0zm21-2zm8 5zm-18 4zm-4-2zm-5 7zm-5-1zm-3-1zm-2-1zm-3 2zm-2-6zm0 5zm-1-4zm-2 5zm0-2zm-3 3zm-2-7zm-2 1zm-1 0zm-2-1zm-2 6zm0-1zm0-3zm-2 2zm0 0zm-1 0zm-1-4zm-2 7zm-1-2zm-1-3zm0 1zm-2 1zm-6 0zm0 2zm0-2zm-3 3zm-2-4zm0-2zm0 4zm-2-4zm-1 4zm-1-2zm0 2zm-3 2zm0-3zm-2-3zm0-1zm-2 4zm-2-1zm-1-3zm-3 5zm-2 2zm-2-2zm-3 0zm-1 2zm-1-7zm-2 7zm0-7zm-5 5zm0-2zm-10-1zm-7 0zm-5 0zm-4 1zm-1 4zm-5-1zm-9-3zm-3 4zm-1-1zm-1 0zm-1 1zm-42-6zm-2 5zm-4 0zm-9-2zm-7 1zm0-3zm-7 5zm-7-3zm-10-3zm-18 6zm-26-2zm-1-4zm-8-1zm-9 0zm-1 0zm-4 4zm-1 2zm-1 0zm-1-6zm-3 7zm0-2zm-3-2zm-1 2zm-2-3zm-3 5zm-7 0zm-2-1zm-4-3zm-1-1zm-5-1zm-3 1zm-3 2zm-2-1zm-2 1zm-1 1zm-6 2zm-3-4zm-5-3zm-1 6zm-2-4zm-1 4zm0-2zm-2 0zm0-2zm-4 5zm-1-1zm-7-6zm-3 5zm-4-4zm-4 0zm0 0zm-3 0zm-1 5zm-1-6zm-5 1zm-3 2zm-1 4zm-4-2zm-4-3zm-1 1zm-4 0zm0 0zm-1 1zm-2-3zm-16 2zm-6-1zm-11 0zm18 13zm12-2zm1 2zm3-5zm8-1zm1 6zm6-1zm5-3zm0 2zm1-5zm4 0zm3 0zm4 5zm2-5zm3 0zm3 7zm1-2zm0 1zm6-1zm0-4zm1 3zm0-3zm0 5zm2-5zm3 1zm5-1zm1 2zm1 1zm26 1zm7 0zm9-2zm6-3zm6 0zm3 4zm0 2zm1 0zm1-5zm1 4zm1-4zm5 5zm3-2zm1 3zm1-7zm0 4zm6-3zm2 2zm1 3zm3-6zm24 1zm9 5zm2-1zm3 1zm34-1zm2-2zm13-2zm7 6zm12-7zm17 3zm14-3zm1 2zm2-2zm4 6zm5-6zm2 3zm9-3zm3 7zm5-3zm7 2zm5-2zm1-3zm2 3zm4 2zm1-2zm5-2zm0 3zm1-1zm1-4zm3 5zm0 0zm0 0zm0-2zm2 4zm2-7zm1 6zm1-6zm0 5zm1-3zm0 2zm2-3zm0 3zm2 1zm2 0zm1 0zm1-1zm1-4zm0 1zm0 2zm0 3zm0-6zm2 6zm0-5zm0 1zm4 4zm4-2zm0-4zm1 6zm0-6zm0 3zm1 3zm0 1zm1-2zm0 0zm0-3zm0 3zm1 2zm4-3zm0 1zm1 0zm0 1zm2-4zm0 2zm0 1zm0 0zm1-1zm1 2zm1-1zm1 2zm2 0zm0 0zm1-6zm1 4zm2 0zm0-5zm2 2zm2 3zm1 2zm0-7zm1 6zm0-1zm1-3zm9 5zm1 0zm1-4zm1-3zm3 0zm0 4zm4 1zm1 0zm1 0zm3 0zm1 0zm7 6zm-1 2zm-6 1zm-5-4zm-5 4zm-1-1zm-4-1zm-2 2zm-1-3zm-2 3zm-1-6zm0 4zm-1 1zm0-5zm-2 0zm-1 3zm-1 4zm0-4zm-2-1zm-3 5zm-1-5zm-1-1zm-1 2zm0 1zm-1 2zm-1 0zm0-3zm0 0zm-2 3zm-1-3zm0-2zm0 3zm-1-2zm-2 5zm-1-5zm-1 1zm0 0zm0 2zm-1-4zm0 6zm-1-4zm0-3zm-1 1zm-1 3zm-1-1zm0-1zm0 3zm-1 2zm0-6zm-1 0zm0-1zm0 0zm-1 5zm-1-5zm-1 5zm0-5zm-1 6zm0-4zm0 3zm0 1zm-1 1zm0 0zm-1-6zm0-1zm0 0zm-1 7zm0-2zm0-4zm0 2zm-1 1zm0 0zm-1-4zm0 5zm-1 2zm0-1zm-1 1zm-1-4zm-1 1zm-1 2zm0-6zm0 5zm-1 2zm0-1zm0-3zm0-3zm-1 0zm0 4zm-1-2zm-1 4zm-1-5zm-1 3zm0-4zm0 2zm0 1zm-1 3zm-1-2zm0 0zm-1-1zm0 2zm0 2zm-1-4zm-1 4zm0-5zm0 4zm-1 0zm0-6zm-2 3zm-2 2zm0-1zm0 3zm-1-2zm-1-1zm-4-2zm-2 0zm-2 1zm-1 4zm-1-4zm0 3zm0-2zm0 1zm-1 1zm-1 0zm0-2zm-1 2zm-1-4zm0 4zm-2-6zm0 0zm-1 0zm-3 1zm-2 2zm-4-1zm-1 3zm-1 1zm-4-4zm-4-1zm-1-1zm-2 5zm-3-2zm0-2zm-2-1zm0 6zm-6 1zm-11 0zm-1-7zm-10 6zm-2-2zm-3-1zm-3 3zm-2-6zm-1 7zm-9-1zm-19-6zm-10 3zm-22-3zm-8 0zm-3 0zm-6 7zm-9-5zm-1 1zm-7 3zm-4-1zm-15-2zm-1 4zm-9-2zm-1-5zm-3 4zm-12-2zm-2 5zm-1 0zm-5-6zm0 0zm-18 2zm-8-1zm0 5zm-2-2zm0 0zm-2-4zm-5 6zm0 0zm-1-6zm0 1zm-4 2zm-1 2zm-3-2zm-8-3zm0 4zm-3-1zm-2-1zm-1 4zm-4-1zm-3-2zm0 2zm-3-5zm-4-1zm-7 5zm0-4zm-1 6zm-2-3zm-2 2zm-5-6zm-1 0zm-1 4zm-1-1zm-1 1zm0 3zm-3-1zm-3-5zm-6 0zm-10 2zm6 10zm6 2zm0-7zm0 6zm7 0zm2 0zm2-1zm3-5zm2 6zm2-5zm4 3zm0-2zm1 1zm1-3zm5 1zm1 1zm1 1zm1-2zm0 0zm3 6zm0-3zm2 2zm4-4zm1 1zm1 1zm1-3zm4-1zm1 2zm7 2zm0-1zm13-2zm0-1zm4 5zm0-4zm0 2zm2-1zm1 5zm6-2zm0 0zm4-3zm3-1zm3 5zm3-5zm1 5zm3-2zm6-3zm1 1zm6 5zm2-4zm1 2zm0-1zm1 3zm3-7zm1 2zm24 3zm11 0zm25-4zm7 3zm13-3zm10-1zm6 2zm12 5zm1-1zm0-5zm6-1zm0 2zm6 5zm1-4zm5 0zm1 3zm19-3zm0 0zm0 2zm1-4zm4 6zm4 0zm2 0zm1-3zm4-1zm16-3zm3 1zm1 1zm6 1zm2-1zm0 1zm0 4zm0-2zm1-1zm1 1zm3 2zm0-1zm1-2zm0 2zm1-5zm3 6zm0-7zm1 4zm2-2zm1-1zm1 2zm1 2zm2-3zm1 3zm1-5zm0 2zm0 5zm1-3zm0-1zm1 0zm1 2zm0-1zm1-3zm2 2zm0 3zm0-4zm0-1zm0 6zm0-1zm2-4zm0 1zm0-3zm3 2zm0 4zm2-5zm0 1zm0 4zm2 1zm0 0zm1-4zm0 0zm1-1zm0 3zm0-4zm0 1zm2 4zm0-6zm1 6zm0 1zm0-7zm0 6zm1-5zm0 5zm1 0zm0 1zm1-3zm2-2zm1 5zm0-1zm1-1zm1-3zm2 5zm0-1zm1-5zm0 1zm1-1zm0 6zm1 0zm0-1zm0-1zm1-3zm1 1zm1 0zm1 0zm0 2zm0 0zm1 2zm1-2zm0-4zm1 4zm1-5zm1 1zm0 4zm1-1zm0 2zm1-2zm0-3zm0-1zm1 5zm0-3zm0 2zm1 0zm0 0zm1-1zm0 3zm0-1zm0-1zm1-2zm0-2zm1 7zm0-5zm2 0zm0 2zm0 2zm1-4zm0 4zm1-3zm1 4zm0-4zm2 3zm1-3zm0 1zm3-3zm1-1zm2 2zm0-1zm1 4zm2-1zm1 2zm2-4zm2 2zm9-1zm1-1zm26-2zm-10 11zm-14 0zm-2 1zm-1 2zm0-6zm-5 0zm-3 6zm0-6zm0 6zm-4-5zm-1 6zm-1-6zm-1 2zm-3 0zm0 4zm-3-3zm-1-3zm-1 1zm0-2zm0 4zm-1-3zm-1 5zm-1-3zm-3-2zm-1 1zm-2 4zm-1-4zm0 1zm-1-3zm0 3zm-1 1zm0-3zm0 3zm0 3zm-1-4zm0 4zm-1 0zm-1-2zm0-5zm0 7zm-1-3zm0 2zm-1-4zm0 3zm-1-1zm0-3zm-1 0zm-1 4zm-2 0zm-2 2zm0 0zm0-5zm0 5zm-1 0zm-2-7zm0 4zm0 0zm-2-2zm0 0zm0 1zm-1 1zm0-3zm-1 5zm-2-4zm0 3zm0-5zm-1 1zm0 5zm0-3zm-1 1zm0-3zm-1 3zm0-2zm0 2zm-2-1zm0 0zm-1 2zm0-2zm-1 1zm-1 0zm0-3zm0 3zm-1-1zm-2-2zm0 0zm-1 0zm0 0zm-1-1zm0 0zm0 2zm-1 0zm0 4zm-1 0zm-1-4zm-1-2zm-1 3zm0 3zm0-1zm0 2zm0-2zm-1-5zm0 5zm0-4zm0 6zm0-6zm-2 1zm0 1zm-1 4zm0-3zm0 1zm-1-3zm0 2zm0 3zm0-6zm-1-1zm0 4zm0-4zm0 6zm0-1zm-1-3zm0 3zm0 1zm0-2zm0 0zm-1-3zm0 2zm0-3zm-2 0zm-4 6zm0-5zm-3 3zm0-4zm-2 1zm0 5zm-1-5zm0 3zm0-3zm-1 4zm0 2zm0-7zm-5 1zm-1 6zm-6-6zm-2 4zm0-3zm-3-1zm-2 5zm0-3zm0-3zm-3 6zm-3-3zm-1 2zm-4-1zm-6 1zm-1-4zm0 4zm0-3zm-2 4zm-3-3zm-4 1zm-19-4zm-4 0zm-5 6zm-1 1zm0-2zm-5-4zm-4 6zm-17-3zm-1 3zm-5-1zm-18-3zm-6 4zm-1 0zm-5-7zm-6 0zm-12 3zm-13-3zm-4 4zm-3-4zm-2 7zm-3 0zm-2-3zm-4-3zm-8 5zm0 0zm-1-6zm0 4zm-10 1zm0-4zm0 1zm-1 4zm-4-4zm-17-2zm-4 5zm-2-5zm-1 4zm-2 1zm-1-4zm0 5zm-1-4zm-9 2zm-3 2zm-6-1zm-3 0zm-4 2zm-4-1zm0 0zm-1-1zm-1-4zm-5 6zm-2-5zm0-1zm-1 1zm-1 5zm-2-7zm-3 0zm-1 2zm0 2zm-3-2zm-1 4zm0 1zm-1-6zm0 1zm0-2zm0 3zm-1 4zm0-1zm0-4zm-2 2zm-1 3zm-2-6zm0 1zm0 0zm-2 1zm-11 3zm-1-6zm-2 0zm-6 5zm-9-4zm-18 2zm1 6zm19 0zm8 6zm2-2zm3-2zm1-2zm2 6zm0-3zm2-1zm2-2zm3 2zm0 4zm2-1zm6-4zm1 3zm0-1zm0-2zm2 3zm0-1zm1 2zm2-1zm0-2zm0 4zm1-3zm1-1zm0 4zm2-2zm5-1zm0-3zm0 3zm0-2zm1 1zm1 2zm2-1zm1-2zm6-2zm1 4zm1 2zm4-5zm1 3zm4 2zm0-1zm4-5zm4 5zm2 2zm1-4zm1-1zm6 3zm1-2zm0 0zm3 0zm5-3zm7 3zm1 4zm3-6zm3 6zm2-2zm4-2zm2 0zm1-3zm0 7zm1-7zm1 1zm3 3zm1 2zm4-1zm2 1zm1-2zm0-3zm3 5zm4 1zm0-2zm1 2zm1-5zm23 4zm6 0zm17 0zm1-2zm23 0zm12-1zm3 2zm7-4zm1 0zm3 4zm5 0zm1-1zm1-4zm5 6zm3-3zm4 1zm3-2zm6 1zm2-3zm0 2zm7 2zm1-2zm1 4zm1-2zm1 3zm8-7zm1 7zm0 0zm1-7zm1 7zm8 0zm4-5zm0-1zm6 3zm6 3zm4-4zm1 2zm2-2zm1-2zm2 2zm6-2zm0 2zm0 4zm1-5zm1-2zm0 7zm1-3zm0 3zm2-5zm1 0zm0 2zm0-4zm1 2zm0-1zm0 0zm3 2zm0 0zm1 1zm0-1zm1 4zm0-6zm0 2zm2-1zm1 5zm0-1zm0-3zm0-1zm5 3zm0-4zm1 4zm0-4zm1-1zm2 2zm3 2zm1-4zm0 6zm1 1zm0-3zm1-1zm0 4zm2-5zm2-1zm0 1zm1 1zm0-3zm0 5zm1-1zm0 2zm1-1zm0 2zm0-6zm1 6zm0-1zm0-5zm0 6zm1-7zm0 1zm0-1zm1 6zm2-3zm0 3zm1-5zm0-1zm0 3zm1 4zm1 0zm0-4zm0 2zm2-4zm0 4zm2-4zm0 2zm1-1zm0 2zm5 0zm0 1zm1 0zm1-1zm0 2zm2-3zm0 3zm0 0zm0-4zm1 4zm2-3zm2 3zm2 1zm0-4zm9 4zm2-7zm0 1zm4 0zm1 5zm1-6zm9 6zm7-5zm0 0zm9 9zm-34-2zm-3 4zm-6-4zm-1 7zm0-1zm-1-4zm-1-2zm-1 3zm-1-2zm-5-1zm-2 0zm0 2zm-1 5zm-1-6zm-1 0zm-2 4zm0-1zm-5-1zm-2 4zm0-5zm-1 3zm-2-2zm-3-3zm0 1zm0 0zm-2 1zm0 5zm-1-3zm-1 0zm0-4zm-2 5zm-1-5zm0 6zm0-1zm-2-4zm-1 4zm-2 0zm-1-5zm0 0zm-1 4zm0-1zm-1 3zm-2-5zm0-1zm-3 5zm-1-1zm0 2zm-2-1zm0-3zm-1 4zm-1 1zm0-4zm-1-3zm-1 0zm-2 1zm-2 5zm-6-3zm-7-3zm-12 3zm0 1zm-1-2zm-8 5zm-5 0zm-1-2zm-6 1zm-8 0zm-3-4zm-1-2zm-4 0zm-1 0zm-6 5zm0 0zm-6 0zm-4-2zm-4-1zm-1-1zm-5 6zm-2-3zm-6-2zm-16 1zm-7-3zm-8 6zm-1 0zm-6-6zm-3 2zm0 3zm0-5zm-1 4zm-13-2zm-2 0zm-7 0zm-3 4zm-3-6zm-4 4zm-1 0zm-2-2zm-3-1zm-6 0zm-10-1zm-6 4zm-4 0zm-5-1zm-2-1zm0 2zm-3-4zm-1 1zm-2 6zm0-1zm-8-5zm-2 4zm0-5zm-1 6zm-2-4zm-1 3zm-4-3zm-1 5zm-4-3zm-1-4zm-21 4zm-3-2zm-2 3zm-5-1zm-1 3zm-1-1zm0 0zm-1-2zm0 0zm0-2zm0 0zm-1 3zm-3-4zm-1 2zm-1-3zm0 5zm-4-4zm-1 4zm-1-4zm0 4zm-1 2zm-1-7zm0 4zm-1 2zm-3 0zm0-6zm-2 0zm-1 2zm-5 1zm-1-2zm-1 2zm0 0zm-2 3zm0-6zm-1 2zm-1 4zm-1-3zm-1 3zm-3-3zm-11-2zm-1-1zm-7 2zm-19-1zm11 13zm2-3zm9 3zm6-3zm1 2zm6-3zm6 0zm5 0zm4-1zm1 0zm2 3zm2-3zm1 6zm1 0zm1 0zm1 0zm1-2zm0 2zm0-7zm3 5zm1-5zm1 5zm1 2zm0-7zm1 3zm1 4zm1-1zm2-3zm1 1zm1-3zm0 0zm1 6zm0-1zm1 0zm2 0zm1-6zm2 4zm1 1zm1-4zm1 5zm1 0zm2 0zm0 1zm0-6zm1-1zm0 3zm3 2zm3 1zm3 0zm4-3zm3-3zm2 5zm0 0zm1-2zm1 0zm2 1zm2 0zm2-4zm10 0zm2 4zm2 2zm2-4zm0 4zm4-5zm2 3zm0 2zm14-1zm24-2zm1 1zm19-4zm5 0zm1 4zm5 2zm2-4zm4 1zm6 4zm9-5zm0-2zm8 0zm1 5zm1-4zm0 4zm13-3zm16 1zm1 4zm10-2zm1-4zm3 2zm2 3zm12-5zm1 2zm3-3zm3 2zm7 4zm6-5zm1 4zm2-1zm1 2zm5-5zm0-1zm1 3zm0 3zm4-6zm5 5zm2-5zm4 5zm4-1zm3 1zm6-4zm0-1zm7 6zm0-4zm0-1zm1 4zm2-5zm6 3zm3 1zm1-2zm2 3zm4-2zm4 3zm0 0zm0-4zm4 5zm3-7zm3 7zm5 0zm1-7zm4 1zm3-1zm0 0zm39 4zm-40 10zm-3-2zm-8-4zm-5 2zm-3-2zm-2 4zm-1 0zm-25 3zm-4-5zm-9 2zm-8-2zm0 0zm-1 1zm-7-3zm-4 6zm-1-1zm-1-5zm0 0zm-4 2zm-7 0zm-1 4zm-1-3zm-2-2zm-11 3zm-3-1zm-2-2zm-4 3zm0 0zm0-1zm-36 4zm-1-2zm-5 2zm-13-7zm-4 0zm-1 1zm-12 2zm-1-1zm-3 5zm-13-5zm-14 1zm-1 2zm-5-4zm-10 5zm-7-5zm0 2zm-6 2zm-6 0zm-4-2zm0-3zm-3 6zm-4-3zm-2 4zm0-3zm-6 3zm-5-1zm0 0zm-3-1zm-1-3zm0 5zm-12 0zm-5 0zm0-4zm-1 0zm-1 4zm-3-3zm-2 0zm-2-1zm-1-3zm0 2zm-1 5zm0-7zm-1 7zm0-4zm-2 2zm-1-3zm-1-2zm-1 5zm-1 1zm0-5zm0 1zm-2 3zm-1-5zm-1 3zm0 4zm-2-3zm0 3zm-1 0zm0 0zm0-5zm-1 2zm0 0zm-1-2zm-2 4zm0-6zm-1 0zm0 2zm-1-1zm-1 3zm0 3zm-1 0zm0-2zm-1 1zm-1-1zm0-4zm0-1zm-1 7zm-1-5zm0-1zm0-1zm-2 6zm-1-3zm0 3zm0 1zm-1-5zm-1 5zm0-4zm0-2zm-1-1zm0 1zm0-1zm-1 0zm0 3zm0 3zm-1-3zm-1 4zm0-1zm-1-4zm0-1zm0 5zm-2-6zm0 0zm-1 0zm0 7zm-1-6zm0 0zm-2 4zm-1 2zm-2-2zm-1 0zm-4-4zm-5 3zm0-3zm-4 2zm-10 4zm0-1zm-15-3zm10 9zm4-4zm1 1zm2 3zm6 0zm7 3zm1-5zm0 2zm5-3zm0 2zm1 4zm0-6zm1 2zm1 4zm2-1zm1 0zm0-5zm7 1zm3 5zm0-2zm1-5zm0 2zm0 2zm0 0zm4-4zm1 4zm1-4zm1 1zm0 6zm1-2zm0-5zm1 0zm0 5zm0 1zm1-4zm1 4zm0-4zm1 2zm0-2zm1-1zm1 4zm0 0zm2-5zm0 1zm1 6zm1-7zm1 5zm0-5zm0 0zm1 6zm0 1zm0 0zm0-5zm0 2zm1-3zm0 2zm0 2zm0-5zm2 1zm0-1zm1 3zm1-2zm0 3zm0 0zm0-2zm1 3zm0-5zm1 7zm1-6zm0 4zm1-4zm1 1zm0 2zm2-1zm2 3zm1-5zm0 1zm1-2zm0 6zm2-3zm2 3zm4-2zm5-3zm2 2zm2 3zm3 0zm4-2zm1 3zm3-3zm2-4zm1 3zm4 0zm4 3zm3-6zm0 2zm2 5zm1-7zm2 4zm5-2zm3 2zm2 3zm2 0zm32-4zm1 4zm6-3zm11-2zm2 3zm7-5zm11 4zm4-2zm7-2zm1 0zm0 7zm1 0zm8-6zm3 6zm3 0zm7-4zm11 1zm4 1zm7-4zm3 2zm2 4zm5-5zm3 0zm2 3zm19-4zm15-1zm8 6zm5-6zm10 4zm13 0zm5-4zm8 7zm4-3zm10 2zm14-1zm1-2zm41 8zm-58-1zm-30 4zm-3 0zm-39-1zm-21 2zm-40-6zm-4 6zm-5-6zm-2 2zm-7 1zm-4-4zm-1 0zm-2 6zm-8 0zm-6-5zm-1 6zm-3-5zm-1 5zm-7-7zm-3 4zm-7-3zm-2 4zm-7-3zm-2-1zm-3-1zm-3 2zm-2 4zm-11-4zm-11 3zm-5 2zm0-1zm0-4zm-4-1zm-4 3zm0 2zm-3-1zm-3 1zm-29-2zm-2 2zm0 0zm-4-4zm-2 4zm-1-3zm0 3zm-1-1zm-2-1zm-3 3zm-1-3zm-1-3zm0-1zm-2 2zm0 5zm-1-2zm0 1zm0-6zm0 2zm-1 5zm0-5zm0 0zm0 2zm0 2zm-1-6zm-1 5zm0 1zm-1-5zm0 0zm0 4zm-1-2zm-1 2zm0-1zm0 1zm0-2zm0 4zm0-7zm-1 2zm0 3zm0 2zm-1-6zm-1 4zm0 1zm0 1zm-1-1zm0-3zm0 0zm0 4zm-1-6zm0 5zm0-4zm-1 4zm0-4zm0-1zm0 6zm0-5zm0-1zm0 3zm-1-4zm-1 4zm0 1zm-1-2zm-1-2zm0 1zm-1 4zm-1 1zm-1-7zm0 6zm0-4zm-3 1zm-1-2zm0 3zm-1-2zm-3 5zm-2-1zm-1 1zm-2-4zm-1-2zm0 6zm-3-6zm0 4zm-1-5zm-1 0zm-1 4zm-1-3zm-2 2zm-1-3zm0 1zm-1 4zm-3-1zm-1 3zm-5-1zm-1-2zm-4 3zm-3-4zm-14 2zm-5-3zm5 7zm10-1zm2 2zm3 4zm12 1zm4-2zm5-2zm0-1zm0 5zm3-1zm1-4zm2-1zm1 4zm0 2zm1-1zm3-4zm0 1zm1 4zm0 0zm1-3zm1-4zm1 4zm0-1zm0-2zm1 2zm0 0zm0 1zm1 1zm0 2zm0-5zm2-2zm0 0zm1 0zm0 0zm1 0zm2 0zm0 1zm0 6zm0-6zm1 3zm0 0zm0 3zm1-3zm0 3zm0-7zm1 0zm0 0zm0 5zm0 2zm1-3zm1 2zm0-6zm0 7zm0-7zm0 1zm1 4zm0 0zm1-5zm0 5zm0 0zm0-5zm2 3zm0-2zm0 0zm0 2zm1 1zm0-2zm0-1zm1 1zm1 3zm1-2zm0-1zm1-2zm0 7zm0-2zm0-2zm1 2zm0 2zm0-4zm1 4zm0-1zm1 1zm0-4zm1-1zm1 4zm1 1zm2-2zm0-4zm0 6zm1-4zm0 3zm0-4zm0 0zm1 1zm1-3zm1 5zm0-4zm1 6zm0-5zm1 1zm4 4zm1 0zm4-3zm1-1zm5 2zm2 0zm1-1zm2 2zm3-2zm2 3zm1-3zm2 3zm1-4zm2-3zm0 4zm2-4zm0 6zm2 0zm3-6zm0 6zm0 0zm0-5zm2 0zm0 5zm0 1zm0-2zm1 1zm0-5zm1 0zm1 4zm1-5zm1 0zm2 3zm32 1zm36-4zm12 1zm5 6zm7-5zm1 2zm7-3zm1 1zm7-2zm67 1zm29 0zm-59 7zm0 2zm-1-1zm-2 2zm-63 0zm-5-1zm-24 4zm-17-2zm-1 3zm-1-7zm-21 7zm-7-1zm-2 1zm-2-3zm-2 2zm0 1zm0 0zm0-2zm0-2zm-1 3zm-1-2zm0-4zm0 1zm0 4zm-1 0zm0-5zm0 7zm0 0zm-1-6zm-1-1zm0 7zm0-4zm0 4zm-1-3zm0 3zm0-5zm-1-1zm0 1zm0 1zm-1-3zm0 7zm-1 0zm-1-3zm-1-1zm0-1zm-10 1zm-4 1zm-5-4zm-1 1zm-5 3zm-1 0zm-3-3zm-2 6zm-1 0zm-1 0zm0-3zm0-4zm-2 6zm-1-6zm0 4zm-1 1zm-2-4zm-1 6zm0-1zm-1-6zm0 5zm-1-4zm-1 5zm0-2zm0 2zm-1-3zm-1-3zm0 0zm0 3zm0 3zm-1-6zm0 0zm0 1zm0 4zm0 2zm-1 0zm0-5zm0 1zm0-2zm-1 5zm0-2zm0-4zm-1 6zm0 1zm-1-7zm0 5zm-1 1zm0-1zm-1-1zm-2 2zm0-2zm-1-3zm0 1zm0 2zm0 3zm-2 0zm0-3zm-1 0zm0 0zm0-4zm-2 6zm-1-2zm0-3zm-1 3zm0-1zm-1 2zm0-3zm0 0zm0 1zm-1 0zm0-1zm0-2zm-1 1zm-1 0zm-2 6zm0 0zm0-3zm-2-3zm-1 3zm-1 1zm-1-4zm0 5zm0 0zm0-1zm-1-2zm0 1zm0-2zm0-2zm0 1zm-1 4zm-2-4zm-6 4zm0-3zm-4 4zm-3-3zm-1 3zm-3-6zm-12 3zm-24 1zm43 6zm6-2zm1 7zm0-7zm2 6zm0 1zm3-4zm1-1zm0-1zm1 6zm1 0zm0-6zm1 0zm0 2zm1-2zm1 6zm0 0zm1-7zm3 6zm0 1zm0-4zm1 0zm0-3zm0 5zm0 1zm1 1zm0-1zm1 0zm0-6zm2 1zm1 3zm0-1zm1 4zm1-6zm1 5zm0-5zm0 1zm0 3zm0-2zm1 2zm0-2zm0 2zm1-2zm0-1zm0-2zm1 5zm0-1zm0 0zm0-1zm0 0zm1 3zm0 1zm0-4zm0 3zm1-3zm1 3zm0-6zm0 1zm0 6zm0-1zm0-6zm0 1zm1 1zm1 4zm0-5zm0-1zm1 1zm1-1zm0 5zm0-3zm0 3zm0 2zm0-7zm0 1zm1 4zm0-4zm0 6zm0-5zm0 1zm0 0zm1 0zm0-1zm0-2zm0 5zm1-2zm0-3zm0 3zm1 3zm0-4zm0 1zm0 0zm0 0zm1 2zm1-2zm0 4zm0-2zm1-4zm0 2zm0 4zm1-7zm0 6zm0-3zm1 3zm0-2zm0 0zm1-4zm0 4zm0 0zm0-4zm0 5zm0-4zm1 0zm0 5zm0 1zm0-5zm2-2zm1 7zm0-7zm0 7zm0-6zm0-1zm0 2zm1 3zm1-2zm0 4zm1-2zm0 2zm0-5zm1-2zm1 3zm0-1zm0 2zm0-1zm0 1zm1-1zm0 2zm0 0zm1-1zm2 2zm0 1zm2-1zm1-2zm2 1zm1-4zm0 1zm4 5zm1-2zm0-5zm2 2zm1 2zm4-1zm0 4zm1-5zm0 0zm0 3zm2-1zm0 2zm1-4zm0 5zm1-2zm1 1zm1 0zm1-2zm0 0zm0-3zm0 1zm1 4zm0-1zm1-1zm0 3zm0-3zm0 1zm0 2zm0 0zm1-2zm0 1zm0-1zm0-3zm0 2zm0-4zm0 6zm1 1zm0-5zm0 0zm1 4zm0 0zm1 1zm0-4zm1 1zm0-4zm1 5zm0-4zm0 1zm2 3zm1 1zm0 0zm1 0zm65-4zm184 7zm-140 0zm-30-1zm-11 5zm-8-3zm-58 5zm-1-5zm-2 4zm-1-2zm0-2zm0 2zm-1 2zm0 0zm0-2zm-1 0zm0-3zm0 4zm0-1zm0 3zm-1-5zm0 2zm0-1zm0 3zm0-6zm0 4zm0-2zm0 3zm-1 0zm0-2zm0 3zm0 1zm0-5zm0 2zm0-4zm-1 6zm0-1zm0-2zm0 4zm-1-2zm0-1zm0-3zm0 5zm0-3zm0 1zm0-4zm0 4zm0 3zm-1-6zm0 5zm0-6zm0 4zm0 0zm0 3zm-1-7zm0 3zm0 3zm0-5zm0 1zm0 4zm0-6zm-1 0zm0 4zm0 1zm0 2zm0-5zm0 1zm-1 4zm0-2zm0 0zm0-5zm0 3zm0 4zm0-2zm0 2zm0-1zm-1-3zm0-1zm0 3zm0-2zm0 4zm0-6zm0-1zm-1 5zm0-3zm-2 1zm0 3zm-1-6zm-2 0zm-1 2zm-4 4zm-1-3zm0-2zm-4 6zm-5-1zm-1-4zm0 0zm0-2zm0 5zm0 0zm-1-5zm-3 6zm0 0zm-1-6zm0 2zm-1 5zm0-3zm0-2zm0 5zm-1 0zm-1-1zm0-1zm0-2zm0 2zm0-3zm-1 4zm-1 0zm0-1zm0 2zm-1-7zm0 4zm0-2zm-1-2zm0 6zm-1 1zm0-6zm0 3zm0 3zm0-6zm-1 6zm0 0zm0-6zm0 0zm0 6zm-1-6zm0 3zm0 1zm0-1zm0-4zm0 2zm-1 3zm0-5zm-1 0zm0 7zm0-3zm0 2zm-1-2zm0-4zm0 2zm0 5zm0 0zm-1-2zm0 2zm0-6zm-1 6zm0-2zm0-2zm0-3zm0 5zm0-3zm0 3zm0 1zm0-6zm0 7zm-1-1zm0-3zm0 4zm0-3zm0 2zm0-3zm-1 4zm0-1zm0-1zm0-4zm0 0zm0 2zm-1 2zm0-3zm-1-1zm0 4zm0 1zm0-5zm0 1zm-1 4zm0-4zm0-1zm0 6zm0-3zm-1-2zm0 3zm0-5zm-1 2zm0 4zm-1-2zm0 2zm0 0zm0-1zm-1-1zm0 3zm0-5zm0 5zm0 0zm0 0zm-1 0zm0-3zm0-3zm0-1zm0 3zm-1-1zm0-2zm-1 6zm0-2zm0 1zm0-2zm0 4zm-1-1zm0 1zm0-4zm0-1zm0 2zm0-1zm-1 0zm0-3zm0 2zm0 2zm0 3zm0-3zm-1-1zm0 4zm0 0zm0-2zm-1-5zm0 2zm0 4zm-1-1zm0-2zm0 2zm0 1zm-1-1zm0-2zm0 3zm0-6zm-1 2zm0-1zm0 1zm0 0zm0 5zm-1 0zm0-7zm0 3zm0-1zm0 1zm-1 3zm-1 1zm0-3zm-1-4zm-1 1zm-1-1zm-2 2zm0 3zm0-3zm0 2zm-3 1zm0-2zm-1 3zm-1-2zm-4-1zm0 4zm-2-2zm0-4zm-2 1zm-3 3zm-2 0zm-4 2zm-7-1zm-3-1zm16 8zm7-5zm1 6zm1-3zm2-2zm2 6zm0-2zm1-4zm1-1zm1 6zm0-4zm0 5zm1-6zm0 6zm1-5zm0 2zm1 3zm2-1zm0-2zm1 3zm0-2zm0-1zm1-2zm0 5zm0-5zm0 4zm1 0zm0-1zm0-1zm0 2zm0-4zm0 1zm2 0zm0 3zm1-3zm0-3zm0 0zm0 0zm0 1zm1 0zm0 4zm0-3zm0 4zm1-6zm0 4zm0 0zm1 0zm0 3zm0-1zm0-5zm0-1zm1 4zm0-2zm0 2zm0 2zm0 0zm1-6zm0 4zm0 3zm0-6zm1 0zm0 4zm1 0zm0 0zm0 0zm0-4zm0 6zm0-4zm0-1zm0 2zm0 2zm0 0zm0 0zm1-3zm0 4zm0 0zm0-5zm0 2zm1-2zm0 1zm0 3zm0 0zm0-1zm0-1zm0-1zm0 4zm0-5zm1 2zm0 2zm0 1zm0 0zm0-1zm0-4zm0-1zm0 6zm0-5zm1 2zm0-2zm0 4zm0 0zm0-3zm0 2zm0 2zm0-2zm0-4zm1 5zm0-2zm0-3zm0 6zm0-1zm0-2zm0 3zm0-2zm0-5zm1 6zm0-5zm0 4zm0-3zm0-2zm0 7zm0-3zm0 3zm0 0zm1-3zm0-1zm0 4zm0 0zm1-7zm0 6zm0-1zm0-3zm0 4zm0-2zm0-2zm0-1zm0-1zm0 6zm0-3zm1 1zm0 3zm0-7zm0 3zm0 3zm0-3zm0-2zm1 4zm0-3zm0-2zm0 7zm0-2zm0 1zm0-3zm0 3zm0-3zm0 4zm0-4zm1 2zm0 2zm0-3zm0-2zm0 1zm0-2zm0 4zm1 2zm0 0zm0-4zm0 3zm0-4zm0-1zm0 4zm0-5zm0 4zm1 3zm0-3zm0-2zm0 0zm0 4zm0-5zm1 1zm0 5zm0-7zm0 4zm1-3zm0 6zm0-2zm0 2zm0-5zm0 0zm1 4zm0-4zm0-1zm0-1zm0 5zm0-4zm0 4zm0-4zm0 0zm1 0zm0 1zm0-1zm0 4zm0-4zm0 6zm0-5zm1 4zm0-1zm0-4zm0 2zm0 3zm1-2zm0-1zm0 1zm0 3zm0-5zm0 3zm0 2zm0 0zm0-3zm0 3zm1-1zm0-2zm0-1zm0-1zm1 4zm0-1zm0-2zm1 3zm1-2zm0 1zm1-2zm1 0zm1-3zm1 2zm1 2zm0-2zm1 5zm0-7zm0 3zm1 3zm0 0zm1-4zm1 4zm1-1zm1 0zm0 0zm2 1zm1-3zm2 3zm2 0zm3-3zm2 1zm0 3zm1 0zm0-2zm0-1zm0 3zm1-2zm0 2zm0-2zm0 0zm2-1zm0 3zm0-5zm0 2zm0-2zm0 0zm0 5zm0 0zm1-4zm0-2zm0 2zm0 2zm1 1zm0-1zm0-3zm0 4zm0 0zm0-3zm0-1zm0 4zm0-5zm1 1zm0 2zm0-1zm0 3zm0-3zm0-3zm0 1zm0 0zm0 6zm0-5zm0 5zm1-6zm0 5zm0-1zm0-1zm0 1zm0-2zm0-3zm0 5zm0-3zm0-1zm0 6zm0 0zm0-3zm0 2zm0-2zm0-3zm1 4zm0 0zm0 0zm0 2zm0-1zm0 1zm0-2zm0 2zm0 0zm0-6zm0 6zm0-4zm0-2zm1 4zm0-3zm0 1zm0 4zm0-7zm0 5zm0 2zm0-7zm0 2zm0-1zm0 2zm0 2zm0-5zm0 4zm1-3zm0 1zm0 5zm0-4zm0 4zm0-3zm1-4zm0 7zm0-5zm0-2zm0 7zm0-4zm0 1zm0 3zm0 0zm1-5zm0 4zm1-3zm0-1zm0-1zm0 6zm0-7zm0 7zm1-6zm0 3zm0 2zm0 1zm1-3zm0 3zm1-7zm0 3zm1 0zm0 2zm1 2zm0-2zm2 2zm64-6zm86 2zm-116 8zm-19 1zm-6 1zm-9 1zm-3 0zm-2-6zm0 2zm0 3zm0-4zm0 2zm0-2zm0 3zm-1-2zm0 1zm0 0zm0 1zm0-4zm0 5zm0-3zm-1 0zm0-2zm0 7zm0-2zm0 0zm0 2zm-1-1zm0 1zm0 0zm0-7zm0 5zm0 1zm0-3zm0 0zm0 1zm0-3zm0 3zm0 2zm0-4zm0 1zm0 3zm-1-4zm0 3zm0 2zm0-1zm0 1zm0-2zm0 0zm0-2zm0 1zm0 1zm0 2zm0-5zm0 4zm-1-1zm0 2zm0 0zm0-1zm0-1zm0-1zm0 3zm0 0zm0-1zm0-1zm0 1zm0-3zm-1-2zm0 0zm0 1zm0-1zm0 4zm0-3zm0-1zm0-1zm0 0zm0 3zm0-2zm0 1zm-1 1zm0 3zm0-4zm0 0zm0 4zm0 1zm0-3zm0 1zm0 2zm0-4zm0 2zm0 0zm0 2zm0-3zm0 2zm0-5zm0 6zm0-2zm0 2zm-1-5zm0-2zm0 1zm0 3zm0-4zm0 6zm0-4zm0 2zm-1-1zm0 3zm0-3zm0-3zm0 1zm0 0zm0 4zm0-2zm0 2zm0 1zm-1-4zm0-1zm0 4zm0-3zm0 0zm0-1zm0 6zm0-7zm0 2zm0-2zm0 5zm0 2zm0-5zm0-2zm0 2zm0 4zm0-1zm0 2zm0-3zm0 1zm0-2zm-1 4zm0-3zm0-2zm0 4zm0-3zm0-1zm0 4zm0-3zm0 0zm0 0zm-1-3zm0 1zm0 3zm0-1zm0 0zm0 3zm0-5zm0 4zm0-5zm-1 1zm0 6zm0 0zm0-2zm0 2zm0-3zm0-2zm0-1zm0 4zm-1 2zm0-5zm0 3zm0 1zm0 1zm-1-3zm0-2zm0-1zm-2 2zm-2 3zm-1-4zm-1 3zm-4-5zm-1 1zm-2 5zm-1 1zm-1 0zm-2-3zm0-3zm0 2zm-1 2zm0 0zm0-5zm0 2zm-1-1zm0 4zm0 1zm-1-4zm0 5zm0-5zm0-1zm0 4zm-1-4zm0 6zm-1-4zm0 4zm0 0zm0 0zm0-1zm0-3zm-1 2zm0 0zm0 2zm0-5zm-1 4zm0-1zm0 1zm-1-5zm0 3zm0-1zm0 2zm0-3zm0 0zm0 4zm0 0zm-1 1zm0-4zm0-3zm0 3zm-1 2zm0-3zm0 4zm0-1zm0 0zm0-5zm0 6zm-1-1zm0 1zm0-1zm0-1zm0 0zm0 1zm0 1zm0-1zm0-4zm-1-1zm0 0zm0 3zm0 4zm0-3zm0-2zm0 3zm0-4zm0 1zm0 0zm0-1zm-1 6zm0-3zm0-4zm0 3zm0 3zm0-2zm0-4zm0 3zm0-2zm0-1zm-1 0zm0 2zm0-1zm0 2zm0 3zm0 0zm0 1zm0-5zm0 3zm0-2zm-1 3zm0-2zm0 1zm0 0zm0-4zm0 1zm0 5zm0 0zm0-1zm0-4zm0 1zm0 3zm0-6zm-1 5zm0 2zm0-4zm0 1zm0-1zm0 2zm0 1zm0-5zm0 3zm0 3zm0-7zm0 6zm0-6zm-1 4zm0 3zm0-3zm0-4zm0 0zm0 4zm0-1zm0 2zm0 1zm0-3zm0-3zm0 3zm0-3zm0 2zm-1 5zm0-2zm0 0zm0-3zm0 4zm0 0zm0-2zm0-1zm0 1zm0-3zm0 5zm0-4zm-1-1zm0 6zm0-7zm0 1zm0 6zm0-3zm0 1zm0 2zm0-6zm0 4zm0-3zm0 5zm-1-5zm0 2zm0 3zm0-1zm0-1zm0-5zm0 7zm0-2zm0 2zm0-3zm0-3zm0 4zm-1-5zm0 0zm0 3zm0-2zm0 2zm0 3zm0-5zm0-1zm0 5zm0 2zm0-7zm0 7zm0-1zm0-1zm0-1zm0 0zm0 3zm-1 0zm0 0zm0-7zm0 4zm0 2zm0 1zm0 0zm0 0zm0-1zm0-5zm0 4zm0 2zm0-2zm0-5zm0 6zm-1-5zm0 6zm0-7zm0 3zm0 2zm0-3zm0 0zm0 5zm-1-4zm0-3zm0 5zm0-3zm0-1zm0 4zm0-5zm-1 1zm0 1zm0 4zm0-1zm0-3zm0 2zm0-2zm0 3zm0 1zm-1 1zm0-1zm0-2zm0 3zm0-1zm0-3zm0 4zm0-1zm0-5zm0 2zm0-2zm0 6zm-1-3zm0-4zm0 7zm0 0zm0-5zm0 2zm0 3zm0-2zm0-3zm0 5zm0-4zm0 0zm0 1zm0-4zm0 5zm0-4zm0 1zm0 0zm-1 2zm0 3zm0 0zm0-4zm0-3zm0 4zm0 3zm0-4zm-1 3zm0 0zm0-3zm0 0zm0 0zm0 3zm0-2zm0 3zm0-6zm0-1zm0 5zm0-2zm0 4zm0-2zm0-3zm0 1zm-1-1zm0 1zm0 4zm0-7zm0 4zm0 1zm0 2zm0 0zm0-4zm0 3zm0 0zm0-1zm0 2zm-1-2zm0-1zm0 0zm0-3zm0-1zm0 0zm0 5zm-1 0zm0 2zm0-6zm0 0zm0 2zm-1-2zm0 4zm0-1zm0 2zm0 1zm0-3zm0-1zm0-3zm0 1zm-1 5zm0-3zm0-2zm0 2zm0-2zm0 4zm-1-5zm0 0zm0 2zm0 1zm0 3zm0-1zm0 2zm-1-1zm0-3zm0 4zm0-3zm0 2zm0 0zm0-5zm0 0zm0 5zm-1-1zm0-1zm0 2zm0-5zm0 2zm0 4zm0-7zm-1 4zm0 3zm0-4zm0 4zm0-1zm0-6zm0 4zm0-3zm-1 1zm0 1zm-1 3zm0 0zm0-4zm0-1zm0 1zm0 1zm-1 4zm0-4zm0 4zm-1-7zm0 6zm0 0zm0-3zm-1-2zm0 3zm0 0zm-1 0zm-1-4zm0 4zm0-1zm0 3zm-2-3zm-2 4zm0-7zm-2 6zm-1-2zm-15-3zm8 8zm0 3zm1-3zm2-1zm2 4zm3-4zm1 6zm2 0zm2-3zm1-2zm1 4zm1-5zm1 2zm0 5zm0-7zm1 4zm0 2zm0-2zm0-1zm1 1zm1-2zm0-1zm0 0zm0 3zm0 0zm0 3zm1-6zm1-1zm0 3zm0 1zm0 2zm0-6zm0 1zm1 1zm0 4zm1 0zm0-5zm0 1zm0 0zm0 4zm0-1zm0-2zm0-3zm1 3zm0-3zm0 3zm0-3zm0 2zm0 5zm0-1zm0-4zm0-1zm0 2zm0-1zm0 5zm0 0zm0-3zm0-4zm1 0zm0 6zm0 0zm0-3zm0 2zm0-5zm0 3zm1 0zm0-1zm0-1zm0 2zm0-3zm0 7zm0-7zm0 0zm1 3zm0-2zm0 3zm0-4zm0 3zm0 1zm0 3zm0-3zm0 0zm0 1zm0 1zm0-3zm0 2zm0 1zm1-3zm0-2zm0 2zm0-2zm0 4zm0 2zm0-6zm0-1zm0 4zm0 3zm1-7zm0 5zm0-5zm0 1zm0 3zm0-4zm0 6zm0-6zm0 0zm0 6zm0-6zm0 2zm0 3zm0 0zm0-5zm0 2zm1 3zm0-5zm0 6zm0 0zm0 1zm0-5zm0-1zm0-1zm0 0zm1 6zm0 0zm0 1zm0-6zm0 6zm0-2zm0-2zm0 0zm0-2zm0 2zm0 3zm0-4zm0-1zm1 0zm0 4zm0 1zm0-2zm0 3zm0-3zm0-2zm0 4zm0 1zm0-5zm0 4zm0-3zm0 2zm0 2zm0-2zm0 2zm0-3zm0-1zm1-2zm0 4zm0-4zm0 3zm0-3zm0 5zm0-6zm0 7zm0-4zm0 2zm0-1zm0 0zm0 0zm0-4zm1 1zm0 1zm0-1zm0 0zm0 1zm0 5zm0-1zm0-4zm0-2zm0 4zm0 0zm0-1zm0 0zm0-3zm0 2zm0 3zm0 0zm0-4zm1 2zm0-1zm0-2zm0 4zm0-3zm0 6zm0-5zm0-1zm0 3zm0-4zm0 1zm0 1zm0-1zm1-1zm0 3zm0 3zm0-6zm0 4zm0-1zm0-1zm0 3zm0-1zm0-2zm0 4zm0-4zm0 5zm0-3zm1-2zm0 0zm0 5zm0-1zm0 1zm0-1zm0 1zm0-1zm0 0zm0-5zm0 2zm0 1zm0 0zm0-4zm0 1zm0 3zm0-1zm0 2zm0-4zm0-1zm0 7zm0-6zm0 2zm1 1zm0-1zm0-3zm0 0zm0 6zm0-4zm0 0zm0 4zm0-2zm0 3zm0-7zm0 7zm0 0zm0-3zm0-3zm0 4zm0-5zm1 1zm0 3zm0 2zm0-3zm0-3zm0 7zm0 0zm0-7zm0 0zm0 4zm0-1zm0 4zm0-1zm0-1zm0 1zm0-3zm1 2zm0 2zm0 0zm0-6zm0 3zm0-3zm0 5zm0-4zm0-2zm0 5zm0-5zm0 5zm0-3zm1 5zm0-4zm0 0zm0 3zm0-6zm0 1zm0 0zm0 2zm0 4zm0-3zm0 3zm0 0zm0-1zm0-1zm0-4zm0 2zm0 2zm0 2zm0-2zm0-2zm0-3zm0 1zm1 3zm0 2zm0-6zm0 2zm0-1zm0 4zm0-3zm0 4zm0-4zm0 2zm0-2zm0 5zm0 0zm0-2zm0-4zm0 3zm0-2zm0-2zm0 0zm0 7zm1-3zm0 1zm0 2zm0 0zm0-1zm0-2zm0-4zm0 1zm0 2zm0 0zm0 2zm0-1zm1-4zm0 0zm0 7zm0-3zm0 0zm0-2zm0 0zm0 1zm0-2zm0 1zm0 3zm0-2zm0 0zm0-2zm0 0zm0 0zm0 6zm0 0zm0-4zm0-2zm0 6zm1-2zm0 0zm0-4zm0 5zm0-2zm0-2zm0 1zm0 3zm0 1zm0-3zm0-3zm0 0zm0 6zm0 0zm1-5zm0 0zm0 0zm0 4zm0-1zm0-3zm0 0zm0 4zm0-4zm0 3zm1 2zm0-1zm0-6zm0 6zm0 0zm0-5zm0 1zm0 3zm0 1zm1-2zm0 1zm0 0zm0-1zm0-3zm0 0zm0 3zm0-2zm0 0zm0 0zm0 5zm0-1zm0-4zm0 3zm0-1zm0-4zm0 1zm1 1zm0 1zm0 3zm0 0zm0-1zm0 1zm0 1zm0-6zm0 6zm0-2zm0-2zm0 0zm0 2zm0 0zm0-3zm0 0zm1 2zm0-4zm0 3zm0 1zm0 1zm0 0zm0-1zm0-1zm1 0zm0 3zm0 1zm0-7zm0 2zm0 0zm0 4zm0-3zm0 2zm0 1zm0-1zm0-1zm0 1zm0 1zm0-5zm0 6zm1-4zm0 4zm0-5zm0 0zm0 1zm0-1zm0 5zm1-2zm0 1zm0-1zm1 0zm0-1zm0 3zm0-2zm0-4zm0 2zm0 2zm0-3zm0 1zm1-3zm1 0zm0 1zm0 6zm0-4zm1 2zm0 1zm0 1zm0-1zm1-2zm0 3zm1-6zm1 4zm0-1zm0-3zm0 4zm0-4zm1 0zm0-1zm1 4zm0-1zm0 3zm3-2zm1-4zm1 4zm3 2zm2-3zm0 3zm1-3zm0 2zm1-2zm0-3zm1 3zm0 0zm0 0zm0-2zm0 1zm0 3zm0-2zm0 4zm0-2zm1-4zm0 5zm0-5zm0 6zm0-1zm0-1zm0 1zm0-6zm0 1zm1-1zm0 4zm0-1zm0-3zm0 5zm0 0zm0 0zm0 1zm0 1zm0-3zm0-1zm0-3zm1 5zm0-5zm0 4zm0-3zm0 6zm0-2zm0 0zm0-1zm0 1zm0-2zm0-1zm0 5zm0-2zm0 0zm1 2zm0-6zm0 4zm0-1zm0-3zm0 4zm1 1zm0-1zm0 1zm0-5zm0 4zm0 0zm0-1zm0 2zm0 1zm0 0zm0-4zm0 0zm0-1zm0 1zm0-1zm0 1zm0-1zm0 5zm1-2zm0 1zm0-5zm0-1zm0 6zm0-4zm0-2zm0 0zm0 7zm0-7zm0 1zm0 2zm0 0zm0-3zm0 6zm0 1zm0-6zm0 6zm0-3zm0 3zm1-3zm0 2zm0 0zm0-2zm0-2zm0 4zm0 1zm0-1zm0-1zm0-1zm0 3zm0-2zm0-4zm0 6zm0-7zm0 4zm0 0zm0 0zm0-1zm0 2zm0-4zm0 1zm1 5zm0 0zm0-6zm0 2zm0-1zm0 5zm0-7zm0 2zm0 4zm0-6zm0 6zm0-4zm0 4zm0-1zm0 1zm0-3zm0 1zm1 1zm0-5zm0 7zm0-6zm0 3zm0-2zm0 0zm0 3zm0 1zm0-4zm0 0zm0 1zm0 3zm0-4zm0 5zm0-4zm0 2zm0-3zm0 0zm0 5zm1-6zm0 3zm0 2zm0 1zm0-4zm0 2zm0-3zm0 5zm0-2zm0 0zm0-3zm0 4zm0-3zm0 1zm0-4zm0 4zm0-1zm0 4zm0 0zm0-2zm0-3zm0 2zm0 1zm0 0zm0 0zm0 0zm1-2zm0 1zm0 1zm0 0zm0-1zm0 0zm0-1zm0-1zm0 3zm0-4zm1 2zm0 3zm0 0zm0-2zm0-3zm0 3zm0 2zm0 1zm0-5zm0 5zm0-2zm0 2zm0 0zm1-1zm0-6zm0 7zm0-3zm0 0zm0 1zm0 2zm0-6zm0 6zm0-2zm0-3zm0-1zm1 3zm0-3zm0 4zm0-1zm0 3zm1-5zm0 5zm0 0zm1-7zm0 0zm3 5zm2 1zm88 1zm-76 2zm-14 0zm-1 0zm-2 4zm0-3zm0 3zm-1 0zm0 0zm0 2zm0 0zm0 0zm0-6zm0 0zm0 2zm-1 1zm0 1zm0-3zm0-1zm0 5zm0-5zm0 3zm0-2zm0 3zm0-1zm0-3zm-1-1zm0 7zm0-3zm0-1zm0-2zm0 1zm0 4zm0-6zm0 2zm0 5zm0-1zm0-1zm-1-2zm0-3zm0 4zm0 2zm0 0zm0 1zm0-7zm0 2zm0 2zm0 2zm0-3zm0-2zm0 6zm0 0zm0-5zm0-1zm0 2zm0 0zm0 3zm0-3zm-1-3zm0 6zm0-6zm0 7zm0-3zm0 1zm0 1zm0-6zm0 1zm0 2zm0 3zm0-3zm0 3zm0 1zm0-1zm0-5zm0 5zm0 1zm0-2zm0-1zm0-4zm0 3zm0-2zm0 2zm-1 3zm0 1zm0-1zm0-3zm0 1zm0-1zm0-2zm0-1zm0 7zm0-1zm0-5zm0 1zm0 2zm0 1zm0-2zm0 1zm0-3zm0 0zm0 1zm0 2zm0 1zm0-3zm0-2zm0 3zm-1 4zm0-6zm0 1zm0 0zm0 5zm0-3zm0 0zm0 1zm0 0zm0-4zm0 2zm0-2zm0 1zm0 4zm0-1zm0-1zm0 3zm0-3zm0 3zm0 0zm0-4zm0 3zm0-5zm0 4zm0-5zm0 3zm0-3zm0 4zm0 0zm0-4zm0 0zm0 5zm0-2zm-1 4zm0-7zm0 5zm0 0zm0-3zm0 2zm0 2zm0-2zm0 3zm0-4zm0 1zm0 1zm0 0zm0-1zm0 1zm0 1zm0 0zm0-4zm0 0zm0-1zm0 5zm0-3zm0-2zm0 0zm0 3zm0-3zm-1 5zm0-3zm0-1zm0 5zm0-1zm0-3zm0 3zm0 1zm0-2zm0 0zm0-3zm0 0zm0 1zm0 2zm0 1zm0-3zm0 4zm0-2zm0-2zm0-1zm0 2zm0-4zm0 3zm0 3zm0-1zm0-3zm0 1zm0-2zm0 6zm-1-6zm0 1zm0 0zm0 5zm0-5zm0 0zm0 5zm0-7zm0 5zm0-1zm0-4zm0 5zm0 0zm0-4zm0 5zm0-5zm0 3zm0-2zm0 4zm0-3zm0 3zm0-4zm0-1zm0 0zm0 1zm0 3zm0-3zm0 3zm0-2zm0 4zm0-3zm0-1zm-1 3zm0-6zm0 3zm0-2zm0 3zm0-3zm0 4zm0 0zm0 0zm0-3zm0 5zm0-1zm0-2zm0-2zm0-1zm0 2zm-1 3zm0 0zm0-6zm0 1zm0 4zm0 1zm0-3zm0-2zm0 3zm0-1zm0 1zm0 3zm0-3zm0-1zm0 1zm0 1zm0-5zm0 5zm0 1zm0-2zm0-2zm0-1zm0 0zm0 2zm0 3zm-1-4zm0-2zm0 1zm0 0zm0 6zm0-7zm0 2zm0-2zm0 3zm0 4zm0 0zm0-1zm0 1zm0-1zm0-4zm0-1zm0 4zm0 2zm-1-2zm0 1zm0 0zm0 0zm0-4zm0 5zm0-1zm-1-6zm0 2zm0 4zm0 0zm0 0zm0 0zm0-2zm0-1zm0 4zm0-5zm0 5zm0-2zm0 0zm-1-4zm0 5zm0-5zm0 4zm0 2zm-1 0zm0-4zm0 2zm0-4zm-1 4zm0-4zm0 1zm0 5zm-1-3zm-1 1zm-1 0zm-1 0zm0-3zm-1-1zm0 5zm-1 0zm0-5zm-1 5zm-1-2zm-1 2zm-1-1zm-1-3zm-1 5zm0-4zm-1-1zm0 4zm0-4zm0 2zm0 2zm0 0zm0 0zm0-5zm-1 4zm-1-2zm0-1zm0 1zm0 1zm-1 1zm0-2zm0-2zm-1 0zm0 4zm0-5zm0 3zm0 3zm0 1zm0-5zm-1 4zm0-1zm0-4zm0-1zm0 4zm0-4zm-1 3zm0 1zm0-1zm0 2zm0 0zm0-2zm0 0zm0-3zm-1 3zm0 0zm0 4zm0-1zm0-3zm0 4zm0 0zm0-3zm-1-4zm0 0zm0 4zm0 3zm0-1zm0-1zm0-3zm0-1zm0 2zm0 2zm-1-5zm0 5zm0-3zm0-1zm0 2zm0 2zm0-5zm0 4zm0-4zm-1 6zm0-1zm0 1zm0-5zm0 2zm0 2zm0-2zm0 0zm0 4zm0-2zm0-2zm0-1zm0 2zm0 3zm0-3zm0 1zm0-5zm-1 7zm0-2zm0-1zm0-2zm0 2zm0-1zm0 2zm0-2zm0 2zm0-1zm-1 0zm0 0zm0-2zm0 1zm0 1zm0-2zm0 4zm0-5zm0 4zm0-5zm0 7zm0-2zm0 0zm0 0zm0-5zm-1 5zm0-2zm0 0zm0-3zm0 7zm0-5zm0 1zm0 0zm0 2zm0-2zm0 2zm-1 0zm0-4zm0 4zm0-2zm0 0zm0 1zm0 2zm0-4zm0 0zm0 1zm0-1zm0 1zm0-2zm0 2zm0-2zm0 1zm0 2zm0-2zm0 0zm0 5zm-1-4zm0 3zm0-2zm0-4zm0 7zm0-7zm0 2zm0 5zm0-4zm0-2zm0 1zm0 3zm0 1zm0-3zm0-1zm0-2zm0 1zm-1 3zm0-1zm0 1zm0 3zm0-7zm0 0zm0 0zm0 4zm0-3zm0 1zm0 1zm0 1zm0-2zm-1 2zm0 2zm0-4zm0 1zm0-3zm0 3zm0 0zm0-3zm0 7zm0-6zm0-1zm0 2zm-1 4zm0 0zm0-1zm0 1zm0 1zm0-1zm0-4zm0-1zm0 3zm0-1zm0 2zm-1-2zm0-2zm0 4zm0-1zm0 0zm0 0zm0-1zm0 2zm0-2zm0 3zm0-4zm0 4zm0-6zm0 0zm0 0zm0 1zm0 4zm-1-4zm0 5zm0-2zm0 2zm0-3zm0 1zm0 0zm0 1zm0-2zm0 1zm0 1zm0 2zm0-4zm0 3zm0-4zm0-1zm-1 3zm0 3zm0-3zm0-4zm0 1zm0-1zm0 3zm0 0zm0-2zm-1 2zm0-1zm0 5zm0-7zm0 1zm0 0zm0 5zm0-3zm0-1zm0-1zm0 0zm0 5zm0-4zm0-1zm0 0zm0 4zm-1 2zm0-1zm0-3zm0 2zm0 1zm0 0zm0-5zm0 6zm0-3zm0 3zm0-3zm0-1zm0 2zm-1-2zm0-1zm0-1zm0-1zm0 7zm0-7zm0 6zm0-1zm0-4zm0 6zm0-3zm-1 1zm0-5zm0 1zm0-1zm0 1zm0-1zm0 5zm0-1zm0-2zm0-1zm0 3zm0-3zm-1 3zm0-3zm0 4zm0-5zm0 6zm0-2zm0 0zm0 0zm0-2zm0 0zm0 3zm0-5zm0 5zm0-4zm0 6zm0-5zm-1 4zm0-3zm0 0zm0-2zm0 1zm0-1zm0 1zm0 1zm0 4zm-1-1zm0-3zm0-3zm0 3zm0 2zm0-2zm0-3zm0 5zm0-5zm0 2zm0-1zm0-1zm0 0zm0 3zm-1 1zm0-1zm0-3zm0 6zm0-5zm0-1zm0 1zm0 0zm0 2zm0-2zm0 5zm0-6zm0 7zm-1-6zm0 1zm0 1zm0 0zm0 4zm0-3zm0 0zm0 1zm0-4zm0 2zm-1-2zm0 6zm0-7zm0 6zm0 0zm0-6zm0 5zm-1 0zm0-4zm-1 1zm0 0zm0 1zm0 3zm0-6zm-1 0zm0 2zm0-1zm0 1zm-1 5zm0-7zm0 4zm0-1zm-1-3zm0 3zm0 4zm-1-6zm0 6zm0-3zm0-2zm0 1zm-1 3zm-1-1zm0 1zm0-6zm0 2zm-1 0zm-1 1zm0-1zm0 4zm0-2zm-4 1zm-2-1zm-6-4zm-1 0zm-17 5zm12 3zm15 2zm3-2zm1 2zm0 4zm1-2zm0-4zm1 4zm0 1zm0-5zm1 5zm0 0zm1-4zm0 5zm0-6zm1 1zm0-1zm1 4zm1-1zm0 0zm0 2zm1 2zm0-2zm0-3zm0 0zm1-1zm0 0zm0 0zm0 2zm1 0zm0-2zm1 4zm0-4zm0 2zm1-1zm0 2zm0 1zm0-1zm1-2zm0 3zm0-5zm0 1zm0 4zm0-1zm1 2zm0-4zm0-1zm0 2zm0 1zm0-4zm0 2zm0 4zm0-4zm1 2zm0 1zm0-4zm0 1zm0 2zm0-1zm1 4zm0-6zm0 1zm0 5zm1-7zm0 5zm0-5zm0 1zm0 0zm0 0zm1 0zm0 1zm0-2zm0 4zm0-2zm0 1zm1-1zm0-1zm0 6zm0-7zm0 3zm0 1zm0 0zm1 2zm0-2zm0 0zm0-4zm0 5zm0-1zm0-1zm0-2zm0 0zm0 2zm0-3zm0 0zm0 0zm0 1zm0 0zm0 0zm1-1zm0 5zm0 1zm0 1zm0-2zm0-5zm0 7zm0-4zm0 1zm0-2zm0 0zm0 0zm0 5zm0-3zm1-4zm0 7zm0-7zm0 3zm0 2zm0-5zm0 1zm0 6zm0-1zm0-5zm1 3zm0 0zm0 3zm0-5zm0-1zm0-1zm0 7zm0-1zm0-1zm0-3zm1 2zm0-4zm0 4zm0-1zm0-1zm0-2zm0 5zm0-2zm1-3zm0 3zm0 0zm0-2zm0 1zm0 0zm0 3zm0-5zm0 2zm0 2zm0-3zm0 5zm0-5zm0 2zm1-2zm0 4zm0 1zm0-5zm0-1zm0 7zm0-7zm0 7zm0-5zm0 0zm0-2zm0 2zm0 2zm0-1zm0 4zm0-5zm0 5zm1-5zm0-2zm0 2zm0-1zm0 4zm0 1zm0 1zm0-6zm0 1zm0-1zm0-1zm0 2zm1-1zm0 0zm0 5zm0-6zm0 1zm0 5zm0-3zm0-1zm0-1zm0 1zm1 5zm0-1zm0-4zm0-2zm0 3zm0-1zm0-2zm0 7zm0 0zm1-4zm0 0zm0-3zm0 2zm0-1zm0 2zm0 3zm0-5zm1 0zm0 2zm0 0zm0-2zm0-1zm0 5zm0-2zm0 3zm0-5zm0 5zm0-6zm0 0zm0 0zm1 4zm0-4zm0 7zm0-1zm1-6zm0 7zm0-2zm0 1zm0-4zm0 3zm0-4zm0 4zm0-3zm1 0zm0 1zm0 1zm0-3zm0-1zm0 0zm1 5zm0 1zm0 1zm0-2zm0-3zm0 5zm0-4zm0 0zm0-2zm1-1zm0 2zm0 5zm0 0zm0-6zm1 0zm1-1zm0 0zm0 6zm0-3zm1 0zm0-2zm0 1zm1-2zm0 5zm1-4zm0 1zm0-1zm0 5zm1-6zm1 4zm1-4zm0 5zm0-3zm0 3zm1-5zm1 5zm0-5zm0 4zm0-1zm1 4zm0-7zm1 5zm1-5zm1 7zm1 0zm1-3zm0-3zm0 1zm1 3zm1 1zm0-3zm0 2zm0 0zm0-2zm0 1zm0 1zm0-2zm0 2zm0-1zm0-4zm1 0zm0 4zm0-1zm0 1zm0 0zm0 2zm0-5zm0-1zm0 5zm0-2zm0-2zm0 6zm1-2zm0 2zm0-4zm0 4zm0 0zm0-5zm0 3zm0-5zm0 3zm1 1zm0 1zm0-3zm0 2zm0-2zm0 5zm0-4zm0 0zm0 3zm0-6zm0 2zm0-2zm0 3zm0 0zm0-2zm0 5zm0-3zm0 3zm1-1zm0-4zm0 0zm0-1zm0 6zm0-2zm0-2zm0 3zm0-3zm0-1zm0 2zm0 3zm0-2zm0 3zm0-6zm0 4zm0-2zm0 4zm0 0zm0-1zm0 0zm0-6zm0 7zm0-5zm0 1zm0-1zm0 5zm0-5zm0 4zm0-6zm0 0zm1 0zm0 5zm0 2zm0-2zm0-4zm0 2zm0-1zm0 1zm0 4zm0-3zm0-2zm0 1zm0 4zm0 0zm0-1zm0-2zm0 2zm0 1zm0-4zm0 2zm0-1zm0-3zm0 4zm0-2zm0 3zm0-4zm0 4zm0-3zm1 4zm0-4zm0 1zm0-4zm0 3zm0 1zm0-1zm0 2zm0 2zm0-3zm0 1zm0 2zm0-7zm0 4zm0-2zm0 1zm0 4zm0-6zm0 5zm0-2zm0 0zm0-3zm0 4zm0 1zm0-1zm0-4zm0 5zm0 0zm0-2zm0 0zm0 2zm0-5zm0 3zm0 0zm0-4zm0 1zm0 5zm0-1zm0-5zm0 6zm1-6zm0 2zm0-2zm0 0zm0 2zm0 2zm0-3zm0 6zm0-2zm0-5zm0 4zm0 3zm0 0zm0-5zm0 0zm0-2zm0 1zm0-1zm0 3zm0 2zm0-2zm0-3zm0 4zm0-3zm0-1zm0 1zm0 2zm0-3zm0 1zm0 5zm0 1zm0-4zm0-2zm0 3zm0 0zm0 0zm0 3zm1-5zm0 0zm0 1zm0 0zm0-1zm0 4zm0-3zm0 4zm0 0zm0-4zm0 2zm0-1zm0 3zm0-5zm0 5zm0-5zm0-1zm0 5zm0 1zm0-7zm0 5zm0-3zm0 2zm0-4zm0 1zm0 4zm0-2zm0 2zm0-3zm0 3zm0-5zm0 6zm0-6zm0 0zm0 3zm0 1zm1 3zm0-6zm0 2zm0 1zm0-2zm0 5zm0-5zm0 4zm0-1zm0 1zm0-5zm0 2zm0 3zm0-5zm0 1zm0-1zm0 1zm0 5zm0-4zm0 3zm0-6zm0 6zm0-4zm0 3zm0-4zm0 3zm0-2zm0-1zm0 3zm0 3zm0-1zm0-6zm0 0zm0 3zm0 2zm0-1zm1 1zm0-1zm0-1zm0-1zm0 0zm0 1zm0 4zm0-3zm0-4zm0 3zm0-3zm0 5zm0 1zm0-4zm0 3zm0-1zm0 2zm0 1zm0 0zm0 0zm0-1zm0-6zm0 0zm0 5zm0-1zm0 0zm0 2zm0 0zm0-4zm0-2zm0 0zm0 7zm0-6zm0 3zm1 1zm0-2zm0 1zm0 1zm0 1zm0-4zm0 3zm0-3zm0 2zm0-4zm0 0zm0 6zm0-5zm0 5zm0-4zm1 3zm0-4zm0 1zm0 4zm0-3zm0 1zm0 2zm0 1zm0-7zm0 4zm0 3zm0-3zm0-1zm0-3zm0 5zm0-2zm0 4zm0-1zm0-5zm0 1zm0 3zm1 2zm0-7zm0 2zm0 2zm0 3zm0-7zm0 5zm0-3zm0 2zm0-4zm0 3zm0-3zm0 1zm0 2zm0-2zm0 2zm0 4zm0-2zm0-4zm0 1zm0 2zm1 0zm0-4zm0 4zm0-3zm0 5zm0-3zm0 2zm0 0zm0-2zm0 3zm0-4zm0-2zm0 7zm1-5zm0-1zm0 0zm0 6zm0-7zm0 2zm0 0zm0 1zm0-2zm0-1zm0 6zm0 0zm0-2zm0 3zm1-6zm0 2zm0-2zm0 4zm0-3zm1 2zm0-2zm0 1zm2 4zm46 1zm-39 4zm-8 1zm0 0zm0-3zm0 1zm-1 1zm-1-2zm0 5zm0-2zm0-5zm-1 2zm0 5zm0-3zm0 0zm-1 1zm0-5zm0 0zm0 2zm0 3zm0 0zm0-1zm0-1zm0 0zm0-2zm-1 1zm0-2zm0 4zm0-4zm0 6zm0 0zm0-3zm0 0zm0-1zm0-1zm0 6zm0-3zm0-2zm0 1zm0-2zm0 6zm0 0zm-1-2zm0-5zm0 5zm0-3zm0 0zm0 0zm0 3zm0-4zm0 5zm0-3zm0 0zm0 3zm0 1zm0-1zm0-5zm0 5zm0 1zm0-4zm0 4zm0-2zm-1 1zm0-5zm0 4zm0-5zm0 6zm0-4zm0 0zm0 0zm0 1zm0 2zm0-2zm0-2zm0 3zm0-1zm0 1zm0-2zm0 4zm0-6zm0 3zm0-1zm0 0zm0 5zm0-2zm0-1zm0-2zm0 0zm0 4zm0-4zm0 5zm0-1zm0-6zm-1 3zm0 2zm0 0zm0-4zm0 5zm0-6zm0 6zm0 0zm0-6zm0 5zm0-1zm0-3zm0 3zm0 1zm0-1zm0 3zm0-1zm0-5zm0 4zm0 2zm0-7zm0 2zm0 3zm0-2zm0-3zm0 2zm0 2zm-1-3zm0-1zm0 0zm0 3zm0-2zm0 1zm0 0zm0 0zm0-1zm0-1zm0 4zm0 2zm0-4zm0 4zm0-6zm0 5zm0-3zm0-2zm0 0zm0 4zm0 1zm0-5zm0 4zm0-4zm0 4zm0-2zm0 1zm0 4zm0-5zm0 1zm0-1zm0 4zm0-3zm0 4zm-1 0zm0-4zm0-3zm0 6zm0-2zm0 2zm0 0zm0-3zm0-3zm0 6zm0-3zm0 2zm0-1zm0-3zm0 5zm0-2zm0-1zm0 2zm0-3zm0-2zm0 1zm0 1zm0 2zm0 3zm0-6zm0 3zm0 3zm0-1zm0-4zm0-1zm0 4zm0-4zm0 5zm0-1zm0-4zm0 6zm0-2zm0-2zm0-3zm0 0zm0 5zm0-3zm-1-1zm0 4zm0-2zm0-1zm0 0zm0-1zm0-1zm0 7zm0-2zm0-5zm0 2zm0 2zm0-1zm0 3zm0-2zm0-3zm0 1zm0 1zm0 0zm0 3zm0-4zm0-2zm0 6zm0-4zm0-2zm0 3zm0 1zm0-1zm0-2zm0 0zm0 2zm0 1zm-1 1zm0-1zm0-3zm0 4zm0 0zm0-4zm0-1zm0 7zm0-5zm0 1zm0 0zm0-3zm0 1zm0 5zm0-5zm0 6zm0-7zm0 3zm0-3zm0 4zm0 2zm0-2zm0-3zm0 2zm0-3zm0 0zm0 5zm0-3zm0 0zm0 0zm0 4zm-1-4zm0 3zm0-4zm0 5zm0-3zm0 0zm0 4zm0-3zm0-1zm0-2zm0 1zm0 5zm0 0zm0-1zm0 1zm0-6zm0 6zm0-1zm0-3zm0-2zm0 3zm0 3zm0 0zm0-2zm0-5zm0 0zm0 7zm0 0zm0-1zm0-6zm0 5zm0-3zm0-2zm0 2zm0-1zm-1-1zm0 1zm0 6zm0 0zm0-2zm0-3zm0 3zm0 1zm0 1zm0-1zm0-2zm0 1zm0-4zm0-1zm0 0zm0 4zm0 0zm0 2zm0-4zm0 1zm0 1zm0-2zm0 4zm0-5zm0 3zm0 0zm0 3zm0-1zm0-1zm-1-3zm0 1zm0 4zm0-4zm0-3zm0 1zm0 3zm0 0zm0-4zm0 1zm0 1zm0-2zm0 7zm0-6zm0 5zm0-4zm0-2zm0 1zm0 6zm-1 0zm0-5zm0 0zm0-2zm0 4zm0-4zm0 1zm0 1zm0 4zm0-2zm0-3zm0-1zm0 1zm-1 0zm0 4zm0-5zm0 0zm0 6zm0-3zm0-2zm0 4zm0 2zm0-6zm0 5zm0-6zm-1 5zm0-1zm0-2zm0 3zm0 1zm0 1zm-1-4zm0 3zm0-6zm0 2zm0-1zm-1 6zm-1-1zm0 1zm-1 0zm0-6zm0 2zm0 3zm-1-1zm0-5zm-3 2zm-2-2zm0 4zm0 1zm-1-3zm-1 5zm-3-5zm0-2zm0 0zm-1 3zm0 2zm-1-5zm0 2zm0 3zm-1-2zm0-1zm0 0zm0-2zm0 3zm-1-2zm0-1zm0 7zm0-4zm0 1zm0 3zm0-5zm0 1zm-1 2zm0-2zm0 2zm0 2zm0-3zm-1-2zm0 1zm0 0zm0 3zm-1-1zm0-4zm0 3zm0-3zm-1-1zm0 1zm0 0zm0 0zm0 0zm0 2zm0-2zm0 0zm0 0zm-1 0zm0 2zm0-1zm0 4zm0-3zm-1-3zm0 4zm0 3zm0-3zm0-3zm0 1zm0 1zm0-3zm0 7zm0-1zm0-1zm-1-1zm0-4zm0 5zm0-1zm0-4zm0 2zm0-2zm-1 4zm0 1zm0-5zm-1 0zm0 4zm0-1zm0 1zm0-4zm-1 4zm0 1zm0-1zm0 3zm0-5zm0 2zm0 0zm0-1zm-1 4zm0-4zm0-1zm0 2zm0-1zm-1-1zm0 1zm0 2zm0-4zm0-1zm0 0zm0 3zm-1-1zm0-1zm0 6zm-1-5zm0-1zm0 3zm-1 2zm-1-5zm0-1zm0 4zm0 0zm0-4zm-1 2zm0 5zm-1-3zm0 1zm0-5zm0 5zm0-1zm-1-2zm-1 0zm0 2zm0-3zm0 0zm0 0zm-2 2zm0 0zm-1-3zm-3 3zm0 0zm-1-2zm0-1zm-1 5zm-2-2zm-1 0zm0-3zm-9 3zm-3-2zm-16 3zm31 9zm2-5zm3 0zm0 0zm2 3zm0 1zm3-2zm1 3zm0-3zm0-2zm1 4zm0-1zm0 1zm0-1zm1 4zm0-3zm1-4zm0 3zm0 3zm2-4zm0-1zm2 5zm1-6zm1 1zm0 3zm0 3zm1-6zm0-1zm0 6zm1-2zm0-4zm0 4zm0-4zm1 5zm1-4zm0 2zm0-3zm0 0zm0 2zm0-1zm0 2zm1-3zm0 3zm0-2zm0 6zm1 0zm0-5zm0 0zm0 0zm1 0zm0-2zm0 7zm0-7zm1 2zm0-1zm1-1zm0 0zm0 3zm1-2zm1-1zm0 7zm1 0zm0-5zm0-2zm0 3zm1-2zm1 6zm1-5zm1-1zm1 2zm0-3zm1 5zm0-1zm3-3zm2 5zm0 0zm1-5zm0 4zm0-4zm1 5zm0-1zm0 1zm0 1zm0-7zm0 0zm0 6zm0-4zm1-1zm0 2zm0 1zm0-1zm0 2zm1-1zm0-3zm0 3zm0 2zm0-6zm0 0zm0 3zm0-3zm0 2zm0 3zm0-2zm0-3zm0 0zm0 1zm1 4zm0 1zm0-2zm0 3zm0-6zm0-1zm0 2zm0 2zm0 3zm0-4zm0-1zm0 4zm0-6zm1 4zm0-1zm0 2zm0-4zm0 5zm0 1zm0-6zm0 5zm0-2zm0-3zm0-1zm0 0zm0 4zm0-2zm0 1zm0 4zm0-6zm0 2zm0 2zm0 1zm1-1zm0-3zm0 0zm0 0zm0-2zm0 1zm0 3zm0-4zm0 3zm0 2zm0-5zm0 5zm0-5zm0 2zm0 5zm0-4zm0 3zm0-4zm0 2zm0-4zm0 2zm0 0zm0 2zm0-1zm0 1zm0 0zm0-4zm1 1zm0 5zm0 0zm0 0zm0-4zm0 2zm0-2zm0 3zm0 0zm0 0zm0-2zm0 4zm0-1zm0-6zm0 6zm0 1zm0-1zm0-4zm0 5zm0-4zm0 2zm0 2zm0-3zm1-4zm0 3zm0 0zm0 1zm0-3zm0 3zm0-1zm0 4zm0-3zm0 1zm0-4zm0 4zm0-5zm0 2zm0-1zm0 6zm0 0zm0-6zm0 3zm0-4zm0 5zm0-1zm0-3zm0 3zm0-2zm0 2zm0-4zm0 6zm0-5zm0 1zm0 4zm0 1zm0-1zm0-6zm0 1zm0 0zm1 5zm0-6zm0 6zm0-6zm0 0zm0 6zm0-6zm0 2zm0 0zm0 1zm0-2zm0 3zm0-3zm0-1zm0 2zm0 5zm0 0zm0 0zm0-6zm0 2zm0-3zm0 6zm0-6zm0 5zm0 0zm0-3zm0-1zm0 4zm0-2zm0 4zm0-5zm0 0zm0 1zm0 2zm1 2zm0-3zm0 0zm0 0zm0 2zm0 0zm0-6zm0 3zm0 0zm0-2zm0-1zm0 4zm0-4zm0 1zm0 1zm0 1zm0 3zm0 0zm0 1zm0-2zm0-5zm0 1zm0 4zm0 1zm0-2zm0-1zm0-1zm0 4zm1-3zm0-1zm0 1zm0-3zm0 4zm0-2zm0 3zm0 2zm0-2zm0-5zm0 6zm0 1zm0-5zm0-1zm0 4zm0 1zm0 1zm0 0zm0-5zm0-2zm0 4zm0 3zm0-3zm0-1zm0 3zm0-3zm0 3zm0 1zm0-6zm0 1zm0 3zm0 2zm0-4zm0-1zm1 0zm0 1zm0-1zm0-2zm0 2zm0 5zm0 0zm0-4zm0-1zm0 5zm0-3zm0-1zm0 3zm0 0zm0-3zm0 2zm0-2zm0 3zm0-2zm0 0zm0 1zm0-2zm0 1zm1 1zm0-3zm0-2zm0 6zm0-5zm0 3zm0-1zm0 0zm0 0zm0-3zm0 6zm0-2zm0-4zm0 4zm0-3zm0 1zm0 3zm1-3zm0 5zm0-6zm0 2zm0 1zm0-1zm0 4zm0-6zm0 5zm0 1zm0-1zm0-6zm0 2zm0 5zm0-6zm0 5zm0-5zm0 0zm0 6zm0-7zm0 4zm0-2zm0-2zm0 1zm0 6zm0-1zm0-1zm0-2zm0 0zm0-2zm0 1zm0-2zm0 5zm0-5zm0 5zm1 0zm0 0zm0-3zm0-1zm0-1zm0 4zm0-1zm0 1zm0-4zm0 7zm0-5zm0-1zm0 0zm0 3zm0-1zm0 0zm0-3zm0 4zm1-4zm0 4zm0 3zm0-7zm0 5zm0-3zm0 1zm0 2zm0-1zm0-4zm1 1zm0-1zm0 3zm0-2zm0-1zm0 6zm0-3zm0-2zm0 5zm1-4zm0 0zm0-2zm1 6zm0-4zm0 0zm0 1zm0-2zm1 1zm26 4zm16-6zm-37 9zm-4 2zm-1-3zm-2 7zm0-5zm0-2zm-1 7zm0-7zm0 1zm-1 2zm0 3zm0 0zm0-4zm0 4zm0-6zm0 2zm-1-2zm0 1zm0 5zm0-1zm0 2zm0-7zm0 2zm0 4zm0-6zm0 0zm0 6zm-1-3zm0 1zm0-3zm0 3zm0 1zm0 1zm0-2zm0-2zm0-2zm0 3zm0 1zm0-4zm0 6zm-1-5zm0 6zm0 0zm0-1zm0-6zm0 1zm0 0zm0 3zm0 3zm0-1zm0 1zm0-4zm0-3zm0 4zm0-3zm0 3zm0-4zm0 1zm0 0zm-1 0zm0 2zm0-3zm0 5zm0-3zm0-1zm0 0zm0 1zm0 4zm0-3zm0-1zm0-1zm0 6zm0-6zm0 4zm0 1zm0-1zm0-1zm-1-3zm0 3zm0-4zm0 2zm0 1zm0-3zm0 6zm0-2zm0-2zm0 3zm0-2zm0 0zm0-2zm0 0zm0-1zm0 3zm0 0zm0-1zm0 5zm0 0zm-1-5zm0 3zm0-3zm0 2zm0-2zm0 5zm0-7zm0 3zm0 1zm0-1zm0 0zm0-1zm0 2zm0-1zm0 0zm0-2zm0-1zm0 0zm0 3zm0 1zm0 3zm0-5zm0-2zm-1 0zm0 3zm0 4zm0-2zm0-2zm0 3zm0-1zm0-1zm0 3zm0-4zm0 4zm0-4zm0-3zm0 4zm0 1zm0 0zm0-4zm0 4zm0-4zm-1-1zm0 0zm0 3zm0 3zm0 1zm0-5zm0 0zm0 4zm0-4zm0 0zm0 2zm0-4zm0 1zm0 5zm0-2zm0-1zm0-2zm0 6zm0 0zm0 0zm0 0zm0-3zm0-3zm0 6zm-1 0zm0-5zm0 4zm0-1zm0-5zm0 2zm0 0zm0 4zm0 1zm0-2zm0-4zm0-1zm0 4zm0-4zm0 4zm0-3zm0 1zm-1 0zm0 2zm0-3zm0-1zm0 3zm0 1zm0 2zm0 1zm0-7zm0 0zm0 1zm-1-1zm0 1zm0 0zm0 1zm0-1zm0 0zm0 1zm0-1zm0 1zm0 2zm0-2zm0-2zm0 2zm0 1zm0 3zm0 0zm-1 1zm0-4zm0 4zm0-5zm0 4zm0-3zm-1-1zm0 4zm0-6zm0 7zm0-1zm-1 1zm0-5zm0-2zm0 0zm0 4zm0 1zm0-5zm-1 6zm0-4zm-1-2zm-1 1zm0 5zm0-1zm-1 0zm0-5zm-3 4zm-1-4zm0 4zm-2 2zm0-5zm-1-1zm0 5zm-1-2zm0-2zm0-1zm-1 4zm0-3zm-1 4zm-2-2zm-1-2zm-1-1zm-3 0zm-1 1zm-1 4zm-1-4zm-4 0zm-1-1zm0 1zm-4 2zm-1-1zm-3 4zm-1-6zm0 7zm0-1zm-2-5zm-7 0zm-12 0zm24 10zm7-1zm3 1zm5-1zm5 0zm11 0zm1-2zm2 7zm1-7zm0 2zm0 4zm0-3zm1 2zm0 2zm0-1zm0-6zm0 7zm0-5zm1 4zm0-6zm0 6zm0-6zm0 4zm0 2zm0-5zm1 0zm0 5zm0-2zm0-2zm0-1zm0 5zm0-6zm0 1zm0 1zm0 5zm1-7zm0 7zm0-3zm0-2zm0 4zm0 1zm0-1zm0-4zm0 4zm0-4zm1 1zm0-1zm0 0zm0-2zm0 4zm0-1zm0-1zm0 4zm0-3zm1 3zm0-3zm0 1zm0 0zm0-2zm0 1zm0 3zm0-4zm0 5zm0-5zm0 1zm0-3zm0 3zm0-1zm0 3zm0 0zm1-5zm0 1zm0-1zm0 1zm0 5zm0-3zm0 1zm0 1zm0 2zm0-3zm0-2zm0-1zm0 5zm0-3zm0 1zm0 2zm0-4zm0 0zm0 1zm0 4zm0-1zm0 0zm0-3zm0 3zm0-2zm1 0zm0-3zm0 2zm0-2zm0-1zm0 1zm0 3zm0-3zm0 0zm0 3zm0-3zm0 1zm0 4zm0 0zm0-5zm1 0zm0 5zm0-5zm0 6zm0-6zm0-1zm0 4zm0-1zm0-3zm0 2zm0-2zm0 2zm1 1zm0 2zm0 1zm0-2zm0-3zm0 3zm0-1zm0 2zm0 1zm0-2zm1-2zm0 1zm0 0zm0-2zm0 5zm0-6zm0 1zm0 6zm0-2zm0-3zm0 1zm1-3zm0 2zm0 3zm0-3zm0 1zm0 4zm0-6zm0 4zm1 0zm0 2zm0-1zm0-6zm0 2zm1 1zm0 2zm0-4zm0 2zm0-2zm0 5zm0 1zm1-3zm0 2zm1 1zm0-1zm0-5zm2 0zm1 6zm0-3zm10 3zm1-3zm11 1zm-22 8zm-4 2zm0-3zm-1-2zm-1-2zm0 5zm0-4zm0 5zm0 1zm-1-7zm0 0zm0 3zm-1 2zm0-2zm-1-2zm0 3zm0 3zm-1-6zm0 2zm-1 0zm0 0zm0-3zm0 6zm0-3zm0 3zm0-4zm-1 3zm0 2zm0-7zm0 0zm0 1zm0 4zm0-1zm0 0zm-1 1zm0-2zm0-3zm0 1zm0-1zm0 0zm0 3zm-1-3zm0 2zm0-1zm0-1zm0 0zm0 1zm0-1zm0 7zm0 0zm0-1zm-1 0zm0-2zm0-1zm0 3zm0-5zm0-1zm0 5zm0 2zm0-3zm-1 0zm0-4zm0 2zm0-2zm0 7zm-1-7zm0 2zm0 5zm0-2zm0 1zm-2-6zm-1 0zm0 0zm-1 2zm-3 0zm0 2zm-14-3zm0 1zm-3-1zm-7-1zm-4 2zm0 6zm29 0zm3 2zm0 5zm0-2zm1-3zm0 0zm1 4zm1-1zm0-5zm0 6zm0-1zm1-3zm0 1zm0-3zm0 1zm0 2zm1-1zm0 4zm0 1zm0-3zm0-2zm0-1zm1 4zm1-3zm0 2zm0-1zm0 4zm0-2zm0-3zm1 0zm0-1zm0 3zm1 2zm0-5zm1 3zm0-1zm0 0zm0 2zm0 2zm1-7zm0 4zm0-4zm1 3zm2 4zm0-2zm2 0zm4-4zm2 2zm0-2zm20-1zm10 3zm-13 8zm-3-3zm-18 0zm-3 7zm-3-7zm-1 5zm0-5zm0 6zm0-3zm-1 1zm0 3zm-1 0zm0-1zm-1 1zm0-6zm-1 4zm0-5zm-1 7zm-1-3zm0-4zm0 0zm-2 4zm-3-4zm-1 2zm-4 2zm-12 0zm13 6zm0-2zm3 3zm0 1zm2 1zm1 1zm0-4zm0-2zm1 3zm1 0zm0 1zm0 1zm0 0zm1-3zm0 1zm0-1zm1 0zm0 1zm2 2zm0-4zm0 2zm1 4zm1-7zm4 3zm1 4zm16-4zm-16 7zm-4 3zm-1-3zm0 5zm-1 0zm0-4zm0-1zm-1-2zm0 0zm-1 6zm0-3zm0-1zm0-2zm-1 7zm-1-5zm-1 1zm-1 3zm0-5zm-1 1zm-2 5zm-4-3zm-1-1zm4 8zm4 2zm1 1zm1-6zm0 2zm0 2zm1-2zm2 2zm2 1zm1-4zm-1 7zm-1 2zm-4-1zm-1 0zm-10 4z"/>
<path stroke="#482677" d="M1149 823zm-14 7zm-43 25zm66-3zm11 1zm2 0zm-11 4zm-2-1zm-2 5zm-1-4zm-1 3zm-7-2zm0-1zm-62 5zm-123 5zm6-3zm19 0zm164 4zm5-4zm14 4zm10-2zm2 10zm-26-4zm-124 2zm-24 4zm-16-5zm-7 1zm-12 2zm-4-4zm-8 3zm0-1zm0-2zm0 0zm-2 1zm-1 5zm-7-4zm-7 11zm4-5zm8 2zm0 2zm2 0zm4 2zm2-3zm6 3zm13-2zm14 1zm157-3zm1 5zm0-6zm4 1zm6 5zm6-4zm-1 11zm-6-6zm-171 1zm-6 2zm-8 0zm-4-1zm-1 2zm-2-2zm-6 0zm-3 1zm-2-3zm-2 7zm-2-3zm-14-2zm6 10zm13 3zm0-4zm3 1zm1-1zm2 3zm1-6zm2 4zm3-1zm2-1zm2 4zm5 0zm1 0zm1-6zm2 1zm0 6zm2-6zm2-1zm1 7zm2-3zm1 0zm3-1zm1 4zm4 0zm148-6zm6-1zm9 6zm2 1zm7-6zm4 8zm-12 4zm-17 0zm-1-4zm-50 6zm-87-4zm-3 4zm-8-7zm-10 2zm0-2zm-2 0zm0 6zm-1-1zm-8 2zm0 0zm0-3zm-2 2zm0-1zm-1-3zm0 3zm-2-4zm0 2zm-3 1zm0-4zm-1 4zm0-3zm0 3zm-3 2zm-2-1zm0 1zm-2-3zm-2-2zm-1 6zm-2-1zm-2 1zm-8 4zm22 2zm3 0zm1 0zm1-4zm0 0zm4-1zm0 5zm4-2zm7 1zm5-4zm2 1zm1 5zm7 1zm8-5zm14 4zm7-6zm124 6zm1-6zm6 1zm2 1zm51 3zm-10 6zm-40 0zm-10-2zm-134 2zm-17-3zm-3 3zm-1-1zm-1 4zm-3-3zm-9 1zm-1-3zm-6 6zm0-7zm-3 2zm-1 5zm-1-3zm-1-4zm-1 0zm0 2zm0 4zm-2 0zm0-6zm-2 0zm-7 6zm-16-2zm20 5zm4 3zm2 2zm1-5zm1 6zm1-5zm1-2zm3 0zm7 3zm1 2zm5-3zm1 4zm1-5zm4-1zm0 0zm7 6zm8-3zm143 0zm16 1zm28-4zm15 7zm-39 8zm-1-1zm-2 1zm-7-3zm-5 3zm-5-3zm-3-2zm-5 1zm-8-2zm-110 0zm-12-1zm-1 4zm-4 2zm0-5zm-11 6zm-1-3zm-1 0zm-4-3zm0-1zm-6 1zm-5-1zm-2 3zm-1 3zm-3-1zm-2 0zm-5-1zm-3-3zm-9-1zm-4 3zm12 6zm4 6zm1-4zm0 1zm1 1zm5 1zm5-1zm4-3zm2 2zm1 0zm0 3zm4-7zm0 6zm5-6zm8 7zm1-5zm3 4zm2-3zm1 2zm3 2zm1-1zm4 1zm3 0zm31-2zm89 0zm12-5zm0 2zm3-2zm2 1zm5 2zm1-2zm21 5zm46 4zm-62 0zm-3 5zm-1-4zm-6 2zm-1 0zm-4-1zm0-4zm-4 7zm0-4zm-7-1zm-3 2zm-34 0zm-76 3zm-15-2zm-1-3zm-16 4zm-1-3zm0 0zm-1 4zm-2-2zm-2-2zm0-3zm0 0zm-2 6zm0-5zm-2 2zm-1-2zm-1 2zm0 1zm-1 2zm0-5zm-2 2zm-7-2zm-6 5zm-3 1zm-16-7zm0 14zm7-5zm6 1zm6 2zm0-1zm10-3zm1 0zm6 4zm1 2zm1 1zm3 0zm1-4zm1-2zm0 2zm4 1zm1 2zm2-2zm1 0zm2-4zm2 3zm0-2zm3 1zm1 1zm3 1zm3 1zm1-5zm0 1zm1-1zm2 4zm3 2zm5-1zm2-4zm10 3zm84 2zm29-3zm5 1zm1 0zm2 0zm0 0zm3 1zm3-1zm0-1zm12 2zm4-3zm15 1zm25 2zm-40 3zm-7 0zm-10 0zm0 3zm-2 0zm-4-2zm0 2zm-3-1zm0-1zm-1 4zm-2-3zm-9 2zm-1 1zm-2-2zm-90 0zm-12 3zm-2 1zm0-2zm-10-3zm-1 4zm-4-1zm-11-3zm-4-1zm-2 4zm-1 2zm-2 0zm0-5zm-5 0zm-1-2zm-1 4zm-7 1zm-3 0zm-3 1zm-12-3zm-1-3zm-10 13zm19 0zm3 0zm3 1zm1 0zm1 1zm1-6zm4 3zm1 1zm0-3zm1-1zm1 5zm0-6zm0 0zm1 0zm2 1zm1 2zm1 3zm2-1zm0 2zm1-6zm1 5zm0-2zm1 3zm3-6zm9 1zm1 1zm4-1zm8 2zm0 1zm2-4zm12 0zm103 4zm1-2zm0 3zm2-2zm0-1zm0 0zm3 1zm2 3zm2 0zm1 0zm0-5zm1 5zm2-2zm2-2zm1 0zm3 1zm12-4zm66 8zm-28 7zm-41-1zm-5-3zm0 2zm-2 1zm-3 0zm0 1zm-3-2zm0-4zm0 5zm-1-5zm-1 4zm0-4zm-1 6zm-1-4zm0 2zm-1 0zm-6 1zm-1 1zm-1-6zm-11 4zm-4 1zm-89-4zm-5 3zm-17-4zm0 4zm-3-2zm-1-3zm-3 2zm0 1zm-5 4zm-5-2zm0 0zm-4-2zm-1 4zm-2-3zm-1-2zm-2-2zm-2 0zm0 6zm0-1zm-2-5zm-2 6zm-1 1zm-3-1zm-3-5zm-3 5zm-18 4zm8 5zm7-3zm0-4zm2 5zm4-1zm6 2zm0 0zm0-6zm4 3zm0 0zm0-2zm6 6zm1-1zm3 0zm4 1zm2-1zm11-6zm2 6zm1-6zm4 4zm3-4zm3 5zm39-4zm72 3zm1-1zm3 0zm1 2zm0-2zm2 1zm1-3zm0 0zm1 4zm1 2zm0-5zm1-1zm1 3zm0 0zm1 3zm2-2zm2 2zm2-2zm0-4zm1 4zm1-1zm0 0zm1-2zm0 4zm4 0zm1-6zm61 2zm30 9zm-37 0zm-50 4zm-1-3zm-2-2zm-1 5zm0-3zm-4 3zm0-4zm-1 3zm-1-6zm-1 6zm-1 1zm-1-2zm0-5zm-1 2zm0 2zm-1-2zm-1 2zm0 1zm-1 2zm-1-4zm0 3zm-2-6zm-1 5zm-2 2zm0-6zm-1-1zm0 0zm-13 4zm-42-4zm-29 2zm-3-1zm-21 0zm-6 3zm-2-3zm-7 3zm-10-2zm-7 4zm-2-1zm0-2zm-1-1zm0 5zm0-1zm-3 1zm-1-5zm-2 2zm-1 1zm-1-2zm-2 1zm-1 0zm-4-1zm0 0zm-1-1zm-1 2zm0 3zm-1-3zm-2-2zm-1 2zm-9 3zm-5-5zm-11 6zm12 6zm2 0zm8 0zm2-5zm5 1zm1 1zm4-3zm1 0zm2 6zm0-4zm2 3zm4-5zm2 7zm2-7zm4 1zm0 6zm3 0zm2-6zm4 5zm2-2zm2 0zm2 3zm4 0zm3-4zm1 4zm4-4zm2-2zm4 0zm2-1zm4 1zm63 2zm25 4zm1-5zm1-1zm1 4zm1 2zm0-6zm2 6zm1-4zm1 2zm2 0zm2 2zm0-5zm2-2zm0 7zm2 0zm0-5zm0 3zm2 1zm0-4zm1 4zm3-5zm0 2zm1 1zm1-4zm1 7zm1-3zm1-1zm1-3zm1 6zm0-4zm1 1zm0-3zm1 3zm2 3zm1-1zm1 2zm1-6zm1 5zm1-6zm12 1zm15 1zm82 9zm-26 0zm-22 0zm-53 1zm-9-2zm-2 2zm-3-3zm-3 4zm-1-4zm-3 1zm0-2zm0 2zm-5 0zm0 3zm-1-4zm-1 3zm-1-2zm-1 1zm0 3zm-2-5zm0 2zm0 1zm0-2zm0 3zm0-1zm-1 3zm-1-6zm0 4zm-1-4zm0 2zm-2-1zm0 2zm0-1zm-1-2zm-1 1zm-3 2zm-2 2zm0-2zm-1-3zm-5 1zm-6-1zm-20 5zm-46-2zm-5-4zm-4 1zm-4 1zm0 4zm-6-6zm-5 5zm0-1zm-4-2zm-2-2zm0 5zm0-2zm-3-1zm-2 1zm0 2zm-7 2zm-4-5zm0 3zm0-3zm-1 2zm-1 1zm-4 2zm-1-1zm-7-1zm-1-5zm0 2zm-1-1zm-2-1zm-1 6zm-4 0zm-1-5zm-2 1zm0-1zm-2-1zm0 2zm-4 1zm-1-1zm0 4zm-2-2zm-24 5zm4 5zm16 0zm1-2zm2-4zm1 5zm1-1zm1-2zm1 5zm5-7zm2 2zm4-2zm1 1zm1 2zm0-2zm8 1zm1 4zm1 1zm3-7zm2 2zm1-1zm1 6zm1-4zm3 1zm1-2zm3 4zm3-3zm1 3zm1-6zm1 7zm5 0zm1-2zm2-4zm1 2zm2 0zm1 4zm3-7zm9 7zm2-2zm3-5zm2 1zm5 6zm3 0zm2 0zm65-3zm5-1zm1 4zm1-7zm1 7zm2-4zm1-2zm1 4zm0-3zm1 4zm1-5zm1 1zm1 0zm0 0zm2 4zm0 0zm0-1zm1-4zm0-1zm0 4zm0 2zm1-4zm0 4zm0-5zm1 2zm0-1zm1-1zm1 4zm1 1zm1-5zm0 6zm1-5zm0-1zm0 3zm0 1zm0 1zm3 0zm1-5zm0 6zm0-2zm2-3zm0-1zm1 2zm0 3zm1-5zm4 2zm7 3zm6 0zm99-2zm-8 8zm-67 0zm-31-1zm-6-1zm-2 5zm0-3zm-3 3zm-1-3zm-1 2zm0-6zm-1 5zm0 1zm-3-1zm-1 1zm-1 0zm-1-5zm-1 6zm0-3zm-2-1zm0 2zm-1-1zm-1-2zm-2-1zm-1 5zm-1-5zm-1 4zm0-4zm-1 1zm-1 0zm-2 2zm-3 1zm-35 2zm-31-6zm-14 5zm-1 0zm-3-5zm-1-1zm-8 2zm-4 2zm-10-2zm-3-1zm-7-1zm0 4zm-3-4zm0 1zm-2 0zm-1 1zm-7 5zm-3-7zm-3 0zm-5 7zm0-4zm0-1zm-5 0zm0 3zm-1-5zm-1 4zm0 3zm-8-2zm-31-3zm38 8zm4-2zm3 6zm2-2zm1 2zm1-3zm0 2zm4-5zm5 7zm0-4zm1 3zm2 1zm0-4zm1 2zm0-1zm0 2zm2-4zm1 1zm4 0zm1-3zm4 3zm0 1zm8-4zm1 1zm1 2zm3 0zm1 3zm2-4zm0 4zm1 1zm5-4zm0-3zm1 6zm1-1zm1-2zm8 2zm19-2zm23 2zm8-5zm2 2zm19-1zm9 1zm1-1zm5 4zm5-4zm0-1zm1 7zm0-4zm2 1zm2-1zm1 2zm2-5zm2 2zm0 2zm4 2zm2-3zm0-3zm1 7zm3-4zm1-3zm5 7zm47-6zm32 13zm-65-2zm-23 1zm-2-1zm-1 0zm-1 3zm-2-1zm0-5zm-1 6zm-2-2zm-2 0zm0 1zm-3-5zm-1 4zm-1 0zm-1 2zm0-6zm0 3zm-1 3zm0-2zm-1-4zm-3-1zm0 1zm-6-1zm-1 6zm-3 1zm-29-6zm-4 0zm-5 5zm-1-1zm-9 0zm-4 2zm-20-5zm-1 4zm-3 0zm-9 1zm-2-3zm-1-1zm-3-2zm-4 6zm0-4zm0-2zm-8-1zm-1 3zm-9 2zm0-3zm0-1zm0 1zm-6 1zm-3 2zm0-4zm-4 4zm-3-1zm-7 1zm-2-5zm-9 3zm-12 10zm19-5zm2 6zm0-6zm1 3zm2-1zm4 1zm1-3zm3 0zm2 3zm2 2zm7 2zm1-4zm1 0zm3 3zm1-5zm0 3zm1-1zm2-1zm4 1zm6 4zm2-4zm2-3zm0 7zm4-4zm0-2zm2 4zm4-1zm9-2zm8 0zm11 2zm4 0zm8 2zm6-5zm11 6zm21-6zm12-1zm1 6zm1-5zm4 0zm2 4zm1 1zm0-4zm0 0zm2-2zm0 2zm1 1zm0 0zm3 4zm2-6zm1-1zm4 1zm1 2zm0-3zm1 4zm2-3zm12-1zm116 6zm1-5zm75 9zm-27 2zm-16 2zm-66 0zm-7-2zm-38 1zm-47 1zm-1 1zm-4-3zm0 0zm-1-1zm-2 4zm-1-4zm-4 4zm-1-3zm0-1zm-2 1zm-1 3zm-1-6zm-1 3zm-1 1zm-2 2zm-6-1zm-4-6zm-24 4zm-18 3zm-19-2zm-10-3zm-1-1zm-7 1zm0-2zm-8 3zm0-2zm-6 6zm-2-4zm-3 1zm-2-4zm-4 7zm0-5zm-1-2zm-7 4zm-2 1zm0 2zm-2-4zm-1 0zm0 2zm-2 1zm-2-5zm0 2zm-2-1zm0 5zm0-6zm-6 3zm0 2zm-5-4zm0-2zm-1 2zm0 3zm-11-3zm-1 1zm-21-3zm16 8zm7 4zm1-4zm11 5zm1-2zm2 3zm7-3zm2 2zm4-5zm2 5zm3-2zm2-3zm1 3zm3-1zm1 5zm3 0zm0-7zm0 1zm2 6zm4-7zm0 6zm3-5zm1 1zm5 0zm9-1zm5-1zm1 7zm2-4zm4 2zm0 2zm3-6zm0 2zm2 4zm1-2zm8-2zm0 2zm1-5zm11 7zm6-6zm6 4zm1-4zm16 0zm1 1zm2 3zm5-4zm4 5zm2-4zm2 4zm0-4zm1 2zm2 1zm0-2zm2 0zm4-3zm2 3zm0 0zm0-3zm2 5zm1-3zm1 4zm2-5zm1 5zm0 1zm0-5zm1 1zm0 4zm3-7zm0 1zm1 1zm7-2zm3 1zm1 1zm16 4zm65-4zm11-1zm32 4zm21-4zm8 5zm39-4zm29 2zm9 0zm30 11zm-53-3zm-42 2zm-23 1zm-38 0zm-6-2zm-17-1zm-12-2zm-10-1zm-32 4zm-17-2zm-26-3zm0 4zm-2-2zm0-2zm-5 6zm-1-5zm-1 5zm0-5zm0-1zm-1 5zm-1-2zm-1 0zm0 2zm-1-1zm-1 2zm0-1zm-3-2zm-12-2zm-15 5zm-7-1zm-9-5zm-1 3zm-3 2zm-3 0zm-3-1zm-2-3zm-5 4zm-1-2zm-3 4zm-1 0zm-1-4zm-8 0zm-13-2zm0 0zm-1 5zm-1 1zm0-1zm-2 1zm0-6zm-2-1zm-5 4zm-1-3zm-6 2zm-1-2zm-4-1zm-1 6zm-1 0zm0-6zm-1 3zm-3-1zm-6 2zm-4-4zm-1 0zm-16 0zm-3 2zm-6 5zm18 7zm0-2zm15-3zm0 6zm1-6zm9 2zm1 2zm1-2zm0 0zm1 4zm1-6zm1 0zm1 5zm2 1zm0-7zm1 7zm5-3zm2 0zm7 1zm6-2zm0 2zm0-4zm1 2zm0 3zm1-2zm10 1zm2 0zm1 2zm2-6zm3 1zm1-2zm4 5zm0-2zm2 2zm5-1zm1 3zm7 0zm3-2zm6 0zm6-5zm2 4zm2 0zm4 0zm2 3zm1-3zm11 1zm1-1zm0-4zm6 4zm2-2zm1-1zm4 0zm0 4zm2 1zm4-6zm6 1zm1 6zm5-1zm18-5zm8 0zm31 4zm2-2zm4 0zm4 3zm15-6zm1 1zm9 2zm27-1zm1 5zm8-2zm0 2zm1-3zm13-1zm12 2zm11-4zm11 1zm2-1zm5 6zm7 0zm3-2zm7-1zm14-2zm5 4zm7-2zm15 1zm28-5zm-13 9zm-7-1zm-2 5zm-4 1zm-2-4zm-5 0zm-7 3zm-8 1zm-6 0zm-6-3zm-1-1zm-4 4zm-8 1zm-14-1zm0-2zm-2 1zm-4 2zm-1-5zm-6 2zm-4 3zm-8-7zm0 6zm-4-4zm-22 0zm-7 3zm-15-1zm-4 1zm-22-4zm-24 4zm-3 1zm-46-4zm-4 1zm-14 0zm-3 1zm-6-1zm-3 1zm0-2zm0 1zm-1-1zm-1-2zm-1 3zm-1 3zm-3-6zm-6 5zm0-3zm-5-1zm-10 1zm-3 3zm-3 1zm-4-4zm-4 1zm-5 2zm-1-1zm-4 2zm-4-6zm0 5zm0 1zm-1-2zm-5-4zm-2 5zm-1-3zm-1 4zm0-2zm-1-2zm-7 5zm0-3zm-2-2zm-4 0zm0 0zm-5 4zm-1 0zm0-6zm-2 4zm-2 3zm-1-2zm-1-3zm0 4zm-2 0zm-2-3zm-3 0zm-1 4zm-2 0zm-1-7zm-2 6zm-3-4zm-1 1zm-1-3zm0 5zm-1-1zm0 3zm-1-3zm-2 1zm-3-2zm-1 3zm0 0zm-1-4zm0-1zm-1 0zm-1 4zm-1-1zm-1 1zm-2-1zm-3 2zm-5-5zm-2 5zm0-5zm-1-1zm-1 4zm-2-1zm-1 2zm-1-2zm-1 2zm-3-1zm-2-4zm-4 14zm7-4zm17 1zm1 2zm4-1zm2 3zm1-5zm4 3zm2 0zm5-5zm1 6zm0-2zm0-2zm1 0zm2 1zm0-2zm1 2zm5-2zm1 2zm2 3zm2-4zm1-1zm1 5zm1-4zm3 0zm6-1zm4 6zm0-5zm4 4zm2-6zm2 3zm0 1zm1 0zm5 0zm1 0zm1-1zm7 1zm3-1zm4 3zm6-4zm3 3zm4 0zm1-4zm0-1zm6 6zm8-1zm3-1zm1-1zm3 0zm5 4zm0-3zm0-2zm1 5zm1-6zm3 6zm3 0zm3-2zm1-5zm2 0zm5 0zm1 2zm1 1zm44 2zm30-4zm2 6zm3 0zm6-5zm11 5zm15-2zm38 1zm1-3zm2 3zm8-2zm2-2zm9 3zm11-4zm2-1zm1 5zm5-2zm4 1zm1-1zm3-1zm5 1zm8-2zm11 4zm5-4zm0 6zm5-6zm4 0zm6 2zm4 2zm7 1zm12-4zm0 4zm2-2zm3 0zm27 10zm-16-3zm-5 2zm0 1zm-6 1zm0-2zm-4-1zm-2-3zm-6 0zm0 5zm-6-1zm-3 2zm-1-5zm-1 5zm0-2zm-5 0zm-2 1zm-3-5zm-1-1zm0 2zm0 5zm0-7zm-1 3zm-1 4zm-1-3zm0 0zm-2-2zm-3 5zm-2-4zm0 0zm-3-3zm-1 5zm-3 1zm0-4zm-1 5zm-1-2zm-1-2zm0-2zm-1 5zm-1-4zm-2 2zm-6 2zm0-6zm-2 6zm0-3zm-1 1zm-2 2zm0-5zm-3 4zm-1 0zm-2-1zm-2 3zm-1-4zm0 2zm-3 1zm-5-3zm-1-2zm-5 6zm-1-2zm0 0zm-1-3zm-3 4zm-2 0zm-1-4zm-4 3zm-3-1zm-7-3zm0 0zm-1 4zm-4-2zm-4 1zm-5 3zm-9-2zm-7-5zm-6 5zm-9-3zm-2 0zm-5 2zm-3 2zm0-3zm-2 4zm-4-3zm-15-1zm0 2zm-13-3zm-26-2zm-14 7zm-2-4zm-5 4zm-6-7zm-10 5zm-4 1zm-1-3zm0 0zm-6 0zm-2 1zm-4 2zm-3-2zm-1-1zm-3-2zm-1 6zm-1-6zm0 3zm-2-4zm-1 4zm-2-4zm-1 5zm-2-5zm-3 1zm-4 5zm-1-6zm-3 6zm-2-5zm-3 1zm0 0zm-2 3zm-2-1zm0-1zm-3-2zm-1 5zm0-1zm-1-1zm-1 3zm-4 0zm-3-1zm-1-4zm-1 5zm-1-6zm-1 4zm0-1zm-2 3zm-4-5zm-2 1zm-1 4zm-1-6zm0-1zm-2 5zm-9-2zm-1 4zm-1-2zm0-4zm-4 5zm-3 1zm-2-2zm-1-2zm-1-2zm-1 1zm-1-1zm-1 2zm-1 2zm-2-3zm0 2zm0 0zm-1-4zm-1 2zm0-1zm-3-1zm-1 1zm-2 3zm-1-1zm-1 3zm-2-3zm-1-1zm0 5zm-3 0zm-2-4zm-3 2zm-4-1zm-5-3zm-3 4zm-2-2zm-1-2zm-1 6zm-3-5zm0 2zm-4-4zm-6 0zm-21 10zm2-2zm5 3zm2 0zm3-2zm6 6zm7-1zm5-1zm2-1zm6 3zm4-1zm1-5zm5 0zm2 0zm4 3zm2-3zm1 2zm0-2zm1 6zm1 0zm1-7zm1 1zm0 2zm1-2zm2 0zm6 3zm1 1zm2-4zm0 5zm2-5zm3 1zm1 4zm2 1zm1-5zm3 0zm3-2zm0 2zm1 4zm1 0zm2 0zm1-2zm2-1zm0 0zm3 3zm1-1zm0 0zm2-3zm2 2zm0 0zm2 1zm1-3zm1 5zm3-3zm2-4zm2 3zm1-2zm6 4zm1 1zm0-5zm1 5zm4 1zm0-5zm2 4zm10-1zm4-3zm3-2zm0 7zm4-1zm0-3zm0-1zm1-2zm3 2zm2 0zm1 4zm4-6zm1 6zm1-3zm1-3zm4 7zm2-4zm6 1zm0-4zm5 5zm3 0zm3 0zm15 1zm3-5zm1-1zm10 3zm0 3zm1-1zm14-3zm8 3zm3-5zm5 4zm9 0zm0-4zm4 0zm6 0zm1 5zm3 2zm5 0zm8-6zm2 1zm2 3zm0-4zm1 4zm3-1zm1-2zm4-2zm3 0zm1 7zm5-2zm2-2zm4 2zm5-3zm4-2zm6 4zm3-2zm3 0zm1 0zm2 2zm5 2zm1-2zm2-4zm0 4zm2-4zm1 6zm0-5zm2 5zm2-2zm0-4zm7 7zm1-6zm1 0zm1 3zm2 3zm2 0zm0-1zm5 0zm0-5zm1 5zm1 0zm1-1zm0-3zm0 2zm2 3zm3 0zm2-2zm4 0zm6-1zm0-1zm4-3zm1 1zm4 0zm3 2zm0 2zm0-1zm1-2zm1 3zm2 0zm0-5zm3 7zm0-2zm1 0zm0-2zm2 2zm0-5zm1 0zm2 4zm4-2zm1 1zm1 2zm0-4zm1 4zm0-4zm2 2zm2 1zm0 3zm1-3zm1-1zm2 4zm6-2zm2 1zm1-3zm3 0zm2 1zm12 3zm4-7zm14 0zm2 15zm-2-3zm-6-3zm-16 0zm-4 0zm-2 0zm-1 6zm-4-4zm-1 0zm-11 4zm-2-4zm-2-2zm0 2zm-1 1zm-2-2zm-1 0zm-1 1zm-1 2zm0-1zm0-1zm-1 4zm-1-2zm-2-4zm0 6zm0-7zm-7 4zm0 1zm-1-1zm0-1zm0-2zm-1 1zm-2 5zm-1-3zm0 1zm-1-3zm-1 4zm0-4zm0 0zm-1-2zm0 4zm-3 0zm-1-1zm0-2zm-1 0zm-1 0zm0 2zm0-3zm-1 3zm-1-1zm0 5zm-1-6zm-1 5zm-1-4zm0-2zm0 2zm-1 5zm0-7zm0 2zm-1 0zm-3-2zm-2 0zm-1 7zm0-4zm-2 0zm-1 1zm0 2zm-2-2zm-1 2zm-2-1zm-2-4zm0 4zm-1 0zm0-5zm-1 0zm-1 3zm-3 0zm-2 0zm0-2zm-1 5zm0-1zm-1-2zm-1 2zm0 1zm-2 0zm-2-2zm-1-4zm-1 4zm-5 1zm-1-3zm0 5zm-1-4zm-1-2zm-1 6zm-2-7zm0 1zm-2-1zm-4 5zm0-1zm-1 1zm0 0zm-1-4zm-2 4zm0-5zm0 6zm-1-3zm0-2zm0 5zm-1-2zm-3-1zm0 4zm-2-7zm-3 0zm-1 6zm-2 1zm-2-3zm-3-4zm-1 4zm-1-3zm-1 5zm-1-2zm-2-2zm-2 2zm-2-3zm-3 0zm-4 1zm-3-1zm-1 4zm0-5zm-2 5zm-1 0zm-1-3zm-2 4zm-4-1zm-1-5zm-1 3zm-10-1zm-1 3zm-1-3zm-5 3zm-3-4zm-1 2zm-1 0zm-3 2zm-6-2zm-3 4zm-1-2zm-2-4zm-2 5zm-8 1zm-8-4zm-2 2zm-3-2zm-3 4zm-2-1zm-2-3zm-5 4zm-1-1zm0 1zm-5-5zm-3 2zm-17-4zm-2 6zm-2-1zm-1 2zm-3-6zm-2-1zm-14 6zm-1-6zm-1 5zm0-3zm-2 3zm-3-1zm-2-3zm-12-1zm-2 5zm-1 1zm-2 1zm-5-5zm-1 0zm0 2zm-1 0zm-6 3zm0-2zm-4-4zm0 4zm-3 0zm-2 0zm0-5zm0 0zm-1 2zm-1-1zm-3 6zm-1-2zm0-3zm-1 0zm0 5zm-1-3zm0-4zm-4 3zm0 3zm-2-3zm-4 0zm-2-1zm0-1zm0 6zm-2-2zm-1-5zm-4 5zm0 0zm0 1zm-4-6zm-1 4zm-2 3zm-2-1zm-1-6zm0 0zm-5 4zm0-1zm-1 0zm-1-1zm-1 2zm-4-2zm0 4zm-4-5zm0 6zm0-4zm-3-2zm0-1zm-2 7zm0-6zm0 2zm-2 0zm0 4zm-3-4zm0 4zm0-1zm0-4zm-5-2zm0 3zm-2 4zm-1-5zm-1 1zm0-2zm-1 0zm-2 5zm-2-3zm-2 1zm-2 1zm-1-2zm-7 3zm-1-5zm-12 5zm14 3zm5-1zm6 7zm0-6zm13 2zm2 0zm0 2zm2 2zm1-1zm1 0zm1 0zm1 0zm4 0zm0-3zm2-1zm1 2zm2-4zm0 1zm0 3zm2 2zm5-5zm1 6zm0-7zm0 3zm2 4zm1-4zm0-3zm2 6zm1-1zm3-3zm1-1zm1 3zm2-4zm3 6zm1-1zm0 2zm0-7zm3 2zm0 2zm1 1zm6 2zm0-2zm1-3zm5 5zm1 0zm0-5zm0 3zm5-5zm0 5zm1 2zm1-7zm2 7zm2 0zm0-4zm1 4zm4 0zm0-3zm3-1zm1-3zm0 2zm1 0zm0 3zm3-3zm2-1zm1 5zm3-5zm0 1zm2 3zm0 1zm1 0zm1-6zm0 6zm2-5zm1 4zm3-4zm6 3zm0-2zm12-1zm0 2zm1 4zm0 0zm11 0zm4-5zm5 1zm5 2zm9 2zm1-5zm8 0zm2 0zm2 1zm0 2zm1-1zm7-2zm5 1zm2 4zm1-2zm2-1zm2 2zm6-3zm4 4zm0-7zm2 2zm19 2zm1-4zm1 1zm7 2zm0-3zm1 0zm5 7zm1-2zm6 1zm5 1zm4-2zm1-5zm0 3zm2-2zm0 1zm0 3zm2-1zm3-2zm1 5zm1 0zm2 0zm0-3zm4-2zm1-1zm1 4zm2 0zm1 1zm0-5zm3 1zm6 0zm2-2zm0 1zm1-1zm2 7zm5-4zm1-2zm1-1zm2 5zm2 1zm5 0zm0 1zm1-1zm5 0zm0-6zm1 0zm0 5zm0-2zm0 3zm2-1zm2 0zm1 0zm0-3zm0-2zm1 3zm0 4zm1-5zm1 0zm0-1zm0 5zm2 0zm1-6zm2 0zm0 4zm1-2zm0-1zm0 2zm1-1zm0 3zm1-5zm0 6zm0 1zm1-7zm1 7zm0-1zm1 1zm0-1zm0-2zm1-2zm1 1zm0-2zm0 3zm2 2zm1-2zm0-1zm0-1zm0-2zm3 0zm0 0zm3 1zm0 5zm2 0zm3 1zm0-1zm3-2zm0-2zm1 2zm0 3zm4-4zm0 0zm1-1zm0-2zm0 2zm2-2zm0 7zm1-6zm0-1zm1 2zm0 0zm0-2zm1 5zm0-2zm0-1zm0 2zm1-1zm0-2zm1 4zm0 0zm0 2zm1-1zm1-5zm1 4zm0-3zm0 4zm0-5zm1-1zm0 5zm3-1zm0 3zm0-2zm1-4zm0-1zm0 6zm7 1zm1-2zm2-3zm0-2zm2 4zm0 2zm1 1zm1-4zm1 4zm0-2zm0-1zm2-4zm2 5zm0-4zm1-1zm0 3zm2-2zm2 0zm1 0zm2 2zm0 3zm1-6zm3 2zm1-1zm0 1zm2 5zm3-7zm7 5zm6-5zm13 10zm-30 5zm-2-3zm-3-2zm-1 4zm-5 1zm-1-4zm0 1zm0-2zm-2 2zm-1-2zm-1-1zm0 2zm0-3zm-3 7zm0-6zm-1 1zm-3 1zm-3-1zm-1 0zm0 0zm-1-2zm-1 6zm-5-4zm0 3zm-2-1zm0 3zm-1-2zm-1 0zm0-5zm0 7zm0-6zm-1 1zm0 4zm-1-4zm-1 4zm0 1zm0-6zm0 0zm0 0zm-1 5zm0-4zm-1-2zm-3 6zm0 1zm0-4zm-1 4zm0-6zm-5 2zm-1-3zm-1 4zm-1 3zm0-1zm0 0zm-1-1zm0-1zm-3 0zm-1 3zm-1-5zm-1 5zm-1-1zm0-2zm-1 3zm-1-6zm-1-1zm-1 2zm0 0zm-1 1zm0-2zm-1 2zm-2 2zm0-2zm-2 4zm-1 0zm0-2zm0 2zm-1-4zm0 4zm-1-3zm-1 0zm0 3zm-2-6zm-1-1zm0 3zm0-2zm-1 5zm-1-1zm0-3zm-1-1zm-1-1zm0 2zm-1 0zm0-2zm-1 3zm-1-2zm0 3zm0-1zm0 0zm-1 3zm0 0zm-1-4zm0 1zm0 3zm-1 1zm-1-7zm0 6zm-1 1zm-1-5zm-2 3zm-1 0zm-2 1zm-2-3zm-1 1zm-1 0zm-1-2zm-1-2zm-3 5zm-1-4zm0 1zm0 3zm-1-1zm0 1zm-3-2zm-1 1zm-1-2zm-1 2zm0-2zm-3 0zm-4 4zm0 1zm-2-2zm-3-4zm-2 2zm0-1zm-6 2zm-5-1zm-1 4zm-1-6zm-9-1zm-1 1zm-3 1zm-2 5zm-10-4zm-1 1zm-2 3zm-5-6zm-1 4zm-1 2zm0-2zm-2-4zm-2 2zm-5-1zm-3 0zm0 2zm-2 0zm-1 1zm-3-1zm-4-2zm-1 3zm-1-5zm-3 0zm-1 7zm0 0zm-3-4zm0-1zm-5 3zm0 1zm-4 1zm0-3zm-3-3zm-2 6zm-2-6zm-2 6zm-1-7zm-1 3zm-2 3zm-2-1zm-1-3zm0 4zm-1 0zm0-3zm-6-1zm-6 1zm-3 4zm-6-3zm0-3zm-3 6zm0-7zm-1 1zm-1-1zm-9 2zm-6 4zm0-2zm-1-4zm-3 5zm0-5zm-1 6zm-1 1zm-3-5zm-1-1zm-1-1zm-2 3zm0 1zm0-1zm-1 1zm-2 2zm0 1zm-1-6zm-5-1zm-1 7zm-3-2zm-2 2zm0-4zm-3 3zm-1 0zm-2-6zm0 5zm-2-2zm-3 2zm-2-3zm-2 2zm-3-3zm-1 1zm0 2zm-3 0zm0-2zm-1 2zm-1-2zm0 5zm-2-7zm-1 7zm-3-3zm0 3zm-1-7zm-2 2zm-1 3zm-1-5zm-2 2zm-1-1zm-2 2zm0 1zm-1-3zm-1 5zm0-4zm-1-2zm0 2zm-1 3zm0-5zm-1 5zm0 2zm-1-1zm0-2zm-1-4zm-1 2zm0 5zm-2-7zm0 7zm0-6zm-4 6zm0-3zm0-1zm-4 2zm0-3zm-2 3zm-2-4zm0 5zm-1-5zm-1 2zm0 4zm-1-1zm-1-3zm0 0zm0 1zm-1 3zm-1-3zm-5 3zm0-4zm-3 4zm-1-1zm-4-1zm0-3zm-1 3zm0-5zm0 1zm-1 6zm-3-1zm-3 0zm-3 0zm-2-6zm-2 5zm0-3zm-1 2zm-1 0zm-2 2zm-3 1zm-8-1zm-7-6zm-12 9zm12 3zm17 1zm8 2zm5 0zm0-4zm2 2zm2-1zm2-3zm1-1zm3 7zm2-5zm1-1zm0 1zm0 5zm2-1zm3-3zm1 4zm0-1zm1-3zm1 2zm0-1zm0 1zm1 1zm1 0zm0-3zm1 1zm1-1zm1 1zm1-3zm1 2zm4-1zm0 0zm1 3zm0 2zm2-7zm0 7zm2-4zm2 2zm1 1zm1-4zm1 4zm2-6zm2 7zm0-6zm1 0zm0-1zm1 2zm2 5zm1-6zm2 5zm2 0zm2-4zm3 3zm1 2zm3-3zm0-4zm3 5zm2 1zm1 1zm5-1zm2-2zm1-1zm1-3zm2 2zm0 3zm1-1zm2 2zm0-4zm3 5zm2-1zm6-2zm0 3zm1-5zm2 1zm0-1zm2 0zm0 0zm1 4zm4-4zm2 1zm3 4zm2-5zm1 1zm2 2zm8 1zm8-4zm4 5zm3-2zm2 2zm0-5zm4 3zm9-2zm1 3zm1-2zm1-1zm4 0zm1-1zm0 2zm0-2zm2 4zm0-1zm8-2zm1 1zm1-1zm1-3zm0 1zm5 0zm1 3zm0-3zm3 6zm5-4zm1-1zm0-2zm1 5zm2-3zm8 1zm0 3zm2-1zm2 1zm10 1zm0-1zm4-2zm2-2zm5 3zm1 0zm1 2zm0-2zm5 1zm2-6zm1 3zm1 2zm2-3zm0 2zm3-3zm0 3zm6-1zm1 2zm1 1zm6-5zm1 5zm0-6zm1 6zm8-3zm3-3zm1 3zm0 2zm4-1zm3-3zm1-1zm6 0zm0 4zm4 3zm6-6zm2 6zm0-1zm0-6zm2 7zm0-5zm1-2zm1 1zm2 5zm0-1zm1-1zm1 0zm1 3zm0-6zm0 2zm1 2zm0-2zm1-3zm0 2zm3 1zm0-3zm1 3zm0 1zm1 2zm1-1zm1-3zm1-2zm2 3zm2 3zm1-3zm0-1zm0 0zm0-2zm1 3zm0 0zm1 1zm2-2zm1 5zm0-4zm1 4zm0-5zm0 3zm1-4zm1 1zm0-1zm1 0zm0 3zm0 3zm3 0zm1-3zm2 2zm1-6zm1 2zm0 3zm2 1zm1 0zm0-3zm2 0zm2-3zm1 6zm1-6zm4 4zm0-2zm1-2zm1 1zm0 4zm1-1zm1 1zm1-3zm0-2zm2 4zm1-4zm0 6zm1-2zm1 1zm1 1zm3-3zm6-2zm0 3zm4 0zm2-1zm1 0zm2-3zm2 2zm20 1zm-5 10zm-17-3zm-1-1zm0 1zm-2-1zm-8 0zm0 0zm-2 3zm-6-1zm-1 3zm0-4zm0 0zm-2 4zm0-6zm-2 4zm-2-2zm-1 3zm-3 0zm-7 0zm0-4zm-1 0zm0 4zm-5-4zm-1 6zm0-5zm-1-1zm-1 0zm-2 1zm0 0zm-2-2zm0 2zm-1 5zm-2-7zm-1 3zm-2-2zm0 0zm-1 2zm0 2zm-1-4zm0 3zm-6 1zm-3-3zm-1-2zm0 0zm-1 6zm-1-4zm-6 2zm-1 3zm-2-1zm-1-2zm-3-4zm-1 5zm-2-2zm-3-1zm-1-1zm0 5zm0-1zm-3-5zm-3 3zm-1 4zm0-7zm-2 3zm-2-2zm-10-1zm-2 0zm0 2zm-2-2zm0 5zm-3-4zm-3 6zm-1-6zm0 6zm-1 0zm0-2zm0-5zm-1 5zm-2-5zm-2 0zm-3 1zm-3 5zm-2-4zm-1 1zm0-1zm-2 4zm-3-4zm0-1zm-2 4zm-3 0zm0-3zm0 4zm0-1zm-5-5zm-1 2zm-2 3zm0-3zm-1 1zm-2 4zm-3-6zm-1-1zm-4 0zm-2 3zm0 3zm-2-3zm-1 3zm-4-3zm-3 0zm-2-2zm-11 5zm-2-3zm0 3zm-4 1zm-1-2zm-3-1zm-3 2zm-4 0zm-2-4zm-4-1zm-8 3zm-3-3zm-3 4zm-2-4zm-9 1zm-1 2zm-12-2zm-3 0zm-10 4zm-7-4zm0 3zm-2-2zm-1 0zm-2 0zm-2-2zm-6 3zm0 2zm-2-2zm-1-2zm-3 0zm-3 2zm-1 0zm0-1zm0-1zm-2 3zm0-4zm-1 6zm-3-1zm-1-2zm-3 2zm-1-4zm0-2zm-4 4zm-1-1zm-4 1zm0-2zm-1 3zm-5 1zm-3-1zm-1-3zm-3 5zm-1-5zm-3 1zm0 2zm0-5zm-1 7zm0-2zm-1-2zm-5 3zm0-2zm-3 1zm-1-5zm-1 7zm0-7zm-1 3zm0 3zm-2-2zm-1 0zm-2 2zm-1-6zm-2 3zm0-1zm-1 5zm0-6zm-3-1zm0 2zm-1 4zm0 1zm-4-7zm-1 2zm-1 2zm0-2zm-2 4zm-1 1zm0-5zm-1-2zm-4 2zm-3-2zm0 7zm-1-5zm-2 3zm0-3zm-2 0zm-2 5zm-2-6zm-3 2zm-1-2zm-3 0zm-23-1zm16 14zm11-1zm1-3zm5 4zm3-6zm6 2zm1-1zm1 5zm0-4zm0 2zm1-4zm2 2zm2 0zm3 5zm1-7zm0 4zm3-3zm1-1zm1 6zm1-6zm1 6zm0-6zm1 7zm2-6zm2 1zm1 3zm0-5zm1 5zm0 1zm1-2zm0 0zm1-2zm0 2zm1 2zm0-4zm0 5zm2-6zm0 4zm3-4zm0 5zm1-2zm0-4zm0 2zm1 4zm1-6zm2 3zm5-2zm0 4zm3 0zm2-3zm2 1zm0-3zm3 5zm1 2zm1-2zm1 1zm3-2zm0-2zm2-1zm0-1zm5 1zm0 0zm0 2zm2 4zm5-3zm6-1zm1-3zm2 6zm2 1zm2-3zm2-4zm1 3zm1-3zm2 3zm2-1zm0-2zm1 0zm2 6zm2-6zm4 0zm0 6zm2-6zm1 2zm1-2zm2 4zm4-4zm2 1zm2 3zm2-1zm3 0zm4 3zm2-3zm4 2zm1-2zm6-3zm7 2zm5-1zm1 6zm1-5zm0 5zm2-2zm15-1zm0 0zm2-3zm2 5zm7-6zm2 3zm1 3zm0-6zm4 2zm1 4zm2-4zm0 5zm9-3zm6 0zm0-3zm3 6zm7-7zm1 1zm9 2zm2 3zm6-4zm1 3zm0-3zm2-2zm3 7zm3-6zm3 2zm4 0zm5 4zm0-6zm0 0zm1 1zm1 4zm0 1zm1-6zm10 5zm6-4zm17 1zm0-1zm2-1zm1-1zm0 1zm2 6zm0-6zm1 0zm2 5zm2-2zm2 2zm1-1zm1-3zm0 5zm0-7zm3 5zm5-1zm5 2zm1 0zm1-6zm1 3zm3 4zm0-5zm4 4zm3-3zm8 0zm1-3zm5 7zm2-3zm1 0zm10-1zm5-3zm0 6zm2-2zm3-4zm2 4zm3-3zm9 6zm1-7zm43 9zm-44 1zm0 2zm-27-3zm-6 2zm-2-3zm-2 2zm0 0zm-1 4zm-2-3zm-6-1zm-2-1zm-11 1zm-2 5zm-5-1zm-4-5zm0 3zm-2-4zm-5 7zm-1-4zm-3-2zm-9 2zm0-2zm-8 6zm-4-2zm-6-4zm0-1zm-6 1zm-1 1zm-5 1zm-1 4zm-1-3zm-6 1zm-3-2zm-1 4zm-4-7zm-5 5zm-6 2zm-1-7zm0 6zm-2 0zm-8-6zm-3 0zm-4 4zm0-2zm-3 3zm-2-4zm-5 1zm-2 4zm-4-4zm-1 4zm-1-6zm0 6zm-1-6zm-2 5zm-2-4zm-2 1zm-1 0zm-1 0zm-1 0zm-1 5zm-1-6zm-2 4zm-4-4zm-11 1zm-1 5zm-1-1zm-2-6zm-1 1zm-1 3zm-11-4zm-3 6zm-2 1zm-2-7zm-1 1zm-1 3zm-15-3zm-3 2zm-4-2zm-4-1zm-4 7zm-1-4zm-3-1zm-1-2zm-1 2zm-1 4zm0-2zm0-1zm-2-3zm-2 0zm-2 4zm-1 3zm-2 0zm0 0zm-2-6zm-5 2zm-2-2zm-2 3zm-2 1zm-1-4zm-8 4zm-3-5zm0 3zm-1 1zm-2 3zm-2-3zm0 3zm-4-7zm-3 3zm-2 0zm0-2zm-2 5zm-1-6zm-1 5zm-1-3zm-1-2zm-2 3zm0-2zm-1 5zm-1 0zm0-5zm-2 4zm-2 2zm-2-2zm0-2zm0-3zm0 3zm-2-3zm0 5zm-1-3zm0 5zm-1-1zm0-2zm-1-2zm-1 5zm0-7zm-1 0zm-3 6zm0-3zm-1-3zm-1 4zm0-3zm-1 1zm-1 1zm-1 0zm0 2zm-2-4zm0 5zm0 0zm0-4zm-2 5zm-1-6zm-1 3zm-1 2zm0-6zm-3 7zm-1-4zm-1-3zm-1 6zm0-2zm0-1zm-3 1zm0 1zm-1-3zm-4 5zm-4-2zm-1-3zm-2-1zm0 6zm0-2zm-1 1zm-1-1zm-3 2zm-5-3zm0 2zm-1-3zm-6 1zm-1-1zm-29 2zm35 3zm3 1zm3 3zm0 0zm2-1zm2-1zm2-1zm0-1zm1 7zm3-3zm5 1zm1 2zm4-2zm0-5zm0 4zm0-2zm3 1zm0 2zm2-3zm1 1zm0 4zm0-7zm1 4zm0-4zm1 7zm0-7zm0 5zm0 2zm1-5zm0 5zm1-3zm0-3zm0 1zm0 5zm2-2zm0-5zm0 2zm1 5zm2-7zm0 6zm0-4zm0 1zm0 0zm1 2zm0-5zm1 3zm0 1zm0 3zm1-4zm0 2zm0-3zm0 0zm2-2zm0 1zm0 2zm1 0zm0 3zm1-2zm0-2zm1-2zm1 7zm1-5zm0 1zm0-2zm0 3zm1-3zm1 1zm2 4zm0-4zm0 2zm0-4zm1 3zm0 3zm0-5zm1 6zm1-4zm0-1zm0 1zm1-3zm0 1zm0-1zm2 1zm0 4zm1 1zm1 1zm2-4zm0 1zm1 3zm1 0zm1-6zm0 6zm1-5zm0 4zm0-3zm4 4zm2-7zm2 1zm6 1zm2 4zm0 0zm3-1zm1-1zm0-1zm1-2zm2-1zm1 1zm4 3zm1 2zm1-1zm1-5zm2 0zm2 4zm0-2zm0 5zm2-3zm3 0zm1-4zm1 6zm7 0zm0 1zm2-2zm5-2zm4 3zm5-2zm14 2zm5-1zm2-2zm1 0zm2 4zm2-4zm3-2zm3 0zm1 5zm5 0zm5-4zm8 5zm1-5zm1 2zm7-1zm0-3zm6 7zm5-5zm2 1zm13 2zm2 2zm5-1zm2 0zm18-6zm6 3zm9-3zm0 0zm5 5zm0 2zm2-7zm5 2zm10 1zm8 4zm14-1zm2-2zm14 3zm1-2zm3-3zm32 1zm1-2zm3 2zm17 1zm22-2zm-34 13zm-5-3zm-19-4zm-29 5zm-8-1zm-1 1zm-32-5zm-7 3zm-8-1zm-1 0zm-5 1zm-1 0zm-15-2zm-20 3zm-7-3zm-1 3zm0 2zm-3-3zm-1-2zm-6 6zm-1-4zm-1-3zm-2 2zm-3-2zm-3 3zm-1 0zm0 4zm-10-6zm-2 0zm-1 0zm-2 6zm-8-7zm-1 5zm-11 0zm-5-5zm-5 3zm-9 2zm-5-4zm-3 1zm-7 1zm-2 4zm-1-3zm-2-1zm-1 4zm-1-1zm0-5zm0 0zm-1 5zm-3-3zm-2 3zm-3-4zm-3 0zm-5 3zm-1-5zm-1 1zm-3 6zm-1-7zm-2 7zm0-1zm-1-2zm0-3zm-2 0zm0 3zm-1-4zm-4 1zm-1 0zm-2 6zm-1-2zm-2-3zm-1 1zm-2 0zm-2 2zm-2 0zm0 2zm-1 0zm0 0zm0-4zm-2-1zm0 5zm0-3zm0-4zm-2 3zm-1 1zm0 0zm-1 1zm0 2zm-2-3zm0 0zm0 3zm0-3zm0-3zm0 4zm-2-2zm0 4zm-1-2zm0-1zm0 1zm0-4zm-1 6zm0-1zm0-1zm0 1zm-1 0zm0 1zm-1-6zm0 2zm0 2zm0-5zm0 1zm-2 2zm0 0zm0-1zm-1-2zm-1 0zm0 0zm0 7zm-1 0zm-1-7zm-1 3zm0 1zm0-1zm0-3zm0 4zm-1 2zm-1 0zm-1-3zm0 4zm0 0zm-1 0zm-1-3zm0-4zm0 3zm-1-2zm0-1zm-1 1zm0 5zm-1-4zm-1 2zm0 2zm-1-5zm-3 5zm-5-6zm-1 3zm-1 2zm-2-4zm-2 6zm-1-1zm-3-4zm-4 3zm-1 2zm-2 0zm0-7zm-2 2zm-16 4zm10 3zm9 6zm2 0zm1-6zm4 1zm0 4zm2-4zm2-2zm3 0zm1 5zm1-1zm1-3zm1-1zm0 3zm1 2zm0-5zm2 2zm1 4zm3-3zm0-2zm2 2zm0 0zm1 0zm0 4zm1-6zm0 1zm0-1zm2-1zm0 3zm0-1zm1-2zm0 6zm1-4zm0 5zm1-4zm0 4zm1-3zm0 0zm0 2zm0-2zm1 2zm0-4zm1 5zm0-7zm0 5zm1-2zm0 4zm0-4zm0 4zm1-4zm0-2zm0 3zm1-4zm0 7zm1 0zm0-1zm1 0zm0 0zm0 1zm1-3zm1 3zm0-3zm0 2zm1-6zm1 1zm0 2zm1 0zm0-2zm1 6zm0 0zm1-2zm0 0zm1-4zm0 3zm0-2zm0-2zm0 1zm1 0zm0 3zm1-2zm1 1zm0-1zm0 2zm0 2zm0-5zm1 6zm0-7zm0 0zm2 4zm0-2zm1 4zm0-4zm0 0zm1 0zm0-2zm0 2zm1-2zm0 5zm1-5zm1 6zm0 1zm5-7zm0 0zm5 1zm0 3zm0 0zm2 3zm1 0zm0-1zm3-5zm3-1zm0 1zm1-1zm0 7zm12 0zm0-1zm0-6zm1 2zm0 3zm3-1zm0-2zm0 5zm0-3zm1 2zm2-5zm1 4zm3-5zm3 6zm1-4zm3 0zm1 2zm2-1zm1 2zm20-4zm4 5zm0-6zm4 0zm2 0zm5 0zm15 0zm3 2zm8 5zm16-5zm1 4zm11-5zm6 6zm5-7zm5 6zm8-5zm19 4zm2 0zm10-4zm16-1zm19 3zm12-1zm19 5zm5 8zm-70-1zm-1-4zm-4-2zm-34 6zm-16-2zm-13 0zm-9-1zm-13 0zm-12-3zm-3 3zm-4-3zm-2 1zm-2-1zm-5 0zm-13 5zm-3-3zm-1 2zm-8-3zm-6 6zm-2-6zm-4 1zm-2 1zm0-1zm-1 2zm-1 2zm-2-5zm-7 3zm0 1zm-1 0zm0 2zm-1-2zm-6-4zm-1 0zm-3 4zm-1-2zm-6-1zm-1-2zm-2 7zm-1-2zm-3-3zm-1 2zm-1 0zm-2-1zm0 3zm0-1zm0 0zm-1-4zm0 5zm-1-1zm-2 2zm0-4zm-1-3zm0 1zm0 1zm0-1zm-2 1zm0-2zm0 4zm0-1zm-1 2zm0 2zm0-3zm0-4zm-1 6zm0 1zm-1-3zm0-1zm0 1zm0 0zm0-1zm-1 1zm0-2zm0 1zm0 2zm-1-1zm0-2zm0 5zm0-7zm0 4zm0 0zm-1 2zm-1-3zm0 0zm-1-2zm0 1zm0 3zm-1 1zm0-5zm0 5zm0-4zm-1 3zm0 2zm0 0zm0 0zm0-3zm0 1zm-1 1zm0 0zm0-1zm-1-3zm0 3zm0 0zm-1-1zm0-3zm0 0zm0 0zm0-1zm-1 4zm0-2zm0 1zm-1-1zm-1 1zm0 2zm0-2zm0 2zm-1 0zm0-2zm-1 3zm0 0zm0-2zm0-4zm-1 1zm-3-1zm0 2zm-2 5zm-1-3zm0 1zm0 1zm-2-3zm-1 4zm-1-4zm-2 1zm0 1zm0 1zm-1 0zm0-5zm0 3zm-2-4zm-1 3zm-3 3zm0-5zm-2-1zm0 2zm0 2zm-2-4zm-1 3zm-3 1zm0-1zm0 1zm-1-3zm-5 2zm-5-2zm11 9zm5 1zm0 0zm1-3zm0 3zm1-3zm0 2zm2 1zm1 1zm1 2zm2-1zm1-3zm0 2zm1 1zm3 0zm0-3zm2 1zm1-2zm0-1zm1 7zm1-2zm1-1zm0-3zm2 0zm0 0zm1-1zm0 5zm0-3zm3 1zm0 0zm0 3zm0-5zm0 1zm1 2zm0 1zm2 1zm0 0zm0 1zm0 0zm1-4zm0 4zm0-2zm1 2zm1-2zm0-3zm0 4zm1 1zm0-7zm0 7zm0-5zm0 4zm1 1zm1-5zm0 5zm0-2zm0-5zm0 0zm1 2zm0 3zm0-5zm0 2zm1-1zm1-1zm1 0zm0 4zm0-2zm0 2zm1 1zm0 0zm0-1zm1 1zm0-1zm0-3zm0 5zm1-1zm0 2zm0-2zm0 1zm0 0zm0-3zm0 1zm0 0zm0-4zm0 2zm1 2zm1 3zm0-2zm0-5zm0 4zm1 2zm0 1zm0-7zm0 4zm0-2zm1 3zm0-1zm0 1zm0-5zm0 2zm0 3zm0 0zm0 1zm1-5zm0-1zm0 0zm0 5zm0-2zm1-3zm0 4zm1 2zm0-3zm0 1zm2-2zm0 1zm0 0zm2 2zm0 1zm0-5zm0 5zm1 1zm0-5zm0 4zm0-3zm0-1zm2-2zm1 1zm0 4zm0-3zm1 2zm0-2zm1 3zm5-2zm1 3zm2-5zm1 1zm1 5zm1-5zm1-2zm1 2zm0 5zm2-3zm7-3zm1 5zm2-2zm0 1zm2 2zm1-6zm0 1zm3 0zm4 3zm0-1zm1-3zm1 1zm3 3zm0-5zm4 3zm2-3zm32 7zm20-3zm9 3zm0-7zm10 6zm16-6zm0 5zm1 2zm116-2zm-114 4zm-13 4zm-5-4zm-1 0zm-19-1zm-21 5zm-4 2zm-26-7zm-8 0zm0 4zm-6-2zm-2 2zm-2 0zm-1-4zm-2 2zm-4 1zm0-1zm-1-2zm-13 3zm0-1zm-1 5zm0-2zm0 0zm-1-5zm-1 4zm-1 2zm-1-3zm-1-1zm-2-2zm-2 6zm0 1zm0-3zm0 3zm-2 0zm0-4zm0 3zm-1-1zm0 1zm0-1zm-1-2zm-1 1zm0 0zm-1 2zm-1 1zm0-2zm-1-4zm0 2zm0 0zm0-1zm0 5zm-1 0zm0-1zm0-1zm-1-5zm0 0zm0 6zm0-1zm0-2zm0-1zm-1 0zm0 5zm0-5zm0 0zm0 2zm-1 2zm0 1zm0-5zm-1 3zm-1-3zm0 5zm0-5zm0-2zm0 2zm-1-1zm0 3zm0-1zm0-3zm0 1zm0 4zm-1-2zm0-1zm0 2zm0 0zm0 3zm-1-6zm0 5zm0-2zm0-1zm0 2zm0 2zm0-2zm-1-3zm0 3zm0 2zm0-2zm-1-1zm0 1zm0-4zm0 4zm0-5zm0 4zm0 2zm0-6zm-1 7zm0 0zm0-5zm0 0zm0-2zm0 5zm0 1zm0-2zm-1-4zm0 2zm0 2zm-1-3zm0 2zm0-3zm0 1zm0 5zm0-1zm0 2zm-1-5zm0 2zm0-1zm0 1zm0 2zm0 0zm0-1zm-1-4zm0 4zm0-1zm0 1zm-1-1zm0 3zm0 0zm-1-2zm0-1zm0 0zm0-3zm0 6zm-1 0zm0-7zm0 0zm0 0zm0 2zm-1 3zm0 1zm-1 0zm0-4zm0 2zm-1 2zm-1-2zm-1-4zm0 0zm-1 1zm0 6zm-1-3zm0 0zm-1 1zm0 2zm0-2zm0-4zm-1 5zm0 1zm0-6zm-1 3zm0 0zm0 3zm-1-7zm-1 7zm0-3zm0-2zm-1 0zm0-2zm0 0zm0 4zm-1-3zm0 6zm0-6zm0-1zm-1 2zm-1-1zm0 4zm0-2zm-2-2zm0 4zm-1-3zm0 1zm-2 0zm-1-2zm0 3zm-2-4zm-1 4zm0-4zm-1 4zm-3 3zm-1-5zm-10 4zm-5-6zm-7 8zm17 0zm7 5zm1-3zm3 2zm0 0zm3-3zm3 6zm1-6zm1 6zm0 0zm1-4zm1-3zm1 6zm2 0zm0-5zm1 2zm0 1zm0 1zm1-2zm0-3zm0 7zm0-2zm0 2zm0-3zm0 2zm1-4zm1-2zm0 0zm0 2zm0 2zm0-1zm1-2zm0-1zm0 6zm0 1zm1-6zm0 6zm0-4zm1-1zm0 4zm1-3zm0 0zm1-3zm0 6zm0-5zm0 3zm0 0zm0-1zm1 1zm0-2zm0 2zm0-4zm1 7zm0-3zm0 1zm0 1zm0 1zm0-7zm1 2zm0 5zm0-4zm0 0zm0 4zm0-3zm0-2zm1 4zm0 1zm0-4zm1 3zm0 1zm0-1zm0-1zm0 0zm1-5zm0 7zm0-7zm0 3zm0 3zm0-5zm0 4zm1 2zm0-3zm0 3zm0 0zm1-1zm0 1zm0-4zm0 1zm0-4zm0 0zm0 1zm0 1zm0 1zm0 4zm0-4zm0-2zm0 0zm0 0zm0-1zm1 5zm0-5zm0 1zm0 1zm0 4zm0-1zm0 0zm0-3zm1 2zm0-3zm0 0zm0 0zm0 6zm0-7zm0 5zm0 2zm0-1zm0-3zm1-2zm0 4zm0 1zm0 1zm0-3zm0-4zm0 1zm0 4zm0 2zm0-1zm0-5zm0 4zm0-3zm0 2zm1 1zm0-3zm0 2zm0 0zm0-1zm0 3zm0-6zm0 5zm1-1zm0-2zm0 2zm0 1zm0 2zm0-1zm0-6zm0 7zm0-3zm0-3zm1-1zm0 7zm0-4zm0 1zm0 0zm0 3zm0 0zm0-6zm0 6zm0-7zm1 6zm0-1zm0-3zm0-1zm0 4zm0-5zm0 0zm0 2zm0 1zm0-2zm1 5zm0 1zm0-4zm0 0zm0 4zm0-4zm0 0zm0 1zm0 2zm1-2zm0 3zm0-7zm0 3zm0 4zm0 0zm0-5zm0 0zm0 3zm0-4zm1 2zm0 4zm0-7zm0 4zm0-2zm0 1zm1 1zm0 2zm0-2zm0-3zm0 6zm1-5zm0 1zm0-1zm0 3zm0-4zm1 1zm0 3zm0-4zm0 3zm0 3zm1 0zm0-1zm0 0zm0-1zm0 1zm0-2zm0-4zm1 5zm0 0zm0-5zm1 5zm0 2zm0-5zm1 1zm0 0zm0 0zm1 1zm0 2zm0-3zm0 3zm0-3zm0 1zm3 3zm0-1zm0-3zm0 4zm1-1zm0-6zm0 7zm1 0zm1-2zm0-1zm1-4zm1 4zm1-2zm0 3zm1-4zm0 2zm1-3zm1 5zm3 1zm0-3zm1-1zm1 1zm10 2zm1-5zm12 0zm6 1zm4 6zm14-2zm26 1zm25-1zm12 1zm20-3zm146 2zm-124 7zm-40 1zm-4 1zm-27-1zm-4-1zm-35-1zm-29 3zm-5 1zm-1-6zm-7-1zm-1 5zm0-5zm-3 4zm0-3zm0 0zm-2-1zm-1 5zm0-3zm-1-2zm-1 0zm0 7zm0-4zm0-2zm-1 1zm0-2zm0 1zm0 2zm0-1zm-1 0zm-1 5zm0-5zm-1 1zm0 3zm-1 0zm0-4zm0 3zm0 0zm0 1zm-1 1zm0-5zm0 3zm0-4zm0 3zm0-1zm-1 4zm0 0zm0-5zm0 2zm0-2zm0 1zm-1-3zm0 4zm0 3zm0-1zm0-2zm0 1zm-1 1zm0 1zm0 0zm0-6zm0 4zm0 2zm0-2zm0 1zm-1-2zm0 1zm0-1zm0 1zm0 0zm0-4zm0 3zm-1 3zm0-7zm0 2zm0-2zm0 6zm0 0zm0-5zm0 3zm0 1zm0-3zm0 2zm-1 3zm0-6zm0 1zm0 0zm0 3zm0-2zm-1 3zm0 0zm0-4zm0-2zm0 7zm0-3zm0-3zm0 0zm0 4zm0 0zm0-2zm-1 4zm0-3zm0-2zm0-1zm0 0zm0 5zm0-4zm0 1zm0 0zm0-2zm0 0zm-1 6zm0-5zm0 1zm0 1zm0-3zm0 5zm0-1zm0-2zm0 1zm0-1zm0-1zm0 2zm0 1zm0 2zm0-2zm0 0zm0-4zm-1 3zm0 3zm0-4zm0 0zm0 1zm0-2zm0-1zm0-1zm0 6zm0 0zm0-6zm0 2zm0 5zm0-6zm0 5zm0-3zm0-3zm0 3zm-1-1zm0 4zm0 1zm0-4zm0 2zm0 1zm0-2zm0-1zm0 0zm0 0zm0 0zm0 4zm0-1zm0-4zm0 1zm-1 4zm0-5zm0 0zm0 4zm0 1zm0-5zm0 4zm0-6zm0 1zm0 3zm0 2zm0-2zm-1 1zm0-4zm0 6zm0-1zm0-6zm0 4zm0-2zm0 0zm0 3zm0 0zm0 0zm0-4zm0 5zm0-3zm-1 4zm0-4zm0 4zm0-1zm0-4zm0 4zm0-6zm0 0zm0 6zm0-5zm-1 3zm0 1zm0-3zm0 2zm0-2zm0 2zm0 3zm0-3zm0 3zm0-7zm0 6zm-1-1zm0 0zm0 2zm0-3zm0 2zm0-3zm0-3zm0 6zm-1 1zm0 0zm0-4zm0 4zm0-5zm0 0zm0 2zm0 0zm0-1zm0 4zm0-5zm0-1zm0-1zm0 0zm-1 2zm0 4zm0-2zm0 0zm0 3zm0-4zm0 1zm0 1zm0-1zm0-4zm0 2zm-1 2zm0 1zm0-4zm0 4zm0-2zm0 0zm0 0zm0 0zm0 3zm0 1zm0-5zm0 5zm0-3zm-1 3zm0-6zm0 5zm0-2zm0-3zm0 5zm0 1zm0-3zm0-3zm0 4zm0 0zm0-3zm-1 1zm0 2zm0-1zm0 3zm0-3zm0 0zm0-3zm0-1zm0 7zm0-7zm0 7zm0-4zm0-3zm0 7zm0-1zm-1-3zm0 1zm0-4zm0 5zm0-1zm0-2zm0 3zm0 0zm0-2zm0 3zm0-6zm0 6zm0 0zm-1-3zm0 1zm0 2zm0-1zm0-4zm0 4zm0 0zm0-1zm0 2zm0-1zm0-5zm-1 2zm0 5zm0-7zm0 7zm0 0zm0-1zm0 1zm0 0zm0-5zm0-1zm-1 4zm0 2zm0-6zm0 5zm0 0zm0-6zm0 1zm0 3zm0-2zm0 4zm0-2zm-1-2zm0-2zm0 6zm0 1zm0-6zm0 1zm0 2zm0-4zm-1 5zm0 2zm0-7zm0 7zm0-7zm-1 6zm0 0zm-1 1zm0-4zm0 1zm0-1zm-1 3zm0-6zm0 5zm0-4zm0 6zm0-1zm0-6zm-1 2zm0-2zm0 5zm0-5zm0 7zm0 0zm-1-3zm0-1zm0 3zm0-1zm0-2zm-1-3zm0 2zm0-2zm0 0zm-1 5zm-1 1zm0 1zm0-6zm-1 1zm0 5zm-3-2zm0-1zm-1-1zm0 2zm0 2zm-3-1zm0-2zm-1-1zm-5-1zm-30 5zm31 5zm4 1zm0-5zm3 2zm0-1zm0-1zm1 3zm1 1zm2 3zm0-3zm0 1zm0-4zm0 5zm1 1zm1-3zm1-4zm0 1zm0 2zm1 0zm0-1zm0 5zm0-4zm1-1zm0-1zm0 0zm1 3zm1-1zm0-1zm0 2zm1-1zm0-1zm0-2zm0 6zm1-2zm0-1zm0 2zm0-4zm0 5zm0-5zm0 1zm0 4zm1-5zm0 3zm0 2zm0-5zm0 5zm0-6zm1 4zm0-2zm0 4zm0-5zm0 2zm1 0zm0-3zm0 2zm0 4zm0-3zm0 1zm0 0zm0-1zm0 3zm0-6zm0 5zm0-1zm0-1zm1 0zm0-2zm0-1zm0 5zm0-2zm0 2zm0 1zm0-3zm1 1zm0 2zm0-6zm0 2zm0-1zm0 3zm0-2zm0 4zm0-4zm1 0zm0 5zm0 0zm0-4zm0-2zm0 3zm0 2zm0-1zm0-5zm0 2zm0 0zm0-2zm0 4zm1 3zm0-4zm0 1zm0-4zm0 2zm0 5zm0-5zm1 3zm0 0zm0 0zm0-2zm0 2zm0-3zm0 1zm0 2zm0-4zm0 4zm0-4zm1 6zm0-5zm0 2zm0-3zm0 3zm0 1zm0-1zm0 2zm0-4zm0 0zm1 2zm0 2zm0-4zm0-2zm0 3zm0 0zm0 1zm0 3zm0-7zm0 2zm0 1zm0 1zm1-2zm0-1zm0 6zm0-1zm0-2zm0 1zm0-1zm0 2zm0-5zm0 6zm0-5zm0 4zm0-1zm0-3zm0 2zm0-4zm1 2zm0 3zm0 1zm0 0zm0 1zm0-7zm0 2zm0-1zm0 6zm0-5zm0 3zm0-2zm0 3zm0-1zm1 2zm0-7zm0 5zm0 0zm0 1zm0 0zm0 1zm0-1zm0-4zm0 2zm0 2zm0-6zm0 2zm0 4zm0 0zm1-2zm0-2zm0 3zm0-1zm0 1zm0-5zm0 4zm0-3zm0 3zm0-1zm0 3zm0-6zm0 1zm0 6zm0-1zm0-2zm0 0zm0 3zm1-4zm0 1zm0-3zm0 4zm0 1zm0 1zm0-4zm0 2zm0 0zm0-5zm0 4zm0 3zm0-1zm0-1zm0-4zm0 6zm0 0zm0-5zm0-1zm1 5zm0 0zm0-2zm0-1zm0-1zm0 2zm0-4zm0 0zm0 4zm0 3zm0-2zm0-5zm0 1zm0 6zm0-3zm0 2zm1-2zm0 0zm0-1zm0-3zm0 5zm0 1zm0-2zm0 0zm0-4zm0 7zm0-6zm0 1zm1-2zm0 1zm0 2zm0-1zm0 2zm0 2zm0-1zm0 1zm0-3zm0-1zm0 3zm0-3zm0-2zm0 4zm1-1zm0 2zm0-2zm0 3zm0-3zm0 3zm0 1zm0-4zm0 1zm0-3zm0 5zm0-3zm0-3zm0 1zm0 3zm1-1zm0-2zm0 6zm0-5zm0 4zm0-3zm0-3zm0 0zm0 4zm0 3zm0-6zm0-1zm0 1zm0 1zm0 4zm0-2zm0 3zm0 0zm0-4zm0 2zm0-3zm0 3zm0-1zm0-2zm0 5zm1-6zm0 1zm0 1zm0 2zm0-3zm0 5zm0-1zm0-2zm0-1zm0-1zm1-1zm0 6zm0-4zm0 0zm0-3zm0 4zm0 3zm0-1zm0-1zm0 0zm1-1zm0-1zm0 4zm0-2zm0 2zm0-1zm0-1zm0 0zm0-2zm0-2zm1 0zm0 3zm0 0zm0-1zm0 2zm0 0zm0-1zm0 1zm0-4zm0 6zm0-1zm0-4zm1 3zm0 1zm0 1zm0-3zm0 1zm0 0zm0-4zm1-1zm0 1zm0 1zm0 0zm0 0zm0-1zm0 6zm0-2zm0 2zm0-6zm0 2zm0-3zm1 5zm0-2zm0-1zm0-2zm0 3zm1-1zm0 4zm0 0zm0 0zm0-3zm1 1zm0-1zm0 3zm0 1zm0 0zm0-4zm1 4zm0-6zm0 1zm0 5zm1-4zm0 0zm0 3zm0-4zm0 2zm1 2zm0-6zm0 2zm1-1zm0 5zm0-1zm1-1zm0 2zm0-2zm1 0zm0 0zm1-2zm0 3zm1-3zm0-2zm0 3zm1-1zm2 4zm1-4zm2 3zm2-5zm1 5zm0 0zm3-2zm9 3zm6-6zm21 7zm37 0zm0-2zm62-4zm-2 8zm-48 1zm-73 1zm-6 0zm-5 2zm-1-3zm-4-1zm-2 2zm-1-3zm0 4zm0-1zm-2-1zm-1 0zm-1 2zm0 2zm0 1zm-1 0zm-1 0zm-1 0zm0 0zm0-7zm-1 2zm0 4zm-1 0zm0-3zm0-3zm-1 7zm0-3zm0 1zm0 1zm0 0zm-1 1zm0-6zm0 0zm0 6zm0-1zm0-5zm-1 2zm0 0zm0 0zm0 0zm0 1zm0-2zm0 5zm0-3zm0 2zm0-6zm-1 2zm0 4zm0 1zm0-1zm0 0zm-1-4zm0 3zm0-3zm0 3zm0-3zm0-1zm-1-1zm0 6zm0-3zm0-3zm0 7zm0-2zm0 0zm0 2zm0-2zm0 2zm0-1zm0-2zm0 0zm-1 3zm0-1zm0-1zm0-1zm0 1zm0 0zm0 0zm0-1zm0-3zm0 2zm0 4zm0 0zm0-2zm0 2zm0-5zm0 0zm0-2zm0 5zm0-3zm-1 3zm0 1zm0-5zm0 0zm0-1zm0 0zm0 6zm0-2zm0 2zm0-2zm0 2zm0-6zm-1 7zm0 0zm0-1zm0 0zm0 0zm0-6zm0 3zm0 2zm-1 0zm0-4zm0 0zm0 4zm0-2zm0 1zm0-2zm0 2zm0-4zm0 4zm-1-2zm0 3zm0 0zm0-1zm0-2zm0 3zm0 1zm0-2zm0 3zm0-5zm0-1zm0 2zm0 2zm0 0zm-1-2zm0 0zm0-3zm0 3zm0 3zm0 0zm0-6zm0 0zm0 7zm0-1zm-1-1zm0-2zm0-1zm0 5zm0-5zm0 4zm0-5zm0 3zm0-3zm0 2zm0 1zm-1-2zm0 0zm0-1zm0 2zm0-1zm0 2zm0 0zm0 3zm0-3zm0 2zm0-3zm0 1zm-1 0zm0 0zm0 1zm0-4zm0 6zm0-6zm0 4zm0-4zm0 5zm0 1zm0-1zm0-3zm0-2zm0 4zm0 2zm0-4zm0-1zm0 5zm-1-5zm0-2zm0 5zm0-2zm0-2zm0 5zm0 0zm0 1zm0-5zm0 4zm0-3zm0-2zm0-1zm0 2zm0-2zm0 1zm0 4zm-1 2zm0-1zm0-5zm0 4zm0-1zm0-1zm0 3zm0-1zm0-2zm0 0zm0 2zm0-2zm0-1zm-1 0zm0 2zm0-3zm0-1zm0 3zm0 3zm0 1zm0 0zm0-3zm0 0zm0 3zm0-6zm0-1zm0 4zm-1 2zm0-2zm0-4zm0 6zm0 0zm0-5zm0 4zm0-4zm0 5zm0 1zm-1-6zm0 2zm0 4zm0-5zm0 1zm0-3zm0 5zm0-1zm0-3zm0 3zm0 0zm0 3zm0-3zm0 0zm0-1zm0 0zm0-3zm-1 2zm0-2zm0 5zm0 2zm0-1zm0 0zm0-1zm0-2zm0 3zm0 0zm0-1zm0-3zm-1 1zm0 4zm0-4zm0 0zm0 3zm-1-2zm0 2zm0-4zm0 0zm0 1zm0 3zm0 1zm0-5zm0 5zm0-2zm0 1zm0-5zm0 6zm0-7zm0 2zm0 0zm0 1zm-1 1zm0 2zm0-2zm0 3zm0-6zm0-1zm0 4zm-1-3zm0 0zm0 3zm0 2zm0-6zm0 7zm0-7zm0 1zm-1-1zm0 2zm0-1zm0 4zm0 0zm0-1zm0 0zm0 1zm-1-3zm0 0zm0-1zm0 4zm-1-4zm0 3zm0-4zm0 3zm0 3zm0-5zm0 2zm0 3zm-1-4zm0 1zm0-1zm0 2zm-1-2zm0 5zm0-5zm0 2zm0 0zm-1-1zm0 3zm0-5zm0-1zm-1 0zm-1 4zm0 0zm-1-4zm0 1zm0 0zm0 2zm-2-1zm0-2zm0 0zm-2 1zm-2 0zm-1 1zm-5 0zm0-2zm-2 1zm-2 5zm-1-2zm-7-2zm-7-2zm16 12zm6-2zm4 1zm2 1zm2-1zm1-1zm0-2zm1 6zm0 1zm1-1zm0-1zm1-1zm1 1zm1 2zm1-3zm0-3zm1-1zm0 2zm0-2zm0 3zm0 3zm0-3zm1-1zm0 0zm0-2zm0 1zm0 3zm1-2zm0 2zm0-1zm0 1zm0 0zm1-4zm0 3zm0 0zm0 0zm1 3zm0-1zm0-4zm0-1zm0 2zm0 2zm0-1zm0-2zm0 0zm1 2zm0 4zm0-5zm0 2zm0-2zm0-1zm1 6zm0-6zm0 2zm0 1zm1 2zm0-6zm0 7zm0-2zm0-4zm0 4zm0-2zm0 3zm0-6zm0 0zm1 3zm0-2zm0 2zm0 1zm0 1zm0 1zm0-4zm1 2zm0-2zm0-1zm0 4zm1-5zm0 3zm0 0zm0-3zm0 0zm0 2zm0 5zm1-6zm0 5zm0-6zm0 7zm0-7zm0 5zm0-5zm0 1zm0 5zm0 0zm0-3zm0-2zm0 1zm0 3zm0-5zm1 0zm0 7zm0 0zm0 0zm0-1zm0-6zm0 5zm0 2zm0-7zm1 4zm0-1zm0 2zm0 0zm0 2zm0-6zm0 3zm0-1zm0 1zm0-4zm0 5zm1 0zm0-3zm0-2zm0 2zm0 5zm0-7zm0 5zm0-5zm0 5zm0-5zm0 3zm0 3zm0 1zm0-4zm0 0zm0 0zm0-3zm0 7zm1-2zm0-2zm0 0zm0-3zm0 6zm0-6zm1 5zm0 2zm0-1zm0-1zm0 0zm1 1zm0 0zm0-6zm0 1zm0 5zm0-4zm0 0zm0-2zm0 4zm0 2zm1-1zm0-4zm0-1zm0 6zm0-3zm0 2zm0-2zm0 3zm0-6zm0 0zm0 1zm1 3zm0-1zm0 2zm0-1zm0-1zm0 0zm0 1zm0-2zm0 0zm0 0zm0 1zm0-1zm0 1zm0 0zm0 4zm0-5zm1 3zm0-4zm0 0zm0 0zm0-1zm0 5zm0 1zm0 0zm1-2zm0 3zm0-7zm0 2zm0-2zm0 6zm0-5zm0 6zm0 0zm0 0zm1 0zm0-6zm0 1zm0 4zm1 1zm0-3zm0-1zm0 4zm0-7zm0 4zm0-1zm1-1zm0 0zm0 1zm0-2zm0 0zm0 2zm0-1zm0-2zm0 1zm0 0zm0 1zm1 5zm0-7zm0 0zm0 7zm0 0zm1-3zm0 0zm0-1zm0 3zm1-6zm0 2zm0 5zm0-5zm0-2zm0 6zm0-5zm0 4zm0-2zm1 2zm0-3zm0 1zm1-2zm0 0zm0 6zm1-7zm0 0zm0 5zm0-5zm1 4zm0 0zm1 3zm0-4zm0 0zm1 1zm0 3zm0 0zm1-2zm0-1zm3 1zm0-5zm0 3zm0-2zm1 0zm0-1zm3 4zm0-2zm5-2zm0 7zm2 0zm3-5zm1 5zm41-5zm17 10zm-55-2zm-4 5zm-1-2zm-2-4zm-4 0zm0 0zm0 1zm-1 3zm-2 0zm-1-4zm0 3zm0-4zm-1 4zm-1-1zm-2 3zm0-5zm0-1zm0 5zm-2-1zm-1 1zm0-2zm0 0zm-1 1zm-1-4zm0 4zm0 0zm-1-3zm-1-1zm0 2zm0 1zm-1 0zm0-3zm0 4zm0 2zm-1-2zm0-3zm0 4zm0-4zm-1 5zm0-5zm0 4zm0-2zm0 2zm0 2zm-1-7zm0 0zm0 2zm0-2zm0 3zm0 4zm0-6zm-1 6zm-1-2zm0-4zm0-1zm-2 2zm0 4zm0 1zm0-5zm0 0zm0 0zm0 5zm0-6zm-1 6zm0-6zm0 3zm0 0zm0-3zm0 3zm-1-2zm0-1zm0 2zm0 3zm0-5zm0 2zm0-1zm0 5zm0-6zm0-1zm-1 6zm0-3zm0 3zm0-5zm0 5zm0-1zm-1-2zm0-3zm0 7zm0-1zm0-5zm0-1zm0 3zm-1 0zm0 2zm0-1zm0-3zm0 0zm0 6zm0-6zm0 2zm0 2zm0-4zm-1-1zm0 3zm-1-1zm0 0zm0 3zm0-4zm-1 3zm0 1zm0 1zm-1-4zm0 5zm0-2zm0-5zm-1 2zm0-2zm0 3zm-1-2zm0 6zm0-3zm0 1zm-1 0zm0-1zm0-2zm0 4zm0-5zm0 2zm0-3zm-1 0zm0 2zm0 1zm0 3zm0-1zm0-4zm-1 1zm0 1zm0 4zm0-7zm0 6zm-1-5zm0 6zm0-6zm-1 2zm0 2zm0-4zm0-1zm0 6zm0-6zm-1 5zm0-1zm0-2zm0 1zm-1 0zm-1-2zm0 1zm0-2zm-1 1zm-1 3zm-1-3zm0-1zm-2 2zm-1-2zm-1 1zm-2 2zm-3 0zm-3-3zm-2 0zm-1 5zm-3 0zm0-3zm-1 3zm-21-1zm3 4zm28 2zm7 5zm1-6zm1-1zm2 0zm3 5zm2-3zm2-1zm2 4zm3-2zm1 0zm1 4zm0-5zm1 1zm1 3zm1-4zm0 0zm0-2zm0 2zm0 0zm0-1zm0 1zm1 0zm0-2zm1 6zm1-4zm1-1zm0 6zm0-1zm0-4zm1 4zm0-3zm0 1zm0-3zm1 2zm0-2zm0-1zm0 3zm0-3zm2 0zm0 1zm1 3zm0 1zm1-4zm1 6zm0-4zm0-3zm4 4zm0-3zm0 5zm1-1zm2-3zm2 4zm0-2zm0 0zm4-2zm0 2zm0-1zm2 3zm13-1zm28-5zm1 1zm15-1zm-62 8zm-6 2zm-5-2zm-1 7zm-1-7zm0 4zm-1 3zm0-3zm-1 1zm-1-4zm-1 1zm-1-2zm0 7zm-1-1zm0-6zm-1 1zm-3 3zm-1-4zm-10 2zm4 8zm11 4zm2 0zm5-6zm22 4zm17 1zm9 2zm-48 3zm-2 4zm-32-5zm37 12zm53 1zm22-2zm-5 5zm-11 5zm-33 8zm2-4zm25 10z"/>
<path stroke="#433d84" d="M1163 853zm-209 9zm6 8zm205 3zm-1 3zm-166 0zm-46 5zm14 2zm4 3zm6 1zm6-5zm182 3zm-14 7zm-177 0zm-3-1zm-13-1zm-5 6zm2 4zm12 1zm5 1zm1-5zm15-1zm15 15zm-16-2zm-4 1zm-7 0zm-1-3zm-22 5zm32 1zm11 6zm-4 8zm-10-4zm-13 2zm-8-3zm23 10zm2-1zm12 4zm2-2zm233 7zm-144-4zm-40 1zm-51 3zm-3 2zm0-1zm-2 2zm-3-1zm-7 1zm-7-2zm7 7zm5 2zm27-4zm221 4zm-192 3zm-19-1zm-7 0zm-57 10zm30 2zm4 3zm2-4zm0 1zm1-2zm3 0zm28-1zm7 4zm72-5zm93 2zm25 4zm5-5zm1 5zm32 1zm-26 7zm-204-3zm-14 3zm-8 0zm-8-1zm-8-2zm-11 9zm0-2zm9-2zm9 4zm10 2zm5-1zm25 0zm59 2zm104 1zm-2 2zm-34 1zm-120 0zm-8-2zm-6-1zm-4 7zm-12-2zm-8-3zm-7 2zm-34 7zm51 0zm24-1zm14 5zm237-1zm-78 9zm-41-2zm-109-5zm-11 6zm-39-4zm-6-2zm-20 11zm3-3zm6 6zm12-6zm3 0zm1 5zm18-3zm3 4zm133 1zm39 0zm81-1zm-212 9zm-1-1zm-45-4zm-9 5zm-1 0zm-5-7zm-1 6zm-34 9zm5-6zm5 0zm22 0zm22 0zm11 6zm70-3zm50 0zm30 0zm55 10zm-180-5zm-31 4zm-3-5zm-24 7zm-8-5zm-29 3zm22 7zm10-4zm3 7zm0-7zm7 5zm0-5zm6 6zm6 1zm15-3zm29 0zm5 2zm12-5zm79 0zm166 4zm20 9zm-11 0zm-172-3zm-115 0zm-24 0zm-1 0zm-2 2zm-16-2zm-13 0zm-9 0zm22 9zm7-4zm1 5zm11 1zm5-3zm32-1zm4 0zm10 1zm3-3zm3 7zm11-7zm3 1zm230 4zm-174 6zm-5 4zm-51-5zm-2 5zm-5-6zm-23 3zm-29-4zm-1 2zm-4-2zm-12 3zm-19-2zm2 12zm4 1zm2-4zm5 0zm8-1zm13 0zm10 1zm2 2zm2 0zm12-1zm1-3zm16 6zm18-2zm4-2zm7 4zm15-4zm216 0zm33 8zm-6-2zm-13 4zm-21-2zm-93 5zm-5-1zm-36-2zm-3-3zm-30 0zm-1 1zm-12-2zm-39 5zm-27-1zm-7-2zm-22-2zm-5 1zm-14 3zm-3 0zm-12 2zm-6-4zm7 13zm3-2zm6 2zm1-4zm13 4zm12-5zm12 2zm0-4zm0 0zm13 0zm22 3zm14 0zm22 1zm9 1zm0 0zm2-5zm59 2zm91 5zm47 6zm-10 2zm-75-5zm-69-2zm-39 0zm-12 3zm-15 0zm-3-2zm-3 0zm-4 1zm-11 3zm-11-3zm-2 1zm-1-1zm0-1zm-10 0zm-2-1zm-13 2zm-1 1zm-7-2zm-1 3zm-3 0zm-17 0zm-12 8zm0-1zm3 0zm5-3zm0 5zm1 2zm2 0zm3-7zm7 4zm1 0zm2 3zm7-3zm15-3zm1 3zm8-4zm2 0zm3 6zm1-3zm3 4zm2-5zm5 1zm8 0zm10-1zm2 3zm19 2zm6-1zm53 1zm86 0zm2 0zm16-1zm18 0zm3-5zm77 13zm-51-1zm-1-4zm-8 4zm-36-3zm-56 2zm-70-2zm-11 4zm-5-2zm-9 2zm-25 1zm-2-5zm-9 2zm-6 0zm-5 2zm0-3zm-9 3zm-8-3zm-19 0zm-1 3zm-5-1zm-3 0zm-5-1zm-8 0zm0 3zm0-1zm-3-5zm-16 7zm29 1zm3 2zm2 1zm8-4zm0 0zm2 2zm4-2zm3 7zm1 0zm1-3zm21-3zm1 6zm2-4zm7 2zm2-5zm7 2zm1 0zm2 3zm1-4zm7 3zm1 2zm3-6zm1 5zm1 1zm2-1zm5-1zm0 2zm5-5zm2 4zm2 0zm10-2zm10 1zm12 1zm18 2zm39-5zm16 5zm12-1zm10-5zm18 6zm12-1zm21-1zm3 2zm5-2zm9-3zm1 3zm36 2zm11 1zm-33 6zm-3-6zm-2 2zm-9 1zm-5-2zm-8 4zm-24-3zm-3 1zm-34 3zm-5-2zm-67 3zm-25-2zm-13 1zm-2 1zm-14-1zm-4 1zm0-2zm-4 2zm-4 0zm-9-1zm0 1zm-7-3zm-3 3zm-18 0zm-1-7zm-10 3zm-3 3zm-2-1zm-9-2zm-1 3zm-1-6zm-2 1zm-4 6zm-9-3zm-15 1zm-14-2zm-11 8zm16 3zm1-2zm1 2zm3-2zm13-1zm8 3zm3-5zm1 3zm3 3zm5-6zm3 5zm8-3zm3 2zm4-1zm0 2zm4-2zm2 1zm0 0zm0 1zm1 1zm0-4zm2 0zm4-3zm5 6zm1-4zm0 3zm1-1zm1-2zm0 2zm2-4zm6 4zm1-3zm9 4zm5 0zm9-4zm4 4zm10-5zm9 4zm8 3zm10-4zm17-1zm19 3zm9 2zm28-3zm37-1zm11 0zm3-1zm15-1zm2 2zm1 1zm11-3zm9 1zm12 5zm3-3zm1-2zm6 2zm31-2zm20 10zm0 1zm-52-3zm-2 4zm-10-1zm-4-4zm-10 0zm-2 1zm-1 0zm0 5zm-7-4zm-1 1zm-13 3zm-2-4zm-21 1zm-6 1zm0-5zm-6 7zm-22 0zm-6-3zm0-4zm-7 2zm-32 0zm-72 0zm-3-2zm-3 3zm-3 0zm-5 1zm-1 0zm-7-4zm-3 7zm0-2zm-3-5zm-3 2zm-3 3zm-1-3zm-4 5zm-2-7zm-4 1zm-3 0zm-1 3zm-1 3zm-16-2zm-4-3zm-1 2zm0-4zm-1 6zm-1 1zm-1-5zm-7 0zm-1 1zm-8 4zm-5-6zm-4 6zm-3-4zm-16 3zm0 1zm-7-3zm13 5zm9 4zm8 0zm4 1zm0-2zm2-4zm2 5zm9-3zm4 4zm2-6zm2 3zm1 3zm7-2zm1 0zm6-3zm2 4zm4 0zm1-4zm4-1zm1 0zm0 4zm3-3zm1 0zm11 2zm1 0zm4-3zm6 0zm0 2zm1 5zm0 0zm4-3zm2-1zm12 3zm8-1zm5 1zm14 0zm16-4zm12 2zm11 1zm6-3zm28 3zm20 2zm3-7zm16 4zm8 0zm13 1zm7 2zm0-6zm15 5zm7-4zm4 1zm16 3zm10-6zm35 4zm-38 5zm-11 1zm0 0zm-7 3zm-16-1zm-4-3zm-7 1zm-6-2zm-3 7zm-5 0zm-9-1zm-2-3zm-14 4zm-11-3zm-12 1zm-9-4zm0 1zm-12-2zm-1 2zm-3 4zm-11-6zm-12 3zm0 1zm-2 2zm-3 0zm-18-5zm-37 0zm-2 5zm-3-4zm-2 4zm-12-3zm-6 4zm0-3zm-1-2zm-6 1zm-5-3zm0 0zm-1 6zm-4-1zm0 2zm-4-5zm-1 1zm-2 3zm-1 1zm-2-7zm-1 0zm-7 6zm-2-3zm-1 0zm-5-2zm-10 1zm-2 0zm-1 1zm-5-2zm0 5zm0 0zm0-5zm-3 6zm-2-3zm-3-1zm-3 0zm0 1zm-2 3zm-6-1zm-18 8zm7-5zm1 0zm0 6zm15-3zm6-4zm2 2zm2 5zm4-3zm8-2zm0 4zm4 0zm5-3zm0 2zm12-2zm3 4zm0-4zm2 3zm1-1zm0-1zm16-2zm1 5zm0-6zm6 2zm2 1zm3-2zm13-2zm15 5zm65-5zm4 1zm2 3zm2 3zm0-1zm13-3zm5 4zm15-7zm4 4zm7 2zm17 0zm5-6zm13 3zm7-2zm5 3zm3 2zm17-5zm9 5zm-43 6zm-3 2zm-39-1zm-23-2zm-5-3zm-14 3zm-9-3zm-21 2zm-17-2zm-8 6zm-3-3zm-8 1zm-7 3zm-10-4zm-4-3zm-15 5zm-3-1zm0 3zm-4-6zm-6 1zm-4 1zm0 4zm0-7zm-4 1zm-1 1zm-5 4zm-1 0zm-7-3zm-4-3zm0 6zm-3 1zm-1 0zm0-2zm-3 1zm-4 0zm0-4zm-1 5zm-2-4zm0-3zm0 2zm0 2zm-2-2zm0 4zm-1-6zm-2 7zm-3-7zm-22 12zm19-3zm7 1zm1 0zm1 1zm1-3zm6 4zm1-2zm0 5zm0 0zm1-3zm0-2zm1 1zm0 4zm0 0zm1-2zm2 1zm1-2zm0-1zm4-2zm2 2zm1 2zm1 2zm1-4zm1-1zm2 2zm2-3zm5 2zm1-2zm3 3zm0 0zm7-3zm1 3zm1 0zm3 2zm2 0zm6-6zm9 3zm2-2zm3 3zm1 1zm0-1zm5-3zm18-1zm2 7zm0-5zm1 4zm1-3zm1 4zm22-2zm12 2zm8-5zm7 3zm10 0zm8 0zm36 2zm9-6zm6 1zm21 0zm47 3zm-6 3zm-44 2zm-1 4zm-15-3zm-37 4zm-41-4zm-36 4zm-3-6zm-5-1zm-5 6zm-3-6zm-2 2zm-30 2zm-5 2zm-1-1zm-3-2zm-6-2zm-1 0zm0-1zm-3 6zm-1-4zm-4-1zm-3 5zm0-4zm-1 4zm-2 1zm-1-2zm0-1zm-2 0zm-1 3zm-1-3zm-2-3zm0 0zm0-1zm-5 5zm-2-5zm0 6zm-1-1zm-3 2zm-5-5zm0 0zm0 3zm0 0zm0 0zm-2 2zm-1-2zm-3-1zm-5 0zm0 3zm-4-4zm0 0zm-5 4zm-1-2zm-13-5zm24 13zm8-4zm5 0zm2 5zm5 0zm1 0zm1-5zm2 3zm0 0zm0 0zm1 3zm3-4zm1-3zm0 0zm1 1zm1 2zm1 0zm0-1zm1 2zm1 2zm0 0zm2-1zm2 0zm0-3zm2 2zm1 2zm1-3zm1-2zm0 4zm0-5zm2 3zm0-3zm3 4zm2 1zm1 0zm3 0zm3-2zm1 0zm3 3zm1-2zm5 3zm7 0zm11-5zm9 2zm46-1zm1 4zm14-5zm4-1zm28 1zm16-2zm4 0zm22 1zm10 14zm-54-7zm-6 4zm-1-3zm-3 6zm-30-7zm-2 0zm-2 6zm-39-3zm-4 2zm-2-2zm-7-2zm-4 6zm-19-6zm-2 1zm-11 2zm-6 3zm-1-7zm-1 7zm0-6zm0 2zm0 0zm-5-3zm0 6zm0 1zm-2-3zm0-1zm0 1zm-2-4zm0 0zm-1 3zm0 4zm-1 0zm-1 0zm-2-7zm-2 2zm-1-1zm-1 3zm-1-3zm0 5zm0 1zm0-3zm-1-2zm0-1zm0 2zm-1 4zm-1 0zm0-4zm0-1zm-2 1zm0 2zm-2 0zm0-2zm-8-2zm-9 0zm-3 5zm-14-6zm-20 4zm40 10zm2-1zm1-5zm3 3zm4 4zm0-3zm1-4zm1 7zm1-2zm4-1zm1 1zm1-3zm0-2zm1 0zm0 3zm0-1zm1 0zm0 5zm1-4zm1 1zm1 2zm1-1zm1-2zm0 2zm1-4zm0 6zm1-7zm0 5zm1-5zm0 1zm1 2zm0-1zm1 2zm0 1zm1-1zm2 1zm1-2zm1-2zm0 0zm1 2zm2 1zm0 2zm0 1zm1 0zm0-7zm3 3zm2-3zm3 4zm1-1zm6 0zm2 4zm2-5zm5-1zm0 1zm14-2zm16 4zm88-4zm25 7zm43-2zm-54 8zm-15 1zm-92-2zm-1-3zm-3 1zm-21 1zm-5 0zm-10 0zm-3 0zm0 1zm-1 2zm0 0zm0-5zm-1 6zm0-3zm0 2zm-1 1zm0-6zm0 3zm-2-4zm0 2zm0-1zm-1 6zm-1-5zm0 3zm-1 1zm-1 0zm-1-5zm0 3zm-2 1zm0-5zm0 4zm-1-2zm0 2zm0-1zm0 3zm-1-1zm0 1zm-1 0zm-1-1zm0-3zm0-2zm-1 5zm-1-5zm-2 0zm0 4zm-1-3zm0 1zm-1-1zm0 6zm0-2zm-1-2zm0 1zm0-2zm-2-2zm0 4zm0 2zm-3-6zm-2 4zm-2-3zm-2 2zm0-1zm-6 2zm0-1zm9 9zm2-3zm1 5zm1-6zm1 5zm2 0zm0-4zm0 0zm5 4zm0-2zm1 3zm0-1zm1-4zm1 0zm1-1zm0 5zm2-5zm1 7zm0-5zm0 2zm1 1zm0 0zm0 2zm1-6zm0 3zm0-3zm0-1zm0 0zm1 7zm0-5zm0-1zm0 2zm1 2zm0-1zm1 1zm0-1zm0 0zm0-1zm0 4zm1-2zm0-1zm1-4zm1 4zm0 1zm0-1zm1 2zm0-3zm1 2zm0 2zm0-5zm0 0zm1 3zm0 1zm1 0zm1-2zm4-1zm1-1zm1-2zm2 7zm4-1zm7-5zm117 4zm-107 8zm-1-4zm-7 6zm-1 0zm0-3zm-3 0zm-2-2zm-1 1zm-1 2zm0 2zm-2-2zm-1 1zm0-6zm-1 1zm0 3zm0 1zm-2-3zm-1 4zm-2-6zm-1 6zm0 1zm0-5zm-1 1zm-1-2zm-1 1zm0 1zm-1-1zm-1 5zm0-2zm0-1zm-1 3zm0-1zm0 1zm-2 0zm0-2zm0 0zm0-3zm-1 5zm0-3zm0-2zm-1 4zm-1-5zm0 1zm0 0zm0 5zm-1-4zm0 1zm-1 2zm0-3zm0 0zm-1-2zm0 2zm-1-3zm-1 4zm0-1zm0-1zm-1 3zm0-4zm-3 2zm-1 3zm0 0zm-3-6zm-3 5zm-7-4zm2 7zm0 0zm4 4zm0-4zm1 4zm3 3zm2 0zm1-7zm2 2zm1 0zm0 5zm0-5zm1 2zm1-3zm0 6zm0-4zm1-2zm1 5zm0-6zm1 1zm1 3zm1 1zm1 2zm2-7zm1 2zm1-1zm1 1zm0 5zm0-5zm1 0zm0 4zm1-2zm0 2zm1-4zm1-2zm0 7zm0-1zm4-4zm0-2zm1 5zm1 2zm1-3zm0 1zm3-5zm0 1zm4-1zm8 0zm12 2zm0 5zm17-3zm12-3zm-19 14zm-23 0zm-2-6zm-3 2zm-2-1zm0 4zm-1-6zm-2 2zm0 4zm0 0zm-5-4zm0 2zm0 0zm-2-1zm0-3zm-1 1zm-1 2zm0-1zm0 1zm-1 2zm0 0zm-1 2zm0-3zm0-1zm-1 2zm0-3zm-2-2zm-1 1zm0 5zm0-5zm-1 0zm-1 0zm0 6zm-4 0zm-1-6zm-1 1zm-3-1zm-1 3zm-4-3zm-19 1zm5 7zm15 0zm4 3zm3-1zm1 2zm2-2zm1-1zm1 3zm1-3zm1-1zm1-1zm1 2zm0 1zm3 4zm1-4zm0 3zm0 0zm1-3zm0-3zm1 7zm0-3zm3 0zm0-3zm0 5zm0-2zm1-4zm2 2zm0 2zm2 0zm0 1zm3-1zm0-1zm0-1zm1 5zm0-1zm2 0zm1-5zm0 3zm1-1zm3 2zm4-5zm62 3zm-67 12zm-4-3zm-3-2zm-4 0zm0 5zm0-7zm-1 0zm-1 7zm-7-4zm0-2zm-2 5zm0-1zm-2-2zm-1 4zm-1-6zm0 6zm0-5zm-3-1zm-3-1zm-6 6zm15 4zm1 4zm2-1zm1-1zm6-3zm3 3zm0-3zm2-1zm3 5zm0-4zm10 0zm2-1zm25 9zm-43 2zm-17 12zm88 1z"/>
<path stroke="#3b528b" d="M1004 934zm22 4zm-27 4zm-18-3zm35 19zm5 10zm-22 6zm-7-1zm16 9zm9 1zm210-5zm-234 10zm56 6zm-19 7zm-27 6zm77 3zm65 13zm-170-5zm30 7zm1 0zm11 5zm3-1zm3 0zm18-4zm24 6zm3 3zm-1-2zm-51 6zm11 8zm56-1zm169 0zm-161 8zm-42-4zm-11 6zm-14-5zm27 9zm10-1zm17 5zm6 0zm9-3zm57 9zm-18 0zm-20 2zm-73-6zm-2 3zm-6 1zm-3 4zm5 6zm5-3zm14 1zm32-3zm8-2zm45 2zm120 12zm-156-6zm-14 5zm0 1zm-15-4zm-4 0zm-5-1zm-24 3zm-2 0zm-22 11zm35-2zm16 0zm22-3zm3 3zm3-1zm259 9zm-224 2zm-11-3zm-6 0zm-14-1zm-3 0zm-10 1zm-3-2zm-8 1zm-5-3zm-17 4zm-19 2zm-8 0zm-11-5zm6 8zm11 1zm8 0zm20-1zm9 4zm1-2zm4-2zm9 2zm29-3zm9 1zm20 0zm211 5zm-223 3zm-22 0zm-1 0zm-3 5zm-8-2zm-5-2zm-4 5zm-5-3zm-18-3zm-11-1zm-33 13zm10-5zm32 7zm7-1zm6-3zm15 2zm7 0zm11-3zm2 3zm15-4zm16 5zm12 1zm1-3zm1 2zm75 0zm124 2zm-173 5zm-9 2zm-17-7zm-13 1zm-42 0zm-2 4zm-8 2zm-3-3zm0 0zm-19-4zm-42 7zm15 6zm12 0zm5 0zm4 1zm3 0zm3-4zm3 4zm3-6zm5 3zm2-3zm0 4zm16-3zm0 4zm1-3zm2 0zm2-1zm5 2zm7 0zm1 4zm5 0zm0-3zm14-3zm10 5zm78-6zm5 3zm88 1zm4 11zm-8-7zm-40 4zm-88 1zm-38-1zm-10 2zm-26-1zm-1 1zm-7-3zm-4 3zm-6-5zm-3 2zm-1-2zm-1 5zm-12-4zm-6-2zm0 3zm-14 3zm-17-4zm0 5zm-3 0zm24 8zm1-2zm10-5zm0 2zm8 1zm3-3zm3 2zm7 2zm16 3zm5-6zm7 4zm18-4zm3-1zm46 3zm36 1zm36-4zm-103 12zm-1 2zm-27 0zm-14 1zm-25-6zm-4 4zm-9-3zm0 5zm-2-1zm-4-6zm-1 6zm-3-4zm-2 3zm-3 2zm-2-4zm0-2zm-1 5zm-8-3zm-11-2zm-7 3zm23 5zm0 0zm3 2zm10 1zm0-2zm3 2zm1 2zm0 0zm3-2zm0 3zm1-2zm1 0zm1 2zm15 0zm12-4zm3-1zm5 5zm10-5zm1 1zm13 0zm21 3zm6-1zm31-5zm129 3zm-170 11zm-7-3zm-3-2zm-22 6zm-1-6zm-5 1zm-7-1zm-19 4zm-3 0zm0-4zm0 3zm-1-3zm0 5zm-4 1zm0-1zm-1-6zm0 7zm-2-6zm-2 6zm-4-7zm-2 6zm-1 0zm-1-2zm0 3zm-1-7zm-1 2zm-16 7zm3 1zm3 5zm5-5zm5 3zm1-1zm1 1zm2-5zm3 3zm1-1zm1 0zm2 2zm5 0zm0-4zm1 1zm1 1zm1 2zm0 0zm2 2zm2 1zm1-4zm1 4zm6-6zm3-1zm1 5zm3-1zm10 3zm4-6zm3 2zm9 0zm12 2zm6-3zm5 4zm5-4zm43 11zm-35 1zm-34-6zm-1 0zm-3 3zm-3-2zm-14 2zm-1 0zm-5-3zm0 4zm-3-1zm-2 3zm-1 1zm0-4zm-3 1zm-3-1zm0-1zm0 1zm0-2zm0 5zm-1-3zm-1 1zm-2-1zm-1 3zm0-3zm0 0zm0-2zm0 2zm0 1zm-2-2zm-1-2zm0 3zm-1 4zm-2-2zm0 1zm0-6zm-2 3zm-1 0zm0-3zm-2 7zm0-7zm0 0zm0 2zm-2 5zm-1-2zm-1 0zm-2-3zm-1 5zm-1-6zm-8 9zm2 1zm1-1zm3-1zm9 3zm2 0zm2-1zm0-3zm2 3zm1-2zm0 2zm1 2zm1 2zm0-7zm0 6zm1-4zm0 1zm4-3zm1 3zm0-1zm0 0zm1 2zm0-2zm1 1zm0-2zm1 4zm0-5zm1 3zm1 1zm0 2zm0 0zm1-2zm1 1zm0 2zm1-1zm1-3zm1-1zm1 5zm0 0zm0-1zm0-3zm0 4zm1-7zm2 2zm1 2zm1-3zm1 3zm1-3zm2 5zm1-6zm0 6zm2-6zm0 5zm1 2zm41-4zm4-2zm2 5zm16-4zm77-1zm-39 10zm-94 2zm-8 1zm-1-5zm-1-1zm-1 5zm-2-2zm0-1zm0 4zm0-5zm-1 4zm0-4zm-1-1zm0 4zm-1 1zm0 1zm0-4zm-1 1zm0 1zm-1 0zm0 1zm-1-1zm0-3zm-1 4zm0 1zm0-4zm0 3zm-1-5zm-2 7zm0-1zm-1-6zm0 0zm-1 6zm-1-4zm0-1zm0 0zm0 5zm0-3zm0 0zm0 0zm0-1zm-1 2zm0 1zm0 0zm0-3zm-1 3zm0-4zm0-1zm-1 2zm0 5zm0-6zm-1-1zm0 1zm-1-1zm0 3zm-1 3zm0-1zm0-1zm0-1zm-1 0zm0 2zm-1 2zm0-6zm-1 0zm-1 6zm-1-3zm-1-1zm0 0zm0-2zm-1 0zm0 6zm0-3zm-1-3zm0-1zm-2 4zm0-4zm-3 3zm-1-3zm-1 6zm0-5zm0 6zm-4-4zm-7 4zm1 3zm8 5zm6-5zm1 0zm2 1zm2 3zm2-3zm1 3zm1 0zm2 1zm0-7zm0 3zm1-2zm1 2zm0 3zm1-1zm0 1zm3-6zm0 0zm0 1zm0 1zm0 4zm1-1zm1 2zm0 0zm1 0zm0 0zm1-1zm0-6zm0 6zm0-6zm1 3zm0 0zm1 4zm0 0zm1-4zm0 2zm0-2zm1-1zm0 4zm0-1zm0 0zm1-3zm0 1zm0-3zm0 3zm0 3zm0 0zm1-4zm0 3zm0-1zm0-2zm0 2zm1 2zm0 0zm0 0zm1 1zm0-6zm0 5zm0 0zm0 0zm1 0zm0-5zm0 5zm1 1zm0-1zm1 0zm0 1zm1-2zm0 0zm0-2zm0-3zm1 4zm0-3zm1 2zm2 4zm1-3zm1 2zm2 0zm3-1zm5-2zm7 0zm14 4zm2-3zm-24 6zm-6 0zm-1-2zm-2 1zm0 5zm-2-2zm0-3zm-1 1zm0-2zm0 2zm0 5zm0-5zm0 5zm-1-3zm0 3zm0-4zm-1 4zm-1-5zm0 5zm0-3zm-1 3zm0-5zm0 0zm-1 0zm0 0zm0 2zm0 0zm0 3zm0-2zm0 1zm-1-2zm0 3zm0-1zm0-4zm0 4zm0-1zm-1-2zm0-3zm0 5zm-1-3zm0 1zm-1 4zm0-6zm0 1zm0 2zm0-2zm-1 0zm0 0zm0 1zm0 4zm-1-1zm0 0zm0 1zm-1-5zm0 0zm-1-1zm0 1zm-1 2zm0-2zm0 0zm-1 2zm0 0zm0-1zm-1-2zm0 4zm-1 2zm0-5zm-1 2zm-1-2zm0 2zm-1 3zm-2-2zm0-4zm-1 4zm-1-2zm0 3zm-3-6zm-3 6zm-3-6zm-1 2zm-4-1zm-7-1zm3 9zm10 5zm0-1zm3 2zm3-6zm0 6zm0-5zm1 0zm1 3zm6-4zm1 3zm0-4zm0 0zm0 3zm2 0zm0-2zm0 1zm0 1zm0 0zm1 0zm0-1zm1 5zm0-2zm0-4zm1 6zm0 0zm0-2zm0 2zm1-7zm0 1zm0 2zm0-1zm0 3zm1-5zm0 3zm2 1zm1 2zm0 1zm0-2zm1 2zm0-7zm0 6zm0-6zm0 7zm0-6zm0 4zm1-5zm0 0zm0 4zm1-3zm0 5zm0 0zm0 0zm0-4zm1 3zm1 2zm0-5zm0 0zm0-2zm0 2zm0 0zm1 0zm0-2zm0 0zm1 4zm1-4zm0 6zm0-1zm1 0zm1-2zm0-1zm0 3zm0-2zm1 0zm0-2zm1 2zm2 4zm4-1zm2-1zm3-2zm13 5zm-25 1zm0 2zm-1-3zm0 7zm-1-1zm0-5zm0-1zm-1 0zm0 2zm0 1zm0 1zm0-1zm-1 1zm0 2zm-1-3zm0 3zm-1-2zm0 1zm-1 0zm0-4zm-1 5zm0-2zm-1 1zm0-2zm0-2zm-1 5zm0 0zm-1-4zm0 5zm0-6zm-1-1zm0 2zm-1-2zm0 6zm0-2zm-1 3zm0-2zm-1 1zm0-4zm-1 1zm0-1zm-1-2zm-1 0zm-1 5zm0-4zm0 3zm0 1zm0 2zm-1-6zm0 4zm-1-5zm-1 3zm0 4zm-6-1zm-5-5zm5 11zm8 2zm6-6zm0 2zm0 5zm1-1zm2-1zm0-3zm1 2zm1-2zm1 2zm2-2zm2-2zm0 6zm1-4zm1-1zm0 5zm1-6zm2 4zm2-1zm1 2zm1 1zm8-5zm5-1zm14 5zm22-1zm-19 7zm-17-3zm0 6zm-5-5zm-2-1zm-3 4zm-3 2zm0-3zm0-3zm-1 0zm-4 5zm0 2zm-3-3zm-5-2zm-4 5zm-21-6zm28 8zm11 2zm7 4zm0-4zm1 1zm0 2zm2 5zm-9 2zm-3 0zm10 8zm8-1zm6 5zm55 62z"/>
<path stroke="#32658e" d="M983 891zm-7 13zm5 40zm24 13zm-9 11zm23 10zm3-2zm5 0zm10 5zm5 1zm0-5zm-27 19zm33 2zm16 0zm-29 5zm-18 9zm36-3zm26 11zm-6-3zm-6 6zm-3-7zm-47 3zm3 7zm11 2zm15-1zm6 4zm78 2zm-92 5zm0-1zm-41 2zm11 6zm23-2zm20 4zm99-4zm-81 9zm-32-4zm0 7zm-28-3zm27 11zm35 0zm18-2zm16 2zm27 7zm-14-3zm-12 3zm-55-6zm-1 0zm-1 4zm-5-2zm-6 4zm-2-3zm-3 0zm-8 1zm-3-3zm-21 12zm9 2zm16-3zm3-2zm5-2zm35 3zm14 4zm4-3zm28 2zm18-4zm11 4zm-9 3zm-13 6zm-7-1zm-30-3zm-4 2zm-8-1zm-13 3zm-8-2zm-1 2zm-7-5zm-14 0zm-10 2zm-6 11zm8-1zm2-3zm49 3zm4 0zm2-4zm33 5zm1-6zm58-1zm147 13zm-150-2zm-40 4zm-20 0zm-22-4zm-12-2zm-2 3zm-1 2zm-12-4zm-7-2zm0 1zm-1 0zm-9 1zm-6 0zm-1 13zm10-3zm0-2zm3 5zm14-7zm10 0zm7 7zm3-5zm5 5zm4-3zm11-4zm9 0zm3 4zm2 3zm8-4zm2-1zm89 12zm-34 1zm-45-6zm-11-1zm-19 6zm-10-2zm-3 2zm-2 0zm-20-1zm0-4zm-7 4zm-1 0zm-16 0zm-7-5zm-6 3zm24 8zm5-1zm3 1zm8-2zm6 2zm0-1zm0 2zm4 1zm4-4zm2 6zm2-1zm9-3zm1-3zm3 3zm2-2zm3 0zm7 0zm2 1zm59 3zm4 2zm39 0zm26-1zm1-3zm-74 6zm-11 3zm-20 2zm-2 0zm-13 0zm-2-6zm0 2zm-16 5zm-6 0zm-5-4zm-1-1zm-3 2zm-5-1zm-2-3zm-7 4zm-10 1zm-4-3zm0 1zm-10-1zm-2-1zm-8 0zm-26 6zm7 6zm9-5zm22 3zm20 2zm0-4zm2-1zm2 4zm5-4zm4 0zm5 0zm0 1zm0 4zm2-2zm7 2zm2 2zm5-2zm14 1zm2-3zm16 0zm3 1zm8-2zm11 0zm48-2zm11 3zm57 2zm9-2zm3 3zm17 9zm-14-2zm-65-3zm-47 1zm-27 2zm-4 2zm-6-1zm-7-5zm-3 4zm-6-5zm-32 1zm0 2zm-2 2zm0 1zm-1-5zm-1 5zm-2-4zm-14-1zm-2 3zm-4-4zm-4 0zm-4 2zm-2 1zm-1-3zm-1 0zm-3 1zm-1 3zm-6-4zm-7 4zm-7-2zm-3 1zm-2-3zm9 10zm5 1zm1-1zm6 5zm1-1zm4-3zm3 2zm4 2zm2 0zm2-2zm5 1zm11-3zm6 0zm1-1zm2-2zm1 5zm4 1zm1 1zm0-4zm4 2zm4 1zm13-4zm0-1zm3 5zm0-5zm4-1zm5 6zm2-5zm18 3zm10-4zm13 2zm3-2zm150 4zm-67 11zm-6-2zm-5-5zm-60 1zm-23 3zm-5-3zm-11 0zm-15 1zm-4 1zm-5 0zm-7-3zm-25 0zm-5 7zm-18-4zm-6 1zm-9-1zm0 0zm-1-1zm-1 2zm-1 2zm-3-5zm-1 6zm-2-4zm-18 1zm0 4zm6 3zm6 1zm5-1zm4-2zm3 0zm3 5zm6 1zm3-1zm4-1zm1 1zm1-2zm1 0zm0 3zm0-7zm2 0zm0 6zm1-5zm1 4zm11 0zm16-1zm3 3zm9-7zm1 1zm2 2zm4-1zm0 3zm11-4zm3 2zm2 2zm0 1zm7-3zm50 0zm16 2zm-13 6zm-2 0zm-54-3zm-4 6zm-9-2zm-4-4zm-10 3zm-10 3zm-6 1zm-4-3zm-5-1zm-5 2zm-1 1zm0-2zm-2-2zm-3 5zm-1 0zm-1-1zm0-6zm-4 2zm-1 4zm-1-6zm-2 2zm-1 0zm-4 2zm-1 1zm0 1zm-3-4zm-2 1zm-2 0zm-2 1zm-2 0zm-32 3zm25 5zm2 0zm1 2zm0 1zm0 0zm4-3zm1 3zm4-4zm2-1zm1 4zm0-5zm1 6zm1-5zm1 1zm2-3zm1 6zm2 0zm1 1zm0-4zm0 2zm1-2zm1 4zm0-1zm1-4zm0-2zm1 6zm1 1zm0-7zm2 3zm0 4zm0 0zm1-6zm1 4zm1-1zm1 1zm1 2zm0-3zm1 1zm2 0zm1-4zm2 4zm1-2zm0 0zm13 4zm4-6zm1 2zm3 1zm2-3zm9 4zm5-5zm2 1zm9-1zm2 1zm14 4zm14-3zm43 2zm43 3zm5-1zm30-6zm-128 9zm-9 3zm-26 1zm-22-4zm-2 1zm-10 5zm-1-2zm-1-2zm0-3zm-1 3zm-1-1zm-1 2zm-1-4zm0 0zm-1 7zm-1-3zm0-4zm-1 7zm-1-4zm0 3zm0-4zm0 2zm-1 3zm0-6zm-1-1zm-1 6zm-1-2zm-1-4zm-2 3zm0 4zm0-3zm-2 3zm0-2zm-2-5zm0 7zm-4-5zm0 0zm-1 0zm-1 1zm0-1zm-2-1zm-5 0zm-2-1zm-2 4zm-5 2zm-3 0zm-9-3zm21 10zm4 0zm3-3zm1 4zm0-6zm0 2zm1 1zm1-2zm1 4zm0-5zm2 0zm1 1zm0 5zm0-1zm1-5zm1 5zm0-1zm0 2zm1-4zm0 4zm0-3zm2-2zm0 0zm1 3zm1-3zm0 1zm1 2zm0-2zm0 3zm1 0zm0-3zm1 3zm0 2zm1-2zm0 1zm0-5zm1 0zm0 0zm1 3zm0 2zm1-3zm1 1zm1 1zm0 1zm0-2zm0 3zm0 0zm0-7zm2 7zm0-4zm1 0zm2 4zm1-7zm1 6zm1 0zm1-1zm1-1zm0 1zm0-3zm2 2zm0-2zm1 4zm5-4zm2 2zm2 2zm0 1zm8-5zm26 5zm1-5zm26 8zm-45 3zm-19-2zm0 4zm-1 0zm0-2zm-1 2zm-1-7zm0 4zm-1-4zm-5 7zm0 0zm0-1zm-1-4zm0 1zm-1 3zm0 1zm0-4zm0-2zm-2 6zm0-7zm0 6zm-1 0zm-1-6zm0 5zm0 2zm0-1zm-2 0zm0-3zm0-1zm0 1zm-1-2zm0 2zm-1-3zm-1 5zm0 2zm0-1zm0-4zm0-1zm0 2zm0 2zm-1 2zm0-7zm0 6zm0-4zm-1 2zm0 0zm0-4zm0 7zm0-4zm0-2zm-1 5zm-1 1zm0-4zm-1-2zm0-1zm-1 6zm0-5zm0 6zm0-1zm-1-5zm-1 3zm-1-3zm-2 5zm-1-6zm0 2zm-1 5zm-1-3zm-5-3zm-4 4zm-1-2zm-2-3zm-2 14zm6-1zm0-1zm5-3zm2 4zm0-5zm2 6zm0-6zm1 4zm1 2zm2-4zm0 4zm1-4zm0 2zm1-4zm1 3zm0 4zm1-5zm0 2zm1-1zm0-1zm2 2zm0-4zm0 5zm0-3zm1-1zm0 4zm0-3zm0-1zm0 2zm0 2zm1 1zm0 1zm1 0zm1-3zm0-2zm1 0zm0-1zm0 1zm1 1zm0-3zm1 4zm0-4zm0 1zm0 5zm0-6zm0 7zm1-1zm0-6zm1 6zm0-2zm1-3zm0 1zm1 2zm0 3zm0-5zm0 0zm1 3zm1 0zm0-4zm2 5zm0 1zm0-4zm0 2zm0-5zm0 2zm1 3zm0-2zm0 1zm0 2zm0-2zm1-4zm0 5zm0 2zm0-7zm1 4zm0-3zm1 5zm1-6zm0 5zm1 0zm0 0zm0-5zm0 3zm1-1zm1 4zm1 1zm0 0zm1-7zm0 5zm2 2zm8 0zm3 0zm0 0zm3-1zm24-5zm61 2zm9 2zm-39 9zm-63-1zm-8-1zm0-2zm0 5zm-1-4zm0 1zm-1-4zm-1 2zm0 4zm0-3zm-1 1zm0-1zm-1 4zm0-7zm0 7zm-1-3zm0 3zm0-2zm0 1zm-1 1zm0 0zm0-1zm-1-2zm0 0zm0 0zm0 3zm0 0zm-1 0zm0-4zm0 3zm0-5zm0 0zm0 3zm0 0zm-1 3zm0-5zm0 0zm0 2zm0-1zm0-1zm-1-2zm0 6zm0-6zm0 5zm0-5zm-1 7zm0-4zm0-3zm0 1zm-1 1zm0 5zm0-5zm0 2zm0 1zm0 2zm-1-2zm0-2zm0 0zm0 2zm-1-4zm0 4zm-1 2zm0-6zm0 1zm0-2zm-1 7zm0-7zm0 3zm0 4zm0-4zm0 1zm0-1zm0 0zm0 3zm-1-6zm0 0zm0 4zm0-4zm-1 6zm0-3zm0 4zm0-6zm0 0zm0 5zm0-2zm-1 3zm0-5zm0 2zm0 1zm-1-2zm0 0zm-1-2zm0 3zm0 2zm0-2zm-1-4zm0 7zm-1-4zm0-3zm-1 3zm0 1zm0-3zm0-1zm-1 2zm0 1zm-2 3zm0-1zm-2-2zm-1-3zm-1 2zm0 4zm-1 1zm-2 4zm1-2zm4 2zm1 4zm0-7zm1 2zm0 4zm0 0zm1-4zm1 1zm0 3zm1-4zm0 4zm1-5zm1 5zm1-2zm0-3zm1-1zm0 5zm0-3zm0 1zm1 4zm0-7zm0 6zm0-6zm0 2zm0 1zm1 3zm0-3zm0-1zm1 3zm0-2zm0-1zm0 5zm1-6zm0 1zm0 4zm0-1zm1-4zm0 4zm0-5zm0 0zm0 0zm1 4zm0-4zm0 6zm1-1zm0-5zm1 1zm0 5zm0 0zm0-5zm0-1zm1 0zm0 6zm0 0zm0-1zm0-5zm0 7zm0-1zm0-4zm1 3zm0-4zm0 2zm0 3zm0-4zm1 1zm0 1zm0-3zm0-1zm0 1zm0 4zm1-1zm0 2zm0-2zm0-2zm0 4zm0-4zm0 2zm1-1zm0-3zm0 1zm0 3zm0-1zm0 3zm0-6zm1 3zm0-3zm1 7zm0-4zm0-3zm0 7zm0-6zm1 6zm0-4zm0 0zm0-3zm0 6zm0-6zm1 4zm0-2zm1 2zm0 0zm0 0zm0-4zm0 7zm0-2zm0 1zm1-5zm0 3zm0 1zm0 0zm1-5zm0 2zm0 1zm0 2zm0-2zm1 0zm0 2zm0-5zm0 5zm0-1zm1-1zm0 2zm0-3zm0 2zm1 0zm0-4zm2 0zm0 4zm0 0zm0-2zm0-2zm1 5zm2-1zm22-4zm2 2zm13-1zm-17 11zm-2 2zm-12 1zm-2-5zm-1 4zm-1-2zm-1 1zm-1-1zm-1 2zm0-1zm-1-5zm0 0zm-1 5zm0-4zm-1 5zm-1-3zm-1 0zm-1 2zm0-2zm0 1zm-1 1zm0-1zm0-1zm-1 0zm0-2zm0 2zm0 2zm-1 1zm0 1zm0-7zm-1 0zm0 1zm0 3zm0-1zm-1 1zm0 0zm0 3zm0 0zm0-5zm-1-2zm0 0zm0 4zm0-4zm0 5zm-1 0zm0 1zm0 1zm-1-5zm0 4zm-1-1zm0-4zm0 3zm-1 0zm0-4zm0 2zm-1 3zm0-2zm0-1zm0-2zm0 0zm0 1zm0 1zm-1-2zm0 0zm0 7zm-1-7zm0 2zm0 1zm-1 1zm0 1zm-1-2zm-1-3zm0 4zm0-4zm0 1zm-1 1zm0 3zm0-2zm-1-2zm-1 4zm-2-3zm-2 4zm-2 0zm-7 1zm-3-4zm-2-2zm-4-1zm-8 7zm29 3zm3 2zm2-2zm1 5zm1 0zm0-5zm3 1zm0 1zm2-4zm1 0zm0 6zm1-1zm0-1zm1 2zm0-6zm0 0zm1 2zm0 3zm1-5zm0 4zm0 0zm1 2zm0-5zm0 2zm0 3zm3-6zm0 1zm0 2zm0-2zm0 2zm2 1zm0 1zm0 1zm1-3zm1-3zm2 6zm0-5zm1 1zm1 1zm4 2zm0 2zm3-7zm2 7zm62-2zm-54 10zm-8-6zm-3 3zm-6-4zm0 4zm0 2zm0-6zm-2 1zm0-1zm-1 6zm-1-1zm0-3zm-2 2zm0 2zm0-2zm-2-3zm-5-1zm-18 5zm20 7zm3 1zm7-2zm2-1zm7 1zm3-3zm4 0zm7 7zm-7 1zm-5 6zm-1-5zm-3 3zm-3-4zm-3 7zm-28 7zm25 1zm16 0z"/>
<path stroke="#2a768e" d="M1006 933zm-49 9zm38 9zm5-4zm-8 9zm8 11zm29-7zm7 3zm-41 15zm18 0zm10-2zm37 12zm-5-1zm-18 0zm-19 0zm-19-3zm85 10zm12 12zm-68-1zm-2-4zm-38 1zm15 8zm9 1zm26 0zm25-3zm20 11zm-39 1zm-2-1zm-9 4zm-18 3zm6-1zm3 2zm14 1zm13-1zm34 8zm-27 3zm-35-5zm-2 2zm-3 2zm-13-3zm-5 10zm11-2zm5-2zm22 4zm22-3zm53 12zm-4-5zm-4 7zm-21-2zm-22 2zm-7-4zm-2 2zm-10 2zm-14 0zm-8-5zm-17-2zm69 11zm4-1zm0-2zm3 6zm19 1zm15-6zm46 10zm-20-2zm-36 2zm-19 3zm-3-6zm-33 6zm-7-1zm-2-3zm0 5zm-3-1zm-21 8zm20-3zm45 1zm6 0zm18 0zm44 11zm-10 0zm-16-2zm-25-4zm-6-1zm-15 1zm-2 1zm-8 5zm0-5zm-3 2zm-8 2zm-9-1zm-12-3zm-15 4zm-30 4zm27 3zm19 1zm6-3zm3 1zm19-4zm19 2zm4 4zm5-3zm4-3zm8 5zm1 2zm6-1zm2 1zm24-4zm2-1zm0-2zm-9 14zm-1-1zm-16-5zm-21 5zm-2-4zm-8 5zm-12-2zm0 0zm-18 0zm-16 11zm11-7zm17 6zm5-6zm1 6zm8-5zm3 2zm2 0zm2-2zm1 5zm32-4zm1-2zm7 3zm12 3zm1-2zm7-3zm25 2zm33-2zm67 11zm-110-1zm-29-1zm-2 4zm-1-4zm-4 5zm-4-2zm-12-3zm0-1zm-2 5zm0-6zm-4 7zm-4 0zm-10 0zm-1-3zm-14 3zm-1-7zm-2 1zm0 3zm0-3zm-4 6zm-4 0zm-1-6zm-1 4zm0 2zm-11-4zm-6-3zm-3 1zm-5-1zm-1 5zm-2 6zm6-3zm15 6zm18-5zm4 0zm3 1zm20 2zm1-4zm16 7zm0 0zm6-1zm29-2zm2 0zm6 0zm10 3zm186-1zm-35 4zm-40 2zm-61 1zm-2-1zm-46-3zm-12 4zm-32 1zm0-2zm-6 1zm-1 1zm-3 1zm-4-6zm-11-1zm-19 5zm-8-2zm-9 1zm-1 3zm-5 0zm-30-5zm-12 5zm0 7zm18 0zm17 0zm2-1zm10 0zm11-5zm1 6zm5 0zm2-6zm4 1zm0 4zm1-4zm6 1zm17 0zm6-2zm3 5zm40 0zm40-2zm35 3zm46 6zm-21 3zm-2 0zm-59-5zm-32 2zm-14-4zm-9 4zm-10-4zm-1 0zm-11 6zm-5 1zm-2-2zm-10-3zm-5 4zm-5 0zm-6 1zm0-2zm-11 2zm-7-3zm-5 3zm-5-3zm-5 2zm-6-4zm-2 2zm-25-4zm12 10zm5 4zm11 1zm2-5zm0 2zm3-2zm4 0zm1 3zm0-3zm2 4zm3 1zm0-1zm4 1zm8-6zm4 0zm1 1zm9 4zm3 1zm5-6zm0 2zm4 3zm1-4zm4 5zm6-5zm5-1zm5 5zm5-5zm27 0zm5 4zm115 0zm7 1zm20 2zm-149 4zm-10 1zm-33 1zm0-6zm-6 5zm-5-4zm0 5zm-11-1zm-16-2zm-10-1zm-1 3zm-2 1zm-4-1zm-1-4zm-3 0zm-2 6zm-1-6zm-4 0zm-2 4zm-12 0zm3 8zm3-5zm1 0zm1 1zm0 3zm7 3zm1-7zm9 4zm3 0zm2 1zm1-4zm2 6zm5 0zm2-5zm2 2zm0-1zm19-3zm10 2zm6 4zm0-3zm18 0zm10 4zm2-6zm1 4zm15-4zm3 3zm13 1zm165 2zm-10 4zm-9 2zm-39 0zm-40 2zm-13-6zm-37 2zm-41 0zm-5-3zm-6 2zm-4 3zm-7-5zm-4 2zm-5 0zm-9 4zm-18 1zm-2-4zm-5 4zm-3-1zm-3 1zm-1-1zm-2 1zm-1-1zm-2-6zm-2 3zm-1 1zm0-4zm-3 7zm-1-7zm0 1zm0 0zm-2 2zm0-2zm0 3zm-2-3zm-2-1zm-5 5zm-4 2zm-6-3zm-4-2zm-7-1zm26 13zm3 0zm1-2zm0-3zm1 4zm2 1zm3-1zm1 2zm1-4zm2 2zm0 1zm1-6zm5 5zm2-3zm2 1zm1 4zm0-1zm1-4zm0 2zm10 2zm1-3zm1-1zm19 1zm2 3zm11-4zm1-2zm7 0zm0 6zm9-3zm67-3zm3 4zm16-4zm18 2zm4 4zm-15 7zm-1-4zm-97 2zm-7-1zm-14 0zm-6 3zm-12-3zm-1 4zm-4-2zm-3-3zm-2-1zm-3 0zm-3 1zm0 6zm-4-5zm0 0zm0 2zm-1-2zm-2 1zm-2 2zm-4-5zm0 5zm-1 0zm0-5zm-1 0zm0 1zm-2 2zm-1-3zm0 4zm0 3zm-1-4zm0 4zm-1-6zm-2 0zm-3 3zm0-4zm-2 3zm-3 4zm0-2zm-1-3zm-1 2zm-6 2zm-4-3zm-15 6zm25 3zm7-3zm2 0zm2 4zm0-2zm3-2zm3-1zm0 6zm1 1zm0-5zm0 5zm1-7zm1 0zm1 7zm2-5zm0 1zm0-3zm0 0zm2 0zm1 7zm0-2zm1-3zm0-2zm0 2zm0 3zm0 2zm1-4zm0 2zm1-2zm0 3zm2 1zm0-3zm0 2zm0 1zm0-1zm0 0zm2-1zm1-5zm0 4zm0 3zm1 0zm0-7zm0 7zm0-3zm1 3zm0-5zm0 5zm1-6zm0 4zm1-2zm0 0zm1 1zm4-3zm0 1zm3-2zm1 2zm1 4zm2-4zm6 4zm1-2zm4-3zm5 5zm3 1zm9-3zm7 3zm22-2zm2-2zm102 10zm-17-4zm-6 1zm-29 3zm-21-5zm-25 6zm-28-4zm-7 5zm-9-3zm-3-1zm-9 3zm-3-2zm0-4zm-3 6zm0-3zm-2 2zm0-2zm0 2zm-1-2zm-2 0zm-1 3zm-1 0zm0 1zm-2-5zm-1 5zm-1-1zm0-4zm0 1zm0 4zm0-5zm-1 0zm0 1zm-1 0zm0-1zm-1 5zm0-3zm0 3zm-1-6zm0 1zm0 2zm0-4zm-1 0zm0 2zm0 5zm0-1zm0 1zm-1-7zm-1 5zm0-2zm0-1zm-1-1zm0 2zm0 1zm0-4zm0 6zm-1 0zm0-6zm-1 4zm0 3zm-1-7zm-1 0zm0 7zm-1-5zm-1 5zm0 0zm0-1zm-1-4zm0 0zm-1 5zm0 0zm-1-1zm-1-6zm0 2zm-3-1zm-1 4zm-2-4zm0 2zm0 0zm0 0zm-1-1zm0 2zm-2-3zm-8 6zm-3-7zm7 11zm2-1zm7-2zm0 3zm2 0zm3 2zm0 0zm1-2zm0 3zm0-4zm0 4zm0-5zm0 1zm1 2zm0 0zm0-1zm1-2zm0 6zm1-4zm0 2zm0-3zm1 3zm0 0zm0 0zm1-2zm0-2zm0 2zm0-1zm0 0zm0 0zm0-1zm1 3zm1 1zm0 0zm0-4zm0 2zm0 3zm0 0zm1 1zm0-3zm0-2zm0 1zm1 2zm0 2zm0-2zm0-1zm1-4zm1 5zm0-2zm0-2zm1-1zm0 1zm0 6zm0-1zm0 1zm1-3zm0 0zm0-1zm0 4zm1-1zm0 1zm0-2zm1 0zm0-3zm0 1zm0-1zm0 3zm1 2zm0-3zm0-4zm1 2zm1-1zm0 2zm0 3zm0 0zm0 0zm1-2zm0 1zm0-2zm0 4zm0-2zm1 2zm2-4zm0 4zm0-7zm2 4zm0 1zm1 0zm0-1zm0 2zm1 1zm1-3zm1-2zm0 0zm1 1zm0-2zm0 2zm1 3zm0 0zm1-2zm0-1zm0 0zm2 2zm2 1zm13 0zm3-5zm6 4zm121 7zm-131 3zm-7-1zm0-2zm-2-2zm0 3zm-2 2zm-1-1zm-1-4zm-1 1zm0-3zm-2 7zm0-7zm-1 4zm0 1zm-1 1zm-1-3zm0-3zm-1 1zm0 3zm0-4zm-1 4zm0 2zm0 1zm0-6zm-1 1zm0 0zm0 3zm-1-3zm0 4zm-1 1zm0-1zm0 0zm-2-5zm0 5zm0-5zm0 6zm0 0zm0-5zm-1 1zm0 0zm0 3zm0-2zm0-4zm-1 5zm0-1zm0-4zm0 7zm0-1zm0-2zm0-4zm-1 3zm0 0zm0 2zm0-4zm0 1zm-1 0zm-1 1zm0 3zm0 1zm-1-2zm0-4zm0-1zm-1 6zm-1 1zm0 0zm0-7zm0 4zm-1 0zm0-4zm0 3zm0 4zm-1-6zm0 6zm0-5zm0 5zm-1 0zm0-6zm0-1zm0 3zm-2 2zm0-3zm0-1zm0 0zm0 3zm0 2zm-1 0zm-1 1zm-2-7zm0 6zm-1-3zm0 4zm0-3zm-2-2zm-1 0zm0-1zm-1 4zm-1 2zm-1-7zm-1 1zm-2 4zm-6-4zm1 7zm2 5zm6 1zm0-2zm1-3zm1 1zm2 2zm3-3zm3 4zm0-3zm1 0zm1-1zm0 0zm1 3zm0-2zm0 2zm1 0zm0 3zm0-6zm1 4zm0-2zm0-2zm0 3zm0-4zm1 7zm0-2zm0-3zm1 3zm0-4zm0 6zm1-5zm0-2zm0 6zm0 0zm1-2zm0-1zm0 1zm0 1zm1-5zm0 7zm0-2zm1-4zm0 1zm0 4zm0 1zm0-4zm0 3zm0 1zm1-4zm1 4zm0-5zm0 4zm1-3zm0 0zm0 3zm0-6zm1 6zm0-4zm0 4zm1-2zm0-4zm1 3zm0 1zm0 3zm0-7zm1 7zm0-2zm0-5zm0 5zm0-4zm1 4zm0-3zm0 5zm0-4zm0 3zm0-6zm1 2zm0 2zm0-4zm0 2zm1 3zm0 1zm0 0zm1-6zm0 4zm0 0zm0 3zm1-3zm0-4zm0 1zm0 5zm0-2zm0 1zm0-3zm1 5zm0-3zm1-2zm1 2zm1-1zm0-2zm0 4zm1-4zm0 0zm1 0zm0 0zm0 4zm0-4zm1 5zm1-4zm2 1zm0 2zm2-3zm11 4zm9-5zm130 3zm-52 11zm-2-3zm-53 0zm-19 2zm-7 0zm-6 1zm-2-6zm-11 3zm-2 1zm0-5zm-1 6zm0 0zm0-2zm0 2zm0-3zm0-2zm-1 2zm0-2zm0 2zm0-3zm-2 7zm0-7zm-1 3zm0-1zm0-1zm-1 4zm0 0zm-1-5zm0 2zm0-1zm0 5zm-1-6zm0 1zm0 1zm0-2zm0 1zm-1 2zm0-2zm0-1zm0 1zm0 2zm0 0zm-1-3zm0 7zm0-1zm0-5zm0 4zm0 2zm-1-7zm0 0zm-1 5zm0 1zm-1 1zm0-1zm0-1zm0 0zm0-3zm-1 0zm0 0zm-1 4zm0-4zm-1 1zm0-1zm0 2zm-1 0zm0-1zm0 3zm0-5zm-1-1zm0 0zm0 3zm0-1zm0 0zm-1-1zm0 3zm0-3zm-1 6zm0-6zm-1 1zm-1 1zm-1-3zm0 0zm0 4zm-1-3zm0-1zm-4 1zm0 1zm0 2zm-1 1zm0-3zm-2 5zm0-1zm-2 0zm-13-3zm1 5zm10 5zm2-4zm3-1zm2 4zm3-1zm0 0zm1-2zm1-1zm0 3zm1 1zm0-1zm1 1zm2-2zm0 3zm1 1zm0-1zm0-2zm0-3zm1 0zm1 5zm1-5zm0 0zm3 5zm0-5zm0 3zm0 3zm1-1zm2-3zm0 0zm0-2zm1 5zm0 2zm0-6zm0 4zm0-1zm1 1zm1-2zm1-2zm0 2zm0-3zm1 5zm0-3zm1 1zm2 1zm1 1zm1-3zm1 1zm0 3zm3 1zm1-3zm60-2zm-33 10zm-1 2zm-13-2zm-1-4zm-8 2zm-1 4zm-3-5zm-1 3zm0-4zm-1 6zm-3 0zm0 0zm0-4zm0 4zm-1-5zm-1 5zm-1-2zm0 1zm-2 2zm-1-3zm-2-2zm0 2zm0 1zm0-1zm-4-2zm-2-2zm-1 2zm-1 3zm-3 1zm-3-4zm-5-2zm-5 3zm0 1zm16 4zm4 5zm12 1zm1-1zm2 0zm4-2zm9 4zm12 4zm-5-3zm-1 5zm-16-1zm-1 2zm0-6zm-13 7zm14 3zm0 6zm4 29z"/>
<path stroke="#24878e" d="M993 908zm7 12zm-28 5zm33 14zm-3 17zm14 8zm14 12zm21 15zm-71-7zm33 10zm14 1zm12 25zm-45 0zm0 7zm11-3zm60 15zm-35-5zm-1-1zm63 7zm-1 13zm-13-4zm-29 0zm-27 3zm-7-1zm-23 9zm30 3zm21-2zm9 0zm18 0zm3 0zm28 2zm46-6zm-40 9zm-10 3zm-9-4zm-20 2zm-34 3zm-6 6zm4-1zm17 1zm5 0zm1 3zm31-5zm15 2zm4-1zm1 0zm19 4zm1 0zm2 5zm-23 0zm-14 3zm-38-6zm-16 1zm-9 8zm23 4zm30-5zm2 0zm3 3zm5-4zm11 6zm4 0zm7-6zm9 4zm42 2zm-37 6zm-1 3zm-22-4zm-2-1zm-16 1zm-15-3zm-27 5zm6 8zm8 2zm12 0zm3-5zm3 2zm3-4zm17 6zm2-5zm1-1zm45 7zm4-2zm2 2zm211-7zm-49 15zm-100-6zm-70-1zm-20 5zm-9 2zm-7-2zm-2-3zm0 2zm-11-2zm0-2zm-7 6zm-11 0zm-1-3zm-1-2zm-8-1zm-1 4zm-7-3zm-10 3zm-25 11zm16-1zm24-2zm2 3zm1-4zm22 1zm2 0zm1-2zm8-2zm21 0zm1 0zm16 5zm3-5zm5 4zm6-1zm25 0zm106 12zm-56-7zm-78 0zm-10 7zm-2-5zm-11 5zm-2-4zm0 0zm-63-1zm-2 4zm-10-5zm-3-1zm-8 1zm-2 5zm-30 4zm48 4zm7-4zm3 5zm3 0zm6-2zm2 2zm4-6zm15-1zm6 5zm4 0zm15 2zm2-5zm26 4zm10 0zm18 1zm31 0zm43-7zm42 10zm-12-2zm-3 0zm-1 6zm-140-6zm-16 0zm-1 7zm-9-5zm-11-1zm-3 2zm0 4zm-6-3zm-9-2zm-7 4zm-6-5zm-18 1zm-6 3zm-10-2zm-14 1zm24 5zm10 3zm4-1zm4 0zm17 3zm21-4zm4-1zm5 0zm10 3zm5-2zm5-1zm3 2zm4 4zm1-5zm4-1zm44 2zm7 3zm21-5zm7 14zm-47-5zm-18-2zm-6 3zm-15 0zm-13-1zm-33 0zm-1-2zm-8 3zm-4 2zm-2-3zm-15-2zm-1 5zm-1-2zm-8 2zm-17-4zm-9 12zm1-5zm30 4zm8 1zm1-2zm7-1zm8 2zm31-3zm7-1zm6 7zm13-4zm7 0zm100-3zm37 1zm47 9zm-54-2zm-26 1zm-8 1zm-19 4zm-4-1zm-88 0zm0-3zm-36 5zm-10-5zm-8 5zm-3-3zm-7-4zm-4 7zm-5-1zm-5-1zm-14-5zm0 3zm-11 3zm16 5zm7-3zm4 1zm6 3zm4 2zm4 0zm1 0zm3-1zm3-3zm1 3zm0-3zm1-2zm4 6zm5-2zm3-2zm1 4zm4 1zm3-2zm10 0zm30 2zm8-5zm45 5zm9-4zm6 0zm1 4zm0-2zm-44 4zm-5 3zm-23 0zm-37 1zm-1-3zm0 4zm-8-2zm-1-3zm-2 4zm0 1zm0-1zm-1 2zm-1-4zm-1-3zm-1 6zm0 1zm-3-2zm0-4zm-2 4zm-2 0zm0-2zm-3 3zm0 1zm-4 0zm0-1zm-3-5zm-3 6zm-1-1zm-4 1zm-6-7zm11 12zm1 0zm3 1zm2 2zm1-4zm0 0zm0-2zm6-1zm1 5zm2-3zm6 3zm3 2zm0-5zm1-2zm1 7zm0-4zm2 0zm1-1zm1-1zm0 4zm2 2zm1-2zm0 1zm2-2zm2 0zm2 0zm0-4zm3 6zm0-5zm1 6zm0-3zm1-3zm1 2zm6 4zm25-7zm11 3zm88 8zm-67 1zm-56 3zm-5-1zm-4 1zm0-5zm-3 4zm-2-4zm-2 3zm-3 1zm-2-3zm-2 4zm-1-5zm0 5zm0-6zm0 4zm-1 1zm-2-5zm0 0zm-1 4zm0 2zm-1-2zm0-3zm0 4zm-1 0zm-1-5zm-2-1zm0 3zm-1 3zm-1-3zm-2-1zm-1-1zm-1 5zm-1-6zm0 4zm-1-2zm-3 2zm-9 1zm0-3zm-6 13zm8-2zm2-4zm0 1zm4 4zm0-4zm4 0zm0 0zm3 0zm0-1zm1-1zm3 0zm1 1zm1 6zm1-2zm1-5zm2 6zm1-3zm2-1zm0 5zm0-1zm1-5zm0 0zm1 6zm1-5zm1-1zm0 1zm2 4zm0-6zm1 3zm0-2zm1 1zm0 0zm1-1zm1 6zm0-3zm0-2zm0 0zm0 2zm2-4zm2 7zm2-7zm1 4zm0 1zm1 2zm1-4zm1 3zm7 1zm8-1zm14-3zm-18 6zm-2 2zm-7 4zm0-3zm0 2zm-1-6zm-2 2zm-1 0zm0 2zm-1 0zm0 3zm0-3zm0 2zm-1-2zm0-3zm0 5zm0-4zm-1 4zm0 0zm0-2zm0 0zm-1-4zm0 3zm-2 2zm0-2zm0 4zm0-2zm-1 0zm0 0zm0-3zm0 2zm-1 2zm0-4zm0-2zm0 7zm-1-6zm0 0zm0 1zm-1 5zm0-4zm0-1zm0-1zm0 0zm-1 1zm-1-2zm-1 2zm0 5zm-1 0zm-1-4zm-2-3zm0 3zm-2-2zm-2 0zm0 2zm-3-2zm0-1zm-1 4zm-1 2zm-4-5zm-3 3zm-4-3zm-7 5zm-15 2zm22 4zm9-1zm1-3zm1 0zm2 0zm1 2zm1 4zm1-3zm1 2zm1-5zm0 0zm4 1zm3-1zm0 2zm2-2zm0 2zm0-1zm1 1zm1 0zm0-2zm0 7zm0-6zm1 2zm1-1zm0 3zm0-5zm1 7zm1-6zm0 3zm1-3zm0 6zm0-4zm1 3zm0-3zm0 4zm1-4zm0-1zm1 1zm1-3zm0 4zm1 3zm0-5zm0 5zm0-2zm1-1zm0 3zm0-2zm0 2zm1-4zm0-2zm1 2zm0 0zm1 2zm0-5zm2 3zm0 0zm1-1zm2 2zm1 3zm1-6zm2 3zm0-1zm1-1zm3 2zm27-3zm-14 9zm-7 3zm-5 2zm-5-2zm-2-5zm-2 2zm0 1zm-1 3zm0 1zm0 0zm-1-3zm-1 1zm-1-5zm0 1zm0 1zm0-2zm-1 0zm0 5zm-1 0zm0-4zm-1 3zm0-3zm-1 6zm0-2zm-2-5zm0 1zm-1 6zm0-4zm0-1zm-1 4zm0-3zm-1 1zm0-3zm0-1zm-1 3zm-1-1zm-1-2zm0 4zm0 2zm-1-6zm0 0zm0 0zm0 0zm-1 0zm-2 5zm0 0zm-1 2zm0-7zm-2 7zm-1-1zm0 0zm-3-3zm-2 4zm-1-4zm-3 4zm-3-4zm-7-3zm-1 6zm-5-4zm11 11zm3-4zm2 0zm3 5zm5-6zm1 4zm0-4zm3 4zm1-1zm2-3zm0 4zm0 0zm2 3zm0-6zm1 6zm1-2zm1-1zm1-3zm4 2zm0 1zm1-4zm1 1zm0 3zm0 1zm1 0zm2-4zm0 0zm0 2zm1-3zm0 7zm1-1zm1 1zm1 0zm3-5zm4 1zm1 1zm4-2zm5 1zm-1 11zm-9 0zm-9-3zm-2-2zm0 0zm-1 4zm-3 1zm-2-6zm-3 1zm-1 0zm-1 1zm-5-2zm-10 3zm-8-2zm13 10zm13-2zm21 5zm1-6zm11 2zm-11 12zm-2-5zm5 8zm27 2zm-15 11zm-38 27zm40 10z"/>
<path stroke="#1f998a" d="M1021 990zm-15-6zm18 9zm24 3zm-62 13zm47 2zm-3 15zm97 0zm56 5zm-132 3zm-15 2zm79 10zm-10 4zm11 13zm-51 12zm41 4zm13 3zm-35 3zm-27 1zm-29 7zm34 0zm7 0zm4-1zm74 0zm13 8zm-9 1zm-77 2zm-47-2zm-10-5zm42 14zm19 0zm61-5zm17 5zm2-5zm-30 13zm-30-6zm-37 2zm-7 3zm-5 1zm-2 7zm45 2zm4-5zm10-2zm3 4zm2 3zm12-6zm112 14zm-77-1zm-16 1zm-1-4zm-13 4zm-8-2zm-17-4zm-3-1zm-28 0zm-1 1zm-17 1zm57 9zm10 2zm5-3zm29 1zm112 4zm25 2zm-10 0zm-122 5zm-75 0zm-11-1zm-17-2zm-7 1zm-3 0zm-4 1zm-3-4zm-6 5zm20 5zm2 0zm60-1zm177-2zm-188 13zm-17-2zm-57 3zm12 7zm5 1zm20 1zm45-5zm84 2zm168 0zm-121 5zm-18 0zm-98 4zm0-5zm-24 2zm-10 3zm-49-3zm0 2zm-30-1zm29 12zm6-3zm11 1zm0 2zm4-3zm1 3zm1-6zm3 4zm14 0zm7-4zm6 6zm27-4zm79 12zm-4-7zm-73 2zm-42 2zm-2 1zm-4-2zm0 4zm-8-7zm-1 7zm-6-7zm-4 0zm-9 0zm-12 0zm25 15zm2-6zm4 4zm13 0zm1-1zm1 0zm61 3zm1 4zm-50 1zm-8 0zm-4-3zm-6 2zm-3-1zm0 0zm-4-2zm-1 6zm-4-5zm-8 3zm-1 2zm-7-1zm0 5zm4 1zm3-2zm5-1zm4 4zm1 2zm0 0zm9-3zm2-1zm4 4zm3-5zm0 0zm3 3zm2-2zm2 3zm4-4zm9-1zm13 9zm0 0zm-2 2zm-8-3zm-9 7zm0-3zm0 2zm-1-6zm0 5zm-1 0zm0 0zm0-1zm-3-1zm0 0zm0 1zm-1 2zm-2-1zm0-1zm-1-3zm-3 2zm-1-3zm-1 7zm-9-3zm-6-2zm-18 1zm13 5zm3 2zm5 4zm4-4zm1-1zm1 5zm6-6zm0 2zm1 1zm0-2zm1 5zm1 0zm0-3zm4 3zm0-4zm0 1zm2 3zm2 1zm1-3zm1-4zm1 1zm3 0zm0 3zm2 2zm2-5zm1 4zm2-4zm1 6zm1-7zm5 0zm-2 12zm-1-3zm-1 2zm-3-3zm-6 6zm-1 0zm-2-3zm0 4zm0-3zm-1 2zm-4-1zm-2-5zm-5 5zm-1 1zm-1-1zm-2 1zm-4-1zm-1 2zm-3-7zm-9 7zm-14-2zm18 4zm5 6zm15-5zm2 4zm2-5zm3 1zm3 0zm4 0zm0 0zm3 2zm11-3zm0 4zm10-4zm34 9zm-61 4zm-13-5zm-5 0zm-7 0zm-3 2zm2 7zm7 5zm25-7zm2 4zm12-2zm11-2zm-19 8z"/>
<path stroke="#24aa83" d="M976 961zm61 60zm65 5zm-12 8zm-13 3zm2 22zm-23 18zm7-4zm85 12zm-56 9zm-54 12zm65 2zm-17 16zm26 2zm17 2zm-15 7zm-70 4zm45-3zm1 0zm26 3zm1 2zm72 5zm-29 0zm-93 11zm38 9zm90 2zm5 9zm-72 3zm-74 2zm-8 2zm1 2zm22 0zm6 10zm-10-3zm-17 11zm7 2zm20-1zm21 1zm-21 7zm-28 3zm202 10zm-29 3zm-109 0zm-14 1zm-17-1zm-16-3zm-16 1zm38 7zm21 1zm2 1zm3-2zm0 6zm-2 5zm0-4zm-5 5zm-6 0zm-9-1zm-16 8zm1-1zm15-2zm8-2zm12 1zm3 1zm4 1zm3 4zm3 0zm9-3zm-10 6zm-7 0zm-1 1zm-3 2zm-1 2zm-3-2zm0 0zm-6-3zm-12 1zm34 8zm9 1zm2-3zm52 0zm-75 13zm-3-2zm-13-2zm28 8zm28 13z"/>
<path stroke="#3aba76" d="M1115 1102zm-65 32zm74 41zm12 3zm-94 12zm9 26zm40 19zm27-1zm-16 21zm2 0zm9-2zm11 10zm-4-4zm-7 2zm-1-1zm0-2zm-8 2zm27 19zm-3-5zm0 0zm-6 17zm33 11z"/>
<path stroke="#5ec962" d="M1038 1177zm49 52zm32 15zm-13-4zm-14 7zm8 1zm6 1zm6-1zm2 5zm5 2zm12 0zm-5 7zm-2 1zm0-2zm-4-5zm-3 1zm-1 5zm-12-2zm-1-2zm10 7zm3 5zm3-5zm1 1zm3 5zm10-5zm-6 12zm-1-4zm-2-2zm-4 0zm-2 1zm-7 12zm15 1z"/>
<path stroke="#89d548" d="M1031 1239zm81 5zm-2 2zm-12-3zm-1 9zm4-2zm3-2zm8 7zm1-4zm8-3zm2 3zm3 11zm-1-5zm-3-1zm-1 5zm-8-5zm-2 6zm-15-4zm15 7zm2 1zm11-2zm2 6zm8 0zm2-5zm-10 8zm-36 7zm53 18z"/>
<path stroke="#b8de29" d="M1114 1220zm-1 20zm-3 2zm-5 13zm1-7zm2 6zm8-5zm0 1zm12 0zm6 9zm0 3zm-35 0zm10 8zm8-6zm1 5zm16-2zm-10 7zm3 9z"/>
<path stroke="#e7e419" d="M1114 1245zm-10 1zm-19 4zm5 3zm1-3zm10 3zm7 1zm1-5zm0 0zm1-1zm0 1zm1 1zm3 2zm2 3zm21-2zm-3 6zm-11 4zm0-6zm-4 6zm-5-5zm-1 1zm-2 3zm-8 1zm-6 3zm16 4zm9-3zm5 1zm1 0zm15 8zm-14 1zm-10 0zm3 6zm10 0zm5 4zm14 20z"/>
</g>
<g fill="none" stroke="#000" stroke-width="1" shape-rendering="crispEdges">
<rect x="35.5" y="32.5" width="316" height="292"/>
<rect x="455.5" y="32.5" width="316" height="292"/>
<rect x="35.5" y="397.5" width="316" height="291"/>
<rect x="455.5" y="397.5" width="316" height="291"/>
</g>
<rect x="355.5" y="397.5" width="9" height="291" fill="url(#vg)" stroke="#000" stroke-width="1" shape-rendering="crispEdges"/>
<rect x="365" y="687.95" width="4.8" height="1.1" fill="#000"/>
<rect x="365" y="626.95" width="4.8" height="1.1" fill="#000"/>
<rect x="365" y="565.95" width="4.8" height="1.1" fill="#000"/>
<rect x="365" y="504.95" width="4.8" height="1.1" fill="#000"/>
<rect x="365" y="443.95" width="4.8" height="1.1" fill="#000"/>
<rect x="775.5" y="397.5" width="9" height="291" fill="url(#vg)" stroke="#000" stroke-width="1" shape-rendering="crispEdges"/>
<rect x="785" y="687.95" width="4.8" height="1.1" fill="#000"/>
<rect x="785" y="626.95" width="4.8" height="1.1" fill="#000"/>
<rect x="785" y="565.95" width="4.8" height="1.1" fill="#000"/>
<rect x="785" y="504.95" width="4.8" height="1.1" fill="#000"/>
<rect x="785" y="443.95" width="4.8" height="1.1" fill="#000"/>
<circle cx="372.4" cy="165.4" r="4.95" fill="#1f77b4"/>
<circle cx="372.4" cy="192.4" r="4.95" fill="#ff7f0e"/>
<circle cx="792.4" cy="165.4" r="4.95" fill="#1f77b4"/>
<circle cx="792.4" cy="192.4" r="4.95" fill="#ff7f0e"/>
</svg>
<div id="tx">
<div class="t ttl" style="left:35px;top:8px;">sample</div>
<div class="t ttl" style="left:35px;top:371.8px;letter-spacing:.75px">pct_counts_mt</div>
<div class="t ttl" style="left:455px;top:8px;">sample</div>
<div class="t ttl" style="left:455px;top:371.8px;letter-spacing:.75px">pct_counts_mt</div>
<div class="t xl" style="left:35px;top:329px;">PC1</div>
<div class="t xl" style="left:35px;top:694.3px;">PC1</div>
<div class="t xl" style="left:455px;top:329px;">PC3</div>
<div class="t xl" style="left:455px;top:694.3px;">PC3</div>
<div class="t yl" style="left:10px;top:329.2px;">PC2</div>
<div class="t yl" style="left:10px;top:692.5px;">PC2</div>
<div class="t yl" style="left:430px;top:329.2px;">PC4</div>
<div class="t yl" style="left:430px;top:692.5px;">PC4</div>
<div class="t lg" style="left:384px;top:155.5px;">s1d1</div>
<div class="t lg" style="left:384px;top:182.5px;">s1d3</div>
<div class="t lg" style="left:804px;top:155.5px;">s1d1</div>
<div class="t lg" style="left:804px;top:182.5px;">s1d3</div>
<div class="t tk" style="left:374.5px;top:679.5px;">0</div>
<div class="t tk" style="left:374.5px;top:618.5px;">20</div>
<div class="t tk" style="left:374.5px;top:557.5px;">40</div>
<div class="t tk" style="left:374.5px;top:496.5px;">60</div>
<div class="t tk" style="left:374.5px;top:435.5px;">80</div>
<div class="t tk" style="left:794.5px;top:679.5px;">0</div>
<div class="t tk" style="left:794.5px;top:618.5px;">20</div>
<div class="t tk" style="left:794.5px;top:557.5px;">40</div>
<div class="t tk" style="left:794.5px;top:496.5px;">60</div>
<div class="t tk" style="left:794.5px;top:435.5px;">80</div>
</div>
</body></html>
